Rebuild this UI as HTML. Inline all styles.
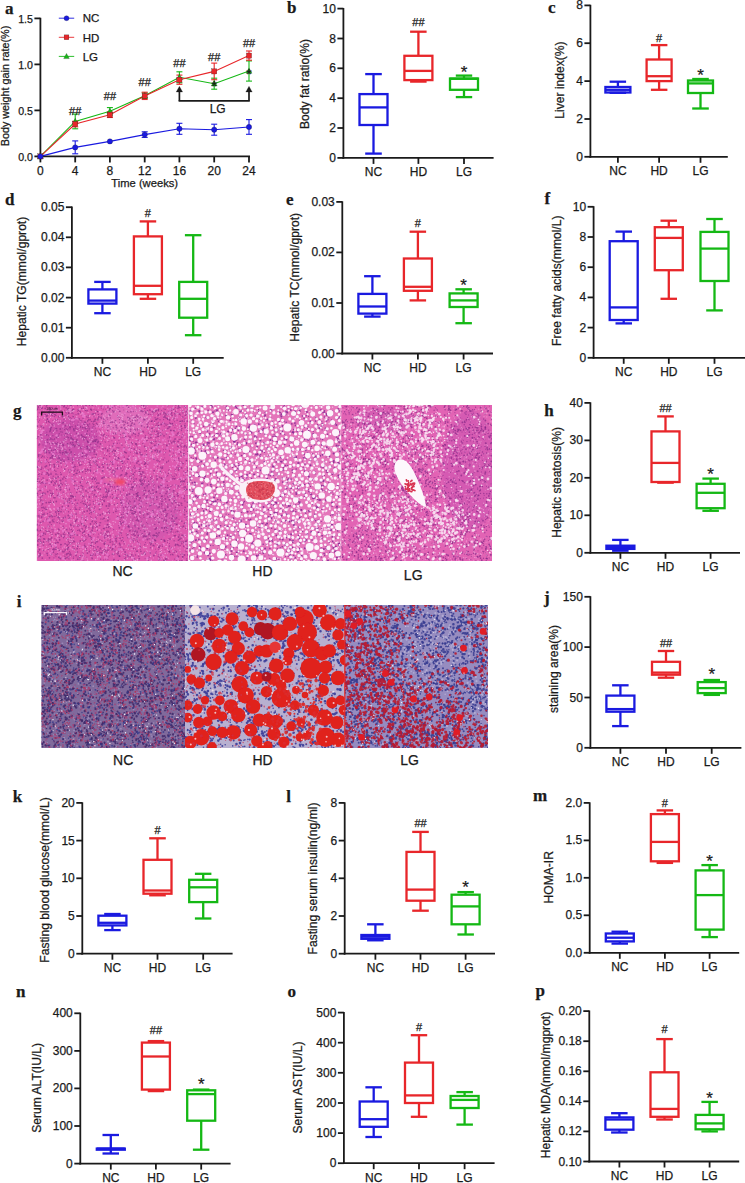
<!DOCTYPE html>
<html><head><meta charset="utf-8"><style>
html,body{margin:0;padding:0;background:#fff;width:745px;height:1183px;overflow:hidden}
svg{display:block}
</style></head><body><svg width="745" height="1183" viewBox="0 0 745 1183"><defs><filter id="soft" x="0" y="0" width="100%" height="100%"><feGaussianBlur stdDeviation="0.55"/></filter><filter id="soft2" x="-5%" y="-5%" width="110%" height="110%"><feGaussianBlur stdDeviation="1.6"/></filter><clipPath id="cgn"><rect x="36.6" y="405.0" width="151.9" height="156.0"/></clipPath><clipPath id="cgh"><rect x="188.5" y="405.0" width="152.5" height="156.0"/></clipPath><clipPath id="cgl"><rect x="341.0" y="405.0" width="151.0" height="156.0"/></clipPath><clipPath id="cin"><rect x="41.2" y="605.0" width="143.8" height="143.0"/></clipPath><clipPath id="cih"><rect x="185.0" y="605.0" width="159.7" height="143.0"/></clipPath><clipPath id="cil"><rect x="344.7" y="605.0" width="143.3" height="143.0"/></clipPath></defs><g clip-path="url(#cgn)" filter="url(#soft)"><rect x="36.6" y="405.0" width="151.9" height="156.0" fill="#de58ae"/><g filter="url(#soft2)"><ellipse cx="70" cy="440" rx="30" ry="22" fill="#b848a8" fill-opacity="0.45"/><ellipse cx="125" cy="420" rx="25" ry="14" fill="#e290d0" fill-opacity="0.35"/><ellipse cx="150" cy="510" rx="30" ry="30" fill="#c452b0" fill-opacity="0.35"/></g><path fill="none" stroke="#822a84" stroke-width="1" stroke-linecap="round" stroke-opacity="0.6" d="M175.8 405.4h0m-0.2 2h0m-1.9 -1.8h0m-16.2 0.2h0m-13.9 0.4h0m-10.8 1.1h0m-13.6 0.1h0m-3.5 0.4h0m-19.7 -1.4h0m-13.2 -0.3h0m-15.3 -0.2h0m-5 -0.7h0m-0.8 -0.1h0m-1 2.1h0m-3.8 -0.2h0m-1.6 0.6h0m-9.2 -1.2h0m-1.5 -1.4h0m-6.4 1.5h0m-1.3 3.8h0m2.2 2.4h0m0.9 -3.4h0m2.4 4.4h0m7.1 0.2h0m4.3 -2h0m2.5 1.2h0m8.4 -2.8h0m1.4 2.3h0m2.6 0.1h0m0.1 0.4h0m4.5 0.8h0m4.4 -2.5h0m7.4 -0.7h0m2.3 -0.1h0m3.2 -1.1h0m3.4 -0.2h0m3.3 2.2h0m5.9 -1.8h0m2.1 -0.4h0m12.9 0.5h0m5.6 0.2h0m5.1 2.4h0m4 -2.4h0m2.7 1.5h0m9.9 0.5h0m7.6 -0.7h0m0.5 2.5h0m2.5 -3.8h0m1.4 3.2h0m0.7 -2.7h0m0.3 0.4h0m3.2 -0.4h0m2.2 -1.7h0m6.9 5.1h0m0.5 0h0m0.3 -5h0m3.8 4.3h0m1.7 0h0m0.9 -0.1h0m4.2 -0.9h0m3 6.7h0m-1 0.2h0m-3.8 -3.9h0m-5.8 3.5h0m-0.9 1.2h0m-15.1 -5.4h0m-2.6 5.2h0m-4.6 -1.6h0m-0.7 -3.6h0m-3.1 4.4h0m-2.9 0.7h0m-0.1 -4.9h0m-7.3 4.3h0m-1.2 -2.4h0m-1.9 0.5h0m-2.2 -1.7h0m-3.2 4.3h0m-4.1 -4.8h0m-14.7 0.3h0m-2.3 4.2h0m-3.9 -0.9h0m-2.5 -4h0m-0.1 1.8h0m-6.1 2.9h0m-0.3 -3.3h0m-0.9 0.9h0m-5.4 2.4h0m-1.6 -1.5h0m-8.1 0.6h0m-2 -0.2h0m-0.8 -3.6h0m-1.8 0.6h0m-3.8 2.6h0m-12.1 -1.5h0m-0.8 3.2h0m-4.7 -3.4h0m-6.7 -0.5h0m-2.3 3h0m-6.1 -1.8h0m-0.8 2.9h0m1.5 2.4h0m1.1 -1.7h0m0.7 5.1h0m3.1 -1h0m6.3 -1.9h0m1.1 0.4h0m1.2 1.1h0m0.9 -3.4h0m0.5 3.4h0m6.3 -1.8h0m2.5 1.1h0m6.7 1.9h0m2.1 -3.8h0m1.9 0.7h0m1.8 -1.3h0m3.6 1.2h0m2.1 -1.4h0m1.4 0.1h0m0.9 3.4h0m1.3 0.1h0m8.5 -0.5h0m3.2 2.1h0m1.4 -5.4h0m6.8 1.6h0m1.9 -1.1h0m19.8 0.2h0m3.5 -0.7h0m3.3 2.1h0m6.3 0.7h0m3 0.6h0m1.1 -1.3h0m0.6 -1.5h0m4.2 3h0m1.6 -2.7h0m3.4 -0.5h0m0.6 4.1h0m1.3 -3.3h0m2.5 2.2h0m0.1 1h0m0.1 -1.5h0m12.3 -1h0m3.7 3.2h0m1.3 -3.8h0m1.1 3.2h0m4.5 -3.2h0m1.5 4.2h0m3.6 -0.7h0m0 -1.7h0m2.9 5h0m-5.9 0h0m-1.1 -2.3h0m-6.1 1.4h0m-1.6 3h0m-3 -0.3h0m-6.1 -3.9h0m-10.2 1.8h0m-4.9 -1h0m-2.4 4.3h0m-9.4 -0.9h0m-2.2 -0.1h0m-3.1 -3.2h0m-11.3 0.3h0m-3 0.6h0m-1.4 0.8h0m-5.5 0.6h0m-14.3 1.5h0m-1 -2.9h0m-2.9 -1.1h0m-0.5 1.2h0m-0.4 2.9h0m-2.6 -1.1h0m-0.1 -3h0m-0.6 -0.8h0m-0.7 4.3h0m-0.6 -2.1h0m-7.1 -2.3h0m-2.7 3.3h0m-2 -2.4h0m-2.8 -0.2h0m-0.7 -0.3h0m-2.4 0.6h0m-0.6 1.5h0m-4.1 -2.4h0m-0.7 1.1h0m-2.8 4.4h0m-0.9 0.1h0m-6.7 -1.1h0m-2.8 -1.4h0m-12.2 7.2h0m8.2 -4.4h0m1 2.5h0m0.8 1.1h0m3.3 -3h0m9.8 2.2h0m5.9 1.7h0m3 -1.4h0m10.8 2.6h0m8.1 -2.4h0m0.2 -1.5h0m2.2 3h0m2.8 0h0m1.6 -0.5h0m4.2 1.2h0m6.2 -1.9h0m0 1.5h0m1.6 -1.5h0m4.8 -2.9h0m0.4 3.6h0m0 -3h0m1.4 0.8h0m7.2 3h0m6.3 -4.1h0m5.2 -0.2h0m2 3.7h0m8.2 -4.4h0m1.7 3.1h0m2.5 2h0m9.6 -3.6h0m5.2 0.5h0m12.9 0.8h0m3.7 0.4h0m1.9 1.8h0m5.6 3.3h0m-12.7 -0.6h0m-6.3 -1.9h0m-7.8 4.1h0m-3.3 -1.1h0m-0.9 0.8h0m-0.3 -2h0m-0.2 1.4h0m-2.4 1.9h0m-1.9 -1.7h0m-0.1 0.5h0m-14.8 1.7h0m-1.2 -0.9h0m-9.7 -2.1h0m-5.5 2.4h0m-0.9 -2.6h0m-7 0.2h0m-3.1 0.9h0m-3.2 0.6h0m-0.7 -0.4h0m-2.4 -0.7h0m-12.8 -2.5h0m-3 1.2h0m-1.1 1.7h0m-1.7 -1.2h0m-0.5 -1.7h0m-6.5 4.4h0m-0.1 -1.5h0m-7.8 -1.6h0m-5.6 1.4h0m-1.2 0.9h0m-4.7 0.3h0m-2.9 -3.8h0m-0.1 0.7h0m-4.9 4.4h0m-0.5 -5h0m-3 3.4h0m-1.2 0h0m-6 4.8h0m4.1 -2h0m2.8 3.8h0m0 -2.7h0m12 1.2h0m1.4 0.3h0m8.8 -2.9h0m3.6 0h0m0.8 0.9h0m1.9 -0.5h0m1.2 0.2h0m0.9 0.9h0m2.1 -1h0m4.2 0.6h0m2 2.2h0m4.3 1.5h0m2.9 -1.4h0m0.7 -0.1h0m3.4 -3.5h0m1.7 1.7h0m4.5 -0.4h0m7.1 -0.5h0m10.6 2.6h0m2.3 1.4h0m13.5 -5.1h0m1 1.5h0m11 1.9h0m3.6 0.9h0m5.3 0.9h0m6.8 0.2h0m0.5 -5h0m1.5 4.7h0m1 -0.5h0m0.3 -3.7h0m17.5 6h0m-0.2 -1.1h0m-0.1 3.6h0m-6.5 -3.6h0m-2.3 5.6h0m-2.5 0.3h0m-7.1 -3.3h0m-1.5 2.2h0m-2.8 -2.7h0m-26 1h0m-0.5 -0.7h0m-4.2 -0.1h0m-11.5 -1.2h0m-3.7 -0.6h0m-0.1 0.6h0m-5.6 2.5h0m-3.1 1.9h0m-1.9 -0.3h0m-1.6 -2.3h0m-2.2 -1.9h0m-4.5 4.2h0m-13.5 -1.2h0m-1.6 1.7h0m-2.3 -1.3h0m-0.6 1.1h0m-7.4 -2.4h0m-3.7 0.3h0m-2.5 0.3h0m-0.7 -1.4h0m-0.9 0.1h0m-0.6 2.2h0m-5.7 -1.9h0m-3.1 2.5h0m-0.3 -2h0m-1.4 1.4h0m-7.4 -1.7h0m-0.5 -1h0m-5.7 8.1h0m0.3 -1.6h0m0.1 3h0m0.5 -1.5h0m7.1 -3.5h0m1.3 1.2h0m3.2 -0.1h0m1 -1.5h0m1.9 3.2h0m1.6 -0.3h0m4.2 -0.2h0m2.5 0.5h0m0.6 -0.1h0m4.7 -1.7h0m1.4 0.1h0m4.1 0.3h0m6.2 2h0m1 1.4h0m5.4 -0.1h0m0.4 -2.8h0m0.5 -2.1h0m7.4 1.6h0m0.3 3.4h0m1.4 -3.9h0m5.7 0.3h0m4.5 0.7h0m4.8 3.2h0m1.4 0.2h0m4 -4.9h0m0.5 -0.3h0m1.6 3.9h0m0.5 -2.9h0m5.6 -0.3h0m0.3 4.7h0m0.2 -4.8h0m3 4.8h0m0.6 -2.5h0m5 -2.9h0m1.7 4.1h0m2.4 0.8h0m6.8 0.1h0m0.3 -1.9h0m3 1.7h0m2 -5.3h0m1.6 2.2h0m5.4 2.4h0m0.8 -1.4h0m4.8 0.6h0m2.8 -1.9h0m3.7 3.5h0m0.2 -1h0m3.8 -4.2h0m7.4 5h0m1.8 0.7h0m4.4 -1.4h0m-8.3 6.8h0m-0.5 -2.2h0m-31.7 -1.5h0m-12.3 4h0m-0.5 -5.6h0m-2.3 1h0m-4.7 0.8h0m-1.5 3.1h0m-1.9 -0.1h0m-2.3 1h0m-0.2 -2.4h0m-0.9 2.2h0m-23.2 -3.4h0m-4.7 1.4h0m-0.9 -1.6h0m-6.1 -1.5h0m-4.2 1.9h0m-2.7 2.2h0m-2.3 -2h0m-2.1 -0.1h0m-0.2 -1.4h0m-11 4h0m-2.8 -0.7h0m-0.4 -1.4h0m-0.1 1.3h0m-6.3 -1.4h0m-12.6 8.8h0m2.8 -1.4h0m0.9 -3.7h0m7.9 4.4h0m6.9 -4.5h0m2.5 4h0m7.7 -0.6h0m8 1.6h0m1 -4.3h0m1.1 0.7h0m6.9 1.2h0m0.2 2.3h0m26 -5.3h0m6 0.2h0m6.6 0.8h0m7.4 4.1h0m0.7 -4.3h0m0.4 1h0m8.8 2.3h0m2.7 -0.3h0m1.1 1.2h0m8.7 0.1h0m3.5 -4.5h0m8.5 3.5h0m2.9 -1.4h0m0.5 -1.3h0m5.9 4.1h0m8.7 -2.4h0m1.5 2.1h0m3.2 2.9h0m-0.4 -1h0m-2.1 3.1h0m-5.8 0.2h0m-3.6 -3.3h0m-0.4 -0.6h0m-0.4 3.6h0m-1.7 0.6h0m-2.4 -3.5h0m-5.4 1.4h0m-0.4 3.1h0m-2.4 -2.2h0m-0.6 1.7h0m-3.1 -2.3h0m-2.3 1.5h0m-0.1 0.8h0m-0.4 -2.6h0m-0.3 2h0m-0.6 -2.6h0m-5.5 3.5h0m-3.4 -1.3h0m-1.9 -1.7h0m-1.1 -1.3h0m-2.2 -0.3h0m-0.2 3.6h0m-2.4 -2.9h0m-5.3 2.9h0m-0.7 -1.2h0m-0.2 -2.9h0m-5 4.5h0m-1 -2h0m-0.8 -1.9h0m-1.6 1.1h0m-2.6 -1.3h0m-7.1 2.7h0m-0.8 -2.5h0m-18 4.1h0m-6.2 -1.1h0m-5.4 1h0m-3.5 -2.4h0m-5.2 -0.9h0m-9.2 0.6h0m-8.9 -1.6h0m-7.5 2h0m-8.6 2.8h0m-4.4 1.7h0m1.2 -0.4h0m11.1 3.3h0m3 -3.7h0m0.5 1h0m4.6 2.5h0m1.4 0.8h0m0.6 -3.5h0m1.6 3.6h0m1.9 -1.9h0m4.7 1.2h0m10.7 1.1h0m2 -2.3h0m5.9 0.3h0m6.2 -2h0m2.9 0.1h0m2.1 4.3h0m7.7 -2.2h0m2.9 0.6h0m2.3 -3.6h0m0.6 4.3h0m3 -4.2h0m16.4 0.8h0m4.1 -0.6h0m9.9 -0.5h0m4.1 1.6h0m5 3.8h0m1 -0.9h0m7.4 0.2h0m0.5 0.5h0m10 -0.3h0m9.1 -0.5h0m1.6 -0.7h0m0.4 -2.6h0m1.1 -1.1h0m2.6 3.8h0m0.4 0.2h0m-3.8 2.7h0m-0.9 0.8h0m-8.2 3.2h0m-5.7 -1.4h0m-19.8 0.8h0m-2.2 -2.5h0m-1.2 -1.8h0m-6.6 0.8h0m-6.6 3.2h0m-0.7 -2.3h0m0 1.9h0m-6.5 -2.1h0m-2.4 1.3h0m-7.9 2.7h0m-1.2 -3.5h0m-1.6 -0.9h0m-0.3 -0.7h0m-0.6 4.3h0m-1.8 -0.8h0m-3.6 1.1h0m-7.3 0.8h0m-4 -0.8h0m-1.7 -0.7h0m-1 -3.8h0m-3.5 1.1h0m-5.4 1.4h0m-0.3 1.1h0m-3.3 1.4h0m-10.5 -2.9h0m-2.2 1.4h0m-6.7 0.4h0m-1.1 -3.1h0m-0.4 2.7h0m-7.7 0.9h0m-8.7 -1.2h0m-3.9 1.1h0m3.7 2.3h0m3.4 0h0m0.1 1.1h0m3.7 0.9h0m1.5 1.2h0m1.4 -2.3h0m8.9 0.6h0m5.9 -0.7h0m15.7 -0.4h0m8.4 0.2h0m1.5 -0.5h0m0.6 3.6h0m0.5 -1.6h0m4.9 -3.1h0m1.6 3.3h0m3 -0.7h0m3.4 -0.1h0m5.7 -0.4h0m1.7 2.4h0m3.7 -0.9h0m0.4 -1.1h0m2.3 -1.8h0m0.4 2.6h0m1 -0.9h0m1.8 1.6h0m2.6 1.7h0m6.1 -2h0m1.7 1.9h0m1.6 -3.9h0m1.9 2.1h0m5.4 -0.5h0m1.3 -1.8h0m3 1.5h0m3.7 -1.5h0m1.3 3.2h0m9.6 -4.7h0m2.4 3.7h0m8.1 1h0m1.3 0.1h0m3.2 -2.4h0m0.9 1.9h0m3.7 1.3h0m2.9 -1.8h0m2.9 5.9h0m-7.2 0.9h0m-1.2 -0.4h0m-4.6 -1.8h0m-0.3 1.2h0m-4.8 -1.5h0m-1.2 3.3h0m-2.1 -2.1h0m-8.7 -2.3h0m-0.5 0.4h0m-3.2 1.3h0m-1.7 1.8h0m-5.8 -3.9h0m-4.4 2.1h0m-9.6 -2.4h0m-2.6 2.3h0m-1.3 1.9h0m-0.8 -3.7h0m-0.8 2.1h0m-2.7 2.3h0m-1 -3.3h0m-0.8 -0.2h0m-1.2 3h0m-0.2 -3.6h0m-0.1 1.2h0m-9.7 0.1h0m-6 -0.6h0m-6.2 -1.8h0m-8.5 4.9h0m-2.5 -0.6h0m-0.6 -3h0m-4.9 3.7h0m-3.9 -3h0m-1.8 0.1h0m-22.8 1.7h0m-3.3 -1.5h0m-5.2 -0.5h0m-5 1.5h0m-3 1.7h0m8.3 5.7h0m0.6 0.7h0m2.8 -2.3h0m8 1.5h0m2.8 -1.1h0m0.2 0.5h0m10.6 1.3h0m4.2 -5.2h0m0.4 5h0m0.9 -3.7h0m0 3.2h0m1.8 -3.6h0m24.3 -0.1h0m0.5 -0.9h0m0 0.5h0m0 -0.6h0m7.7 0.7h0m5.1 3.3h0m1.9 -0.5h0m10 1.7h0m1.3 -2.7h0m0.4 -2.3h0m1.8 3.6h0m9.6 0h0m7.1 1.6h0m3.3 -5.2h0m10.8 2.5h0m0.5 1.7h0m0.1 -2.9h0m2.8 3.8h0m2.8 -4.6h0m0.2 1.3h0m0.1 -1.8h0m3 1.7h0m2 -1.9h0m5.2 0.7h0m0.5 0.5h0m6 1.8h0m2.9 -0.9h0m0.5 6.9h0m-13.9 -1.1h0m-2.9 2.7h0m-2.5 -4.6h0m-7.3 4.3h0m-12.5 -1.5h0m-0.6 1.3h0m-8.1 -1h0m-5 -1h0m-8.1 -1h0m-3.4 -1.2h0m-0.5 4.3h0m-0.1 -1.8h0m-5.3 -1.5h0m-19.8 2.8h0m-3.3 -1.1h0m-3.2 0h0m-0.4 1.4h0m-8.4 1.5h0m-0.1 -2.6h0m-17.6 2.9h0m-1.3 -4h0m-7.4 1.7h0m-4.9 1.9h0m-1.6 -0.5h0m-4.1 -4.8h0m-6.5 0.3h0m-1.5 10.7h0m1.5 -4h0m2 0.8h0m2.2 -1.4h0m5 5h0m2.1 -5.3h0m1.6 5.6h0m0.8 -2.5h0m1.2 -0.3h0m5.3 0.7h0m1.7 0.4h0m1.7 -1.1h0m0.5 1.9h0m12.2 0h0m0.5 -4.3h0m6.3 0h0m0 2h0m1.5 0.1h0m6.6 -2h0m1.3 0.9h0m3 3.7h0m1 -4.3h0m0.6 4.5h0m8.7 -0.5h0m1.9 -0.1h0m2.9 -1.9h0m10.1 -1.8h0m0.2 -0.8h0m0 2.9h0m1.6 0.8h0m8.7 -3.4h0m1.9 3.4h0m0.6 -1.2h0m1.2 -1.6h0m3 3.4h0m0.2 -2h0m1.4 2.5h0m0.8 -5h0m1.2 1.2h0m1.2 1.4h0m4.4 -1.7h0m1.7 -1h0m5.5 -0.2h0m1.9 0.6h0m3.2 3.2h0m5.7 -0.7h0m1.5 0.6h0m0.6 -0.9h0m3.2 -0.7h0m6.1 1.2h0m3.2 0.1h0m5.9 -1.8h0m3 1.6h0m-3.2 3.7h0m-0.7 0.7h0m-1.8 4h0m-0.6 -1h0m-3.7 -3.5h0m-28.4 2.5h0m-1.1 -1.3h0m-0.8 -0.5h0m-1.1 -1.2h0m-4 4.1h0m-2.2 -2h0m-7.9 3.2h0m-3.4 -1.8h0m-0.9 0.9h0m-2.8 -4h0m-3.2 2.9h0m-3.7 -0.2h0m-19 -3h0m-3.9 4.7h0m-15.1 -5.3h0m-4.3 3.6h0m-3.8 -2.7h0m-22.8 3.2h0m-1.4 -1.2h0m-8.8 0.3h0m-2.4 0h0m3.5 5.3h0m0.1 -0.1h0m0.5 -1h0m2.9 3.6h0m1.7 -2.4h0m0.1 -2.4h0m3.3 0.1h0m1.4 4.1h0m1.2 -4h0m1.8 1.4h0m4.8 -1.5h0m0.8 2.4h0m0.7 -1.1h0m7.4 1.3h0m2.6 -2.2h0m0.3 1.2h0m1.9 3.2h0m1.4 0.3h0m1.3 -1h0m4.4 -2.8h0m1.3 1.8h0m3.2 0.8h0m2.3 -3.1h0m6.7 2.1h0m2.6 0.6h0m6.6 -1.9h0m3.9 3.5h0m1.5 -3.2h0m0.4 1.9h0m1.7 0.5h0m1 -4h0m15.9 5.1h0m3.1 -2.6h0m0.5 -0.4h0m3.1 0.4h0m0.2 -1.1h0m3.8 3.8h0m0.2 -3h0m3.7 -0.3h0m23.1 1.3h0m10 0.2h0m1.6 0h0m10.3 3.5h0m-11.7 0h0m-3.3 3.8h0m-1.8 -0.9h0m-5.6 -1.6h0m-6.7 0.5h0m-0.2 -1.6h0m-1.3 3.9h0m-2.7 -1.6h0m-1.8 -2.2h0m0 1.3h0m-0.9 -2.5h0m-3.4 1.5h0m-1.8 -1h0m-9.1 0.3h0m-2.2 3.5h0m-1.9 -4.6h0m-0.1 4.9h0m-9.5 -4h0m-2.4 -0.2h0m-2.2 0.9h0m-0.2 1h0m-1.4 -0.8h0m-4.9 0.7h0m0 -1.3h0m-1.2 0h0m-2.1 0.3h0m-3.4 -0.4h0m-5.5 -1.4h0m-5 0.2h0m-4.8 0.5h0m-1.6 3.1h0m-1.2 -1.3h0m-3.4 -1h0m-9.6 0h0m-2.5 1.9h0m-9.9 -2.6h0m-17.4 -0.3h0m-0.4 -0.5h0m-2.8 5.5h0m-1.8 -5.1h0m-0.7 1h0m2.4 5.7h0m8.5 3.8h0m12.7 -0.8h0m0.2 0.4h0m4.1 -0.6h0m1.3 0.8h0m0.8 1h0m1.6 -4.7h0m2.1 -0.7h0m1.1 2.6h0m0.8 -0.5h0m12 1.3h0m0.5 -3.4h0m8.5 1.9h0m7.8 -1.8h0m0.8 0.5h0m10.1 4.1h0m0.2 -1.2h0m0.3 0.6h0m1.4 0.2h0m5.2 -1.7h0m2.9 -2.9h0m11.2 2h0m1.9 -1.9h0m4.1 4.5h0m0.1 -4.6h0m0.6 4.1h0m4.9 -1.6h0m6.8 -0.1h0m3.2 -1.8h0m0.1 3h0m3 2.2h0m3.6 -1.3h0m3.4 -3.4h0m2 1.3h0m2 1h0m7.3 0.8h0m1.4 0.8h0m2.1 0.4h0m2.5 -4.1h0m2.7 1.4h0m2.7 2h0m-1.1 3.7h0m-1 3.1h0m-0.1 -0.5h0m-1.9 -4.3h0m-0.5 -0.8h0m-0.2 0.3h0m-8.2 4.3h0m-1.6 0.8h0m-1.9 -4h0m-2.6 -0.6h0m-0.6 2.3h0m-3.4 0.5h0m-4.7 1.8h0m-2.1 -1.9h0m-2.1 2.2h0m-0.6 -2.5h0m-14.9 -1.6h0m-0.2 2h0m-4.2 1.7h0m-2.4 -4.4h0m-0.1 2.1h0m-5.6 -3h0m-7.9 2.8h0m-7.4 -0.3h0m-2.6 0.5h0m-1.4 0.6h0m-3.5 -1.4h0m-0.4 2.9h0m-2.2 -0.9h0m-0.6 0.1h0m-1.3 -0.9h0m-3.2 2.4h0m-0.4 -0.1h0m-1.9 -3.7h0m-2.2 0.4h0m-3.3 1.7h0m-10.3 -2.1h0m-1.7 -1.7h0m-17.1 0.9h0m-1.2 3.1h0m-0.9 -2.1h0m-4.7 2.6h0m-0.3 -2.5h0m-3.8 0.6h0m-6.6 1.3h0m-4.2 -0.1h0m0.6 5.8h0m14.2 1.8h0m1.2 -1.9h0m0 -2h0m0.9 2.9h0m8.9 -1.6h0m6.2 1h0m2.6 0.7h0m3.4 0.3h0m2.8 0.1h0m0.6 -1.4h0m1.7 -3.6h0m2.3 4.4h0m2.4 0.7h0m4.9 0h0m5 -4.4h0m0.6 0.9h0m2.8 1.1h0m8.2 1.9h0m0.8 -1.4h0m3.6 -1.1h0m3.4 -0.7h0m2 2h0m1.1 0.4h0m6.1 1.3h0m20 -3.9h0m14.1 4h0m3.9 -2.8h0m3.1 2.1h0m5.5 -2.6h0m1.1 1h0m4.3 0.2h0m0.8 0.8h0m2.2 -1.9h0m2 3.9h0m-5.7 0.5h0m-10.5 -0.6h0m-17.6 0.6h0m-0.1 2.2h0m-0.6 -0.2h0m-2.8 -2h0m-10.3 0.1h0m-8.9 -0.7h0m-11.4 1.3h0m-0.7 1.3h0m-5.9 -1.1h0m-2.4 -0.3h0m-2 0.7h0m-21.6 0.2h0m-13.9 -2.1h0m-2.5 0.2h0m-11.3 0.7h0"/><path fill="none" stroke="#822a84" stroke-width="1.4" stroke-linecap="round" stroke-opacity="0.6" d="M184.6 406.5h0m-5.9 1.4h0m-11 -1.9h0m-26.2 -0.4h0m-12.9 1.9h0m-5.3 -0.1h0m-8.5 -1.5h0m-3.8 1.9h0m-7.5 0h0m-20 -0.7h0m-3.9 -1.8h0m-2.1 0.3h0m-6.1 -0.4h0m-6.9 0.5h0m-0.2 -0.7h0m-23.9 0.6h0m-0.4 -0.2h0m8.6 6.3h0m3.9 -3.6h0m4 0h0m4.6 2.4h0m7.2 0.2h0m2 0.3h0m0.4 0.8h0m0.3 -1.5h0m1.3 -0.7h0m9.3 -1.1h0m1.7 -0.1h0m2.4 2h0m0.1 -2.4h0m1 2.9h0m4.1 -1.9h0m4.3 4.5h0m0.9 -3.4h0m5.4 -2h0m8.4 0h0m2.7 2.5h0m14.8 1.2h0m5.9 -0.2h0m3.2 -3.2h0m3.6 2.4h0m2.2 0.9h0m5.4 -0.9h0m12.4 3h0m3.6 0.1h0m1.5 -4.5h0m3 3.5h0m0.2 -1.2h0m5.4 -2.7h0m1.7 2.3h0m7.5 1.7h0m-8.1 2.9h0m-7.3 3.3h0m-2.6 -3.7h0m-1.4 4.1h0m-3.2 -5.5h0m-0.4 5.6h0m-4.9 -1.9h0m-2.7 -2.6h0m-5.9 2.9h0m-2.6 0.9h0m-0.1 0.5h0m-4.2 -0.2h0m-1.7 -0.2h0m-2.5 -1.6h0m-3.7 0.9h0m-0.4 -0.1h0m-11.3 -0.4h0m-0.5 1.7h0m-1.8 -3.5h0m-7.3 1.8h0m-3.4 -0.1h0m-3.1 1.7h0m-2.3 -1.6h0m-0.1 0.6h0m-0.7 -1h0m-2.5 -3.1h0m-9.6 5.5h0m-0.6 -4.6h0m0 2h0m-1.5 -1.3h0m-3.6 2.4h0m-0.9 -3.3h0m-2.8 3.9h0m-4.3 -0.5h0m-3.5 0.4h0m-2.3 -0.5h0m-0.2 -1.1h0m-0.5 -1.1h0m-3.3 -1.1h0m-1.1 4.3h0m-0.7 -4.2h0m-0.3 1.7h0m-4.2 0.1h0m-3 -1.5h0m-1.5 1.1h0m-7.2 2.6h0m-1.6 -4.6h0m-1.1 -0.2h0m1.7 6.4h0m0.2 1.4h0m2.3 -0.5h0m4.2 3.3h0m10 0.7h0m6.9 -1.8h0m5.6 2h0m2.3 -0.7h0m6.5 -0.9h0m1.5 -1.5h0m3 -2.8h0m0.9 3.9h0m1.8 -2.5h0m6.1 3.2h0m10.5 0.8h0m1.2 0.5h0m4.8 -3.5h0m5.9 0.1h0m2 -1.2h0m0.3 0.7h0m0 -1.6h0m1.4 4.7h0m1 -0.4h0m0.8 -2.1h0m2.8 2.9h0m2.4 -4.1h0m1.1 1.8h0m0.5 0.2h0m0.2 -3.1h0m2.9 0.4h0m1.8 0.1h0m2.6 2h0m7.4 1.9h0m1.3 -1.9h0m2.9 -1.4h0m3.3 -0.3h0m1.3 4.5h0m2.5 -0.1h0m3.6 -1.4h0m0.9 -1.2h0m3 1h0m0.2 1.4h0m1.8 -0.9h0m2.2 -1.1h0m2.5 0.1h0m4.5 -3.2h0m3.2 2.9h0m3.9 -1.8h0m2.9 -0.3h0m1.2 5.1h0m-6.7 0.2h0m-0.1 4.3h0m-0.3 -1.6h0m-2 0.4h0m-4.3 1.3h0m-1 0h0m-4.9 -4.1h0m0 1.1h0m-6 2.5h0m-7.3 -3.3h0m-1.3 4.3h0m-7.1 -4.4h0m-2.9 0.2h0m-3.3 3.5h0m-0.8 -0.5h0m-9.7 1.2h0m-0.3 -5.2h0m-17.1 1.8h0m-2.9 0h0m-2.7 -0.3h0m-5 -0.7h0m-4.4 -0.6h0m-4.3 0.1h0m-4.7 2.5h0m-1.8 2.4h0m-2.6 -3.5h0m-6 -1.3h0m-3 2.1h0m-2.1 0.6h0m-3.5 -0.2h0m-2.8 0.9h0m-1.3 -1.1h0m-1.6 0.9h0m-1.9 -1.1h0m-5.7 2.2h0m-1.6 -1.7h0m-5.4 2.5h0m-0.1 0.2h0m-7.8 -5.5h0m-4.3 10.7h0m15.2 -1.1h0m6.3 -2.1h0m3.1 -1.6h0m1.9 3.4h0m2.4 1.6h0m0.9 -3.2h0m0.5 -1.3h0m1.7 0.9h0m6.1 3h0m0.6 -3.2h0m2.5 2.5h0m4.8 0.8h0m17.8 -1.6h0m4.5 2h0m0.1 0h0m7.7 0.6h0m6.5 -3h0m0.7 3h0m3.1 -4.3h0m0.1 4.1h0m4.5 -1.3h0m3.4 -1.1h0m6 0.7h0m10.3 -2.6h0m1.8 1.7h0m5.7 2.5h0m0 -3.3h0m2.3 -1.8h0m0.4 4h0m1.6 -4h0m1.4 1.5h0m4.7 0.3h0m3.1 2.7h0m0.2 1.2h0m7.2 -2.7h0m2.1 -2.7h0m3.3 4.4h0m0.5 -2.7h0m0.7 1.4h0m-1.5 7.4h0m-1.1 -3.7h0m-1.5 0.1h0m-4.1 3.7h0m-4.5 -2h0m-2.3 -0.1h0m-9.6 -0.2h0m-5 0.8h0m-3.5 0.4h0m-1.4 -3.6h0m-5.3 0.7h0m-0.8 4.7h0m-4.6 -3.6h0m-9.2 -0.5h0m-3.3 -1.4h0m0 3.8h0m-8.4 1.1h0m-13.9 -4.3h0m-7.9 2.5h0m-1.6 -0.2h0m-5.6 1.6h0m-0.3 -0.3h0m-0.6 -1.5h0m-3.5 -1.8h0m-6.1 4.6h0m-6.1 -4.3h0m-1.1 -0.6h0m-5.5 0.9h0m-0.7 -0.8h0m-4.1 4.6h0m-7.3 -3.8h0m-1.3 -0.8h0m-1.5 -0.9h0m-2.5 4.4h0m-10.8 -3.9h0m13.3 9.1h0m6.9 -1.6h0m1.9 -0.3h0m11.4 1.5h0m2.8 -2h0m5.1 -1.3h0m8.6 2.5h0m3.7 -1.9h0m8.7 2.3h0m8.4 2.9h0m1.5 -1.6h0m3.1 0.9h0m4.8 -1.4h0m1.4 0.3h0m3.5 -2.8h0m6.1 0.2h0m0.8 -0.2h0m2.7 3.4h0m0.6 -4.6h0m5 3.9h0m13.7 0.1h0m1.4 -1.1h0m3.7 -1.2h0m3.5 -1.6h0m8.3 4.3h0m1.3 -4.4h0m8.3 2.2h0m3.8 0.5h0m5 0h0m0.6 1.1h0m-7.8 6.2h0m-5.5 -3.8h0m-0.2 2.9h0m-3.8 2.1h0m-14.5 -4.3h0m-1.4 3.7h0m-7.2 -3.9h0m-1.6 0.4h0m-7.7 2.6h0m-0.9 -2.7h0m-7.8 -1h0m-3 2.5h0m-2.2 2.7h0m-8.3 0.3h0m-4.8 -4.6h0m-14.3 5h0m-1.7 -1.7h0m-7.2 0.3h0m-1.1 1.3h0m-1.5 -0.3h0m-9.7 -1.3h0m-3.4 0.4h0m-2.3 -1h0m-2.2 -1.3h0m-6.2 0.6h0m-0.7 -0.6h0m-1.7 3.4h0m-2 -0.1h0m-3.5 -0.1h0m-6.1 -2.7h0m-0.5 -1.6h0m-1.4 -1.1h0m-6 6.4h0m2.9 0.9h0m2.7 -0.4h0m2.4 2.7h0m0.3 1.6h0m2.7 -1.8h0m0.9 2.4h0m1.6 -3.4h0m2.9 -1.8h0m3 2h0m3.7 2.4h0m11.4 -2.9h0m6.2 1.7h0m0.2 -3.2h0m0 -0.1h0m3.6 4.5h0m5.2 -1.5h0m2 0.9h0m1.9 -2.8h0m4.6 3.9h0m9.9 -2.3h0m3 -2.9h0m5.7 2.8h0m3.7 -0.4h0m1.2 2.2h0m1.5 0.4h0m0.8 -1.2h0m6.2 -4.1h0m6 3.3h0m5.3 2h0m5.6 0.1h0m8.5 -3h0m5.5 3.3h0m3.6 -2.1h0m3.6 2.1h0m7.9 -1.6h0m4.2 -0.3h0m2.5 5.4h0m-2.5 0.3h0m-2.6 2.1h0m-9.9 -5.2h0m-5.8 4.7h0m-2.9 -1h0m-9.1 -3.3h0m-0.9 1.2h0m-1.9 -0.8h0m-0.3 3.4h0m-0.3 -4.3h0m-1.1 1.9h0m-2.3 -1.3h0m-2.7 1.7h0m-4.7 1.3h0m-16.8 -0.8h0m-8 -0.5h0m-5.4 -1.2h0m-6.2 3.3h0m-2.3 -3.3h0m-0.7 -0.5h0m-4.5 4.6h0m-8.8 -2.9h0m-7.6 1.3h0m-1.5 -3.2h0m-6.9 0.7h0m-7.1 -1.4h0m-1.8 0h0m-8.2 0.5h0m-6.9 4.6h0m-3.2 3.1h0m8.2 0h0m1.5 -0.3h0m2 -1.1h0m4.2 1.3h0m1.4 1.1h0m12.9 -1.4h0m0.8 2.3h0m5.4 -3.1h0m0.3 0h0m6.3 1.1h0m4.5 1.2h0m1.9 -1.3h0m2.4 1.2h0m3.2 1.8h0m2.4 -1.8h0m18.8 -0.6h0m1 -1.7h0m6.6 1.7h0m4.7 3h0m4.7 -2.4h0m2.9 1.1h0m1.2 -1.5h0m4.1 0.8h0m3.1 1.3h0m17.9 -0.6h0m0 -3.6h0m7.4 4.7h0m2.1 0h0m17.1 -5.5h0m0 2.2h0m-2 9h0m-1.9 -4.1h0m-3.4 3.3h0m-6.2 -2.2h0m-1 2.1h0m-1 -1.7h0m-4.4 -0.8h0m-5.8 2.8h0m-2.9 -1.4h0m-1.8 -1.7h0m-0.4 4.3h0m-5 -3.6h0m0 2.5h0m-1.1 -1.2h0m-7.2 1.6h0m-2.7 0.2h0m-6.8 -3.5h0m-0.3 3.6h0m-1.7 -3.8h0m-6.8 -1h0m0 0.2h0m-3.3 4.4h0m-0.1 0.3h0m-1.6 -3.8h0m-4.6 0.4h0m-6.5 2h0m-0.9 -0.7h0m-12.8 0.5h0m-2 -0.5h0m-11 2.4h0m-0.7 -2.1h0m-15.9 0.7h0m-6.3 1.5h0m-3.6 -1.2h0m-2.2 0.1h0m-0.5 -2.6h0m-1.1 2.1h0m-3.1 -3.3h0m-2.9 -0.7h0m-2.6 3.8h0m-0.6 -0.1h0m-1.2 -3.7h0m-3.1 0.1h0m-1.3 7.2h0m2.3 0.1h0m1.3 2h0m0.5 -1.4h0m6.6 0.8h0m3.2 -0.6h0m3.4 0.2h0m7.7 2h0m2.8 -0.6h0m1.4 1.8h0m7.7 -0.4h0m6.6 0.1h0m0.8 -0.1h0m14.9 -5.4h0m0.1 3.1h0m0.8 -0.2h0m7.1 0.5h0m14.5 2.1h0m15.7 -1.8h0m1.8 1.9h0m4.3 -4.8h0m0.2 3.6h0m0.9 0.9h0m2.5 -4.1h0m4.2 -0.2h0m18.4 0.3h0m0.6 3.8h0m13 -3.7h0m0 3.4h0m2.5 -4h0m2.4 8.8h0m-6.2 -2.6h0m-2 1h0m-6.3 -1.7h0m-5.3 1h0m-7.1 -1.1h0m-26.2 1.8h0m-0.6 -0.7h0m-1 2.1h0m-1.8 -2.3h0m-5.3 3h0m-3.3 0.9h0m-1.4 -1.2h0m-1.2 -0.7h0m-2.3 1.6h0m-0.9 -3.9h0m-5.8 3.6h0m0 -1.6h0m-0.3 3h0m-3.2 -3.7h0m-4.9 -0.6h0m-3.6 -1h0m-1.5 4h0m-0.2 -0.2h0m-0.5 -0.7h0m-0.4 -2.7h0m-1.6 4h0m-1.2 -3.6h0m-1.7 0.6h0m-7.6 0.7h0m-3.4 -1.7h0m-0.4 1.7h0m-0.6 0.7h0m-1.4 -1.1h0m-1.4 0.3h0m-5.4 1.1h0m-2.9 -1.8h0m-5.6 1.7h0m-0.9 -0.4h0m-0.3 -3.2h0m-3.1 3.8h0m-6.8 0.4h0m-9.4 0.3h0m-1.4 0.1h0m-2.3 -1.8h0m0.9 6.3h0m2.8 -1h0m0.3 3.1h0m1.1 0h0m0.7 -1.8h0m1.2 -2.3h0m7.7 2.4h0m1.5 -2.6h0m5.2 0h0m5 -0.8h0m7.1 0.9h0m0.8 0.1h0m0.9 2.3h0m1.1 1.1h0m2.2 -0.1h0m1.4 -3.9h0m3.9 2.6h0m0.5 -3.1h0m1.6 3.9h0m3.8 -0.1h0m1.5 -3.5h0m14.8 5.1h0m0.4 0.4h0m0.4 -1.4h0m1.2 0.9h0m1.5 0.4h0m0.9 -1.3h0m0.5 -1.4h0m2.6 1.9h0m2 -2.3h0m1.8 2.8h0m19.7 -3h0m2.7 -0.8h0m0.1 2.9h0m1.4 -1.4h0m8.7 1.1h0m6.7 1.2h0m3.3 -5.4h0m3.3 1.4h0m1.5 3h0m11.5 -4.1h0m1.4 4.2h0m9.7 -0.6h0m3 -0.8h0m-2.2 5.9h0m-15.2 -1.4h0m-0.5 0.1h0m-6.3 -0.9h0m-2 0.4h0m-7.5 -0.3h0m-2.3 -0.8h0m-4.8 5.2h0m-5.4 -1.9h0m-0.6 -3.2h0m-0.9 1.8h0m-0.4 0.3h0m-2.5 -1.5h0m-6.4 2.9h0m-1.8 1.8h0m-6 -1.9h0m-4.8 1.8h0m-5 -5.1h0m-8 3.2h0m-2.4 -1.7h0m-1.6 2.4h0m-0.3 -2.9h0m-2.1 0.6h0m-2.3 0.2h0m-2.5 1.4h0m-10.6 -2.5h0m-0.5 2.3h0m-1.4 1.3h0m-11.3 0.2h0m-0.1 -2.5h0m-4 -1.3h0m-0.9 1.9h0m-1.3 -2.4h0m-23 -0.5h0m1.6 7.1h0m2.5 3.4h0m1.4 -1.4h0m16.4 2.4h0m4 0h0m9 -2.2h0m0.6 1.8h0m1 0.3h0m2.6 0.1h0m0.7 -1.8h0m4.9 -2.2h0m5.3 -0.8h0m3.5 -0.7h0m0.7 4.4h0m0.5 -1.6h0m3 -2.5h0m3.4 3.5h0m6.8 0.6h0m0.4 -2.4h0m1.1 0h0m4.8 -1.3h0m1.9 4.9h0m7.2 -1.8h0m2.2 -1.1h0m1.4 0.3h0m3.1 -1.2h0m4 0.2h0m1.9 0h0m3.7 2.5h0m10.3 -3.4h0m0.8 0.4h0m6 0.3h0m1.1 2.1h0m1.6 -3.9h0m15.8 3.3h0m3.9 -1.9h0m2.6 0h0m3.6 2.1h0m2.5 5.9h0m-1.6 -1.9h0m-2.5 0.8h0m-4.6 -1.7h0m-8.1 0.6h0m-3.5 2.4h0m-1.7 -0.5h0m-0.3 -2.6h0m-5.4 1.5h0m-2.7 3.4h0m-14 -3.2h0m-9.3 -0.8h0m-6.9 2h0m-0.2 0.4h0m-5.5 0.6h0m-8.3 -1.8h0m-6.4 -0.1h0m-9.3 3.1h0m-3 -4.5h0m-5.2 2.4h0m-7.3 1.9h0m-6.1 -1.1h0m-0.1 -1.1h0m-7.5 -1.4h0m-9.6 -0.7h0m-0.2 -0.6h0m-0.3 0.8h0m-1.9 3.9h0m-6.6 -3h0m-2.4 1.5h0m-3.4 -0.4h0m-1.5 -2.7h0m-5.6 5.3h0m9.5 3.2h0m0.8 1.5h0m4.8 -3.5h0m0.8 -0.5h0m0.5 4.8h0m1.5 -4.9h0m7.2 4.8h0m0.7 -0.1h0m19.2 -3.4h0m3.6 -1.2h0m0.1 3.4h0m1.1 -3.1h0m5.9 3.1h0m8.2 -1h0m2 0.3h0m0.8 -1h0m0.7 -0.1h0m0.5 -2.1h0m12.9 2.1h0m5.4 -1.4h0m0 0.4h0m0.6 4.7h0m12.3 -1.5h0m2.3 0.1h0m0.3 0.4h0m2.8 0.5h0m2.5 -4.2h0m10.2 0.8h0m1.3 -0.9h0m0.3 0h0m1.5 2.3h0m2.1 -1.6h0m0.1 0.1h0m2.5 0.5h0m1.5 3h0m0.5 -1.1h0m7.4 1.6h0m0.7 -0.6h0m14.9 -4.5h0m-0.8 8.3h0m-2.3 1h0m-7 -1.7h0m-2 -1.2h0m-8.4 4.6h0m-1.3 -1.4h0m-10.4 -1.9h0m-13.1 1.3h0m-6.4 0.9h0m-12.6 -4.2h0m-0.9 0.9h0m-1.1 1.6h0m-0.5 -2.1h0m-11.1 3.5h0m-0.5 1.2h0m0 -0.9h0m-0.7 -2.1h0m-7.3 -1.8h0m-4 0.7h0m-1.2 -1.3h0m-1.2 1.8h0m-5.4 3.8h0m-3.3 0h0m-1 -2.2h0m-1.8 -2h0m-5.2 2.5h0m-6.8 -1.8h0m-6.9 3.6h0m-0.6 -1.6h0m-3.5 -3.2h0m-2.6 -0.6h0m-3.1 -0.5h0m-2.6 2.6h0m-3.5 1.9h0m-5.6 1.4h0m-3.3 3h0m4.6 2.3h0m1.5 -0.1h0m7 -3.3h0m0.8 2.1h0m4.5 1.2h0m1.2 -3.7h0m5.6 2.8h0m7.2 -2.8h0m6.3 1h0m6.9 0.6h0m6.2 2.2h0m0 -1.2h0m6.8 -1.8h0m3.4 2.8h0m2.4 -4.6h0m0.9 4.1h0m2.3 -0.8h0m0.4 -0.3h0m1.6 -0.2h0m5 -1.6h0m8.2 0.3h0m8.4 0.9h0m12 3h0m1.6 -4.7h0m11.2 0.3h0m7.1 -1.1h0m1.6 3.1h0m0.7 -3.2h0m2.8 4.6h0m3.8 -2.9h0m7.5 2.2h0m7.2 -3.7h0m2.5 1.3h0m-9 5.3h0m-9.1 3.2h0m-0.1 1.2h0m-5.5 0.5h0m-0.7 0h0m-5.7 -4.7h0m-0.3 -1.2h0m-0.7 2.5h0m-2.9 -0.5h0m0 3.8h0m-5.1 -1.1h0m-2.3 -2.8h0m-3.7 1.2h0m-6 0.2h0m-2.5 -1.5h0m-1.7 -0.9h0m-1.5 2.1h0m-4.4 -1.5h0m-10 0.6h0m-2 2.8h0m-8.9 -4.1h0m-0.3 2.6h0m-5.9 2.4h0m-1.9 -2.8h0m-6.4 2.7h0m0 -2h0m-1.1 0h0m-1.5 -1.1h0m-3 2.8h0m-1.3 -4.5h0m-13.5 0.2h0m-0.6 2.2h0m-1.2 -1.3h0m0 -0.6h0m-0.2 0.4h0m-1.9 2.8h0m-2.4 -3.9h0m-1.4 3.1h0m-2 -2.7h0m-0.1 1.1h0m-2.1 1.4h0m-4.3 1.1h0m-2.9 -4.2h0m-1.1 4.1h0m-5.7 -4.4h0m-1.3 4.7h0m-0.3 0h0m0 -0.3h0m-0.8 -3.2h0m-2.2 1h0m-2.2 3h0m-0.8 1.5h0m9 0h0m1.8 0.9h0m7.9 -1.7h0m1.9 2.6h0m2.4 2.2h0m0.3 -0.1h0m4 -1h0m2.4 1.4h0m0.8 -0.9h0m0.2 -2.4h0m2.8 -1.3h0m6.4 2.3h0m1.7 0.2h0m3.6 -2.9h0m1.5 5h0m6.9 0.6h0m1.8 -5.7h0m2.3 3.3h0m9.2 0.9h0m3.3 -4.2h0m4.3 1.6h0m2.1 1.4h0m1.6 -2.7h0m5.4 0.4h0m2.3 0.8h0m0.6 2.3h0m4.5 1.4h0m4.8 -4.4h0m3.9 0.4h0m1.2 1.6h0m6.2 1.8h0m5 -1.8h0m0.1 -0.2h0m1.9 -1.2h0m2.4 4.4h0m1.6 -5.1h0m8.7 0.5h0m3.2 -0.7h0m1.8 5.3h0m4.6 -5.2h0m1.4 3.5h0m3.5 1.5h0m1.4 -3.9h0m0.7 0.2h0m0.7 1.8h0m3.8 0.4h0m0.5 -3h0m0.9 -1.1h0m-10.4 11.4h0m-5.4 -2.8h0m-1.9 2.8h0m-6.9 -5.2h0m-3.6 1.1h0m-8.4 0.4h0m-9.8 -0.3h0m-5 1.6h0m-2 -0.7h0m-2.5 -2.1h0m-2.2 3.2h0m-6.8 -1.4h0m-1.3 -0.8h0m0 1h0m-1.9 1.1h0m-0.5 1.9h0m-3.1 -4.6h0m-3.3 3.3h0m-4 0.4h0m-0.7 -1.3h0m-0.2 2h0m-0.5 -0.7h0m-0.9 0.4h0m-1.2 -1.1h0m-5.4 0.5h0m-2.4 1.6h0m-3 -5.3h0m-4.4 5.2h0m-2.9 -3.2h0m-12.4 0.4h0m-4.5 2.7h0m-0.5 -4.3h0m-4.8 4.1h0m-7.8 -2.5h0m-3.6 0.5h0m-4.6 0h0m-5 1.2h0m-5 1.1h0m9.3 3.5h0m8.6 -0.7h0m1.3 -0.8h0m1.8 4.2h0m0.9 -0.1h0m3.8 -5.7h0m1 4.5h0m2 1h0m3.1 -4h0m0.2 -0.6h0m6 -0.8h0m1.3 -0.2h0m2.7 4.3h0m2 -0.4h0m1.1 -2.2h0m10.2 0.2h0m1.7 1.4h0m0.7 -1.4h0m1.7 -0.7h0m1.6 0.7h0m0.6 -1.6h0m0.5 4.5h0m2.2 -3.5h0m2.2 1.8h0m1.6 -2.2h0m7.7 1.4h0m3.8 0h0m1.7 2h0m4.6 -0.2h0m1 -1.4h0m2.5 1.2h0m2.6 1.1h0m3.1 -0.9h0m2.2 -1.1h0m3.3 1.3h0m3 -2.1h0m1.4 -0.1h0m2.2 0.5h0m3.6 2.6h0m0.6 -5.1h0m6.1 1.2h0m2.5 3.3h0m0.6 -1.6h0m2.2 0.3h0m0.6 -0.2h0m8.1 -3.1h0m0.2 0.4h0m0.7 2.4h0m2.1 -0.3h0m1.4 -2.1h0m3 -0.3h0m5.7 4.8h0m4.8 -2h0m-0.9 4h0m-6.8 1.8h0m-3.4 0.3h0m-2 -1.9h0m-7.5 0.1h0m-1.4 0.7h0m-1.9 0.2h0m-2.5 -0.6h0m-0.7 -0.7h0m-25.6 1.1h0m-2.3 -0.2h0m-18.9 -0.2h0m-7 -1.1h0m-6.1 0.8h0m-16.8 0.7h0m-3.9 -0.8h0m-6.5 -0.9h0m-4.4 0.7h0m-3 -0.8h0m-6.8 2.6h0"/><path fill="none" stroke="#822a84" stroke-width="1.8" stroke-linecap="round" stroke-opacity="0.6" d="M185.2 407.1h0m-5.4 -0.1h0m-1.5 -1h0m-0.6 1.8h0m-31.3 -2.4h0m-2.7 0.3h0m-16.7 0h0m-14.9 1.5h0m-4.4 -0.1h0m-6.2 -0.6h0m-9.2 -1.4h0m-2.7 0.1h0m-3.6 0.1h0m-15.6 0.3h0m-4.2 2.2h0m-2.3 -1.1h0m-17.2 -1.2h0m-4.5 2.4h0m-3.9 -0.6h0m-0.1 -1.9h0m-0.6 3.7h0m3.7 -0.9h0m3.9 0.2h0m3.2 5.1h0m1.1 -2h0m0.2 -3.5h0m0.2 1.8h0m0.2 -0.6h0m2.6 4.2h0m13.7 -0.9h0m1.1 -2.2h0m0.6 -1.6h0m0.6 4.6h0m3.3 -0.4h0m0.6 -2.5h0m0.9 -1h0m4.7 4.4h0m0.2 -3.7h0m0 -0.5h0m1.7 2.1h0m0.1 0.6h0m11.2 -2.3h0m6.2 1.6h0m4.4 2h0m5 -1.9h0m2.1 -1.8h0m0.9 -1.1h0m3.4 3h0m0.7 -0.4h0m5.7 0.1h0m11.2 0.2h0m10.3 -0.8h0m2.2 -0.1h0m1.4 -2.6h0m1 4.7h0m0.3 -1.1h0m3.8 -1.8h0m2.3 1.8h0m1.5 -0.4h0m0.6 0.5h0m1.3 -0.7h0m0.8 -1.3h0m1.9 -0.6h0m5.7 3h0m1.3 1.1h0m4.5 -3.8h0m1.4 0.6h0m0.4 2.6h0m1.1 -3.9h0m0.2 -0.2h0m1.9 5.1h0m8.2 -2.7h0m3.1 0.7h0m0.4 1.9h0m0.7 -3.4h0m1.2 0.7h0m-3.1 4.5h0m-2.7 1.6h0m-3.1 -2.9h0m-6.1 4h0m-1.5 -2.9h0m-4.1 -0.9h0m-0.1 4.3h0m-1.5 -4.1h0m-0.1 3.5h0m-1.2 -1.1h0m-1.2 -0.1h0m-5.7 -1.4h0m-0.5 3.1h0m-1.5 0.8h0m-7.5 -5.2h0m-8.2 2.7h0m-2.6 -0.1h0m-1.1 -1.5h0m-2.5 3h0m-4.5 0.2h0m-1.8 -1.1h0m-10 -0.7h0m-8.4 -1.5h0m-10.7 1.8h0m-0.5 1.6h0m-3.1 0.9h0m-1.9 -5.5h0m-1.2 0h0m-2 5.7h0m-16.9 -3.3h0m-5.9 -1.2h0m-5 1.2h0m-6.4 3.3h0m-1 -5.1h0m-3 0.4h0m-4 4.1h0m-0.3 -0.1h0m-0.3 -3.4h0m-0.7 0.7h0m-9.3 9.6h0m11.2 -4.6h0m14.7 1.4h0m2.3 3h0m19.4 -3.6h0m2.6 -1.1h0m0.2 4h0m5.7 -3.4h0m0.3 2.7h0m0.8 -3.4h0m0.2 0.3h0m1.8 2.1h0m1 -3.1h0m6 1.9h0m0.1 1.2h0m0.5 -0.2h0m6.5 -1h0m1.7 0h0m3.2 -1.3h0m0.6 4.6h0m7.6 -3.9h0m3.8 1.6h0m3.8 2.1h0m3.1 -1h0m0.5 1.4h0m6.7 0.2h0m3.4 -5.8h0m6.6 1.2h0m7 1.4h0m2.5 1.9h0m2.8 -1.1h0m5.7 -3.4h0m1 3.9h0m1.4 0.2h0m8.3 -2.6h0m1.9 -0.5h0m2.3 4.6h0m3.7 -4.3h0m-0.5 9.4h0m-2.5 -3.2h0m-14.2 2.9h0m-0.9 -3.7h0m-2.3 1.7h0m-8.7 -0.6h0m-0.7 -1.8h0m-1.5 5.2h0m-4.5 -3.1h0m-0.3 3.3h0m-0.2 -3h0m-4.4 -1.1h0m-4.5 4.2h0m-5.5 -2.4h0m-2.5 0.3h0m-4.3 0h0m-4.8 0.2h0m-1.2 -1.8h0m-0.2 0.3h0m-2.8 -0.7h0m-2.3 3.3h0m-3.1 -3.3h0m-8.6 3.2h0m-8 -0.3h0m-13.9 -1.8h0m-3 -0.9h0m-2.4 -0.7h0m-1 0.8h0m-5.3 3h0m-0.2 -1.8h0m-3.7 -1.7h0m-10 1.8h0m-3.7 -0.3h0m-5.2 -1.4h0m-0.7 1.5h0m-0.2 1.7h0m-6.9 -2.8h0m-2.2 -1.1h0m-0.5 7.9h0m5.4 0.4h0m10.4 2.5h0m1 -2.3h0m0.6 1h0m7.6 -2.9h0m2.6 4.4h0m2.7 -0.1h0m10.4 -2.5h0m0.8 1.4h0m2.2 1.1h0m1.5 0.2h0m0.4 -3.2h0m0.2 -0.6h0m16.6 1.9h0m0.9 -1.5h0m11.8 -0.8h0m7.3 -0.2h0m1.7 1.1h0m0.6 2h0m4.6 0.7h0m3.5 -3.8h0m1.7 1h0m3.7 -0.8h0m6.4 3.8h0m5.5 0.4h0m0.9 -2.6h0m5.9 1.2h0m0.6 -2.5h0m2.2 1.2h0m3.5 0.8h0m13.6 -2.3h0m10.8 3.6h0m-10.3 4.4h0m-3 -2.5h0m-0.5 2.7h0m-1.3 -0.4h0m-1.6 1.5h0m-20.3 0.3h0m-4.4 -2.5h0m-11.1 3.2h0m-4 -1.1h0m-17.4 -4.7h0m-0.8 5.6h0m-13.2 0.3h0m-2.2 -2.6h0m-0.5 1.2h0m-1.1 -2.9h0m-1.2 0.3h0m0 0.9h0m-1.1 -0.3h0m-1.5 1.2h0m-5 0h0m-11 -1.7h0m-0.8 1.8h0m-2.7 -2.2h0m-0.7 3.1h0m-0.6 -3.9h0m-1.6 4.1h0m-2.9 0.9h0m-10.7 0.1h0m-1.6 -0.4h0m-2.9 -0.1h0m-2.5 -4.2h0m-2.4 0.5h0m-6.6 -1.5h0m-2 6.9h0m0.6 -1h0m15.9 5.2h0m7.5 -4.7h0m0.4 0.8h0m6.4 4.4h0m1.8 -3.4h0m1.7 -1.6h0m1.3 1.7h0m4 -2.2h0m0.9 0.6h0m1.5 2.4h0m0.1 1.2h0m6.3 0.2h0m0.2 -2.2h0m0.6 1h0m6.4 2.3h0m8.5 -0.9h0m2.4 -0.5h0m7.2 -2.5h0m11.7 1.9h0m5.1 0.4h0m4.9 1h0m2.2 -4.9h0m8.2 2.2h0m10 -1.1h0m1.9 -0.9h0m0.3 1.7h0m1.5 -1.8h0m8.5 1.1h0m11.3 1.2h0m1.7 -1.6h0m4.3 1.6h0m0.7 -1.1h0m2.9 6h0m-4 2.2h0m0 1.4h0m-3 -3.2h0m-11.1 -1.1h0m-9.7 1.1h0m-0.2 -1h0m-2.3 -0.5h0m-0.1 1.9h0m-2.1 -2.1h0m-3.5 1.2h0m-5.3 3h0m-4.4 0.3h0m-1 -0.1h0m-1.1 -2.2h0m-0.5 -2.4h0m-2.6 2.9h0m-10.6 -0.2h0m-1.8 -1h0m-9.5 -0.7h0m-1 2.9h0m-0.3 -3.9h0m-1.4 1.5h0m-4.6 -0.7h0m-11.5 3.4h0m-1.8 -2.5h0m-4.4 -0.1h0m-0.4 -1.2h0m-7.2 2.6h0m-2.3 -0.1h0m-9 -1h0m-3.4 1.5h0m-1.4 1.2h0m-0.4 -0.4h0m-0.2 -2.3h0m-0.2 -1.3h0m-1 -0.3h0m-1.9 2.4h0m-2.3 -2.4h0m-6.4 -0.1h0m-0.4 2.6h0m-1.9 -2.6h0m-2.2 2.4h0m-0.6 -2.3h0m-3.2 1.8h0m-2.1 -2h0m-3 4.2h0m-1.8 0.6h0m3.8 1.1h0m7.8 1.9h0m1.8 -1h0m7.1 0.3h0m0 0.4h0m1.6 2.4h0m3.2 1.1h0m4.5 -2h0m4.4 -0.3h0m0.5 1.4h0m9 -4h0m11.2 5.6h0m2.2 -1.1h0m2.6 -2.3h0m5.4 -0.4h0m13.1 1.6h0m1.4 -1.5h0m3.7 3.2h0m5.3 -2.6h0m0.9 0.3h0m10.2 2.1h0m6.4 -5.2h0m9.2 3.1h0m4 1.7h0m20.7 -2.7h0m2.5 -2h0m5.4 4.6h0m-3.6 2.7h0m-1.4 4.5h0m-2.3 -0.2h0m-16.9 -0.6h0m-17.6 -3h0m-7.9 -1.1h0m-14.2 0.2h0m-10 1h0m-0.3 -2.1h0m-4.6 5.8h0m-0.8 -3.5h0m-3.6 2.6h0m-1 -2.6h0m-3 2.8h0m-2.1 -2.1h0m-7.2 0h0m-0.7 -2.6h0m-9.6 2.7h0m-1 -2.4h0m-3.5 3.8h0m-1.9 0.8h0m-7.6 -1.8h0m-4.9 -2.5h0m-3.4 -1.1h0m-2.7 3.6h0m-0.4 1.4h0m-0.3 -2.6h0m-4.3 0.5h0m-3.3 1h0m-0.8 -3.6h0m-0.4 4.4h0m-4 -4.3h0m-3.8 4.6h0m3.5 2.2h0m0.2 -0.1h0m5.9 3.5h0m0.7 1h0m16.9 -4.4h0m5.9 1h0m3.9 0.7h0m1.9 2.5h0m0.5 -0.1h0m0.5 -2.5h0m1.9 1.1h0m3.3 -0.1h0m2.7 -2.5h0m2.4 0.2h0m2.7 0.7h0m6.3 0.8h0m6 -0.1h0m7.4 -0.9h0m2.2 2.4h0m0.8 -2.1h0m1.6 1.4h0m2.9 -2.9h0m0.2 -0.8h0m3 0.3h0m5.4 5.5h0m0.1 -0.9h0m2 -4.8h0m6.9 0.1h0m4 3.7h0m0.4 -2.5h0m0.5 -1.2h0m2.6 3.6h0m11.4 -1.1h0m6.1 0.3h0m2.1 -3h0m13.1 2.1h0m3 -1h0m0.1 0.9h0m7.5 2.4h0m2.2 -1.3h0m-8.1 7.9h0m-5.5 -0.2h0m-2.6 0.3h0m-7.7 0.7h0m-3 -1.9h0m-16.2 -0.5h0m-3.8 -3h0m0 2.4h0m-0.7 -2.8h0m-4.4 4.8h0m-2.9 -4.7h0m-1.9 4.5h0m-1.4 -2.3h0m-8.7 -1.5h0m-7.1 -0.7h0m-9.9 2.9h0m-1.6 0.9h0m-0.7 0.3h0m-7.4 0.8h0m-2.4 0h0m-18.3 -4.3h0m-1.8 2.2h0m-0.1 2.5h0m-8 -2.3h0m-1.2 1.8h0m-1.7 -4.5h0m-2.9 2.4h0m-2 0.9h0m-0.2 -3.6h0m-5 0h0m-2.2 1h0m-9.5 1.5h0m-1.3 2.6h0m4.7 3.3h0m1.1 0.6h0m1.9 0.2h0m1.4 -3.2h0m4.3 1.9h0m2.4 3.1h0m1.9 -1.6h0m0.7 -2.3h0m2.3 4.7h0m1.9 -5.4h0m0.3 2.9h0m5 -2.1h0m7 -0.9h0m1.9 0.9h0m1 3.8h0m4.5 -2.9h0m7.1 -0.1h0m11.4 1h0m9.5 1.3h0m0.7 0h0m0.9 -3.6h0m3.2 1.4h0m2 0.3h0m10.7 0.2h0m2.7 1.7h0m3.2 0h0m2 -2.5h0m6 -1.8h0m1 1.3h0m0.8 4h0m0.4 -2.3h0m0.3 -3.1h0m0.9 3.9h0m4.1 1.9h0m1.7 -1.4h0m4.2 -2.9h0m7.9 3.5h0m14.4 0h0m2.7 0.9h0m3.4 -3.7h0m0.4 -1h0m2.4 0.4h0m3.8 0.8h0m-1.4 7h0m-1.6 -2.4h0m-0.2 2.7h0m-11.3 0.9h0m-4 -1.6h0m-1.6 -1.3h0m-0.9 4h0m-8.2 -4.2h0m-2.8 4.4h0m-2.2 -3.8h0m-0.4 0.9h0m-0.6 0.9h0m-4.1 1.3h0m-3.3 -0.8h0m-0.9 -2.6h0m-0.8 3.3h0m-10.4 -4.2h0m-0.9 -0.1h0m-15.1 -0.5h0m-6.9 0.3h0m-1.5 4.8h0m-2.4 -0.9h0m-0.1 0.7h0m-0.3 -1.8h0m-0.2 2.5h0m-5.7 -2.6h0m-2 -0.6h0m-1.9 -1.6h0m-4.2 -0.4h0m-6.2 4.2h0m-3.3 -4.3h0m-22.4 0.7h0m-12.6 4.4h0m-2.6 -5.3h0m-7.8 6.9h0m5.6 0.1h0m1 -0.1h0m7 0h0m1.9 0.6h0m1.2 3.7h0m0.9 0.1h0m2.6 -2h0m1.1 1h0m0.4 -2.3h0m11.7 1.6h0m1.3 0.4h0m1.1 0.5h0m10.5 -0.4h0m5.8 0.5h0m5.2 -2.4h0m1.5 1.7h0m9.8 0h0m1.8 -3.5h0m8.8 5.1h0m10.4 -2.7h0m0.1 -0.5h0m2.3 -0.8h0m7.7 0.1h0m0.5 1.5h0m0.4 -2.9h0m1.5 3.6h0m0.5 1.4h0m4.3 -3.2h0m2 3.5h0m3.6 -4.6h0m0.4 4.3h0m2.5 -0.4h0m0.7 -3.7h0m3.4 3.5h0m5.3 -0.9h0m3.9 -2.5h0m2 3.2h0m1.5 -2.3h0m0.4 0.2h0m7.7 -1.3h0m0.5 2.1h0m9.4 6.7h0m-3.4 -3.8h0m-2.6 5.1h0m-5.5 -1.2h0m-1.2 -1.9h0m-2.7 2.5h0m-6.7 -4h0m-3.3 2.4h0m-0.4 2.6h0m-7.5 -0.1h0m-12.4 -0.5h0m-7.3 -0.4h0m0 -1.8h0m-12.6 -0.5h0m-0.5 2.3h0m-0.1 0h0m-3.4 -4.6h0m-8.7 5.6h0m-5.3 -3.3h0m-5.8 2.6h0m-8.4 -2.6h0m-4.6 0.8h0m-1.4 2.2h0m-6.3 -0.2h0m-2.1 -3.3h0m-3.1 3.1h0m-0.7 -1.7h0m-0.4 -3.2h0m-1.8 0.4h0m-1.4 1.8h0m-0.3 1.9h0m-3.3 0.9h0m-8 -1.8h0m-3.1 0.8h0m-2.7 0.1h0m-1.6 0h0m-2.6 0.3h0m-3.4 -1.3h0m-0.3 2.4h0m-1.7 -3.7h0m1 7.5h0m1.7 -0.2h0m3.1 1.7h0m11 0.8h0m4.6 -3.2h0m6 -0.7h0m17.3 -1.7h0m0.4 1.2h0m0.2 2.8h0m0.8 -1.7h0m1.8 1.1h0m0.1 -2.4h0m0.2 3.5h0m2.5 -0.7h0m7.4 -3.9h0m0.5 5.2h0m6.9 -3.4h0m15.9 -1.1h0m6.8 2.8h0m1.7 -2.1h0m2 2.4h0m2.3 -0.7h0m1.2 -0.8h0m3 -2.4h0m1.8 2.8h0m8.7 -0.8h0m9.4 0.8h0m5.4 3h0m0.5 -0.7h0m2.6 -2.1h0m7.1 2.5h0m2.4 -0.1h0m7.3 0.4h0m0 4.8h0m-8.7 0.2h0m-9 0h0m-3.3 -3.6h0m-4.5 0.1h0m-5.6 1.7h0m-0.6 -2.2h0m-5.5 3h0m-3.7 0.9h0m-3.8 -2.8h0m-4.4 -0.2h0m-1.2 1.9h0m-1.3 0h0m-0.8 -3.4h0m0 2.9h0m-1.3 -3h0m-4 2.3h0m-10.9 -1.1h0m-6.6 1.6h0m-0.5 -2.2h0m-6.2 3h0m-2.4 1.2h0m-6.4 -3.2h0m-2.8 0.3h0m-0.9 -1.7h0m-2.9 0.6h0m-3 0.6h0m-11.7 3.9h0m-0.7 -1.2h0m-3.5 1.2h0m-7.3 -3.8h0m-2.1 -1.6h0m-0.3 3.7h0m-0.1 -2.4h0m-2.6 0.6h0m-4.2 3.7h0m-7.8 -1h0m-1.7 -0.1h0m-3.3 1.3h0m2.8 1.1h0m1.5 4.4h0m5.2 -2.6h0m1 -1.9h0m3.2 3.4h0m5.4 -3.3h0m1.3 1h0m4.1 -0.2h0m1.8 -0.5h0m3.9 1.4h0m1 -1.3h0m5.5 4.2h0m0.4 -1.1h0m0.7 -1.1h0m9 1.2h0m6.5 1h0m3.6 -3.1h0m12.2 2h0m0.3 -3.2h0m9.4 -0.5h0m2.5 4.9h0m1.1 -4h0m15.2 -1h0m0.8 3h0m12.6 -2.7h0m0.5 -0.9h0m15.5 0.3h0m0.3 4.4h0m5.8 -2.1h0m0.7 -2.6h0m1.3 5.1h0m0.6 -2.9h0m2 -0.4h0m5.2 3.2h0m5.6 -1.5h0m-2.1 3.8h0m-2.1 2.9h0m-3.1 1.1h0m-3.6 -3h0m-3.3 2.3h0m-2.9 -0.9h0m-2.6 1.9h0m-0.2 -4.1h0m-2.8 3.7h0m-2.8 0.5h0m-3 -5.6h0m-13.8 5.2h0m-1.8 -2.2h0m-8.2 0.3h0m-6.1 1.4h0m-0.8 -1h0m-7.3 -1.8h0m-1.5 3.7h0m-12 -3.1h0m-0.8 2.6h0m-7 -2h0m-2.6 1.3h0m-4.3 -0.2h0m-2.3 -2.4h0m-4.3 2.3h0m-2.5 -0.8h0m-2 -1.7h0m-2.9 1.7h0m-0.2 -0.4h0m-4.9 0.8h0m-2.6 -0.6h0m-21 -2.8h0m-0.1 -0.3h0m-9.3 0.4h0m-3.3 1.8h0m-0.2 5h0m0.1 1h0m9.8 0.8h0m2 0.1h0m9.6 2.4h0m8.1 -4.4h0m2 3.5h0m0 0.6h0m3.8 -2.2h0m7.1 -0.7h0m2.5 -1.6h0m0.7 4h0m1.6 -1.3h0m7.7 -1.4h0m0.7 -2.2h0m11.5 0.7h0m15.4 4.1h0m1.3 0.3h0m3.7 -5.1h0m10.3 3.3h0m0.2 -0.7h0m2 1.5h0m1.5 -3.6h0m5.9 2.8h0m4.9 1.8h0m6.2 -4.3h0m0.6 4.3h0m0.4 -5.1h0m2.3 4.7h0m7.5 -2.5h0m4.4 1.5h0m0.9 -2.7h0m0.4 -0.2h0m5.1 2.7h0m6.1 4.1h0m-1.3 -0.4h0m-0.9 2.7h0m-1.3 1.2h0m-1.2 -2.1h0m-3.4 -1.4h0m-0.6 0.2h0m-13.3 3.8h0m-5.6 -3.7h0m-1.7 -0.7h0m-1 0.1h0m-4.3 -0.8h0m-1.4 5h0m-2.1 -3h0m-1.6 -0.4h0m-5.4 -0.7h0m-1.2 3.8h0m-3.2 -0.6h0m0 -4.5h0m-6 3.4h0m-0.1 -3.2h0m-5.1 3.5h0m-2.6 0.5h0m-3.9 0.4h0m-6 1.1h0m-2.3 -3.8h0m-2.9 -0.4h0m-0.1 2.4h0m-0.4 -2.2h0m-1.1 -1.3h0m-13.1 2.2h0m-1.6 -1.9h0m-5.1 2.5h0m-6.4 -2.2h0m-2 -0.5h0m-1.8 3.5h0m-2.8 -3.1h0m-2.9 3.9h0m-3.7 -2.3h0m-0.5 -2.5h0m-3.8 5.7h0m-3.9 -5.3h0m-4.3 3.2h0m-2.9 1.3h0m-4 0.1h0m-4.2 -0.5h0m-2.7 6.4h0m0.5 -4.1h0m2.3 0.5h0m0.8 1.5h0m2.2 2h0m0.1 -2.9h0m4.5 -1.5h0m1.1 -0.5h0m0.9 4.2h0m0.4 -4.1h0m5.1 3h0m1.8 -0.8h0m12.5 0.5h0m0.8 1h0m3.1 -2.6h0m0.6 0.5h0m5.9 -0.8h0m3.5 0h0m6.8 4.3h0m1.3 -2.7h0m3.9 -0.6h0m1.6 -0.3h0m6.7 2.2h0m1.1 -1.3h0m2.9 2.8h0m2.1 -3.2h0m6.2 -0.6h0m3.1 2.1h0m0.6 1.3h0m11.5 -4.9h0m19.2 4.6h0m0.5 -1.4h0m1.9 2.1h0m1.7 -4.9h0m5 5.4h0m4.5 -5h0m11 4.5h0m2.2 -0.6h0m0.9 -4.5h0m5.3 2.1h0m2 -0.9h0m2.1 5.2h0m-0.8 1.8h0m-17.9 3h0m-10.1 -3.9h0m-18.2 3.8h0m-0.8 -4.7h0m-2.9 4.6h0m-13.6 -1.6h0m-4.6 -0.4h0m0 -0.8h0m-4.4 2.1h0m-2 -1.5h0m-2.2 -1.7h0m-6.9 4.4h0m-3 -3.5h0m-0.3 0.2h0m-2.3 -1.6h0m-1.8 2.8h0m-1.8 0.6h0m-7.6 0.4h0m-1.3 -4.2h0m-0.4 0.4h0m-7.5 -0.8h0m-0.3 2.7h0m-2.8 0.7h0m-1.5 -2.8h0m-4.4 1.1h0m-1 1.6h0m-0.5 -0.9h0m-1.8 1.5h0m-2.5 1.6h0m-3.3 -1.2h0m-3.3 -2.8h0m-0.9 1.5h0m-1.5 0.4h0m-2 -3.4h0m-12.1 3.5h0m-0.8 7h0m1.3 -3.1h0m0.2 1.6h0m6.8 -1.6h0m2.4 4.4h0m2 -3.3h0m1.8 -2.3h0m5.6 5h0m7.7 -2.7h0m0.3 -0.6h0m1.3 -0.6h0m0.2 3.5h0m1.6 -1.9h0m0.8 -0.2h0m5.2 0.7h0m3.4 1.5h0m8 -3.8h0m3.4 2.3h0m1 -0.8h0m0.7 0.5h0m8.8 -2.4h0m11.2 1.4h0m5.6 -1.1h0m1.5 3.2h0m5.5 -4.2h0m1.5 2.3h0m1.6 2.1h0m3.6 -1.6h0m12.7 -2.3h0m5.7 0.4h0m3.7 2.6h0m24.6 1.1h0m3.9 -2.5h0m0.3 2.6h0m1.9 -1.7h0m2.3 5.8h0m-5 0.2h0m-5.3 -2.9h0m-10.9 0.7h0m-1.5 2.1h0m-5.4 -1.4h0m-19.5 -0.9h0m-5.6 -0.1h0m-8.8 0.5h0m-6.5 1.7h0m-26.2 -2.2h0m-14.4 0.7h0m-13.1 -0.5h0m-4.1 -0.2h0m-18.3 -0.4h0"/><path fill="none" stroke="#f2b0e2" stroke-width="1" stroke-linecap="round" stroke-opacity="0.7" d="M184.7 407.3h0m-7.1 -2.2h0m-0.4 2h0m-30 -0.8h0m-1 -1h0m-15.9 2.2h0m-3.1 -1h0m-0.9 1.4h0m-1.1 -0.9h0m-4.4 -0.9h0m-11.4 -0.7h0m-5.5 0h0m-13.3 -0.3h0m-3.8 2.5h0m-1.8 -0.4h0m-3.6 -2.1h0m0 0.5h0m-2.2 0.1h0m-21.5 1.1h0m-15.5 -1.2h0m-1.6 3h0m3.3 1.7h0m1.9 0.7h0m0.8 1.4h0m1.4 1.2h0m1 -3.7h0m1.5 3.9h0m2.2 -4.7h0m2.1 2.4h0m2.2 0.9h0m1 -0.7h0m4.3 1.3h0m1.1 -1.9h0m3.7 -0.6h0m2.8 -1.1h0m0.7 3.1h0m0.9 -0.5h0m3.3 -1.2h0m4.9 1.7h0m2.5 0h0m3.2 -3.3h0m1 -0.5h0m0.9 0.1h0m4.6 5h0m19.2 -0.4h0m0.5 -5.1h0m4.8 1.5h0m12.4 -1.3h0m11.6 0.3h0m3.2 1.8h0m3.3 0.9h0m1.1 1.9h0m3.3 -0.3h0m0 -4.1h0m1.5 4.9h0m1.5 -2.1h0m3.3 -2.9h0m4.2 -0.9h0m0.4 5.1h0m0.4 -0.2h0m2.6 -0.9h0m2.3 -3.2h0m1.3 0.4h0m1.6 3.2h0m3.2 -4h0m0.6 2.6h0m3.6 2.5h0m0.1 -0.1h0m2.5 -3.7h0m2.2 2h0m4.9 3.3h0m-1.7 1.5h0m-3.9 1h0m-4.3 -2.5h0m-1 -0.9h0m-0.9 3.4h0m-1.9 -1.4h0m-0.3 1.8h0m-1.7 1.9h0m-3.4 -1.2h0m-5.1 -2.6h0m-4.2 0.5h0m-2.4 -0.7h0m-5.1 2.3h0m-1.3 -0.9h0m-0.2 0.7h0m-3.4 -0.4h0m-0.3 0.4h0m-1.3 0.5h0m-5.7 -1.8h0m-0.3 3.1h0m-5 -1.3h0m-3.7 -4h0m-7.2 0.8h0m-0.6 4.7h0m-0.7 -1.2h0m-2.4 -0.2h0m-10.8 -2.5h0m-3.4 -1.1h0m-6.1 3.4h0m-1.9 -2.1h0m-2.1 0h0m-3.1 0.7h0m-5.2 -1.6h0m-2.9 4.4h0m-3.2 -5.1h0m-3.8 1.7h0m-0.3 0.4h0m-0.8 2.2h0m-2 -3.7h0m-5.9 -0.2h0m-1 2h0m-3.3 0.3h0m-10.8 0.6h0m-0.2 -3.4h0m-4.1 0h0m-3.5 3.9h0m-1.7 0.7h0m-1.7 -1.1h0m-1.8 -1.9h0m-1.7 7.9h0m4.1 0.2h0m4.4 0.4h0m3.6 -0.2h0m3.6 0.1h0m3.8 -0.6h0m11.7 1.3h0m0.2 -1h0m0.2 1.2h0m2.1 -4.8h0m1.6 2.7h0m5.4 0.5h0m1.2 -2.1h0m6.6 -0.7h0m10.3 -0.5h0m1.7 4.7h0m3.9 -0.2h0m1.4 -2.6h0m1.2 2.1h0m2.5 0.4h0m3.6 -4.3h0m2.1 2.5h0m0.1 -2.3h0m2.3 1h0m2.9 4.1h0m3.8 -2.5h0m6 -2h0m9.7 0.5h0m0.1 2h0m1.7 -1.7h0m5.2 -2h0m1.2 2.3h0m0.1 3.4h0m0.7 -4.1h0m0.5 -0.8h0m0.9 -0.8h0m14.9 2.1h0m6.1 3h0m0.3 -0.4h0m15.7 -3.2h0m2.8 3.5h0m0.1 -4.6h0m-0.7 6.7h0m-8.1 0.8h0m-2.4 -0.7h0m-6.3 -0.5h0m-7.5 3.3h0m-3.7 -2.6h0m-0.7 1.9h0m-0.6 -0.3h0m-3 -2.3h0m-0.9 1.4h0m-1.1 0.5h0m-1.5 2.9h0m-2.5 -0.3h0m-1.3 -2h0m-1.9 1.8h0m-1.5 -5.2h0m-3.1 4.8h0m-7.4 -0.4h0m-1.1 1.4h0m-0.6 -4.4h0m-1.4 0.3h0m-2 -0.6h0m-0.7 -0.3h0m-4.7 0.9h0m-1.7 -1.7h0m-2.2 2h0m-4 0.1h0m-0.4 3.1h0m-4.5 -3.7h0m-0.7 3.8h0m-0.3 -3.3h0m-1.7 0.6h0m-2.7 -1.7h0m-0.6 1.9h0m-2.6 0h0m-2.4 -2h0m-20.1 4.6h0m-0.4 -2.3h0m-2.3 1.3h0m-14.2 -1.6h0m-7.2 1h0m-6.1 -2.8h0m-0.5 0.2h0m-7 -0.6h0m-2.3 4h0m-1.3 -2.2h0m-1.6 0.5h0m1.7 6.3h0m0.4 0h0m1.1 1.7h0m2.6 0.2h0m17.2 -0.2h0m3.8 -1.2h0m1.4 -3.5h0m0.5 3h0m2.5 -1.7h0m3.4 1h0m5.6 3.1h0m0.4 -3.4h0m14.4 -0.7h0m5.7 -1.5h0m2.8 1h0m1.8 -0.7h0m2.9 3.6h0m2.4 -3.9h0m6.9 2.1h0m1.8 -0.7h0m5.2 3.6h0m2.1 -3h0m6.9 -1.3h0m10.2 0.4h0m1 0.2h0m1.4 1.2h0m4.1 1.8h0m2 -3.5h0m1.3 0h0m1.8 2.4h0m26 0.2h0m1.3 -2.6h0m8.2 -0.3h0m-1 7.9h0m-0.6 0.9h0m-8.4 2.4h0m-0.3 -4.7h0m-2.1 3.4h0m-0.2 0.9h0m-9.4 -3h0m-1 -1.5h0m-5.4 -0.6h0m-3.2 1.7h0m-2.8 2.4h0m-5.4 -0.6h0m-1 -3.5h0m0 0.8h0m-1.8 1.2h0m-1.8 1.3h0m-2 -1.7h0m-5.4 2.5h0m-0.8 -2.9h0m-2.1 -1.3h0m-0.5 0.2h0m-2.4 2.9h0m-8.7 2.3h0m-0.6 0.3h0m-8.8 -5.1h0m-2.6 -0.3h0m-2.6 1.4h0m-2.3 -1.7h0m-0.3 0h0m-4.4 2h0m-6.6 -2h0m-8 3.1h0m-2.3 2.2h0m-7.9 -2.8h0m-0.8 -0.3h0m-3.3 -0.9h0m-5.1 3.7h0m-1.4 -3.3h0m-0.6 2.8h0m-0.9 -1.4h0m-2.7 0.8h0m-4.1 -1.9h0m-5.6 2.9h0m-1 -4.2h0m-3.8 5.1h0m-0.2 -1.6h0m-0.6 -2.7h0m-5 3.3h0m-1 -2h0m9.1 7.3h0m2.1 1.2h0m4.8 -1.8h0m1.4 1.7h0m1.5 -0.8h0m3.2 1.4h0m0.8 -0.2h0m4.1 -1.4h0m2 -3.6h0m0.7 1.8h0m4.3 -0.5h0m6.5 1.9h0m5.3 0.8h0m3.7 -1.9h0m2.8 -0.8h0m1.7 -0.8h0m1.3 -0.4h0m4.6 4.9h0m8.6 -3.2h0m0.3 1.5h0m4.2 1.3h0m0.2 -0.5h0m0.7 -3.6h0m12.3 -0.5h0m2.9 4.8h0m0.4 -2.9h0m5 -0.1h0m9.6 -1.9h0m5.2 2.3h0m1.3 2.3h0m0.2 -5.1h0m2.3 1.9h0m5.3 -1h0m3.5 -0.5h0m0.9 -0.5h0m16.6 0.3h0m0.5 4.9h0m0.7 -3h0m3 2.4h0m5.3 -0.9h0m0.4 7.3h0m-0.9 -2.6h0m-2.8 2.3h0m-0.5 -2.9h0m-0.3 3.2h0m-1.1 -1.8h0m-10.6 2.4h0m-2.1 -2.1h0m-0.8 1.6h0m-8 -3.1h0m-2.4 2.2h0m-2.3 1.7h0m-3 -1.8h0m-1.9 -3.4h0m-0.9 3.6h0m0 -4.3h0m-0.7 2.9h0m-0.4 -1.4h0m-0.4 4.2h0m-2.8 -2.3h0m-0.6 1.7h0m-4.3 -1.4h0m-1.8 2.2h0m-1.3 -3.7h0m-0.3 3.6h0m-4.3 -3.4h0m-0.5 2h0m-10.1 -2.3h0m-2.4 0.4h0m-3.7 1.7h0m-0.1 -0.1h0m-0.3 -3.2h0m-0.5 4.5h0m-0.8 -2.8h0m-3.1 3h0m-1.1 -4.7h0m-4.1 2.9h0m-0.7 0.4h0m-1.8 -0.7h0m-4.4 1.9h0m-3.1 -2.7h0m-0.8 -1.3h0m-0.5 4.1h0m-7 0.3h0m-4.1 -5.2h0m-1.9 0.4h0m-0.2 3.5h0m-1.3 -1.3h0m-6.6 0.2h0m-3.8 1.2h0m-2.8 -1.1h0m0 0.3h0m-9.3 1h0m-0.9 -2.9h0m-6.4 0.4h0m-6.3 2.1h0m-4.9 5.4h0m1.7 -0.1h0m3.1 -0.3h0m1 -3.2h0m5.6 3.5h0m4.7 1.8h0m9.3 0.3h0m8.4 -0.9h0m5.8 -0.5h0m0.1 -1.1h0m3.6 0.7h0m3.9 -3.2h0m4.3 4.2h0m0.8 -1.4h0m0.9 -0.7h0m2.6 -2.5h0m3.4 5.3h0m10.4 -2.7h0m1.7 2.4h0m2 -1.9h0m1.2 -1.9h0m1.5 1.5h0m0.2 -1.4h0m0.7 -1.3h0m1.9 3.7h0m1.7 0.8h0m9.6 -4.7h0m0.2 4h0m1.5 1.1h0m1.7 -1.1h0m2 -1.2h0m0 0.7h0m2.9 -3.5h0m1.3 2.3h0m4.3 1.6h0m3.4 -1h0m0.1 2.3h0m0.4 0.2h0m4.1 -5h0m2.1 2.1h0m0.1 -2.2h0m3.4 1h0m12.8 -0.5h0m1.2 1.6h0m0 1.5h0m0.6 1.6h0m0.9 -3h0m2.5 1.2h0m0 -3.7h0m0.9 5.2h0m0.6 -3.3h0m0 1.8h0m3.5 -2.1h0m1.2 -1.8h0m3 1.5h0m2 -0.1h0m-0.6 4.9h0m-0.1 1.9h0m-0.5 1.5h0m-2.6 -3.4h0m-2.7 2.4h0m-3.2 -0.8h0m-12.4 -1.7h0m-2 2h0m-1.1 0.5h0m-2.3 1.1h0m-4.3 -0.4h0m-13.7 0h0m-14.3 -0.7h0m-1.9 0.4h0m-6.5 2.2h0m-7.9 -0.7h0m-1 -1.7h0m-1.1 -1.6h0m-2.6 3.8h0m-0.2 -1h0m-4.5 0.4h0m-6.1 -2.8h0m-1.5 4.2h0m-0.2 -5.7h0m-4.5 4.2h0m-1.8 0.1h0m-3.1 -2h0m-0.3 2.9h0m-12.3 -1.9h0m-1.4 -3h0m-2.9 3.8h0m-4.2 -3.7h0m-2 2.2h0m-0.2 0.1h0m-3.3 -2.6h0m-0.1 3.2h0m-0.9 -2.2h0m-1.5 2.1h0m-3.3 -1.7h0m-1.5 2.8h0m-0.1 -1.2h0m-0.2 2h0m-9.6 -1.2h0m-2.1 4.9h0m5.5 2h0m5.2 -0.9h0m15.2 -1.7h0m4.6 1.6h0m3.2 0.1h0m0.1 -0.5h0m0.9 2h0m4.9 -2.2h0m1.8 -3.2h0m6.4 4.4h0m2.5 -4.3h0m0.8 3.3h0m6.5 -1.1h0m3.8 1.7h0m0.8 1h0m1.4 -3.7h0m1.5 -0.4h0m3.2 0.1h0m2 2.4h0m0.5 0.6h0m1.3 -1.5h0m2.5 2h0m0.1 -0.4h0m0.4 -4.3h0m1.4 2h0m10.4 0.1h0m0.1 1.1h0m2.7 -1.9h0m2.2 0.3h0m1.7 -1.5h0m9.5 4.6h0m5.1 -3.2h0m0.9 -0.2h0m2 3.6h0m1.1 -0.2h0m0.3 -2h0m3 2.1h0m0.7 -0.2h0m4.2 -2.7h0m1.8 -0.8h0m1.7 4.6h0m1.1 -2.2h0m1.2 1.6h0m14.7 -4.9h0m4 4.8h0m0.4 -4h0m2.5 4.1h0m0.9 0.6h0m0.4 4.3h0m-1.8 0.2h0m-4.4 1h0m-1.9 -4.3h0m-0.6 1.2h0m-7.8 0.1h0m-0.5 2.9h0m-5.6 -0.4h0m-1.5 0.5h0m-5.7 -3.3h0m-2.8 -1.8h0m-1.5 2.9h0m-2.7 -0.8h0m-4.8 2.3h0m-7.1 -1.4h0m-5.9 2h0m-2.1 -2.4h0m-4 1h0m-0.4 0.7h0m-1.7 0.5h0m-0.4 -1.4h0m-8.1 2.4h0m-1.4 -5.7h0m-5.7 0.4h0m-2.6 3.1h0m-0.6 -0.4h0m-0.2 0.2h0m-0.7 -0.8h0m-4.7 -2.7h0m-4 2.3h0m-4.7 1.5h0m0 -3.4h0m-0.3 3.2h0m-3.3 -0.1h0m-2.6 1.3h0m-0.3 -2.5h0m-2.6 1.4h0m-2.2 -1.6h0m-0.4 -0.2h0m-2.1 1.4h0m-2 2.3h0m-4.1 -0.3h0m0 -2.1h0m-2 0.1h0m-1.4 -3.1h0m-0.6 3.7h0m-0.6 -2.1h0m-0.3 1.8h0m-5 -1.4h0m-2.2 0.1h0m-0.5 3.4h0m-2.8 -2.6h0m-0.4 2.2h0m-18.4 3.1h0m0.4 2.6h0m3.6 -3.7h0m1 -0.9h0m1.6 0.4h0m7.6 4.4h0m7.7 -3.7h0m5.7 0.9h0m0.6 0.8h0m0.5 1.3h0m2.1 -0.2h0m3.7 -1.8h0m0 -2.4h0m1.2 4.3h0m2.1 0.7h0m1.8 -2.1h0m1.6 2.5h0m3.1 -2.9h0m7.7 0.6h0m0.8 1.9h0m2.3 -1.4h0m3.2 -3.6h0m10.2 3.7h0m2.6 1.8h0m3.6 -2.7h0m3.8 -1.5h0m7.8 1.9h0m2 -2.8h0m1.5 1.3h0m2.3 3.8h0m0.8 0.2h0m5.9 -2h0m1.8 -0.3h0m1 -1h0m9.4 0h0m4.8 -1.1h0m3.7 1.4h0m3.3 1.2h0m1.2 0.3h0m0.2 -2.3h0m8.6 3.4h0m10.9 -3.1h0m5.2 2.5h0m1.8 5.9h0m-6.3 -0.7h0m-0.2 1.8h0m-1.7 -0.1h0m-11.4 -1.5h0m0 -1.1h0m-1.5 0.6h0m-4.3 -0.3h0m-1 -2.1h0m-4.3 0.8h0m-3.1 -2h0m-1.8 1.8h0m-2.3 2.2h0m-8.2 0.5h0m-6.2 -1.4h0m-2.7 -0.1h0m-4 -1.9h0m-0.8 0.5h0m0 4.2h0m-1.3 -2.9h0m-4.8 -1.8h0m-1.6 -0.6h0m-0.8 1.2h0m-0.7 0h0m-7.3 3.9h0m-0.7 -3.8h0m-1.1 1.7h0m-0.1 1.1h0m-4.5 -0.9h0m-5.3 -2.3h0m-3.3 3.2h0m-3.5 -0.7h0m-0.7 -0.6h0m-4.4 1.6h0m-2.6 -2.7h0m0 0.4h0m-3.7 2.5h0m-1.7 -1.1h0m-1.3 -2.5h0m-1.9 -0.4h0m-0.9 3.4h0m-6.8 -4.4h0m-1.4 2.6h0m-1.9 1.2h0m-0.4 -0.3h0m-0.7 -1.9h0m-2.5 0.1h0m-3 -1.3h0m-0.6 0.7h0m-0.4 2.6h0m-1.4 -3.6h0m-1.2 1h0m-9.4 -1h0m-1.9 0.6h0m-1.8 3.3h0m-0.3 -1.5h0m-0.3 2.1h0m-3.4 -2.1h0m-0.3 -2.7h0m2 8.2h0m7.9 2.7h0m0.3 -1h0m4.7 -3.5h0m6 2.3h0m4.3 -1.1h0m1.8 -1.4h0m0.2 4.8h0m0.6 -0.6h0m5.8 -2.5h0m2.4 3.7h0m0.3 -1.3h0m6.1 0.3h0m2.5 -1h0m3.6 -0.1h0m0.5 1.6h0m0 -2.1h0m4.9 1.6h0m3.5 -1.6h0m0.2 -0.7h0m1.2 -2h0m1.8 2.2h0m2 -0.6h0m12.9 0.5h0m0.6 -2.3h0m0.1 4.8h0m1.7 -4h0m2.7 3.1h0m4.7 -3.9h0m1.5 2.8h0m4.7 0.6h0m1.2 -1.3h0m14.3 0.3h0m4.1 -1.2h0m1.1 1.5h0m0.5 3h0m0.6 -5.7h0m2.7 1.5h0m1.1 3.6h0m3.6 0h0m2.5 -3.8h0m1.3 0.8h0m5.5 1.9h0m3.1 -0.3h0m0.8 0.4h0m0.6 1.1h0m2.2 -4.9h0m0.7 1.1h0m2.7 0.7h0m0.6 9.6h0m0 -5h0m-2.6 2.9h0m-2 -2h0m-6.6 4.1h0m-3.6 -2.4h0m-1.2 -2.9h0m-4 2.8h0m-4.1 -2.3h0m-5.3 -1h0m-0.9 4.1h0m-5.3 -2h0m-1.4 0h0m-4.6 -1.5h0m-6 -0.5h0m-8.2 0.2h0m-3.1 3.3h0m-6.6 -3.5h0m-2.6 4.6h0m-2.1 -1.6h0m-7.4 -2.5h0m-7.4 4.5h0m-1.9 -4.9h0m-2.8 2.9h0m-1.2 1.1h0m-2.1 -2.5h0m-0.4 -0.6h0m-2.9 0.3h0m-1.8 -1.1h0m-4.3 2.5h0m-8.1 1.2h0m-0.8 -1.7h0m-3.2 -0.2h0m-1.7 -0.3h0m-9.7 0.2h0m-2.9 3.5h0m-4.8 -3.8h0m-3.5 2.3h0m-4.5 -3.2h0m-0.3 8.6h0m0.2 -2.7h0m1.3 2.3h0m15 1.7h0m8.4 -4.1h0m0.3 4.5h0m3.9 -2.5h0m6.2 1.8h0m0.5 -1.6h0m4 -2.5h0m0.7 1.6h0m10.6 0.5h0m0.5 -0.1h0m4.6 0.1h0m1.5 2.5h0m5.4 -3.6h0m0.4 0.6h0m0.1 -0.8h0m0.4 2.5h0m12.1 2.2h0m7.2 -3.4h0m5.2 2.4h0m2.1 -4.1h0m1.2 1.3h0m1.3 -0.5h0m0.7 -0.2h0m4.3 2.2h0m4.6 0.6h0m4.6 -1.3h0m3.1 0.6h0m2.1 -3.4h0m0.1 2.2h0m0.4 -1.8h0m12.9 2.6h0m0.7 2.5h0m8.3 -3.5h0m1.7 3.6h0m1.1 -4.9h0m12 3.3h0m0.5 5.1h0m-0.8 2.5h0m-3.5 -5.4h0m0 -0.2h0m-2.7 1.6h0m-3.4 1.1h0m-6.3 1.2h0m-5.8 -0.1h0m-2.8 -0.9h0m-0.8 -1.9h0m-0.6 1h0m-1.1 -1.2h0m-0.2 1.3h0m-1 3.7h0m-6 -0.9h0m0 -3.5h0m-0.6 2.4h0m-0.7 1.1h0m-4.5 -4.4h0m-1.4 2.3h0m-1.5 -1.2h0m-1 1.8h0m-2.4 1.1h0m-4 -1.1h0m-1.7 -2.7h0m-4 5.2h0m-0.7 -2.3h0m-2.7 2.3h0m-3.7 -0.1h0m-4.1 -1.4h0m-2.7 0.1h0m-6.9 -0.5h0m-4.5 -1h0m-1.8 -1.3h0m-7.1 3.3h0m-1.5 -1.2h0m-0.5 -2.5h0m-0.3 0.9h0m-0.5 0.3h0m-3 -0.9h0m-6 1.9h0m-5.3 -2.2h0m-4.2 4.5h0m-0.2 -2.9h0m-1.5 3h0m-3 -1h0m-0.7 -0.4h0m-4.2 -2.6h0m-2.2 1.2h0m-6 0.9h0m-4.5 -1.8h0m-1.9 1.3h0m-10.1 5.8h0m4.5 -0.3h0m0.3 -2.8h0m11.6 5.1h0m0.2 -5.2h0m0.9 4.2h0m1.6 -2.1h0m4.7 -0.4h0m4.4 3.5h0m1.8 -1.8h0m2.5 0.2h0m1.9 -1.9h0m2.1 -0.4h0m0.9 3.8h0m3.5 -5.2h0m0 4.6h0m0.4 -3.5h0m1.3 4.1h0m1.8 -2.7h0m12.3 -2.3h0m6.2 0.1h0m3.6 0.3h0m7.6 5.3h0m0.9 -3h0m0.7 -0.1h0m9.8 0.1h0m12 -1.7h0m12.6 -1.2h0m0.2 5h0m1.4 -3.9h0m3.3 1.3h0m0.5 1.2h0m0.6 -2h0m1.8 3.3h0m3.2 -3.9h0m0.1 3.2h0m3.4 -2.3h0m1.3 0.4h0m2.2 1.7h0m11.7 0.4h0m3.3 -1.5h0m4 -1.1h0m-2.8 6.5h0m-7.1 2.2h0m-2.2 0.1h0m-1.4 -0.5h0m-6.7 -2.1h0m0 -0.4h0m-3.5 -0.7h0m-4.8 1.3h0m-1.8 -1h0m-0.3 4.3h0m-3.4 0.1h0m-4.2 -1.8h0m-1.6 -0.9h0m-6.3 -2.9h0m-4.3 4.5h0m-0.4 -3.6h0m-1.3 3.2h0m-9 -0.6h0m-2.6 0.1h0m-2 -1.8h0m-2 1.8h0m-4.7 -3.2h0m-2.1 1.7h0m-2 2.4h0m-1.7 -3.1h0m-2.8 3h0m-11.5 0.2h0m-8.7 -3.4h0m-8.6 2.2h0m-2 0.2h0m-2 -3h0m-0.1 1.1h0m-0.3 -1h0m-0.1 2.4h0m-1 1.7h0m-3.3 -0.7h0m-8.4 -3.8h0m-7.1 3.3h0m-0.1 1.3h0m-5.9 1h0m-4.8 2.8h0m4.4 2h0m0.5 -0.5h0m0.7 0.4h0m2.5 0.9h0m5.4 -2.3h0m6.4 0.9h0m7.3 -4h0m3.1 0.4h0m0.8 1.6h0m6.6 -0.2h0m0.7 0.1h0m2.1 3.4h0m1.1 0h0m2.4 -3.9h0m1.8 1h0m3.4 1.7h0m0.6 0.8h0m2.5 0h0m1.2 -3.6h0m2.7 0.1h0m5.6 3.1h0m11.6 -2h0m2.4 -0.1h0m1 3.1h0m11.6 -0.4h0m1.6 -0.5h0m1.7 -2.4h0m0.6 2.9h0m4.5 0.6h0m3.9 -5.4h0m2 3.7h0m0.6 -0.3h0m2.3 -0.9h0m1.3 0.8h0m7.6 -2.8h0m2.1 0.4h0m2.2 -0.3h0m5 0.5h0m3.5 1.4h0m1.9 2.8h0m5.8 -1.1h0m2.8 -0.2h0m3 -3.6h0m4 9.2h0m-11.6 -1.1h0m-7.4 -2.5h0m-1 5.3h0m-4.2 -2.8h0m-7.8 0.2h0m-1 -0.4h0m-12.4 -2.1h0m-1.1 1.1h0m-6.5 2.1h0m-1 -0.5h0m-0.8 1.9h0m-0.3 -1.2h0m-3.6 -3h0m-1.5 1.1h0m-5.6 2.3h0m-3.2 0.9h0m-0.6 -3.2h0m-0.5 0.1h0m-1 -0.1h0m-3.9 -0.1h0m-3.5 2.9h0m-2 -4.8h0m-3.6 4.8h0m-5.4 0.4h0m-1.7 -0.5h0m-6.8 -1.2h0m-3.3 -3.1h0m-2.3 5h0m-2.4 -3h0m-10.7 -2.4h0m-1.7 4.7h0m-0.2 -3h0m-2 3h0m-5.2 -3h0m-4.3 -1h0m-5.5 4.6h0m-3.1 -5.1h0m-8.5 4.2h0m-1.3 -3.7h0m-0.6 3.6h0m0 2.4h0m0.9 0.9h0m1.4 2.2h0m3.6 -3h0m1.1 2.3h0m2.2 -2h0m1.9 1.4h0m0.5 -0.5h0m1.2 1.9h0m0.7 -3.2h0m2.8 4.2h0m1.2 0.3h0m8.7 0h0m5.3 -1.8h0m0.9 -2.4h0m1.4 0.3h0m0.3 4.4h0m3.3 -1h0m0 -1.3h0m0.9 -0.6h0m0.8 2.4h0m1.9 0.2h0m3.8 -5.4h0m7.1 4.4h0m3.4 1h0m0.9 -4.1h0m1.7 -0.9h0m3.7 0.7h0m1.6 1.2h0m3.5 0.2h0m10.7 1.8h0m9 -0.4h0m4.4 -3h0m9.3 2.3h0m8.6 1.1h0m2.6 -3.3h0m17.3 3.7h0m1.2 -2.9h0m7.2 0.9h0m4.7 -0.8h0m6.3 0.9h0m0.3 7.1h0m-1.7 -3.8h0m-0.8 2.8h0m-4.5 -1.2h0m-2.1 0.4h0m-3.7 -1h0m-1.2 4.5h0m-0.1 -1h0m-0.1 0.6h0m-5.3 -3.2h0m-3.5 3.2h0m-3.3 -3.6h0m-8.3 -0.2h0m-5.9 2.8h0m-3 -3.8h0m0 0.3h0m-0.3 1.1h0m-3.2 -0.1h0m-5.6 1.9h0m-0.7 -2.8h0m-1.7 2.7h0m-1 -0.4h0m-3.1 -0.2h0m-0.7 -2.9h0m-9.6 0h0m-0.8 4.8h0m-0.8 1h0m-2 -1.6h0m-0.2 -4.3h0m-3.5 3.4h0m-2 2.4h0m-2.1 -1.9h0m-1.7 0.7h0m-1.1 0.9h0m-0.3 -3.3h0m-9.1 1.6h0m-1.6 1.5h0m-0.1 -3.5h0m-1.8 1.6h0m-0.2 -3h0m-2.6 0.6h0m-0.3 -0.7h0m-2.1 3.2h0m0 -0.9h0m-0.5 0.6h0m-1.7 1.2h0m-2.3 -0.7h0m-4.6 -3.7h0m-0.1 0.6h0m-0.2 4.7h0m-4.9 -2.4h0m-1 -1.1h0m-3.5 1.1h0m-0.4 1.8h0m-3.7 -2.6h0m-3.6 1.7h0m-7.8 0.2h0m-1.1 -2.3h0m-1.4 3.4h0m-2.1 -4.7h0m-0.3 2.6h0m-5.5 -1.5h0m-3.4 1.4h0m4.2 6.4h0m0.5 -0.2h0m0.7 0h0m1.4 -2.1h0m6.4 1.5h0m7.4 -2.2h0m0.8 3.5h0m1.3 1.8h0m3.1 -3.2h0m5.2 2.7h0m2 -0.8h0m8.7 -2.1h0m0.9 2.3h0m2.3 1h0m0.1 -3.4h0m1 1.8h0m0.1 -1.7h0m1.4 2.6h0m12.5 -4.5h0m0 4.7h0m2 -1.1h0m0.7 1.1h0m3.6 -3.3h0m1.3 2.9h0m0.7 -3.2h0m8.2 3.3h0m2.4 -4.1h0m3 0.3h0m2.2 0.9h0m1.5 -1.2h0m5 4.2h0m3.8 0.5h0m1.7 -4.3h0m3.6 0h0m5.8 2.2h0m1.6 -1h0m1.2 -1.5h0m4.2 0.3h0m1.1 2.2h0m8.2 -1.1h0m0 1.5h0m5.1 0.6h0m1.9 0.4h0m1.3 -3.5h0m10.2 -0.9h0m2.7 0.9h0m1.8 0.8h0m1.8 -0.7h0m-1.6 5.2h0m-3.7 0.6h0m-6.4 2h0m-3.6 -2.8h0m-3.3 2.5h0m-0.2 -0.3h0m-11.9 -2.4h0m-7 1.9h0m-8.8 0.7h0m-41.7 -0.6h0m-0.5 -0.5h0m-8.2 -1.3h0m-3.3 1.1h0m-2.3 -0.1h0m-7.3 0.8h0m-9 0.7h0m-1 -1.2h0m-4.6 1.2h0m-14.4 -1.3h0"/><path fill="none" stroke="#f2b0e2" stroke-width="1.4" stroke-linecap="round" stroke-opacity="0.7" d="M185.4 406.5h0m-5.3 -0.2h0m-6.3 -0.3h0m-0.7 1.5h0m-5.9 -1.7h0m-22.8 1.4h0m-1.7 0h0m-0.6 -0.8h0m-6.5 -0.8h0m-17.6 -0.4h0m-1.8 1.7h0m-4.8 -1.1h0m-0.4 1.6h0m-1.3 -0.5h0m-13.2 -1.2h0m-3.4 2.2h0m-6.6 -0.5h0m-0.5 -0.2h0m-12.5 0h0m-2.8 -0.2h0m-10 0h0m-0.6 -1.4h0m-18.7 1.5h0m-0.1 -1.2h0m-3.1 -0.3h0m10.8 6.7h0m11.8 -3.3h0m5.8 2.7h0m1.5 -0.7h0m0.9 -1.3h0m1.2 1.2h0m0.8 -1.7h0m1.8 2.3h0m0.7 -0.9h0m5.6 -1.4h0m0.8 -0.4h0m0.2 0.2h0m1.8 4.7h0m0.1 -0.1h0m0.4 -0.4h0m0.9 -3.5h0m4.8 2.9h0m7.6 -1.1h0m2.7 -3.4h0m1.2 3.7h0m8.2 0h0m0.2 -2h0m7.2 1.8h0m0 0.3h0m2.8 -1.3h0m1.9 2.4h0m6.3 -2h0m5.8 -0.7h0m3.4 -2.3h0m0.7 0.6h0m0 2.7h0m3.5 -3.3h0m0.1 2.5h0m7.6 1.8h0m6.4 -1.8h0m0.3 0.7h0m0.7 -1.4h0m0.8 -0.9h0m1.1 0.1h0m2.4 3.9h0m13.5 -4h0m0.9 2.4h0m2.4 1.8h0m0.9 -3.1h0m3.6 1.6h0m2.1 -2.6h0m1 2.2h0m1 2.5h0m1.5 -3.8h0m0.8 3.3h0m1 -2.2h0m-1.5 8.6h0m-11.1 -0.5h0m-2.6 -0.8h0m-1.9 -2.3h0m-1.5 -1.1h0m-0.5 2.8h0m-1.3 -3.4h0m-14.9 1.2h0m-3.2 3.8h0m-2.1 -2.9h0m-2.3 1h0m-2.5 0.7h0m-0.6 -0.1h0m-0.8 -1.5h0m-2.1 -1.7h0m-1.1 3.7h0m-2.7 0.3h0m-1.2 -2.4h0m-0.3 3.1h0m-0.6 -2.7h0m-0.9 1.8h0m-0.8 -0.6h0m-2.9 0.9h0m-5.6 -1.6h0m-0.4 1.8h0m-0.3 -4.8h0m-0.9 1.9h0m-2.3 -0.7h0m-0.9 1.1h0m-0.2 0h0m-5.2 3.3h0m-1.3 -5.9h0m-2.4 2h0m-4.2 1.9h0m-1 -1.8h0m-9.3 -1.3h0m-4.4 0.8h0m-0.3 0.6h0m-4.8 -0.4h0m-6.9 3.1h0m-1.9 -0.3h0m-6.3 0.6h0m-1.2 -1.1h0m-1.1 -2.5h0m-2 3.6h0m-1 -1.8h0m-1.4 -2.1h0m-3.3 0.9h0m-3.4 3h0m-5.7 -1.8h0m-0.2 -3.1h0m-5.8 3.4h0m-4.8 -2.8h0m-0.1 2.5h0m-2.9 5.6h0m0.1 1.9h0m6.8 -0.2h0m0 -1h0m1.6 -2.2h0m5.6 4.4h0m2.5 -4.2h0m1.1 -1.2h0m2 1h0m1.8 -0.6h0m0.3 3.4h0m1.4 -0.8h0m0.3 -2.5h0m4.8 1.7h0m2 2.2h0m16.6 1h0m1.3 -2.4h0m1.1 2h0m13.1 -1.8h0m1.2 1.6h0m0.6 -2.1h0m0.3 -2h0m0.1 2.6h0m8.5 -2.3h0m1.1 3.8h0m5 -3.2h0m0.8 1.3h0m2.3 1.1h0m1.9 -1.3h0m0.1 -0.1h0m5.1 2.1h0m7.7 -3.7h0m5.9 2.4h0m0.1 -0.2h0m0.8 -1.1h0m8.9 3.3h0m2.5 -0.5h0m2.6 -2.9h0m4.5 0.5h0m9.1 2.1h0m1.9 0.1h0m1.4 -0.1h0m4.7 -0.5h0m3.9 -2h0m5.7 -2.6h0m2.1 6.6h0m-0.3 2.6h0m-1.2 -1h0m-3.4 -2.2h0m-3.7 0h0m-0.5 3.9h0m-3.6 0.2h0m-9.6 -0.6h0m-5.9 -2.9h0m-1.4 2.7h0m0 -2.5h0m-2.2 -0.1h0m-5 3.3h0m-2.9 -2h0m-0.3 0.4h0m-7.1 2.4h0m-0.4 -1.2h0m-1.9 -1.1h0m-5.1 0.1h0m-0.3 -0.8h0m-4.1 0h0m-1.6 3.7h0m-0.3 -2.8h0m-0.9 -1h0m-5.8 3.1h0m-4.2 1h0m-2.4 -1.1h0m-3.2 -0.5h0m-4.4 1.1h0m-3.7 0.1h0m-0.3 -5.1h0m-0.2 4.7h0m-2.5 0.8h0m-6.9 -2.3h0m-6.2 -1.9h0m-4 2.8h0m-4.7 -4h0m-1.2 4h0m-9.9 0.5h0m-12 0.2h0m-0.5 -5.1h0m-10.4 4.3h0m-1.5 -0.1h0m-2 -1.5h0m-2.8 0.7h0m3.7 4.1h0m0.7 2.9h0m3.4 -1.7h0m5.1 1.5h0m3 -3.7h0m2.8 3.2h0m1.9 1.5h0m0.2 0.2h0m8.9 -5.2h0m1.9 0.8h0m0.2 -0.9h0m6.8 3.9h0m2.1 -3.1h0m0.4 0.9h0m2.2 3.2h0m5.7 -1.6h0m1.8 0.4h0m4.1 1.3h0m2.2 -3.1h0m4.5 1.1h0m1.1 1h0m0.4 -2.8h0m2.8 -0.3h0m3.3 3.8h0m3.5 -4.1h0m1.9 4.9h0m0.6 -3.3h0m6.4 1h0m0.4 2.4h0m4.7 -1.2h0m0.4 -2.1h0m0.3 0.9h0m3.1 2.6h0m0.7 -5.6h0m1.4 1.6h0m4.8 -1.8h0m5.4 1.5h0m0.2 0.3h0m0.7 -0.2h0m0.2 -0.2h0m0.7 -0.3h0m4.7 3.7h0m5.2 -1.2h0m3.9 -2.3h0m3.9 1.3h0m1.3 -0.7h0m5.5 -1.2h0m1.4 0.1h0m2 2.5h0m2.1 0.6h0m1.1 -1.4h0m6.6 0.1h0m3.5 -1h0m1.6 3h0m0.6 -4.7h0m1.2 11.7h0m-2.7 -5.6h0m-1.9 3.9h0m-1.6 -0.9h0m-10.9 1.2h0m-4.3 1.1h0m-0.3 -0.3h0m-5 0.5h0m-0.9 -3h0m-1 2.7h0m-4.1 -5.2h0m-0.3 0.3h0m-1.4 3.1h0m-1.9 0.1h0m-4.2 -2.7h0m-1.8 0.7h0m-2 -1.4h0m-3.2 4.3h0m-2.4 -3h0m-4.2 2.7h0m-4.9 -2.9h0m-0.6 4.6h0m-0.4 -2h0m-0.3 -0.3h0m-0.2 1.7h0m-0.4 -3.6h0m-6.7 -1.1h0m-3.6 3.2h0m-6.8 -3.7h0m-0.9 2.2h0m-6.5 0.1h0m-9.3 -0.9h0m-0.8 1.6h0m-1.1 0.9h0m-0.5 -3.5h0m-0.5 4.9h0m-4.7 -4.8h0m-2 0.2h0m-4.5 2.7h0m-0.1 2.1h0m-6.8 -3.1h0m-4.8 -2h0m-0.3 1.7h0m-2.1 1.4h0m-10.3 1h0m-0.5 -0.1h0m-3.3 -0.6h0m-4.2 -0.4h0m-3.1 -1.9h0m-0.8 0.1h0m-0.8 -1.4h0m-1.3 3.8h0m3.9 7.2h0m1.5 -2.1h0m3.7 2.4h0m1.2 0.1h0m1.2 -5.4h0m0.7 2.5h0m3 -2.6h0m0.7 4.1h0m2.5 -1.6h0m0.3 -1.2h0m0.1 -1.5h0m0.4 0.4h0m2.2 0.3h0m0.3 2.1h0m0.3 -2.5h0m1 4.7h0m0 -1.1h0m2.5 -0.9h0m3.8 -1.6h0m8 0.5h0m1.6 2.3h0m0.5 -4h0m2.9 3.4h0m1.3 -2.4h0m6 2.6h0m5.9 -2.1h0m0 2.9h0m7 -1.4h0m0.3 -2.3h0m0.5 2.7h0m7.5 -0.4h0m0.5 -0.1h0m3.3 -0.2h0m3.8 2.4h0m6.2 -1.1h0m2.7 -2.5h0m1.6 -0.7h0m1.1 3.7h0m0.8 -1.8h0m1.2 2.8h0m4.8 -0.1h0m0.4 -1.5h0m2 -2.3h0m0.7 -0.6h0m0.9 0.6h0m5.2 1.8h0m0.9 1.6h0m0.3 -1.5h0m6.1 0.6h0m6.7 -4.2h0m2.9 2.8h0m6.1 -1.8h0m2.2 4.7h0m2 -2.3h0m0.5 -3.5h0m5.8 0.8h0m0.6 5h0m3.3 -5h0m5.4 7.8h0m-5.7 2.1h0m-0.5 -3.4h0m-2.7 1.1h0m-1.3 -1.9h0m-2.1 5h0m-0.1 -4.3h0m-0.4 3.1h0m-10.9 -1.7h0m-5.5 -2.6h0m-0.7 4.7h0m-1 -1.6h0m0 2.7h0m-2.2 -1.5h0m-2.5 0.9h0m-2.1 -4.1h0m-11.3 -0.5h0m-0.8 -0.5h0m-3 1.7h0m-12.5 3.2h0m-1.7 -1.8h0m-0.2 2.6h0m-2.3 -4.2h0m-0.5 1.8h0m-0.5 -1.7h0m-0.8 -1h0m-3.3 3.6h0m-3.1 -3.2h0m-5.8 1h0m-3.1 -1.7h0m-9.4 0.6h0m-2.6 0.5h0m-4.2 0.2h0m-1.3 3.1h0m-4.9 -1.1h0m-0.7 0.7h0m-11.6 0.6h0m-1.1 -0.8h0m-0.9 -3.7h0m-7.4 0.2h0m-0.5 5.2h0m-2.6 -0.7h0m-9.1 -4.1h0m0 -0.7h0m-0.3 1.6h0m-5.7 0.8h0m2.2 8.9h0m8.4 -2.1h0m0.1 1.2h0m3.7 -3.4h0m0.8 -0.1h0m0.8 0.5h0m4.5 -1.2h0m1 4.9h0m3.1 -3.1h0m6.9 -2.3h0m2.2 2h0m0.3 0.5h0m0.2 1.6h0m1.5 -3.6h0m0.9 -0.2h0m1.3 3h0m1.5 -3.2h0m3.2 3.9h0m3.2 -2.8h0m0.2 2.5h0m2.5 0.5h0m2.7 -0.8h0m3.9 0.3h0m0.5 1.1h0m1 -2.2h0m2.5 -0.5h0m1.6 -0.4h0m1.4 0.2h0m1.7 3.5h0m11.4 -3.8h0m2.5 1.2h0m3.6 1.5h0m3.9 -1.3h0m4.8 -1.7h0m3.9 0.5h0m1.7 1h0m0.1 -1.7h0m0 2.3h0m0.9 0.2h0m0.4 -1.7h0m2.6 -1h0m1.1 4.8h0m5 -1.4h0m0.1 -4.1h0m0.4 5.1h0m0 -2.6h0m0.1 -0.4h0m0.9 -2.1h0m3.3 4.5h0m2.4 -4.5h0m0.1 1.1h0m0.7 0.6h0m7.3 1.3h0m0.8 -1.7h0m10.3 -1.3h0m6.4 5.4h0m2.4 -4.4h0m0.7 0.2h0m0 -0.1h0m5.7 7.7h0m-1.6 2.1h0m-4.6 -4.8h0m-3.9 2.9h0m-6.8 1.1h0m-6.3 -2.2h0m-6.2 -0.4h0m-0.4 1h0m-2.2 -0.3h0m-0.6 2.5h0m-6 -4.1h0m-0.5 3.2h0m-2.7 1.7h0m-2.1 -1.8h0m-1 -1.1h0m-11.5 0.5h0m-3 1h0m-0.2 -2.5h0m-5 -1.5h0m-0.8 4h0m-3 -3.6h0m-2 4.5h0m-5.6 -1.4h0m-1.3 1.4h0m-2.8 -3.5h0m-3.2 -0.4h0m-3.7 -1.2h0m-2.2 4.8h0m-5.7 -2.8h0m-3.7 -0.5h0m-1.1 0.9h0m-6.5 -1.2h0m-0.1 -0.8h0m-2.8 0.3h0m-10 3.7h0m-1.5 1h0m-0.8 -2.3h0m-8.1 1.4h0m-6.6 -3.3h0m-10.8 4h0m-1.4 -0.6h0m-1.5 6.8h0m2.9 -1.4h0m0.4 -4.1h0m4.1 1h0m1.8 0.9h0m1.2 0.9h0m5.2 -2.7h0m10.9 1.1h0m0.5 2.2h0m0.8 -0.7h0m5.3 -0.5h0m1.9 2.1h0m8.9 -1.2h0m0.4 -1h0m1.4 0h0m0.9 -1h0m5.4 3.4h0m5.4 -1.3h0m3.1 -0.5h0m0.1 -1.3h0m6.8 4.3h0m3 -3.9h0m2.4 1.2h0m0.5 2.1h0m2.5 -5.2h0m1.2 3.8h0m12.6 -3.2h0m0.2 -0.1h0m0.1 1.1h0m2.8 -1h0m1.3 2.9h0m0.4 0.6h0m5.5 0.8h0m1.8 -0.1h0m0.3 -4.5h0m0.9 4.3h0m2.9 -4.1h0m8.3 0.9h0m5.5 -0.5h0m0.9 3.5h0m1.1 -2.3h0m0.3 1.8h0m1.1 -1.6h0m0.8 2.4h0m8.4 -1.2h0m0.7 1.4h0m0.5 -4.3h0m0.5 0.8h0m0.2 4.1h0m4.7 -2.9h0m0.3 2h0m3.6 -4.4h0m6.1 3.2h0m0.5 2.3h0m0.8 3.1h0m-3.3 2.2h0m-4.8 -0.4h0m-1.6 0.9h0m-11.8 -2.8h0m-2 1.4h0m-1.6 -3.5h0m-3.9 3h0m-0.8 -3h0m-3.6 3.9h0m-1.4 1.4h0m-1.7 -4.1h0m-2.8 -1h0m-3.8 -0.3h0m-1.7 2.9h0m-0.1 1.5h0m-3.3 -4.5h0m-5.8 1.2h0m-2.4 2.1h0m-2.2 1.6h0m-3.2 -1.8h0m-5.6 0.4h0m-5.9 -2.2h0m-2 3.5h0m-1.3 -1.7h0m-8.6 -3h0m-8.7 0.8h0m-5.5 1.9h0m-0.2 0.6h0m-4.6 0.2h0m-3.4 -2.4h0m-2.4 0.7h0m-4.6 1.3h0m-4.6 -0.6h0m-13.5 1.4h0m-0.1 0.6h0m-3.6 0.7h0m-1.2 -1.2h0m-5.3 1.3h0m-4.8 -2.7h0m-0.9 3h0m1.5 4.5h0m9.5 -1.4h0m0.5 -0.3h0m6.6 0.9h0m3.1 -0.8h0m1.3 2h0m6 -0.4h0m6.4 -1.2h0m3.8 -2h0m5 -0.9h0m4.7 1.2h0m1.8 -0.3h0m0.7 2.6h0m0.7 -1.6h0m0.2 3.1h0m0.7 -0.7h0m2.1 -0.2h0m8 -1.2h0m5.3 1.5h0m0.2 -0.4h0m3.7 -4.1h0m0.7 2.9h0m0.8 1.6h0m1 -4.5h0m0.8 2.7h0m5.1 0.9h0m2.2 -2h0m2.5 1.3h0m2 1.4h0m1 -2.9h0m8 1h0m1.1 3.1h0m0.2 -3.4h0m2.1 -0.6h0m3.4 3.9h0m4.5 -3.5h0m4.7 2.8h0m2.3 -2.8h0m4.7 -0.6h0m6.2 0.8h0m5.5 -1.3h0m7.8 4.7h0m3.9 -1.7h0m6.2 -0.4h0m-1.4 5.8h0m-1.3 0.9h0m-1.2 1h0m-1 -5.3h0m-2.2 2.1h0m-3.2 -0.4h0m-2.4 1.1h0m-4.6 -0.6h0m-0.9 1.7h0m-4.8 0.6h0m-1.6 0.1h0m-4.6 -1.1h0m-13.5 1.9h0m-8.8 -1.5h0m-0.7 -3.4h0m-8.4 0.6h0m-0.2 -0.4h0m-6.1 3h0m-3 -1.4h0m-0.4 2.2h0m-2.6 -0.3h0m-8.2 0.3h0m-2.4 -4.6h0m-2.9 1.5h0m-2.1 4h0m-1 -0.2h0m-4.7 -4.3h0m-0.2 2.7h0m-0.4 -0.7h0m-4.1 -2h0m-7 2.2h0m-2.2 0.5h0m-12.7 1.4h0m-0.6 -3.9h0m-0.1 2.6h0m-0.8 -0.4h0m-7.2 -1.4h0m-1.9 -0.4h0m-2.1 3.2h0m-7.1 -2.9h0m-8.1 2h0m-0.3 -1.2h0m2 6.9h0m1.7 -1.2h0m0.3 3.4h0m1.9 -4h0m6.6 0.9h0m0 2.2h0m0.1 -0.7h0m3 -1.9h0m1.4 1.7h0m2.9 -3.2h0m1.4 4.8h0m0.4 -4.4h0m1.7 1.1h0m0.6 2.4h0m3.8 -1.8h0m1.6 2.6h0m0.7 -3.6h0m2.5 -0.2h0m8.5 -0.7h0m2.1 2.3h0m1.8 -0.9h0m0.2 -1h0m6.9 -0.7h0m8.6 5h0m1.3 -4.5h0m8.7 1.6h0m1.4 -2.5h0m4.9 4.7h0m5.5 -1.6h0m1.5 -1.8h0m1.8 2.5h0m0.9 1.7h0m1.8 -5.1h0m5.8 2.2h0m2.4 2.1h0m5 -0.9h0m7.4 -1.8h0m0.2 -1.1h0m6 1.1h0m0.1 2.8h0m15.8 -2.7h0m1.2 -0.2h0m1.4 2.9h0m0.4 -4.3h0m0.2 1.1h0m0.4 1.9h0m6.2 -3.8h0m0.6 0.8h0m4.8 0.2h0m2.9 1.5h0m1 7.2h0m0 -0.1h0m-10.7 1.7h0m-0.9 -5.4h0m-1 3.1h0m-3.2 0.8h0m-0.1 -0.6h0m-0.3 -0.1h0m-0.9 -1.3h0m-0.6 -1.5h0m-0.5 0h0m-4.1 5.2h0m-5.5 -4.2h0m-7.5 1.7h0m-5.7 1.4h0m-1.1 -3.6h0m-0.6 0.2h0m-1 -1.1h0m-17.3 5.2h0m-3.4 -0.8h0m0 -1h0m0 0.8h0m-5.4 -3.8h0m-3.9 3.1h0m-3.3 -0.7h0m-3.3 0.7h0m-5.6 -0.2h0m-1.9 1.4h0m-1.6 -0.1h0m-0.1 -2.9h0m-0.7 3.6h0m-1.5 -2h0m-2 1.8h0m-8 -2.4h0m-0.4 0.8h0m-0.5 -3.3h0m-11.5 4.4h0m-7.3 0.2h0m-1.8 -1.7h0m-3.1 -2.3h0m-1.1 4.4h0m-7.3 0.5h0m-1 -1.5h0m-13.3 -1.4h0m-0.3 -2.4h0m-1.9 5h0m2.8 0.6h0m7.4 4.5h0m1.9 -3h0m0.7 3.6h0m0.1 -0.6h0m0.7 0.7h0m3.5 -0.3h0m0.1 -4.6h0m0.1 4.8h0m0.1 -3.8h0m12.3 4.2h0m6.3 -4.7h0m9.2 3.7h0m3.2 -2.7h0m0.7 3h0m2.3 -1.6h0m3.1 1.1h0m0.5 0.3h0m0.2 0.5h0m7.5 -1.5h0m0.8 0h0m11.5 -3.1h0m4.3 1.3h0m1 -1.4h0m4.2 0.2h0m4 4.3h0m4 -1.4h0m2.9 1.7h0m3 -0.9h0m4.4 -3.7h0m0.4 3h0m2.3 -1.5h0m12.4 -1.6h0m0 5.4h0m3.1 -4.3h0m8.5 -1h0m1.6 4.5h0m9.1 -2.8h0m6 5.8h0m-7.3 2.9h0m-11.3 0.8h0m-0.4 -2.2h0m-3.2 -3.6h0m-3.8 3.5h0m-0.4 0.2h0m-4 -0.2h0m-1.2 1.3h0m-0.7 -2.7h0m-1.8 -0.8h0m-0.7 -0.4h0m-4 1.3h0m-1.3 0.9h0m-0.1 0.8h0m-3.1 -3.6h0m-0.3 4h0m-0.8 -4.3h0m-0.7 0.2h0m-3.4 4.8h0m-6 -3.2h0m-0.6 0.7h0m-1.2 3.3h0m-0.7 -1.4h0m-1.4 -1.7h0m-4.5 -1.3h0m-0.7 2.3h0m-11.1 -0.3h0m-0.3 -3.1h0m-2.7 3.4h0m-1.3 0.3h0m-0.4 -1.5h0m-7.1 0.9h0m-14.4 -2.6h0m-2 0.6h0m-0.4 1.6h0m-5.8 -0.7h0m-0.8 -1.6h0m-1.8 2.3h0m-12.8 -2.8h0m-6.6 4.7h0m-0.9 -4.6h0m-5 5.1h0m-0.2 -4.5h0m-4.6 1.5h0m-0.5 1.8h0m-2.6 4.6h0m1.8 1.1h0m4 -3.6h0m4.8 1.7h0m10.8 -1.4h0m2.1 2h0m7.4 0.6h0m1.8 -1.9h0m2.8 3.4h0m1.7 -3.7h0m3.2 4h0m3.9 -2.2h0m0.2 -2.8h0m2.6 5.7h0m0.3 -5.5h0m1.8 3.2h0m3.9 -0.8h0m1.4 0.8h0m2.5 -0.4h0m10.8 -1.8h0m1.5 1h0m5.5 3.2h0m4.7 -3.7h0m2.6 -1.2h0m3.3 3.1h0m1.4 0.7h0m5.4 1.4h0m0.3 -2.4h0m4.9 -3.3h0m2.9 2.5h0m8 -1.4h0m0.1 2.7h0m4.6 -3.3h0m3.6 -0.3h0m0.4 4.4h0m2.7 -0.8h0m0.3 -2.3h0m1.5 1.2h0m0.2 1.2h0m4.3 1.7h0m6.8 -5.5h0m2.8 2.2h0m6 3.3h0m6 -0.2h0m1.9 -1.9h0m-1.1 7.7h0m-1 -4h0m-4.6 3.9h0m-0.7 0.5h0m-1 -2.1h0m-0.8 -0.4h0m-3.8 -2.6h0m-1 5.4h0m-2.5 -1.7h0m-0.2 -2.7h0m-0.3 0.3h0m-0.4 -1.8h0m-1 2.1h0m-1.5 3.5h0m-0.7 -4.8h0m-14.5 1.9h0m-7.5 3.2h0m-1.2 -2.6h0m-3 -1.9h0m-0.2 2.6h0m-0.4 -2h0m-7.2 -1.2h0m0 1.4h0m-4 -0.8h0m-9.6 -0.7h0m-7.5 4.5h0m-1.2 -3h0m-0.2 2.1h0m-1 -1.1h0m-0.2 -2h0m-4.5 2.8h0m-7.2 -2h0m-3.2 1.2h0m-2.9 0.7h0m-0.8 0.6h0m-3.4 -0.4h0m-4.6 -1.9h0m0 0.8h0m-0.1 -1h0m-6.6 0.9h0m-1.5 -2.1h0m-8.6 5.1h0m-0.1 -4.2h0m-2.3 -1.4h0m-0.9 5.3h0m-1.8 -1.6h0m-6.8 -1h0m-6.1 1.2h0m-4.7 1.1h0m-1.5 -0.5h0m-0.6 -3.4h0m0.3 6.2h0m0.2 -0.5h0m5.5 1.2h0m4.3 -2.2h0m3.5 0.6h0m2.4 2h0m1.8 1.4h0m1.7 -3.2h0m3.6 0.9h0m1.4 2.2h0m1.4 1.3h0m6.2 -1.5h0m1.4 1.1h0m11.8 -3.5h0m1 -1.3h0m0.5 3h0m5.8 1.5h0m2.7 -4.1h0m7.4 4.4h0m0.8 -1.4h0m3.5 2.1h0m2.2 -0.5h0m1.5 -1.1h0m9.8 -0.7h0m1.3 -2.5h0m4.5 4.8h0m3.2 -5.2h0m12.1 0.3h0m1.9 0.2h0m2 4.8h0m0.2 -4.9h0m14.7 1.8h0m14.6 -2.1h0m3.2 1.3h0m6.7 -0.7h0m-1 7.3h0m-1.2 -1.2h0m-0.7 3.8h0m-1.6 -2h0m-8.7 0.5h0m-0.3 0h0m-1.7 1.6h0m-21.2 -1.9h0m-3 -2.4h0m-1.8 3.3h0m-5.5 -2.1h0m-2.6 3h0m-5.1 -2.2h0m-18.9 -2h0m-0.9 2.5h0m-3.9 -0.1h0m-0.1 -2.7h0m-2.2 3.6h0m-2.2 -3.4h0m-3.2 0h0m-7.5 4.7h0m-11.3 -2h0m-2.1 -2.3h0m-4 -0.2h0m-2.5 4.1h0m-2 0.8h0m-3.4 -1.2h0m-1.4 1.3h0m-3.1 -3.8h0m-5.4 -0.6h0m-0.4 0.7h0m-1.3 1.7h0m-4.1 -2.4h0m-2.2 1.7h0m-10.8 0.4h0m1.6 4.9h0m2.8 1.2h0m3.3 -3.4h0m3.1 0.4h0m2.5 2.8h0m1.7 -2.3h0m0.2 3.1h0m15.7 -3.2h0m0.8 2.9h0m3.4 1.5h0m4.4 -2.3h0m3.3 -1.6h0m9.8 -0.7h0m0.8 3.1h0m13.3 1.2h0m1.5 0.5h0m7.2 -2.8h0m7.6 2.2h0m2.8 -3h0m3.9 2.9h0m1.6 -2.8h0m1.9 2.7h0m2.1 -3h0m5.4 2.6h0m11.3 -2.5h0m1.8 0.5h0m4.2 0.9h0m1.6 1.6h0m2.5 -4.3h0m2.1 2.9h0m21.1 -0.6h0m0.5 1.6h0m2.2 5.3h0m0 -3h0m-0.3 3.2h0m-6.8 0.1h0m-7.6 -2.2h0m-4.1 2.1h0m-0.6 -0.5h0m-0.8 -3h0m-1.1 0h0m-4.2 5.2h0m-0.3 -2.4h0m-1.1 1h0m-2.7 -3.6h0m-5.1 2h0m-4.7 2.3h0m-1.5 -3.6h0m-0.4 0.1h0m-1 -0.2h0m-6.3 1.1h0m-3.4 -2h0m-6.5 2.7h0m-2.4 -0.8h0m-4.2 1.8h0m-5.2 1.4h0m-7.1 -5.4h0m-3.4 0.7h0m-0.3 -0.4h0m-0.3 1.9h0m-3.2 1.2h0m-7.5 -0.3h0m-7.9 2h0m-4 -0.1h0m-1 -4.1h0m-2.3 0.2h0m-5.4 2.7h0m-1.5 -0.5h0m-6.4 -1.9h0m-2.3 -0.6h0m-3.4 3.7h0m-3.1 -0.9h0m-1.6 -1.5h0m-3.3 -1.6h0m-4.6 1.7h0m-2.8 1.5h0m-2.8 0h0m-2.8 -2.3h0m-1.9 8.5h0m0.7 -1.6h0m13.4 0.5h0m23.2 -1h0m1.1 -1h0m3.4 3.5h0m11.3 0.1h0m2.2 -3.8h0m2.9 -0.7h0m1.6 4.7h0m0.5 -4.3h0m2.3 4.3h0m2.6 -2.6h0m0.6 -1.7h0m3.1 4.6h0m6.4 -3h0m0.1 -0.8h0m10.9 2.5h0m2.4 -1.7h0m2.6 1h0m0.9 -2.3h0m0.2 2.4h0m1.3 2.7h0m1.2 -0.1h0m5.5 -3.6h0m3.1 0.8h0m0.4 0.4h0m1.6 -0.5h0m1.3 -1.6h0m5.9 3.1h0m4.7 -2.2h0m4.8 -1.5h0m1.1 -0.7h0m2.4 5.9h0m1.6 -4.4h0m1.5 3.8h0m9.5 -3.6h0m6 1.4h0m1.7 5h0m-5.6 0.8h0m-19.7 -1.9h0m-7.4 1.3h0m-3.7 -0.5h0m-10.1 -0.4h0m-1.6 1.4h0m-0.6 -0.3h0m-1.4 -0.6h0m-6.5 -1.4h0m-3 1.2h0m-4.5 1.2h0m-22.7 -1.8h0m-9.5 1h0m-5.2 -1.1h0m-1.3 1.9h0m-9.2 -0.8h0m-7.9 -2.1h0m-27.2 2.2h0"/><path fill="none" stroke="#e878cc" stroke-width="2" stroke-linecap="round" stroke-opacity="0.8" d="M162.9 406.6h0m-5.5 -0.7h0m-99.7 4.2h0m67.3 3.5h0m6.9 -3.1h0m38.1 2.2h0m7.2 4.5h0m-35.8 1.8h0m-0.1 0.7h0m-28.5 0h0m-28.3 -2.4h0m-7.7 0.9h0m-27.6 0.7h0m-4.8 -3.5h0m37.9 8.5h0m52.5 1.9h0m4.4 -5.8h0m8.6 1.6h0m15.2 2.2h0m22.6 5.6h0m-5.6 -0.9h0m-19.3 2.6h0m-34.8 0.2h0m-18.3 -2.9h0m-8.4 2.5h0m-7.7 -1.4h0m-50.9 3.7h0m1.3 -1h0m32.8 3.7h0m10.5 -2.5h0m16.2 3.3h0m9.3 -2.6h0m44.2 1.6h0m27.7 0.1h0m-12 3h0m-31 2.2h0m-12.4 -2.3h0m-1.3 1.2h0m-25.3 9.6h0m14.4 -5.2h0m39 3.8h0m3.1 -3.4h0m15.7 5.9h0m-11.4 1.8h0m-29.1 -2.1h0m-50.4 4.6h0m-1.9 -2h0m-0.5 3h0m-25.2 -4.4h0m-0.8 2.8h0m-12.9 -1.9h0m-0.1 1.1h0m88.9 4.7h0m21 -1.4h0m27.8 5.4h0m-5.4 3.7h0m-18.3 -1.6h0m-6.6 2.7h0m-1.4 4.8h0m32.8 1.5h0m5.2 0.7h0m-19.1 1.7h0m-0.3 -1h0m-34.8 4.6h0m-58 -1.9h0m-4.9 0.4h0m-17.8 -1.4h0m16.3 5.8h0m34.9 0.5h0m12.4 -0.4h0m19.4 2.6h0m42.2 0.2h0m-6.1 6.6h0m-15 -3.1h0m-33.6 -0.9h0m-2.6 0.4h0m-41.8 -0.6h0m-33.4 1.8h0m-4.9 8h0m20.9 -0.6h0m56.7 -2h0m46.9 -2.6h0m-9.6 11.4h0m-10.6 0.2h0m-1.1 -1.1h0m-5.6 0.4h0m-0.4 0.5h0m-38 -4.2h0m-24.3 1.4h0m-0.5 1.9h0m-28.6 -0.6h0m42.2 4.2h0m28.5 2.5h0m3.8 0.6h0m9.7 -3.2h0m10.3 3.4h0m32.2 -2h0m7.1 1.4h0m10.2 6h0m-36.3 0.2h0m-2.3 0.8h0m-56.1 -5.4h0m-48 10.6h0m42.9 -3.1h0m7.4 1h0m44.3 -0.2h0m8.8 -2.1h0m38.5 8.3h0m-15.3 -2.5h0m-21.3 3.3h0m-25 -2.5h0m-5.2 1.3h0m-22.3 0.4h0m-17.2 2.2h0m-41.6 -3.5h0m49.1 8.2h0m31 0.6h0m66.3 2.2h0m-79.1 1.8h0m-2.5 -1.1h0m-36.9 0.8h0m-8.7 2.5h0m-17.4 6.6h0m12.2 0.1h0m36.4 -1.6h0m4.4 -3.6h0m44.2 3.6h0m48.2 -0.9h0m-14.2 6.2h0m-21.7 2.5h0m-10.3 -4.1h0m-33 1.1h0m-36.4 -0.9h0m-9.8 3.8h0m-8.2 0.1h0m-9.5 -4h0m18.1 8.6h0m22.5 0.6h0m8.7 -2.4h0m7 2h0m4.3 -2.5h0m1.6 3.8h0m28.7 0.1h0m27.6 1.3h0m-28 0h0m-26.2 -0.9h0m-52.2 1.2h0"/><path fill="none" stroke="#e878cc" stroke-width="2.6" stroke-linecap="round" stroke-opacity="0.8" d="M133 406.5h0m-9.4 -0.1h0m-11.4 -0.5h0m-6 0.9h0m-3.5 0.4h0m-32.5 3.5h0m13.1 3.2h0m17.2 -1.9h0m51.3 -2.8h0m17 3.5h0m1.6 -3.3h0m-87.2 6.5h0m-9.5 3.9h0m-1.5 0.2h0m48.9 1.8h0m21 1.9h0m-42.2 3h0m-3.1 -0.5h0m-18 0.6h0m-15.7 -0.4h0m-21.4 5h0m15.2 3.8h0m68.9 -0.7h0m46.6 -1.9h0m1 1.9h0m14.3 -2.4h0m-24.7 8h0m-18.4 1.7h0m-1.5 -3h0m-17.4 -0.6h0m-79.7 5.7h0m-3.6 5.9h0m28.7 -3.2h0m52.4 2.9h0m5.3 0.4h0m1.7 -5.3h0m23.4 3.2h0m2.6 -1.1h0m10.9 1.6h0m10.8 3.6h0m-57 3.3h0m-34.9 -3.4h0m-0.9 -0.8h0m-32.4 2.7h0m-11.3 -2.2h0m-3.9 7.8h0m7.8 2.3h0m39.5 0.2h0m4.9 -4.8h0m4.4 2.4h0m10.7 0.3h0m9 1.7h0m9.2 -1.9h0m11.4 1.8h0m6.1 0.5h0m2.8 -5.6h0m10.4 0.1h0m21.5 3h0m10.6 -3h0m-5.2 8.6h0m-5.8 2.2h0m-61.3 -4.7h0m-41.2 3.1h0m-6.3 -2.7h0m-22 10.9h0m8.5 -4.1h0m19.8 -0.5h0m24.8 3.3h0m21.7 -4.1h0m17.7 0.3h0m44.3 9.5h0m-10.1 1.4h0m-7 0.2h0m-47.1 -3.4h0m-78.5 8.4h0m6.1 -2.1h0m4.5 0.4h0m23.9 -1.9h0m28.5 -0.1h0m18 3.7h0m43.7 -2.9h0m0.5 3.9h0m0.2 -3.4h0m16.4 8.8h0m-88.7 -1.3h0m-15.2 -1.5h0m-8.7 -1.3h0m-7.9 8.1h0m50 -2.1h0m42.6 3.7h0m29 -3.7h0m1.4 3.2h0m-34.6 3h0m-25.5 1.8h0m-11.3 -0.6h0m-45.3 3.1h0m-17.1 2.7h0m8.9 2.4h0m6.3 -0.5h0m33 -4.1h0m23.1 5.1h0m3.4 -4.6h0m5.6 3.8h0m8.2 -2.1h0m19.7 -2h0m31.2 4.6h0m-7.6 5.8h0m-23 -3.2h0m-4.7 3.2h0m-0.6 -0.8h0m-13.9 -3.4h0m-12.3 1.4h0m-54.6 2.9h0m-32 -2.5h0m8.4 8.5h0m1.4 -0.6h0m18.8 0.1h0m11.1 -1.1h0m3.3 2.5h0m35.4 -2.9h0m70.5 -1h0m-15.2 9.8h0m-8.8 -1.8h0m-38.8 -3.5h0m-1.7 5.5h0m-68.8 3.6h0m7.9 -0.6h0m9.6 2.8h0m17.6 0.3h0m9 -3.5h0m79.2 -1.3h0m-35.2 10.6h0m-14.4 -2.6h0m-15.4 2.5h0m-19.6 -1.4h0m-9.9 0h0m-12.6 -3.8h0m-29.6 -0.2h0m13.8 11.3h0m75.2 -5.2h0m22.1 0.3h0m11.2 4.1h0m-42.9 4.4h0m-2.2 0.4h0m-5.5 -2.6h0m-30.4 0.6h0m-32.8 5.9h0m47 0.4h0m10.1 0.8h0m55.4 0.9h0m14.1 3h0m-29.5 -0.3h0m-84.5 0.4h0"/><g filter="url(#soft2)"><ellipse cx="120" cy="482" rx="5.5" ry="3.2" fill="#f04a6a"/><ellipse cx="111" cy="479.5" rx="6" ry="1.3" fill="#f07898" fill-opacity="0.8"/></g><path d="M41.6 415.6 V412.2 H62.4 V415.6" fill="none" stroke="#1a0a18" stroke-width="1.3"/><text x="52" y="410.2" font-size="4" text-anchor="middle" font-family="Liberation Sans" fill="#3a1838">100um</text></g><g clip-path="url(#cgh)" filter="url(#soft)"><rect x="188.5" y="405.0" width="152.5" height="156.0" fill="#e476ba"/><path fill="none" stroke="#862c96" stroke-width="1.2" stroke-linecap="round" stroke-opacity="0.85" d="M315.9 405.9h0m-10.7 0.9h0m-31.1 0.5h0m-7.7 0.3h0m-40 -1.4h0m-0.3 0.3h0m-11.2 4.5h0m0.6 -1.5h0m1.4 2.2h0m10.9 -3.6h0m23.8 0.1h0m0.6 1.9h0m1.9 1.4h0m4.4 -2.1h0m12.2 0.1h0m8.8 3.3h0m7.3 -1.1h0m1.4 -3h0m16.3 1h0m3 2.2h0m22.3 1h0m2.8 -2h0m4.2 -1.2h0m1.7 8h0m-2.7 0h0m-4.4 2.2h0m-2.5 -2.2h0m-9.3 1.5h0m-11 -2.7h0m-26.7 2.4h0m-1.6 -3.8h0m-9.3 3h0m-6.4 -1.3h0m-24.3 -0.3h0m-2.9 3.1h0m-7 -1.1h0m-1.4 -1.5h0m-11.5 2.2h0m-3.6 -3.2h0m-22.2 5h0m2.3 2.3h0m51.3 -1.3h0m13.6 2.2h0m4.5 0.5h0m8.9 -3h0m23.4 1.3h0m3.7 -2.6h0m7.1 -0.2h0m11.1 4.5h0m4.2 -3.4h0m8.6 2.3h0m-8.3 6.2h0m-8.8 1.7h0m-6 -2.9h0m-9 -0.2h0m-7.8 2.5h0m-0.3 -3.2h0m-11.3 0h0m-1.6 2.6h0m-29.1 -0.3h0m-5.3 -1.6h0m-2.4 -0.3h0m-1 -1.8h0m-33 9.9h0m8.2 -0.7h0m1.6 2.3h0m0.3 -4.8h0m2.9 2h0m0.9 -1.7h0m11 -0.8h0m2.2 0.7h0m0.7 -0.4h0m8.9 -0.1h0m2.6 4.1h0m5 0.7h0m3.5 -0.9h0m1.7 1.2h0m11.5 -5.5h0m3.1 4.1h0m3.5 -1.7h0m2.4 2h0m8.2 -2.4h0m29.1 1.8h0m9.4 0.5h0m9.5 -3.9h0m8.2 5.9h0m-0.7 5h0m-1.1 -1h0m-0.7 -0.9h0m-10.4 -1h0m-7.3 -1.7h0m-3.9 -0.2h0m-5 0.4h0m-1.2 3.3h0m-11.3 1h0m-7.6 -1.4h0m-1.2 -1h0m-13.7 0.2h0m-4.1 -0.7h0m-17.8 -2.6h0m-6.5 1.1h0m-7.7 0.6h0m-4.7 0.7h0m-7.8 -1h0m-7.6 -0.6h0m-1.2 0.3h0m-11.5 0.6h0m-0.1 -0.5h0m-6.3 0.8h0m-3.8 -0.1h0m-4.1 3.7h0m-0.5 -2.2h0m15.5 4.8h0m32.5 -2.1h0m9.9 2h0m17 1.3h0m21.3 -1.8h0m9 -0.9h0m13.2 4.3h0m17.1 -0.2h0m0.8 3.2h0m-8.5 -1.9h0m-13.2 2.5h0m-30.8 1.3h0m-8.2 -3.9h0m-4.1 2.5h0m-3.9 1.9h0m-14.6 -3.9h0m-1.7 5.3h0m-9.2 -1.6h0m-0.6 -4.2h0m-3 3h0m-0.1 0.1h0m-5.4 -2.7h0m-2.7 0h0m-15.6 2.8h0m-12.3 -3.2h0m-6.7 5.2h0m2.4 2.2h0m2.1 1h0m3.3 1.2h0m8.7 -1.4h0m3.4 2.5h0m4.5 -2.9h0m7 0.4h0m26.5 0.8h0m2.6 2.6h0m21.9 -2.9h0m6.9 -1.5h0m2.2 4.2h0m0.4 -3.7h0m2.6 2.4h0m2.8 -0.5h0m6.7 -3.5h0m9.5 4.9h0m21.8 0.9h0m2 -4.9h0m12.8 6h0m-1.3 -0.1h0m-6 3.5h0m-1.5 -4h0m-8.1 2.9h0m-4.3 -3.3h0m-14.6 5.4h0m-3.5 -4.4h0m-6.8 3.8h0m-5.1 -1.4h0m-3.6 0.4h0m-10.4 1.9h0m-1 -2.6h0m-0.1 1.8h0m-34.3 -3.4h0m-16.8 1.5h0m-16.1 -3h0m-8.3 10.4h0m2.1 0h0m11.6 -1.5h0m0.2 -2h0m9.8 0.1h0m14.2 2h0m14.5 2.1h0m8.2 -1h0m0.3 -1.3h0m9.2 0.1h0m5.5 1.1h0m0.2 1.6h0m1 -2.9h0m9.4 -1.8h0m9 3.6h0m0.5 -1.9h0m13.9 2.6h0m8.5 0.6h0m7.5 -4h0m3.4 0.5h0m1 0.1h0m0.4 1.8h0m11.3 5.1h0m-14.3 -1.8h0m-1.5 2.3h0m-0.6 -1.9h0m-27.4 0.7h0m-3.9 2.3h0m-2.9 1h0m-2.1 -2.6h0m-27 -0.9h0m-7.5 2h0m-10.4 -1.8h0m-9 3.2h0m-2.9 -4.2h0m-0.7 0.3h0m-2.5 0.5h0m-1.8 -0.9h0m-7 2.1h0m-0.5 -2.5h0m-13.6 2.2h0m-4.1 -3.1h0m-0.7 2.4h0m-4.5 -1.2h0m-3.9 2h0m13.2 5.5h0m1.7 -1.8h0m2.4 3.7h0m10.7 -3.3h0m17.2 3.8h0m50.5 -2.8h0m8.9 0.5h0m2.6 -2.6h0m3.8 4.6h0m0.1 0.2h0m23.1 -4.1h0m0.6 3.5h0m4 -2.1h0m0.1 2.5h0m10.2 3h0m-9.5 2.5h0m-1.1 -1.4h0m-5.7 1.5h0m-5.6 -4h0m-6.6 -0.2h0m-2.4 3h0m-2.8 -1.3h0m-11.4 -0.3h0m-4.6 3.1h0m-6.9 0.9h0m-20.6 -0.4h0m-2.1 0.5h0m-45.7 -0.9h0m-25.4 4.7h0m2 -3.5h0m46.5 4.5h0m6.4 -4.7h0m29.9 2.6h0m7.1 1.8h0m9.3 -3.9h0m5.2 4.8h0m3.3 0.3h0m7.1 -1.3h0m6.1 -1.6h0m6.2 1.1h0m12.6 -3.2h0m1.7 -0.6h0m1 2.2h0m-4.9 5.6h0m-2.3 -0.3h0m-26.3 3.6h0m-1.6 -1.9h0m-25.1 -0.6h0m-1.1 1h0m-2.7 1.9h0m-8.5 -3.3h0m-7.4 0.9h0m-5.5 -0.2h0m-0.7 0.7h0m-6.9 -0.4h0m-12 -0.3h0m-0.8 -2.7h0m-7.1 1.7h0m-9 1.4h0m-1.2 1.1h0m-2.9 0.1h0m-10.7 -4.2h0m1.1 11.1h0m14.3 0.5h0m10.5 -3h0m28.6 -2.1h0m17.7 1.7h0m12.2 2h0m0.9 -3h0m3.6 -0.6h0m10.5 -0.2h0m0.2 4.6h0m5.1 0.3h0m11.6 -5h0m1.5 2.1h0m17.8 -0.3h0m0.3 -0.5h0m3.8 1.8h0m1.6 0.2h0m2.9 1.7h0m-2.6 2h0m-7.4 3.8h0m-24.8 -2h0m-14.8 -2.3h0m-5.2 0.5h0m-8.4 2.4h0m-1.6 -1.3h0m-19.6 -1.6h0m-3.4 4.4h0m-0.7 -1.7h0m-7.7 -2.1h0m-1 0h0m-1.7 0.7h0m-5.2 -2.3h0m-3.5 4.7h0m-4.2 -0.3h0m-2.7 -0.4h0m-11.7 -0.3h0m-2.8 -3.7h0m-8.9 3.6h0m-1.5 -1.3h0m-9.4 0.6h0m0 4.4h0m18.8 2.3h0m1.6 1.7h0m0.9 -1.5h0m4.1 2h0m1.5 -5.8h0m5.8 5.4h0m0.7 -0.5h0m2.8 -2.7h0m15.8 0.7h0m5.5 1.8h0m17.2 -0.8h0m2.8 0.9h0m3.7 -4.4h0m35.4 1.7h0m2.8 3.4h0m2.6 -2.2h0m7.5 2.1h0m8.7 -0.1h0m7.9 1.6h0m-5.6 1.5h0m-2 2.1h0m-0.9 -1.2h0m-23 0.2h0m-31.8 1h0m-11.2 -3.6h0m-1.2 3.7h0m-5 -1.6h0m-10.4 -0.6h0m-1.1 2.5h0m-8.6 -3.1h0m-11.9 2.2h0m-7.9 -0.4h0m-7.8 1h0m-5.4 -2.3h0m-11.6 2.9h0m-3.8 -3.1h0m2 5.8h0m7.2 2.8h0m2.8 0.1h0m0.5 -4.3h0m6.2 3.7h0m3.8 1.2h0m15.9 -3.8h0m22.5 3.7h0m0 0.5h0m31.2 -2.5h0m0.6 0.7h0m4.5 1.6h0m7.4 -2.7h0m4.6 0.5h0m4.8 -0.1h0m8.9 -0.1h0m9.8 -2.6h0m2.6 3.7h0m2.4 0.6h0m4.2 -4h0m5.4 0.5h0m-0.2 8.6h0m-11.1 0.8h0m-3 -3.1h0m-5.4 1.2h0m-9.5 -1.5h0m-6.6 4.1h0m-8.8 -3.3h0m-2.8 -1.7h0m-30.5 4.1h0m-2.8 0.1h0m-21.1 -4h0m-1.7 2h0m-5.1 0.6h0m-1.2 0.3h0m-22.7 1.6h0m-0.1 -0.8h0m-7.3 1.2h0m7.4 0.7h0m7.1 5h0m2.5 0.2h0m1.3 -3.6h0m23.4 0h0m3 2.6h0m6.8 -3.5h0m1.3 -0.2h0m4.4 0.4h0m4.2 1.3h0m1.3 -1.4h0m7.9 3.2h0m5.7 -2.7h0m5.9 1.3h0m4.1 0.3h0m2.1 0.2h0m7.5 -3h0m24.2 2.6h0m6.3 -2.8h0m11.4 2.6h0m1.2 8.1h0m0 0.9h0m-3.8 -1.8h0m-3.3 -0.5h0m-2.1 -1.3h0m-5.1 1.8h0m-22.2 0.9h0m-0.3 0.7h0m-1.9 -4h0m-7.8 1.8h0m-24.4 1.6h0m-4 -1.7h0m-7.6 -1.6h0m-15.5 -0.2h0m-12.2 1.4h0m-2.5 0.5h0m-0.7 0.3h0m-4.3 -1h0m-7.6 1.1h0m-12.2 5.9h0m13.2 1.2h0m0.1 -0.2h0m14.7 -2.3h0m0.5 0.6h0m10.8 1.6h0m2.1 0.2h0m0.8 -1.8h0m3.8 2h0m10.1 -1.9h0m3.3 0.7h0m2.9 -2.3h0m5 2.4h0m4 -1.1h0m11.7 -1.7h0m5 3.3h0m2.6 0h0m14.8 -0.4h0m17.1 -2.1h0m1.2 3.1h0m-2.8 3.3h0m-3.5 -1.9h0m-1.9 2.5h0m-12.5 -1.1h0m-21.6 -0.3h0m-0.2 -0.6h0m-0.5 1.8h0m-8.5 -2.5h0m-2.2 2.6h0m-44.2 -1h0m-1.4 -0.8h0m-9.8 0.8h0m-19.6 -1.3h0"/><path fill="none" stroke="#862c96" stroke-width="1.6" stroke-linecap="round" stroke-opacity="0.85" d="M327.8 405.4h0m-25.1 0h0m-1.6 1.3h0m-2.5 0.9h0m-14.3 -1.9h0m-47.8 1.8h0m-10.2 0.2h0m-14.1 -0.8h0m-10.2 0h0m-6.5 1.7h0m12.6 1.6h0m9.6 2.7h0m16.8 -1.2h0m5.6 0h0m5 -3.4h0m1.6 0.8h0m18.6 3.5h0m30 -0.6h0m11.3 -0.1h0m14.3 -2.2h0m2 2.9h0m1.4 -0.7h0m0.2 -1.1h0m13.7 -1.9h0m0.9 2h0m0.5 6.3h0m-1.9 1.5h0m-5.5 -3.4h0m-4.2 4.4h0m-1.1 -4.1h0m-2.5 1.4h0m-18.2 -1.3h0m-2.1 2.7h0m-1.7 -2.4h0m-46.9 0.2h0m-9.2 2.1h0m-0.5 -4.3h0m-0.4 2.6h0m-5.9 1.2h0m-7.1 -3.6h0m-1 0.7h0m-9.2 -0.7h0m-15.4 3.9h0m-1.7 -1.1h0m-15.9 -2.6h0m23.6 8.8h0m5.7 -1.9h0m2.7 -0.9h0m7.8 4.6h0m1.2 -4.6h0m4.4 3.5h0m15.2 0.2h0m8.9 -0.1h0m0.8 -4h0m9.3 4.1h0m3.6 -0.2h0m6.9 -2.6h0m4.6 0h0m2.3 1h0m1.2 3.4h0m4.4 -1.8h0m2.9 -0.8h0m0.8 2.3h0m20.1 -4.3h0m6.7 2.5h0m4.3 -2.6h0m13.3 6.1h0m-1.8 4.7h0m-11.3 -1.1h0m-4.6 -4.4h0m-6 2.4h0m-8.4 -2.4h0m-3 1h0m-10.7 2.5h0m-0.4 -0.2h0m-13.3 -2.1h0m-3.9 2.2h0m-1.5 1h0m-10.6 -2.1h0m-9.8 -2.5h0m-5.3 0h0m-12.9 0.3h0m-32.7 -0.2h0m-13.7 10.4h0m2.1 0h0m3.3 -3.3h0m5.1 -0.7h0m16.2 1.4h0m1.3 -0.3h0m3.2 0.9h0m10.7 2.6h0m19.7 -4.3h0m3.5 3h0m1.6 1.1h0m3.7 -4h0m9.1 4.1h0m3.5 -0.5h0m7.5 -2.9h0m11.7 -1.4h0m1.1 -0.2h0m0.7 1.2h0m0.6 4.5h0m9.6 -2.4h0m8.9 0.5h0m10.7 -0.3h0m3.8 -1.3h0m8.9 2.7h0m2.8 -1.2h0m0.7 6.1h0m-2 -1h0m-15.4 -1.4h0m-15.1 0.1h0m-2.9 -0.1h0m-20.1 -0.8h0m-29 1.6h0m-2 -1.2h0m-7.1 4.7h0m-8.7 -1h0m-0.4 -3.3h0m-2.3 1.9h0m-1.3 0h0m-36.9 0.9h0m-6.4 -2.1h0m-1.7 6.9h0m4.9 0.6h0m13.4 -3.1h0m6.1 1.7h0m3.7 0.4h0m20.5 -2.3h0m1.7 4.4h0m37.1 -1h0m8.6 -3.4h0m0.8 4.2h0m1.1 0h0m7.9 0.4h0m10.2 -3h0m1.4 1.3h0m0.6 -2.9h0m3.6 4.2h0m1 -2.1h0m20.9 2.1h0m5.9 -2h0m1.8 4.6h0m-3.8 -1.2h0m-9.4 4.1h0m-14 -0.1h0m-6.9 -3.5h0m-1.6 3.7h0m-11.9 -3.8h0m-4.3 0.7h0m-4.8 0.2h0m-11.4 1.2h0m-3.9 3h0m-5.7 -4h0m-0.2 -1.5h0m-1.4 0.2h0m-0.6 0.3h0m-2.3 4.1h0m-0.3 -0.7h0m0 0.8h0m-9.5 -2.7h0m-3.8 1.7h0m-2.5 1.8h0m-14.1 -1.5h0m-23.3 -1.7h0m-9.1 0.1h0m-3.1 1.7h0m18.9 2h0m4.4 4.3h0m8.6 -1.2h0m2.7 -1.6h0m19 2h0m5.4 1.2h0m13.3 1.1h0m9.7 -2.9h0m4.8 2.3h0m2.8 -3.2h0m14.6 -1.5h0m3.5 2.5h0m16.4 2h0m20.8 -3.7h0m0.4 0h0m-14.2 10.1h0m-2 -0.5h0m-16.1 -2.9h0m-19.4 1.5h0m-2.3 1.7h0m-7.1 -5.3h0m-20 5.6h0m-1.9 -4.3h0m-18.6 3h0m-3.1 1h0m-5.8 -1.2h0m-13.2 -1.4h0m-14.1 -2.7h0m-1.3 4.4h0m-5.5 3.3h0m0.5 1.1h0m17.5 3h0m4.1 -4.2h0m6 -1.2h0m39.7 2h0m10.9 1.7h0m11.5 -1.9h0m13.3 -1.2h0m8.4 0.4h0m0.1 1.8h0m4.5 0.6h0m5.5 -0.3h0m11.8 0.5h0m0.8 -3.9h0m-14.4 11.4h0m-4.2 -4.5h0m-1 -0.4h0m-16.9 5h0m-13.3 -4.4h0m-4.1 0.3h0m-2.9 0.2h0m-1.6 -0.8h0m-2.7 -0.7h0m-6.1 1.9h0m-13.4 1.7h0m-2.9 1.8h0m-34.8 -0.3h0m-4.6 -0.9h0m-13.6 1.6h0m1.4 2.9h0m10.2 2.4h0m11.2 -3.7h0m6 1.2h0m4.3 2.1h0m2.3 0.6h0m5.4 0.3h0m13 -3h0m3.6 0.8h0m26.8 -2.6h0m7.6 1.1h0m4.3 0.3h0m11.5 -0.9h0m6.2 3h0m2.5 -3.4h0m13.9 0.8h0m4.4 8.7h0m-22.6 -4.5h0m-4.3 -0.1h0m-1 2.1h0m-4.9 -0.9h0m-1.5 1.2h0m-13.2 2.1h0m-6.2 0.5h0m-11.6 -4.5h0m-8.7 1.2h0m-9 -1.1h0m-1.5 3.7h0m-5.5 -2.5h0m-3.5 1.7h0m-8.5 -2.8h0m-6.7 0.9h0m-5.5 -0.8h0m-18.3 2.9h0m-4 -0.1h0m3.9 7.1h0m0.7 -0.1h0m4.2 0.6h0m1.4 -0.5h0m6.7 -2.6h0m3.9 -1.4h0m6.2 2.3h0m29.8 -2.6h0m6.4 1.3h0m29.3 4.2h0m1.6 -5.1h0m1.7 1.7h0m11.4 -2.2h0m7.5 0.7h0m1.1 0.2h0m0.3 0h0m16.8 2.5h0m4.1 4.9h0m-5.2 -0.6h0m-3 -0.2h0m-3.8 -1.4h0m-1.2 -0.1h0m-17.1 0.8h0m-21.2 1.1h0m-15.6 2.5h0m-0.6 -3.5h0m-13.8 2.4h0m-1.3 1.3h0m-11.4 -3.9h0m-10.7 1.4h0m-3.2 -0.8h0m-10.3 0.4h0m-0.6 1h0m-1.2 -0.5h0m-17 3.2h0m6.3 4.7h0m6.4 -3.4h0m1.1 3.1h0m3.8 1.3h0m2.6 -2.7h0m2.2 -2.4h0m23.7 3.9h0m7.4 -0.1h0m9.4 -0.7h0m1.6 2.5h0m12.1 -0.6h0m2.5 -4.8h0m0.5 5.2h0m14.5 -4.8h0m4.5 2.7h0m0.1 0.2h0m11.1 -3.3h0m17.6 1.8h0m5.8 3.2h0m2.3 -2.9h0m-14 4.8h0m-1.7 -0.6h0m-2.8 0.9h0m-4.5 4.1h0m-5.4 -4.1h0m-7.6 2.9h0m-1.8 -0.6h0m-0.7 -0.4h0m-3.2 -2.3h0m-0.6 4h0m-1.1 0.4h0m-3.8 -3.1h0m-0.7 2.7h0m-1 -0.8h0m-4.9 -0.1h0m-15.2 1.3h0m-4.4 -4.8h0m-36.3 2.8h0m-5 1.9h0m-13.1 -4.2h0m19.9 8.3h0m5.8 -3.4h0m2.9 0.8h0m23.9 2.6h0m1.8 -0.3h0m18 1.9h0m12.1 -4.7h0m2.2 2.8h0m6.3 1.3h0m4.8 0.1h0m21.5 -0.1h0m2.5 -0.4h0m1.3 1.6h0m7.3 -2.4h0m2.4 1.6h0m2.3 0.5h0m9.4 5.8h0m-5.5 -2.7h0m-16.4 -0.5h0m-3.6 0.7h0m-16.3 2.2h0m-1.2 -4.6h0m-3.5 2.8h0m-12.6 -3.2h0m-3.8 1.7h0m-6.6 0.6h0m-5.5 0.5h0m-5.5 2.1h0m-5.3 0.5h0m-7.3 -1.1h0m-1.7 -2.2h0m-1 0.3h0m-3.4 0.8h0m-3.8 -2.1h0m-1.7 -0.2h0m-1.2 4.3h0m-0.6 0.4h0m-9.6 -2.2h0m-4.1 0.2h0m-3.2 0.6h0m-11.6 -4.1h0m-4.2 2.7h0m-9.3 1.3h0m-3 5.3h0m28.4 0.8h0m28.6 -1.3h0m10 0.1h0m11.2 -2.8h0m4.1 0h0m7.5 2.6h0m11.2 -2h0m3.9 0.9h0m21 -0.9h0m2.2 -0.5h0m20.4 2.5h0m0.4 3.8h0m-11.7 0h0m-4.1 1h0m-0.5 2.5h0m-23.3 -2.7h0m-1.4 2.5h0m-5.3 0.3h0m-5.5 -0.7h0m-6.4 1.7h0m-3.7 -3.9h0m-7.8 3.1h0m-32.2 1h0m-6 -3.5h0m-13.5 0.4h0m-10.4 0.3h0m-7.6 2.7h0m-6.2 -2.6h0m-1.5 3.1h0m2.1 4.3h0m2.6 -3.8h0m4.1 1.3h0m2.7 -1h0m1.4 1h0m11.6 -1.7h0m4 3.1h0m16.8 -2.7h0m5.6 5.5h0m5.4 -4.9h0m5.4 1.8h0m10.4 1.4h0m3 -4.2h0m9.8 4.4h0m2.2 -2h0m14.6 -0.1h0m13.8 -2.3h0m4.7 3.5h0m0.8 -3.4h0m12.8 5h0m7.8 -3.7h0m6.1 3.6h0m0.2 -1.5h0m-6.5 2.6h0m-6.2 0.6h0m-29.3 2.1h0m-6.4 2.9h0m-8.3 -4.9h0m-4.9 2.3h0m-7.5 -0.7h0m-8 2.6h0m-28.8 -3.1h0m-1.6 1.3h0m-0.5 -0.7h0m-30.1 1.7h0m-1.2 -4h0m-5.6 1.2h0m-1.6 1.7h0m-2.2 1.3h0m6.9 6.7h0m20.9 -2.2h0m16.6 1.7h0m17 1h0m6.9 -2.6h0m35.1 0.2h0m7.9 0.4h0m4.8 0.2h0m0.6 0.2h0m11 1.3h0m6.1 -3.8h0m0.5 1.8h0m5.2 -3.1h0m6.6 5.4h0m0.9 -4.9h0m3 3.9h0m-4.1 2.9h0m-13.3 0.9h0m-31.7 -1.3h0m0 1.3h0m-16.3 0.4h0m-5.7 -0.2h0m-14.1 -1.8h0m-0.9 1.6h0m-7.7 -1h0m-36.4 1h0m-0.4 -1.8h0m-17.8 0.9h0"/><path fill="none" stroke="#862c96" stroke-width="2" stroke-linecap="round" stroke-opacity="0.85" d="M339.2 406h0m-33.4 0.8h0m-22 0.5h0m-12.7 -0.6h0m-20.5 -0.2h0m-7.3 -1.4h0m-8 1.5h0m-24 -1.3h0m-6.2 0.6h0m-13.9 5.2h0m8 -0.2h0m0.1 0.9h0m13.7 0.5h0m4 -2h0m9.8 -1.5h0m2 0.9h0m8.7 -1.6h0m4.2 3h0m16.7 0.7h0m12.8 -1.3h0m8.7 2.1h0m5.4 -1h0m1.9 1h0m3.7 -2.7h0m4.1 1.3h0m4.8 -0.2h0m25.2 2.6h0m1.6 0.3h0m9.2 -2.7h0m4.6 6.1h0m-24.3 0.7h0m-19.3 -1.6h0m-6.3 2.3h0m-5 -4.1h0m-3.9 -0.4h0m-0.2 2.2h0m-14 3h0m-2.3 -4.2h0m-18.9 4h0m-20 -3.7h0m-30.4 2.6h0m13.3 6.3h0m35 -2.5h0m10.3 3.2h0m56 -3.7h0m8.7 4.5h0m3.5 -0.7h0m12.1 -1.6h0m1.7 1.5h0m2.6 6.8h0m-13.4 -3.5h0m-5.3 -0.6h0m-0.9 0.3h0m-10.7 2.8h0m-6.5 0.6h0m-4.8 -0.2h0m-10.1 -4.7h0m-4.6 -0.6h0m-0.6 5.4h0m-4.8 -0.8h0m-0.3 -0.9h0m-3.4 -2.8h0m-3.3 0.5h0m-6.8 1.4h0m-1.2 1.8h0m-3.1 0.7h0m-8.1 -0.2h0m-2.2 -3.7h0m-0.3 0h0m-10.3 2.5h0m-2.9 -1.3h0m-2.8 0.8h0m-4.5 2h0m-14.3 -3.7h0m-6.6 3.3h0m0 -3.3h0m-7.3 5.4h0m9.6 0.6h0m2.8 2.7h0m11.5 -3.9h0m22.2 1.7h0m19.3 -0.2h0m10 2.5h0m17.6 -4.2h0m16.1 4.2h0m4.2 -2.6h0m24.8 4.6h0m-19.6 3h0m-4.8 -0.6h0m-5.1 -1.2h0m-22 -0.3h0m-8.5 2.7h0m-7.6 -2h0m-6.5 2.9h0m-3.5 -2.4h0m-4.4 2.6h0m-9.7 -0.3h0m-1.7 -3.4h0m-10.5 2.5h0m-3.8 -3.7h0m-16.1 0.6h0m-0.6 0.8h0m-4.6 3.4h0m-1.4 -0.3h0m-8.4 -2.3h0m-3.4 1.9h0m-5.9 -2h0m1 3.9h0m1.5 3h0m1.6 1.1h0m8.9 -2.7h0m0.4 -0.9h0m1.1 -0.1h0m6 4.1h0m0.9 1h0m5.2 -5.2h0m14.1 4.1h0m1.4 -1.2h0m8.9 2.2h0m16.3 -2.9h0m10.4 1.9h0m32.1 0.7h0m5.7 -4.2h0m9 -0.6h0m7.5 0.1h0m4.8 2.5h0m9.9 -1.7h0m2.2 0.7h0m1.8 5.3h0m-7 2.1h0m-10.9 1.1h0m-2.6 1h0m-11.4 -0.6h0m-2 -0.1h0m-17.4 -4.7h0m-33.3 4.2h0m-6.7 -3.5h0m-42.4 2h0m-1.4 -2h0m-1.8 4h0m-1.9 -0.3h0m-0.3 -3.8h0m-1 4.8h0m-7.7 -5.3h0m3.4 7.9h0m5 3.2h0m16.4 -3.8h0m4.2 1.4h0m29.4 2.2h0m8.5 -5.1h0m21.9 5.6h0m12.7 -4.6h0m1.9 0.5h0m7.5 -0.3h0m2 1h0m4.8 1.6h0m3.9 -1.6h0m0.4 -0.7h0m1.3 -1.1h0m13.3 -0.3h0m4.4 4.7h0m5 1.9h0m-0.1 2.3h0m-5.1 -3h0m-9.5 3h0m-13.6 0h0m-12.3 -2.1h0m-24.9 3.4h0m-16.3 -2.5h0m-10.9 -1.4h0m-7 3.1h0m-5.3 -0.7h0m-9.2 -0.4h0m-20.8 0.6h0m-12.1 4.1h0m11.7 4.4h0m13.4 -1.2h0m8.4 -3.8h0m6.6 4.1h0m3.9 -2.5h0m2.4 -1.9h0m30.5 3.1h0m9.5 1.9h0m14.4 -3.1h0m39.9 3.6h0m1.9 -5.7h0m0.7 2.1h0m3.4 5.2h0m-26 4h0m-3.6 -2.7h0m-19.8 2.1h0m-0.9 0.5h0m-5.6 -1h0m-6.7 0.6h0m-8.7 -0.6h0m-13 -4h0m-7.1 0.6h0m-4.4 3.5h0m-0.7 -2.5h0m-2.1 1.7h0m-8.5 -3.3h0m-11 4.6h0m-15.2 -2.7h0m-5.8 -0.4h0m-8.9 0.1h0m-1.9 0.6h0m6.1 8.4h0m0.1 -2.5h0m7.3 1h0m8.8 1.3h0m13 -2.7h0m23.6 1.2h0m9 2.6h0m2.5 -2.6h0m12.3 0.1h0m17.4 2.4h0m4.9 -2.1h0m0.9 -0.2h0m14.8 -0.1h0m12.7 2.4h0m1.3 -4.9h0m0.7 4.5h0m13.9 0h0m-16 3.9h0m-4.7 -0.8h0m-8 3.1h0m-10.4 -3.1h0m-12.2 -0.3h0m-1.1 2.2h0m-11.7 -3h0m-2 1.2h0m-0.6 0.4h0m-7.6 -1.9h0m-8.1 -0.6h0m-23.9 -0.5h0m-6.7 4.9h0m-8 -0.1h0m-9.8 -1.2h0m-5.7 -0.4h0m-1.7 -0.7h0m-0.2 2.1h0m-6.8 0.4h0m3.3 5h0m8.2 -1.3h0m9.9 2.9h0m5.9 -4.4h0m9.3 -0.8h0m9 0.7h0m17.1 4.7h0m3.7 -3.6h0m2.6 -1.1h0m5.4 3.7h0m4.2 -0.2h0m11.1 -0.8h0m14 -1.8h0m8.3 2.8h0m6.1 -2.8h0m1.9 3h0m1.6 0.3h0m0.9 0.1h0m23.4 -1.2h0m-6.5 6.6h0m-12.6 -2.7h0m-19.3 2.5h0m-1.5 -0.8h0m-21.8 1.2h0m-1 -0.5h0m-4 1.4h0m-7.7 -3h0m-2.9 0h0m-8 2.3h0m-3.9 -4.6h0m-22.4 4h0m-3.5 1.3h0m-5.2 -0.6h0m-2.5 -2h0m-1.7 0.8h0m-1.2 -1.1h0m-19.5 -0.3h0m-0.8 1h0m3.4 7h0m32.3 -0.9h0m14.4 -3.1h0m9.5 1.6h0m4.1 1.1h0m7.3 -0.5h0m7.3 1.6h0m3.1 -3.2h0m14.8 0.7h0m1.2 -0.3h0m26.7 2.4h0m1.3 -1.3h0m19.1 -0.2h0m0.2 8.2h0m-4.6 -0.3h0m-17.7 0.1h0m-6.1 -3.3h0m-3.9 0.2h0m-3.5 -1.4h0m-8.5 0.6h0m-6.8 -0.5h0m-11.6 2.5h0m-10.8 -0.9h0m-16.1 -0.1h0m-7.6 3.2h0m-2.1 -2.9h0m-4.1 -0.5h0m-2.2 -0.6h0m-10 1.2h0m-7.4 1.3h0m-4.2 -2.1h0m-6.1 -0.2h0m-13 3.3h0m3.7 2.8h0m38.8 1.1h0m7.4 1.8h0m0.1 1.1h0m27.7 -4.1h0m3.1 1.1h0m4 2.7h0m10.1 0.2h0m3.6 0.4h0m2.4 -0.6h0m7.7 0.1h0m0.4 -3.3h0m13.2 2.1h0m1 -3.4h0m24.3 9.4h0m-6.6 -1h0m-3.5 2.1h0m-10.7 0.8h0m-0.3 -3.5h0m-23.3 -1.9h0m-0.2 2.6h0m-22.7 0.7h0m-4 -2.1h0m-5 0.6h0m-2.8 2.9h0m-1.8 -3.8h0m-29.7 3.2h0m-12 -3.9h0m-6.7 3.2h0m-3.4 0.5h0m-6.6 0.2h0m-2.6 -3.2h0m-0.6 4.7h0m-1.8 -5.1h0m-2.4 9.3h0m4.9 -0.7h0m10.6 2.5h0m4.4 -1.1h0m6.8 -4h0m15.4 1.9h0m4.5 0.5h0m12.5 2.7h0m6.9 -2.1h0m10.8 0.5h0m6.7 -2.6h0m6 -0.8h0m18.4 -0.9h0m11.6 4h0m7.2 0.4h0m12.6 -2.4h0m3.5 5.5h0m-2.1 1.6h0m-7.9 2.5h0m-17.2 -5.6h0m-2 5.4h0m-6.2 -0.7h0m-8 -4.4h0m-1.2 5.5h0m-7.2 -0.3h0m-38.2 -1h0m-4.9 -3.2h0m-8.9 1.7h0m-3.1 -1.8h0m-2.2 3.1h0m-6 -2.6h0m-27.3 -0.3h0m-1.2 0.9h0m-0.2 6.1h0m1.9 -2.2h0m0.3 0.5h0m12.8 -0.4h0m4 1.8h0m4.7 -1.3h0m1.6 0.3h0m1.8 -0.9h0m0.6 4.5h0m0.4 -3.3h0m12.3 3h0m7.7 0.1h0m9.1 -4.4h0m4 4h0m17.5 -2.6h0m2.5 -1.4h0m6 4.3h0m7.4 0.1h0m7.9 -3.5h0m5.9 3.9h0m0.5 -1.8h0m5 -1.9h0m24.6 0.6h0m9.8 1.7h0m0.4 1.4h0m0.2 -0.6h0m-3.5 5.3h0m-0.3 -3h0m-2.4 1.4h0m-6.3 1h0m-3.2 0h0m-2.5 -0.4h0m-16.5 -0.3h0m-5.3 0.5h0m-2.1 2.9h0m-5 -4.3h0m-2.6 1.2h0m-2.7 2.8h0m-1.9 -4.8h0m-4.9 1.7h0m-1.3 3.3h0m-14 -3.2h0m-21.3 2.8h0m-5.2 0h0m-7.2 -0.2h0m-5.7 -4.3h0m-18.6 1.9h0m-6.8 -1.4h0m-11.6 9.5h0m15.9 -4h0m3.5 2.5h0m1.8 -1.6h0m9.3 2.5h0m2.5 -2.8h0m2 2.8h0m7.8 -1.7h0m5.3 -2h0m2.8 3.4h0m7.6 2h0m9.5 -2.1h0m6.7 -2.7h0m26.5 1.7h0m5.1 3h0m36.9 -4.1h0m3.3 -1.5h0m2.7 5h0m-9.9 3.3h0m-15.4 -0.7h0m-35.7 -1.3h0m-2.7 1.3h0m-3.5 0.7h0m-16.7 -0.8h0m-23.1 0.3h0m-20.7 -0.3h0m-2.1 0h0m-16.5 -1.3h0"/><path fill="none" stroke="#f6d4ee" stroke-width="1.2" stroke-linecap="round" stroke-opacity="0.85" d="M332.6 407.2h0m-81.1 -0.8h0m-26.6 -0.4h0m-14.3 2.5h0m3.4 0.9h0m12.9 2.3h0m5.6 0.2h0m0 1.6h0m19.5 -1.3h0m1 -1.8h0m4.2 0.9h0m16.7 0.2h0m3.3 1.8h0m5.5 -5h0m14.8 0h0m0.7 0.9h0m8.4 -1h0m2.7 3.1h0m26.9 6.5h0m-10.5 0.1h0m-3.9 1.8h0m-22.6 -1.7h0m-17.3 1.9h0m-9.1 -0.4h0m-9 -1.9h0m-6.6 -2.5h0m-8.8 3.1h0m-1.5 -0.6h0m-2.3 0.9h0m0 -1.2h0m-1.3 -2.6h0m-3.1 3.3h0m-1.3 1.3h0m-0.4 -2h0m-16.5 -1.7h0m-23.6 3.3h0m-3.5 -4.1h0m-2.6 0.6h0m-2.1 -1.2h0m-0.6 5.7h0m1.4 5h0m6 -4.8h0m2.9 2.3h0m3.8 -0.7h0m18.9 -0.1h0m3.9 2.4h0m1.3 -2.4h0m6.3 2.5h0m7.4 1.5h0m11.9 0h0m4.1 -4.3h0m2.2 -1h0m2.2 3.6h0m1.2 -0.9h0m14.5 -2.2h0m2.9 4h0m30.4 0.1h0m9.5 -2.7h0m12.4 -2.2h0m-10.1 6.2h0m-42.6 -0.1h0m-6.8 0h0m-20.8 4h0m-4.4 1.4h0m-17.2 -0.3h0m-6.8 -0.1h0m-6.3 -0.9h0m-2.3 -3.9h0m-8.8 2.7h0m-0.3 -1.2h0m-7.9 -0.6h0m-1.5 3.9h0m10.5 5.9h0m14.6 -3.5h0m7.9 0.2h0m25.6 3.8h0m1.3 -1.8h0m0.5 -2.6h0m37.4 4.3h0m19.8 -1.4h0m26.1 1.4h0m-17.5 6.5h0m-7 -3.5h0m-17.9 -1.1h0m-1.5 -0.7h0m-20.8 1.9h0m-9.3 2.9h0m-15.3 -0.9h0m-0.2 -2.5h0m-2.7 -1.1h0m-4.1 1.8h0m-3.7 -2.1h0m-6.8 0.5h0m-4.8 3.6h0m-4.9 0.7h0m-5.3 0.4h0m-1.5 -4.2h0m-14 2.7h0m-5.9 -2.6h0m-6.5 9.6h0m0.6 0.6h0m1.7 -2.3h0m13.1 -0.4h0m9.1 1.1h0m3 -2.4h0m2.4 0.9h0m13.1 2.9h0m1.6 -1.8h0m0.9 -0.8h0m0 -0.9h0m16.2 2.8h0m4.6 -0.6h0m12 -0.2h0m15.8 -0.1h0m7.5 0.2h0m26.1 -3.8h0m3.8 2.3h0m4.3 -1.7h0m10.9 2h0m-23.1 2.9h0m-3.1 3.6h0m-5.4 -0.1h0m-10.4 -3.4h0m-4.9 4.4h0m-0.5 -1.7h0m-17.4 0.8h0m-23.8 -0.7h0m-20.3 -2.3h0m-11.4 4h0m-9.6 -3.7h0m-7.2 1.1h0m-0.9 2.2h0m-2 -2.6h0m-0.3 -1.3h0m2.3 11h0m13.4 -1.2h0m7.9 -1.2h0m4.9 -0.2h0m31.4 -2.4h0m36.9 1.9h0m0.6 -1.7h0m0.1 4.7h0m8.5 -4.6h0m35.6 2.5h0m-1.8 8.4h0m-0.6 -4.4h0m-11.6 2.5h0m-7.6 1.8h0m-13.7 -1.9h0m-34.6 0.8h0m-19.5 1.5h0m-3.3 -4h0m-1 0.6h0m-10 -1.5h0m-9.1 2.3h0m-5.6 -2h0m-8.5 -0.6h0m-6.7 -0.6h0m-13.5 9.3h0m14 0.4h0m6.7 -1.9h0m2 1.2h0m36.3 0.5h0m12.5 2.2h0m46.3 -1.8h0m1.1 1.1h0m21.4 0.5h0m0 4.1h0m-3.6 1.7h0m-12.8 -1.4h0m-0.6 1.1h0m-11.9 -1.3h0m-0.8 -3.5h0m-2 4.5h0m-2.8 -1.7h0m-3.3 1.1h0m-12.9 0.8h0m-4.2 -3.4h0m-6.7 2.6h0m-0.4 -4.1h0m-12.1 3.8h0m-7.9 2h0m-0.5 -1.5h0m-0.4 -3.5h0m-4.5 3.5h0m-2.2 1.4h0m-7.8 -5.7h0m-5.4 0.7h0m-2.6 -0.6h0m-2.3 2.9h0m-2 1.3h0m-3.4 -1h0m-1.5 -2.6h0m-4.8 3.3h0m-1.3 -3.1h0m-0.8 2.8h0m-0.6 0.3h0m-6.7 -1.3h0m-4.9 -1.2h0m-7.7 5.8h0m10.3 3.7h0m1.1 -0.2h0m17.3 -1.9h0m11.8 2.1h0m10.8 -0.7h0m12.2 -1.6h0m1.1 0.6h0m9 -2.2h0m2.5 0.2h0m11.7 1.4h0m14.2 2.2h0m1.9 -2.7h0m3 -1.9h0m0.4 2.1h0m37.2 7.9h0m-0.1 -2.8h0m-2.5 -0.5h0m-0.8 -0.3h0m-1 4.6h0m-7.7 0.4h0m-9.3 -0.9h0m-17.4 -3.5h0m-18.9 3.9h0m-4.5 -2.1h0m-6.8 -0.8h0m-5.1 1.8h0m-21.4 0.5h0m-12.9 -0.4h0m-0.3 -2.1h0m-4.9 -0.2h0m-8.5 1h0m-0.7 0.2h0m-1.6 -1h0m-8.5 9.4h0m5.5 -2h0m3.6 -0.7h0m12.9 1.3h0m0.1 0.6h0m1.6 -0.9h0m38.3 0.9h0m4.5 -0.2h0m6.2 -1.2h0m7.3 -0.4h0m1.1 1.4h0m2.1 -0.7h0m5.6 -1.6h0m8.7 3.4h0m4.8 0h0m4.2 0.1h0m1.6 -4h0m7.6 1h0m12 0.8h0m5.4 1.8h0m4.5 -0.8h0m-1 7.3h0m-21.9 -3h0m-16.2 2.3h0m-3.3 -1.8h0m-5.4 1.5h0m-3.4 -0.4h0m-2.6 -1h0m-7.2 -2.8h0m-4.7 5.1h0m-3.2 -4.7h0m-4.7 0.4h0m-6 1.8h0m-3.2 1.8h0m-7 -4.6h0m-0.2 1h0m-3.8 -0.6h0m-6.4 2h0m-13.5 -0.4h0m-0.4 0.5h0m-15.4 -1.2h0m-1.6 2h0m-17.7 7.4h0m3.2 0.2h0m7.8 -2.8h0m7.7 1.4h0m2.1 -0.9h0m17 -1.4h0m10.1 3.2h0m7.7 -3.9h0m1.3 5.1h0m1.6 -2.7h0m7.8 -1.1h0m8.3 2.3h0m3.4 -3.6h0m7.9 1.2h0m4.5 3.6h0m17.3 0.1h0m2.4 -4.9h0m37.4 5h0m-14.7 6h0m-1 -2.1h0m-4.4 -3.4h0m-10.7 0.9h0m-4 -0.4h0m-2.2 4.3h0m-0.9 -2.4h0m-8.1 1.7h0m-6.8 -0.7h0m-6.8 2.1h0m-1.4 -5.2h0m-8.1 1.3h0m-7.1 2h0m-29.3 0.3h0m-7.9 -3h0m-9 0h0m-15.2 1.9h0m-5.7 2.7h0m2.6 5.2h0m0.4 -0.3h0m13.7 0.6h0m10.2 0.6h0m2.1 -0.8h0m8.7 -1.4h0m14.4 -3.6h0m1.5 0.5h0m16.1 -0.5h0m8 2.2h0m2 3.5h0m0.6 -3.8h0m0.1 -0.5h0m6.1 2.1h0m13.2 2.4h0m7.5 -0.1h0m20.9 -0.7h0m14.5 5.1h0m-8.2 -1.6h0m-4.1 0.2h0m-0.3 0.3h0m-8.8 -3.1h0m-5.7 1.9h0m-5.1 0h0m-1.3 2.2h0m-17.9 -2.4h0m-4.7 -1.2h0m-9 3.2h0m-0.8 -0.2h0m-0.4 -0.5h0m-10.1 -0.7h0m-1.3 2.5h0m-7 -3.8h0m-9.7 2.6h0m-1.5 1.8h0m-8.4 -1.4h0m-7.3 1.6h0m-11.7 -2.9h0m-0.2 -2h0m-6.4 3.3h0m-2.2 1.3h0m-0.9 -2.5h0m-1.3 1h0m-4.4 -2.1h0m-4.9 2.6h0m-3 -2.9h0m-1.4 9.7h0m3 -4.1h0m3 3.8h0m9.7 -1.9h0m1.9 0.2h0m4.5 -2.3h0m8.6 1.9h0m0.1 -0.1h0m13.1 0.3h0m1.5 -1h0m11 3.1h0m11.8 -2.8h0m16 2.3h0m3.8 -2.3h0m0.2 2.3h0m3.2 -3.7h0m4.2 0.8h0m6.8 2.5h0m17.1 -2.1h0m1.1 -0.5h0m4.3 -1.3h0m22.3 9.5h0m-21.3 2h0m-0.4 -3.6h0m-19.5 3h0m-15.6 -4.8h0m-5 3.6h0m-3.9 0.7h0m-4.5 -2.3h0m-11.1 3h0m-0.1 -0.6h0m-14.2 0.2h0m-12.4 -1.1h0m-23.9 -0.4h0m-7.7 1.7h0m-4.4 -5.1h0m4.7 8.5h0m5 -1.7h0m12 2.3h0m1.8 -1.1h0m4.8 2.3h0m2.7 0.9h0m0 -3.1h0m0.5 -1.6h0m0.3 2.1h0m12.4 -2.2h0m8.1 0.6h0m10.9 2.7h0m2.1 -0.7h0m2.5 2.1h0m7 -4.4h0m11.7 1.1h0m5.6 3h0m3 -2.6h0m4.9 -0.9h0m36 4.4h0m0.2 -4.5h0m0.9 -1h0m4 0.7h0m-23 5.9h0m-1.6 1.3h0m-9.2 0h0m-1.3 -1.5h0m-1.6 2.7h0m-5.2 0.3h0m-0.8 0.5h0m-1.7 -3.7h0m-12.6 4.9h0m-16.5 -3.6h0m-18.8 1h0m-23.6 0.7h0m-1.3 -0.4h0m-3.2 4.3h0m13.9 -0.3h0m20.5 0.7h0m13.3 -1.6h0m7.8 1.7h0m3.8 0.5h0m0.6 0.5h0m15 -1h0m5.2 0h0m13.4 -1.2h0m8.4 1.1h0m14.5 2.7h0m1.5 -1.4h0m-2.9 3.4h0m-22.2 1.1h0m-62.4 -0.2h0m-30.2 -1.2h0m-12.4 0.4h0"/><path fill="none" stroke="#f6d4ee" stroke-width="1.6" stroke-linecap="round" stroke-opacity="0.85" d="M319.9 406.2h0m-21.8 1.2h0m-37.4 0h0m-47.2 -1.6h0m-17.8 0.5h0m-0.8 3.3h0m6.9 -1.5h0m2.5 2.8h0m30.2 1.5h0m21.7 -3.9h0m18 2.7h0m6.9 -0.2h0m3.7 0h0m20.5 1.5h0m30.8 4.9h0m-15 -1.2h0m-8.6 -0.2h0m-4.7 -1.7h0m-3.6 2.1h0m-0.2 -1.1h0m-15.5 -0.1h0m-24.8 2.6h0m-4.3 -1.1h0m-0.2 -1h0m-3.2 1.6h0m-6.4 -2.1h0m-9.8 3h0m-21.8 -2.6h0m-0.6 1.1h0m-3.5 -1.2h0m-0.6 4.2h0m-11.5 -2.7h0m-3.3 1.3h0m-2.3 -2h0m2.8 6.9h0m15.1 -2.2h0m20.5 -0.7h0m0.5 2.5h0m9.2 -0.6h0m0.8 -0.4h0m0.6 2.8h0m1.3 -4.6h0m19 2.7h0m6 -0.3h0m9.5 0.8h0m0.7 0.4h0m43.7 6.2h0m-18.7 0.8h0m-8.9 -1.6h0m-9.7 0h0m-4.3 -2.5h0m-5.8 1.2h0m-2.1 2.4h0m-11.8 -0.8h0m0 1.4h0m-3.8 -4.5h0m-0.7 0.3h0m-0.1 3.2h0m-7.5 -2.1h0m-10 -1.3h0m-5.9 2.8h0m-20.6 2.8h0m-5.5 -5.2h0m-3.8 4h0m-0.3 -2h0m-0.9 1.2h0m-8.3 -2.3h0m-1.9 1.9h0m-0.7 7.8h0m1 -3.7h0m0.3 2.5h0m3.4 -4h0m22.4 2.1h0m4.2 -1.9h0m1.3 3.4h0m7.2 -3.5h0m1.6 4.6h0m6.9 -4.6h0m6.1 4.7h0m20.7 0.3h0m0 -1.7h0m21 1.2h0m10.4 1.1h0m12.2 -2.8h0m2.3 0.7h0m2.3 0.9h0m5.2 -1.9h0m1 0.8h0m14.6 5.1h0m-64.2 1.7h0m-9.3 0.6h0m-6.8 -1.2h0m-16.7 1.8h0m-1.7 -3.5h0m-2.7 -1.1h0m-4.6 4.1h0m-19.6 -0.6h0m-0.6 -4.3h0m-4.9 0.9h0m-2.7 0.8h0m-0.1 -0.2h0m-12.5 0.8h0m-2.3 2.4h0m3.4 6.2h0m1.3 -3.9h0m7.9 4.6h0m3.7 -0.9h0m8 -1.9h0m3.8 -0.6h0m1.7 -1.5h0m0.7 2.9h0m4.3 1.1h0m5.7 -3h0m11.1 2.7h0m66.9 -1h0m7.5 -0.9h0m7.8 1.4h0m-5.3 5.1h0m-20 -3h0m-4 4.9h0m-4.4 -2.6h0m-8.3 1.3h0m-2.7 -0.3h0m-11.6 1.9h0m0 -4.5h0m-14.2 4.6h0m-15.5 -2.3h0m-23.8 -0.3h0m-7.2 -1.4h0m-6.8 -1.1h0m-0.7 2.6h0m-1.2 -2.2h0m-9.6 1.3h0m0.6 5.2h0m4.6 2.7h0m11 0.2h0m15.2 -2.8h0m13.4 0.2h0m12.2 0.7h0m2.5 0.3h0m2.9 1.2h0m0.6 1.3h0m7.2 -4.8h0m6.9 5.2h0m16.8 -3.1h0m1.4 -2.3h0m0.2 0.1h0m2.1 5.8h0m4.1 -0.4h0m7.1 -0.9h0m38.4 0h0m-19.7 6.9h0m-2.7 -3.4h0m-25.7 3.2h0m-12.9 -2.5h0m-17.3 -2.6h0m-12.7 0.8h0m-0.9 1.8h0m-6.2 1.8h0m-7.3 -4.3h0m-0.7 3.7h0m-2.8 -1.3h0m-9.2 1h0m-2.8 -1.7h0m-11.2 -2h0m-4.4 4.8h0m-10.5 -2.2h0m1.4 6h0m2.3 0.4h0m25.5 2.1h0m2.2 0.3h0m1 -4.2h0m24.4 0.4h0m8.6 -0.3h0m2 1h0m13.8 -2.2h0m23.3 3h0m12.7 1h0m4.6 -2.8h0m1.1 0.7h0m16.5 -0.8h0m0.9 -0.1h0m10.4 4.3h0m-1.7 6h0m-24.4 0.5h0m-0.8 -1.3h0m-4.9 -0.8h0m-7.1 -1h0m-0.2 1.1h0m-1.2 -3h0m-0.3 1.4h0m-9.3 2.7h0m-4.1 -1.8h0m-9.3 -0.1h0m-29.9 -0.4h0m-8.9 -1.1h0m-22.4 -0.6h0m-20.7 9h0m28.6 1.9h0m9.1 -0.2h0m32.6 -5.1h0m3.2 4.4h0m0.5 0.1h0m9.7 -2.8h0m9.2 3h0m5.4 -5.1h0m5.1 -0.1h0m0.8 4.6h0m7.3 -3h0m2.1 -0.2h0m0.5 -0.2h0m1.2 1.4h0m4.2 3.1h0m0.8 -1.8h0m6.9 -3.9h0m3.2 2.2h0m8 5.1h0m-1.5 -0.8h0m-9.8 4.6h0m-4.3 -0.5h0m-13.1 0.5h0m-0.2 -1.7h0m-3.2 -2.6h0m-4.4 0.1h0m-25.8 0.4h0m-21.4 0.4h0m-0.5 3.4h0m-2.6 -3h0m-1 -1.8h0m-17.7 4.3h0m-6.6 -0.6h0m-28.6 0.1h0m-3.1 -2h0m0.5 4.3h0m2.9 2.2h0m16.2 1.4h0m14.4 0.6h0m8.9 -2.6h0m3.6 -0.4h0m2.9 3.6h0m9.2 -1.5h0m3.1 0.9h0m16.1 -2.6h0m4.3 -1h0m2.1 3h0m1.8 0h0m5.9 -2.9h0m6.9 3.3h0m21.9 -0.2h0m6.8 1.6h0m14.7 -2h0m7 -3.6h0m0.3 2.7h0m0.9 -0.6h0m1.2 2h0m-25.3 3.5h0m-0.9 2.6h0m-3.6 -1.7h0m-0.6 0.2h0m-24.2 1.2h0m0 -0.5h0m-28.8 -1.6h0m-2 2.4h0m-36.4 0.3h0m-22.8 -3.9h0m-6.3 0.9h0m-0.4 3.8h0m3.2 1.1h0m7.4 3h0m5.5 -0.4h0m6.5 1.7h0m1.4 -4.7h0m19.5 5.1h0m1.3 -0.2h0m1.9 -0.4h0m18 -4.5h0m1.4 3.3h0m0.2 1.1h0m1 -2.7h0m24.5 -1.6h0m10.8 0.7h0m0.6 -1h0m5.1 1.8h0m1.3 -0.6h0m20 0.7h0m1.5 3.3h0m2.6 -1h0m1.4 -1.3h0m9.8 -1.9h0m4.6 7.9h0m-1.8 -1.3h0m-4.6 -0.4h0m-6.6 0.3h0m-3.5 -0.7h0m-3.6 3.3h0m-2.7 -2.4h0m-4.7 1.3h0m-30.2 -2.7h0m-7.1 3.9h0m-6.8 -3h0m-0.9 0.7h0m-29.5 -1.7h0m-8.3 0.7h0m-7.5 4.6h0m-3.1 -0.5h0m-3.7 -4.4h0m-8.8 3.5h0m-0.1 -3.1h0m-16.6 5.5h0m4.4 0h0m5.6 5h0m9.3 -2.9h0m8.3 -1.2h0m1.6 1.3h0m3.7 2h0m6.8 0.1h0m0.3 -2.8h0m1.6 0.3h0m5.4 2.1h0m5.3 -1.6h0m11.7 -2.9h0m11.8 4.8h0m1.9 -1.4h0m2.6 1.9h0m8.5 -5.2h0m0.6 1.8h0m3.7 0.3h0m7 -0.8h0m6.3 3.6h0m0.7 -2.8h0m7.7 1.7h0m5.4 0.8h0m2.3 1.1h0m8.5 -1.3h0m14.2 -1.2h0m5.3 -3.2h0m-8.9 8.4h0m-0.4 1h0m-3 -1.2h0m-1.7 0.7h0m-1.1 1.2h0m-5.7 -2.2h0m-1.1 3.6h0m-0.3 -1.4h0m-7 -1.2h0m-10.2 1.8h0m-20.5 -4.1h0m-3.2 1.5h0m0 -0.3h0m-12.2 3.9h0m-4.5 -1.4h0m-3.6 1.4h0m-28 -0.3h0m-8.4 0.1h0m-5.7 -0.3h0m-7.1 -3.1h0m-3.9 -0.5h0m-0.3 3.7h0m-6.7 -2.2h0m12.1 5.3h0m38 -1.7h0m0.2 3.7h0m20.9 -2.4h0m10.9 1.2h0m3.7 -0.6h0m1 -1.5h0m3.3 4.1h0m36.4 -3.7h0m4.8 2.4h0m0.7 1.5h0m1.4 -0.7h0m5.9 0.5h0m-7.5 1.9h0m-6 2.4h0m-0.8 1h0m-13.2 -3.6h0m-2.5 1.2h0m-11.5 1.1h0m-1.2 -0.7h0m-12.6 -2.1h0m-24.3 2.3h0m-13.8 2.6h0m-1.2 -3.3h0m-9.4 1.4h0m-6.8 0h0m-5 0.7h0m-18.8 -4.2h0m-8.6 0.1h0m8.8 10.6h0m14.7 -4.7h0m12 3.6h0m7 0.4h0m14.4 -2.3h0m2.2 -1.3h0m1.3 4.3h0m1.8 -1.8h0m6 0.5h0m6.3 -2.1h0m11.4 1.4h0m26.5 -1.6h0m2.9 4.4h0m3 -0.3h0m3.2 -3.7h0m19.3 2.2h0m5.8 3.6h0m-3.7 1.4h0m-12.4 2.9h0m-4.7 -4.9h0m-6.8 0.5h0m-25.4 -0.4h0m-23.6 4.7h0m-4 -0.2h0m-3.4 0.3h0m-15.7 -1.8h0m-13.6 1h0m-0.4 -4.2h0m-30.6 8.9h0m1.7 0.3h0m31.5 -3.4h0m23.4 2.1h0m22.2 0h0m4.1 -2.3h0m24 4.4h0m2.9 0.4h0m5.6 -3.5h0m13.3 2.3h0m10.4 1h0m7 3.3h0m-42.2 -1.7h0m-17.1 2h0m-0.3 -1.5h0m-2.7 -0.5h0m-33.4 0.1h0m-12.9 1.9h0m-23.5 -2.1h0m-1.2 2.3h0"/><path fill="none" stroke="#f6d4ee" stroke-width="2" stroke-linecap="round" stroke-opacity="0.85" d="M302.3 405.3h0m-29.8 2.3h0m-21.8 -0.9h0m-10.6 -0.4h0m-1 1.1h0m-0.9 0.1h0m-37.1 0.2h0m-11.7 1.3h0m2.7 1.5h0m4.1 3.2h0m6.5 -1.3h0m2.8 0.5h0m14.9 -1.5h0m6.5 -0.4h0m3.4 -0.5h0m39.8 -2.5h0m41.1 2.9h0m0.6 0.5h0m9.6 0.6h0m16.3 4.9h0m-11.1 0.5h0m-31.5 1.2h0m-3.2 -4.5h0m-38.9 5.2h0m-31.1 -5.1h0m-1.4 3.2h0m-2.3 -2.3h0m-4.8 1.5h0m-24.8 7.2h0m10.5 -3.1h0m1.4 3h0m0.5 2.1h0m7.8 -2h0m3 -2.7h0m1.2 0.6h0m0.9 -0.5h0m6.6 0.4h0m3.1 1h0m0.1 -1.4h0m2.2 3.3h0m0.8 -2h0m13.2 -1.3h0m20.9 1h0m3.2 -1.8h0m61.3 -0.3h0m4 3.5h0m-10 2.7h0m-2.6 1.6h0m-15.5 2.4h0m-6.1 -2.1h0m-14.2 3.7h0m-10 -5.5h0m-3.5 2.6h0m-15.4 -1.9h0m-8.2 2.3h0m-9.5 1.2h0m-0.8 -2.1h0m-11.9 2.7h0m-3.9 -3.3h0m-9.7 1h0m-7.6 8h0m7.4 -1.2h0m3.8 0.4h0m1.4 -1.6h0m9.6 1.4h0m3 1.9h0m16.1 0h0m24.3 -2.4h0m70 3.8h0m-20.5 0.2h0m-7.3 -0.6h0m-0.1 4.8h0m-5.1 -4.6h0m-19.9 2.8h0m-4.1 1h0m-8.2 -0.7h0m-11.3 -3.3h0m-8.3 2.2h0m-17.3 -1.2h0m-7.5 -1.8h0m-2.6 2.9h0m0 -0.7h0m-1.8 2.9h0m-8.6 -1.5h0m-21.6 6.7h0m10.3 -2.9h0m9.4 3.1h0m7.2 -0.9h0m11.4 0h0m1.6 0.9h0m0.9 -3.1h0m1 0.1h0m28 1.1h0m0.2 1.9h0m1.1 -1.5h0m5.6 2h0m5.5 -0.3h0m12 0.7h0m3.3 0.1h0m15.4 0h0m2.8 -4.6h0m13 4.2h0m0.5 0.7h0m5.3 -5.8h0m5 3.8h0m-6.1 6.9h0m-1 0.2h0m-7.8 -4.6h0m-19.3 1.2h0m-5 1.8h0m-2.5 -0.4h0m-25.2 3h0m-17.6 -4.9h0m-9.4 -0.1h0m-33.9 2.3h0m-4.1 -1.4h0m-0.1 2.5h0m-9.1 5.1h0m29.4 0.2h0m10.9 -3.2h0m0.3 5.5h0m8.6 -2.1h0m12.3 1.8h0m3.5 -1.6h0m2.3 1.8h0m1 -4.7h0m9.9 1.3h0m3.2 -1.9h0m0.7 -0.4h0m4.1 3.9h0m2.2 -3.8h0m14.8 0.2h0m22.9 5.4h0m0.9 -0.2h0m0.7 -4.6h0m10.3 0.3h0m10 7.3h0m-0.7 -0.6h0m-0.5 0.6h0m-13.3 -2.3h0m-18.6 0.3h0m0 3.8h0m-7 -0.2h0m-27.4 -3.1h0m-4 2.9h0m-5.3 -0.9h0m-2.3 1h0m-6.5 -2.1h0m-29.2 1h0m-13.4 2.4h0m-11.9 -5.3h0m-6 2.1h0m0.1 7.4h0m25.2 -1.5h0m10 3.2h0m3.8 0.2h0m34.3 -0.3h0m19.8 -1.2h0m24.9 -0.1h0m24.6 1.1h0m1.4 -1.1h0m4 0.5h0m-8.1 6.2h0m-9.5 -3.7h0m-4.2 0.2h0m-1.1 1.1h0m-0.6 3.5h0m-16.3 -4.8h0m-7.8 1.6h0m-51.7 1.8h0m-13.9 -4h0m-21.5 5.4h0m1.4 2.4h0m23 2.1h0m10.7 -0.2h0m0.2 -2.7h0m3 4h0m24.8 -2.3h0m3.1 -2h0m4.4 3.8h0m2.6 -2.8h0m6.2 0.3h0m0.3 -0.4h0m0.4 1.9h0m9.7 -0.2h0m2.7 1h0m4.1 -1.4h0m15.9 1.9h0m12.1 -4.2h0m3.8 6.3h0m-4.4 -0.2h0m-1.5 0.2h0m-8.1 -0.5h0m-3.2 0h0m-3.1 4.3h0m-12.7 0.7h0m-9.1 -1.4h0m-0.1 0.1h0m-2.9 1.1h0m-14.6 -1.6h0m-7 -0.4h0m-9.5 -1.4h0m-3.2 -0.5h0m-5.4 2.2h0m-4.8 -3.6h0m-15.8 2.9h0m-4 1.9h0m-13.7 -2.3h0m-17.6 -1.3h0m-0.9 -1.2h0m-1.5 0h0m-1.7 0.8h0m1.7 5.5h0m1 5.4h0m8.8 -3.2h0m6.7 -0.6h0m7.7 -1h0m17.8 -0.7h0m13.2 0.6h0m12 0.3h0m13.3 0.5h0m2.7 -1.7h0m1.5 3.3h0m7.2 -3h0m5.8 0.1h0m1.4 2.3h0m4 3h0m4.4 -0.4h0m15.8 -2h0m24.4 4.9h0m-2.5 2.1h0m-5.9 -1.5h0m-16.1 2.8h0m-3.5 -2.9h0m-2.4 -0.7h0m-13 -1.4h0m-0.1 4.1h0m-6.7 0.6h0m-18.1 -5.2h0m-14.6 4.1h0m-3.8 -3.1h0m-28.8 4.2h0m-7 0.1h0m-2.4 -3.9h0m-23 0.8h0m12.6 4.5h0m18.6 1.6h0m3.9 -0.4h0m0.3 2h0m2.4 -1.2h0m0 2.1h0m4.2 -2h0m2.1 -1.8h0m3.9 0.4h0m16.2 -0.7h0m3.1 3h0m0.8 0.4h0m23.4 -1.2h0m2.9 2.5h0m2.8 -1.1h0m1.5 -4.2h0m7.7 4.1h0m1.8 -0.6h0m13 0h0m5.4 -3.8h0m5.8 0.2h0m4.8 0.4h0m2 2.6h0m9.4 8h0m-2.4 -0.1h0m-12.9 -4h0m-20.6 0.3h0m-2.3 3h0m-0.7 -2.3h0m-6 0.7h0m-18.3 1.2h0m-4.3 1.7h0m0 -2.5h0m-8 -2.3h0m-0.6 3h0m-2.8 -1.7h0m-4.3 -0.3h0m-38.3 0.2h0m-3.5 1h0m-18.1 -1h0m-2.2 1.4h0m-1.3 4.3h0m14.2 2.4h0m5 -0.4h0m4.9 1.7h0m33.9 0.3h0m3.6 -0.4h0m22.3 -1.6h0m10 1.9h0m12.1 -0.4h0m1.1 -1.1h0m0.5 1h0m0.8 -2.5h0m2.9 0.4h0m1.7 2.1h0m3.2 -0.6h0m18.3 -1h0m5.2 -0.8h0m2.7 -1.4h0m0.8 3.1h0m-1.1 5h0m-4.6 -0.9h0m-7.6 2.9h0m-5.9 -0.2h0m-1 -2.1h0m-1.2 -0.1h0m-3.9 0.3h0m-1.3 1.6h0m-3.6 -1.9h0m-0.7 0.3h0m-9.2 2.3h0m-0.9 -1.1h0m-16.2 0.3h0m-3.3 0.4h0m-17.7 -4.2h0m-45.2 2.8h0m-2.3 -2.5h0m-2.5 0.4h0m-10.2 4.3h0m12.9 5.6h0m0.9 -5.7h0m5 4.6h0m4.6 -3.6h0m12.6 1.1h0m22.6 1.4h0m5 2.4h0m1.4 -2.2h0m43.1 0.7h0m0.8 -1.2h0m11.9 -0.9h0m2.3 0.9h0m4.3 -2.2h0m1.8 0.6h0m3.1 -0.5h0m1.5 5.6h0m-1.5 1h0m-13.8 2.2h0m-19.6 0.7h0m-8.8 -3.8h0m-2.5 3.4h0m-4.6 -2h0m-59 -0.2h0m-0.6 3.1h0m-8.5 -1.7h0m-0.3 -1.9h0m-0.4 -1.3h0m-16.8 0.6h0m-2.2 1.4h0m-1.4 2.8h0m12 1.5h0m15.9 2.9h0m3.8 1.9h0m3.9 -5.1h0m15.2 5.5h0m11.3 0.2h0m22.6 -4.5h0m0.3 1.4h0m19 2.1h0m8.9 -1.6h0m33.6 -1.1h0m-13.9 8.8h0m-16.2 -0.2h0m-4.9 0.1h0m-5.9 -3.3h0m-2 -1.6h0m-6.2 1.9h0m-18.1 3.3h0m-8.6 -2h0m-13.1 1.8h0m-14.9 0.3h0m-4.7 0.1h0m-32 -0.9h0m9.2 2.7h0m1.3 -1.2h0m13.7 2.8h0m11.7 2.6h0m5.9 -2.2h0m1.1 1.4h0m19.7 -1.8h0m2.5 1.1h0m17.6 -2.3h0m2.7 3.1h0m7 -3.1h0m3.1 3.8h0m0.9 0.2h0m10.5 -2h0m31.8 -2.8h0m-3.2 5.9h0m-17 0.4h0m-57.8 0.6h0m-5.4 -0.8h0m-8.1 0h0m-20.2 1.4h0m-21.1 0.7h0"/><path fill="none" stroke="#fcf4fb" stroke-width="2.6" stroke-linecap="round" d="M341.8 402.8h0m-27.6 1.7h0m-13.5 3.2h0m-12.2 -0.7h0m-3 -3h0m-48.7 -1.2h0m-25.1 0.9h0m-3.9 -1.1h0m-10.3 10.7h0m4.2 -0.6h0m13.5 -4.5h0m25.4 -0.1h0m37.6 5.5h0m27.5 -3.6h0m33.3 4.4h0m-22.3 4.5h0m-10.4 0.4h0m-45.1 -0.7h0m-28.6 -2.4h0m-28.5 0h0m-1.1 3.2h0m-3.7 -0.3h0m-3.8 -3.1h0m5 6.5h0m14.2 3.2h0m4.6 -1.5h0m16.9 -4.2h0m26.3 4.9h0m4.4 0.5h0m8.7 -2.9h0m22.1 3.2h0m33.7 2.6h0m-29.3 -0.9h0m-108.3 5.4h0m48 -0.3h0m3.7 1h0m4.4 -0.2h0m15.9 2.5h0m6.7 -3.4h0m10.4 1.1h0m44.1 2.8h0m-45.2 2.3h0m-19.4 5.2h0m-40.8 -0.1h0m-22.2 3.4h0m4 0.3h0m4.1 0.5h0m11.6 1.7h0m4.1 -2.3h0m6.8 -3h0m22.3 1.3h0m25.1 0.3h0m64.8 6h0m-19.5 0.6h0m-9.3 3.1h0m-1.1 -5.3h0m-9.5 3h0m-6 0.6h0m-24.9 -2.5h0m-43.3 1.5h0m-33.4 2.7h0m32.7 2.6h0m8.2 2.8h0m41.2 -3.4h0m1.1 4.2h0m44.3 -2h0m9.1 3.5h0m-22.4 -1h0m-32.8 4.4h0m-2.2 -2.5h0m-37.8 0h0m-48.7 -0.8h0m5.1 10.2h0m14.7 0.2h0m3.3 -2.6h0m4.6 -1.1h0m6.7 -0.8h0m1.4 3.8h0m21.5 -0.7h0m12.8 -1.5h0m20.8 3h0m23.3 -1.6h0m20.8 -2h0m0.6 3.6h0m0.4 3.8h0m-57.6 -1.2h0m-8.6 -2.1h0m-2.5 2.2h0m-10 -0.5h0m-31.1 -1.4h0m-11.9 11.1h0m20 -1.1h0m7.9 -3.9h0m10.9 3.8h0m22.3 -3.3h0m21 2.5h0m5.3 -3.3h0m48.4 3.4h0m4.9 1h0m-13.6 6.8h0m-22.7 -2.8h0m-13.3 -1.2h0m-23 -0.6h0m-28.2 1.3h0m-10.5 -2.3h0m-17.8 1.8h0m-19.9 -1.1h0m13.4 11.1h0m9.8 -1.8h0m21.4 1.2h0m11.9 -5.2h0m18.8 1.4h0m19.7 0.1h0m27.7 -1.3h0m17.3 7.4h0m-10.4 1.9h0m-8.1 0h0m-3.4 1.4h0m-99.6 -3.3h0m-2.2 2.8h0m-13.6 0.6h0m11.2 5h0m27.3 -3.2h0m0.4 3.5h0m24.6 -3h0m8.5 0.7h0m23.1 3.5h0m43.4 0.2h0m7.3 -2.4h0m0.4 6.6h0m-44.1 -3.3h0m-41 1.4h0m-29.2 -0.8h0m-40.3 6.1h0m4.6 3.9h0m22.4 -2.9h0m73.2 1.7h0m14.7 -0.5h0m4.4 0.4h0m0.9 7.8h0m-77.8 -5h0m-26.3 -0.7h0m-14.1 9.5h0m3 -1.2h0m1.3 3.2h0m28 -5h0m2.5 3.9h0m2.5 -4.1h0m20.7 1.4h0m10.3 2.4h0m3.8 -2.6h0m33.5 2.6h0m4.8 -0.4h0m16.3 -1.8h0m16.9 -0.1h0m4.3 7.9h0m-4.7 1.1h0m-29.1 0.9h0m-6.5 -2.4h0m-27.3 6h0m23.3 1.9h0m15.2 -4.4h0m16.2 3.9h0m8.3 0.6h0m-0.8 5.4h0m-31.3 -1.6h0m-10.8 -2h0m-5.3 0.4h0m-23.2 0.7h0m-5.4 0.3h0m-24.7 0.3h0m-4.6 1h0m-38.3 3.6h0m58.5 2.5h0m94.5 4.9h0m-4 2.3h0m-3.3 -4.3h0m-16.3 -0.5h0m-0.2 3.3h0m-9.7 -0.9h0m-4.6 0.4h0m-19.1 -2h0m-37.1 3.7h0m-47.4 -4.6h0m109.6 5.7h0"/><path fill="none" stroke="#fcf4fb" stroke-width="8" stroke-linecap="round" d="M305.3 403.9h0m-17.9 23.6h0m19.6 7.3h0m-104.6 20.9h0m63.2 14.8h0m-66.8 20.5h0m77.2 2h0m-26.7 5.2h0m-0.2 40.2h0m60.5 8.6h0m-88.7 7.4h0m59.6 -1.8h0m-11.8 11h0m-27.1 -4.1h0"/><path fill="none" stroke="#fcf4fb" stroke-width="4.4" stroke-linecap="round" d="M328.1 407.5h0m-80.8 -4.3h0m-61.2 8.2h0m31.3 2.2h0m10.6 3.8h0m-42 0.4h0m1 7.6h0m19.1 -1.4h0m43.7 -2.5h0m-5.9 7h0m70.9 7.3h0m26.4 1.7h0m-17.5 5.9h0m-43.8 -0.9h0m-4.9 -3.6h0m-62.6 5.9h0m124.6 9.7h0m-116.8 0h0m19.8 4.5h0m97.2 0.8h0m-2 10.4h0m6 6.4h0m-118.9 2.1h0m-3.5 -4.1h0m8.8 10.3h0m49.9 -3.6h0m-82.7 27.6h0m8.7 -2.9h0m6.2 10.1h0m129.8 2.7h0m-120.7 13.7h0m13.6 -3.7h0m92.6 3.9h0m-130.5 12.4h0m120.9 -4h0m13 6.8h0m-114.6 3.2h0m-10.5 -1.9h0m-3.4 4.2h0m7.1 -0.4h0m63.2 -0.6h0m43.8 10.3h0m-121.8 -4.7h0"/><path fill="none" stroke="#fcf4fb" stroke-width="3.2" stroke-linecap="round" d="M339.8 406.4h0m-16.4 -2.2h0m-7.1 3.2h0m-35.2 -4.2h0m-28.8 2.8h0m-7.3 1h0m-3.9 -3.6h0m-7.3 1.7h0m-4.1 -0.9h0m-12.8 -0.6h0m-12 2.7h0m-7 0.9h0m-5.2 1.8h0m9.3 0.2h0m3.9 2.7h0m4.2 0.1h0m17.5 -4h0m20.3 2.1h0m3.8 -0.1h0m7.9 2.8h0m14.3 0h0m21.7 -4.1h0m3.1 3.9h0m20.9 0h0m16.9 4.9h0m-15.6 -0.3h0m-23.6 -0.5h0m-7.5 2.2h0m-11.4 0.5h0m-8.4 -0.4h0m-12.4 -2.8h0m-4 2.5h0m-2.4 -3.6h0m-4.6 0.5h0m-5.9 -0.6h0m-26.1 3.5h0m-2.8 -2.8h0m-3.9 1.8h0m-16.2 0h0m1.1 8.4h0m0.1 -4.1h0m28.6 -0.5h0m7.4 2.9h0m6.9 -0.2h0m20.9 -3.1h0m15.2 2.7h0m8.1 0.1h0m2.6 -3.4h0m10.5 0.7h0m12.8 4.9h0m6.3 -3.3h0m27.2 -2h0m-12.2 8.2h0m-9.3 1.9h0m-2 -4.6h0m-3.5 3.4h0m-14.1 0.3h0m-17.1 -1h0m-5 1.1h0m-4.8 -1.7h0m-10.3 3.5h0m-2 -4.8h0m-20.2 1.1h0m-3.7 2.6h0m-4.7 -0.5h0m-7.6 -2.4h0m-6.6 3.6h0m-4.9 -1.9h0m-8.3 0.1h0m-3.5 2.2h0m-2.8 -3.5h0m-8.4 6.8h0m7.4 1.4h0m6.9 -1h0m4.6 -0.9h0m9.2 1.1h0m7.2 -3.5h0m0 3.8h0m3.5 -1.9h0m18.5 3.1h0m4.8 -0.2h0m5.4 -3.2h0m13.9 3.4h0m7.3 -2.4h0m9.1 2.6h0m9.3 -3.3h0m29.7 -1.7h0m17.2 0.3h0m0.5 9h0m-6.7 -0.1h0m-17.5 1.4h0m-17 -3h0m-16.6 2.3h0m-10.8 1.2h0m-6.5 -1.1h0m-9.6 1.6h0m-3.2 -4.9h0m-5.9 2.5h0m-5 1.7h0m-24.5 -4.7h0m-2.7 5h0m-6.1 -4.7h0m-3.9 1.2h0m-15.4 -0.9h0m2 6.2h0m33.4 2.6h0m6.6 0h0m5.9 -3.1h0m22.5 3.3h0m7.1 0.9h0m6.4 0.6h0m16.1 -4.6h0m1.6 4.3h0m4.8 -0.3h0m4.6 0.5h0m6.2 -1.1h0m-35.2 6.5h0m-13.8 -2.8h0m-5 -0.3h0m-4.5 2.4h0m-5.6 1.5h0m-4.6 -5.3h0m-2.2 4.8h0m-6.9 0.6h0m-5.7 -4.3h0m-0.2 4h0m-12.8 -3.9h0m-4 0.9h0m-21.8 7.2h0m5.3 0.8h0m6.2 0.7h0m11.9 -0.4h0m5.6 -3.8h0m4.6 3.9h0m9.9 1h0m17.5 -3.3h0m4.7 1.3h0m9.6 -1.9h0m4.5 0.6h0m5.9 2.3h0m10.6 -3.8h0m2.4 4.7h0m10.7 -2.5h0m4.2 0.7h0m15.2 -0.8h0m3 -3h0m12.8 3.5h0m4.3 5.1h0m-5.4 2h0m-3.8 1.1h0m-8.9 -4.1h0m-9.7 2h0m-5.1 -1.1h0m-4.4 0.9h0m-4 -0.5h0m-3.5 -2.6h0m-0.3 3.8h0m-7.6 -0.9h0m-13.4 -0.4h0m-4.1 -1.4h0m-3.4 1.8h0m-4.9 -1.8h0m-2.5 3.3h0m-8.6 -4.8h0m-13.6 3.2h0m-6 1.9h0m-5.2 -2.3h0m-18.3 1.2h0m32.4 2.7h0m38 0.3h0m4 1.3h0m4.1 -1h0m4.6 -0.7h0m2.2 3.9h0m6.4 -1.3h0m6.6 -2.7h0m11.1 -0.6h0m1.9 4.6h0m5.4 -3.5h0m0.5 4.7h0m15.4 4.3h0m-5.8 -4.1h0m-1.7 5.5h0m-17.2 -0.3h0m-8.2 -0.3h0m-2.7 -3.8h0m-3.1 4.2h0m-3 -4.1h0m-9.5 3.6h0m-11.4 0.8h0m-0.5 -5.6h0m-10.3 1.9h0m-11.7 -0.4h0m-9.2 -1.3h0m-3.8 4.5h0m-4.8 -0.9h0m-5.1 -3.8h0m-0.3 4.9h0m-8.6 5.9h0m15.8 -1.3h0m12.8 -1.2h0m9.7 -2.1h0m7 5.3h0m3.6 -3.6h0m28 1h0m4.4 -0.5h0m3 3h0m3.8 -4.2h0m1 4.2h0m13.7 -5.3h0m4 4.2h0m12.2 3.4h0m-26.4 2.7h0m-21 -4.2h0m-4.4 5.2h0m-5.2 -3.6h0m-13.9 0.8h0m-2.9 2.7h0m-5.3 -5.1h0m-0.1 4.4h0m-71.9 5.8h0m6.1 -0.9h0m7.9 1.8h0m11.5 -2.3h0m14 -1.5h0m11.4 0.4h0m5.6 3.1h0m13.7 -2.3h0m26.3 0.3h0m9.4 1.3h0m6.9 -3.7h0m2.2 4.9h0m2.4 -5.3h0m2.7 3.2h0m7.3 0.9h0m22.8 0.9h0m0.7 -3.8h0m2.8 6.3h0m-31.3 -1h0m-2 3.6h0m-16.4 -1.4h0m-2.8 2.8h0m-0.8 -4.3h0m-3.2 3.6h0m-2.9 -4.3h0m-5.5 1h0m-2.4 3.1h0m-3.5 -3.3h0m-2.8 3.4h0m-1.7 -4.1h0m-4 2h0m-5.2 0.9h0m-13.9 0.9h0m-11 -2.6h0m-15.8 3.8h0m-10.1 -2.2h0m-10.3 -2.5h0m-4.8 8h0m9.3 -0.7h0m12.4 3h0m6.4 -1.4h0m4.6 -0.5h0m3.9 -1.7h0m5.1 2.7h0m10.4 -1.5h0m7.5 -1.6h0m2.1 4h0m2.5 -3.1h0m11.1 3.3h0m10.4 -3.3h0m5.5 -0.4h0m5.5 3.9h0m7.9 -3.5h0m7.2 -1.4h0m13 3h0m3.6 1.6h0m0.7 -4.4h0m8.7 0.7h0m5.9 -1.5h0m5.9 5.3h0m0.8 -5.6h0m-7.4 8.7h0m-12.7 2.2h0m-9.7 -0.5h0m-4.5 1.5h0m-0.9 -5.1h0m-10.9 2.8h0m-5.3 2.2h0m-4.1 -0.9h0m-3.8 -3.5h0m-4.3 -1.1h0m-0.7 4.6h0m-4.5 -2.5h0m-9.5 1.3h0m-7.9 1.3h0m-3.7 0.8h0m-17.7 -2.9h0m-9.3 -1h0m-2.5 3.5h0m-14.3 -2.8h0m-4.3 0.5h0m-4 1.7h0m-5.5 -0.9h0m-5.6 -0.5h0m0.1 7.6h0m11.4 -1.3h0m3.6 -2h0m7.5 3.2h0m17.3 -3.5h0m29.6 1.7h0m3.4 2.4h0m0.6 -3.8h0m5.3 -1.6h0m0 4.7h0m3.6 -1.9h0m10.3 -2.3h0m3.9 3.7h0m9.9 -2.4h0m4 -1h0m1.8 4.9h0m13.2 -2.2h0m2.9 -3.4h0m3.3 5.3h0m16.6 -3.9h0m-2.8 4.6h0m-0.4 4.8h0m-3.4 -1.8h0m-3.9 0.6h0m-8.5 -1.3h0m-7.2 -1.2h0m-4.3 0.3h0m-11.7 -0.9h0m-14.8 -0.6h0m-2.6 4h0m-4.6 -0.4h0m-5 1.7h0m-3.9 -1.5h0m-14.4 0.1h0m-13.4 -1.4h0m-8 -1.9h0m-7.9 4h0m-2.2 -4.2h0m-5.3 4.2h0m-6.9 -1h0m-16.6 1.9h0m15 5.5h0m2.6 -3h0m4 0.5h0m5.9 -1.1h0m37.8 0.9h0m16 0.5h0m7.2 0.5h0m4.1 -2.8h0m0.6 4.4h0m4.8 -0.9h0m4.7 -3.1h0m16.6 2.9h0m5.9 -3.5h0m17.1 4.3h0m12.7 5.7h0m-3 -3.9h0m-5.4 0.3h0m-9.1 4.2h0m-5.5 -4.7h0m-8 3.1h0m-4.8 -0.6h0m-13.7 0.7h0m-3.9 -0.9h0m-4.1 -0.4h0m-6.3 0.6h0m-5.5 -2.2h0m-2.3 4.2h0m-7.5 -4.6h0m-30 3.2h0m-9.7 1.3h0m-16.8 -1.4h0m-4.6 0.6h0m-4.5 -2.4h0m2 6.7h0m4.9 -0.9h0m6.2 0.7h0m16.5 1.3h0m39.6 -1.2h0m8.4 3.8h0m3.8 -2.7h0m4.7 -0.2h0m3.4 1.6h0m3.4 -2h0m10.1 -2.3h0m20.5 0.9h0m0.2 4.2h0m15 3.1h0m-38.5 1.1h0m-3.8 -0.2h0m-5.5 1.2h0m-13.9 -0.6h0m-10 1.6h0m-18.2 -3.5h0m-58.9 8.6h0m99.4 -2.6h0m3.9 2.9h0m1.2 -4.3h0m6.9 2.9h0m3 -2.5h0m18.8 1.5h0m11 9.2h0m-9.1 -0.7h0m-21.2 -4.4h0m-5.9 2h0m-69.9 0.4h0m-13 -3h0m-9.8 3.4h0"/><path fill="none" stroke="#fcf4fb" stroke-width="5.6" stroke-linecap="round" d="M195.9 402.1h0m40 9.6h0m65.6 11h0m-4.8 20.2h0m-108.9 0.8h0m116.9 0.9h0m12.4 3.7h0m10.7 4.9h0m-20 2.4h0m-26.7 -3.4h0m59.3 14.8h0m-145.7 1.8h0m19.1 12.8h0m115.1 17.3h0m-33.2 1.2h0m-100.4 25.9h0m36.2 31.6h0m99.9 -2.2h0m6.6 -1.7h0m-84.4 4.3h0m-34.1 4.6h0"/><path fill="none" stroke="#fcf4fb" stroke-width="7.2" stroke-linecap="round" d="M253.4 428.2h0m82.2 4.4h0m-5.5 10.2h0m-84.1 6.7h0m-54.8 1.6h0m140 35.3h0m-123.1 3.4h0m119.4 29.1h0m11.2 7.8h0m-96.1 6.6h0m-52 4.6h0m67.2 5.2h0m55.5 12.5h0"/><path fill="none" stroke="#fcf4fb" stroke-width="6.4" stroke-linecap="round" d="M188.6 404.2h0m141.5 9.1h0m-86.4 8.2h0m-9.3 15.8h0m53.3 13h0m-74 14.4h0m-11.3 8.9h0m115.3 12.8h0m-98.4 4.4h0m102.5 4.6h0m-97.4 3.5h0m13.1 15.7h0m15.6 8.9h0m-11 2.1h0m-29.2 9.8h0m4.8 6.5h0m16.7 1.8h0m6.6 2.8h0m37.6 16.9h0m-21.5 0.5h0"/><path fill="none" stroke="#fcf4fb" stroke-width="2" stroke-linecap="round" d="M321.6 406.9h0m-10.2 0.9h0m-30.3 -0.9h0m-12.9 -4.1h0m-8.1 4.8h0m-0.8 -3.8h0m-40.9 3h0m-8 0.1h0m-7.7 -4.6h0m17.2 7.6h0m3.9 0.8h0m2.8 3.2h0m3.4 -3.5h0m12.6 0.5h0m2.5 1.6h0m9.7 -1.5h0m2.7 -2.7h0m8.9 4.4h0m4.1 -1.7h0m7.8 -0.8h0m10.5 0.2h0m3.3 -1.9h0m30.2 2.3h0m18.4 6.7h0m-14.3 1.7h0m-1.7 -5.1h0m-14.1 4.9h0m-3 -4.8h0m-3.4 1.9h0m-4.2 2.3h0m-29.7 -2.7h0m-4.7 2.4h0m-2.9 -3.3h0m-29.6 5.1h0m-10.8 -4.6h0m-4.1 2.1h0m-20.2 7.5h0m13.8 -0.3h0m0.9 -2.4h0m13.7 -0.7h0m6.1 2.8h0m31.5 -3.5h0m11.9 5h0m7.4 -2.3h0m25 -0.6h0m14.2 1.8h0m2.9 -1.4h0m17.3 -2.2h0m-21.8 6.6h0m-12 1.4h0m-13.9 0.8h0m-47.2 -0.6h0m-15.9 -2.2h0m-5.8 -0.5h0m-6.8 2.3h0m-11.2 -1h0m-6.9 -1.5h0m-7.6 3.4h0m-6.1 1.5h0m2.9 1h0m21.6 3h0m26.4 -2.4h0m51.7 0.9h0m8.8 2.9h0m31.4 -2.8h0m-67.7 4.6h0m-2.7 0.2h0m-19.5 0.3h0m-5.4 4.7h0m-8.6 -0.5h0m-39.8 -5.1h0m10.5 11h0m0.5 -4.8h0m7.9 0.1h0m10.8 2.4h0m2.8 -0.1h0m11.7 3h0m25.8 -1.4h0m9.4 -2.1h0m4.8 -0.6h0m2.5 1.4h0m9.6 -1h0m39.2 0.9h0m3.2 1.3h0m14 -1.1h0m1.9 -2.6h0m-25.1 9.2h0m-23.2 1h0m-2.6 1.2h0m-20.3 -0.8h0m-1.4 -2.7h0m-4.6 -1.5h0m-28.6 0.4h0m-2.8 1.3h0m-22 3.3h0m-22.6 0.5h0m16.1 4.8h0m52.5 -3.2h0m11.3 3.7h0m2.6 -3.9h0m3.3 0.4h0m13.7 -0.5h0m17.5 1.8h0m5.5 0h0m15.8 2.3h0m16 -5h0m-1.6 5.7h0m-26.6 3h0m-64.7 -2.6h0m-8.3 0.1h0m-16.9 -0.9h0m-16.3 5.6h0m-17.8 -1h0m-4.1 4.5h0m50.6 0.7h0m15.3 0.6h0m1.9 -1.8h0m51.5 -1.8h0m22.5 2h0m3.3 5.9h0m-42.7 -0.9h0m-6.3 -1.5h0m-46.3 1h0m-17.6 4.4h0m-6.5 -3.3h0m-19.9 1.9h0m-1.8 -2.7h0m-3.7 -1.6h0m10.5 9.5h0m40.6 -1.4h0m15.4 -1.3h0m2.8 3.1h0m30.9 -2.4h0m25.7 0.6h0m0.4 2.8h0m30.2 -4.1h0m-3 9.9h0m-5.5 0.7h0m-8.1 -1.2h0m-3.7 -3.1h0m-1.8 3.4h0m-22 -2.8h0m-2.6 -1h0m-0.2 3.6h0m-3.4 1.3h0m-6.9 -4.3h0m-11.5 -1h0m-29.3 1h0m-21.4 0.5h0m-33.2 0.2h0m13.4 9.7h0m1.1 -2.3h0m29.5 1.7h0m7.6 -3.6h0m22.9 1.4h0m22.7 1.3h0m43.8 -1.3h0m9.3 -1.4h0m-23.8 4.7h0m-12.2 -0.1h0m-26.2 4.7h0m-47.9 0.6h0m-43.7 6.3h0m20.7 -5.2h0m49.3 2.9h0m3.7 1.5h0m9.9 0.2h0m12.9 -1.3h0m14.8 -1.7h0m25.7 1.9h0m6.1 1h0m9.1 5.6h0m-12.5 -3.9h0m-3.5 0.9h0m-6.9 0.9h0m-5.5 -2.1h0m-9.3 4.4h0m-28.9 0.6h0m-81.3 -4.7h0m0.2 6.7h0m3.4 -0.8h0m11.3 0.4h0m26.3 2.1h0m7.4 1.9h0m2.4 -4.6h0m4.3 3.5h0m28 0h0m21.5 0.3h0m25.1 -1.5h0m-1.2 5.7h0m-14.3 3.3h0m-5.4 -0.2h0m-4.1 -1.2h0m-7.2 -0.5h0m-7.3 -2.5h0m-8.3 -1.1h0m-15.2 3h0m-2.3 2.5h0m-18.3 -4.2h0m-0.8 4.3h0m-6.9 -2.1h0m-4.4 0.6h0m-25.5 -3.3h0m-1 5.8h0m36.7 4.5h0m2.7 -3.1h0m54.7 3.4h0m1.3 -5h0m8.6 0.9h0m25.7 -1.1h0m13.2 3.1h0m1.3 2.7h0m-15.4 2h0m-25.2 0.5h0m-2.4 -2h0m-18.2 3.3h0m-12.5 -2.1h0m-14.7 -1.8h0m-16.8 5.3h0m-6.8 -4.8h0m-0.9 5h0m-2.9 -2.1h0m-3.2 -2.2h0m-34 7.8h0m56.9 0.5h0m2.5 1h0m17.9 0.6h0m7.6 -3.2h0m28.4 1.2h0m25.5 -2.1h0m1.9 2.2h0m5.5 -0.7h0m3.5 2.4h0m1.7 4.6h0m-70.1 -3.3h0m-11.8 3.5h0m-20.8 1.7h0m-39.3 -3.7h0m-9.8 -0.7h0m-2.8 0.7h0m24.8 6.7h0m14.7 2.7h0m3.6 -4.3h0m7 1h0m4.4 -1.6h0m4.6 0.9h0m8.5 -0.8h0m2.7 -0.1h0m38.5 1.4h0m31.2 0.3h0m12.1 4.1h0m-12.8 4.9h0m-34.4 -2.7h0m-1.7 2.7h0m-1.7 -3.1h0m-3.8 2.2h0m-19.4 -3.8h0m-51.5 5.5h0"/><path fill="none" stroke="#fcf4fb" stroke-width="3.8" stroke-linecap="round" d="M328 402.1h0m-10 0.7h0m-19.2 0.7h0m-5.7 0.9h0m-16.5 -1.8h0m-12.9 -0.4h0m-8.4 0.4h0m-64.3 10.7h0m93.7 -5h0m51.9 2.5h0m6 2h0m-58.7 1.2h0m35.5 8.1h0m-19.1 11.3h0m22.5 31.6h0m-115.7 -0.9h0m24.1 7.6h0m84.9 7.1h0m-114.7 0.8h0m-4.9 -4.4h0m-10 4h0m55.5 1.3h0m-55.1 8.7h0m2.1 3.9h0m56.7 -0.9h0m15.5 3.4h0m81.6 1.3h0m-107.3 4.1h0m-16.2 3.3h0m89.9 1.4h0m-63.4 9.8h0m-1.4 -4.9h0m-22.7 8.7h0m63 6.6h0m-19.2 11.8h0m-6.8 -1.5h0m-16.4 3.4h0m55.9 4.5h0m43.9 -1.5h0m-20.7 7.7h0m-68.8 -3.5h0m-44.7 -0.6h0m-15.4 4.9h0m58 1.8h0m55.2 3.8h0m18.6 2.5h0m-50 -0.6h0m-41.4 5.2h0m-24.8 -2.6h0m-12.3 1.6h0"/><path fill="none" stroke="#fcf4fb" stroke-width="5" stroke-linecap="round" d="M335.9 403.6h0m-63.2 3.1h0m-50.8 -3.6h0m43.2 4.9h0m28.5 5.5h0m19.1 0.4h0m19.9 8.5h0m8 4.7h0m-74.3 4.3h0m56.2 4.9h0m-9.6 5.9h0m-21.1 -3.1h0m-64.1 -0.3h0m-27.7 1.8h0m134.6 8.6h0m-93.6 18.6h0m6.8 0.6h0m58.7 5.3h0m-119 10.5h0m19.5 -4h0m44.9 7.1h0m-15 0.2h0m-5.7 4.4h0m-41 9.8h0m26 11.8h0m97.6 19.8h0m2.9 14.3h0m-94.3 -0.8h0m38.4 11h0m-72.7 4.1h0m110.9 2.1h0"/><path d="M220 466 Q230 477 243 486" fill="none" stroke="#faf0f8" stroke-width="3.2" stroke-linecap="round"/><path d="M239 489 C239 482 250 478 261 478.5 C271 479 278 480 277.5 487 C277 494 272 502 262 502.5 C252 503 239 498 239 489Z" fill="#faf0f8"/><path d="M246 490 C246 484 252 481 260 481 C268 481 275 482 275 488 C275 494 270 500 262 500 C254 500.5 246 497 246 490Z" fill="#e4505e"/><path fill="none" stroke="#c03048" stroke-width="1.4" stroke-linecap="round" stroke-opacity="0.7" d="M247.5 483.1h0m1.2 1h0m0.6 0.8h0m0.3 -1.2h0m0.1 -0.1h0m0.6 -0.3h0m1 1.8h0m2.1 -1.5h0m0.3 -1.5h0m0.6 1.8h0m1.1 1.7h0m0.9 -1.4h0m1 -1.7h0m0.1 1.2h0m1.3 1.9h0m0.4 -0.7h0m1.1 0h0m0.8 0.7h0m0.5 -1h0m0 -2.1h0m2.3 1.1h0m2.9 0.9h0m2.1 0.3h0m0.7 -1.5h0m0.4 2h0m0.6 0.4h0m0.1 -0.2h0m1.1 -1.9h0m0.2 1.7h0m0 -2.5h0m1.4 3h0m0.5 5.5h0m-0.3 -4h0m-0.9 0.8h0m-0.4 -1.4h0m-0.3 4.1h0m0 -3.3h0m-0.4 3.1h0m-0.6 1.2h0m-1.7 -0.8h0m-0.3 -0.1h0m-1.2 -4.8h0m0 3.4h0m-0.3 -2h0m-1 3.6h0m-0.1 -1.2h0m-2.3 -2.3h0m-0.2 1.4h0m-0.3 0.3h0m-1.1 0.1h0m0 -0.1h0m0 -0.9h0m-0.6 -0.8h0m-0.3 2.4h0m-1.3 -0.1h0m-0.6 0.4h0m0 -0.8h0m-0.4 0.9h0m-0.1 1.4h0m-1 -3.9h0m-1 -1h0m-0.3 0.4h0m-0.5 -0.9h0m-0.5 0h0m-0.9 2.3h0m-0.5 -2.5h0m-0.3 5.7h0m-3 -5.3h0m-1.7 2.9h0m-0.7 -2.5h0m-0.8 8.5h0m0.5 -2.7h0m0.2 2.7h0m0 -0.5h0m0.5 -1.8h0m0.6 0.2h0m1.1 2.3h0m0.3 -1h0m0.3 0.6h0m0.1 -1.7h0m0.6 3.2h0m0.3 -1.9h0m0.3 3h0m1.1 -2.5h0m0.4 -2.1h0m0.8 -0.4h0m1.6 2.9h0m1.2 -3.7h0m0.5 4.5h0m0.6 -1h0m1.1 0.5h0m0.3 -4.1h0m2.2 0.3h0m0 4.2h0m0 -2.2h0m0.6 -0.8h0m0.3 0.1h0m0.7 3.6h0m0.9 0.7h0m0 -0.3h0m0.8 -3.3h0m0.4 1.7h0m0.5 -1.1h0m0.2 -1.4h0m0.1 3.7h0m0.4 -4.2h0m0.7 -0.3h0m0.1 3.5h0m0.1 -1.3h0m1.5 -0.3h0m0.9 -1.9h0m0.1 5.1h0m0.1 -5.3h0m0.5 2.4h0m0.7 1.2h0m0.8 0h0m0.5 1.6h0m0.5 -1.1h0m-13.2 2.1h0m-11.8 -0.6h0"/><path fill="none" stroke="#f08890" stroke-width="1.2" stroke-linecap="round" stroke-opacity="0.7" d="M252 484.5h0m0.7 0.5h0m4.7 -0.2h0m2.7 0.5h0m1.5 0.5h0m0.2 -2.4h0m1.7 -1.3h0m1 3.8h0m0.3 -1.8h0m1.2 0h0m1.9 -1.1h0m0.7 1.1h0m1 0.9h0m1.8 0.7h0m0 -0.3h0m0.5 -3.1h0m0.2 3.7h0m-0.7 1h0m-1.7 4.8h0m-0.6 -1.8h0m-1.2 1.4h0m-0.7 -2.8h0m-0.1 3.3h0m-0.2 -5.4h0m-1.8 0.9h0m-1.1 3.1h0m-2.4 -3.6h0m-4.6 2.2h0m-1.5 2.8h0m-0.2 -5.4h0m0 2h0m-0.6 3h0m-3.2 -0.1h0m-0.3 -0.4h0m-0.9 -3.5h0m-3.1 8.2h0m0.4 -3h0m1.4 4.6h0m2.2 -2.9h0m1.4 1.5h0m2.4 -3.2h0m0.9 2.7h0m0.2 1.3h0m1.4 -0.4h0m0.3 -3.4h0m3.9 2.3h0m0.3 0.6h0m0.1 -3.7h0m0.2 4.5h0m0.9 0.5h0m1.8 -3.1h0m0.1 0.5h0m0.2 2.5h0m1.2 -0.8h0m0.3 1.1h0m1.8 -1.8h0m2 -3.2h0m0.4 1.8h0m0.6 0.4h0m-1.2 4.2h0"/></g><g clip-path="url(#cgl)" filter="url(#soft)"><rect x="341.0" y="405.0" width="151.0" height="156.0" fill="#e264b4"/><g filter="url(#soft2)"><ellipse cx="470" cy="470" rx="28" ry="60" fill="#c04cb0" fill-opacity="0.4"/><ellipse cx="385" cy="420" rx="30" ry="12" fill="#c04cb0" fill-opacity="0.35"/></g><path fill="none" stroke="#862a88" stroke-width="1" stroke-linecap="round" stroke-opacity="0.7" d="M489.3 406.2h0m-4.5 -0.2h0m-0.2 1.8h0m-21.9 -0.2h0m-6.5 0.2h0m-0.4 -1.7h0m-5.4 0.9h0m-15.1 0.5h0m-5.4 -2.2h0m-0.3 0.6h0m-7.3 0.8h0m-14.5 0.2h0m-2.7 0.1h0m-13.6 0.8h0m-2.6 -0.1h0m-13.9 -1.6h0m-11.1 1.1h0m-6.5 0.5h0m-1 -0.1h0m-4.6 -0.9h0m-3.9 -0.7h0m-3 0.3h0m-2 1.4h0m0.9 6h0m1.7 0.2h0m1.1 -4.4h0m2.1 1.2h0m1.2 1h0m1.8 -1.8h0m4.1 3.4h0m0.9 -4.9h0m9.6 4.2h0m7.3 -3.2h0m4.7 2h0m21.3 0.7h0m1.1 1.4h0m3.5 -1.6h0m0.4 -0.6h0m16.7 -1.6h0m6.5 2.8h0m0.4 -3.3h0m5.9 4.3h0m1.9 -4.8h0m11.6 5.2h0m2 -1.7h0m0.9 0.9h0m0.2 -2.5h0m4.2 2h0m13.4 -3.8h0m3 2.2h0m1.6 0.1h0m0.5 2.1h0m1.1 -3.7h0m2.7 4h0m12.9 1.7h0m-13.1 1.6h0m-3.1 2.6h0m-4.7 0.5h0m-0.8 -4.9h0m-0.9 2.5h0m-1.4 1.7h0m-4.2 0.1h0m-1.7 -1.7h0m-3.6 -2h0m-9.1 1.5h0m-1.5 -0.3h0m-2.2 1.4h0m-13.5 -3.4h0m-0.2 3h0m-3.1 -2.6h0m-3 -0.6h0m-7 1.5h0m-0.7 0.6h0m-10.1 2.3h0m-3.9 0.5h0m-4.8 -3h0m-0.5 0.1h0m-2.3 0.1h0m-1 -1.4h0m-1.4 0.8h0m-1.2 3.2h0m-20.4 -2.5h0m-17.6 3.1h0m-7 -5.1h0m-4.2 9.6h0m0.4 -3.7h0m0.1 2.9h0m15.4 1.6h0m1.5 -2.4h0m3.5 0.7h0m6.4 -3.2h0m3.5 4.5h0m6.9 -4.5h0m6.4 1.6h0m4.4 2.1h0m5.3 -4h0m4.4 4.5h0m16.5 0.4h0m1.4 -0.3h0m2.6 -0.3h0m3.2 -1.5h0m0.6 -1.8h0m0.1 4.8h0m7.2 -2.7h0m6.1 -0.3h0m2.9 -0.8h0m6.4 -2h0m11.6 4.1h0m11.6 0.6h0m0.2 -2.8h0m3 2.6h0m4.9 -1.7h0m0.4 -2.5h0m0.5 5.4h0m1.6 -5h0m0.7 3.6h0m3.3 0.3h0m1.6 -0.9h0m0.4 8.2h0m-1.6 -4.8h0m-21.8 2.1h0m-2.1 -0.9h0m-4.4 -1.8h0m-5.3 0.2h0m-0.7 0.9h0m-4.1 1.7h0m-6.8 2.3h0m-2.1 -3.4h0m-7 3.1h0m-5.5 -3.2h0m-0.9 3.7h0m-5.1 -3.4h0m-10.9 -2.1h0m-3.6 -0.3h0m-5.8 3.3h0m-25.2 1.3h0m-1.3 -1.6h0m-6.6 1.7h0m-1.4 -3.1h0m-4.5 1.9h0m-4.8 -2.4h0m-6 3.4h0m-0.1 -4.1h0m-0.4 5.5h0m-4.1 -3h0m-0.7 -2.6h0m-0.2 2.9h0m-2.5 5.1h0m17.2 0.6h0m8.2 2.4h0m5.6 0.6h0m4 -2.9h0m0.4 -2.3h0m0.4 0h0m1.5 3.7h0m0.1 -1.7h0m0.6 -1.8h0m1.6 3.8h0m4.9 -1.3h0m3.2 1.7h0m0.2 -1.1h0m6.4 1.8h0m3.9 -0.1h0m4.5 -0.5h0m7.5 -0.6h0m1.2 -2.9h0m14.8 3.3h0m0.5 -3.1h0m8.2 2.8h0m7.5 -0.8h0m2.5 -2.4h0m3.9 0h0m1.9 3.8h0m9.9 -5.3h0m3.2 0.1h0m10.1 -0.1h0m14.3 6.2h0m-3.1 5.1h0m-1.7 -3.6h0m-1.1 -0.3h0m-1.5 -0.7h0m-4.9 5h0m-3.5 -2h0m-3.5 -0.9h0m-7 -0.5h0m-0.9 -1.5h0m-0.8 3.9h0m-11.8 -2.2h0m-8.6 0.3h0m-1.6 0.5h0m-3.6 -0.3h0m-15.6 -1.1h0m-4 -0.5h0m-3.7 -0.2h0m-19.4 3.6h0m-10.2 -0.5h0m-15.7 -4.3h0m-3.3 0.9h0m-9 1.4h0m-8.7 -1.1h0m-0.5 1.4h0m-4.5 7.1h0m0 2.2h0m8.5 -3.4h0m4.6 0.2h0m5.7 -2.4h0m5.9 1.8h0m3.9 -1.1h0m0.7 2.5h0m3.2 -2.3h0m0.2 4.1h0m6 -2.5h0m1.4 -1.2h0m1.3 2h0m0.4 -1.3h0m0.2 1h0m3.5 1.9h0m4.1 -0.5h0m4.4 0.3h0m2.6 0.7h0m3.2 -4h0m14.2 0.7h0m6.3 -1.8h0m6 0h0m0.9 0.5h0m0.4 4.3h0m1.7 -4.5h0m0.4 -0.5h0m1.7 1.3h0m11.5 3.4h0m7.7 -2h0m4.7 -1.3h0m3.2 -0.6h0m9.6 2.7h0m0.7 0.4h0m2.4 -3.4h0m0.6 2.7h0m0.6 1.5h0m6.1 -1h0m1.3 -1.3h0m4.3 2.4h0m1.7 -2.5h0m2.9 8.8h0m-9.9 -4.8h0m-0.9 2.1h0m-1.7 0.5h0m-5.3 2.1h0m-0.1 -1.4h0m-4.3 1h0m-0.6 -0.9h0m-0.2 0.9h0m-5.9 -4.8h0m-0.5 0.7h0m-0.7 0.8h0m-0.6 2.3h0m-23.5 0.8h0m-5.1 -2.5h0m-8.4 -0.7h0m-0.4 -1.1h0m-4.9 2.4h0m-3.9 -2.8h0m-2.9 4.2h0m-3.3 -1.9h0m-4.9 -1.3h0m-3.5 0.9h0m-2.5 -1h0m-3.3 4.3h0m-2.2 -0.9h0m-3.2 -1.4h0m-2.8 0.5h0m-20.3 0.3h0m-0.3 1.3h0m-1.1 -2.8h0m-0.2 0.6h0m-6.9 -1.1h0m-8.3 0.6h0m-5.6 7.9h0m6.1 -2.9h0m5.2 -1h0m6.9 3.2h0m0.3 -0.5h0m0.8 -1.4h0m2.6 0.6h0m1.1 2.9h0m2.5 0.2h0m1.1 -2.6h0m2 0.1h0m6 2.2h0m1.4 -4.6h0m1.8 3.2h0m1 1.1h0m6.7 -3.9h0m9.5 2.6h0m0.7 -0.6h0m1.2 -2.3h0m2 0.5h0m3.7 3.2h0m1.3 -2.4h0m4.4 3.7h0m6.3 -2.2h0m4.4 0.2h0m0.6 2.3h0m0.8 -2.4h0m0.9 -3.2h0m10.2 5h0m5.5 -1.5h0m10.4 -1.9h0m3.9 1.5h0m4.6 -3.2h0m14.6 3.7h0m3.1 -3.8h0m7.1 4.3h0m6.8 -2.3h0m-3.7 6.7h0m-0.2 -0.9h0m-6.7 2.2h0m-3.7 -3.6h0m-5 1.9h0m-1 -0.4h0m-7.7 0.5h0m-2.9 2.3h0m-6.5 -2.2h0m-1 -1.1h0m-3.5 0.8h0m-22.2 2.1h0m-2.8 -0.7h0m-6.9 -3.3h0m0 5.3h0m-4 -5h0m-3.9 2.3h0m-1.4 2.7h0m-2.1 -2.7h0m-10.2 1.7h0m-1.1 -0.5h0m-8.5 0.9h0m-1.7 -4.3h0m-14.8 2.7h0m-11.4 1.6h0m-0.6 -0.8h0m-3.5 -2.6h0m-4.4 1.3h0m-2.8 1.2h0m-3.3 7.1h0m1.5 -3.8h0m3.7 -0.7h0m6 2.3h0m5.7 1.2h0m2.7 0.5h0m14 -4.1h0m2.4 0.5h0m3.1 0.9h0m0.9 1.3h0m2 0.4h0m4.8 -3h0m15.1 2.6h0m6.2 -1.9h0m9.3 0.9h0m4.1 -1.1h0m2 3.5h0m0.3 0.6h0m5.7 -0.3h0m1.3 -0.3h0m0 -1.9h0m0.1 0.8h0m6.4 0.1h0m0.6 -1h0m1.3 0h0m3 1.4h0m3 -3.9h0m3.4 4h0m14.5 -1.1h0m3.7 2.6h0m5.4 -1.5h0m7.5 -0.3h0m7.9 -0.4h0m1 4.7h0m-1.5 -0.2h0m-7.4 1.6h0m-24.3 -3.6h0m-1 1.4h0m-4.6 4h0m-5.5 -1h0m-3 -3.1h0m-1.1 0.6h0m-6.9 1.5h0m-3.4 -2.6h0m-3.3 3h0m-11.4 0.5h0m-0.7 -2.2h0m-2.6 1.3h0m-1.2 1.7h0m-0.4 -4h0m-1.5 2.2h0m-10.2 -2.1h0m-2.6 -1.2h0m-5.1 5h0m-3 -2.2h0m-3.6 1.8h0m-3.6 -3.9h0m-1.8 1.7h0m-5.8 0.2h0m-4.1 2.1h0m-0.3 -2.1h0m-4.3 -0.1h0m0 0.6h0m-3.3 -3h0m-0.4 5.1h0m-0.4 -2.8h0m-2.8 3h0m-3.3 -2.4h0m-3.2 -2.4h0m-7.5 3.9h0m-2 2.1h0m2 -0.1h0m11.9 1.6h0m5.9 0.6h0m0.8 2.6h0m1.4 -4.4h0m1.3 -0.9h0m4.3 1.7h0m4.6 0.3h0m0.4 2.2h0m0.9 -4.3h0m1.8 2.4h0m0.7 -0.6h0m0.5 0.8h0m1.4 1h0m12.3 -3.1h0m4.9 1.1h0m3.1 -0.6h0m9.1 1.9h0m0.8 -1.9h0m14.1 1.3h0m0.6 3.3h0m2 -3h0m0.7 -1h0m4.9 3.8h0m1.6 -1.8h0m4.7 -1h0m0.3 2.6h0m10 -0.8h0m4.8 -4.1h0m6.6 0.2h0m3.7 1.4h0m4.9 -1.4h0m3 1.2h0m17.6 2.2h0m-0.1 3.1h0m-4.5 -0.6h0m-4.2 0.2h0m-1.7 2.6h0m-0.8 -2.3h0m-2 1h0m-6.7 2.5h0m-9.3 -3.1h0m-0.3 2h0m-4.7 1.8h0m-0.1 -4.3h0m-9.7 0.8h0m-2.4 3.1h0m-1.6 -2.7h0m-3.3 -1.6h0m-5.7 2h0m-4 -2h0m-0.4 4.7h0m-2.7 0.4h0m-14.9 -0.3h0m-2.6 -3.4h0m-1 2.7h0m0 -2.1h0m-4.6 0.5h0m-0.7 0.4h0m-0.9 -1.5h0m-0.7 0.8h0m-7.5 0.4h0m-3.4 0.2h0m-3 2.5h0m-6.3 -1.5h0m-0.2 -0.1h0m-2.7 -1.1h0m-10.6 0.8h0m-16.8 2.1h0m-2.1 -1.5h0m-3.7 -2.1h0m31 8.1h0m9.6 1h0m3.1 -4.7h0m1.3 2.5h0m4.6 0.4h0m0.5 0.4h0m3.6 -0.4h0m6.3 1.1h0m1.3 -0.3h0m2.1 -3h0m3.1 3.6h0m7.5 0h0m1.1 -3.8h0m2.3 3.3h0m6.6 0.5h0m2.2 0.5h0m8.6 0.3h0m0.8 -3h0m7.8 -2.3h0m4.8 1.2h0m1.5 2.2h0m1.3 -0.7h0m0.6 0.9h0m2.1 -1.4h0m2.2 -1.2h0m0.6 -1.1h0m7.2 0.5h0m6.1 -0.6h0m9.3 3.1h0m2.1 2.1h0m4.8 -2.4h0m-7.7 3h0m-3.1 0.5h0m-2.1 1.4h0m-1.7 0.5h0m-8.8 0.3h0m-5.7 0.4h0m-4.7 -1.5h0m-0.2 -0.1h0m-2.6 2.3h0m-6 -0.4h0m-11.4 -2.9h0m-8 2.2h0m-0.9 3.1h0m-3.3 -0.9h0m-0.9 -2.8h0m-1.6 0.8h0m-21.3 -2.6h0m-6.9 0.6h0m-4.9 -1h0m-0.5 3.3h0m-2.6 1.3h0m-2.5 -0.4h0m-4.1 1.6h0m-0.3 -4.7h0m-1.8 0.3h0m-1.2 0.4h0m-9 -1.2h0m-6.1 3.8h0m-0.7 0.9h0m-1.2 -4.2h0m-14.2 7.4h0m2.8 -1h0m3.5 -1h0m2.1 -0.3h0m14.5 3.3h0m7.5 -3.5h0m6.7 3.5h0m1.2 0.3h0m7.7 0h0m6.5 1.7h0m0.1 0.4h0m3 -0.7h0m5.3 -3.3h0m1.8 -0.2h0m0.8 3.4h0m1.1 -3.1h0m1.7 -0.9h0m8.6 -0.7h0m4.4 4.8h0m0.2 0.4h0m19.1 -0.4h0m2.5 -1.1h0m0.1 -1.7h0m12.6 2.7h0m8.3 -4.6h0m6 2.5h0m0.6 2.7h0m2.5 -3.3h0m2.3 2.9h0m4.6 -4.2h0m2.3 4h0m2.7 -2.7h0m0.6 5.5h0m-0.1 1.4h0m-11.2 -1.9h0m-5.2 -1h0m-16.8 0.1h0m-10.9 2.3h0m-1.7 -1.6h0m-5 3.6h0m-11.3 1h0m-7.3 0h0m-10.3 -4.7h0m-2.4 -0.2h0m-4.4 2.7h0m-3.7 -1h0m-1.1 -0.6h0m-3.5 -1.5h0m-0.2 1.4h0m-16.1 0.9h0m-7.7 -0.7h0m-4.8 3.7h0m-10.9 -3.2h0m-0.1 -0.4h0m-9.3 3.1h0m-2.8 1.6h0m0.7 1.7h0m0.1 1.5h0m6 -0.7h0m1.3 0.9h0m3 -3.4h0m4.4 1.6h0m9.3 -1.8h0m13.3 4.5h0m6.4 -0.9h0m3.5 1.2h0m21.5 -5.4h0m2.5 3.3h0m1.2 -1.3h0m1.2 -0.1h0m1.7 0.4h0m1.5 -0.4h0m4.7 -1.5h0m23.6 3.4h0m3.4 1h0m1.1 -1.7h0m1.8 2h0m2.8 -1.4h0m3.6 0.1h0m0.2 -2.8h0m3.1 3.1h0m6.5 -1.3h0m3.6 1h0m7.9 -0.8h0m4.5 -0.5h0m4.8 -1.6h0m-6.2 5.1h0m-7 0.4h0m-3.6 1.3h0m-10.2 1.2h0m-9 -1.1h0m-2.7 3.1h0m-1.4 -0.8h0m-13.6 0.8h0m-4.3 -2.7h0m-2 2.5h0m-2.4 -2.7h0m-0.2 -1.8h0m-2.7 3h0m-0.1 -3.2h0m-0.9 2.1h0m-12.5 2h0m-14.6 -0.5h0m-0.6 -2.8h0m-0.9 2.8h0m-3.4 0.2h0m-1.2 0.9h0m-1.9 -2.5h0m-5.6 0.8h0m-3.3 -0.3h0m-4.6 -1.1h0m-4.7 1.1h0m-0.5 -2.5h0m-9.3 5.2h0m-10.2 -0.1h0m-10.4 -2.8h0m3 5.8h0m7.8 0.6h0m2.9 2.1h0m1.1 -0.1h0m4.5 -4.4h0m0.7 3.7h0m5.9 -2.8h0m4.2 3.8h0m12.5 -2.5h0m7.3 1.3h0m2.2 -3.9h0m4.3 3.3h0m0 1.2h0m5.9 -4.1h0m0.1 4.9h0m5.4 -5h0m6.1 1.2h0m2.8 -1h0m7.7 1.2h0m1.7 3.6h0m0.6 -2.5h0m3 -1.8h0m1.8 0.8h0m11.3 1.2h0m7 1.4h0m7.7 -1.7h0m9.1 -1.3h0m8 -1.5h0m0.2 3.3h0m15.2 0h0m-11.9 4.8h0m-0.3 -0.5h0m-2.6 2h0m-11.2 -1.8h0m-3.1 -1.7h0m-9.1 2.2h0m-2.1 0.3h0m-3.2 -2h0m-3 3.6h0m-5.9 -0.9h0m-1.1 -0.1h0m-0.7 -0.4h0m-0.7 0.7h0m-1.8 -3.4h0m-1.5 0.8h0m-2.9 2.3h0m-7.9 0h0m-4.4 -1.6h0m-13.4 1.1h0m-0.7 -1.5h0m-0.6 2.6h0m-6.1 -3h0m-0.4 2.6h0m-1 1.9h0m-2.1 -4.1h0m-3.2 -0.5h0m-0.1 2.5h0m-8.1 1.7h0m-5.4 -4h0m-4.2 2h0m-3.8 -1.6h0m0 1.9h0m-7.6 1.7h0m-12.3 -0.1h0m-2.4 -4.8h0m-1 1.2h0m-2.6 -0.3h0m-0.1 4.3h0m-0.5 3.5h0m0.1 2.3h0m1.9 -3.3h0m0.5 -0.4h0m12.6 0.9h0m1.8 1.1h0m3.7 -2.2h0m1.3 -1.1h0m1.2 5.2h0m1.1 -1.2h0m0.5 -2.4h0m3.3 2.2h0m7.6 -2.1h0m0.6 0.5h0m4.9 3h0m7.6 -5.3h0m5.3 0.1h0m5.1 4.2h0m1.3 0.1h0m2.7 1.1h0m26.7 -2.3h0m2.8 -1h0m1.6 -0.9h0m12.8 3.4h0m1.6 -3.9h0m0.8 3.2h0m9.9 -3.9h0m2 3.8h0m8.5 1.4h0m2.9 -2.6h0m1.1 1.7h0m1 0h0m4.9 -2.1h0m1.5 1.3h0m0.1 1.8h0m0.6 -0.2h0m4.6 -4.7h0m0.9 4.8h0m1.2 3.3h0m-2.1 3.1h0m-1.9 -3.9h0m-1.4 2.3h0m-2.6 1.4h0m-4.8 -0.6h0m-1.6 -4.4h0m-2.8 4.3h0m-5 0.5h0m0 0.3h0m-5.5 -4.1h0m-0.2 4.3h0m-9.1 -2.1h0m-20.1 0.4h0m-4.4 -3.2h0m-2.9 -0.5h0m-4.1 1.2h0m-3.3 3.6h0m-10.4 -4.4h0m-0.4 4.7h0m-6.9 -3.9h0m-32.6 -1.1h0m-0.3 4.3h0m-0.8 -1h0m-1 1.1h0m-1 -4.4h0m-3.8 5.2h0m-0.1 -1.8h0m-2.2 -0.9h0m-4.5 -2.5h0m-0.6 3.1h0m-1.6 -1.6h0m-3.1 -0.9h0m-7.1 2.2h0m-0.6 1.3h0m6.9 3.1h0m5.5 2h0m10.3 -2.4h0m1.9 3.3h0m1.1 -2.8h0m17.3 -1.5h0m0.6 3.7h0m1.5 -0.1h0m1.5 1.9h0m1.1 -3.6h0m0.4 1.9h0m3 -2.7h0m2.8 4.4h0m1.3 -0.7h0m7.8 -2.3h0m5.3 -2.3h0m4.8 1.1h0m0.7 -1.3h0m4.5 5.3h0m7.7 -5.2h0m11 1.5h0m0.2 1.7h0m6.5 1.2h0m7.6 0h0m2.5 -2.8h0m0.1 2.8h0m8.7 -2.7h0m1.9 0.5h0m1.5 0.9h0m3.3 0.9h0m9.3 1.5h0m3 -4.9h0m2.3 -0.3h0m5 1.9h0m-1.7 3.4h0m-13.3 2.7h0m-5 -1.2h0m-18.2 -0.4h0m-6.6 1.7h0m-5.7 -1.5h0m-17.7 0.1h0m-11 -0.6h0m-17.1 2.1h0m0 -1h0m-8.4 -0.2h0m-4 1h0m-1.3 -2.4h0m-4.3 2.4h0m-2.3 0.2h0m-2.5 -0.7h0"/><path fill="none" stroke="#862a88" stroke-width="1.4" stroke-linecap="round" stroke-opacity="0.7" d="M475.6 407.2h0m-6.7 0.3h0m-5.2 -1.1h0m-14.5 1.5h0m-4 -2.8h0m-1 2.5h0m-11.6 -1.4h0m-13.4 -0.8h0m-4.2 1.6h0m-14 -0.7h0m-2.1 -0.3h0m-3.1 -0.4h0m-42.5 1.9h0m-12.1 4.2h0m3.4 0h0m4.5 0.6h0m0.1 1.6h0m6.6 -5.1h0m17.8 4.6h0m0.9 -3h0m1.6 -1h0m1.6 -0.2h0m4 4.3h0m1.3 -0.8h0m0.6 -3.3h0m3.1 4.2h0m0.7 -1.5h0m3.2 -2.4h0m1.7 -1.7h0m7.3 4.4h0m5.7 -3.3h0m1.3 4.3h0m0.7 -4.6h0m0.2 -0.4h0m0.7 1.2h0m1.7 2.3h0m6.4 0.7h0m2.9 -0.9h0m7.1 -3.2h0m7.8 1.8h0m3.1 -0.3h0m7.9 -0.2h0m5.6 0.5h0m6.1 -0.5h0m1.4 -1.2h0m4 2.4h0m2.7 1.9h0m1.2 -1.2h0m3 -2.3h0m3.6 0.3h0m13.2 -0.7h0m5.2 2.9h0m0.8 6.7h0m-6.9 -4.5h0m-1.3 4.9h0m-3.8 -3.6h0m-1.1 1.5h0m-0.1 -1.7h0m-0.9 -1.2h0m-9.2 5.1h0m-2.1 0.5h0m-0.5 -5.4h0m-8 5.7h0m-2.5 -4.5h0m-18.3 1.4h0m-1.5 -0.5h0m-11.9 -0.3h0m-2 -0.4h0m-2.9 -0.2h0m-5.6 4.5h0m-8.6 -5.3h0m-4.6 4.9h0m-6.7 -1.7h0m-3.1 -3.7h0m-3.3 1.2h0m-0.2 1.8h0m-14.6 -1.7h0m-3.1 -1.4h0m-12.7 5.6h0m-10.1 0.2h0m-1.2 5.1h0m5.9 -2.6h0m5.5 -0.2h0m2.8 0.8h0m5.2 1.3h0m3 -0.1h0m8.1 -1h0m1.9 2.2h0m0 -3.8h0m2.5 1.6h0m4.3 -2.8h0m1.1 2.8h0m9.1 1h0m1.3 -2.6h0m13.8 0.2h0m1.3 3h0m1.1 -0.7h0m9.4 1.6h0m11.5 -4.4h0m2.8 0.4h0m1.2 1.6h0m1.9 -0.5h0m6.4 0.7h0m19 1.3h0m1.9 -3.9h0m3.6 3.8h0m1.3 0.6h0m19.6 -1h0m0.6 1.3h0m-2.6 4.6h0m-3.1 -2.3h0m-2.3 2.7h0m-1.3 -1.1h0m-0.4 -0.9h0m-3.2 1.6h0m-3.2 -3h0m-2.6 0.1h0m-3.8 0.5h0m-3.4 -0.7h0m-1.7 3h0m-4.5 -0.6h0m-0.6 1h0m-4.8 -0.8h0m-0.4 2.3h0m-13.8 -2.2h0m-8.7 -2.3h0m-1.1 0.8h0m-3.5 0.6h0m-15.2 -2.4h0m-9.4 -0.4h0m-1.3 3.7h0m-1.5 0.8h0m-10.9 -3h0m-0.6 0.5h0m-17 2.2h0m-3.3 -3.5h0m-0.3 3.2h0m-2.8 -1.7h0m-6.6 0.7h0m-5.5 -1.7h0m-3.5 0.4h0m-0.8 1h0m-1.9 1.5h0m-0.6 -2.2h0m8.3 6.9h0m4.7 2.7h0m2.2 -2.4h0m6 1.2h0m4.9 -0.8h0m6 -3.3h0m5.2 0.1h0m5.6 3.6h0m8.9 -3.4h0m1.6 2.4h0m0.3 -1.4h0m1.8 0h0m2.8 -0.3h0m4.5 2.7h0m3.3 1.2h0m1.2 -0.9h0m11.9 -1.6h0m0.9 -2.6h0m4.2 5.2h0m3.1 -0.5h0m4.6 -0.9h0m10.9 0.6h0m19.5 1h0m4.9 -2.9h0m1.9 3.1h0m0.3 -4.5h0m4.1 3.4h0m0.9 0.6h0m0.3 -5.1h0m5.3 2.4h0m3 -1h0m3.1 0h0m0.5 5.5h0m-0.3 3.9h0m-18.9 -4.6h0m-5.5 3.4h0m-4.4 1.4h0m-1.2 -1.7h0m-7.9 -1.4h0m-1.7 0.8h0m-4.7 1.4h0m-9 -2.7h0m-0.1 -0.2h0m-1.4 -0.7h0m-1.7 4.3h0m-1.3 -3.2h0m-4 2.9h0m-0.4 -0.6h0m-10.8 -1.3h0m-3.2 -1.1h0m-5.3 0.7h0m-2.2 3.2h0m-1 0h0m-0.9 -2.3h0m-9.4 2.4h0m-16.6 -2.2h0m-3.6 -2.8h0m-0.8 5.1h0m-7.6 -1.1h0m-0.9 1.2h0m-9.7 -0.2h0m-2.5 -0.5h0m-2.1 -5h0m-3.4 1.4h0m-7.7 2.1h0m1.1 8h0m13.2 -4.8h0m2 0.3h0m1.8 1.5h0m3.2 0.9h0m1.4 -2.6h0m24.3 3h0m8.5 2.1h0m0.7 -0.2h0m2 -5.4h0m1.8 1.3h0m5.9 -1.6h0m5.4 5.1h0m1.8 -0.1h0m1.4 0.7h0m5.5 -3.5h0m1 0h0m3.6 3.1h0m2 -1.7h0m0.7 -1.5h0m0.6 3.4h0m0.8 -0.8h0m7.9 -2.8h0m4.6 -0.3h0m2 -1.1h0m7.7 3.3h0m2 -0.8h0m1.8 0.3h0m1.5 0.3h0m5.1 2h0m5.2 -2.8h0m9.5 0.6h0m1.1 -1.8h0m6.4 0.6h0m6.5 3.2h0m-4.9 3.6h0m-2.7 0.7h0m-1.4 -1.7h0m-1.1 3.3h0m-2.2 -1.6h0m-8.1 -2.2h0m-1.7 0.6h0m-4.4 -0.1h0m-3.3 1.1h0m-4.3 0h0m-0.7 2.5h0m-2.5 -1.6h0m-1.4 -1.5h0m-3.8 -1.2h0m-11.1 2.1h0m0 -2.9h0m-1.3 4.6h0m-9.9 -3.7h0m-6.9 1.3h0m-0.2 0.5h0m-4 -0.9h0m-3.6 2.3h0m-15.3 -2.4h0m-6.2 1.7h0m-3.1 -0.1h0m-2.4 0.5h0m-0.6 0.9h0m-1.9 -5h0m-5.4 1.6h0m-1.3 3.1h0m-8.3 -1.6h0m-5.3 -2.5h0m-1 -0.3h0m-0.6 3.7h0m-10.2 -0.3h0m-7 4.8h0m5 2.5h0m1 0.3h0m5.7 -4h0m8.4 1.7h0m1.9 -3.2h0m0.2 0.3h0m2.7 4.7h0m1.7 -1.8h0m2.2 -2.2h0m12 2.2h0m0.9 0h0m4.2 1.4h0m5.8 0.6h0m0.2 -0.3h0m2.6 -4.4h0m2.7 4.6h0m8 -2.4h0m5.7 2.8h0m5.5 0.4h0m1.3 -2.3h0m11.9 -3.2h0m7.3 5.4h0m0 -2.3h0m4.9 -2.5h0m6.1 1.6h0m7.6 3.3h0m3.9 -0.9h0m5.7 -1h0m1.3 0.7h0m6.9 -2.9h0m9.4 2.3h0m4 3.8h0m-0.8 1.8h0m-0.9 -1h0m-1 1.6h0m-3.1 -2.9h0m-0.1 1.8h0m-0.3 0.8h0m-1.8 1.1h0m-16.6 -5.1h0m-5.5 0.5h0m-6.7 1h0m-1.8 0.2h0m-8.3 -0.9h0m-2.3 3.2h0m-6.3 1.9h0m-0.6 -5.4h0m-1.5 5h0m-16.4 -1.8h0m-6.1 -2.7h0m-6.5 0.3h0m-3.8 4.5h0m-4.4 -5.2h0m-0.7 2.2h0m-1.4 -2.2h0m-4.5 1.8h0m-3.2 0.6h0m-0.4 1.3h0m-2.2 0.8h0m-3 -4.1h0m-9.7 2.8h0m-10.6 2.1h0m-13.2 -3.8h0m-2.2 -1h0m-0.7 8.9h0m2.6 -3.5h0m16.8 5.3h0m9.5 -5.6h0m5.8 2.4h0m11.3 -2.5h0m3 1.5h0m8.4 2.4h0m1.2 0.3h0m0.4 -3.3h0m3.5 4.5h0m3.9 -0.1h0m1.7 -4.3h0m8.7 2.9h0m0.5 -3h0m2 -0.8h0m3.1 2.8h0m1.7 2.5h0m7.4 -5.4h0m1.9 1h0m2 2.5h0m40.8 -3h0m3.1 7.4h0m-0.6 3.8h0m-9.6 -4.7h0m-4.9 -1h0m-8.3 5.6h0m-11.5 -0.6h0m-9.7 -2.5h0m-1.8 2.9h0m-2.2 -1.9h0m-2.9 0.5h0m-1 -2.7h0m-2.2 3.9h0m-4.6 -5.1h0m-8.3 0.7h0m-3.5 3.9h0m-1.4 -1.3h0m-8.1 0.7h0m-8 -1.5h0m-0.9 -2.7h0m-0.2 5.8h0m-3.5 -1.4h0m-4.8 0.8h0m-2.5 -5.1h0m-0.3 -0.1h0m-11.6 5h0m-8 -3.9h0m-3.2 3.3h0m-5.1 0.8h0m-9.3 -3h0m-3 -0.1h0m2.5 4.2h0m0.8 0.4h0m0.4 3.2h0m10.7 -3.6h0m3.4 3h0m1.1 -1.3h0m9.8 -0.4h0m0.9 -0.1h0m6.1 -0.6h0m1.2 -0.4h0m7 2.6h0m2 -1.3h0m17 2h0m1.4 1h0m4.7 -3.4h0m0.8 3h0m4.2 -3.9h0m2.4 0.4h0m11.2 1.5h0m5.4 1.4h0m0.2 -2.6h0m0.8 4.3h0m10.8 -2.2h0m7.5 -1.1h0m1 1.2h0m4.4 -3.2h0m3.6 1.4h0m1.2 1.1h0m5.5 -0.3h0m10.4 -1.9h0m3.9 0.1h0m1.1 1.2h0m5.2 9.6h0m-0.3 -3.8h0m-1.7 -0.6h0m-6.1 -0.4h0m-2.8 4.3h0m-1.9 -1.8h0m-4.6 -1h0m-1.3 2.5h0m-1.7 0.4h0m-0.3 -1.7h0m-1.3 0.8h0m-1.3 -0.1h0m-10.4 -0.6h0m-0.6 -0.3h0m-19.6 0.6h0m-10.3 -3.5h0m-1.5 0.5h0m-1 5h0m-5.4 -3h0m-11.3 -2.2h0m-3.3 4.2h0m-11.1 1.1h0m-4.5 -3.9h0m-4.2 0.9h0m-2.7 -2.6h0m-14 2.4h0m-1.3 -1.2h0m-0.4 3.3h0m-3.7 -3.3h0m-3 3.6h0m-1 -0.3h0m-0.3 -1.5h0m-12.3 4.6h0m9.8 1.6h0m23.7 0.3h0m0.5 -1.1h0m2.8 0.7h0m0.6 0.3h0m0.8 -3.3h0m5.6 1h0m2.7 2.3h0m0.2 -3.3h0m3.9 0h0m1.9 2.6h0m2.8 -1.9h0m4.2 -0.3h0m0 3.2h0m0.3 -3.7h0m4.1 4.4h0m14.2 0.8h0m8.4 -1.9h0m3.4 -1.3h0m0.7 2.9h0m1.6 0.5h0m1.1 -3.9h0m3.1 3.4h0m1.1 -5.1h0m0.6 3.6h0m2.2 -3.4h0m0.5 3h0m2.9 0.9h0m2.5 -3h0m6.5 4.8h0m0.5 -2.1h0m8.5 1.9h0m2.3 -5.4h0m7.7 2.1h0m0.7 2.6h0m0.6 -1.6h0m2.3 -2h0m3.3 0.1h0m3 0.3h0m5.2 4.9h0m-2.6 0.1h0m-2.7 4.1h0m-0.2 -1.4h0m-11.7 -0.2h0m-5.2 -3.2h0m-0.5 3.9h0m-7.4 -2.8h0m-1.1 4.6h0m0 -5.7h0m-1 5h0m-3.9 -2.7h0m-9.7 -2h0m-8.8 2.9h0m-1.6 -1.5h0m-0.6 1.6h0m-3.9 1.3h0m-3.4 -2.3h0m-0.4 2.8h0m-4.4 -1.3h0m-0.9 -0.1h0m-1 1.6h0m-6.2 0h0m-3.8 -0.2h0m-18.3 -5h0m-2.8 4.7h0m-5.1 -3.6h0m-1.6 2.6h0m0 -0.4h0m-5.9 -0.7h0m-9.7 1h0m-1.2 1.1h0m-4.4 -4.4h0m-8.9 0.2h0m-0.1 1.3h0m-3.2 0.5h0m-5.6 -2.1h0m5.5 8h0m11.3 1h0m2.7 2.1h0m9.3 -1.1h0m0.4 -1.4h0m1.2 0h0m12.5 1.9h0m7.8 -2.9h0m21.5 0h0m0.3 -1.3h0m1.2 3.3h0m4.5 1.8h0m1.1 -2.1h0m4.3 -2.5h0m8.3 3.7h0m3.8 -2.2h0m0.5 -0.5h0m5.3 3.3h0m1.4 -4h0m1.3 3.5h0m3.1 0.4h0m4.6 -1.5h0m3.2 -0.6h0m0.6 -2.2h0m0.9 4.3h0m1.3 -5.1h0m0.3 5.3h0m0.4 -1.9h0m4.7 1.3h0m5.7 -1.8h0m1.1 -0.6h0m0.2 -0.8h0m2.5 2.3h0m10.1 -1.6h0m3.9 1.3h0m-12.8 5.1h0m-8.3 -0.6h0m-0.9 1.6h0m-1.5 0.1h0m-0.5 -1.4h0m-1.8 2.6h0m-3.2 -3.4h0m-0.4 3.9h0m-8.8 -1.4h0m-4 -2.7h0m-2.9 2.7h0m-1.5 -1.8h0m-6.5 -0.9h0m-5.6 3.7h0m-1.6 -4.7h0m-0.7 0.6h0m-1.8 4.2h0m-0.4 -2.2h0m-14.7 -0.2h0m-2.7 2.2h0m-5 -0.8h0m-0.2 -3.2h0m-3.3 3.4h0m-4.2 -3h0m-4.7 0.5h0m-3.6 2.4h0m-4.1 1.2h0m-8.1 -0.2h0m-1.8 -2.1h0m-3 -2.9h0m-0.8 3.8h0m-4.8 -3.6h0m-1.1 -0.2h0m-6.1 4.6h0m-0.4 0.3h0m-2.8 -4.9h0m-6.7 1.4h0m-8.2 0.8h0m1.9 3.5h0m2.6 3.1h0m6.6 -3.3h0m0.5 0.8h0m4.5 2.4h0m11.4 -1.8h0m1 -0.9h0m1.4 3.2h0m4.4 0.4h0m4.6 -3.9h0m3.6 0.3h0m4.1 1.1h0m10 -1.4h0m1.7 4.4h0m12.4 -4.6h0m5.9 3.8h0m6 0.8h0m2.4 0.7h0m2.3 -1.4h0m1 1.9h0m9.4 -1.3h0m0.1 -2.3h0m0 -1.1h0m6 0.7h0m13.7 2.3h0m3.8 -2.2h0m1.5 2.9h0m1.3 1.1h0m3.5 -2.6h0m7.3 -1h0m8.6 -2.1h0m0.6 3.4h0m1.4 -3.5h0m4.6 8.2h0m-2.4 2.8h0m-0.7 -2h0m-2.2 1.4h0m-2.4 -0.7h0m-5.6 1.3h0m-0.2 -0.2h0m-4.4 -2.7h0m-1.3 1.8h0m-5.5 -0.7h0m-6.3 2h0m-8.9 -5.3h0m-3.3 0h0m-1.1 2.1h0m-3.9 0h0m-6.5 3.2h0m-0.2 0.1h0m-8.1 -0.7h0m-8.9 1h0m-0.3 -4.3h0m-12 -0.1h0m-0.3 0h0m-3.6 2.9h0m-4.4 -3.5h0m-3.2 3h0m-6.7 -2.9h0m-0.5 0.4h0m-2.3 4.5h0m-1.7 -2.3h0m-3.5 -3.4h0m-4.2 4.3h0m-4.9 -0.8h0m-3.7 2.3h0m-5.4 -4.9h0m-0.7 2.8h0m-4 2.1h0m-14 1.5h0m18.3 0.9h0m4.4 1.3h0m1.1 -1.6h0m4.8 0.2h0m2.7 -0.9h0m6.2 -1h0m1.5 2.7h0m1.1 -0.7h0m2.5 -0.5h0m5.5 1.3h0m2 2.5h0m0.4 -1.3h0m3.7 -4.2h0m0.7 2.9h0m7.2 2.7h0m0.5 0.2h0m5 -2.8h0m7.7 2.7h0m0.2 -2.8h0m0.3 0.2h0m7 -3.1h0m2.6 4.8h0m8.5 -2h0m7.2 -2.2h0m5.7 3.4h0m0.4 -2.7h0m2.4 3.3h0m4.4 -4.5h0m9.6 3.4h0m1.8 0.6h0m5 1.1h0m6.1 -4h0m1.8 1.1h0m2.2 2.4h0m1.8 -2.4h0m3 6.4h0m-13.3 -1.7h0m-2 3.4h0m-9.4 -3.3h0m-1.7 3.3h0m-0.1 -4.1h0m-2.2 2.3h0m-16.5 3.1h0m-7.8 -2.2h0m-8.7 -3h0m-6.3 2.1h0m-1.6 -1.6h0m-2 4.4h0m-2.6 -2.1h0m-2.8 -1.8h0m-1.3 3.8h0m-4.6 0.3h0m-1.8 -4.1h0m-5.4 3.7h0m-2 -4.2h0m-3.2 -0.7h0m-7.6 3.1h0m-2.1 2.2h0m-5.8 -2.9h0m-0.5 0.2h0m-2.3 -2.7h0m-0.3 3.7h0m-4 -3.4h0m-8.7 1.4h0m-2.1 0.7h0m-1.9 0.1h0m-2.5 -2.4h0m-1.7 4.6h0m-1.3 -4.3h0m-0.1 2h0m-4.2 -0.7h0m-5.2 1.3h0m-2.1 2.5h0m2.9 0.9h0m0 1.8h0m4.4 -2.3h0m4.4 0.8h0m8 0.8h0m0 1.7h0m4.7 1h0m1.9 -2.1h0m1.9 2.5h0m2 0h0m5.1 -0.4h0m6.7 -1.1h0m1.3 -1.3h0m4.8 0.5h0m0.9 1.5h0m1.5 -1.7h0m0.7 2.8h0m3.7 -4.2h0m3 1.2h0m4.4 2.6h0m7.2 1.1h0m0.4 -5.1h0m22.3 3h0m0.1 -3.1h0m3.2 3.2h0m9.8 1.3h0m3.1 -3.1h0m2.1 1.4h0m0.8 -1.6h0m1.6 0.9h0m7.2 -0.2h0m2.1 3.2h0m2.4 -1.4h0m2.7 -2.7h0m0.3 1.2h0m4.8 2.7h0m15.8 0.7h0m-4.2 3.1h0m-2.1 2.3h0m-1.8 -3.7h0m-7.6 1.1h0m0 0.1h0m-15.6 0.3h0m-2.4 2.3h0m-4.9 -1.4h0m-1.3 -2.9h0m-10.5 0h0m-1.5 -1.2h0m0 2.8h0m-13.1 -2.9h0m-1.1 2.7h0m-9.5 -2.3h0m-1.4 0h0m-3.3 4.4h0m-6.8 -0.7h0m-1 -1.8h0m-7.1 0.5h0m-3.6 1.3h0m-1.9 -3.6h0m-3.3 0.9h0m-0.6 3.3h0m-9.8 -2.2h0m-5.5 -1h0m-1.8 -0.7h0m-3.5 -0.8h0m-1.2 5.1h0m-1.7 -3.4h0m-1.9 3.3h0m-1.4 -0.7h0m-9.1 -3.1h0m-7.3 10.1h0m0.5 -2.7h0m5.4 3h0m1.2 -2.3h0m2.6 -0.5h0m0.3 -1.6h0m4.4 -0.7h0m1.5 1.6h0m0.1 0.8h0m2.4 1.2h0m4.9 -3.7h0m2.3 5.1h0m1.8 -3.1h0m9.7 2h0m0.6 -2.3h0m0.4 -0.2h0m4.6 3.4h0m3.2 -3.9h0m6.9 3.8h0m7.4 -4.5h0m2.1 0.3h0m10.2 1.2h0m3.2 0.5h0m6.4 0.5h0m3.2 -0.4h0m0.8 -2.6h0m9.7 4.3h0m3.7 -0.6h0m0.8 -2.3h0m23.4 -0.5h0m1.2 1.1h0m3.9 0.3h0m2.4 -1.4h0m1.8 0.8h0m1.9 2.5h0m2.5 -0.3h0m0.7 0.9h0m6.9 1.6h0m-1 -0.3h0m-0.1 2.2h0m-2.7 -2.3h0m-16.8 0.3h0m-4 0h0m-17.2 -0.2h0m-16.3 1.6h0m-0.6 -0.8h0m-2.4 -0.6h0m-30.6 -0.1h0m-11.3 -0.5h0m-3.8 0.5h0m-1.8 -0.5h0m-2.8 2.9h0m0 -1.9h0m-6.5 0.3h0m-0.2 -1.3h0m-7 1.5h0m-2.5 0.3h0m-15.8 -0.4h0"/><path fill="none" stroke="#862a88" stroke-width="1.8" stroke-linecap="round" stroke-opacity="0.7" d="M480.6 407.7h0m-13.1 -2h0m-0.8 1.2h0m-17.8 -0.8h0m-4.2 0.3h0m-14 0.3h0m-2 -1h0m-1.4 2.1h0m-1.1 -0.3h0m-8.8 -0.7h0m-13.3 -0.2h0m-19.4 -1.3h0m-2.1 0.1h0m-4.3 1.4h0m-10.8 -1.7h0m-21.2 1.6h0m11.6 5.2h0m0.5 -0.5h0m0.9 -2h0m3.7 4.1h0m10 -5.1h0m3.5 2.8h0m2 2.6h0m5.3 -1.5h0m4.8 1h0m15.5 -4.5h0m7.3 5h0m4.1 -2.3h0m1.2 -1h0m4.6 0.1h0m0.2 -1h0m1.5 3.1h0m3.8 -3.8h0m21.7 1h0m0.2 -1.6h0m0.9 1.3h0m5.7 0.5h0m0.9 -0.9h0m5.3 1.5h0m6.6 -2.4h0m1.7 2.5h0m0.7 0.3h0m11 0h0m4.2 -3.1h0m2 3.4h0m0.5 -0.9h0m3.5 8.3h0m-2.4 -3.7h0m-16.1 1.8h0m-1.3 -2.6h0m-27.2 0.8h0m-12.7 4.8h0m-0.6 -0.5h0m-4.6 -1.2h0m-1.9 -0.9h0m-2.1 -1.7h0m-4.5 0.9h0m-3.1 -0.1h0m-2 -1.3h0m-28 -1.1h0m-3.5 0.5h0m-0.3 2.8h0m-0.9 -2.5h0m-4.1 3h0m-8.1 -1.4h0m-10.3 1.9h0m-3.7 -0.1h0m-1.7 -3.5h0m-1.3 4.7h0m-8.7 2.8h0m1.3 0.2h0m0.7 2.2h0m0.4 -3.9h0m0.6 4h0m2 -2.9h0m5.3 0.9h0m5.5 2.4h0m4.3 -1.5h0m1 -1.9h0m0.9 2h0m3.4 -0.4h0m0.4 1h0m1.9 -0.9h0m4.5 1.2h0m1.2 -2.4h0m4.6 -0.6h0m6.9 4.3h0m2 -2.3h0m1.7 -0.5h0m0.7 2.5h0m0.6 -3.9h0m2.4 3.1h0m3.1 -3h0m6.8 0.5h0m2.6 -1.7h0m1.6 1.5h0m1 -0.4h0m9.6 0.1h0m0 2h0m2.1 0.3h0m6.2 -2.2h0m0.6 0h0m3.3 0.7h0m7.8 -1h0m5.9 0.2h0m2.2 4h0m0.1 -3.7h0m3.6 2.7h0m5.9 -3.3h0m0.5 0.2h0m4.6 0.7h0m1.9 -0.9h0m0.6 0.8h0m20.5 -1.8h0m2.8 3.2h0m-2.9 5.2h0m0 -1.7h0m-1.9 4.3h0m-2 -5h0m-0.5 4.1h0m-3.2 -2.8h0m-0.8 2.7h0m-0.7 -2.9h0m-3.1 2.5h0m-3.7 -2.2h0m-1.1 2.5h0m-0.7 -1h0m-1.3 -0.7h0m-5.8 1.6h0m-2.5 -0.9h0m-0.4 2h0m-2.4 -0.8h0m-0.5 -4.5h0m-1.7 2.2h0m-11.7 3.5h0m-5.4 -1.4h0m-0.6 -3.4h0m-5.9 4.4h0m-0.6 -0.6h0m-1.1 -3.2h0m-6 3.8h0m-9.9 -4.1h0m-9.2 3.6h0m-10.9 -0.6h0m0 0.9h0m-7.1 -1.2h0m-0.9 -1.2h0m-4.2 -1.6h0m-1.1 3.5h0m-3.3 -1.8h0m-13.7 -1.2h0m-15.9 -1.1h0m-3.4 9h0m1.9 -3.1h0m5.9 -0.3h0m8.4 3.5h0m4.6 -0.7h0m0.1 2h0m5.5 -4.8h0m0.8 4.3h0m4.1 1.1h0m0.4 -1.3h0m0.6 1.4h0m0.3 -1.3h0m6.3 -3.1h0m2.3 3.1h0m13.8 -3.6h0m7.3 -0.7h0m1.8 3.6h0m3.1 0.9h0m3 -1.9h0m9 3h0m0.2 -3.5h0m0.6 -1.9h0m5.9 4.6h0m0.7 0.5h0m8.1 -4.2h0m11.9 -0.7h0m0.9 -0.2h0m5.7 0.9h0m1.6 0.9h0m7.8 1.8h0m4 -0.4h0m0.7 -3.4h0m0.1 2.5h0m2.8 3h0m6.6 -4.8h0m10.2 3.7h0m0.5 0.7h0m1 -1.7h0m0.2 7.9h0m-5.2 -0.3h0m-8.5 -1.4h0m-1.4 -2.3h0m-21.4 1h0m-7.5 -1.8h0m-11.8 3.3h0m-6.9 0.1h0m-10 -1.1h0m-9.5 -2.7h0m-3.1 4.5h0m-2.2 -4h0m-0.3 3.8h0m-2.9 -0.9h0m-6.9 -2.5h0m-0.3 3.5h0m-1.3 1.2h0m-2.6 -4.4h0m-0.5 0.2h0m-2.6 -0.1h0m-1.5 2.3h0m-0.6 -2.5h0m-3.1 2.2h0m-2.6 -1.5h0m-1.5 1.9h0m-4.1 -3.9h0m-9.7 5.8h0m-20.6 4.6h0m4.9 -2.8h0m7.8 0.6h0m7.5 2.9h0m5 -0.5h0m6.4 -0.4h0m3.6 -1.8h0m4.4 1.1h0m6.7 -3h0m0.3 3.4h0m14.8 -1.4h0m1.9 -2.4h0m6.1 4.8h0m6.8 -1.6h0m2.3 2.1h0m2.1 -3.7h0m3.9 -0.7h0m2 1.8h0m4.8 0.8h0m9.9 -1.6h0m1.9 -1h0m0.5 4h0m2.7 -1.6h0m5.2 -1.4h0m1.5 3.6h0m8.7 -2.8h0m2.1 2.3h0m5.8 -3.1h0m1 3.9h0m4.6 -1.3h0m9.7 -0.6h0m0.4 1.6h0m2.1 -0.7h0m2.4 6.8h0m-14.5 -2.1h0m-0.7 1.5h0m-6.8 -1.2h0m-5.9 1.5h0m-7.2 -3.3h0m-0.8 3.6h0m-1.2 -4.6h0m-1.8 2.5h0m-10.7 -0.8h0m-0.8 -0.7h0m-2.5 3.6h0m-4.3 -3.5h0m-0.9 2.8h0m-1.4 -3.8h0m-2.2 1.9h0m-6.1 2.7h0m-0.7 -4.7h0m-4.9 3.8h0m-1.8 -4.9h0m-1.6 3.9h0m-3.2 2h0m-1.6 -4h0m-1.7 1.9h0m-2.1 -2.2h0m-1.2 -0.8h0m-14.7 3.8h0m-10.7 0.5h0m-19.4 -5h0m0 0.5h0m-0.2 -0.5h0m-7 1h0m-2.2 4.6h0m-1.5 -2.2h0m-4.8 -2.8h0m-0.7 4.1h0m-0.9 -4.4h0m2.7 6.1h0m0.7 1h0m0.6 -1.5h0m12.9 0.6h0m3.7 2.3h0m1.7 -0.1h0m0.5 2.8h0m2.8 -1.9h0m3.4 1.1h0m4.5 -2.6h0m4.5 1.1h0m1.3 0.2h0m2.2 1.7h0m0.6 -0.9h0m0.1 0.6h0m4.8 -4.3h0m2 2.1h0m2.3 -0.9h0m17.9 4.1h0m4.1 -0.6h0m1.6 -0.2h0m1.2 -2h0m1.3 -2.6h0m0.9 0.9h0m0.4 1.1h0m4.9 -2h0m2.3 2.2h0m0.5 -2.6h0m8.3 1.1h0m0.5 2.2h0m12.9 -1.9h0m5.3 1.6h0m0.4 1.1h0m3.1 -1.7h0m3.2 3h0m8.3 -2h0m3.7 -1.9h0m3.1 1.4h0m0.6 -1.8h0m7.2 4.7h0m5 -0.5h0m-0.1 5.3h0m-5 0.2h0m-4.1 0.7h0m-12.3 -2.1h0m-8.9 0.5h0m-0.9 -2.6h0m-7.8 2.8h0m-8 -1.8h0m-1.1 -0.6h0m-16.3 0.9h0m-1.8 -0.7h0m-7.2 0.1h0m-1.8 -1.9h0m-11.4 0.6h0m-10 1.4h0m-7 -1.9h0m-1.9 1.7h0m-0.6 -1.6h0m-2.1 2h0m-2.7 -1.4h0m-11.5 0.7h0m-3.2 0.5h0m-1.8 -2.2h0m-1.1 1.2h0m-2 3.1h0m-4.4 0.2h0m-4.4 1.4h0m-1 -3.6h0m-0.8 2.4h0m-2.8 -4.5h0m-0.1 1.3h0m-1.6 4.3h0m-0.1 -4.1h0m-2.9 5.4h0m6.4 -0.3h0m7.2 2.6h0m1.2 -3.4h0m2.5 2.5h0m1.2 1.9h0m5.7 1.5h0m7.5 -4.1h0m0.1 -1.7h0m7.3 2.5h0m5 -1.5h0m8.9 -0.9h0m6.1 0.6h0m7.8 1.1h0m2.6 -1.6h0m3.2 3.6h0m3.4 -2.7h0m0.2 0.4h0m0.1 1.4h0m1 -2.1h0m1.4 1.4h0m0.2 1.8h0m0.8 -2h0m2.8 1.2h0m1.8 0.9h0m30 -0.6h0m1.9 -0.7h0m5.3 2h0m1.7 -4.2h0m6.6 5.2h0m5.1 -2.7h0m0.2 0.1h0m4 -2.5h0m3.3 5h0m0.3 -1.6h0m2.6 7.1h0m-5.3 -2.6h0m-3.1 0.4h0m-6.6 1.3h0m-11.7 -2.9h0m-7.4 3h0m-12.6 0.2h0m-14.5 1.1h0m-1.5 -3.6h0m-1.5 -0.8h0m-5.6 2.4h0m-4 0.6h0m-0.4 -0.2h0m-2.9 -2.3h0m-0.7 0.7h0m-12.6 0.1h0m-1.1 -1.4h0m-1.7 2h0m-1.8 -1.2h0m-1.9 2.1h0m-5.8 -0.4h0m0 0.1h0m-2.9 -3.8h0m-11.6 5.6h0m-1.3 -1.2h0m-1.1 -1.8h0m-5 -1h0m-3.4 3h0m-5.8 -1.2h0m-2.1 -2.9h0m-0.1 5.3h0m-4.4 0.9h0m9.3 0.7h0m0.1 -0.8h0m0.6 3h0m16.7 -1.1h0m2.2 -1.5h0m1.1 3.1h0m5.2 0.7h0m3.1 -4.8h0m6.1 3.2h0m0.9 -1.1h0m8.3 -1.2h0m8.3 3.7h0m10.5 -4.5h0m1.7 3.2h0m4 0h0m0.2 -2.5h0m2.4 3.5h0m2 -3h0m1.6 2h0m0.5 -1.1h0m2.6 -1.5h0m3.1 2.3h0m10.4 -1h0m2 -2h0m1.9 1h0m0.1 1h0m3.7 1.2h0m6.5 -2.4h0m7.5 0.4h0m3.4 -0.2h0m0.1 4.4h0m2 -0.9h0m4.9 1.2h0m4.8 -3.5h0m-5.2 8h0m-0.1 -4h0m-8.6 3.2h0m-4.4 2h0m-9 -0.2h0m-13.4 -5.1h0m-2.8 4.2h0m-3.9 -3.7h0m-0.8 1.8h0m-1.9 0h0m-2.9 -0.7h0m-2.1 -0.9h0m-12.1 -0.8h0m-11.5 5h0m-2 -0.3h0m-1.7 -0.7h0m-0.6 -2.6h0m-0.1 2.6h0m-0.2 -1.9h0m-0.2 -2.2h0m-3.5 3.2h0m-4 -1.1h0m-4.3 1.8h0m-3.9 -3.9h0m-23.6 4.5h0m-1.4 -4.4h0m-14.3 5.1h0m-2 -2.5h0m-3.2 2.7h0m1 0.7h0m2.6 2.6h0m6.3 1.5h0m3.5 0.4h0m4.7 -1.3h0m2.8 -2.3h0m18.7 0.2h0m3.6 3.7h0m4.8 -3.8h0m11.8 4.3h0m2.8 0.3h0m2 -4.2h0m1.9 3.7h0m0.4 0.1h0m7.7 -0.9h0m1.8 -4.3h0m4.7 2.4h0m7 2.1h0m5.6 -4.2h0m0.1 2.3h0m4.3 0.1h0m4.7 -0.1h0m0.4 2.1h0m1 -3.4h0m10.1 -0.7h0m4.2 4.3h0m2.2 -0.5h0m11.7 -3.5h0m0.5 3.2h0m0.6 -0.9h0m3.5 0h0m10.1 0.6h0m0.7 -2.2h0m-11.7 5.3h0m-13.5 4.4h0m-8.6 -4.9h0m-4.8 -0.1h0m-1.2 -0.3h0m-13.5 1.3h0m-6.3 0.7h0m-3.5 0.6h0m-1.2 2.5h0m-2.8 -3h0m-3.4 0.2h0m-0.4 -2.3h0m-0.5 1.3h0m-7.6 2.6h0m-1.2 -1.9h0m-2.9 2.1h0m-1.4 -3.2h0m-7.2 3.2h0m-16.5 -3.7h0m-4.4 4.7h0m-2.5 -4.3h0m-7.1 4.3h0m-1.7 -1.4h0m-7.7 0.9h0m-3 0.4h0m-0.8 -3.2h0m-4.4 4.4h0m3.6 2.4h0m3.3 -1.1h0m1.1 3.2h0m3.5 -4.5h0m2 4.1h0m0 -2.3h0m9.6 -1.4h0m1.2 4.6h0m10.5 -1.4h0m7.2 -3h0m0.4 1.4h0m7.5 0.4h0m5.1 2.8h0m7.8 0.2h0m4.3 -0.6h0m0.1 -4.8h0m9.9 0h0m6.5 4h0m15.8 -3.9h0m0.3 1.1h0m19.5 1.6h0m8.1 4.3h0m-14.4 4.3h0m-2.1 -0.6h0m-0.4 -0.8h0m-3.3 -0.6h0m-0.9 2.1h0m-1.6 -3.6h0m-2.1 -1.7h0m-3.5 3.5h0m-9.8 -2.3h0m-1 0.7h0m-2 -1.6h0m-8.8 0.9h0m-0.4 3.2h0m-0.5 -2.5h0m-6.6 -1.9h0m-5.8 4.6h0m-5.6 -2.4h0m-2.4 1.1h0m-0.9 -2.6h0m-1 -0.9h0m0 4h0m-3.1 -2.7h0m-9.6 -0.8h0m-2.3 0.9h0m-2.6 1h0m-10.3 -0.4h0m-2.9 -2h0m-9.6 3.5h0m-0.8 -1.2h0m-1.2 0.1h0m-11.1 2.9h0m-2.9 -3.1h0m-5 6.1h0m1.4 1.3h0m1.9 -0.4h0m18.2 -3.4h0m0.6 2.1h0m0.5 2.5h0m0.3 -2.4h0m1.8 0.7h0m5 2.4h0m12.5 -1.4h0m1.1 0.4h0m2.3 -4.1h0m1.1 4.1h0m9.4 -3.8h0m2 -0.5h0m2.5 5.6h0m0.9 -0.7h0m1.3 -1h0m0.9 -0.8h0m7.8 -2.3h0m0.5 2.3h0m18.3 0.8h0m0.7 -1.2h0m1.1 -1.8h0m4 0.9h0m1.9 0.6h0m3 -2.3h0m14.3 2.7h0m6.9 1.6h0m1.2 -1.5h0m2 -2h0m1.1 2.8h0m0.8 -3.5h0m5.4 5.1h0m3 0.1h0m1.1 0.4h0m3.7 -1.2h0m4.7 -2.9h0m3.4 3.6h0m-6.7 5.9h0m-3.2 -2.1h0m-13.3 -3h0m-0.1 3.4h0m-5.3 1.4h0m-0.4 -4.1h0m-1.3 1.8h0m-2.3 1h0m-3.2 1.5h0m-13.5 -4.8h0m-4.8 1.5h0m-2 0.8h0m-1.8 0.4h0m-0.6 -2.7h0m-0.5 -0.2h0m-2.8 0.3h0m-5 3.5h0m-1.6 -0.8h0m-2.7 -2.7h0m-1 0.4h0m-2.6 0.3h0m-3.1 0.3h0m-0.2 0.5h0m-3.8 -0.6h0m-7.2 0.7h0m-11.1 3.1h0m-12.8 -3.2h0m-3.3 -1.7h0m-0.5 4.9h0m-1.4 -3.9h0m-5.1 -0.1h0m-21.4 1.6h0m-4.1 7h0m4.7 -3.6h0m7.3 -0.2h0m0.5 0.5h0m1 4.6h0m3.3 -2h0m6.4 -0.7h0m9.8 0.3h0m0.9 -1.8h0m1.9 0.5h0m7.6 1.8h0m12.8 -2.9h0m1.2 3.5h0m0.8 1.6h0m5.5 -5h0m0.8 1.5h0m2.4 0.3h0m5.5 2.1h0m19 -3.1h0m5.6 -0.1h0m5.3 0.4h0m1.9 0.2h0m0.1 -0.3h0m1.8 0.3h0m9.2 -0.1h0m3.3 1.9h0m0.3 1h0m4.1 1.4h0m1.2 -2h0m1.1 -2h0m4.1 -1.7h0m19.9 10.7h0m-0.8 0h0m-0.5 0.5h0m-3.8 -2.8h0m-2.1 2.7h0m-12.2 -3.1h0m-11.4 -1.8h0m-4.3 5.1h0m-0.7 -3.6h0m-3.3 2h0m-3.1 -1.6h0m-5.1 3.4h0m-5.2 -4.2h0m-1.5 0.9h0m-1.9 3.2h0m0 -0.3h0m-1.4 -2.7h0m-7.7 -1.4h0m-5.7 0.9h0m-1.2 0.6h0m-6 0h0m-2.2 1.9h0m-2.9 0.9h0m-7.4 -0.9h0m-1.3 -2.8h0m-2.8 0.4h0m-1.5 3.3h0m-2.5 0h0m-5.9 -5.5h0m-2.2 2.8h0m-4 0.7h0m0 -0.2h0m-7.4 1.7h0m-6.9 -4.3h0m-3.9 -0.4h0m-3.1 0.7h0m-0.9 4.3h0m-0.9 -1.1h0m-0.7 -1h0m-0.7 -0.4h0m-3 -0.9h0m-3.5 3.8h0m-1.8 5.9h0m0.1 -0.9h0m1.1 -4.2h0m3.3 1.7h0m2.1 0.3h0m1.2 3h0m11.4 -4.7h0m6.6 1h0m0.6 2.9h0m13.4 -2.4h0m6.8 -1.3h0m11.6 2.4h0m12.7 -2.2h0m18.1 1.6h0m3.5 -2.1h0m2.6 0.8h0m1.9 4.3h0m7.1 -3.3h0m2.4 -1.1h0m19.1 0.6h0m0.9 1.8h0m1 -3.6h0m1.5 0.7h0m0.6 2.4h0m3.4 -1.2h0m1 0.8h0m1.3 -1.7h0m5.5 3.1h0m1.6 4.7h0m-0.5 -2h0m-4.1 -0.2h0m-0.2 1.8h0m-6.2 -2.2h0m-5.4 3h0m-0.2 -2.2h0m-7.2 4.3h0m-0.1 -5.2h0m-1 0.1h0m-6.6 3h0m-1.6 -0.6h0m-14 2.1h0m-10.5 -2.5h0m-8.5 -2.1h0m-4.7 4.7h0m-4.2 -2.4h0m-0.1 -0.8h0m-1.9 3.5h0m-3.9 -1.4h0m-1.1 1.5h0m-2.7 0.3h0m-6.7 -0.6h0m-7.6 -3.4h0m-3.3 1.9h0m-2.2 2.1h0m-0.7 -5.3h0m-4 4.1h0m-3.4 -2.9h0m-6.8 1.5h0m-1.1 -1.7h0m-1.6 -1.3h0m-16.4 5.6h0m-10.4 -3.8h0m-0.5 -1h0m1.6 9.8h0m11.7 -0.8h0m1.9 -3.9h0m1.8 5.1h0m12.9 0.5h0m4.4 -0.9h0m17.1 -0.8h0m1.6 -2.6h0m2.1 3.6h0m4 -2.1h0m8.7 0.6h0m7.3 0.6h0m2.1 -0.9h0m6.5 -1.2h0m7.7 0.2h0m3 3h0m3.4 0.6h0m1 -1.7h0m3.3 1.5h0m3.3 -2.8h0m1.5 0.7h0m4.3 -1.4h0m0.6 -1.6h0m0.7 4h0m3.9 0h0m2.3 1.5h0m2 -5h0m7 1.5h0m6.8 -0.8h0m2.1 3.3h0m2.5 -1.3h0m6.2 -0.2h0m4.2 -0.5h0m-4.2 3.5h0m-4.8 1.8h0m-1.2 -2.1h0m-18 1.8h0m-2.2 -0.6h0m-4.9 -1h0m-0.2 1.2h0m-8.7 0.2h0m-3.5 1.2h0m-0.7 -0.1h0m-9.5 -0.9h0m-5.4 -1.7h0m-10.3 0.7h0m-4.2 -0.6h0m-12 2.3h0m-16.7 0.4h0m-2.6 -2.4h0m-1.3 1.5h0m-11 -1.2h0m-7.2 0.1h0m-4 -0.1h0m-11.6 0.6h0"/><path fill="none" stroke="#f0a8dc" stroke-width="1" stroke-linecap="round" stroke-opacity="0.6" d="M481.6 406.6h0m-12.8 -0.6h0m-6.5 1.1h0m0 -0.5h0m-47.9 -0.9h0m-10.8 -0.6h0m-3.8 2.7h0m-28.1 -0.6h0m-6.8 -1.5h0m-4.6 1.7h0m-4.4 -0.6h0m-0.9 0.8h0m-1.4 -0.8h0m-4.3 4.8h0m3.2 -1.7h0m7.7 4h0m3.7 -1.5h0m2.3 -4.3h0m0.8 3.1h0m1.8 0.9h0m3.6 -2.9h0m14.2 4.7h0m2.1 -3.2h0m5.3 -0.2h0m0.4 -0.2h0m6.7 2.1h0m7.3 0.1h0m1.1 -3.9h0m7.4 1.4h0m0.2 0.2h0m4.1 0.6h0m2 -2.4h0m2.4 0.2h0m0.1 1.1h0m2 1h0m1.8 -1.8h0m15.2 -0.4h0m2.6 -0.2h0m1.3 3.6h0m1.5 1.5h0m3.4 -4.7h0m5.9 0.6h0m9.1 1h0m0.3 -1.7h0m12.2 4.2h0m3.5 -4.1h0m0.9 1.3h0m0.9 3.1h0m2.3 -3.8h0m-13.3 5h0m-13.1 5.6h0m-2.1 -0.4h0m-0.2 -2.5h0m-0.6 1.5h0m-1.1 -2.1h0m-4.5 -0.3h0m-4.8 -2.1h0m0 0.7h0m-16.9 -0.4h0m-3.3 2.9h0m-14.5 -1.3h0m-3.3 -0.3h0m-3.1 0.5h0m-2.7 2.4h0m-6.8 -1.9h0m-6.5 1h0m-2.5 -2.2h0m-6.1 3.3h0m-0.9 0.6h0m-2.9 -2.7h0m-7.8 3.1h0m-9.9 -0.2h0m-3.7 -0.5h0m-3.7 -5h0m-9.2 10.8h0m2.7 -2.5h0m10.2 -1.8h0m1.2 1.2h0m3.2 -0.3h0m5 2.6h0m0.6 -0.9h0m8 -1.8h0m0.1 1.7h0m2.7 -1.5h0m2.9 3.4h0m1.2 -2.7h0m2.1 1.7h0m2.7 -2.7h0m1.6 -0.8h0m19.2 0.5h0m10.7 0.6h0m10.1 3.7h0m2.9 0.3h0m4 -2.8h0m0.9 0.5h0m4.5 1h0m8.7 -0.7h0m7.1 2.2h0m1 -4.7h0m1.3 -0.1h0m0.9 4.2h0m3 -4h0m6.7 -0.2h0m6.8 1.2h0m7.4 3h0m5.2 0.2h0m0.2 -4.2h0m1 0.1h0m-15.7 7.8h0m-2.4 2.4h0m-0.2 -1.7h0m-1.7 -0.3h0m-2.4 1.4h0m-1 -2.3h0m-0.5 1.6h0m-1.4 1.5h0m-0.7 -4.5h0m-4.1 1.8h0m-11.6 0h0m-7.3 -1.2h0m-0.7 3.5h0m-1.9 -2.3h0m-1.5 -2.3h0m-2.6 4.8h0m-1.7 0h0m-4.5 -2.9h0m-3 -1.9h0m-5.6 2.3h0m-2.1 -0.6h0m-5.7 0.7h0m-3.5 1.3h0m-0.9 -1.3h0m-3.3 1.8h0m-9.4 0h0m-5 -3.6h0m-7.6 4.6h0m-0.4 -4.7h0m-0.2 0.7h0m-0.8 4h0m-11 -3.2h0m-12.3 -2.5h0m-6.6 -0.1h0m-0.3 0.4h0m-0.7 3.5h0m-1.7 -3.8h0m-1.9 10.9h0m9.1 -0.9h0m0.4 0.5h0m1 1h0m26.1 -0.5h0m0 -4.5h0m2.1 0.7h0m22.7 -0.6h0m2.2 4.2h0m3 0.9h0m6.5 -5.5h0m1.7 5h0m0 -0.8h0m2.9 -3.6h0m11.6 0.3h0m0.4 1.8h0m0.4 -1.7h0m10.8 4.6h0m2.8 -5.8h0m2.6 2.8h0m5 2.5h0m3.1 -0.3h0m7.1 -0.5h0m13.6 -3.3h0m5.5 -1.1h0m-6.4 9.1h0m-0.5 2.4h0m-0.1 -1.6h0m-6.2 -0.2h0m-11.6 -3.2h0m-2.3 0.2h0m-0.2 4.8h0m-6.9 -2.9h0m-9.6 -2.2h0m-6.5 1.7h0m-0.6 0.2h0m-9.3 -2.4h0m-1.8 0.8h0m-3.7 -0.6h0m-2.4 0.1h0m-1.5 5.3h0m-2.6 -1.7h0m-0.8 -3.6h0m-1 5.3h0m-5.5 -3.9h0m-15.8 2.4h0m-7.2 -2.2h0m-17.6 2.7h0m-0.6 -1.2h0m-2.7 -2.2h0m-1.2 4h0m-0.5 -5.2h0m-3.1 2.6h0m-0.4 -0.5h0m-4.8 0h0m-1 -0.3h0m-3.2 2.8h0m-1.5 -2.4h0m-1.4 -1h0m-2 0.6h0m-2 3.4h0m-0.6 3.5h0m0.9 -0.9h0m2.7 2.4h0m5 -2.3h0m4.2 0.2h0m4.3 1.4h0m12.8 -2.1h0m7.7 3.4h0m6.3 -1.1h0m3.4 -1.4h0m2.4 2h0m6.4 -4.4h0m9 1.9h0m1 3.2h0m0.4 -1.9h0m5.9 -2.1h0m4.2 -0.1h0m12.4 4.4h0m8.3 -3h0m4.7 3.5h0m6.4 -5h0m7.7 4.8h0m2.6 -2.1h0m3.6 -2.3h0m0.1 -0.1h0m2.5 4.7h0m2.7 -4.4h0m1.2 3.2h0m1 -3.3h0m2.3 0.3h0m3.2 3.7h0m2.1 -3.1h0m7 -2h0m3.7 4.4h0m0.5 3.8h0m-4 1.8h0m-0.1 0.7h0m-2.2 -1.1h0m-3.9 -3h0m-0.8 3.4h0m-4 -1.8h0m0 -2.5h0m-0.5 1.8h0m-1.5 0.8h0m-1 -1.8h0m-1.2 2.7h0m-6.5 1.5h0m-0.3 -3.3h0m-1.9 -1.7h0m-8.8 4.5h0m-3.3 1h0m-0.3 0h0m-4.8 -3.8h0m-12.9 2.2h0m-6.5 -2.9h0m-0.8 1.6h0m-0.5 1.5h0m-3.8 -3.8h0m-2 2.2h0m-6.6 0.2h0m-2.5 0.2h0m-0.7 0.6h0m-1.5 -3.2h0m-0.7 2.1h0m-2.5 3.5h0m-3.5 -5.5h0m-7.9 4.3h0m-4.4 -2.3h0m-1.1 1.2h0m-4.8 -2.6h0m-4.3 2.1h0m-5.2 0h0m-3.2 2.4h0m-14.6 -3.1h0m-0.7 -0.9h0m-3 -1.4h0m-6.8 4.5h0m-0.9 0.9h0m0 -2.9h0m-1.4 -1.6h0m0.8 8.6h0m0.9 1.6h0m11.1 -0.3h0m11 -1.8h0m0.8 -0.1h0m2.8 0.2h0m6.5 -0.6h0m11.8 2.1h0m1.2 -0.3h0m4 0.5h0m1.3 -0.1h0m5.6 -3.6h0m2.3 3.2h0m2.7 -2.7h0m0.2 3.1h0m0.5 0.7h0m4.7 -4h0m1.8 0.2h0m4.8 4.2h0m6 -3.5h0m2.4 0h0m1 -1h0m3.7 -1.3h0m5.6 2.8h0m1.6 -2.4h0m2.5 4.3h0m0.7 1.1h0m0.7 -1.9h0m3.5 0.5h0m5 -1.1h0m4.8 -1.5h0m4.8 2.2h0m3.7 -0.1h0m0.1 -1.2h0m0.4 -2h0m6.7 1.9h0m4.3 0.4h0m4.7 0.1h0m3.3 -1.5h0m4.2 -0.6h0m1.5 0.2h0m1.6 0.3h0m-3.8 5h0m-1 1.4h0m-2.7 1.3h0m-1.6 2h0m-1.8 -1.8h0m-0.1 -1.6h0m0 3.2h0m-3.4 -3.6h0m-6.4 1.7h0m-1.7 -2h0m-1 2.8h0m-3.1 -1.7h0m-0.8 2.2h0m-3.5 0.3h0m-3.4 -2.9h0m-0.4 1.2h0m-2.5 -1.1h0m-0.8 -0.5h0m-1.5 1.2h0m-7.7 2.4h0m-2.2 0.8h0m-5.2 -4.8h0m-6.7 -1h0m-2.6 1.3h0m-1.2 4.1h0m-1.3 -4.2h0m-2.4 2.5h0m-1 -1.9h0m-2.5 3.4h0m-1.7 -1.3h0m-0.2 -3.5h0m-6.4 2.4h0m-8.4 0.2h0m-25.5 -1.4h0m-1.4 -0.7h0m-5.6 2.6h0m-2.9 -1.3h0m-0.6 -1.9h0m-0.2 4.1h0m-6 0.4h0m-7.2 -4.3h0m-6.7 0.5h0m-3.7 -1h0m-0.3 8.2h0m8.8 -2.2h0m12.5 3.8h0m2.7 1.7h0m0.2 -4.8h0m22.3 4.8h0m1.1 -4.5h0m7 2h0m8.1 1h0m0.4 -1.3h0m3.9 2.3h0m2.2 -4.3h0m3.2 2.2h0m2.3 -2.4h0m4 0.1h0m5.6 5.2h0m4 -5h0m1 1.7h0m4.2 0.4h0m5.6 -1.1h0m0.4 2.9h0m9.2 -2h0m11.5 1.5h0m12 -4h0m1.7 2.8h0m5.2 2.3h0m8 -2.5h0m1.2 -1.6h0m0.8 0.2h0m-0.2 7.1h0m-7.6 -2.1h0m-4.9 4.4h0m-0.4 -1.7h0m-19.3 0.1h0m-1.7 -2h0m-2.7 3h0m-4.8 1.4h0m-7.7 -4h0m-1.1 -0.7h0m-0.7 0.6h0m-8.3 3h0m-4.5 0.2h0m-1.3 -4h0m-2.3 4.4h0m-4.1 -1h0m-15.6 1.7h0m-1.5 -4.5h0m-4.1 -1.3h0m-2.6 0.7h0m-15.3 4.5h0m-0.7 -2h0m-7.5 -0.5h0m-2.9 0.2h0m-2.4 0.9h0m-1 -3.3h0m-0.3 1.8h0m-9.1 -1.5h0m-3.7 -0.8h0m-3.7 2.8h0m-7.3 -2.4h0m10.5 10.3h0m11.9 -1.3h0m3.8 -1.4h0m0.6 -0.7h0m8 -1.2h0m6 2.7h0m5.1 1.4h0m6.4 -3.2h0m0.5 2.4h0m3.1 -3.5h0m3.5 3.6h0m1.1 -2.2h0m3 1.3h0m0.9 1.9h0m6.2 -2.2h0m27.8 -1.9h0m4.7 1h0m1.7 1.2h0m0.6 -1.1h0m5.7 -1.6h0m1.7 0.1h0m1.4 5.5h0m15.4 -0.3h0m0.1 -2.5h0m12 2.4h0m2.3 -2.4h0m2.3 3.4h0m-2.6 4.1h0m-14.3 1.3h0m-1.8 -2.1h0m-11 0.6h0m-0.1 -2.9h0m-6.2 3.5h0m-1 -3.2h0m-7.3 -0.1h0m0 1.9h0m-4.5 1h0m-0.8 0h0m-5.6 -0.2h0m-1.5 -2.6h0m-5.2 4.2h0m-2.1 -1.5h0m-1.1 -2h0m-7.9 -2.2h0m-1.4 4.3h0m-3.3 -2.4h0m-5.3 2.9h0m-4 -4.8h0m-15 4.6h0m-1.6 -1.6h0m-5.7 -3h0m-0.6 0.9h0m-1.6 -0.3h0m-9.2 2h0m-20.8 0.3h0m-2.8 7.7h0m6.3 -1.6h0m17.1 2.4h0m6 -2.3h0m10.4 2.5h0m3.7 -0.7h0m5.1 -2.5h0m0.5 -1h0m4.3 0h0m2.5 3.9h0m0.2 -2.2h0m0.7 1.2h0m4.4 -2.4h0m0.1 -1.8h0m8.8 4.5h0m1.9 -2.3h0m7 0.9h0m7.3 0.6h0m1.7 -1.8h0m3.3 2.3h0m5.2 -0.5h0m2.7 1.6h0m0.5 -2.3h0m1 -2.5h0m0 2.6h0m2.4 0.6h0m1.7 2.1h0m4.5 -4.7h0m5.2 -0.4h0m1.6 -0.4h0m5.3 4.7h0m1.8 -2.5h0m2.3 -0.6h0m5.2 0h0m3.3 -0.1h0m0.2 3.3h0m13.5 -2h0m0.1 -1.2h0m-12.6 6.9h0m-3.3 -2.7h0m-3.8 1.1h0m-2.4 1.3h0m-3.9 2.4h0m-0.6 -1.3h0m-9 1.8h0m0 -3.8h0m-1.5 -0.4h0m-0.9 -0.5h0m-8.6 -0.8h0m-11.8 1.5h0m-1.3 2h0m-2 -2.6h0m-8.3 -0.8h0m-3.8 2.9h0m-1.8 2.8h0m-15.5 -4h0m-6.5 1.2h0m-0.2 0.4h0m-5.8 -0.5h0m-3.3 -2.1h0m-0.6 1.4h0m-3.1 0.7h0m-10.1 -0.4h0m-10.4 -0.2h0m-1.6 0.2h0m-1.5 -1h0m-2.6 -0.7h0m-5.1 3.2h0m-3.9 4.1h0m6 2h0m8.2 -1.3h0m1.4 -0.9h0m11.4 3.2h0m0.3 -2.7h0m4.1 -1.4h0m4.1 3h0m7 0.4h0m3.8 -1.6h0m5.7 0.6h0m10.1 -1.9h0m1 -0.3h0m1.4 4h0m1.4 -1.4h0m1.2 1.1h0m0.4 -1.2h0m1.6 0.9h0m6.3 -3.2h0m0.2 1.9h0m3.9 -2.1h0m4 4.7h0m3 -2.3h0m12.8 -2.8h0m3.9 2.5h0m0.7 -1h0m2.4 1.2h0m5.2 -2.7h0m1.4 0.1h0m0.8 -0.1h0m3 4.1h0m1.3 -4.6h0m3.3 3.6h0m1.5 -1.1h0m0.5 -2.2h0m1.3 3.1h0m3.9 -1.2h0m1.5 0.2h0m9.3 -1.4h0m1 4h0m0.5 -3.2h0m2.4 3.7h0m2 0.7h0m-6.1 3.1h0m-0.8 -1.1h0m-2.3 0.4h0m-13.3 -1.9h0m-2.7 2.2h0m-2.4 2h0m-3.4 -1.5h0m-3 1.1h0m-1.6 -2.3h0m-6.4 2.2h0m-1.6 -1.6h0m-6.4 2.7h0m-0.7 -1.5h0m-1.4 0.8h0m-4.2 -2.6h0m-1.2 2.6h0m-8.7 -2.4h0m-11.5 3h0m-14.3 -0.7h0m-3.8 0.7h0m-3.9 -2.3h0m-0.9 0.2h0m-1.6 -2h0m0 0.4h0m-1.4 1.4h0m-0.4 -3.4h0m-5.1 5.7h0m-2.2 0.2h0m-4.1 -5.4h0m-3.3 2.4h0m-19 2.1h0m-2.2 -3.7h0m-5.9 4.1h0m-3.5 -3h0m5.8 5.6h0m2.9 -1.4h0m7.6 3.3h0m3.2 -2.4h0m4.6 3.7h0m18.1 -2.1h0m0.3 2.4h0m4.6 -2.9h0m3.4 -0.7h0m9.7 2.8h0m0.4 -0.7h0m0.7 0h0m0.4 0.3h0m12.2 -0.2h0m7 -3h0m0.4 -0.6h0m3.5 -0.3h0m0.2 0.6h0m6.3 -0.5h0m0.8 1h0m3.1 -1.3h0m0.8 1h0m0.6 0.4h0m2.2 0.5h0m2 -0.5h0m7.2 1.1h0m6.6 -0.5h0m4.4 0.8h0m1 2.5h0m0.4 -2.2h0m2.5 0.7h0m0.8 -2.7h0m4.3 0.2h0m2.2 3.2h0m1.1 -1.5h0m15.4 2.7h0m3.3 3.5h0m-5 0.3h0m-2.9 -1.4h0m-1.1 2.1h0m-5.2 -3.6h0m-0.3 4h0m-3.2 -1.2h0m-7 -0.9h0m-0.7 -0.8h0m-0.3 0.7h0m-4 -0.8h0m-3 0.1h0m-13.5 2.9h0m-1.3 -1.9h0m-1.1 -1.7h0m-2.3 1.6h0m-0.4 2.9h0m-0.8 -4.1h0m-6.2 4.3h0m-7.9 -2.6h0m-6 0.6h0m-2 -3.4h0m-0.1 5.5h0m-0.3 -3.5h0m-15 0.4h0m-2.3 2h0m-9.9 -2.3h0m-7.8 1.6h0m-1.7 -0.6h0m-2.8 0.1h0m-1.5 1.7h0m-3.2 -4.4h0m-12 4h0m-3.2 -3.6h0m-9.9 2.8h0m-1.2 7.4h0m0.6 -4.7h0m0.7 4.7h0m7.5 -3.4h0m0.1 2.8h0m0.1 0h0m11.2 0.4h0m1.9 -2.1h0m4.8 -2.5h0m0.2 0.7h0m5.3 4.4h0m4.5 -5.2h0m11.5 1.7h0m5.3 0.9h0m12.9 -2.8h0m10 2.3h0m0.4 2.5h0m1.9 -0.8h0m1.5 -0.4h0m0.8 -0.2h0m0.8 1.2h0m3.5 -2.3h0m5.1 0.2h0m3.3 1.2h0m7.7 1.5h0m0.6 -3.5h0m0.6 3.6h0m0.9 -0.5h0m1.4 0.2h0m6.7 -3.8h0m1.3 1.5h0m5.1 0.4h0m6.5 -1.2h0m0.3 -1h0m0.1 2.4h0m5.3 -2.5h0m2.8 -1.1h0m11.9 11.1h0m-0.4 -1.2h0m-7.6 0.7h0m-4.8 -3.1h0m-11.3 3.2h0m-2.8 0.2h0m-14.9 -1.3h0m-2.8 1.5h0m-15.8 -1.3h0m-3.4 -3.3h0m-5.4 0.7h0m-6.1 4.5h0m-1.8 -3.6h0m-5.2 2.7h0m-1.2 -2.1h0m-1.8 0.9h0m-0.8 -0.4h0m-4.7 -0.9h0m-0.5 0.3h0m-2.4 1.3h0m-0.7 2h0m-2.3 -2h0m-0.6 -2.4h0m-7.1 4.4h0m-5 -3.3h0m-4.4 1.1h0m-2.4 -1.8h0m-0.7 -1.6h0m-1.8 3.3h0m-5.9 1.3h0m-0.8 0.3h0m-1.4 -4.5h0m-1.1 1.1h0m-5.4 2.1h0m-12.2 -3.4h0m-0.3 5h0m-1.9 0.6h0m1.4 3.3h0m0.8 2.3h0m5.9 -2.1h0m3.8 -1.8h0m8.5 2h0m1.4 0.7h0m5 -0.5h0m16.3 -2.3h0m0.6 1h0m5.5 -0.5h0m1.5 -1.4h0m7.3 1.1h0m10.7 1.7h0m1.7 2.2h0m0.6 -0.1h0m6.4 -2.7h0m3.3 -2.5h0m2.5 3.6h0m7.1 1.4h0m0.2 -2h0m2.8 0.3h0m3.9 -3.1h0m3 3h0m0.8 1.5h0m4.1 -0.3h0m8.8 -3.4h0m9 -1h0m5.4 5.1h0m0.3 -2.3h0m1.5 1.8h0m2.2 -4.9h0m5.4 3.1h0m3.7 1.8h0m0.9 -2.7h0m1.1 -0.4h0m3.4 -1.8h0m-0.1 9.5h0m-0.5 -2.5h0m-2.5 3h0m-12 -1h0m-2.9 -2.3h0m-5.4 2.3h0m-7.7 -0.4h0m-0.1 0.6h0m-1.7 -2.4h0m-3.4 4.2h0m-2.7 -2.9h0m-0.1 2.4h0m-5.4 -3h0m-15.3 -1h0m-1.2 0.1h0m-3.3 2.7h0m-3.1 1.3h0m-1.3 -3.1h0m-1.9 3.7h0m-5.5 -1.5h0m-2.2 -2.9h0m-3.6 -0.5h0m-8.4 1.6h0m-3 -2h0m-5.4 2.2h0m-3 1.5h0m-8.2 1.5h0m-1.5 -1.7h0m-2.9 -2.9h0m-1 1.6h0m-1.6 -0.8h0m-1.6 -0.2h0m-7.5 0.7h0m-7.3 1.9h0m-1.4 -0.5h0m-2.8 1.2h0m-7.9 -2.1h0m-3.7 2.2h0m3.4 5.5h0m0.4 -0.5h0m3.7 -2.6h0m1 -0.9h0m12.5 4.4h0m1.2 -2.5h0m2.9 -0.1h0m10.9 3.2h0m0.6 0.5h0m9.6 0h0m18.9 -3.6h0m1.8 1.6h0m5.3 -3.3h0m2.2 4.7h0m0.4 -2.1h0m0.6 -1.8h0m0.5 3.5h0m0.6 -0.4h0m10.8 -1.8h0m0.7 1.8h0m3.9 -0.2h0m0.5 0h0m4.2 -1.7h0m0.6 0.1h0m1.5 1.1h0m0.1 0.2h0m12.6 1.1h0m1.6 -4.6h0m1.9 1.9h0m0.9 -1.2h0m2.6 3.5h0m5.5 -3h0m3.5 0.7h0m3.3 1.6h0m8.5 1.2h0m6.2 -4.3h0m2.1 3.6h0m2 1.4h0m-17.4 2.6h0m-10.6 -1.7h0m-4.3 0.3h0m-8 -0.3h0m-7 0.7h0m-4 1.2h0m-6.2 -1.2h0m-10.3 0.6h0m-0.1 -1.6h0m-4.3 0.1h0m-14.7 0.4h0m-3.2 0.4h0"/><path fill="none" stroke="#f0a8dc" stroke-width="1.4" stroke-linecap="round" stroke-opacity="0.6" d="M485.3 407.8h0m-28.6 0h0m-10.6 -0.7h0m-22.3 -0.1h0m-20.5 -2h0m-26.1 2h0m-2.1 -1.3h0m-9.5 0.2h0m-17.3 -0.7h0m-6.9 2.4h0m-0.1 -0.3h0m0.7 2.4h0m2.1 0.1h0m4.3 -1.1h0m7.2 -0.1h0m6.6 3.2h0m0.2 1.4h0m1.2 0.1h0m4.5 -2.1h0m1.2 0.1h0m5 -1.7h0m0.9 -0.2h0m9.5 0.2h0m0.7 2.9h0m9.2 -1.5h0m1.4 -0.5h0m0 1.4h0m22.6 1.7h0m4.3 -3.4h0m3.6 2.8h0m1.7 -1.5h0m3.9 2.3h0m4.3 -2.4h0m14.8 0.3h0m8.3 -2.9h0m0.9 4h0m15.6 -2.7h0m2.7 -0.8h0m2 3.4h0m1.1 -3.4h0m3.1 4.5h0m2 -0.4h0m1.8 -4.4h0m2.4 4.7h0m0.7 -2.2h0m-5 5.4h0m-2.8 -0.3h0m-4 -0.7h0m-0.4 1.9h0m-3.3 -3h0m-0.3 2.6h0m-2.8 1.9h0m-1.7 -2.5h0m-0.4 -2.2h0m-3 3.9h0m-7.2 1.1h0m-2 -2.3h0m-4.3 0.8h0m-8 -0.8h0m-27.6 -2.4h0m-6.2 -0.4h0m-6.8 3.9h0m-5.4 -3.6h0m-4.6 1.4h0m-5.7 -0.5h0m-2.6 1.4h0m-2.6 0.5h0m-0.1 -2.6h0m-5.5 2.5h0m-6.4 1.8h0m-8 -3.5h0m-0.7 4.1h0m-2.6 -3.8h0m-1.6 -1.2h0m-7.8 1.1h0m-8.6 8.8h0m0.6 -4.1h0m4.2 4.1h0m0.4 -3.1h0m5 3h0m1.5 -4.2h0m7.5 3.5h0m0.3 -1.4h0m1.5 -1.2h0m1.5 -0.9h0m1.9 4.7h0m0.2 -2.9h0m4.2 3.2h0m0.6 -0.1h0m0.8 -1.3h0m5.6 -4h0m5.4 0.3h0m10.7 3.4h0m2.9 -3.8h0m4.9 2h0m6.1 0.4h0m3.7 2.6h0m3.4 -4.8h0m0.2 3.3h0m3.7 0.7h0m2 -3.6h0m9.4 1.2h0m3.7 0.7h0m1.3 1h0m0.1 0.6h0m2.1 0.8h0m6.1 0.6h0m0.1 -0.8h0m3.3 0.2h0m2 -4.7h0m21.1 4.4h0m7.2 -1.1h0m1.9 -3.1h0m5.5 3.3h0m4.8 -1.8h0m-0.4 10h0m-4.7 -1h0m-1.6 1h0m-5.7 -5.7h0m-1.8 0.2h0m-1.4 4.9h0m-13.5 -2.6h0m-0.6 -1.2h0m-11.6 1.8h0m-0.2 0.3h0m-5 -1.5h0m-0.4 -0.4h0m-0.1 -0.3h0m-2 -1.2h0m-3.7 2h0m-0.5 0.5h0m-1 2.2h0m-0.4 -1.9h0m-1.4 1.7h0m-3 0.4h0m-0.4 -3.4h0m-2 3.9h0m-5.8 -5.4h0m-1.4 2.6h0m-0.5 -2.6h0m-3.5 3.4h0m-4 -0.6h0m-4.9 0.1h0m-0.7 -1.1h0m-5.6 3.8h0m-10.3 -5.4h0m-1.7 -0.2h0m-3.8 1h0m-1.2 4.6h0m-1.5 -4.5h0m-10.5 1.4h0m-3.5 1.7h0m-3.3 -3h0m-1.1 1h0m-11.9 -0.3h0m-6 -0.1h0m-0.6 0h0m-1.3 3.6h0m-4 0.2h0m-0.5 -3.1h0m-0.8 -1.9h0m4.6 11.1h0m1.8 -3.1h0m5.1 2.6h0m1.4 -1.3h0m8 -3.4h0m2.3 1.6h0m18.7 2.6h0m4.9 -4.1h0m2.1 2.6h0m1.5 2.4h0m3.1 -3.1h0m0.3 -2.2h0m4.9 2.8h0m8.6 0.9h0m8.5 0.9h0m2 0.4h0m0.6 -3.9h0m1.2 -0.7h0m15.6 -0.5h0m0.1 3.7h0m1.7 -2.5h0m8.8 -0.2h0m6.6 0h0m3.1 2.3h0m1 -2.2h0m11.2 0.2h0m7.6 0.2h0m2.6 1.7h0m3.6 -2.9h0m1.5 -0.5h0m4.6 6.8h0m-4.6 0.1h0m-5.3 2.8h0m-1.4 -3.5h0m-2.8 1.9h0m-2.4 -0.8h0m-0.1 0.2h0m-4.4 -1.6h0m-9.6 -0.1h0m-1.5 4.9h0m-0.6 -1.3h0m-8.4 -0.4h0m-4.5 0.1h0m-2.6 -2.7h0m-3.8 4h0m-3.1 -4.3h0m-0.4 -0.2h0m-3.6 5.5h0m-0.6 0.1h0m-1.7 -1.4h0m-4.3 -3h0m-3.9 -0.8h0m-2.7 0.2h0m-5.3 2.6h0m-5.1 1.2h0m-17.4 -1.6h0m-4.9 0.6h0m-0.4 -0.5h0m-6.3 -1.2h0m-2.6 -1.1h0m-5.6 0.4h0m-2.3 1.9h0m-5.8 0.8h0m-4.1 0.8h0m-1.2 0.2h0m-3.4 -3h0m-1.1 0h0m-6.2 -0.9h0m-3.5 6.2h0m3.9 0.9h0m9.2 -1.2h0m0.1 1.6h0m3.7 2.7h0m3.9 -1.6h0m1.3 -0.6h0m7.2 2.8h0m1.4 -2.1h0m0.6 -2h0m2 -1.3h0m0.3 0.7h0m0.4 0.5h0m0.2 1.8h0m0.7 -2.3h0m0.8 1.9h0m8.5 2.9h0m4.4 -1.7h0m7.7 -0.3h0m1.4 -1.4h0m1 1.3h0m2.2 -0.2h0m3.5 -3.3h0m2.2 4.6h0m1.3 0.3h0m0.3 -0.2h0m1.4 0h0m1.8 -1.8h0m4.9 1.1h0m0.3 1h0m9 -4.4h0m1.8 0.4h0m3.4 4.6h0m1.8 -5.5h0m3.5 4.4h0m3.1 -1.7h0m13.3 -2.8h0m0 3.7h0m2.4 -1.7h0m2 2.6h0m4.5 -3.3h0m0.2 1.1h0m6.7 -1.4h0m5 3.4h0m2.3 -2.7h0m0.2 -1.1h0m1.8 1.6h0m5.8 -1.3h0m2.5 0.6h0m1.1 8.1h0m-0.4 -0.5h0m-8.7 1.1h0m-9.3 -2.6h0m-0.1 -1.7h0m-1 4.6h0m-9.9 -3.2h0m-1.8 0.3h0m-4.9 0.1h0m-0.3 1.4h0m-6.9 -1.5h0m-1.8 2.8h0m-1.6 -2.4h0m-4.7 3.4h0m-1.6 -3h0m-4.4 -0.3h0m-1.1 2.1h0m-9.2 -0.5h0m-0.1 0.1h0m-0.5 -0.6h0m-1.6 0.3h0m-4.7 -0.5h0m-0.4 2.6h0m-2.3 -4.1h0m-0.7 2.4h0m-1.1 -1.4h0m-2.5 1.5h0m-0.9 -2.6h0m0 -0.2h0m-2.2 1.8h0m-2.3 2.2h0m-1 -3h0m-7.6 3.5h0m-13.7 -2.9h0m-1.3 -2.5h0m-0.6 3.7h0m-1.7 -3.3h0m-3.2 -0.1h0m-4.4 -0.3h0m-6.5 4h0m-5.4 -2.9h0m-3.5 3h0m-7.4 -2.2h0m-0.9 1.8h0m-0.5 -2.8h0m1.2 9.4h0m1.5 -1.3h0m2.9 1.9h0m3.4 0.2h0m5.8 -0.3h0m11.9 -4h0m0.7 0.4h0m6.3 2.3h0m7.5 -2.8h0m22.9 2.5h0m14.7 0.2h0m2.9 -3h0m0.6 4.4h0m9 -3.3h0m10.4 1.7h0m2.4 1.2h0m0.4 -2h0m3.2 2h0m2.8 -3.6h0m3.6 3.8h0m0.8 -3.8h0m1.9 0.1h0m1.1 -0.8h0m0.4 4h0m4 -2.8h0m0.7 -1.1h0m0 3.9h0m5.5 -3.8h0m0.8 3.5h0m0.7 -0.8h0m3.2 1.9h0m8.5 -0.5h0m2 4.2h0m-14.8 -2.1h0m-9.6 4.2h0m-5.8 -3.4h0m-9.9 -1.6h0m-4.8 5h0m-0.4 -3.4h0m-0.6 -1.1h0m-18.8 1.6h0m-7.9 3.6h0m-0.5 -1.7h0m-2.8 0.9h0m-10.8 -0.4h0m-4.3 -1.3h0m-7.6 -2h0m-0.4 1h0m-0.1 0.3h0m-5.9 1.3h0m-4 -0.5h0m-0.6 -3.3h0m-0.6 0.9h0m-1.5 4.1h0m-0.8 0h0m-2.7 -5.2h0m-7 0.3h0m-0.2 0h0m-0.6 1.9h0m-5.6 2h0m-0.5 -1.3h0m-11.7 -0.6h0m-2.9 8.4h0m2.2 -3.6h0m1.2 1.3h0m2.2 -1.6h0m5.4 3.7h0m3.3 -3h0m1.3 -0.1h0m2.5 3.9h0m2.9 -1.1h0m0.9 -3.2h0m5.5 3.7h0m8.4 -2.4h0m1.4 1.8h0m0.4 0.2h0m14.1 1.6h0m2.8 -0.5h0m3.9 -4.2h0m1.9 -0.3h0m4.6 3h0m2.6 -1.1h0m0.6 1h0m8.2 1.1h0m1.7 -1.9h0m4.5 0h0m8 -0.7h0m2.3 -0.2h0m0 0h0m1.8 1.8h0m7.5 -0.8h0m3.2 1.5h0m3.7 -1.4h0m0.5 -1.6h0m21.4 1.4h0m6.7 -2.3h0m3.6 0.2h0m4.1 7.6h0m0 -2.4h0m-12.9 2.6h0m-3.3 2.6h0m-0.4 -2.5h0m-6.6 -2.4h0m-0.6 1h0m-10.8 4.2h0m-5.3 -2.9h0m-8.6 -2.6h0m0 3.7h0m-0.3 1.6h0m-10.4 0.3h0m-0.5 -3.9h0m-4.6 -0.5h0m-0.4 1.1h0m-0.4 -0.5h0m-0.6 3.3h0m-2.3 -4.7h0m-2.6 3.4h0m-2.1 -3.9h0m-1.6 5.2h0m-3.9 -1.8h0m-4.7 0.2h0m-0.1 1.3h0m-0.1 -3.2h0m-2 -1.1h0m-0.3 2.2h0m-12.4 -1h0m-0.6 -1.7h0m-2.5 3h0m-2.9 0.5h0m-2.7 0.3h0m-4.1 -2.7h0m-8 4.6h0m-0.4 -5h0m-1.4 4.7h0m-3.9 -3.9h0m-2.8 -1.4h0m-14.6 1h0m-2.2 5.5h0m0.9 5.2h0m1.3 -4h0m3.5 -0.1h0m0.8 3.3h0m2.6 -0.4h0m4.8 -3.6h0m3.9 4.8h0m3.4 -5.8h0m9.4 4.2h0m1.8 0.3h0m16.2 0.8h0m3.5 -3.1h0m1 -2.3h0m2.9 5.1h0m0.6 -0.3h0m0.2 -3.6h0m0.3 0.1h0m25.6 0.7h0m3.5 1h0m4.4 -2.2h0m3.8 4.7h0m0.9 -5.1h0m10.2 3h0m15.2 -1.5h0m0.3 2.3h0m0.5 -1.5h0m1.2 -1.8h0m0.4 4h0m14.5 -2.7h0m4.1 1.9h0m-5.6 3.8h0m-8.8 -0.4h0m-1 3.7h0m-5.2 -1.7h0m-0.1 2.1h0m-6.5 -0.9h0m-1 -0.1h0m-5.1 -1.5h0m-30 -2.4h0m-2 4.4h0m-0.7 0.1h0m-2 -2h0m-7.5 -0.2h0m-16.2 2.3h0m-2.3 -0.2h0m-2.7 -4.3h0m-2.9 2.3h0m-2.6 1.6h0m-4.3 -0.8h0m-11.8 -1.8h0m-0.8 2.6h0m-12.2 -3.6h0m-6.9 1h0m-1.8 -0.9h0m-3.7 1.4h0m2 8.6h0m4.9 -4.5h0m1.4 4.7h0m2.8 -1.8h0m0.5 2.2h0m9.9 -2.3h0m1.4 1.5h0m2.8 -3.5h0m0.5 -0.8h0m9.1 2.4h0m2.9 -2h0m4.5 2.5h0m4.2 1.8h0m6.3 -4.9h0m3.7 1.1h0m3.4 -0.5h0m3.2 4.4h0m0.5 -5h0m3.9 5h0m2 -4.9h0m0.1 -0.3h0m3.1 0.1h0m3.2 5.4h0m0.2 -4.5h0m7.5 0.4h0m4.5 -1.2h0m7.2 4.3h0m2.8 -3.8h0m2.3 2.8h0m1.9 -1.2h0m4.3 0.7h0m2.7 -2.7h0m3.6 2.3h0m8.5 -0.2h0m3 2.6h0m5.7 -1.3h0m14.2 4.4h0m-1.5 -0.7h0m-2.8 3.5h0m-5.6 -2h0m-4.9 1.2h0m-5.9 -2.6h0m-3.8 3.4h0m-3.4 -4.5h0m-6.3 5.1h0m-5.3 -4.2h0m-1.5 -0.8h0m-2.9 1.8h0m-5.6 -0.1h0m-0.5 0h0m-7.4 -0.6h0m-0.9 3h0m-11 -0.9h0m-5.8 -1.9h0m-0.2 -1.7h0m-1.7 2.3h0m-5.3 -2.7h0m-10 4.1h0m-1.2 -3.3h0m-3.6 -0.2h0m-10.3 5.3h0m-6.6 -4.6h0m-9.4 0h0m-1.4 -0.7h0m-0.9 4.4h0m-1.6 -0.3h0m-6.6 -2h0m-11.1 5h0m0.3 3.2h0m1.5 -3h0m13.7 2.9h0m5.1 -4.6h0m3.2 2.6h0m2.1 -0.9h0m8.2 3.6h0m14.4 -0.4h0m0 -0.7h0m0.7 0.4h0m3.3 -0.5h0m1.1 -3.9h0m10.1 3h0m3.5 0.8h0m1.4 -1.5h0m2.6 -0.9h0m13.8 -0.9h0m5.6 1.1h0m4.2 2.7h0m6.5 0.5h0m0.6 -4.8h0m0.5 5h0m1.5 -5.2h0m0.3 5.1h0m11.6 -0.8h0m1.3 -1.3h0m8.6 2.7h0m4.1 -1.9h0m5.7 -2h0m0.4 3.7h0m3 -1.1h0m1.5 1.2h0m3.8 -5.1h0m3.1 4.1h0m1.7 -4.8h0m-4.2 11.1h0m-8.3 -0.5h0m-8.2 -2.4h0m-17.3 -1.5h0m-2.3 -0.3h0m-10.5 2.6h0m-0.4 1h0m-4.8 1.1h0m-26 -0.5h0m-6.6 -0.9h0m-0.3 -2.5h0m-3 3.8h0m-2.9 -3.4h0m-0.6 1.5h0m-0.5 -1.8h0m-0.4 1.5h0m-5.6 -2.2h0m-2.4 -0.1h0m-1.3 -0.3h0m-6.6 0.4h0m-4.6 3.1h0m-5.6 -1.8h0m-5.5 -1.4h0m-12.7 4.8h0m-1.7 -1h0m-5 -0.2h0m2.9 3.1h0m0 1.2h0m2 -2.2h0m1.7 0h0m4.9 2.6h0m3.5 0.5h0m4.6 -1h0m0.9 -1h0m1.7 3h0m0.5 -1h0m9.5 -3.1h0m8.7 -0.2h0m0.5 1.6h0m3.6 -0.5h0m0.5 4.1h0m5.7 -5.2h0m6 0.8h0m2.1 2.3h0m14.8 -1.1h0m0.4 -1.8h0m0.8 2.3h0m6.3 0.1h0m0.5 -0.7h0m3.9 1.6h0m1.5 -0.6h0m0.4 3h0m0.9 -4.9h0m3.1 4.7h0m0.4 -0.7h0m7.6 -1.6h0m1.5 -1.1h0m2.3 3.3h0m7.6 -4.6h0m17.4 2.8h0m1.2 0.1h0m10.1 -3.7h0m4.4 -0.1h0m0.3 3.6h0m1.2 -3h0m-2.5 8h0m-14.7 -0.5h0m-0.4 2.5h0m-8.3 -2.7h0m-3.2 2h0m-6.3 1.9h0m-7.9 -3.4h0m-4.1 1.9h0m-0.4 -4.2h0m-1.6 3.7h0m-4.5 -2.1h0m-3.2 -1.8h0m-18.2 4.9h0m-3.9 -3.2h0m-1.5 1.1h0m-1.2 1.8h0m-15.3 0.2h0m-0.4 -0.9h0m-1.9 -1h0m-11.2 -1.3h0m-6.8 -1.6h0m-0.5 3.7h0m-2.1 0.5h0m-2.1 -1.3h0m-0.6 -1.1h0m-8.5 2.4h0m-5.1 0h0m-6.3 -3.5h0m4 10h0m8 1.2h0m0 -1.6h0m3.5 -1.9h0m2.8 -0.9h0m7 1.6h0m3.6 -0.5h0m4.8 -0.7h0m0.2 -1.8h0m5.8 3.4h0m4.3 2.2h0m9.8 -4.6h0m0.4 0.9h0m5.1 2.2h0m1.4 -2.2h0m0.4 -0.6h0m3.3 0.8h0m1 0.1h0m1.8 -1h0m6.1 0h0m1.1 -1h0m15.5 5.4h0m6 -2h0m3.9 2h0m3.4 -1.2h0m0.8 0.6h0m8.8 -1.6h0m5.1 -1.4h0m6.3 -0.9h0m14.3 7.9h0m-5.2 1.8h0m-0.8 0.3h0m-1.6 -4.5h0m-4.8 2.5h0m-3.6 1.7h0m-7.9 -1.8h0m-3.4 0.7h0m-1.1 1.6h0m-2.3 -0.1h0m-2.5 -0.7h0m-5.6 -1.1h0m-1.6 -0.8h0m-2.9 0.7h0m-17.5 -2.3h0m-4.1 4h0m-16.2 -4.6h0m-3.2 4.3h0m-7 -3.6h0m-4.1 0.9h0m-2.5 -1.1h0m-4.6 2.4h0m-9.7 1.9h0m-1.5 -2.8h0m-2.6 -2h0m-10.7 1.4h0m-11.1 3.6h0m-1.3 -3.8h0m-4.9 9.3h0m1.1 -1h0m1.6 1.1h0m5.2 -4.8h0m4.3 2.1h0m1.3 -1.9h0m2.3 4.9h0m13.9 0.3h0m2.3 -5h0m2.6 5h0m2.4 -0.5h0m2.4 -4.7h0m6.2 3.8h0m2.5 1.5h0m0.3 -2.2h0m4.9 2.3h0m0.4 -2.7h0m1.2 2.6h0m1 -4h0m2 -1.6h0m2.7 5.5h0m0.1 -2h0m2.3 -2.6h0m1.2 3.4h0m2.6 -0.3h0m3.9 -0.1h0m4.1 -4h0m4 3.8h0m9.9 -3.4h0m2.5 3h0m10.5 -0.7h0m8 2.2h0m5.8 -3.6h0m3.5 3.2h0m3.5 -1h0m1.9 -1.9h0m3.7 -0.6h0m2.6 -0.8h0m0.7 1h0m16.4 -0.3h0m1.8 9.8h0m0 0.7h0m-1.7 -4.3h0m-8.6 3.7h0m-7.2 -2.2h0m-0.3 3h0m-7.2 0.1h0m-1.7 -5.2h0m-29.1 2.2h0m-0.2 0.4h0m-12.2 -1.1h0m-0.6 -0.8h0m-0.6 0.3h0m-2.9 1.2h0m-4.4 -0.6h0m-0.1 -0.7h0m-0.9 0.4h0m-2.1 2.3h0m-4.2 0.6h0m-0.2 -0.8h0m-3.2 -0.1h0m-6.7 0.7h0m-1 -2.1h0m-11.2 0.3h0m-0.3 -1.8h0m-3.3 4h0m-7.1 -0.6h0m-4.4 -1.9h0m-1.7 0h0m-21.5 2.8h0m-5.7 5.5h0m6.3 0.5h0m0.8 -0.9h0m0.2 -4h0m2.2 -0.1h0m0.8 0.6h0m2.9 1.4h0m1.4 0.3h0m6 -1.6h0m5.2 1.1h0m4.7 0.6h0m1.4 1.8h0m2.8 -3.4h0m0.9 2h0m3.9 -0.6h0m3.3 -2.2h0m3.8 2.9h0m4.9 1.1h0m0.8 -3.7h0m0.4 3.2h0m19.5 -0.4h0m0.2 -0.4h0m5.4 1.4h0m16.1 -1.1h0m0.4 -2.6h0m4.2 1.4h0m8.6 3.5h0m4.4 -5.4h0m4.7 3.7h0m6.2 1.5h0m2.3 0.4h0m0.4 -4.7h0m7.9 2h0m0.3 2.3h0m0.2 -4.7h0m0.2 0.3h0m1.1 4.8h0m1.1 -3.9h0m0.6 -0.1h0m2.7 -0.1h0m0.1 0.5h0m0.9 0.5h0m4.8 0.6h0m3.7 -2.6h0m-12 7.8h0m-8.6 -0.8h0m-10.4 0.9h0m-2.6 -0.6h0m-4.8 0.8h0m-10.5 -1.7h0m-0.5 1.6h0m-3.3 0h0m-12 -1.5h0m-8.4 -0.3h0m-4.6 1.8h0m-22.5 0.1h0m-30.5 -1.9h0m-6.9 1.7h0m-1.3 0.2h0m-9.1 -0.7h0m-0.7 -1.7h0"/><path fill="none" stroke="#f8e0f2" stroke-width="1.4" stroke-linecap="round" stroke-opacity="0.9" d="M417.3 405.4h0m-1.2 -0.4h0m-10.2 0.3h0m-7.8 2.6h0m-19.3 -1.1h0m-1.2 -1.5h0m-14.3 7.9h0m7.8 -3h0m5.4 1.1h0m22.3 -2.9h0m2 3.1h0m8.4 1.8h0m0.2 -2.2h0m1 0.2h0m3.1 1.2h0m22.4 1h0m1.8 -0.7h0m11.1 0.8h0m11.7 -4.7h0m31.2 9.1h0m-55.5 -1.1h0m-2.9 1.1h0m-4.8 -2.5h0m-1.5 -0.4h0m-0.8 0.3h0m-0.2 -0.5h0m-4.9 2.3h0m-0.5 2.6h0m-0.3 -2.1h0m-1.5 0h0m-0.1 -2h0m-5 2.9h0m-2.2 0.7h0m-1.2 -0.4h0m-18.4 -2.1h0m-0.9 1.4h0m-2.7 -3h0m-0.4 0.8h0m-44.8 8.3h0m7.9 -0.1h0m27.4 0.1h0m4 -1.9h0m6.7 3.3h0m4.1 -2.6h0m1.8 0.1h0m2.7 1.3h0m5.8 -1.8h0m3.9 -0.7h0m1.2 0.2h0m8.8 0.9h0m3.2 -2.8h0m0.6 0.3h0m4.3 1.4h0m1.6 -1.3h0m3.6 2.6h0m8.3 1.3h0m0.2 -2.6h0m11.6 -0.9h0m4.5 0.3h0m2.6 2.6h0m-5 3.6h0m-0.6 0.8h0m-8.2 -2.1h0m-7.5 4.9h0m-12 -1.9h0m-8.6 1h0m-9.6 -4.2h0m-10.6 1.3h0m-0.3 0.4h0m-22.5 2.5h0m-4.4 -2.2h0m-6.3 -2.1h0m-5.2 4.6h0m-0.6 0h0m-1.8 0.7h0m-4.3 -1.8h0m-5.2 1.7h0m17.9 5.7h0m5.7 -1.5h0m0.1 -2.1h0m4.1 -0.9h0m13.4 2.9h0m4.9 1.3h0m1.2 0.2h0m4.3 -1.6h0m6.3 -0.3h0m3.3 2.2h0m3.1 0.4h0m2.3 0h0m12.4 -2.8h0m3.2 -1.1h0m4.1 -0.3h0m2 -0.9h0m4.3 0.5h0m1.3 0.5h0m2.3 2.5h0m3.4 2.5h0m-0.1 2.1h0m-12.4 0.2h0m-4.6 0.7h0m-20.8 -2.4h0m-6.8 -0.9h0m-11.6 3.3h0m-7.2 0h0m-14.1 -0.6h0m-3 -1.3h0m-0.3 3h0m-3.3 -0.4h0m-1.5 -1.3h0m-0.9 -2.1h0m-2.6 4.9h0m-5.4 -2.5h0m2.8 5.2h0m8.2 0.4h0m5.3 1.7h0m1.5 -2.5h0m3.3 2.5h0m6.5 -1h0m0.7 -1.7h0m1.1 3.6h0m2.2 -2.5h0m1.9 -2.8h0m5.4 3.3h0m2.4 0.5h0m0 -3.5h0m0.3 2h0m0.5 -1.8h0m4.1 0.9h0m1.1 1.3h0m5.1 1.8h0m3 -3.5h0m5.4 0.1h0m7.3 0.1h0m7.2 3.9h0m10 -1.2h0m1.2 0.2h0m40 -0.6h0m-23.8 2.9h0m-16.9 4.9h0m-10.2 -1.1h0m-22.9 -3.2h0m-6.3 2.8h0m-5.2 -3.1h0m-9.4 2h0m-11.2 -2.3h0m-12.6 1.8h0m-15.6 9.5h0m6.6 -3.5h0m8 0h0m13.1 -2.1h0m4.9 2.1h0m1.2 3.1h0m17.6 -1.3h0m2.2 -2.3h0m3.7 3.9h0m5.1 -0.2h0m8.9 -5.3h0m0.7 4.3h0m16.7 -2.3h0m6.9 0.6h0m4 -2.2h0m46.2 1.8h0m-27 7.2h0m-45.5 -0.5h0m-6.4 -2.7h0m-1.6 3.1h0m-1.6 -3.4h0m-36.5 4.4h0m-0.1 -4.4h0m-5.6 2h0m-0.6 1.9h0m-0.2 1.4h0m-2.9 -2.1h0m-4 -1.5h0m-8 4.2h0m-4 4.4h0m10.2 -2h0m3.1 -0.4h0m0.8 2.4h0m0.1 -2.9h0m3.3 1.8h0m3.3 -1.2h0m14.6 -0.2h0m15.5 -0.1h0m34.8 4.1h0m3.4 -2h0m21.6 1.9h0m14.6 2.5h0m-1.3 0.2h0m-48.2 0.9h0m-32.7 -2.8h0m-1.4 5.3h0m-7 -2.1h0m-1.4 1.8h0m-4 -5.1h0m-6 4.7h0m-1 -2.1h0m-0.3 0.7h0m-2.4 0.6h0m-6.1 -2.9h0m-3.6 0.6h0m-5.8 -0.8h0m-6.1 1.6h0m18.5 3.5h0m0.2 4.1h0m9.1 -3.3h0m0.4 1.1h0m4.3 -1h0m1.2 2.2h0m8.2 -0.2h0m53.8 -0.2h0m4.8 2.7h0m24.3 -3.7h0m20.8 7.2h0m-27.8 -2.6h0m-8.6 0.9h0m-43.2 3h0m-7 0.8h0m-9.1 -1.8h0m-14 -1.9h0m-0.4 0.5h0m-9.1 2.6h0m-2.2 -2.2h0m-18.1 9.2h0m20.7 -1.9h0m14.6 -2.7h0m3.1 4.7h0m34.3 -0.1h0m8.9 -3.5h0m9.8 0.1h0m21.5 -2.3h0m10.5 4.7h0m-28 6h0m-22.6 -3.4h0m-1.9 0.4h0m-1.5 1.6h0m-16.6 -1.1h0m-3.1 1.7h0m-10.9 -1.4h0m-4.5 1.4h0m-0.4 -3.1h0m-0.7 4.5h0m-7 -3.7h0m-1.9 3.6h0m-0.6 -1.9h0m-2.6 1.1h0m-5.5 -1.5h0m-3.5 -2.8h0m-1.1 9.2h0m10.7 1.9h0m3.5 -3.2h0m2.3 0.5h0m18.4 2h0m10 -3.3h0m4 0.9h0m2.2 0.3h0m11.2 2.1h0m11 -3.3h0m1.5 1.6h0m0.2 1.9h0m10.8 -2.1h0m5.8 2.6h0m8 -0.3h0m26.7 -2.3h0m1.1 8.1h0m-3.1 -2.3h0m-5.8 -1.9h0m-9.9 4.9h0m-6 -2.6h0m-0.7 2.3h0m-8.7 -2.2h0m-9.9 -0.4h0m-0.5 2.1h0m-21.1 -3.6h0m-3.6 1.4h0m-16.2 0h0m-9.8 3h0m-0.7 -3.2h0m-3 -0.2h0m-1.8 0h0m-3 0.8h0m-2.1 2.5h0m-7.5 -2.7h0m-11.9 -0.9h0m-0.8 0.2h0m-9.5 -0.8h0m-4.6 -0.5h0m-3 10.5h0m6.3 -5h0m12.2 5.7h0m10.9 -1h0m13.7 -2.7h0m13.5 2.9h0m5.7 0h0m0.7 -2.3h0m3.3 1.3h0m5.3 1.4h0m5.6 -2.6h0m0.8 0.7h0m12.5 -2.4h0m0.1 -0.3h0m1 1.7h0m7.6 -0.2h0m1.8 1.3h0m4.5 -0.1h0m4.9 -1.7h0m0.4 1.2h0m5 -1.9h0m0.1 0.5h0m6 -0.7h0m25.3 0.2h0m-17.2 9.1h0m-7.4 -4.2h0m-7.4 3.1h0m-3.8 1.8h0m-2.1 -4.9h0m-1.2 3.1h0m-4.7 -1.2h0m-3.7 -0.8h0m-4.3 -0.9h0m-2.7 4h0m-3.5 -3.9h0m-3.6 4.3h0m-1.5 -4.2h0m-19.4 4.2h0m-1.9 -0.7h0m-1 -1.8h0m-1.4 2.2h0m-1.5 -1.5h0m-1.9 -0.1h0m-0.2 2.3h0m-2.3 -2.8h0m-5.5 -1.6h0m-0.6 0.2h0m-11.1 0.3h0m-10.6 0.3h0m-2.4 0h0m-6 0.5h0m-4.9 1.4h0m29.8 8.5h0m4.7 -1.7h0m7.5 -0.6h0m0.3 -0.3h0m1.7 1.6h0m41.2 -4.8h0m0.2 5.8h0m5.7 -2.9h0m0.8 -1h0m27.5 5.1h0m-14.3 4.7h0m-1.9 -1.3h0m-6.9 -2.6h0m-5.1 -0.4h0m-6.4 -0.3h0m-9.4 0.8h0m-7.4 3.9h0m-7.2 -2.4h0m-3.8 -2.9h0m-2.1 2.8h0m-1.8 -2.3h0m-4.5 -0.4h0m-14.2 2.8h0m-1.8 -1.6h0m-5.8 3.8h0m-39.1 2.6h0m0.8 1.6h0m24.5 -3.6h0m0.4 5h0m3.7 -1.4h0m1.2 -2.9h0m14.1 2.1h0m32.9 0.2h0m0.4 -0.9h0m0.4 2.6h0m1.7 -1.8h0m3.7 -2.4h0m12.2 1.2h0m10.6 0.4h0m6.7 2.2h0m14.8 -2.4h0m18.1 8.4h0m-3.4 -0.1h0m-28.7 -1.5h0m-9.5 -1.9h0m-18.2 0h0m-4.1 0.2h0m-11.8 0h0m-24.9 -0.9h0m-1.4 4.3h0m-7.9 -4.5h0m-6.1 0.5h0m-13.6 2.5h0m12.2 4h0m9.2 1.7h0m5.6 0.2h0m8.9 0.9h0m4.9 -0.4h0m4.7 -1.8h0m4.8 0.6h0m1.7 -0.2h0m5.4 -0.2h0m2.9 -0.1h0m5.9 -0.2h0m12 -0.6h0m2.7 1.3h0m19.2 -2.1h0m-56.5 7.8h0m-20.3 0.6h0m-0.7 -1.6h0m-15.6 -0.9h0m-14.5 1h0"/><path fill="none" stroke="#f8e0f2" stroke-width="1.8" stroke-linecap="round" stroke-opacity="0.9" d="M426.7 405.8h0m-3.7 1.8h0m-9.9 -1.3h0m-0.1 0h0m-2.6 -1.2h0m-0.9 1.8h0m-2.7 -0.6h0m-24.7 0.2h0m-14.1 -0.7h0m-8.3 7.8h0m0.8 -1.2h0m4 1.1h0m26.2 0.2h0m7.3 -2.7h0m10 -1h0m0.5 3.8h0m6.4 -2.9h0m10.9 -0.9h0m0.7 1.9h0m0.4 -2h0m55.5 1.6h0m-3.9 8.1h0m-44.2 -2h0m-2.6 -2h0m-10.3 3.2h0m-1.9 0.1h0m-2 -4.9h0m-5.8 3.8h0m-7.4 -3.5h0m-0.2 2.7h0m-14.7 1.3h0m-3.5 -1h0m-9 -0.5h0m-12.5 -1.8h0m-3.7 5.9h0m2.8 1.2h0m3.5 0.8h0m15.6 -0.3h0m6.2 2h0m1 -0.8h0m9 -1h0m6.1 -2.4h0m6.3 2.2h0m3.6 1.8h0m0.1 -3.1h0m2.5 -0.8h0m0.7 2.6h0m5 1.5h0m15.7 1.3h0m0.4 -0.9h0m4.4 -4.4h0m35.7 3.6h0m0.4 -2.5h0m-54 7.8h0m-0.3 0.7h0m-4 -1.8h0m-15.4 3.5h0m-11.5 -2.4h0m-3.1 1.6h0m-3.2 -4.4h0m-16.1 1.4h0m-2.7 3.7h0m-4.2 -4.7h0m-2.8 1.1h0m-2.1 1.2h0m-0.2 0.6h0m-1.9 -2.3h0m-2.4 2.6h0m-6.4 1.1h0m2.4 6.2h0m7.9 -4.3h0m5.3 -1h0m11.2 2.4h0m0.7 -0.8h0m1.4 3.9h0m1.1 -1.9h0m3.2 -0.9h0m0.3 0.8h0m0.8 -2.6h0m7 -1h0m20.9 0.2h0m8.5 3.4h0m5.8 -2.5h0m3.7 -1.1h0m9.6 1h0m4.4 2.4h0m39.6 1.3h0m-36.1 1.7h0m-5.1 4.2h0m-3.5 -0.6h0m-2.9 1.1h0m-0.4 -0.2h0m-2.1 -0.7h0m-1.7 1.4h0m-0.8 -2.2h0m-1.3 -3.6h0m-6.5 2.2h0m-0.2 -1h0m-0.9 -0.9h0m-1.8 1.1h0m-10.9 3.9h0m-7.8 -2.5h0m-4.4 -1.3h0m-0.2 2.9h0m0 -1.2h0m-3.9 -1.7h0m-5.5 1.8h0m-5.5 -2.3h0m-4.6 2h0m-5 0.7h0m-0.1 -2.1h0m-4 -1.4h0m-2.3 0.3h0m-16.5 8.9h0m5.7 -1.3h0m2.5 0.2h0m13 2.8h0m8.1 0.5h0m0.9 -1.9h0m4.3 2.1h0m0.6 -4.5h0m5.3 2.8h0m5.6 0.9h0m12.2 -2.2h0m4.7 1h0m5.4 -1.6h0m1.7 1.3h0m22.5 0.4h0m10.4 -0.1h0m2.3 -1.5h0m-13.2 9.3h0m-7.5 -2.4h0m-4.2 -1.8h0m-1.9 3.9h0m-0.9 -3.7h0m-4.4 -0.8h0m-6.8 -0.4h0m-2.1 0.7h0m-3.8 0h0m-2.1 1.6h0m-9.1 -1.6h0m-8.3 -1h0m-4.5 2.5h0m-12.4 0.7h0m-8.7 0.8h0m-2.8 0.2h0m-8.5 -3.7h0m-3.1 2.3h0m-2.2 4.2h0m2.9 -0.8h0m0.6 2.4h0m8.4 -0.6h0m7.2 1.6h0m2.2 1.3h0m2.5 -3.4h0m0.7 0.2h0m3.1 0.9h0m15.1 -1.6h0m4.8 4.4h0m6.7 -5h0m6.9 -0.5h0m8.4 3.5h0m24.5 -3.1h0m43.9 10.9h0m-0.9 -5h0m-40.6 2.8h0m-12.3 -2h0m-8.5 -0.2h0m-23.2 1.1h0m-23.3 -1.8h0m-5 5.1h0m-0.2 -2.3h0m-9.1 1h0m-4.1 0.1h0m-5.5 1.7h0m-9.1 2.8h0m3.6 2h0m8.1 -4.1h0m4.3 0.3h0m11.3 4.7h0m5.8 -1.5h0m2.2 1.5h0m99.6 6.2h0m-89.4 -0.4h0m-9.6 -4.2h0m-11.2 1.9h0m-0.6 -1.2h0m-1.1 3.3h0m-1.8 -4h0m-0.2 0.1h0m-2 1.1h0m-3.2 -1.3h0m-1.3 4.5h0m-2.4 -1.2h0m-8.6 -4.3h0m-0.4 0.6h0m0.9 11.1h0m18.6 -0.1h0m11 -1.8h0m0.5 -1.7h0m93.3 3.5h0m10.1 -0.3h0m-82.9 1.9h0m-37.4 9.2h0m6.4 -2.1h0m1.9 0.2h0m0.5 -0.5h0m9.5 2.9h0m14.6 -0.2h0m2.2 -0.6h0m3.6 -3.4h0m17 -0.1h0m22.3 -0.3h0m4.1 2.7h0m7.1 6.5h0m-22.5 -0.3h0m-14.7 0.2h0m-4.5 0.3h0m-3.7 -0.6h0m-1.6 0.6h0m-2.8 -3.1h0m-5.6 4.7h0m-0.1 -2.5h0m-0.2 2.1h0m-9.2 -0.4h0m-6 -3.8h0m-3.3 3.6h0m-7 -2h0m-5.6 3h0m-3.1 -5.1h0m-0.8 0.9h0m1.3 5.4h0m8.1 0.1h0m3 3.7h0m1 0.6h0m2.3 -4h0m2 2.2h0m3.3 -2.7h0m1 3.5h0m10.5 -1.8h0m0.3 -1.8h0m0.3 5.3h0m1 -2.4h0m3.2 -1.5h0m1.1 3.6h0m7.5 -2.5h0m2.9 2.4h0m13 -4.7h0m2.1 3h0m9.1 0h0m0.9 0.5h0m12.4 1.8h0m13.4 -3.4h0m16.7 -1.1h0m-16.4 7.4h0m-0.4 -0.9h0m-11.6 -1h0m-9.4 0h0m-2.9 1h0m-0.8 1.4h0m-1.9 -3h0m-16.6 5.1h0m-16.7 0.6h0m-1.4 -3.8h0m-13.4 0.7h0m-1.3 -2.6h0m-3.2 1.6h0m-4.1 -1h0m-0.5 4.4h0m-10.9 0h0m-2.8 -1.1h0m-1 1.2h0m-1.2 -3.8h0m-2.9 -1.4h0m-4.3 10.5h0m7.7 -4.2h0m7.2 1.2h0m5.9 3.4h0m0.3 0.9h0m7.2 -4.6h0m2.6 1.1h0m2.6 0.8h0m1.4 2.6h0m0.2 -1.5h0m3.7 -1.2h0m4.1 0.9h0m4.8 0.5h0m6.2 0.2h0m7.2 1.1h0m27.5 0.1h0m10.1 -3.6h0m3.1 3.2h0m1.3 -5.1h0m6.7 4.4h0m3.9 0.2h0m4.2 -1.3h0m8.5 2.6h0m-12.8 1.3h0m-2.5 3.9h0m-12.5 -3.9h0m-2.2 0.8h0m-2.8 2.7h0m-0.2 0.5h0m-2.3 -1.6h0m-2.6 -1.6h0m-3.3 3.1h0m-2 -4.5h0m-4.5 3.5h0m-0.4 -3.1h0m-4.1 -0.6h0m-8.3 1.4h0m-4.5 1.2h0m-3.6 -1h0m-1.2 -1.6h0m-1.1 3.4h0m-2.2 1.1h0m-1.8 0.4h0m-3.9 -5.4h0m-5.4 5.3h0m-0.9 -2.8h0m-3.4 -1.7h0m-1.7 4.1h0m-5.2 -2.7h0m-11.1 3h0m-0.7 -5h0m-0.1 3.5h0m-3.1 -1.9h0m-1 3.4h0m-1.9 -3.3h0m-19 6.4h0m24.8 -1.5h0m13 -1.1h0m0.1 5.4h0m3 -4.6h0m5.4 3.9h0m15.9 1h0m3.5 -2.8h0m3.4 -1.8h0m2.2 1.3h0m11.5 -1.4h0m1.4 0.2h0m0.4 2.9h0m1 0.6h0m11.2 -3.6h0m1.6 2.2h0m0.1 1.1h0m4.2 -0.7h0m0.5 1.4h0m1.6 -4.5h0m13.4 3.8h0m4.2 -2.1h0m14 1.2h0m-19.1 2.5h0m-16.6 2h0m-2.1 1.8h0m-5.7 2h0m-1.3 -1.9h0m-6.6 -0.1h0m-4 -1.4h0m-13.7 -2.4h0m-13.9 3.2h0m-2.3 -2.9h0m-3.6 3.3h0m-7.2 -2.1h0m-1 3.6h0m-5.6 -5h0m-2.6 5.1h0m-18.9 -3.4h0m-16.2 3.5h0m38.4 0.9h0m12.9 5.5h0m2.7 -0.6h0m1.8 0.3h0m5.7 -2.8h0m5.4 -0.9h0m2.1 -0.5h0m0.1 0h0m0.7 4.3h0m3.9 -3.6h0m5.3 2.2h0m16.7 1.5h0m16 -4.2h0m7.1 3.3h0m7.2 0.4h0m8.6 -3.1h0m-17.6 5.3h0m-8.8 2h0m-28.3 -3.2h0m-6.3 4.8h0m-2.5 -1.4h0m-5.6 -0.7h0m-7.8 2.9h0m-4 -2.5h0m-6.6 1.9h0m-9.6 0.1h0m-22 -3.3h0m-7.5 0.5h0m-1.2 4.2h0m53.7 1.2h0m3.3 2.4h0m0.8 -0.8h0m15.6 -0.9h0m22 -0.7h0m45 -1.2h0m-56.3 6.6h0m-31 -0.6h0"/><path fill="none" stroke="#f8e0f2" stroke-width="2.2" stroke-linecap="round" stroke-opacity="0.9" d="M427.7 407.9h0m-8 -2.3h0m-13.6 1.7h0m-9.6 0.6h0m-32.5 -0.3h0m38.8 4.1h0m7.2 -1.5h0m5.7 0.6h0m3.2 2.6h0m38.4 1.9h0m-8.1 2.5h0m-3.2 0h0m-5.2 -0.8h0m-7.7 1.7h0m-1.1 -2.7h0m-10.4 -1.7h0m0 3.4h0m-33.3 0.9h0m-16.9 -2.3h0m-3 3.1h0m-3.8 -0.8h0m-6 -1.7h0m-0.3 -0.3h0m-3.7 1.1h0m16.4 7.6h0m6.3 -3h0m5.8 -1.3h0m1.3 4h0m7.4 -5h0m3.9 5h0m12.7 -4.9h0m2.7 0.8h0m1.4 2.1h0m2.6 -2.7h0m5.5 1.2h0m10.9 4.4h0m0.8 -4.9h0m24.2 1.1h0m-16.6 7.6h0m-8.3 -2.8h0m-3 0.7h0m-4.1 1.3h0m-0.7 1.2h0m-5.3 1h0m0 -0.5h0m-12.8 1h0m-8.3 -2.2h0m-0.3 -2.3h0m-3.6 -0.8h0m-8.6 3.2h0m-11.7 -0.4h0m-5.2 -0.3h0m-1.5 0.4h0m-0.6 2.3h0m-2.5 0.3h0m-3.2 0.1h0m-3 -3.1h0m-9.8 1.1h0m-2.3 3.6h0m11.6 4.3h0m4.9 -3.7h0m1.4 -0.9h0m11.4 -0.6h0m4.2 5h0m7.4 -5.2h0m1.8 2h0m0.1 -0.6h0m13.8 -0.3h0m0.2 -1.3h0m0.4 3.4h0m11.6 -1.5h0m6.4 0.8h0m5.3 2.7h0m2.7 -5.1h0m1.5 -0.4h0m8.7 3.6h0m9.6 -1.8h0m19.2 2.1h0m-10.9 4.2h0m-0.3 2.7h0m-22.2 -1.1h0m-0.5 -0.7h0m-0.9 -2.8h0m-0.5 3.9h0m-5.7 -2.6h0m-2.6 0.1h0m-2.4 -1.4h0m-5.4 1.1h0m0 2.4h0m-3.7 -0.1h0m-1.3 -0.4h0m-20.3 -0.4h0m-0.7 1.1h0m-3.1 -1.3h0m-6.6 -1.1h0m-1.8 1.2h0m0 1.1h0m-0.3 0h0m-0.6 -0.9h0m-0.8 0.4h0m-7 -2.4h0m-6.2 2.8h0m0 -0.7h0m-9.4 2.8h0m-1.7 -2.8h0m-7.6 2.3h0m9.6 2.5h0m19.1 -1.4h0m5.4 -0.2h0m7.1 4.8h0m11.1 -4.7h0m21.5 4.2h0m4.1 1.2h0m2.4 -1.2h0m9.1 0h0m0.2 -3.6h0m0.2 -0.4h0m3.1 3.5h0m11.2 -2.5h0m1.6 1h0m-3.4 7.6h0m-13.3 -4.1h0m0 1h0m-0.5 3.6h0m-33.4 0.2h0m-7.8 -2.1h0m-0.3 3.1h0m-0.1 -2.2h0m-0.4 -1.9h0m-1 -0.6h0m-0.4 3.7h0m-3.2 -3.7h0m-17.2 -0.9h0m-2.7 1.6h0m-2.7 3.4h0m-11.2 -0.8h0m-0.6 -1.5h0m-4.2 -0.8h0m-4.4 1.5h0m-0.8 7.8h0m2.5 -3.5h0m8.2 -1.2h0m6.2 -0.8h0m1.6 4.4h0m15.5 1.4h0m5 -1h0m8.6 -0.8h0m22.8 -1.1h0m12.3 0.7h0m6.7 0.2h0m3.9 -0.5h0m5 2.4h0m34.6 -1.7h0m13.8 7.5h0m-15.9 -1.1h0m-19.5 -1.7h0m-19.5 -2.6h0m-23.7 0.4h0m-10.1 0.6h0m-12.6 1.1h0m-3 -1.2h0m-11.2 -1h0m-0.1 0.3h0m-13 -0.2h0m-1.9 4.7h0m-12.8 -2.5h0m5.1 3.8h0m11.1 2.9h0m5.9 2.7h0m3.5 -3.2h0m0.5 -0.8h0m13.8 3.8h0m3 0.2h0m9.1 -2.9h0m32.1 3h0m13.3 -3.8h0m22.6 3.8h0m0.7 -1.9h0m1.4 -1.7h0m2.9 4.2h0m-32.7 5.4h0m-58 -1.6h0m-1.9 1.4h0m-10.5 -4.1h0m-2.2 1.1h0m-6.6 -1.2h0m-2.2 1.4h0m-1.4 2.8h0m-1.4 -2.8h0m-2.5 1.3h0m-5.4 -3.2h0m0.9 8.6h0m0.7 -2.3h0m4.9 4.7h0m2.6 -0.2h0m7.9 -1.1h0m4.6 0.1h0m2.3 -1.3h0m11.3 0.9h0m10.3 -1.7h0m22.6 3h0m6.1 -0.9h0m53.4 -4.5h0m-37.3 6h0m-36.9 2.5h0m-26 2.1h0m-16.7 -0.4h0m-2.9 -1.6h0m-0.4 -0.3h0m-6.7 2.2h0m-5.4 -0.6h0m-0.5 0h0m9 3.2h0m11.1 4.5h0m0.5 -1.6h0m23.8 0.2h0m9.3 -3.2h0m7.3 3.4h0m0.7 1.2h0m13.4 -2.1h0m10.6 -0.6h0m10.3 1.3h0m6.2 -0.8h0m1.1 1.5h0m45 3.3h0m-1.6 -0.6h0m-30.3 1h0m-1.6 0.1h0m-40.2 2.1h0m-4.5 -0.7h0m-4.5 1.2h0m-0.1 -1.5h0m-4.5 0.2h0m-23.1 -1.6h0m-2 2.6h0m-2.8 -4.4h0m-6 0.1h0m-3.6 0.9h0m-2.3 2.6h0m-10.9 6.8h0m13.5 0.2h0m0.7 -4.2h0m3.4 4.7h0m0.7 -0.2h0m2.5 -1.2h0m6.5 -0.5h0m13.7 0.8h0m2.2 0.4h0m6.9 -1.7h0m3 0.3h0m4.3 -1.9h0m7.5 -0.4h0m13 2.9h0m7.9 -4.1h0m7.6 0.3h0m1.5 4.7h0m1.3 -1.6h0m13.3 -2.4h0m18.4 2.8h0m6.6 -3.2h0m-5.9 7.2h0m-10.8 1.9h0m-6.2 0.7h0m-16.4 -3.3h0m-4.3 1.3h0m-5.2 -1.7h0m-3.2 0.8h0m-3.4 -1.2h0m-16.9 3.3h0m-4.6 1.5h0m-1.1 -1.7h0m-0.2 -0.3h0m-17.7 -0.7h0m-5.9 0.7h0m-3.9 0.8h0m-1.3 0.3h0m-12 0.3h0m-0.4 -2h0m-2.7 2.3h0m-4.8 -2.6h0m-4.5 -1.8h0m6.9 5.9h0m4.1 2.4h0m2.3 -2h0m1.4 4.3h0m1.9 -3.1h0m1.9 0.2h0m2 -0.4h0m0.5 -0.5h0m7.1 2.2h0m7.7 0.4h0m1.8 -1.3h0m4 2.8h0m0.3 -3.6h0m14.6 3.1h0m1.5 -2.5h0m18.8 -0.8h0m8.2 -0.9h0m0.3 1.4h0m3.6 1.2h0m21.7 -1.5h0m1.6 8.3h0m-1.9 -3.5h0m-5.4 4.7h0m-3.1 -4.9h0m-6.1 3.3h0m-1.7 1.8h0m-6.8 -3.6h0m-1.1 -1.7h0m-10 1.5h0m-0.9 0.7h0m-13.6 3.2h0m-1.8 -2.5h0m-2.7 -0.9h0m-2.6 1.6h0m-2.7 -2h0m-1 2.1h0m-2.5 -0.6h0m-3 0.2h0m-4.9 1.2h0m-1 -1.8h0m-3.6 -1.2h0m-26.1 -1.2h0m-17.8 3.8h0m26.7 2.1h0m16.5 0.3h0m0.5 3.8h0m6.9 0.4h0m9.2 0.4h0m7.3 -0.3h0m6 0.4h0m3.7 -0.9h0m1.7 -1.8h0m9.4 -1.4h0m5.2 3.5h0m0.3 -2.7h0m4.3 2.9h0m4.9 -0.8h0m3.1 -0.6h0m3.2 0.8h0m3.8 -3.9h0m15 1.3h0m8.1 -1.3h0m-7.7 8.7h0m-12.4 -0.7h0m-0.4 3h0m-5.5 -1.3h0m-11.9 0h0m-0.6 -1.8h0m-7 1h0m-0.5 -1.3h0m-8.4 -0.4h0m-7.8 0.9h0m-2.1 -2.7h0m-6.5 0h0m-1.3 0h0m-1.5 2.6h0m-0.8 -1.4h0m-1.1 2.6h0m-3.8 -1.5h0m-4.2 2.3h0m-0.8 0.5h0m-1.7 -5h0m-7.7 1.6h0m-1.4 2.5h0m-1.2 -1.8h0m-3.7 0.9h0m-5 -3.4h0m-17.5 5.7h0m-1.1 6.2h0m25.5 -3.6h0m0.7 1.3h0m0.9 -0.8h0m8.9 -0.3h0m2 2.5h0m2.2 -3.9h0m2.6 1.5h0m9.1 0.4h0m5.5 -2.6h0m21.7 2.3h0m0.3 -1.3h0m1.4 -0.1h0m9.6 -0.9h0m9.3 0.6h0m13.2 0.7h0m2.5 5.2h0m-70.3 -0.5h0m-1.9 3h0m-57.8 4.9h0m4.6 2.9h0m18.8 -3.1h0m20.1 -1.5h0m6 4.9h0m10.4 -2.9h0m29.5 -2h0m20 1.1h0m6.6 -0.2h0"/><path fill="none" stroke="#f8e0f2" stroke-width="2.8" stroke-linecap="round" stroke-opacity="0.9" d="M458 405.5h0m-25.7 -0.3h0m-10.2 -0.1h0m-3.5 0h0m-4.7 0.7h0m-49.5 5h0m16.4 2.7h0m29 -1.1h0m0.9 -1.2h0m2.4 -1.4h0m10.1 0.6h0m3.5 -1.1h0m47.4 7.9h0m-30.8 1.7h0m-3.9 -4.8h0m-6.1 5.4h0m-8.7 -4.2h0m-3.7 4.1h0m-3.5 0.5h0m-0.7 -3h0m-1.4 1.7h0m-8.8 -4.6h0m-1.7 5.7h0m-1.9 -3.9h0m-4.1 0.9h0m-3.2 -2h0m-5.3 3.2h0m-14 -0.4h0m-15.1 0.5h0m-2 0.2h0m-2.6 -0.9h0m-15.5 7.6h0m17 -3.3h0m12.8 -1.6h0m7.3 4.5h0m19.8 -3.6h0m7.5 2.4h0m0.5 -3h0m13.8 4.1h0m4.1 0h0m5.2 -4.1h0m0.1 5.2h0m0.7 -2.6h0m1.4 -2.7h0m12.3 10.4h0m-7.8 -1.4h0m-9.6 0.8h0m-6 -1.9h0m-0.6 -0.2h0m-0.1 -0.9h0m-0.5 4.7h0m-3.6 -4.1h0m-7 -1.6h0m-1.7 1.4h0m-6.5 0.4h0m-1.1 3.8h0m-1.4 -4.6h0m-3.3 0.2h0m-8.3 3.6h0m-0.4 -3.2h0m-1 1h0m-1.9 0.3h0m-10.6 -1.2h0m-2.7 -1.5h0m-1.4 1.6h0m-4.5 3.2h0m-13 0.6h0m-6.9 -4h0m1.5 8.7h0m10.3 -3.9h0m5.1 4.2h0m5.6 1.3h0m17.3 -3.2h0m3.4 0.8h0m5.9 -1.5h0m1.7 2.8h0m6.4 -3.5h0m3 -0.5h0m7.9 0.1h0m13.7 3h0m0.3 -2.8h0m12.4 2.6h0m1.6 -0.8h0m11.5 0h0m-14.4 3.1h0m-8.8 3.8h0m-0.1 -3.6h0m-5.8 0.2h0m-0.2 3h0m-9 2h0m-15 -1.3h0m-8.8 1.5h0m-1.4 -4h0m-0.9 3.9h0m-2.2 -1.2h0m-0.4 -3h0m-3.4 -0.2h0m-10.7 -1h0m-2.1 3.5h0m-0.9 -0.3h0m-4.4 0.1h0m-8.6 6.7h0m5.6 -1.9h0m12.3 0.3h0m1.8 -1.7h0m2.5 1.8h0m2.1 2.9h0m0.5 0.1h0m3.9 0.1h0m5.2 -0.6h0m1.2 0.2h0m4.9 -1.2h0m9.7 -3.6h0m1.7 0.8h0m28.1 0.6h0m34 -0.3h0m6.1 -0.1h0m-25.7 5h0m-7.3 1.5h0m-9 0.3h0m-0.8 2.9h0m-3 -4.1h0m-7.9 4.1h0m-16.2 -0.6h0m-7.3 -4h0m-5.1 4.4h0m-2 -5h0m-9.1 4.5h0m-5.5 0.6h0m-14.3 -3.8h0m-0.7 -0.1h0m-1.2 0h0m-9.9 1.9h0m-1.9 -2.7h0m-5.7 6.3h0m11.2 0.9h0m2 -1.5h0m2.6 3.7h0m2.2 1.1h0m14.6 -1h0m7.4 -3.7h0m2.4 3.2h0m10.7 1h0m0.1 1.3h0m6 -3.8h0m15.8 3.3h0m6.7 -4.3h0m12.6 3.2h0m5.1 -0.3h0m22.4 6.5h0m-6.7 -3.1h0m-19.5 2.5h0m-4 1.3h0m-28.2 -4.6h0m-8.6 5.2h0m-16.7 -3.3h0m-0.9 -1.4h0m-5.3 0.6h0m-2 2.4h0m-1.7 -2.8h0m-4.6 1.1h0m-1 3.4h0m-2.6 -1.9h0m-1.6 2h0m-1.5 -0.1h0m-10.4 -3.9h0m-0.4 1h0m-1 4.9h0m1.8 3.4h0m5.9 0.8h0m1.9 0.1h0m2 -1h0m0.3 -4.4h0m10.5 4.2h0m2.3 -1.4h0m10.8 -0.5h0m12.9 2h0m34.1 -2.8h0m59.2 9h0m-5.8 -1.3h0m-61.8 -1.5h0m-34.2 1.6h0m-3.6 -3.7h0m-4.3 4.8h0m-3.1 -2h0m-8.7 -1h0m-7.7 -1.5h0m-1.2 5.3h0m-0.4 -5.5h0m-0.4 3.1h0m-3.7 0.6h0m-6.1 0.3h0m-5 2.2h0m9 0.1h0m1 1.1h0m11.2 2.7h0m1.4 -1.8h0m13.5 0.2h0m2.1 -2.6h0m31.3 3.4h0m62.5 -0.3h0m16.9 5h0m-29.4 2.9h0m-21.3 -0.1h0m-40.2 -4.5h0m-24 0.8h0m-5.7 0.1h0m-0.3 2.2h0m-17.3 0.2h0m-0.3 -1h0m-9.7 -2.2h0m3.6 10.3h0m22.3 -2.7h0m5.8 1.6h0m6 -0.5h0m2.7 -1.6h0m8.6 3h0m0.8 -0.7h0m12.5 1h0m15.7 -2.5h0m3.7 3h0m31.9 2.5h0m-40.2 -1.3h0m-8.1 1h0m-9 1.4h0m-39.4 1.6h0m-0.8 0h0m-3.6 -3.5h0m-7.5 0.6h0m-0.2 2h0m-2.8 7h0m6.5 -2.3h0m17.5 0.4h0m1 1.4h0m11.1 -1.3h0m4.1 -1.4h0m12.4 4h0m0.2 -1.2h0m12.3 -0.1h0m5.4 -2.5h0m12.3 1.5h0m6.1 1.5h0m6.3 -4h0m5.4 3.2h0m6.3 0.5h0m1.3 -0.5h0m21.3 6.5h0m-11.5 -4.2h0m-4 5.3h0m-1.9 -2.4h0m-1.1 -1.3h0m-7.1 -0.5h0m-3 2.7h0m-0.9 -0.8h0m-8.1 1.9h0m-0.2 -5.2h0m-1.5 5.8h0m-1.2 -2.7h0m-22.5 -1.6h0m-4 -1.3h0m-1.2 4.7h0m-0.4 -4.4h0m-5.7 2.9h0m-1.4 1.1h0m-1 -0.3h0m-9.7 0.2h0m-0.2 -1.3h0m-5.2 -2.1h0m-1.6 0.5h0m-10.5 -0.6h0m-8.3 3.6h0m-5.5 0.2h0m-12.9 -0.2h0m14.9 4.3h0m0.6 1.7h0m1.5 -0.8h0m3.4 -3.6h0m2.9 2.2h0m4 0.1h0m0.8 -0.7h0m15.8 -1.4h0m4 1.3h0m10 2.7h0m23.6 -0.8h0m6.5 1.2h0m5 -3h0m0.5 -0.6h0m1 -0.4h0m2.8 2.8h0m4.2 -1.2h0m2 2.3h0m4 -0.1h0m5.1 -1.2h0m22.8 -3.3h0m-4.5 10h0m-8.3 -3.7h0m0 0.8h0m-12.1 1.3h0m-0.7 -1.2h0m-5.8 1.4h0m-4.9 -1.2h0m-3.5 -0.3h0m-8 0.5h0m-2.9 -0.1h0m-3.4 0.3h0m-10.8 0.2h0m-6.2 2.6h0m-3.4 -0.7h0m-12.6 -3.7h0m-0.6 5.7h0m-1.8 -0.4h0m-1.8 0.4h0m-7.1 -5.7h0m-0.8 5.3h0m-6.5 0.4h0m-1.4 -3.2h0m-4 -1.4h0m-8.3 2.1h0m-14.4 7.1h0m10.3 -4.3h0m24.1 1.9h0m0.1 0.4h0m10.2 3.3h0m1.4 -3.7h0m11 2.7h0m1.1 -2.9h0m1.9 0.3h0m29.9 0h0m6.6 2.7h0m0.2 -2.7h0m3 0.4h0m8.3 0.3h0m0.1 -1.2h0m1.9 3.7h0m1.7 -1h0m0.4 -4.1h0m2.1 0.1h0m2.7 0.4h0m10.8 1.7h0m18.6 8h0m-33.4 -1.6h0m-4.5 1.7h0m-1.3 0.9h0m-0.8 -4.6h0m-5.2 0.2h0m-4.7 3.5h0m-6.1 0.8h0m-4.4 -3.3h0m-1.2 -0.1h0m-0.5 0.1h0m-1.4 3.2h0m-10.3 -4.4h0m-1 0.8h0m-13.5 -0.3h0m-3.9 3.8h0m-36.8 -1.7h0m23.2 4.1h0m4.6 3.8h0m9.5 -0.8h0m3.5 -0.3h0m4.5 1h0m5.8 -3.7h0m7.1 2.3h0m4.3 -2h0m15 -1.2h0m0.7 0.8h0m6.2 2.2h0m4.4 2.1h0m24.6 -0.4h0m4 -1.6h0m-15.6 2.7h0m-10.9 2.3h0m-14.7 -2.3h0m-4.8 0.3h0m-32 2.9h0m-0.4 -3h0m-11 -0.5h0m-21.1 4.6h0m-0.8 -1.7h0m-5 4.9h0m29.3 -0.8h0m6.9 -1.2h0m4 5.1h0m7.1 -0.9h0m10.3 -1.7h0m6.9 2.5h0m14.6 -2.8h0m-2.9 4.5h0m-6.3 -0.4h0m-0.7 1h0m-14.3 -0.8h0m-26.1 0.1h0m-1.5 0.5h0"/><path d="M396 462 C400 456 408 460 414 472 C420 484 426 500 426 507 C420 506 408 494 400 482 C394 472 393 466 396 462Z" fill="#fdf8fc"/><path fill="none" stroke="#d83050" stroke-width="1.8" stroke-linecap="round" d="M405.1 483.8h0m1 0.4h0m0.3 -4.2h0m0.3 4.4h0m0.1 -3.5h0m0.8 3.1h0m0 1.7h0m0.6 -2h0m0.1 -2.7h0m0.2 3.9h0m0 -1.2h0m0.2 -1h0m0.8 2.7h0m1 -1.4h0m0.2 -2.5h0m0.7 3.4h0m0.1 -4.3h0m0.4 -0.1h0m0.3 3.2h0m1 1.5h0m0.1 -2h0m1 1.2h0m0.3 -1.2h0m0.3 7.4h0m-1 -4.1h0m-0.2 3.5h0m-0.6 -3.5h0m-0.4 3.4h0m-0.4 -2.9h0m-0.2 0.7h0m-0.3 3.8h0m-0.1 -2.4h0m-0.1 -1.5h0m-0.6 4h0m-1.2 -2.7h0m0 2h0m-0.3 0h0m-0.1 -2h0m-0.4 0.7h0m-0.1 -3.6h0m-0.5 4.3h0m-0.2 -2.6h0m-0.1 0h0m-0.1 3.6h0m-0.4 -3.6h0m-0.1 0.8h0m-0.1 1h0m-1.6 -0.2h0m-0.1 -1h0m-0.4 -1.7h0"/></g><rect x="188" y="405" width="1" height="156" fill="#f6e8f2" fill-opacity="0.45"/><rect x="340.5" y="405" width="1" height="156" fill="#f6e8f2" fill-opacity="0.45"/><g clip-path="url(#cin)" filter="url(#soft)"><rect x="41.2" y="605.0" width="143.8" height="143.0" fill="#806a9c"/><path fill="none" stroke="#a898c4" stroke-width="1.4" stroke-linecap="round" stroke-opacity="0.7" d="M127 605.7h0m44.6 1.8h0m-2.2 2h0m-14.5 0.5h0m-5.8 0.6h0m-46.1 1.1h0m-17.3 -4.7h0m-3.8 4.5h0m-14 -4.7h0m-2.1 5h0m-0.4 -2h0m-14.4 -1.3h0m-3.1 -1.9h0m5.4 10.7h0m2.3 -0.1h0m21.6 -1.1h0m3.7 -0.6h0m2.1 -2.5h0m10.3 -1h0m6 3.5h0m46 -1h0m10 0.6h0m9.7 -0.3h0m2.8 -2.5h0m4.5 3h0m-2.8 4.2h0m-0.9 3h0m-2.6 -0.7h0m-8 -1.7h0m-6.2 -1.8h0m-16.6 4.2h0m-18.8 0.1h0m-34.3 -2.2h0m-5 0.6h0m-14.7 1.7h0m-5.4 -2h0m-0.8 0.2h0m-3 -0.1h0m-3.1 7.5h0m6.5 1.6h0m13.6 -4.2h0m12.9 1.4h0m0.2 -2.8h0m2 3.7h0m4.5 0.8h0m4.1 0.9h0m1.2 -0.7h0m7.3 -0.6h0m20.1 -0.7h0m6.7 -0.2h0m11.5 -0.9h0m1 -0.9h0m29.6 0.5h0m0.1 -0.4h0m-20.2 9.9h0m-16.2 -1.9h0m-29.9 -2.7h0m-0.8 3.6h0m-5.2 -4.2h0m-1.1 -0.3h0m-32.8 0h0m-5.3 5.5h0m-11.4 4.6h0m5.6 -3.4h0m37.3 4.4h0m2 -3.9h0m16.4 4.4h0m14.8 -2.5h0m11.2 -1.7h0m4.4 4.3h0m4.1 -5.2h0m1.9 3.7h0m1.8 -4.3h0m22.5 3.7h0m0.9 -1.9h0m11.7 0.6h0m-8.1 7.8h0m-2.1 -3.4h0m-9 -0.3h0m-6.7 1.2h0m-7.7 -0.6h0m-65.7 -0.5h0m-6.8 4.5h0m-10.2 -2.7h0m-18.8 0.6h0m2.8 5.2h0m22.5 2.1h0m0.7 -1.2h0m9.6 2.6h0m0.2 -4.1h0m24.6 0.3h0m9.4 0.2h0m18.6 1.4h0m5.1 1.6h0m10.2 -0.6h0m4.2 -3.3h0m13.7 4h0m12.8 -1.3h0m1.9 -1.6h0m-15.9 5.8h0m-7.3 -0.7h0m-5.3 3.3h0m-1 -2h0m-23.3 -1.8h0m-9.6 3.2h0m-36.4 0.5h0m-4.8 -4.2h0m-5.2 5.4h0m-8.2 -1.4h0m-11.9 -3.1h0m0 0.9h0m-7.4 2.3h0m18.9 3h0m0.6 1.8h0m3.1 -3.2h0m5.9 3h0m4.9 1.7h0m13.7 0.3h0m25.6 -2.2h0m1.2 -2.3h0m10.8 4.3h0m9.8 -4.2h0m12.5 0.9h0m10 3.8h0m3.9 -2.1h0m0.5 2.4h0m4.4 -4.6h0m0.9 1.7h0m0.6 0.7h0m3.1 -1.1h0m-6.3 8.3h0m-18.9 -2.1h0m-6.7 0.1h0m-2.4 1.8h0m-20.6 -4.1h0m-6.7 3.7h0m-5.2 -4h0m-11 1.3h0m-10 3.7h0m-1.3 -2h0m-6.9 -0.4h0m-15.7 -2.7h0m-7.7 4.7h0m-8.1 1h0m-9.3 4.8h0m3.9 -0.9h0m7.5 1.8h0m13.5 -4.6h0m11.9 1.8h0m14 -0.5h0m0.2 3.6h0m38.6 0.1h0m7.7 -2.1h0m30.2 1.5h0m3.6 -3h0m3.3 1.7h0m0.6 -2.1h0m4.2 -0.8h0m3.5 4.6h0m-11.9 3.3h0m-0.5 0.6h0m-15 1.5h0m-1 -4.3h0m-4.6 4.1h0m-4.4 -3.9h0m-1.8 0.7h0m-0.4 -0.8h0m-0.4 -0.3h0m-1.4 0.4h0m-8 0.6h0m-28.3 0.4h0m-5.4 0.4h0m-2.3 -1.8h0m-7.7 1.2h0m-30.1 0.1h0m-0.2 0.3h0m-1.8 1.8h0m-15.1 7.4h0m8.8 -1.4h0m14.2 -2.1h0m3.4 -1.1h0m1.5 2.3h0m2.8 0.2h0m8 1.5h0m3.9 -0.4h0m9.5 -0.2h0m0.7 0.9h0m9.9 -1.2h0m2.4 2h0m28.6 -5.6h0m0.9 1.2h0m7.9 1.6h0m15.4 2.8h0m20.7 -3.6h0m0.1 8.9h0m-8.2 -1.6h0m-5.3 -3.2h0m-5.1 1.6h0m-16.3 3.4h0m-4.4 -1.2h0m-3.3 -4.2h0m-2.1 5.3h0m-2.9 -1.2h0m-13.7 -1.9h0m-1.1 0.5h0m-9.2 2.8h0m-12.7 -3.8h0m-4.4 3.2h0m-2.6 -4.8h0m-1.6 1.4h0m-0.1 1.3h0m-7.9 -2.8h0m-4.2 3.5h0m-5 0.7h0m-4.2 -3.8h0m-11.2 4.5h0m-8.3 -0.2h0m-0.9 -0.8h0m-0.5 0.7h0m-5.8 0h0m6.3 3.1h0m33 2.1h0m10.1 -2.8h0m1 0.9h0m9.5 1.7h0m19.2 1h0m4.6 -1.6h0m1.5 -2.1h0m21.2 3.8h0m2 -1.6h0m2.3 0.4h0m16.4 -3h0m-15.9 6.4h0m-1.1 1.7h0m-11.5 -1.2h0m-18.8 0.8h0m-2 0.8h0m-8.4 2.8h0m-31.3 -1h0m-13.3 -4.6h0m-15.2 2.8h0m-3.5 0.3h0m-4.7 7.3h0m11.2 -2.1h0m4.7 -1.9h0m0.1 3.4h0m23.9 -2.3h0m15.2 0.9h0m11.6 -0.5h0m2.5 2.5h0m8.9 -3.3h0m22 1.6h0m8.2 -2.2h0m3.8 0.8h0m3.9 3.3h0m23.8 0.6h0m-2.3 1.4h0m-3 2.5h0m-7 -2.2h0m-11.9 4.1h0m-11.8 0.2h0m-2.1 -4.2h0m-0.4 4.1h0m-17.4 -3.6h0m-3.6 2.4h0m-29.3 0.2h0m-4.1 -0.8h0m-1.6 -2.6h0m-0.7 4h0m-3.4 -1.5h0m-0.2 -2.6h0m-1.6 4.8h0m-14.5 -4.5h0m-3.4 2.7h0m-6.6 -2.3h0m-3.2 -1.5h0m-5.4 4.9h0m-5.8 -0.3h0m12.1 5.3h0m24.2 1.8h0m4 0.2h0m9 -3.9h0m7.9 -0.5h0m6.5 2.6h0m8.5 0.1h0m1.5 -1.6h0m14.4 2.7h0m1.1 -0.6h0m0.3 -1h0m0.7 0.2h0m19.9 -0.9h0m5.7 2.2h0m5 -3.2h0m19.2 -2h0m-0.2 7.7h0m-4.4 -0.9h0m-0.2 1.7h0m-27.4 1.8h0m-1.3 0.4h0m-7 -2.6h0m-9.5 -0.1h0m-14.2 1.3h0m-2.1 -2.9h0m-11.9 1.9h0m-11.5 1.6h0m-1 -0.1h0m-4.1 -3.8h0m-0.9 5h0m-3.7 -0.4h0m-20.6 -3.7h0m-6.5 0.8h0m-8 3.1h0m-1.4 2.2h0m6.1 1.8h0m2.5 -0.3h0m7.3 3h0m0.8 0.2h0m4.2 -2.6h0m4.7 -1.8h0m37.7 3.3h0m5.5 -2.7h0m7.8 1.6h0m17.3 1.2h0m2.3 1h0m7.2 -2.9h0m19.7 1.5h0m11.5 7.6h0m-0.6 -5.6h0m-5.2 -0.3h0m-14.1 5.5h0m-42.3 -0.4h0m-17.3 -4.5h0m-12.5 4h0m-1.5 -0.6h0m-16.8 -2.3h0m-6.8 -0.3h0m-6.2 3.2h0m-6.8 -3.8h0m-5 3.8h0m-1.9 -0.5h0m-3.8 4.6h0m15.2 1h0m1 -1.5h0m14.2 -2h0m16.6 2.1h0m5.1 0.8h0m12.6 0.4h0m9.6 -3h0m0 3.2h0m0.9 -1.5h0m14 -1.3h0m15.4 0.7h0m31.4 -0.9h0m1.6 1.6h0"/><path fill="none" stroke="#a898c4" stroke-width="1.8" stroke-linecap="round" stroke-opacity="0.7" d="M66 605.2h0m1.3 -0.2h0m91.4 0.6h0m8.8 5h0m-0.1 0.7h0m-15.9 -1.1h0m-1.4 -3h0m-26.5 2.3h0m-22 -1.6h0m-5.4 2.6h0m-5 -3.7h0m-13.7 3.8h0m-0.6 -3.7h0m-5.4 4.1h0m-3.6 -1.6h0m-0.8 -0.6h0m-10 3h0m-15.3 0.5h0m5.8 2.7h0m8.8 -1.8h0m14.6 -0.3h0m5.9 4.6h0m31 -2.3h0m1.8 -0.2h0m38.1 2.4h0m14.8 -2h0m2.4 -1.3h0m13.7 2.5h0m1.8 -3.6h0m4 6.9h0m-13.8 -1.4h0m-25.8 1.1h0m-6.4 2.1h0m-4.3 1.8h0m-22.7 -4.8h0m-7.6 5.2h0m-3.3 -1.8h0m-3.3 -1.8h0m-9.1 -2.1h0m-4.8 5.3h0m-1.3 -1.8h0m-1.3 1.7h0m-0.1 -4.8h0m-23.5 1h0m-2.5 0h0m16.7 6.4h0m17.8 3.1h0m12.8 -4.2h0m3.7 2.4h0m2.2 -1.3h0m8.1 0h0m7.8 0h0m3 2.2h0m32.9 -2.1h0m1.6 -0.2h0m8.4 1.1h0m8.3 -1.2h0m-11.7 8.1h0m-23.3 -0.1h0m-4.3 -2.8h0m-23.8 2h0m-23.6 0.7h0m-1.5 -2.5h0m-25.5 -0.1h0m-14.5 4.1h0m2.5 3.3h0m6.1 0.9h0m9.3 -1.5h0m26.2 0.7h0m7.1 3.1h0m3.8 -5.4h0m12 4.2h0m14.7 1.1h0m4.7 -1.7h0m0.3 0h0m3.9 -0.6h0m15.9 -0.8h0m4.3 -0.7h0m1.6 -0.6h0m6.5 1.3h0m0.3 -2.1h0m2 -0.2h0m12.7 7.6h0m-8.4 1.3h0m-35.5 1.8h0m-0.8 -1.9h0m-12.6 2.3h0m-9.8 -1.7h0m-7.6 -2.5h0m-1.2 2.7h0m-0.3 1.1h0m-1.1 0.7h0m-21.2 -1.5h0m-14.2 -4h0m-8.6 1.2h0m-10.5 3.6h0m-4.4 -1.9h0m-5.3 5.4h0m6.8 3.1h0m3.4 -1.3h0m0.4 -4.1h0m17.8 4.7h0m3.8 -1.8h0m20.8 -1.3h0m8.9 2.4h0m1.3 -2.7h0m9.2 2.8h0m0.3 0.1h0m11.1 -3.8h0m23.2 3h0m4.3 0.5h0m4.6 0.1h0m6.4 0.1h0m20.3 -3.4h0m-35.3 5.7h0m-15.1 -0.5h0m-8 4.4h0m-7 -4.3h0m-7.6 5.3h0m-1 -1.7h0m-12.6 -1.9h0m-2.2 -0.6h0m-14.7 4.4h0m-4.8 -0.3h0m-3.5 -0.5h0m-11.8 0h0m-3.7 -3.5h0m-1.4 2h0m-11.6 2.2h0m-1.6 -3.3h0m7.9 5.7h0m28.2 -1.6h0m2.2 4.9h0m14.4 -0.4h0m5.9 -0.7h0m3.8 1.1h0m8.7 -4.3h0m16 0h0m4.1 4.4h0m0.3 0.1h0m25.6 -2.1h0m14 -2.6h0m1.5 3.4h0m4.5 5.8h0m-16.2 -2.2h0m-5.7 1.7h0m-2.6 -3h0m-14.9 2.2h0m-0.8 2.1h0m-15.3 -2.6h0m-6 3.5h0m-3.7 -1.6h0m-9.7 -3.4h0m-18.9 3.1h0m-7.6 0.3h0m-6.6 1.4h0m-5.1 -0.1h0m-25.1 -1h0m5.9 3.3h0m3.9 1.2h0m15.3 -0.4h0m9.6 -2.2h0m4.3 4.9h0m2.3 -4.9h0m10.1 1.9h0m26.5 2.6h0m8.6 -0.7h0m2.5 1.9h0m1.9 -4.6h0m4.1 1.3h0m2.7 0.9h0m1.9 1.2h0m29 0h0m5.8 0.9h0m3.8 -1.5h0m2.6 2.5h0m-11.8 3.9h0m-2.8 -0.2h0m-6.8 -1h0m-11.9 0.1h0m-7.8 -1.2h0m-1.7 -1.8h0m-6.9 5.3h0m-0.8 -0.1h0m-16.6 -3.7h0m-37.1 3.9h0m-0.3 -3h0m-14.3 0.6h0m-9.8 -0.3h0m-9.6 -1.2h0m0 3h0m2.8 4.5h0m16.9 0.8h0m5.4 -1.3h0m23.7 -0.7h0m8 3.2h0m3.8 -3.8h0m11.6 3h0m2.4 -0.1h0m4.5 -4.4h0m20.7 4.2h0m5.8 0.8h0m33.3 6.4h0m-0.9 -5.1h0m-0.4 4.6h0m-17.9 0.6h0m-0.9 -1.5h0m-21 0.5h0m-2.9 -1.7h0m-1.9 -1h0m-2.7 2.4h0m-13.9 0.4h0m-5.8 -4.5h0m-13.8 4.1h0m-49.6 -1.5h0m-7.9 4.7h0m42.9 2.3h0m2.3 1.3h0m3.9 -2h0m22.2 -1.6h0m3.3 4.3h0m11.7 -5.2h0m35 1.3h0m8.9 1h0m6.3 4.7h0m-10.1 1.9h0m-3.3 2.4h0m-11.2 -4.5h0m-1 2.7h0m-36.3 -1.1h0m-5.8 -1.7h0m-15.9 1.7h0m-3.4 1.1h0m-2.2 -2.4h0m-1.8 2.5h0m-7.5 -2.4h0m-1.8 0.4h0m-2.5 -0.6h0m-1.1 3.7h0m-17.9 3h0m0.3 3.3h0m0.2 -4.5h0m3.8 2.8h0m1.8 -3.9h0m13.9 4.7h0m26.9 -3.2h0m28.3 -0.2h0m6.5 3.1h0m3.8 -2.9h0m6.3 4.1h0m9.1 -1.2h0m3.1 -3.1h0m15.9 1.2h0m-4 4.3h0m-11.8 1.7h0m-7.5 1.2h0m-0.4 -1.4h0m-30 -2.2h0m-1.1 3.4h0m-2.3 -1.2h0m-3.2 1.1h0m-0.6 2.1h0m-3.2 -5.4h0m-2.7 5.1h0m-16.2 -2h0m-6.5 0.7h0m-1.7 1.9h0m-12.8 -0.2h0m-0.8 -1.7h0m-13.3 -2.6h0m-13.9 10.6h0m19.4 -4.3h0m1.1 2.9h0m11.9 -1.6h0m4.9 -0.5h0m1.2 1.9h0m11.1 -4.2h0m12.9 0.7h0m36.7 4.5h0m11.3 -2.8h0m17.9 -1.8h0m2.9 1.1h0m6.5 0.7h0m-4.4 5h0m-5.7 4.3h0m-11.3 -5h0m-7.2 2.2h0m-2.2 2.8h0m-1.7 -4.3h0m-10.1 1.3h0m-20.6 -0.1h0m-8.4 0.4h0m-1.6 0.1h0m-2.2 -0.6h0m-3.4 -0.4h0m-12.2 3.5h0m-12.6 -2.1h0m0 -0.2h0m-4.4 -2.6h0m-2.1 3.6h0m-9.8 -2.8h0m-3.2 2.6h0m-5 -2.2h0m-0.4 -1.6h0m-9.4 0.3h0m-1.7 3.6h0m-0.7 -1.5h0m-2.1 -1.2h0m2 7.6h0m6.2 -0.9h0m10.2 0h0m4.7 -2.2h0m5 5.5h0m13.3 -4.8h0m9 2.4h0m16.3 -1.5h0m14.4 4h0m26.6 -3h0m2.6 1.8h0m22.7 -1.5h0m3.6 -0.6h0m1.9 1.7h0m-0.4 2.9h0m-3.6 2.8h0m-20.7 1.3h0m-4.9 -1.9h0m-7.9 -0.3h0m-0.3 3h0m-16.7 -0.2h0m-9 -5.3h0m-1.2 0.2h0m-2 3.9h0m-12.4 -2.8h0m-21.7 -0.9h0m-19.4 2.1h0m-14.5 2.8h0m-2.2 -1.9h0m25.4 5.2h0m5.5 -2.6h0m2.8 1.4h0m21 -0.7h0m9.8 2.7h0m19.5 -0.4h0m7.1 -3.4h0m0.9 3.3h0m21.1 0h0"/><path fill="none" stroke="#3e2868" stroke-width="1.6" stroke-linecap="round" stroke-opacity="0.85" d="M78.5 605.5h0m7.3 -0.1h0m95.6 5.8h0m-2.3 -2h0m-1.1 -0.4h0m-2.8 0.3h0m-15.6 -2.9h0m-0.5 5.6h0m-6.3 -1.1h0m-10.1 -4.3h0m-3.9 2.4h0m-1.5 -0.4h0m-8.4 3.3h0m-2.3 -3.3h0m-11.6 2.8h0m-12.4 -0.6h0m-8.7 -4.1h0m-0.4 1.7h0m-0.9 2.1h0m-0.7 1h0m-0.4 -1.8h0m-8.6 1.2h0m-8.8 -0.6h0m-1 -2.4h0m-1.5 3.3h0m-0.1 -1.3h0m-14.4 -3.6h0m-6.1 4.7h0m-0.7 -2.6h0m-2.8 0h0m-2.1 3.2h0m-3.2 1.8h0m7.1 0.9h0m2.2 -0.9h0m4 0.3h0m8.2 2.9h0m2.6 -1.4h0m3.3 -1.8h0m23.3 1h0m4.9 0.7h0m2.4 -2.2h0m1 5h0m13.3 -2.2h0m4.9 0.2h0m1.5 -2.9h0m2 4h0m5.2 0.7h0m3.7 -1.6h0m0.4 -1.3h0m1.8 -2h0m8 0.2h0m2.7 3.2h0m1.1 -1.7h0m0.4 1h0m9 -0.1h0m4.1 1.6h0m0.4 -1.3h0m1.3 -1h0m2.7 -0.2h0m3.5 1.8h0m2.6 -3.9h0m3.5 5.5h0m10.2 5.1h0m-11.1 -1.7h0m-8 1.1h0m-3.2 0.4h0m-8.4 -4.6h0m-2.5 1.1h0m-8 0.9h0m-2.1 3.9h0m-1.6 -0.1h0m-8.2 -3.8h0m-2.3 -1.9h0m-14.2 0.2h0m-3 5.2h0m-4.7 -1.3h0m-3.4 -0.1h0m-4.9 -1.4h0m-2.7 -2.5h0m-9.4 0.2h0m-17.1 4.9h0m-16.9 -1.1h0m-9.9 7.5h0m6.2 -2.1h0m1.7 0.9h0m3.8 -1h0m0.1 -0.8h0m14.3 1.8h0m1.2 -1.2h0m8.1 1.4h0m9.1 -4.3h0m6.2 0.3h0m12.8 1.2h0m3 -1.3h0m2.3 4.1h0m28.8 -2h0m1.4 -0.6h0m12.3 1h0m2.1 2.5h0m0.8 -5.1h0m9.5 1.4h0m5.4 2h0m4.2 -3.5h0m0.4 5.1h0m5.8 -2.8h0m2 -0.5h0m1.3 3h0m-6 3.5h0m-9.9 2.2h0m-5.3 -1.1h0m0 -3.7h0m-1.6 4.4h0m-5.3 -0.8h0m-6.7 -1.2h0m-0.4 -2h0m-2.4 3.8h0m-5.2 0.9h0m-5.5 -0.8h0m-0.3 -2.7h0m-8.6 -1h0m-1.1 4.8h0m-1.2 -3.9h0m-2.8 4.2h0m-1.7 -2.9h0m-4.1 1.5h0m-0.5 -1.6h0m-11.5 -1.7h0m-4.9 4.5h0m-5.7 -5.5h0m-0.2 5.4h0m-2.9 0h0m-6.7 -0.9h0m-35 -1.1h0m-6 -2.7h0m1.8 8.2h0m27.6 0.6h0m4.1 0.3h0m3 -2.3h0m6 2.2h0m2.6 -2.7h0m9 2.6h0m2 0.2h0m0.6 -0.8h0m3.8 0.4h0m12.5 -3.1h0m2.5 4.7h0m0.3 -1.1h0m0.1 1.1h0m11.5 -3.8h0m4.4 2.9h0m3 -2.7h0m3.3 3.5h0m8.4 -5h0m4.4 1.8h0m6.6 1.7h0m1.2 -0.7h0m8.3 -1.4h0m1.2 0.5h0m13.5 7.3h0m-1.5 -0.5h0m-12.3 0.4h0m-0.7 1.3h0m-0.8 -1.9h0m-6.6 2h0m-0.3 -3.6h0m-2.8 4.9h0m-5.5 -5.3h0m-13.8 2.6h0m-2.1 2.1h0m-4.7 -2.2h0m-2.3 2.6h0m-0.3 -3.7h0m-2.1 -1.7h0m-0.2 4.6h0m-10.3 -4.5h0m-13.8 -0.1h0m-2.8 3.1h0m-4.3 -1.6h0m-12.7 -1.2h0m-13.8 1h0m-2.7 -0.1h0m-17.8 3.6h0m-4.7 -4.6h0m9 7.5h0m2.2 1.9h0m9.6 -3.5h0m1.2 0.1h0m20.6 5.5h0m4.8 -5.6h0m0.6 3.7h0m11.5 -2.7h0m7.2 -1.3h0m2.6 4h0m4 0.9h0m9 -0.1h0m0.6 -1.3h0m3.4 -3.4h0m2.3 2.2h0m4.7 3.5h0m9.4 -5h0m0.2 4.1h0m10.4 -3.9h0m0.3 3.2h0m1.4 -2h0m8.4 0.6h0m13.1 -0.9h0m1 4.6h0m-4.4 4h0m-9 -1.3h0m-0.9 2.4h0m-7 0.1h0m-2.3 -2.9h0m-1.7 -1.2h0m-1.5 0.4h0m-4.2 3.9h0m-0.5 -2.6h0m-1.7 0.1h0m-4.3 -0.5h0m-4.4 2.7h0m-7.2 -1.5h0m-3.6 0.9h0m-1.9 0.6h0m-0.3 -4.2h0m-6.9 -0.9h0m-8.2 5h0m-0.8 -3.1h0m-4.5 -0.1h0m-1.5 2.6h0m-14.4 -2.4h0m-8.3 -0.2h0m-0.8 1.6h0m-11.7 -3.5h0m-0.8 4.3h0m-9.3 -2.4h0m-6 1.2h0m-7.3 -0.8h0m-6 2.2h0m2.7 3.4h0m0.3 0h0m0.3 0.3h0m0.7 2.7h0m5.8 -1.6h0m9.3 -1.2h0m5.7 -1.1h0m0.5 4h0m3.3 0.4h0m11.2 -2.3h0m6.9 2.2h0m1.1 0.2h0m7.3 -3.4h0m11.2 -1.2h0m1.1 2.2h0m2.9 1h0m7.5 -3.4h0m1 3.9h0m12.9 -4.3h0m7.9 -0.2h0m1.8 2.5h0m10.7 2.1h0m2.1 -0.9h0m9.9 -4.1h0m5 4.1h0m5.8 -3.5h0m2.9 2h0m3.5 8.3h0m-11.2 -2.3h0m-14.7 0h0m-7.5 0.3h0m-3.1 0.2h0m-6.4 -1.3h0m-5.4 2.1h0m-2.6 -2h0m-1 -2h0m-0.8 3.4h0m-7 -0.7h0m-4.1 0h0m-10.1 0.4h0m-8.8 -2.6h0m-8.2 4.7h0m-13.5 -3.9h0m-3.4 2.1h0m-8.9 0.4h0m-1.5 -3.3h0m-1.3 0.7h0m-2.3 -1.2h0m-10 3.4h0m-0.2 -1.2h0m-0.6 0.6h0m-6.3 7.4h0m21 -1.9h0m24.6 0h0m1.7 1.4h0m6.5 -1.3h0m4.5 1.2h0m4.6 1.6h0m0.5 -1.4h0m0.6 -2.2h0m0.4 -0.4h0m0.2 -0.8h0m3.7 3.4h0m6.5 -3.8h0m5.7 5.7h0m2.2 -1.9h0m18.8 -3.6h0m4.4 5.6h0m4.5 -5.6h0m7.2 1.2h0m21.2 10h0m-11.4 -2.3h0m-4.8 2.6h0m-15.8 -4.4h0m-20.9 -0.9h0m-2.6 -0.1h0m-2 1.2h0m-3.3 4.3h0m-3.2 -1h0m-6.6 -1.8h0m-8.8 0.7h0m-3.3 1.6h0m-0.4 -4h0m-2.6 0.2h0m-0.6 -1.1h0m-0.3 2.4h0m-0.4 0.9h0m-4.5 -3.7h0m-1.7 4.8h0m-1.1 -2.5h0m-0.1 3.1h0m-11.5 -4h0m-5.4 3.9h0m-28.7 6.4h0m0.7 -4.4h0m1.5 3.4h0m12.2 -1.7h0m1.3 0.2h0m6.5 1h0m1.5 -2.6h0m2.3 -1.2h0m0.6 4.7h0m2.1 0.5h0m25.6 -5h0m0.9 1.9h0m15.8 -1.6h0m0.7 -0.8h0m5.1 3.3h0m1.9 -3.1h0m1.9 1.2h0m0.2 -1.4h0m1.7 0.3h0m17.2 0.8h0m3.3 -0.6h0m2.3 4.8h0m0.2 -0.8h0m3.6 -1.6h0m1.1 -0.7h0m7.8 -2.2h0m5 5.1h0m5.7 0.3h0m7 -4.1h0m4.2 1.3h0m-1.9 8.9h0m-0.8 -1.4h0m-3.9 -3.9h0m-2.2 -0.1h0m-2.6 5.1h0m0 -2.1h0m-1.4 1.3h0m-29.9 -0.6h0m-9.8 0.2h0m-2.3 -1.4h0m-6.7 0.3h0m-5.2 1.1h0m-3.3 0.2h0m-1.7 -0.3h0m-12.6 -1h0m-1.5 -2.1h0m-6.7 3.4h0m-12.7 0.2h0m-1.6 -3.9h0m-6.3 3.8h0m-2.9 0.7h0m-4.6 -0.6h0m-1.1 0.5h0m-1.6 -1.3h0m-9 -1.9h0m-1.7 -1h0m-6.3 10.3h0m0.5 -0.9h0m7.1 -1.6h0m5.5 -0.4h0m1.4 1.2h0m3.9 -2.4h0m4 -1h0m16.9 2.6h0m10.6 -0.8h0m0 -0.9h0m3.5 0.7h0m3.4 1.5h0m1.9 1h0m2.9 1.6h0m4.9 -0.1h0m1.5 -2h0m1.4 -2.3h0m6.6 2.1h0m1.3 0.4h0m2.5 -2h0m1 0.1h0m10 2.1h0m13.2 -2.9h0m3.4 2.5h0m6.1 -3.5h0m3.3 2.2h0m4.6 0.4h0m3.9 -1.1h0m4.3 0.3h0m1.2 -0.7h0m0.1 7h0m-4.8 1.5h0m-1.4 0.3h0m-6.7 -2.8h0m-1.2 2.5h0m-3.6 1.3h0m-9.1 -0.5h0m-2.4 -2.9h0m-1.1 4h0m-5.1 -4.3h0m-2 0.7h0m-0.4 -1.7h0m-2.5 2.5h0m-13.1 -2.2h0m-8 0.4h0m-1.5 4.9h0m-3.7 -3.5h0m-8.1 -1.9h0m-0.8 4.2h0m-8.7 -0.2h0m-0.7 -3.7h0m-18.9 1.5h0m-0.6 0.6h0m-16.7 1.2h0m-3.9 0.5h0m-0.9 0.9h0m-3.3 -2.8h0m-1.9 6.8h0m1 0.2h0m5.6 -0.3h0m9 1.7h0m1.3 -0.4h0m2 0h0m3.3 -4.3h0m13.1 4.8h0m13.7 0.2h0m11.4 -1h0m13.6 1.4h0m2.4 -0.6h0m11.4 -0.6h0m0.3 0.2h0m0.2 0h0m7 0.7h0m9.3 -1h0m4.5 -3.1h0m0.9 -1.1h0m6.8 3.7h0m19.6 5.8h0m-0.5 -3.6h0m-24.4 1.7h0m-0.6 0.5h0m-2.9 1.4h0m-1.1 -3.8h0m-1.7 1.3h0m-1.4 4.5h0m-5.2 -2.6h0m-7 1.1h0m-3.2 -0.5h0m-6.7 0.1h0m-1.7 -3h0m-0.2 2.1h0m-5.1 -2.4h0m-0.4 5.3h0m-20.1 -1.8h0m-6.8 -2.2h0m-3 -0.3h0m-1.1 1.8h0m-6.5 -0.9h0m-1.1 -1.7h0m-13 5.1h0m-7.8 -5.4h0m-1.5 0.6h0m-0.5 0.4h0m-4.8 0.7h0m-0.2 -0.5h0m-0.9 -0.6h0m-8.4 6.2h0m1.8 3.7h0m4.7 -0.6h0m0.4 -0.5h0m1.5 -0.8h0m0.5 -2.7h0m10.3 0.1h0m4 1h0m2.2 4h0m2.1 -5.5h0m19.8 3.9h0m7.5 -2.9h0m8.5 1.2h0m7.8 -0.2h0m7.6 -1.2h0m3.8 0.6h0m1.3 -0.9h0m4.9 1.5h0m13 1.8h0m18 0.4h0m6 -3.6h0m1.4 4.2h0m3.6 1h0m7.9 -3.5h0m0.5 4.2h0m-1.2 -0.5h0m-1.1 0.2h0m-3.4 5.7h0m-3.6 -4.4h0m-8.7 -0.7h0m-19.3 4.5h0m-0.5 -3.3h0m-0.4 -0.8h0m-2 1.3h0m-12.1 -1.7h0m-4.4 -0.5h0m-3.1 5.4h0m-2.7 -0.8h0m-11.4 -3.6h0m-6.3 -0.1h0m-6.2 1.9h0m-7.3 0.6h0m-6.9 -3h0m-0.7 3.3h0m-15.3 -4h0m-5.5 1.7h0m-4.4 -1.2h0m-0.6 -0.3h0m-1.5 4.6h0m-5.3 -2.3h0m-3.4 4.3h0m0.9 3.2h0m0.2 1.2h0m1 0.2h0m1.5 -0.7h0m11.3 -3.5h0m15.5 2.1h0m1.3 0.8h0m4.9 -3.8h0m2 2.7h0m0.6 2.2h0m3.5 -1h0m4.5 -1.1h0m3.7 0.8h0m1.8 1.7h0m5.7 -4h0m4.3 0.2h0m0.5 0.1h0m0.2 -1.3h0m8.2 1.2h0m0.7 0.3h0m3.4 0.7h0m2.8 0.3h0m1.6 0h0m19.6 -0.1h0m22.7 2.3h0m2.4 -2.2h0m2.3 -0.3h0m5.3 1.8h0m6 -2.1h0m0.6 -1.9h0m1 0.6h0m-0.2 8.2h0m-4.8 1.7h0m-4.4 -3.4h0m-1.8 2.6h0m-7.1 -3.3h0m-4 2.3h0m-1.2 0.2h0m-4.1 -1.1h0m-0.8 2.9h0m-1.9 0.5h0m-8.3 -3.5h0m-8.4 -1.5h0m-3.1 3.6h0m-0.5 -1.8h0m-8.5 -1h0m-3 -0.1h0m-1.9 0h0m-1.4 3.8h0m-4.1 -3.3h0m-8.9 3.2h0m-4.3 0.7h0m-3.5 -0.9h0m-0.6 -1.4h0m-6.9 1h0m-2 -2.1h0m-6.5 0.1h0m-8.6 1.4h0m-2.9 1.8h0m-2.6 -0.9h0m-0.9 -0.3h0m-0.1 -0.2h0m-11.6 -0.6h0m-1.9 -2.7h0m-8.6 2.6h0m-1.5 2.5h0m3.9 1.8h0m3.1 0.1h0m18.3 0.4h0m2.6 1.4h0m2.8 -2.8h0m10.5 1.7h0m4.6 -0.2h0m0.3 1.3h0m1.7 -3.1h0m2.4 0.4h0m16.6 1.7h0m17.7 -0.1h0m0.8 0.6h0m10 -1.7h0m9.3 -0.1h0m1.9 0.5h0m1.1 -0.5h0m4.1 0.7h0m11.7 -1.7h0m2.8 1.1h0m2.6 2h0"/><path fill="none" stroke="#3e2868" stroke-width="2" stroke-linecap="round" stroke-opacity="0.85" d="M45.2 605.6h0m1.8 -0.2h0m59.9 0.2h0m13.1 -0.4h0m52.7 0.5h0m8.5 5.6h0m-0.1 -2.5h0m-4.8 -2.5h0m-7.4 2.5h0m-32.1 -2.7h0m0 5.6h0m-1.4 -5.4h0m-2.4 3.4h0m-0.5 -2.5h0m-0.8 3.5h0m-0.2 -2.5h0m-1.4 -2.1h0m-3.9 2.5h0m-8.9 -1.4h0m-4.5 4.6h0m-7 -1.6h0m-1.1 1.2h0m-1.7 -3.6h0m-5.7 -0.8h0m-23.4 -0.1h0m-8.6 2h0m-13.6 -1.1h0m-5.3 0.8h0m-3.8 -0.6h0m2.8 7.5h0m1.3 -1.3h0m5 0.2h0m9.9 2.9h0m2.1 -0.8h0m1.4 -4.5h0m6.3 3.1h0m19.6 -1.9h0m0.3 1.6h0m15.3 1.1h0m23.5 -0.9h0m8.8 2h0m9.7 -0.8h0m2.4 -3.3h0m10.6 4h0m2.5 -3.6h0m3 0.9h0m8.7 -1.8h0m3.3 5.3h0m2.5 -1.6h0m1.6 6h0m-6.4 1.8h0m-7.4 -4.8h0m-2.3 0.3h0m-7.9 2.7h0m-8.4 -1h0m-5.2 2.5h0m-2.4 -0.3h0m-3 -4.2h0m-3.6 3.6h0m-13.6 -4.1h0m-7.3 2.8h0m-1.6 0.1h0m-5.1 -1.5h0m-1.5 -0.4h0m-1.3 0.9h0m-2.9 -1.7h0m-0.2 0.1h0m-18.2 2.8h0m-0.8 1.3h0m-21.4 -0.9h0m-0.8 -2.8h0m-0.4 0.7h0m-18.8 2.7h0m-1.5 -0.2h0m10.9 3.7h0m0.8 -1.1h0m1.4 3.6h0m2.5 -4h0m2.7 4.1h0m2.6 -4.6h0m5.1 5.5h0m2.8 -3.4h0m2.5 -0.4h0m2.7 -0.5h0m0.6 -0.2h0m1.4 1.3h0m0.3 3.4h0m4 -1.5h0m3.5 -3.2h0m11.8 -0.5h0m8.3 3.9h0m12.1 -3.9h0m10.1 3.2h0m2.2 1.9h0m7 -0.5h0m12.8 0.4h0m17.9 -5.6h0m5.9 1.2h0m2.8 1.2h0m1.8 -2.3h0m3.1 0.9h0m4.1 0.7h0m-0.1 4.8h0m-3 3.7h0m-10.9 -3.2h0m-3.9 0.1h0m-4.9 -0.2h0m-4.2 0.3h0m-1.5 -0.6h0m-19.6 4.7h0m-2.7 -4.7h0m-28.8 -0.5h0m-0.3 0.3h0m-2.2 1.1h0m-4.1 -1.6h0m-5 5.8h0m-4 -1.9h0m-4.4 -3.1h0m-8.4 2h0m-2.1 -0.7h0m-14.7 0.8h0m-3.1 1.5h0m-0.4 0h0m-2.1 -1.7h0m-1.1 1.6h0m-0.8 1.3h0m-2.8 -3.7h0m0 -1.9h0m-8.1 8.1h0m2.8 -1.5h0m3.4 4.1h0m9 0.2h0m2 -3.2h0m12.1 1.2h0m5.6 2.2h0m6.9 -4.4h0m5.4 2h0m13.6 -0.2h0m11.1 -1.5h0m2.5 2h0m3.4 2.9h0m4.2 -5.8h0m1.4 2.9h0m22.6 2.1h0m26.2 -4.4h0m3.3 4.9h0m1.4 -1.3h0m4.8 1.1h0m-13.7 5.3h0m-0.1 -1.4h0m-5.3 -1.5h0m-4.3 -0.6h0m-1.5 3.4h0m-6.6 -3h0m-3.1 -1.5h0m-17 5.3h0m-0.3 0.2h0m-13.4 -1.7h0m-0.4 -3.5h0m-11.4 4.3h0m-6 -2.3h0m-1.4 2h0m-3 0.5h0m-2.3 -3.6h0m-6.2 0.3h0m-15.7 3.6h0m-8.1 -0.3h0m-8.3 -1.3h0m-2.5 0.9h0m-0.2 -0.1h0m-0.1 -2.9h0m-8.1 -0.2h0m3.5 7.5h0m0.5 -2.7h0m1.2 0.9h0m3.1 2.3h0m2.8 -1h0m0.9 -1.3h0m12.1 1.9h0m15 3h0m2.7 -2.3h0m4.5 0.4h0m4.8 -3.6h0m5.6 1.7h0m1.7 0.3h0m7.1 3.1h0m2.6 -3.7h0m0.8 3.8h0m10.3 -3.1h0m9.4 1.6h0m3.7 -4.1h0m1.6 3.4h0m2.6 -3.3h0m3 3.1h0m15.3 -2.4h0m1.2 -0.1h0m3.8 1h0m0.2 3.6h0m12.6 -2h0m3.2 1.5h0m0.8 -4.5h0m0.5 0.2h0m0.5 2.2h0m0.1 -1.9h0m0.8 4.6h0m0.1 -4.6h0m-1.7 8.1h0m-11.8 -1.4h0m-2.3 3.2h0m-4.6 -3.3h0m-21.3 0.6h0m-0.6 1.8h0m-0.1 -1.4h0m-9.8 1.9h0m-4.3 -3.9h0m-4.8 1.4h0m-3.3 0.9h0m-14.2 -1.3h0m-0.5 4.5h0m-1.5 -0.7h0m-8.4 -1.2h0m-11.6 -0.5h0m-0.6 1.8h0m-2 -4h0m-12 4.4h0m-1.9 -2.5h0m0 0.6h0m-0.3 -1.2h0m-2.7 -2.6h0m-10 4.5h0m-2.8 -1.2h0m-4.8 1h0m-2.2 -3.6h0m12.9 9.9h0m1.9 -0.2h0m9 -3.9h0m3.1 3.1h0m9 -0.3h0m0.1 -1h0m2.3 -1h0m5.1 1.8h0m4.2 1.8h0m12.8 -0.5h0m7.1 -2.6h0m8 2.3h0m5.2 -3.4h0m18.3 2.1h0m13.7 0.4h0m0.1 -2.1h0m10.8 -1h0m3.5 2.9h0m4.1 1.7h0m-2.2 4.3h0m0 -0.3h0m-5.3 0.9h0m-3.6 -2h0m-2.6 0.8h0m-19.8 -1.2h0m-2.2 0.9h0m-1.3 2.7h0m-3.6 -2.2h0m0 -0.5h0m-2.3 2h0m-18.8 -2.4h0m-2.4 2.2h0m-0.3 1.9h0m-15.6 -1.6h0m-2.8 1.2h0m-25.3 -4.3h0m-3.3 3.8h0m-3.6 -3h0m-0.7 1.4h0m-5 -2.5h0m-3.4 5.1h0m-4 -1.4h0m-0.5 -0.7h0m-1.9 1.1h0m-0.6 -2.2h0m-1.7 -0.3h0m2.4 7.5h0m2.4 1.3h0m5 -1.4h0m9.9 -3.8h0m11.9 2.3h0m1.3 -1.2h0m1.4 0h0m1.5 -1h0m12.4 2.2h0m0.6 -1.2h0m4.8 0.9h0m16.7 1.3h0m4.6 -0.7h0m0.7 1.1h0m2.2 -2.2h0m4.4 -0.7h0m3.3 4.4h0m5.7 -4.4h0m0.2 0.4h0m2.2 3.5h0m10.7 1.1h0m11.3 -2.2h0m0.1 -0.8h0m11.5 0.5h0m2.7 -0.6h0m5.6 3.2h0m4.3 4.3h0m-4.3 -3.4h0m-13.2 1.5h0m-4.7 -0.8h0m-4.6 1.1h0m-1.5 1.7h0m-13.2 0h0m-15.8 0h0m-9.8 -1.2h0m-13.6 0.1h0m-21.7 -1h0m-0.8 -2.1h0m-7.2 5.5h0m-1.6 -1.5h0m-0.1 1.5h0m-5 -4.7h0m-11.5 2.4h0m-5.5 -2.3h0m-4.7 7.6h0m15.1 3h0m2.4 -1.5h0m13.9 0.2h0m13.1 -3.4h0m18.8 3h0m8 -1.9h0m0.5 0.6h0m1.1 0.4h0m0.1 -0.3h0m2.8 -2.1h0m11.7 2.7h0m3.6 -2.2h0m9.7 0.2h0m0.4 3.8h0m0 -2.4h0m5.8 -1.6h0m2.5 -0.9h0m0.9 4.7h0m16.1 0.9h0m14.3 -1.6h0m-0.4 6.8h0m-1.5 -3.2h0m-0.2 4.1h0m-1.4 -0.4h0m-16.7 -0.1h0m-0.9 -4.3h0m-16.7 -0.3h0m-0.7 0.3h0m-17.3 1.9h0m-11.2 -1h0m-5.8 -0.3h0m-0.1 0.4h0m-0.6 3.4h0m-0.8 -5.5h0m-3 1.6h0m-3.7 4h0m-0.5 -0.2h0m-16.6 -4.1h0m-6 -1h0m-13.2 1.6h0m-2.9 -1.1h0m-7.3 4.2h0m-3.2 -1h0m-3.6 0.7h0m-0.3 -3h0m-2 -1.1h0m-1.7 5h0m-2.2 0.1h0m6 5.6h0m0.1 -0.9h0m1.8 -3.1h0m9.5 -1.2h0m0.4 3.6h0m1.6 0.1h0m9.8 -3.7h0m0.1 1.7h0m1.4 0h0m9.1 -1.7h0m6.6 4.1h0m0.4 -0.7h0m0.7 -2.4h0m2.8 0.4h0m15.7 3.1h0m3.5 0.3h0m6.1 -0.7h0m0.7 -1.8h0m4.3 2.7h0m4.8 -2.3h0m1.3 -2.4h0m6.4 0.4h0m3.2 0.6h0m0.3 -0.7h0m0 4.6h0m2.3 -1.2h0m5 -4h0m3.7 5.3h0m0.1 -3.2h0m1.8 2h0m3.5 -0.8h0m5.3 -0.2h0m2.7 -0.3h0m1.3 2.1h0m2.9 -2.5h0m3 -0.5h0m2.4 1.1h0m3 -2.6h0m3.8 3.7h0m2.9 -3.6h0m-3.5 10.5h0m-0.6 -1.2h0m-3.6 -0.1h0m-5.4 -2.8h0m-6.4 0.2h0m-7.5 1.8h0m-5.7 0.7h0m-5.1 0.5h0m-5.7 -0.5h0m-1.5 -1.7h0m-4 2.1h0m-0.6 -1.8h0m-0.3 3.6h0m-20.6 -0.1h0m-2.4 -4h0m-5.5 1.4h0m-3.2 0.1h0m-1.4 2.5h0m-9 -4.1h0m-2 3.8h0m-5.4 -0.3h0m-0.1 -1.8h0m-5.4 -2.2h0m-2.9 3.4h0m-0.3 -0.7h0m-3.8 1.4h0m-18.4 -4.3h0m-1.2 4.2h0m-1.4 -3.2h0m-7.7 0.8h0m-0.6 8.7h0m3.4 0.2h0m4.7 -2.9h0m10 -2.2h0m6.7 2.6h0m0.2 0.7h0m2.8 -0.7h0m1.6 -3h0m0.1 2.4h0m16.8 2.3h0m18.8 -3h0m4.6 0.5h0m1 1.5h0m5.1 -0.3h0m5 -3.5h0m1.8 4.8h0m2.5 -0.8h0m7.6 0.1h0m20.5 -0.7h0m5.7 -1.7h0m4.4 0.6h0m2.5 -0.2h0m2.7 3.2h0m14.8 5.5h0m-0.6 -0.1h0m-3.8 -2.9h0m-5.5 3.2h0m-20 -0.7h0m-6 -3h0m-15 4.2h0m-1.2 -4.1h0m-0.9 2.2h0m-0.4 -0.2h0m-5.6 -1.8h0m-9.8 -1.7h0m-23.9 5.4h0m-0.1 -4.5h0m-10.1 5h0m-1.7 -0.1h0m-1.3 -5.4h0m-2.9 4.5h0m-6.5 -2h0m-4.3 0.4h0m-0.2 0.4h0m-4.7 -1.5h0m-0.9 2.7h0m-2.8 -1.3h0m-10 0.8h0m-2.2 3.5h0m18.6 2.8h0m21.5 -2.6h0m0.6 0.9h0m13.2 -3h0m4.3 3.6h0m1.7 -1.3h0m7.4 -1.2h0m14.5 3.3h0m1.4 -2.9h0m2.7 4.1h0m4.8 -3.8h0m1 3.4h0m6.6 0h0m8.7 -1.8h0m15.1 -0.2h0m3.7 -2.2h0m10 2.5h0m4.1 -0.9h0m-2.5 9.2h0m-2 -3.6h0m-3.6 1.5h0m-11.5 0.2h0m-2.8 -3.2h0m-1 -0.4h0m-10 2.5h0m-6.8 1.7h0m-1.1 -3.4h0m-7.8 3.5h0m-0.1 -1.9h0m-6.2 -2h0m-6.6 4.6h0m-4.1 -1.3h0m-3.8 1.9h0m-12.1 -0.6h0m-12.2 -2.9h0m-0.4 -1.6h0m-5.3 1.3h0m-5.9 2.7h0m-0.8 -2.2h0m-2.1 1h0m-12.1 -1.6h0m-0.5 -1.2h0m-13 1.6h0m-6.5 5.1h0m0.3 0.6h0m6 -0.8h0m0 -0.5h0m0.5 2.5h0m10.5 -0.5h0m15 -1.8h0m6.5 3.3h0m6.1 -0.8h0m2.2 -2h0m9 -0.4h0m0.1 1.1h0m2.5 1.7h0m1.4 -0.8h0m0.4 -2.7h0m0.9 3.4h0m8.5 -1.6h0m0.6 -0.2h0m3.2 1.5h0m6.3 0.1h0m1.4 1h0m4.9 -3h0m1 1.9h0m0.6 -0.7h0m1.6 1.7h0m1.2 -2h0m2.3 -2.5h0m5.2 2.8h0m3.3 -2.2h0m8.5 4.2h0m5.2 -3.6h0m1.7 -0.4h0m3.9 3.3h0m14.8 -4.1h0m4.6 3.3h0m0.4 2.8h0m-9.8 3.8h0m-1.6 -3.4h0m-7 2.6h0m-0.5 1.6h0m-2.3 -3.2h0m-0.2 2.8h0m-3.5 1.4h0m-16.6 -0.9h0m-4.4 1h0m-0.2 -5h0m-1.8 0.9h0m-0.3 0.6h0m-14.7 3.1h0m-5.5 -3.7h0m-0.3 3.8h0m-2.1 -2.1h0m-3.1 -1h0m-2.7 -1.3h0m-3.2 3.5h0m-9.6 -2.2h0m-1.8 0.9h0m-1.3 -3.2h0m-4 5.2h0m-0.6 -0.9h0m-1.2 0.3h0m-5.1 -2.4h0m-17.8 -1.1h0m-5 2.5h0m-1.4 0.8h0m-0.7 -4.5h0m-12.1 4.5h0m-1.4 4h0m5.6 -1.1h0m7.1 -1.1h0m0.3 1.7h0m12.2 -0.8h0m4.5 1.2h0m14.7 -1.5h0m1.6 -0.1h0m3.4 0.1h0m6.6 0.4h0m2.6 -1.2h0m0.9 2.1h0m12.3 0h0m6.1 -1.9h0m14.8 2.4h0m36.6 -0.4h0m2.3 1.4h0m8.2 -1.7h0"/><path fill="none" stroke="#3e2868" stroke-width="2.4" stroke-linecap="round" stroke-opacity="0.85" d="M43.4 605.6h0m2.9 -0.3h0m42 0.1h0m43.5 -0.3h0m41.1 1.3h0m-0.8 1.4h0m0 1h0m-7 -2.1h0m-2.7 2.8h0m-4 -2.9h0m-11 2.5h0m-6.1 1.7h0m-14.5 -0.4h0m-4 1.4h0m-22 -2.8h0m-1.5 -1.7h0m-4.8 3.3h0m-0.9 -2.8h0m-3.1 -1.8h0m-0.6 5.1h0m-24.1 -4.1h0m-6.5 0h0m-2.2 -0.6h0m-0.8 3.9h0m-12.3 -1.4h0m-1.1 0.5h0m-0.6 1.2h0m16.8 7h0m2.9 -4h0m2.1 1.2h0m0 -0.2h0m0.4 -0.6h0m8.3 -1.1h0m11.9 1.6h0m13.8 0.7h0m3 -0.6h0m0.4 -0.1h0m1.8 3.1h0m0.7 -5.2h0m3.8 0.7h0m9.7 4.8h0m2.6 -5h0m9.4 -0.7h0m3.9 5.6h0m11.6 -1.2h0m11.7 -2.3h0m5.1 -0.5h0m1.1 3.8h0m3.1 -0.2h0m16.8 3.8h0m-6 1h0m-1 -3.1h0m-9.7 -0.8h0m-0.4 1.8h0m-7.4 -0.9h0m-7.2 0.6h0m-0.8 2.9h0m-0.3 1.1h0m-11.2 -2h0m-1.3 2.1h0m-10.7 -5.6h0m-6.3 5.3h0m-4.5 -2.8h0m-8.6 -0.9h0m-0.8 0.3h0m-12.8 -0.4h0m-6.8 2.3h0m-1.8 -1.6h0m-1 -1.7h0m-6 0.1h0m-1.6 4.4h0m-3.9 0h0m-4 -0.4h0m-2.7 -3h0m-8.9 2.3h0m-9.3 -4.2h0m-6.4 7.9h0m1.2 1.4h0m4.8 2.5h0m1.5 -0.1h0m4.1 -1.3h0m0 -0.5h0m1.1 -2h0m0.4 1.1h0m2.9 0.5h0m1.6 -0.7h0m3.6 -0.7h0m1.2 3.6h0m1.3 -4.5h0m1.8 -0.2h0m5.3 0.8h0m1.1 1.6h0m3.7 -2h0m0.2 0.6h0m0.9 0.2h0m1.1 2.1h0m0.1 -3.6h0m2 2h0m0.8 -2.1h0m14.3 1.6h0m3.1 -2.2h0m1.6 2.8h0m7.6 1.6h0m5.1 1.2h0m0.6 -3.2h0m3.8 -1.5h0m0.3 2.7h0m1.3 1.9h0m9.2 -0.1h0m5.8 -4.2h0m0.5 3h0m1.4 0h0m1 1.1h0m0.2 0.1h0m4.5 0h0m10.5 -4.2h0m4.1 4.1h0m10.3 -3.7h0m4.9 -1.1h0m2.4 0.7h0m3.8 4h0m4 1h0m-5.1 2.9h0m-0.5 -2.6h0m-1.6 2.7h0m-5.6 1.3h0m-0.6 -3.7h0m-4.6 2.9h0m-0.2 -1.6h0m-8.4 -0.6h0m-2.6 1.9h0m-5.6 0.9h0m-7.8 0.1h0m-6.8 0.7h0m-3.9 -0.7h0m-2.5 0.9h0m-3 -2.2h0m-10.7 0.7h0m-0.2 1.1h0m-0.6 -1.8h0m-7.2 -1.5h0m-1.3 1.9h0m-15.5 0.2h0m-2 0.9h0m-8.3 -4h0m-6.5 0.8h0m-3.1 -1.3h0m-20.7 1.9h0m-3 0.3h0m-2 0.6h0m-1.4 -0.3h0m26.9 8.6h0m3 -0.1h0m1.2 -2.3h0m2.6 -2.2h0m17 0.1h0m1.6 2.9h0m0.8 0.1h0m2.2 -0.1h0m5.8 0.2h0m4 0.9h0m0.5 -1.4h0m0.7 -2.8h0m5.6 4.7h0m3 -0.6h0m3.9 -2.7h0m11 -1.3h0m0.6 4.5h0m11.5 0.2h0m10.4 -1.4h0m0.8 -0.7h0m4.3 2.3h0m5.6 -2.7h0m3.8 -1.5h0m7.9 0.1h0m0.7 -0.4h0m0.3 4.6h0m6 -5.1h0m-18.8 9.5h0m-9.5 -2h0m-0.7 3.9h0m-1.8 -1.2h0m-2.7 -2.3h0m-0.3 0.6h0m-13.3 -2.3h0m-0.1 4.6h0m-0.9 -3.9h0m-8.4 4.1h0m-6.3 -0.5h0m-8.9 -2.1h0m-1.8 -1.6h0m-9 0.9h0m-1.2 2.8h0m-0.9 -3.2h0m-1.9 2.4h0m-1.5 -3.8h0m-0.1 3.5h0m-4.7 -1.7h0m-3.8 0.6h0m-0.5 2.7h0m-2.8 -4.2h0m-12.4 1.3h0m-9.2 1.1h0m-5.7 -2.2h0m-3.1 0.2h0m-5.6 -0.3h0m-2.8 5.3h0m16.3 4.6h0m35.9 -3.3h0m6 2.4h0m4.7 -1h0m4.1 -2.2h0m3.9 0.9h0m4 0.2h0m11.3 3h0m4.5 -2.2h0m6.3 1.3h0m4.3 -2h0m0.8 -1.3h0m3.4 -0.6h0m0.2 3.8h0m10.8 1.4h0m5.6 0.1h0m5.8 -4.2h0m1.1 4.2h0m4.5 -3.9h0m0.3 1.2h0m1.1 -2.2h0m5.4 7h0m-6.3 1.6h0m-2.9 -2.2h0m-16.3 1.2h0m-3.9 -0.3h0m-3.3 1.5h0m-0.9 -1.3h0m-8.3 -1.7h0m-3.5 -0.6h0m-1.4 1.8h0m-0.2 3.8h0m-0.5 -3.1h0m-5.6 -0.1h0m-3.3 3.1h0m-8.7 -1.4h0m-0.4 -2.9h0m-9.3 0.4h0m-0.9 1.3h0m-6.8 1.5h0m-10.3 -1.7h0m-13 0.2h0m-15.8 -0.3h0m-3.4 0.8h0m-0.1 -2.7h0m-13.8 2.7h0m-2.1 0.6h0m-1.6 -3.2h0m-0.8 0.1h0m7.3 9.3h0m3 -3.7h0m6.4 3.9h0m3.1 -4.2h0m2.1 1.2h0m2.4 1.8h0m8.7 -2h0m4 3.9h0m3.5 -1.1h0m0.5 -3.2h0m1.9 -0.8h0m0.5 2.7h0m5.3 -0.3h0m15 -0.3h0m1.1 0.4h0m2.2 1.1h0m2.4 1.3h0m2.6 -4.2h0m5.7 0.9h0m1.6 3.7h0m1.3 -3.2h0m5.5 3.4h0m3.7 -0.9h0m9.4 -3.2h0m10.3 1h0m1.9 1.3h0m2.6 -1.1h0m3.2 -0.3h0m1.1 1.3h0m3.9 1.4h0m1.8 -1.4h0m2.9 -2.5h0m4.4 1h0m12 7.7h0m-3.3 -2.5h0m-10.2 0.1h0m-25.2 0.4h0m-5.4 -1.2h0m-1.8 3.3h0m-5.2 1.4h0m-2.9 -3.1h0m-1.3 -1.2h0m-0.2 -0.3h0m-1.2 2.8h0m-2.8 0.3h0m-7.3 -2.1h0m-5.1 2.7h0m-12.9 -3.6h0m-10.4 3.3h0m-2.3 0.8h0m-8.1 -0.9h0m-5.4 0.3h0m-5 1.3h0m-1.7 -2.3h0m-6.4 -2.9h0m-1.2 0.2h0m-5.2 3.1h0m-1.2 -1.4h0m-7.2 7.2h0m9.2 -2h0m15.2 -0.8h0m2.2 4.3h0m6.4 0.2h0m3.1 -1.9h0m0.2 1.7h0m2.4 0.7h0m0.5 0.1h0m1.9 -1.1h0m7.1 -3h0m0.5 3h0m5.3 -1.4h0m16.7 0.9h0m4.3 -2.5h0m1.5 0.7h0m9.5 1.2h0m3.4 0.3h0m1.8 1.1h0m1 0.5h0m0.2 -3.8h0m3.9 -1.7h0m2.5 2.9h0m13.1 2.4h0m10.8 -5.4h0m3.6 2.1h0m12 6.5h0m-3.1 1.6h0m-0.5 0.4h0m-5.8 -4.4h0m-3.7 2h0m-2.2 2.7h0m-4.1 -3h0m-0.4 0.1h0m-6.6 3.4h0m-5.6 0.1h0m-0.7 -0.4h0m-0.4 -2.3h0m-5 1.2h0m-0.9 1.4h0m-4.5 -5.4h0m-22 3.2h0m-4.8 2.7h0m-4.6 -4.8h0m-0.4 0.5h0m-6.4 -0.1h0m-4.7 2.9h0m-3.8 -4.1h0m-2.1 2.1h0m-4 -1.5h0m-3.7 -0.1h0m-1 2h0m-0.2 -0.4h0m-3 -2.3h0m-6 1.7h0m-1.3 1.7h0m-3.2 2.1h0m-0.1 -3.3h0m-3.2 0.7h0m-1.3 1.1h0m-10.2 1.3h0m-5 -4.5h0m-0.4 1.5h0m0.4 7.8h0m1.9 -2.2h0m11.5 -0.7h0m1.5 2.7h0m2.2 1.4h0m6.4 -0.9h0m8.5 -1.3h0m8.3 2.7h0m9.6 -5.3h0m17.2 0.6h0m5.9 1.9h0m9.9 2.2h0m0.5 -2.1h0m1.9 -0.6h0m0.6 -0.7h0m3.3 -0.2h0m2.7 -1.5h0m6.7 2.1h0m0.9 -0.4h0m7.7 4h0m0.1 -3.1h0m6 -2.3h0m8.7 1.1h0m3 4.3h0m4.6 -5.4h0m3.3 4.3h0m0.2 0.2h0m2.1 4.7h0m-6.2 0.1h0m-7 -2.7h0m-10.3 2.5h0m-3.1 2.3h0m-5.1 -4.6h0m-2.9 1.6h0m-3.7 1.1h0m-16.1 -3.9h0m-2.5 1.3h0m-3 3.9h0m-6.6 -3.5h0m-3.7 3.4h0m-1 -1.9h0m-8.2 -0.3h0m-1.2 -1.6h0m-18.3 3.7h0m-1.8 -1.4h0m-10.4 2.1h0m-6.4 -0.1h0m-0.3 -3h0m-2.6 2h0m-14.3 -1.9h0m-2.3 0.9h0m-1 2.6h0m4.9 3.3h0m4.4 0.6h0m5 -0.5h0m3.9 -1.3h0m0.9 -2.1h0m0.8 3.8h0m1.1 -2.7h0m0.8 1.8h0m2.1 1.3h0m13.9 -0.8h0m13.6 1h0m6.8 0h0m30 -0.2h0m4.3 -3.7h0m3.5 4.6h0m2.6 -0.8h0m2.1 0.1h0m4.2 -2.8h0m0.3 3.5h0m0.5 0.1h0m2.4 -3.8h0m7 -1.4h0m1.4 0.7h0m7.9 4.1h0m2.6 -1.9h0m1.8 -0.8h0m2.1 2.9h0m4.4 -0.7h0m1.6 -3.2h0m-6.7 5.7h0m-4.1 0.9h0m-0.8 -1.6h0m-5.2 4.8h0m-5.6 -4.6h0m-9.1 3.9h0m-2.5 -2.7h0m-17.4 -1.3h0m-2.5 0h0m-3.8 4.8h0m-3.4 -4.1h0m-3 4.6h0m-12.2 -2.3h0m-19.8 -2.2h0m-9 0.5h0m-2.4 3.7h0m-1.8 -4.6h0m-9.4 2.6h0m-1.2 1h0m-10.6 -1.4h0m-0.5 -1.9h0m-4.5 1.7h0m-5.1 3h0m0.3 4.2h0m1.3 -1.8h0m2.2 -0.6h0m0.4 1.2h0m2.4 -2.4h0m2.8 4.1h0m15.8 -2.1h0m2.9 -1.2h0m13.6 1.7h0m10.8 -2.1h0m3.8 3.6h0m4.8 -3h0m20.2 -1.1h0m0.4 -0.4h0m10.1 5.3h0m4.7 -0.9h0m7.2 0.4h0m0.6 0.4h0m5.3 -4.1h0m6.7 0.9h0m0.4 1.7h0m0.8 1.7h0m5.2 -5.4h0m6.8 5.9h0m3.4 -5.3h0m2.9 1.1h0m2.1 -1.1h0m3.3 -0.6h0m-2.2 8.6h0m-4.7 2.9h0m-8.6 -1.3h0m-5.6 0.5h0m-0.3 -2.1h0m-4 1.5h0m-10.1 0.4h0m-5.1 -0.3h0m-7.1 -2h0m-9.4 -1.4h0m-7.1 2.8h0m-1.7 -1.1h0m-5.8 -0.3h0m-1.4 -0.5h0m-0.7 2.5h0m-3.8 -4h0m-0.5 0.4h0m-0.8 3h0m-5.7 -2h0m-3.1 3.2h0m-6.5 -2.3h0m-18.3 -0.6h0m-5.1 2.5h0m-0.2 0.9h0m-5.2 -5.1h0m-17.3 2h0m-1.4 2h0m3 3h0m0.4 3.1h0m1 -1.1h0m6.7 1.2h0m4.7 -3.2h0m16.2 4.2h0m7.4 -4.4h0m2.2 1.9h0m2 -2.4h0m0.8 0.4h0m3.1 1.6h0m12.1 2h0m1 -2.1h0m5.3 2.4h0m1.6 -0.4h0m0.6 0.8h0m0.8 -0.8h0m1.5 1.3h0m5.6 -0.9h0m13 0.3h0m12.4 -3.3h0m1.9 -0.6h0m1.3 -0.4h0m11.3 2.4h0m1.5 2.6h0m8.9 -1.8h0m2.3 1.2h0m0.8 -3.2h0m3.8 3.1h0m1.1 -4.6h0m5.5 4.9h0m1.9 -0.5h0m0.6 -1.1h0m-3.6 8h0m-8.6 -4.9h0m-5.2 -0.2h0m-9.8 1.1h0m-1.5 2.6h0m-4.4 -2.7h0m-2.3 0.8h0m-10.1 -1h0m-29.4 -1h0m-0.4 0.1h0m-0.7 3.5h0m-16.2 -2.3h0m-5.5 3.5h0m-5.9 0.4h0m-13.8 -1.6h0m-2.8 0.2h0m-4.2 -3h0m-0.9 3.8h0m-11.1 5.1h0m2.9 -4.1h0m7.9 3.6h0m11 1.1h0m5.3 -3.7h0m4.4 2.2h0m2.1 -0.4h0m5.5 -0.9h0m4.4 0.2h0m3.7 3.5h0m3.2 -2.8h0m12 -2.7h0m10.3 2.9h0m19.7 1.3h0m2.7 0.4h0m4.4 -2.3h0m0.7 -2.3h0m7.5 0.2h0m0.1 2.2h0m6.5 1.7h0m5.8 -0.5h0m4.6 -1.4h0m5 1h0m4.5 0.7h0m1.4 -2.4h0m0.4 2h0m-8 7.3h0m-1.2 -2.6h0m-3.8 -0.2h0m-3.4 2.5h0m-11.7 -4.2h0m-0.4 4.1h0m-8.5 -3.4h0m-3.7 -0.2h0m-0.6 4.7h0m-4 -2.8h0m-14.5 2.8h0m-7.3 -5.2h0m-2.2 3.3h0m-3.8 -1.2h0m-9.7 3h0m-5.1 -5h0m-5 0.5h0m-3.9 3h0m-14.2 -0.8h0m-3.2 -0.1h0m-0.5 2.3h0m-1.4 -1.3h0m-26.2 1.5h0m3.4 1.6h0m8.8 0.8h0m13.1 -0.9h0m1.7 -0.7h0m0.5 0.7h0m0 0.2h0m37.2 1.6h0m27.8 -2.1h0m10.8 1.7h0m0.9 -1.8h0m5.9 0.2h0m6.1 0h0m13.9 -1h0m1.3 3h0m10.5 -0.6h0"/><path fill="none" stroke="#34388a" stroke-width="1.6" stroke-linecap="round" stroke-opacity="0.75" d="M147.9 605.9h0m21.9 -0.1h0m14.8 -0.4h0m0 5h0m-21.5 0.6h0m-17.3 -1.2h0m-7.4 -1.2h0m-9.2 2.2h0m-3.8 -1.2h0m-0.2 -3.3h0m-3.5 3h0m-8.9 -1.8h0m-4.3 2.4h0m-15.8 0.5h0m-0.1 -1.2h0m-8.8 1.8h0m-0.6 0.7h0m-2.3 -0.8h0m-0.6 -1.8h0m-27.4 1.6h0m-9.6 7.2h0m8.9 -3.6h0m8 1.8h0m17.4 0.4h0m3.9 -0.3h0m7.6 -2.2h0m17 0.7h0m3.8 1.7h0m37.5 -1.7h0m36.6 3.2h0m-2 0.3h0m-14.3 0.1h0m-1.1 3.3h0m-2.1 1.4h0m-8 0.5h0m-5.3 -5h0m-16.3 1.4h0m-13.2 1.2h0m-3.4 0.5h0m-13.3 -0.5h0m-12.1 -0.4h0m-13.4 -1.5h0m-26.9 9.5h0m0.2 -1.1h0m13.3 -0.8h0m8.1 3.1h0m1.1 -1.5h0m15 -2.6h0m2.7 0.1h0m1 0.7h0m4.9 0.7h0m1.2 -1.7h0m42.6 -1.2h0m6 1.9h0m7.1 3.6h0m0.3 -4h0m5.5 2.7h0m2.7 -4.1h0m1 2.8h0m19.4 -0.7h0m0.1 1.9h0m-1.5 2.9h0m-0.2 2.1h0m-3.9 -2.1h0m-0.1 -0.4h0m-11 1.6h0m-7.4 1.6h0m-17.1 1.6h0m-3 -4.7h0m-19.2 4h0m-5.3 -0.2h0m-10.2 -1.4h0m-1.5 0.8h0m-31.7 -0.6h0m-5.2 0.2h0m-0.4 -0.9h0m-1.5 -1.4h0m-16.6 6.6h0m20.9 3.4h0m6.1 -2.8h0m13.3 2.4h0m5.1 0.7h0m3.8 -0.7h0m0.4 -4.5h0m20.8 0.3h0m0.4 2h0m12.2 -1.1h0m13.5 3.5h0m9 0.4h0m0.5 -0.9h0m5.5 -1.7h0m10.3 0h0m0.4 -1.7h0m3.2 -0.6h0m2.8 4.7h0m-10.1 5.6h0m-0.5 -4.4h0m-12.8 4.8h0m-31.1 -3.2h0m-34.1 3.5h0m0 -3.8h0m-14.4 0.3h0m-22 3h0m-2.6 -3.7h0m-7.5 8.1h0m2.5 -2.4h0m4.3 3.4h0m11.4 -1.8h0m21.3 1.4h0m18.7 -3.7h0m1.9 2.4h0m15.8 1.6h0m1.2 -2.5h0m33.1 2.4h0m2 0.7h0m13.5 -4.8h0m1.1 4.9h0m8.7 -1.1h0m7.3 1.2h0m-30 6h0m-9.5 -5.3h0m-39.3 5.2h0m-1.7 -5.3h0m-6 0.9h0m-7.7 3.4h0m0 -0.4h0m-0.6 -1.1h0m-6.4 2.3h0m-5 0.1h0m-14.2 0.3h0m-0.7 -1.2h0m-14.8 -1h0m-1.3 1.8h0m6.8 4.5h0m1 1.9h0m5.9 -1.9h0m3.1 1.7h0m18.6 -2.6h0m22.3 -1h0m3.2 1.3h0m13.9 1.9h0m2.5 0.9h0m14 -4.3h0m5.4 3.8h0m2.8 -2.4h0m5.5 -2.4h0m0.8 1.7h0m4.2 0.1h0m1 -0.2h0m8.9 1.1h0m12 -0.8h0m1.3 3.2h0m2.9 1h0m-21.8 0.1h0m-3.3 1.3h0m-2.4 2.2h0m-22 -1.4h0m-0.9 -2.3h0m-6.7 1.3h0m-12.6 0.4h0m-13 -2.1h0m-10.4 0.2h0m-14.3 2.1h0m-2.7 -0.4h0m-1 3.4h0m-5.8 -5.5h0m-3.5 3.6h0m-14.5 -0.2h0m-0.4 -2.5h0m-4.3 9.3h0m0.4 0.8h0m6.4 -0.8h0m2.2 -1.7h0m2.3 -1.3h0m2.1 1.7h0m19.3 -0.3h0m3.6 3.1h0m21.5 -4h0m0.3 3.5h0m24.6 -1h0m4.9 1.1h0m4.8 -3.7h0m3.2 2.6h0m10.7 -0.5h0m12.4 0.8h0m0.6 0.4h0m7.9 -4.4h0m10.3 0.2h0m2.6 3.4h0m-1.3 5.6h0m-28.4 -1h0m-20.1 -0.6h0m-6.8 -1.4h0m-8.4 2.7h0m-1.5 -3.3h0m-17.9 -0.1h0m-3 2.5h0m-18.7 0.7h0m-10.7 -2.4h0m-14.6 1h0m5.1 5.3h0m32.3 0.4h0m14.5 3.1h0m16.7 -2.8h0m8.3 1.5h0m12.5 -2.9h0m6.8 0.8h0m0.1 -0.5h0m8.1 4.8h0m6.4 -1.1h0m11.2 1.5h0m2.7 -1.5h0m-7 1.6h0m-11.8 1.5h0m-3.4 3.9h0m-0.7 -1.4h0m-20.8 1.9h0m-0.6 -1.1h0m-11.7 0h0m-30.5 0.6h0m-2.6 -2.1h0m-3.2 -0.9h0m-4.4 -1.6h0m-4.5 -0.5h0m-3 4.4h0m-19.8 -2.7h0m-1.6 -1.7h0m-0.9 4.5h0m-0.1 -3.5h0m-9.7 -0.3h0m2.3 10.7h0m3.3 -1.8h0m9.8 -1.9h0m10.1 -0.1h0m4.6 2.7h0m2.1 -4.3h0m14.4 2.8h0m19.2 0.8h0m0 1.2h0m14 -1h0m5.4 -3.3h0m5.9 1.2h0m2.8 0.3h0m30.2 3.3h0m13.6 -1h0m-7 4.3h0m-14.8 0.5h0m-22.1 -2.1h0m-1.3 4.1h0m-15.1 -4.8h0m-12.8 5.1h0m-5.4 -1.4h0m-5.4 1.3h0m-16.4 -3.7h0m-2 1.8h0m-5.9 -2h0m-28.7 1.2h0m6 3.8h0m0.9 2.3h0m8.1 -1.9h0m7.5 -1.1h0m0.5 0.6h0m16.9 3.9h0m6.4 -0.2h0m30.2 0.3h0m1.3 0.8h0m9.9 -0.1h0m0.1 -4.5h0m2.4 4.8h0m4 -1.8h0m15.2 -3.2h0m8.1 1.6h0m10 6.4h0m-23.7 0.4h0m-3.8 2h0m-3.8 -4.6h0m-18.6 0.5h0m-6.8 2.7h0m-27.4 0.7h0m-1.7 -1.3h0m-7.3 0.3h0m-13.7 -2.9h0m-6.3 1.4h0m19.3 5.7h0m3.8 2.2h0m9.2 -1.6h0m0.4 -1.8h0m3 2.8h0m31.3 -0.2h0m0.1 -0.1h0m0.2 2.1h0m41.9 -2.4h0m1.8 -1.6h0m0.2 3h0m3.2 0.2h0m4.3 -0.7h0m8.1 1.8h0m-1.2 4.7h0m-2 -1.9h0m-4.9 0.8h0m-5.9 0.3h0m-7.7 0.9h0m-10.8 1h0m-18.9 -4.1h0m-13.4 2.3h0m-14.5 -1.4h0m-3.1 2.3h0m-1.2 -0.8h0m-22.3 -1.6h0m-3 -1.1h0m-10 -0.6h0m-5.6 4.2h0m-6.9 1h0m-10.1 0.5h0m-0.2 5.7h0m5.5 0.1h0m13.2 -0.7h0m44.9 -1.6h0m7.4 -0.3h0m7.4 2.5h0m2.5 -1.2h0m9.8 1.6h0m0.8 -4.9h0m1 3.3h0m1.1 -2.8h0m2.5 0.4h0m2.1 3.7h0m6.8 -0.5h0m0 -2h0m11 2.7h0m27.1 -3.4h0m-6.6 6.7h0m-2.4 -1.7h0m-21.2 0.8h0m-6.3 -0.3h0m0 2.8h0m-2.5 -4.2h0m-1.3 4.6h0m-15.9 -3.7h0m-25.3 -0.4h0m-24.2 -0.7h0m-2.5 2.9h0m-7.9 -2.9h0m-5.5 0.3h0m-0.1 3.8h0m-9.3 -1.8h0m-4.4 5.8h0m0.4 -1.3h0m4.2 2.9h0m1 -1.4h0m11.2 -2.5h0m1.2 3.2h0m1.4 -1.6h0m25.3 -0.6h0m7.1 -0.2h0m0 3h0m1 -3h0m6.1 1.5h0m17.6 -1.9h0m8.5 0.5h0m1.1 1.6h0m14.4 -1.3h0m25.8 -0.5h0m3.1 1.3h0"/><path fill="none" stroke="#34388a" stroke-width="2" stroke-linecap="round" stroke-opacity="0.75" d="M67 605.6h0m32.7 -0.6h0m12.1 0.8h0m16.8 -0.3h0m35.8 0.4h0m11.5 -0.2h0m4.9 -0.7h0m3.7 0.3h0m-16.7 2.6h0m-19.3 0.7h0m-4 1.7h0m-7.6 -3h0m-18.7 3.4h0m-1.6 -4h0m-2.7 4h0m-5.7 -0.5h0m-3.4 -0.3h0m-26.5 -2.6h0m-30.2 1.3h0m8.3 3.7h0m9.8 4.8h0m16.5 -0.5h0m0.4 -3.6h0m3.4 3.4h0m2 -0.4h0m19.1 -2.7h0m1.6 -0.1h0m4.3 2.3h0m35.7 -2.7h0m18.5 3.4h0m5.6 -1h0m0 -2.2h0m0.7 2h0m6.2 8.6h0m-2.1 -3.7h0m-3.3 1h0m-10.6 -0.6h0m-4.6 -1.3h0m-4.8 0.7h0m-19.7 3.7h0m-0.7 -5h0m-2.3 1.3h0m-6.1 1.4h0m-5 -1.9h0m-10.1 1.7h0m-6.9 1.8h0m-3.1 -2.4h0m-1.8 2.4h0m-5.5 -3.9h0m-18.4 -0.8h0m-1.2 1.8h0m-25.5 1.4h0m-2.2 -1.5h0m-0.8 4.4h0m52.1 3.3h0m0.4 -3.2h0m12.2 -0.1h0m0.8 3.7h0m12 0.2h0m6 1.4h0m3.3 0h0m3.3 -3.9h0m10.7 1.1h0m20.6 -1.3h0m9.6 -1h0m2.7 1.5h0m0.3 3.3h0m-7.1 6.3h0m-1.2 -0.2h0m-1.3 -3.5h0m-48.3 0.2h0m-1.5 3h0m-3.3 0.5h0m-2.4 -3.8h0m-2.2 3.1h0m-1.8 -0.1h0m-1.8 -4.3h0m-34.3 -0.2h0m-5.5 1h0m-7.7 0.9h0m-2.5 -1.2h0m-14 7.5h0m12.5 2.8h0m15.1 -5h0m3.8 2.2h0m22 2.9h0m1.1 -0.1h0m6.9 -3h0m11.4 1.9h0m12.3 0.3h0m20.4 1.2h0m34.6 -2.9h0m-0.2 8.4h0m-33.7 -3.8h0m-2.4 4.4h0m-8.6 -1.9h0m-4.5 -2.9h0m-2 4h0m-7.5 -1.5h0m-12.5 0h0m-3.2 2.3h0m-10 0.1h0m-0.9 -1.5h0m-0.3 0.2h0m-20.5 -1.2h0m-6.6 -1h0m-6.8 3.3h0m-17.7 -1.2h0m-0.3 -3.4h0m-3.4 3.8h0m-1.4 -1.8h0m2.6 5.6h0m7 2.5h0m7.2 -0.7h0m14.7 -2.2h0m5.3 3.2h0m3.8 -3.6h0m29.1 2.2h0m12.6 1.3h0m4.2 -1.1h0m15.7 -1.8h0m7.1 2.6h0m4.4 -0.6h0m17.6 0.5h0m3.9 0.9h0m3 -0.1h0m-20 4.4h0m-18.3 -0.9h0m-2 2.3h0m-1.7 -0.7h0m-12.4 -2h0m-2.6 -1.4h0m-8.4 -1h0m-5.8 3h0m-3.1 1.3h0m-11.7 -3.2h0m-3.7 0.7h0m-8.9 2.1h0m-7 -4.1h0m-11.2 2.1h0m-1.6 0.6h0m-5.2 -0.1h0m-9.8 4.2h0m54.3 -0.3h0m10.1 2.1h0m4.7 -2.7h0m36.2 0h0m0.4 3.9h0m1.5 -1.4h0m10.2 -2.1h0m2.9 3.4h0m6.3 -3.6h0m0.2 -0.2h0m9.6 8.1h0m-34 2h0m-2.2 -3.7h0m-10.8 4h0m-11.5 -2.6h0m-4.2 2.3h0m-0.7 0.8h0m-10.5 0.3h0m-6.3 -2.9h0m-4.5 -1.6h0m-1.9 0.3h0m-1.4 4.9h0m-7 -1.9h0m-1 -0.7h0m-5.5 2h0m-10 0.6h0m-23.9 -0.8h0m-4.2 2.6h0m43.2 2.7h0m12.3 1.3h0m45.4 -1h0m11.4 -3.5h0m11.1 3.3h0m3.3 1.2h0m3.9 -0.7h0m1.1 -3.3h0m1.9 2.3h0m5.8 -1.3h0m-3.3 7.2h0m-20 0.2h0m-11.8 1.5h0m-15.2 -1.2h0m-2.7 -0.5h0m-3.2 -2.3h0m-17.8 3.2h0m-28.8 0.3h0m-22.6 -2.2h0m-9 7.3h0m21.9 1.2h0m6.9 0.5h0m6.7 -5.9h0m11.2 5.8h0m37.1 -0.4h0m5.6 -0.9h0m1.1 -2h0m3.9 1.9h0m18.6 0.9h0m12.7 -0.7h0m0.1 0.2h0m9.2 -3.2h0m-10.5 5.1h0m-10.1 -0.6h0m-6.1 1.6h0m-3.6 0.8h0m-8.3 -0.1h0m-4.7 -0.5h0m-13 0.3h0m-24.1 2.6h0m-22.2 -4.6h0m-10.5 3.1h0m-0.5 -0.1h0m-2.4 -0.7h0m-11 -1.7h0m-13.3 1.3h0m-1.3 8.3h0m1.4 -3h0m6.9 2.6h0m0.7 0.8h0m3.8 -4.1h0m29.8 4h0m15 -3.4h0m1.4 2.8h0m19.9 -4.1h0m9.3 1.3h0m45.2 0.7h0m6.6 0.1h0m-7.6 5.1h0m-17.3 1.5h0m-37.1 2.6h0m-8.1 -2.6h0m-9.8 3h0m-3.2 -0.9h0m-2.1 -2.7h0m-7.9 3.1h0m-1.3 0.1h0m-5.3 -0.5h0m-6.8 -3.3h0m-7.3 3.3h0m-7.3 -2.3h0m-6.6 0.2h0m-5.3 -2.7h0m-1 2.1h0m-3.3 3.6h0m5.9 1.6h0m6.5 -1.2h0m0.2 1.8h0m92.4 -0.9h0m2 3.5h0m1.5 1.2h0m3.7 -2.8h0m20.4 -1.9h0m0.5 9.9h0m-5.9 -1.9h0m-1.5 2.7h0m-60.7 -1h0m-7.5 -4.5h0m-3.8 4.1h0m-1.9 -3.6h0m-35.4 3.8h0m-11.2 -2.3h0m-1.6 0.2h0m-6.3 -1.5h0m8 7.3h0m2.7 0.1h0m3.4 0.7h0m6.5 -0.5h0m16.3 1.9h0m11.4 0.8h0m13.8 -1.4h0m12.7 1.4h0m3.2 -0.9h0m4.2 -1.6h0m1.3 0.5h0m2.6 -2.8h0m7.1 5.3h0m0.5 -3.1h0m2.8 2.9h0m2.7 -4.7h0m1.1 3.9h0m13.5 0.6h0m16.3 -5h0m11.5 4.5h0m-9.6 3.5h0m-37.1 3.3h0m-6.1 -3.5h0m-13.9 -1.3h0m-0.4 1.3h0m-25.7 -0.5h0m-9.6 2.9h0m-24.2 -0.7h0m-6.9 -2.6h0m11.1 6.8h0m37.1 1.6h0m2.5 -1h0m12.8 0.2h0m17.3 -1h0m6.9 -0.8h0m1.2 -0.6h0m2.1 5h0m1.3 -4.9h0m8.6 -0.5h0m12.2 0.1h0m5.1 4.5h0m0.4 -3.9h0m14.1 6h0m-4.1 0.4h0m-10.3 1.8h0m-0.4 1.6h0m-9.1 0.1h0m-1.2 -1.6h0m-16.5 -1.8h0m-1.3 2.9h0m-1.7 0h0m-12.5 -3.6h0m-24.8 4.2h0m-3.2 -2.2h0m-7.8 -1.1h0m-1.5 4.4h0m-20.5 -1.9h0m-26.8 0.5h0m17 2.5h0m0.7 -0.3h0m15.2 3.4h0m5.3 -1.6h0m0.7 1.2h0m31.9 -1.8h0m12.5 -0.2h0m2.4 1.6h0m3.6 -1.1h0m0 1.9h0m44.1 -0.2h0m7.2 -3h0m1.6 2.8h0"/><path fill="none" stroke="#a83c70" stroke-width="1.2" stroke-linecap="round" stroke-opacity="0.8" d="M104.7 605.7h0m58 6.1h0m-1.9 -2.7h0m-8.8 -2.5h0m-2.5 2.3h0m-20.4 -1.5h0m-8.5 4.4h0m-4.5 -3.2h0m-11.3 1.4h0m-5.2 1.3h0m-1 -3.6h0m-3 3.7h0m-9 -5.4h0m-0.1 2.4h0m-0.6 -2.3h0m-3.7 0.8h0m-6.1 4.9h0m-6.8 -4.7h0m-8 -1h0m-12.8 10.7h0m3.5 0.2h0m6 -3.6h0m2.7 3h0m0.2 -2h0m2.5 1.1h0m0.6 -2.9h0m19.7 0h0m4.9 -0.1h0m42.7 5h0m0.6 -0.4h0m4.8 -1.3h0m3 -1.7h0m0.4 0.3h0m13 3.2h0m3.8 0.1h0m5.4 -1.4h0m14.1 -3.2h0m6.3 9.1h0m-0.4 -2.5h0m-2 -0.4h0m-21.1 3.5h0m-1.9 -3.2h0m-10 -1.5h0m-6 -0.1h0m-2.8 4.8h0m-4.3 -1.8h0m-2.5 2.1h0m-4.3 -0.1h0m-3.3 0.6h0m-11.5 -5.3h0m-6.7 0.3h0m-5.2 1.3h0m-8.6 -1.9h0m-1.3 0.4h0m-4 1.9h0m-1.8 0.6h0m-2 -0.5h0m-0.7 1.9h0m-2.8 -2.6h0m-2.8 2.6h0m-13.1 -3.6h0m-16.8 1.3h0m-0.9 2.7h0m24.8 6.5h0m4.1 -0.1h0m7.5 -3.5h0m4.6 1.6h0m20 1.1h0m10.5 1.5h0m18.3 -1.7h0m4.3 -3.3h0m2.7 3.4h0m0.6 -1h0m4 2.3h0m1.1 0.4h0m26.4 -5.5h0m3.5 4.9h0m1.5 4.2h0m-1 0.6h0m-14.6 -3.9h0m-8.7 2.3h0m-2.5 1.9h0m-4 -3.5h0m-12.6 3.8h0m-5.4 -2.9h0m-17.8 3.4h0m-1.8 -0.6h0m-23.7 -3.9h0m-0.5 3h0m-15.3 -3.6h0m-2.6 1h0m-12.3 1.8h0m-7.4 0h0m-3.6 2.6h0m-2.3 -2.5h0m5.9 7.9h0m15.8 -4.8h0m4.2 1.3h0m11.2 -1.2h0m2.9 2.4h0m23.5 2.3h0m7.8 -3.7h0m13.9 4.5h0m5.9 -1.7h0m5.7 -3.2h0m15.7 1.8h0m2.5 0.4h0m1.7 2.8h0m7.5 -4.5h0m10.6 2.7h0m-4.7 5.7h0m-1 -3.1h0m-17.6 5.1h0m-0.9 -5.2h0m-14.6 0.5h0m-0.6 2.7h0m-10.3 -0.4h0m-11.5 -2.3h0m-6 3.2h0m-13.4 0.5h0m-8.7 -3.8h0m-1.2 1.3h0m-1.7 -0.4h0m-4.9 0h0m-3.3 3h0m-10.4 -2.7h0m0 -1.7h0m-6.8 2.9h0m-0.9 1.6h0m-0.1 -4.1h0m-6 4.8h0m-0.1 -1.2h0m-8.2 -3.5h0m-1.6 3.2h0m3.1 2.5h0m0.2 1.1h0m7.8 4.1h0m0 -5h0m1.5 1.9h0m5 -0.7h0m18.9 1.1h0m15.6 -2.8h0m4.4 4.9h0m13.2 -1.7h0m6.9 -2.6h0m8.8 3.1h0m2.8 -3.8h0m7.7 0.8h0m9.2 1.9h0m18.8 -1.8h0m6.2 4.1h0m8.5 -4.8h0m2.3 8.9h0m-3.7 -0.2h0m-0.8 -1.9h0m-10 4h0m-0.6 -2.8h0m-18.7 2.8h0m-1.7 -2.5h0m-2.1 3h0m-6.4 -3.3h0m-2.8 -2.1h0m-14 5.4h0m-26.8 -4.9h0m-8 1.3h0m-7.2 3.1h0m-4.9 -5h0m-10.7 1.4h0m-19.6 3.1h0m-1.5 -2.6h0m-3.3 4.5h0m8.3 2.6h0m1.7 2.2h0m2.2 -2.9h0m22.9 -0.2h0m2.3 -1.1h0m3.9 1.8h0m5 2.6h0m9.4 -1.2h0m0.3 0.3h0m3.1 0.5h0m3.3 -5.2h0m5.5 4.9h0m1.2 -2h0m4 2.4h0m0.3 -4.5h0m3.6 2.4h0m13.8 0h0m5.3 1.5h0m2.1 0.1h0m14.1 -3.1h0m2.3 -0.3h0m4.5 1.4h0m11.7 1.2h0m7.1 -0.8h0m3 -0.2h0m-0.7 5h0m-12.6 -1.3h0m-3.6 3.5h0m-3.2 -3.8h0m-3.6 4.2h0m-5.1 -0.8h0m-20.9 -2h0m-1.6 -1.7h0m-1.4 2.7h0m-0.1 2h0m-4.4 0h0m-3.7 -3.8h0m-20.9 2.3h0m-8.7 0.5h0m-9.9 0.5h0m-18.5 -2.7h0m-0.3 2.1h0m-14.1 -2.2h0m4.4 5.4h0m7.5 3.2h0m0.4 -0.7h0m12 0.1h0m6.5 -3.2h0m5.3 2.3h0m0.2 0.7h0m7.3 -3h0m1.3 4.4h0m3.1 1.1h0m47.1 -5.7h0m7.7 4h0m1.4 1h0m6.9 -2.9h0m3.3 3.1h0m13.8 -3.1h0m7 6.1h0m-11.9 0.5h0m-5.5 -2.6h0m-19.2 4.4h0m-12.7 -0.8h0m-28.1 -1.1h0m-0.7 0.4h0m-2 -2.2h0m-10.1 -0.4h0m-13.4 3h0m-12.5 1.6h0m-2.5 0.6h0m-1.3 -2.4h0m-3.1 2.3h0m-10.3 0.1h0m-6.8 -1.8h0m-0.2 -2.6h0m16.1 10.3h0m14.4 -4.8h0m5.8 4.4h0m4 -1.3h0m0.2 -3.5h0m16.1 0.3h0m3.6 1.5h0m0.7 -1h0m22 -0.8h0m5.9 4h0m8.8 0.6h0m0.2 0.3h0m11.5 -0.4h0m3.5 -3.3h0m1.3 -0.9h0m6.3 4.6h0m10.7 -1.1h0m5.8 -1.5h0m-8.3 6.3h0m-6.8 -1.4h0m-1.6 1h0m-6.4 -2.6h0m-22.8 2.1h0m-5 1.2h0m-1.6 1.6h0m-8.5 -0.8h0m-5.3 -2.9h0m-10.4 -0.7h0m-6.5 0.7h0m-3.4 0.8h0m-0.6 2.5h0m-10.6 -3.2h0m-0.4 1.1h0m-11.5 0.7h0m-10 0.8h0m-4.1 2.2h0m0.7 4h0m1 -3.5h0m28.1 4.4h0m18.7 -3.7h0m12.9 1.7h0m3.5 1.3h0m0 1.1h0m2.7 -1h0m0.2 -0.9h0m3 1.3h0m14.9 -1.3h0m0.2 -2.3h0m11.4 -0.7h0m2.8 3.3h0m8.5 -1.2h0m4.8 -1.3h0m13.5 9.2h0m-3.1 -3.7h0m-15.9 4.2h0m-19.5 -3.9h0m-18.8 3.5h0m-8.9 -1.9h0m-25.4 1.5h0m-6 0h0m-15.4 0.9h0m-0.8 -4h0m-28.5 10.2h0m0.5 0.4h0m8.5 -3.1h0m11.2 1.5h0m5.7 -3.8h0m18.1 3.4h0m7.6 -0.8h0m2.3 -0.1h0m3.9 0.3h0m14.9 -0.5h0m10 -2.3h0m12 1.7h0m3.4 1.8h0m6 -3.1h0m6.8 -0.4h0m2.7 0.5h0m15 3.3h0m2.9 -1.7h0m1.9 -1.7h0m0.1 1h0m2 4.1h0m2.5 -2.7h0m4 7.1h0m-14 0.3h0m-15.7 0.6h0m-3.1 -4.3h0m-0.3 0h0m-24.3 3.7h0m-2.2 -2.2h0m-9.9 3.6h0m-0.7 -5h0m-0.2 1.3h0m-0.2 2.1h0m-21.3 -3.6h0m-1.4 -0.4h0m-12.1 3.5h0m-0.3 -0.1h0m-2.2 -2.2h0m-2.7 -1.5h0m-13.4 4.8h0m-6.4 -2.7h0m0 0.2h0m-8.5 3.6h0m10.6 3.9h0m9.6 -2.9h0m10.8 3h0m2 -0.6h0m1.6 2.2h0m6.7 -4.1h0m10.9 0h0m0.6 3.6h0m10.2 0.7h0m0 -1.8h0m8.9 0.5h0m0.3 1.3h0m0.8 -1.5h0m15.1 0.5h0m0.1 1h0m1.9 -4.1h0m8.6 1.1h0m0.1 2.9h0m7.7 -0.4h0m12 -2.4h0m3.6 -1.2h0m5.7 -1.5h0m4.8 2.4h0m-3.2 6.9h0m-12.9 -0.4h0m-2.4 1h0m-26 -2.2h0m-2.8 2.2h0m-3.5 -0.5h0m-17.1 0.1h0m-1.1 -0.5h0m-3.2 -1.5h0m-12.3 0.9h0m-26 -1.4h0m-16 -0.7h0m-1.2 4.4h0m-4.8 -3.4h0m-0.5 -1h0m-2.2 0.8h0m3.7 6.5h0m9.6 1.7h0m2.2 2.5h0m5.1 -1.6h0m1.7 -2.9h0m3.3 1.9h0m7.1 -2.8h0m0.8 1.7h0m4.5 3.3h0m3 -1.4h0m16 1.5h0m3.1 -0.3h0m11.3 0.4h0m69.9 -0.4h0m0.2 -3.6h0m-1.9 8.9h0m-37 -1.7h0m-1.4 1.5h0m-12.6 0.9h0m-6.2 -0.4h0m-5.9 -3.7h0m-8.9 0.8h0m-3 -1.2h0m-8.1 1.8h0m-0.6 -0.7h0m-9 2.5h0m-13.6 -4.4h0m-2.5 1.4h0m-0.9 3.1h0m-1.9 -3.2h0m-16.6 1.7h0m-8.3 -0.8h0m-0.9 1.9h0m0.7 4.7h0m4.3 0.1h0m9.8 -1.8h0m10.8 -0.3h0m1.4 0.7h0m29.5 2.2h0m51.5 -1.7h0m0.4 1.7h0m18.6 -2.7h0m9.6 1.8h0"/><path fill="none" stroke="#a83c70" stroke-width="1.6" stroke-linecap="round" stroke-opacity="0.8" d="M99.7 605.2h0m82.5 5.5h0m-12.9 0.6h0m-4.6 -5.2h0m-13.9 1.4h0m-2.1 4h0m-4.8 -2h0m-3.3 -2.5h0m-14 2.6h0m-7.9 -1.8h0m-13.4 2.9h0m-6.8 0.2h0m-2.3 -3.1h0m-5.4 -0.5h0m-23.7 1.3h0m-5.1 -2.1h0m-10.9 4.5h0m13.1 4h0m0 1.7h0m1 -0.9h0m7.5 0.2h0m1.2 -3.1h0m4.7 4.8h0m4.4 -4.4h0m7.1 1.6h0m5.9 2.3h0m3.2 -1.1h0m2.1 -4.1h0m10.8 3.8h0m0.5 -3.1h0m17.5 1.8h0m1.8 0.5h0m18.4 0.4h0m4.1 0h0m12.1 -0.8h0m17.3 4.5h0m-1.6 2.9h0m-30.7 0.1h0m-2.6 -3.3h0m-0.8 2.9h0m-16.3 -3.2h0m-1.1 3.9h0m-3.3 -2.4h0m-0.3 2.1h0m-3.1 -3.4h0m-4.7 3.7h0m-5.3 -4.3h0m-18.6 1.6h0m-8.6 3h0m-9.6 -2.1h0m-6.2 0.7h0m-11.2 0.6h0m-2.6 -2.8h0m-4.9 2.4h0m-8.6 -3.1h0m40.8 7.7h0m8.3 -1.2h0m24.5 0.2h0m2.4 0.2h0m6.4 0.7h0m0.5 3.5h0m1.3 -0.4h0m10 -3.2h0m1.5 0.7h0m2.1 0.8h0m10.9 -3h0m7.4 3.8h0m6 0.4h0m0.2 -3.5h0m8.5 0.7h0m8.1 3.6h0m-9.7 3.6h0m-5.3 2.6h0m-12.2 -2.9h0m-1 0.8h0m-1.4 1.6h0m-8.7 0h0m-6.6 -1.9h0m-11.7 -2.7h0m-8 4.8h0m-0.8 -2.2h0m-11.3 -2.5h0m-0.8 0.5h0m-1.8 -1.1h0m-2 5.6h0m-1.2 -0.2h0m-3.6 -5.4h0m-5.4 1.2h0m-9.7 3.4h0m-6.7 1.2h0m-16.5 -0.2h0m-3.5 -2.6h0m-5.3 -2.4h0m-1.6 0.7h0m-3.6 8.7h0m0.8 0.3h0m4.5 1.2h0m2.9 -1.9h0m2.1 -3h0m7.5 -0.4h0m10.4 1.1h0m22.3 4.5h0m6.5 -1.4h0m8.3 -3h0m16.4 3.9h0m0.9 -0.6h0m8.2 -3.8h0m3.1 -0.9h0m0.8 3.8h0m5.9 -0.5h0m14.8 0.4h0m3.3 -0.8h0m7.3 1.1h0m4.3 0.3h0m-0.1 2.8h0m-2.2 3.8h0m-12.9 -1.7h0m-17.9 -1.4h0m-27.6 2.5h0m-3.3 -1.5h0m-0.9 -0.1h0m-13.3 -2.4h0m-6.4 4.1h0m-3.7 -0.7h0m-3.9 -2.9h0m-3 1.7h0m-9.2 1.2h0m-12 -2.6h0m-1.9 4.8h0m-1.4 -4h0m-11.6 7.8h0m1 1.1h0m4.2 -1h0m12.3 0.6h0m0.4 -3h0m21.7 4.1h0m6 0.4h0m12.2 -1.3h0m0.2 -0.6h0m7.5 -0.6h0m3.1 -1.1h0m22.9 0.3h0m0.2 0.5h0m6.1 1.7h0m0.2 0.8h0m4 -2.9h0m5.3 2.8h0m10.8 -2h0m8.1 1.2h0m13.2 -0.1h0m0.7 -2.4h0m-2.3 7.3h0m-12.5 2.3h0m-0.8 -2.7h0m-2.1 0.2h0m-33.8 -1.7h0m-4 4.3h0m-14.8 -4.4h0m-9.3 0h0m-4.4 0.8h0m-4.5 -2h0m-15.9 0.9h0m-6.8 0h0m-3.8 -0.3h0m-18.3 4.7h0m10.1 4.6h0m10.3 -2.8h0m0.3 -0.2h0m0.2 2.5h0m5.8 -3.5h0m3.9 3h0m6.6 -0.4h0m23.6 0.3h0m5.6 0h0m2 -0.2h0m12.3 2.6h0m1.9 0.4h0m0.5 -2.6h0m10 -2.3h0m14.5 0h0m3.1 2.9h0m8.7 -0.8h0m0.7 7h0m-9 1.2h0m-12.1 -2.5h0m-13.3 2.4h0m-10.2 -4.7h0m-2.3 2.6h0m-3.8 0.6h0m-0.2 2.2h0m-0.1 -4.8h0m-21.7 1.1h0m-8.3 -2.1h0m-4.6 0.7h0m-1.1 2.5h0m-7.6 1.6h0m-15.7 -3.7h0m-2.8 3.1h0m-2 -0.4h0m-0.2 -2.1h0m-3.9 7.5h0m7 0.8h0m15 1.1h0m4.7 -3h0m0.2 -1.6h0m2.5 1.1h0m2.4 3.4h0m1.2 -1.5h0m3.9 1h0m6.2 -4.6h0m1.7 4.4h0m5.8 -1.3h0m1.9 1.9h0m0.9 -1.2h0m5.1 2h0m4.5 -5.2h0m18.2 2.1h0m19.2 1.3h0m11.6 -1.7h0m5.3 3.5h0m12.9 1h0m-5.1 5.1h0m-4.4 -0.8h0m-28.9 0.4h0m-7.9 -4.6h0m-0.9 3.6h0m-1.1 -1h0m-1.8 -0.1h0m-9.9 -1.9h0m-6.6 3.7h0m-0.8 -0.5h0m-11.9 0h0m-6.4 -3.4h0m-27.6 1h0m-1 2.5h0m-8.5 -2.2h0m-1.8 0.7h0m-8.7 8.5h0m19.1 -2.8h0m6.2 0.2h0m11.7 2.6h0m3.6 -2.2h0m1 1.6h0m7.4 -0.7h0m4.8 -1.3h0m2 -2.8h0m13.3 4.4h0m19.1 1h0m0.4 -0.6h0m5.1 -3.4h0m0.8 4h0m18.6 -1.1h0m0.7 -1.5h0m18.3 1.4h0m3.6 2.8h0m-14.2 3.2h0m-6.9 -3.3h0m-3.1 -0.5h0m-22.4 0.6h0m-0.1 2.1h0m-16.9 -1.3h0m-4.4 -2.1h0m-0.1 4.8h0m-6.8 1h0m-4.6 -4.8h0m-13.3 3h0m-8.3 0.9h0m-2.2 0.9h0m-1.4 -2.6h0m-12.1 -1.5h0m-3.5 0.9h0m-2.6 -1.6h0m-9 -0.3h0m-5.6 4.4h0m-3 2.7h0m6.1 0.2h0m2.4 -1.3h0m3.1 5h0m4 -1.5h0m10.7 0.7h0m6.1 -3.7h0m25.4 3.6h0m2.3 -1h0m0.6 -0.9h0m13.1 -1.3h0m3.7 2.8h0m2 0.7h0m17 -2.8h0m20.9 2.2h0m20.1 -4.4h0m-6.4 9.6h0m-8.7 -2.5h0m-9.3 3.6h0m-0.8 0.2h0m-3 -0.5h0m-0.6 -0.9h0m-2 0h0m-3.3 0.8h0m-17.6 -1.2h0m-14.1 -0.9h0m-3.1 1.8h0m-2.4 -0.5h0m-0.4 1.3h0m-9.2 0.1h0m-5.4 -4.4h0m-3.6 1.5h0m-1.1 -2.1h0m-1.6 1.9h0m-6.8 2.4h0m-10 -3.2h0m-3 3.3h0m-15 -1.7h0m-6.2 7.8h0m7 -1h0m6.6 0.3h0m7.5 1.4h0m12.3 -3.5h0m1.6 -1.2h0m8.5 1.9h0m10.6 1.4h0m20.6 -2.8h0m6.1 3.2h0m4.4 -0.2h0m2.7 -0.6h0m2.6 -2.6h0m18.3 3.4h0m11.3 0.1h0m4 -2.9h0m0.2 -0.9h0m4.1 0.4h0m4.2 6.2h0m-25.4 2.9h0m-9.8 0.1h0m-0.9 1.6h0m-18.7 -1.8h0m-1.8 -2.1h0m-16.7 2.2h0m-0.9 -1.5h0m-11.2 2.8h0m-0.8 -2h0m-9 -1.5h0m-6.8 -0.4h0m-0.3 2h0m-6.4 -2.2h0m-15.1 -0.6h0m-4 3.4h0m-1.4 -3h0m-6.4 2.7h0m-1.9 0.1h0m-0.1 0.2h0m0.6 5.1h0m20.5 1.7h0m1.8 -1.6h0m3.8 -3.1h0m0.7 2.4h0m17.3 0.7h0m1.8 0.6h0m5.7 0.2h0m5.4 1h0m3.7 -3.4h0m2.8 -0.6h0m5.6 3.2h0m0 -0.7h0m0.6 2.3h0m0.1 -1.2h0m0.2 -4h0m17.4 1.9h0m11.7 3.2h0m11.7 0.1h0m4.3 -1.7h0m8.9 1.4h0m11.6 -5.2h0m6 0.2h0m-3.5 8.4h0m-26.4 -1.8h0m-15.1 2.5h0m-13.7 -2h0m-26.5 1h0m-1.7 -1.4h0m-24 -0.3h0m-2.4 0.4h0m-5.1 0.6h0m-0.7 3.4h0m-8.7 -0.5h0m-5.3 -4.2h0m19.2 6.9h0m7.9 2.5h0m1.7 -3.2h0m6.1 0.3h0m4.4 1.6h0m3.2 -1.2h0m10.9 1.9h0m9 0h0m0.5 -1.9h0m2.6 -1h0m3.8 1.5h0m2.7 1.7h0m7.2 -1.6h0m2.4 -1h0m1.9 4.7h0m1.5 -1.9h0m4.2 -3.9h0m18.1 5h0m1.2 -4.8h0m13.3 5.2h0m4.3 -5.2h0m1.6 1.4h0m1.7 1.8h0m2.6 0.1h0m-2.8 3.6h0m-1.7 0.6h0m-5 1.4h0m-4.8 1.2h0m-1.5 1.2h0m-7.9 -4.9h0m-2.8 1h0m-14.7 0.9h0m-17.1 -2.3h0m-2.4 1.5h0m-2.7 3.6h0m-13.7 0.5h0m-23.5 -5.1h0m-1.6 1.9h0m-5.7 1.7h0m-8.3 -0.6h0m-1.1 1.5h0m-3.9 -1.9h0m-15.3 -2.7h0m-5.4 3.5h0m21.6 2.8h0m41.2 2.3h0m13.5 -0.5h0m6.1 -0.3h0m28.2 -2.5h0m3.5 0.4h0m8.5 1.5h0m3.4 1.7h0m11.5 -1.7h0m4.2 0.8h0"/><path fill="none" stroke="#a83c70" stroke-width="2" stroke-linecap="round" stroke-opacity="0.8" d="M60.1 605.1h0m81.2 -0.1h0m30.3 0.1h0m2.5 4.8h0m-1.7 1.1h0m-18.5 -2.9h0m-23.3 -1.6h0m-21.1 0.7h0m-9.8 3.5h0m-0.6 1h0m-2.5 -4.6h0m-4.1 2.7h0m-5.9 -2.1h0m-0.4 -1.3h0m-4.6 0.5h0m-0.8 3h0m-1.6 1.6h0m-1.2 -3.3h0m-0.7 -0.4h0m-1.6 2.7h0m-0.8 -4.2h0m-1 5.2h0m-9.1 -2.7h0m-6.5 2.6h0m-7.5 -0.8h0m-0.5 0.1h0m-1.7 -0.6h0m11.7 6.4h0m18.2 -4.5h0m1.1 1.2h0m6.9 3.8h0m4.2 0.6h0m8.7 -3.7h0m12.6 -1.5h0m2.4 4.5h0m6.5 -2.3h0m18.3 -0.7h0m9.2 2.8h0m2.1 -0.6h0m31.2 -2.1h0m-9.4 4.9h0m-7.1 1.4h0m-13.3 3.1h0m-22.3 -2.8h0m-2.8 -0.9h0m-9.7 -1.7h0m-15.1 3.5h0m-4.3 1h0m-15.8 -3.1h0m-16.2 3.3h0m-19.9 -4.3h0m5.9 11.4h0m6.4 -3h0m7.2 -2.3h0m1.6 0.1h0m33.1 3.1h0m3.2 -1.8h0m2.3 -0.4h0m10.7 1.7h0m15.1 -2.7h0m2.7 5.4h0m5.5 -4.3h0m4.9 3.3h0m3.2 1h0m15.7 -5.9h0m8.1 0.7h0m7.9 0.3h0m-17.7 8.7h0m-11.7 1.3h0m-1.7 -2.8h0m-11.5 0.1h0m-23.3 3.5h0m-1 -4.9h0m-11.1 4.8h0m-19.9 -3.5h0m-1.6 3.4h0m-10.7 -0.7h0m-21.7 -0.8h0m0 -3.8h0m5.6 5.9h0m20.3 1.4h0m0.5 0.2h0m16.1 4h0m0.1 -1h0m2.4 -0.7h0m0.7 0.3h0m8.3 -3.8h0m7.2 1.3h0m15.5 2.8h0m0.3 -3.2h0m18.9 -1.1h0m6.3 1h0m6.7 4h0m8.3 -1.4h0m9.1 -2h0m0.2 1.2h0m0.3 2.4h0m6.7 -3.3h0m-0.1 8.4h0m-8.6 0.4h0m-19 -2.5h0m-9.9 0.2h0m-0.9 0.4h0m-7.2 0.8h0m-9.4 -1.8h0m-2 1.9h0m-3.1 1h0m-6.5 -3h0m-0.1 2.3h0m-2.6 -4.3h0m-3.9 4.3h0m-5.2 -1h0m-10.9 -0.2h0m-2.2 0.3h0m-1.5 -1.8h0m-9.1 3.8h0m-1.6 -0.6h0m-18.6 -4.8h0m-15.4 3.3h0m3 3h0m1.4 4h0m6.1 -3.5h0m9 2.2h0m3.3 1.7h0m12.2 1.1h0m4.2 -1.1h0m3.9 0.5h0m6.2 -1.1h0m1.2 -3h0m3.5 3h0m2.1 -0.1h0m0.8 -1.4h0m14.2 -0.3h0m1.9 0.2h0m0.9 2.5h0m7.3 -0.9h0m14.5 -0.7h0m8.4 -2.2h0m7.4 0.3h0m23 0.6h0m7.1 2.5h0m-4.8 6.3h0m-10.9 -1.2h0m-14.5 -3.6h0m-5.4 1.8h0m-2.7 2.1h0m-2.9 -2.7h0m-0.3 1.4h0m-17.8 0.1h0m-3 0.1h0m-9 -1.5h0m-6 0h0m-21.7 2.4h0m-3.9 -3.2h0m-4.6 -0.5h0m-2.8 1.3h0m-10.9 3.3h0m-5.6 -2.8h0m-2.7 3.9h0m-2.6 -5.9h0m-0.2 7h0m10.2 4.9h0m4.2 -5.5h0m1.2 2h0m27 1.1h0m0 -0.9h0m8.6 2.2h0m0.9 -4.4h0m0.4 4.4h0m2.1 -1.3h0m1.3 -2.6h0m3.2 -0.5h0m13.6 0.3h0m1.4 1.4h0m7.2 2.5h0m14.1 -2.5h0m7 1.3h0m19 0.3h0m5.6 -1h0m-12.1 7.8h0m-8.5 1.2h0m-30 -2.2h0m-11.8 1.1h0m-1.9 1.2h0m-6.9 -0.9h0m-5.2 -3.8h0m-12.6 -0.8h0m-5.1 -0.2h0m-6.8 3h0m-1.6 1.7h0m-10.9 0.5h0m-12.7 -3.5h0m-4.7 -1.3h0m-2.3 8.1h0m6.6 3.2h0m33.4 -2.2h0m4.5 -1.4h0m0.4 2.2h0m3.9 0.4h0m0.8 -0.8h0m2.5 -3.5h0m3.3 1.6h0m0.1 0.4h0m2.9 0.6h0m4.9 -1.8h0m1.7 3.8h0m25.6 0.4h0m12.9 -3.7h0m0.9 1.5h0m5.6 2.6h0m12.9 -0.1h0m9.3 -1.6h0m0.5 5.2h0m-2.6 -1.9h0m-7.2 0.6h0m-19.4 -1.4h0m-5.6 0h0m-1.7 3.2h0m-2.1 0.7h0m-18.1 -2.4h0m-14.6 0.8h0m-0.7 0h0m-16 -2.4h0m-45.6 2.2h0m20 7.9h0m2.2 -2.5h0m16 1.8h0m0.1 -3.3h0m1.6 4.4h0m2.3 0.7h0m1.2 -1.9h0m11.6 -2.8h0m10.4 3.7h0m2.2 -0.8h0m2 -0.6h0m0.9 0.9h0m19.4 -1.2h0m1 0.6h0m15.2 0h0m0.3 0.6h0m2.2 -0.6h0m3 -1.8h0m11.7 2.6h0m0.4 -1.9h0m6.9 3.1h0m1.9 -0.6h0m0 -1.4h0m-11.4 7h0m-0.7 -4.7h0m-0.4 3h0m-13.2 1.6h0m-2.3 -3.4h0m-6.9 1.6h0m-4.2 0.9h0m-16.8 1.6h0m-6.1 -2.4h0m-13.3 -1.7h0m-2.4 2.1h0m-3.8 0.8h0m-12.7 -2.5h0m-7.6 -0.9h0m-4 4.9h0m-9.3 -1.7h0m-4.3 0.5h0m-2 -3.7h0m-3.5 4.7h0m-4.5 0.7h0m1.2 4.4h0m5.5 -1.6h0m26.8 0.6h0m0.4 -0.9h0m6 -2.6h0m3.4 0.7h0m10.3 2.2h0m2.5 0.6h0m4.3 1.8h0m1.3 -0.4h0m1.1 -2.9h0m0.4 -1.6h0m0.7 0.9h0m0.2 -0.7h0m7.4 3.7h0m1.2 -2.7h0m0.7 -1.2h0m1.9 3.6h0m2.5 0h0m14.6 1.2h0m9.7 -0.3h0m2.7 -0.7h0m6.2 -3.2h0m0.4 2.5h0m1.9 -0.4h0m2.6 -0.5h0m1 -2.6h0m6 2.3h0m5.4 3h0m4.8 -3.2h0m-15.7 5.5h0m-0.8 3.5h0m-9.6 -1.3h0m-2.5 0.9h0m-0.8 -0.3h0m-16.6 0.7h0m-12.1 -2.8h0m-23.3 -0.9h0m-2.5 1.3h0m-15.5 -1.4h0m-1.2 3h0m-0.7 -3.7h0m-11.4 1.6h0m-3 2.7h0m-7.1 -2.3h0m-8 -2.3h0m-8.8 0.6h0m-0.2 2.3h0m4.4 5.2h0m3.1 -2.4h0m10.2 0.9h0m5 3.2h0m2.7 -0.9h0m4.5 -1.7h0m0.4 0.5h0m23.5 3.1h0m1.7 -4.4h0m14 4.2h0m1.9 0.3h0m13.8 0.1h0m3.1 -0.9h0m10.3 0.8h0m0.8 -4.3h0m3.5 -0.8h0m0.1 4.9h0m8.4 -2.3h0m14.9 0.4h0m14.5 -2.1h0m2 3.7h0m-8.1 6.6h0m-11.4 -2.5h0m-17.2 0.5h0m-2.3 2.4h0m-1.1 -5.1h0m-18.1 2.5h0m-5.1 -2.9h0m-3.5 1.4h0m-15.9 -0.4h0m-9.1 0h0m-9.3 -0.1h0m-4 1.1h0m-1.4 1.9h0m-5.8 -0.8h0m-1 0.5h0m-11.4 1.7h0m-9.8 -4.4h0m-0.3 2.1h0m-7.9 1.8h0m1.9 6.6h0m3.7 -1.9h0m21 0.3h0m4.8 1h0m13.3 -2.2h0m7.2 -2.8h0m3.6 4.3h0m0.3 -2.8h0m8.8 0.2h0m0.2 0.1h0m17.9 4.1h0m6.3 -4.2h0m12.6 -0.1h0m17.3 3.7h0m2.1 -3.2h0m5.6 3.2h0m4.2 -4.4h0m9.7 0.4h0m1.6 6.6h0m-3.9 -0.9h0m-5.2 3.6h0m-7.2 -3.7h0m-10.6 4.6h0m-11.8 -3.2h0m-9.6 -0.6h0m-30.2 2.2h0m-9.6 -0.1h0m-1.1 0.5h0m-3.1 -2.8h0m-21.6 -0.5h0m-11.5 1.3h0m-6.7 7.8h0m3.1 -1.7h0m2.1 3.1h0m6 -4.4h0m9.7 2.8h0m10.5 1.2h0m15.5 -4h0m29 2.8h0m4.7 -3.8h0m9.1 3.6h0m0.8 -3.3h0m6.3 3.6h0m0.1 -0.3h0m32.6 -3h0m-20.5 7.1h0m-4.1 2.2h0m0 -4h0m-12 4h0m-7.5 1.7h0m-24.7 -3.4h0m-11.5 1.8h0m-3 -1.1h0m-0.7 -1.6h0m-9.2 1h0m-3 0.7h0m-9.1 -0.5h0m-15.9 0.3h0m-4 -2.9h0m-9.7 5.7h0m2.7 3.3h0m6.4 -0.6h0m15.4 -0.7h0m12.1 0.5h0m11.1 -0.3h0m4.9 -0.8h0m7 -0.5h0m2 2h0m22.9 0.6h0m24.5 -1h0m0.9 -1.9h0m2.7 0.2h0"/><path fill="none" stroke="#c02848" stroke-width="1.2" stroke-linecap="round" stroke-opacity="0.7" d="M174.9 605.6h0m-8.7 5.8h0m-78.4 -3.7h0m-10.6 8.4h0m9.3 -1.9h0m20 -0.2h0m4.8 3.9h0m0.5 -3.8h0m11.3 1.1h0m0.7 1h0m7.9 0.6h0m34.8 -1.2h0m-17.6 8.3h0m-8.9 -1.7h0m-0.8 -0.2h0m-15.8 -4h0m-43.1 1.5h0m-7.6 3.5h0m-5.4 -2.3h0m-17.2 2.4h0m6.5 4.2h0m1.4 2.1h0m3.6 -0.9h0m15.9 -3.6h0m0.8 2.4h0m4.1 0.3h0m17.2 -1.1h0m29.6 -1.9h0m7.3 1.4h0m10.8 -0.7h0m2 0.8h0m26 -1.5h0m5.2 0.8h0m-13.9 8.4h0m-1.5 -1.2h0m-10.4 2.9h0m-7.6 -0.1h0m-16.8 -3.9h0m-5.4 1.8h0m-21.5 -3.1h0m-24.5 3.7h0m-0.6 -0.8h0m-23.7 2.3h0m-8.8 -1.3h0m-1 4.4h0m1.8 1.6h0m2.8 -0.9h0m4.1 1.3h0m19.9 -3.3h0m37.8 4h0m0 -3.4h0m62.9 3.3h0m2.9 -2h0m7 1.4h0m-21.4 2.5h0m-2.5 4.1h0m-4.5 -1.1h0m-5 -1.1h0m-5.2 0.3h0m-29 0.9h0m-56.2 0h0m-1.5 -2.8h0m-6.5 -0.2h0m3.3 10.7h0m30.5 -5.3h0m14.5 1.9h0m0.7 1.8h0m14.7 0.5h0m1.3 0h0m38.9 -0.5h0m5.3 -1.9h0m12.2 0.8h0m4.7 1h0m-7.2 7.5h0m-12.2 -4.4h0m-6.7 4.2h0m-0.1 -4.3h0m-2.4 2.3h0m-3.7 -1.1h0m-41.6 0.4h0m-0.8 2h0m-4.5 -4.6h0m-17.6 1.8h0m-8.7 2h0m-18 1.5h0m-12.3 2.9h0m29.8 0.9h0m43.1 -2.2h0m16.7 0h0m8.8 -0.8h0m12.1 0.5h0m3.3 2h0m19 6.5h0m-14.9 -1.8h0m-43.3 0.9h0m-12.9 3.5h0m-2.2 -0.2h0m-7.4 -2.7h0m-43.8 0.1h0m-8.3 -1.4h0m2.3 9.8h0m22 -3.6h0m6.4 3.8h0m6.9 -3.6h0m1.5 -1h0m1.6 2.2h0m3.3 0.3h0m2.4 0.6h0m5.7 -2.2h0m25.8 -1.5h0m21.7 0.2h0m7.1 3.9h0m6.6 -3.5h0m14.6 7.3h0m-18 0.6h0m-1.3 -0.4h0m-1 0.9h0m-4.4 0.5h0m-22.7 -1.6h0m-12.4 -1.6h0m-3.5 5h0m-12.7 -1.5h0m-28.2 0.4h0m-24.8 -4.5h0m12.3 8h0m5 0.1h0m25 1.2h0m13.5 -3.4h0m8.7 0.8h0m2.7 2.2h0m24.1 -2.3h0m18.4 4.9h0m21.8 -3.3h0m2.4 3.2h0m6.7 5.2h0m-2.1 -2.2h0m-2.3 2.1h0m-2.4 -3.7h0m-10.2 -0.5h0m-3.3 0.8h0m-26.4 0.3h0m-5.5 3.3h0m-14 -0.2h0m-11.9 -3.1h0m-1 0.9h0m-0.5 -0.9h0m-0.7 2.1h0m-34.1 0.4h0m-19 0.5h0m10.5 7.3h0m37.6 -3.8h0m5.2 1.8h0m4.9 2h0m3.7 -0.4h0m21.9 0.3h0m4.4 -0.2h0m5.1 -5h0m6.6 1.1h0m12 0.7h0m14.4 0.2h0m9.1 5h0m-7.6 -0.5h0m-25.6 1.1h0m-14.2 1.9h0m-11.3 -1.8h0m-26.4 0.9h0m-42.9 -1.3h0m-14.5 9h0m11 -1.9h0m16.4 2.3h0m34.9 -4.8h0m2.8 3.3h0m35.1 -1.4h0m6.7 3.6h0m11.3 -5.1h0m0.8 2.9h0m8.7 7.1h0m-27.7 -4.5h0m-22.6 1.5h0m-44.6 2.9h0m-17.6 -4.1h0m-9.8 2.2h0m-4 4.9h0m22.9 2.3h0m11.4 -1.6h0m1.6 1.7h0m1 -3.4h0m12.7 4.3h0m0.7 0.3h0m24.4 -1.3h0m19.7 -1.5h0m5.1 -0.9h0m14.6 0.2h0m0.6 0h0m1.9 2h0m5.5 0.9h0m12.4 -1.8h0m-3.8 4.7h0m-16.3 1.3h0m-10.7 1.7h0m-10.9 -2.7h0m-3.9 3.4h0m-20 -1.2h0m-4.6 -2h0m-0.4 0.7h0m-5.5 -2.5h0m-17.2 1.5h0m-1.2 2.2h0m-5.1 -3.6h0m-14 3.9h0m-21.8 -3.9h0m1.4 7.8h0m6.9 1.7h0m11.3 -2.9h0m17.1 -1h0m4.7 2.8h0m12.5 0.1h0m16.2 1.8h0m4.9 -4h0m31.9 0.3h0m26.5 9.2h0m-8.2 1.4h0m-2.1 -1.2h0m-3.7 0.6h0m-7 -0.2h0m-12 -4.7h0m-29.6 1.5h0m-14.3 1.1h0m-16.3 0h0m-0.6 -1h0m-3.9 2.7h0m-6.4 -2.7h0m-13.2 2.3h0m-0.4 1.3h0m3 4.2h0m2.3 -1.1h0m35.5 -1.9h0m25.2 2.1h0m4.4 -0.5h0m16 0.4h0m19 -1.5h0m6.7 1.4h0"/><path fill="none" stroke="#c02848" stroke-width="1.6" stroke-linecap="round" stroke-opacity="0.7" d="M46.4 605.6h0m122.1 -0.3h0m12.4 2.4h0m-7.5 3.4h0m-1 -2.8h0m-4.6 1.5h0m-6.3 0.3h0m-7 -0.5h0m-20.4 0.3h0m-24.2 -1.6h0m-6.1 3.2h0m-8.8 -1.5h0m-2.7 0h0m-2.2 -3.3h0m-18.6 0.6h0m-1.6 4.2h0m-16 -3.6h0m29.3 6.5h0m13.2 -1.3h0m10.1 1.2h0m29.5 1.5h0m10.2 -1.1h0m9.5 -1.9h0m7 2.6h0m8.9 1.2h0m8.9 -0.6h0m-18.2 6.8h0m-26.5 -0.7h0m-1.6 -3.5h0m-7.8 3.9h0m-42.5 -2.6h0m-16.6 1.7h0m-0.2 -0.6h0m-21.3 1h0m2.4 5h0m5.3 0h0m36.8 1.5h0m11.9 -0.8h0m7.6 -3h0m8 2.4h0m2.9 1.3h0m4.3 -0.1h0m20 -0.9h0m1.8 -1.1h0m0.1 3h0m11 -1.1h0m26.5 -3.6h0m-5.7 6.8h0m-23.1 2.5h0m-6.2 -1.4h0m-16.7 1.7h0m-6.4 -0.1h0m-12.6 -3.8h0m-34.5 1.1h0m-12.3 4.1h0m-3.9 2.2h0m2.5 0.6h0m13.3 -1h0m4.8 -0.8h0m8.9 4.1h0m12.3 1.1h0m30.3 -2.6h0m48.5 6.2h0m-16.8 -0.3h0m-3.9 2.8h0m-10.8 0.1h0m-8.7 -1.5h0m-10.7 1.5h0m-8.8 -4.7h0m-1 1h0m-2.3 1.2h0m-21.2 0.1h0m-6.2 -1.6h0m-20.4 -1.7h0m-14.2 1.3h0m-11.3 3.1h0m-5.1 5h0m5.4 -3.1h0m18.7 1h0m27 4h0m10.6 -4.9h0m4.3 0.2h0m38.9 2.3h0m1.9 1h0m5.4 -3.6h0m0.4 5h0m8.9 -3.7h0m2.7 1.7h0m5.7 -0.7h0m-8.7 8.1h0m-21.1 -3.6h0m-59.8 -0.9h0m-19.9 1.4h0m-18.4 1h0m-2.1 -1.3h0m14.3 6.8h0m11 -2.3h0m28.5 2.8h0m7.5 0.1h0m7.1 -2.8h0m24.1 0.5h0m10.7 3.9h0m12.8 0.1h0m3.9 -1.2h0m2.6 -3h0m12 6.5h0m-1.4 3.9h0m-17.4 -1.7h0m-2.1 -2.3h0m-6.6 4.1h0m-5.9 0.6h0m-24.4 0.2h0m-20.9 -2.1h0m-2.9 2.1h0m-2.2 -0.5h0m-22.8 -1.3h0m-3.2 0h0m-6 -0.9h0m-7.6 1.6h0m-11.8 4.1h0m2.8 -1.9h0m10.5 -0.8h0m2.1 5.6h0m9.5 -4.1h0m35 3.1h0m3.8 -0.3h0m6.5 -0.1h0m11.9 -0.1h0m16.9 -1.2h0m15.1 2.5h0m18.8 -2.7h0m3.4 0.9h0m4.2 0.8h0m1.9 3.2h0m-4.6 2.8h0m-5.6 1.5h0m-5.3 -3.7h0m-42 1h0m-16.4 -2.1h0m-2.6 -0.2h0m-9.3 0.1h0m-28.4 0.9h0m-8.2 0.8h0m-1.2 1.9h0m-11.2 -1.1h0m-3.9 -2.3h0m-2 6.8h0m12.6 0.1h0m6.9 -0.1h0m4.4 1.2h0m1.2 0.3h0m9.1 1h0m7.6 -0.9h0m19.1 0.7h0m26.8 -2.5h0m8.3 -0.1h0m11.7 -1.4h0m14.9 4.1h0m10.7 0.5h0m-0.2 5.3h0m-24 -1.6h0m-6 -0.9h0m-10.9 3.1h0m-0.1 -2.8h0m-1.8 2.4h0m-3.5 -2.2h0m-13.7 -0.3h0m-1 3.4h0m-14.6 -3.4h0m-0.5 -0.2h0m-24.5 -0.7h0m-30.7 0.7h0m-0.9 5.1h0m3.5 3.8h0m5.9 -2.8h0m6 0.6h0m4.4 3.1h0m48.2 -2h0m13.8 0.4h0m8.1 -3.8h0m2.3 2.8h0m8 0.9h0m1.6 0.6h0m10 -1.1h0m5.8 1h0m12.1 -2.2h0m6.9 -1.6h0m-14.6 9.8h0m-11.9 -1.7h0m-23.4 1.9h0m-6.8 -1.4h0m-0.4 0.6h0m-3 -2.7h0m-12.5 0.6h0m-3.7 -1.5h0m-42.7 0.2h0m-6.8 1.2h0m-2.1 0.7h0m-4.6 0.6h0m9.3 3.9h0m6.2 2.4h0m1.8 2.4h0m20.3 -3.6h0m14.9 2.6h0m12.8 -3.2h0m32.4 1.4h0m10.4 -2.7h0m24.4 3.8h0m2 -2.4h0m-11 10h0m-22.6 -4h0m-18.8 2.2h0m-23 -2.3h0m-27.3 3h0m-23.1 -2.7h0m-15.1 -1.5h0m25.4 8.5h0m41.9 -2.1h0m6.2 3.2h0m7 -2.6h0m3.5 2.4h0m1.4 -1.6h0m14.6 1.2h0m22.6 1.8h0m2.3 -4.4h0m11.7 9.5h0m-8.8 -3.4h0m-2 0.5h0m-8.9 4.5h0m-12.9 -2.9h0m-32.9 2.2h0m-32.5 -4.8h0m-24.3 0h0m-13 3.9h0m11.6 7.9h0m5 -0.4h0m19.6 -2.9h0m10 -1.3h0m3.7 -1.3h0m17.5 5h0m15.1 0.9h0m0.4 -3.2h0m0.7 -0.5h0m19.9 -0.7h0m2.5 1.3h0m11.4 -1.4h0m11.4 4.4h0m8.4 -2.4h0m2.2 8h0m-7 0.2h0m-3.5 -3.3h0m-17.7 -0.2h0m-32.2 2.3h0m-8.9 -3.3h0m-18.2 2.9h0m-4.3 5.4h0m15.4 -2.7h0m46.4 2.7h0"/><path fill="none" stroke="#f4eef8" stroke-width="1" stroke-linecap="round" d="M140.3 608.4h0m-83.7 0.9h0m-11.7 -3.1h0m5.7 10.2h0m17.9 -3.5h0m70.1 -0.9h0m29.7 0.5h0m-2.5 8.3h0m-47.6 -0.4h0m-36.8 0.3h0m-24.2 8.6h0m26.3 -2.7h0m10.7 -1.5h0m36.5 0.8h0m43.7 8.6h0m-2.4 -1.2h0m-27.3 -0.7h0m-33.7 0.6h0m-9 -0.7h0m-3.3 -1.3h0m-32 1h0m-14.2 1.7h0m-9.6 5.6h0m35 -3.2h0m11.3 0.3h0m42.7 2.1h0m8.8 -2.3h0m32.7 9.8h0m-5.6 -3.4h0m-1.5 1.9h0m-4.3 -2h0m-59.9 0.7h0m-28.2 8.7h0m25.9 -3.9h0m0.9 1.4h0m77.6 4.9h0m-86.9 4.9h0m-20.3 -3.7h0m-12.4 1.6h0m1.8 2.9h0m116.9 3.2h0m-2.2 4h0m-31.8 1.5h0m-20.3 -0.5h0m-63.1 1.7h0m-14.5 0.1h0m20.4 7.2h0m86 5.4h0m0 0.2h0m-25.5 -2h0m-11.1 -2.4h0m-60.2 1.6h0m-2.9 -1.1h0m-1.1 2.5h0m6.8 4.8h0m4.4 7.6h0m-20.7 2.6h0m27.6 4.6h0m31.3 -1.3h0m19.2 -3.5h0m24.7 5.3h0m18.8 -2.4h0m1.8 1.9h0m2.6 5.2h0m-6.4 -1.8h0m-38.9 1.7h0m-58.8 -4.3h0m-6.3 11.9h0m42.8 -0.1h0m28.3 -0.8h0m52.1 2.5h0m-1.7 2.2h0m-24.6 -2.8h0m-112.1 0.8h0m36.8 8.2h0m9.4 -1.3h0m9.9 0.5h0m0.9 2.5h0m13.7 0.3h0m30.1 -2.4h0m3.5 -3h0m2.6 3.4h0m3.4 1.3h0m23.5 -1h0m-7.3 5.8h0m-8.5 1.1h0m-53.2 -2.3h0m-37.2 1.4h0m-0.9 -3.7h0m-15.6 4.1h0m31.5 3.8h0m22.8 -1.4h0m2.8 2.4h0m12.2 5h0m-14.4 1.4h0m-9.7 -2.1h0m-24.5 -0.6h0m-4.7 6.2h0m81.5 -1h0"/><path fill="none" stroke="#f4eef8" stroke-width="1.4" stroke-linecap="round" d="M180.4 610.8h0m-30.8 -1.4h0m-27.9 -0.2h0m-9.1 0.3h0m-4 -2.1h0m-60.6 4.3h0m11.2 3h0m113.4 -0.7h0m-40.4 4.4h0m-7.8 1.8h0m-20.2 0.3h0m-6 -1.6h0m-6.7 -0.1h0m-36.6 8.2h0m4.9 -2.3h0m31 3.9h0m55 -2.7h0m2.6 2.4h0m9.5 -0.7h0m6.3 6.4h0m-50.1 -0.1h0m-46.9 7.2h0m33.5 -2.3h0m30.6 0.6h0m35.2 2.5h0m3.8 -1.2h0m-10.1 6.2h0m-5.7 -2.4h0m-14.1 2.3h0m-1.6 0.8h0m-18.9 -4.2h0m-41.3 0.5h0m-35.5 10h0m39.1 -4h0m0.5 -0.8h0m75 3.2h0m20 0.6h0m-15.8 2.1h0m-1.9 3.4h0m-25.4 -4.4h0m-37.5 4.3h0m-19.6 1.6h0m-18.4 -3.1h0m-0.9 2.3h0m-10.6 6.8h0m32.4 -4.8h0m53.8 8.7h0m-2.5 -2.4h0m-15.2 3h0m-8.4 -0.3h0m-14.3 -1h0m-45 6.2h0m1 -1h0m30.7 2.9h0m23.8 -1.7h0m52.9 -1.3h0m19.3 1.7h0m-87.4 3.9h0m-1 -0.6h0m-32.5 2h0m79.8 5.8h0m49.7 1.5h0m-12.3 7.1h0m-16.7 -1.4h0m-36.9 0.8h0m-6.5 0.3h0m-52.3 4.3h0m7.2 -2.9h0m15.3 3.6h0m32.4 -4.1h0m16.8 2.1h0m41.9 6.3h0m-100.4 0.7h0m-11.4 5.6h0m115.1 6.5h0m-20.3 -2.3h0m-32 -0.8h0m-71.6 5.3h0m71.8 5h0m1.7 -1.6h0m6.7 2.3h0m26.6 -1.8h0m0 3.4h0m-4.5 4.9h0m-8.2 -5.3h0m-1.4 4.4h0m-6 -4.3h0m-37.2 3.5h0m-13.9 -3h0m-33.3 -1h0m36 8.6h0m34.2 -1.9h0m49 10.4h0m-1.5 -1.2h0m-25.5 -1.9h0m-30.7 0h0m-6.9 3.3h0m-16.1 -1.9h0m-4.1 1.3h0m-28.9 4.3h0m34.1 -1.3h0"/><path d="M44.3 615.2 V612.6 H66.5 V615.2" fill="none" stroke="#f8f4fa" stroke-width="1.3"/><text x="55.4" y="610.8" font-size="4" text-anchor="middle" font-family="Liberation Sans" fill="#f0e8f4">50um</text></g><g clip-path="url(#cih)" filter="url(#soft)"><rect x="185.0" y="605.0" width="159.7" height="143.0" fill="#b8b0d0"/><path fill="none" stroke="#3a3c98" stroke-width="1.6" stroke-linecap="round" stroke-opacity="0.9" d="M214.4 605.3h0m96.8 0.4h0m33.3 -0.2h0m-0.9 0.6h0m-1.2 3.1h0m-3.9 1.3h0m-2.8 -0.3h0m-9.8 -3.1h0m-10.6 1.9h0m-12.1 -0.6h0m-7.7 1.7h0m-8.5 -3.8h0m-11.5 1.6h0m-14.3 1h0m-3 2h0m-6 0.7h0m-0.3 -4.1h0m-1.3 2.2h0m-0.2 -1.8h0m-3.8 3h0m-3.6 -0.5h0m-5.4 -3.2h0m-9.2 4h0m-5.3 -1.3h0m-1.7 -1.4h0m-11.2 0.5h0m-19.2 4.9h0m3.2 1.7h0m14.4 -0.1h0m5.5 2.1h0m7.7 -3.9h0m25.9 2.3h0m4.3 1.9h0m6.8 -5.4h0m3.3 3.4h0m6.8 1.3h0m2.5 -2.5h0m0.3 -0.7h0m4.7 2.2h0m9.8 0.2h0m1.8 -1h0m6.5 -2.2h0m21.5 0h0m1.4 3h0m7.5 -1.9h0m2.8 1.8h0m0 -4.1h0m16.4 0.7h0m-3.1 9.9h0m-3 0.8h0m-4.2 -0.2h0m-0.8 0.5h0m-7.1 -4.4h0m-1.6 0.5h0m-17.3 -0.9h0m-1.2 0.6h0m-14.2 4.3h0m-1.5 -0.2h0m-5.6 -3.4h0m-0.7 0.2h0m-11.4 0.6h0m-17.3 2.8h0m-0.3 -3h0m-2 2.3h0m-5 -3.8h0m-9.3 3.6h0m-4.4 -3.1h0m0 -0.4h0m-2.5 4.1h0m-4.8 -1.4h0m-0.4 -0.7h0m-9.1 -1.6h0m-0.9 0.8h0m-6.7 -1.7h0m-23.4 7.5h0m2.2 2.5h0m3.9 -4.8h0m1.8 3.7h0m51 -1.4h0m14.8 -1.9h0m7.2 3.3h0m17.2 -2.7h0m0.8 0h0m17 0.6h0m5.9 3.4h0m12.7 -3.8h0m4 0.2h0m1.7 0.5h0m2.3 -1.3h0m7.2 -0.7h0m0.2 5.8h0m5.3 -5.7h0m-11.5 10h0m-1.5 -2.5h0m-12.2 3.5h0m-2.2 -4.8h0m-19.4 4.5h0m-10.6 -2h0m-13.6 -2.6h0m-19.3 0.2h0m-7.8 3.4h0m-1.2 -0.4h0m-10.7 0.3h0m-5.6 0.1h0m-7 -0.3h0m-1.5 -0.9h0m-20.1 0.5h0m-1.9 -2.6h0m-9.5 1.7h0m27.8 6.9h0m8.1 -1.5h0m17.6 0.8h0m5.7 -0.9h0m1.9 3.8h0m4.1 -3.9h0m7.2 1.4h0m0.3 0.7h0m0 -1.3h0m4.3 1.9h0m2.1 -2h0m14.8 3.1h0m3.6 -2.2h0m11.2 2.8h0m6.6 -5.3h0m2.5 4.7h0m6.1 -5.2h0m0.3 0.2h0m3.5 4.2h0m15.1 -0.3h0m0.6 -0.4h0m11.4 2.7h0m-2 1.1h0m-5.1 2.4h0m-14.2 -1.4h0m-2.6 -0.4h0m-13.7 1.4h0m-28.4 -0.2h0m-1.2 0.8h0m-12.1 1.5h0m-5.4 -2.3h0m-22.2 -3h0m-8.6 2.7h0m-1.6 0.4h0m-3.5 -1.2h0m-26.8 -0.7h0m-6.7 1.8h0m17.9 3.1h0m4.5 3.7h0m10.1 -2h0m4.4 2.5h0m4.9 -2.4h0m7.1 1.5h0m0.8 -3.7h0m0.4 0.3h0m10.7 2.5h0m4 -1.4h0m4.3 3.5h0m5.9 -4.1h0m20.1 -0.7h0m27 4.3h0m1.3 -0.9h0m15.6 -1h0m1.8 -1.5h0m7.2 1.4h0m1.3 -0.7h0m4.1 3.8h0m4.4 -4.6h0m-0.3 7.9h0m-6.1 3h0m-4.7 -2.5h0m-18.7 0.7h0m-2.9 -1.5h0m-3.5 0.6h0m-10 -0.7h0m-18.2 -0.7h0m-30.6 -1.4h0m-7.7 1.8h0m-14.5 3.3h0m-0.1 0.4h0m-13.1 -3.5h0m-13.8 -2.1h0m-6 5.3h0m-0.6 -1.7h0m-0.8 0.9h0m-1.9 0.6h0m-0.4 -4.7h0m-5 4.8h0m2.9 2.2h0m4.1 1.3h0m15.2 -0.3h0m3.9 3h0m0.5 -5.5h0m11.4 5.7h0m15.3 -3.8h0m2.3 -1.1h0m2.1 3.3h0m0.2 -2.1h0m4.8 2.8h0m1.5 -4.4h0m1.3 2.8h0m0.1 -3.1h0m0.3 5.3h0m8.1 -0.7h0m6 -4.3h0m8.6 0h0m2.3 3.7h0m0.5 1.4h0m41.9 -4.5h0m9.3 4.8h0m0.9 -5.3h0m12.7 -0.1h0m-2.5 11.1h0m-2.7 -1.7h0m-4.8 -3.4h0m-2.7 3.6h0m-0.9 -3.1h0m-1.3 4h0m-2.2 -1h0m-6.1 -3.9h0m-43.5 3.2h0m-9.4 -1.5h0m-10 4.1h0m-2.8 -2.4h0m-4.8 -1.8h0m-11.7 -0.7h0m-1.1 2.2h0m-1.4 -2.5h0m-3.4 3.2h0m-13.6 1.2h0m-3.3 -3.5h0m-1.7 1.7h0m0 -1.8h0m-10.7 -1.3h0m-7.9 3.4h0m15.8 6.4h0m2.1 -3.6h0m7.1 3.1h0m4.4 -3.1h0m8.3 3.8h0m8.7 1h0m1.7 -3.5h0m8 2.8h0m3.5 -0.1h0m8.6 -1.5h0m7.9 -2.9h0m2 4.2h0m13.7 -1.5h0m23.9 -0.2h0m9.6 0h0m6.8 2.4h0m0.8 -2.5h0m11.3 0.5h0m0.2 2.6h0m2.3 3.6h0m-9.1 -2.6h0m-52.8 1h0m-6.6 0.8h0m-28.7 -0.9h0m-1.4 -1.3h0m-3 0.1h0m-3.3 5.1h0m-5.9 -2h0m-15 1.3h0m-12.3 -0.2h0m-5.9 0.4h0m-6.3 -4.4h0m0.9 8.3h0m12.3 2.1h0m5.4 -3.5h0m2.4 3h0m8.2 -3.7h0m50.3 1.7h0m2.7 0h0m1 -2h0m0.7 1.1h0m1.2 3.7h0m4.4 -3.8h0m0.3 2.6h0m1.9 -1.9h0m0.1 -0.7h0m1.6 3h0m6.4 -1.8h0m6.7 0.8h0m10.4 2.4h0m10.5 -0.9h0m3.3 -4.8h0m9.7 0.3h0m10.6 5.4h0m0.9 -4.1h0m0.2 -0.8h0m-8 8.3h0m-0.8 0.5h0m-13.7 0.2h0m-11.4 -3.4h0m-8 2.8h0m-1.3 -2.7h0m-12.4 5h0m-8.7 -5.1h0m-0.9 1.2h0m-13.4 -0.2h0m-8 1.3h0m-7.7 2.7h0m-5.3 -3.1h0m-11.5 0.5h0m-2.9 2.7h0m-0.8 -3.3h0m-4.2 -0.4h0m-5.4 3.2h0m-0.4 0h0m-1.5 -0.9h0m-2.6 0.3h0m-7.5 -2.3h0m-12.3 1.1h0m-1.3 -0.7h0m-0.8 -0.3h0m3.4 6.3h0m0.4 2.6h0m8.7 -2.4h0m1.1 3.2h0m3.3 -4.3h0m4.9 -0.1h0m6.1 3h0m2.8 -1.2h0m0.9 -2h0m4.5 -1.1h0m38.7 2.5h0m0.6 -0.9h0m5 0.3h0m2.9 2.5h0m4.5 -0.9h0m10.6 -3.1h0m3.4 0.7h0m6.7 3.6h0m3.9 1h0m1.5 -4.5h0m8.3 0h0m12.2 3.9h0m0.2 0.2h0m6.1 -2.5h0m6 1.4h0m-4.4 3.9h0m-8 -0.8h0m-3.2 2.1h0m-18.8 1.7h0m-9.7 -0.3h0m-48.7 -4.2h0m-7.2 -0.8h0m-2.9 1.9h0m-0.1 0.6h0m-3.9 -2.4h0m-11.1 2.8h0m-1 -1.8h0m-1.5 0h0m-6.1 2h0m-3.2 1.5h0m-3.8 0.8h0m-7.7 -4.2h0m-1.7 4h0m-5.5 -1.5h0m-1.5 4.7h0m16.8 2.6h0m14.5 -1h0m13.5 1.9h0m4.6 -3h0m8.9 -0.5h0m21.3 -1.3h0m2.1 4.6h0m1.9 -1.7h0m2 -3.8h0m2.1 2.9h0m15.1 -1.7h0m14 1.6h0m1.3 -2.9h0m4.5 1.1h0m2 2h0m31.6 4.9h0m-0.6 2.7h0m-3.2 -2.4h0m-31 -1.8h0m-18.3 5.1h0m-0.6 -4.3h0m-6.3 4.5h0m-5.8 -4.2h0m-1.2 -1.3h0m-2.5 5.3h0m-19.5 -1h0m-0.1 -4.4h0m-6.4 4.1h0m-8.4 -2h0m-9.6 3.5h0m-7.8 -0.7h0m-12 -0.9h0m-9.7 0.1h0m-1.2 -0.5h0m-10.2 -3.7h0m-4.3 1.2h0m5.6 9.4h0m1.6 -4.5h0m2.5 0.1h0m16 2.7h0m8.7 2.6h0m10.8 -3.4h0m4.6 -1.1h0m2.2 4.5h0m4.5 -3.7h0m9.3 2.9h0m43.8 -3.9h0m0.4 1h0m8.6 -1.5h0m11.1 5.2h0m0.8 -2.6h0m1.4 1.9h0m21.3 -0.1h0m2.2 -0.3h0m-2.4 1.9h0m-40.3 3.6h0m-2 -1.3h0m-4.2 -0.5h0m-4.7 -0.2h0m-15.1 -1.4h0m-0.2 3.9h0m-4.8 0.3h0m-5.6 -4.2h0m-17.8 2h0m-18.2 -1.5h0m-3.3 4.3h0m-0.3 -1.4h0m-1.3 0h0m-1.8 -2.1h0m-13.1 1.8h0m-9.3 0.8h0m-8.4 -1h0m1.8 3.1h0m29.2 3.9h0m1.8 -3.5h0m3.1 2.5h0m10.9 0.7h0m4.7 -3.6h0m11.3 0.2h0m4.7 1.6h0m3.2 2.8h0m4.1 -1.7h0m13.3 -2.9h0m18.7 4.8h0m2.9 -0.2h0m1.7 0.3h0m0.7 -0.6h0m13.3 0.1h0m4.4 -1h0m1.2 -2.9h0m1.2 4.3h0m8.1 -4.6h0m4.9 0.6h0m10.3 8.4h0m-3.7 0.7h0m-2.2 0.2h0m-1.4 -0.9h0m-3.2 1.3h0m-2.4 -3.6h0m-30.1 1.4h0m-14.3 -1.3h0m-2.2 4.2h0m-2.6 -2.8h0m-0.7 0.7h0m-20.8 -2.2h0m-4.9 0.7h0m-1.1 0.4h0m-5.7 -1.3h0m-2.9 0.4h0m-1.1 0.5h0m-2.7 0.3h0m-11.7 -0.8h0m-9.7 -0.4h0m-10 3.3h0m-19.9 -3h0m0.6 7.1h0m13 0.4h0m4.3 -2.1h0m0.4 1.2h0m12.4 -2.1h0m4.6 0.6h0m7.5 1.1h0m6.4 0.9h0m3.9 -0.2h0m1.7 -0.2h0m4.7 0.7h0m4.7 -2.4h0m3.9 0.1h0m2.3 1h0m1.1 0.6h0m0.2 -0.4h0m8.6 -0.8h0m1.6 2.4h0m3.9 -2.5h0m2.9 -0.3h0m3 -0.7h0m11.5 2.7h0m8.7 -2.6h0m19.9 1.9h0m0.6 1.2h0m1.3 -2.3h0m8 2h0m10.5 -1h0"/><path fill="none" stroke="#3a3c98" stroke-width="2" stroke-linecap="round" stroke-opacity="0.9" d="M253.9 605.3h0m30.8 -0.1h0m42.2 0.7h0m13.9 5.4h0m-15.5 -0.7h0m-3.3 1h0m-2.2 -3.3h0m-3.8 0.5h0m-18.6 2.2h0m-1.3 0.8h0m-0.9 -0.3h0m-9.5 0.3h0m-2.7 -4h0m-1.4 -1.8h0m-13.7 4h0m-2.2 -1.1h0m-3.8 -2.3h0m-3.1 5h0m-1.6 -5.4h0m-8.9 0.1h0m-2.8 5h0m-0.7 -1.4h0m-10.7 1.6h0m-5.1 -2.4h0m-9.9 1.7h0m-11.3 -4.3h0m-8 1.1h0m-8.7 -0.1h0m-3.9 5.4h0m1.8 4.5h0m10.1 -3.3h0m1.3 3h0m0.5 -2.2h0m5.1 1h0m13.5 1.6h0m6.5 -4.7h0m11.1 0.9h0m1.6 -1.2h0m7.9 3.1h0m6.9 2.1h0m7.7 -5.1h0m4.3 3.4h0m5.8 -3.9h0m2.5 0.2h0m9 2h0m9.2 0.3h0m5.2 -0.1h0m5.8 0.9h0m4.7 -1.8h0m3.5 3.7h0m1.3 0.4h0m12 -2.5h0m3.8 7.5h0m-1.1 -1.5h0m-0.6 -1.2h0m-5.3 1.9h0m-4.3 -3.8h0m-2.4 1.9h0m-6.4 2h0m-1.1 -1.9h0m-25.2 1.5h0m-4.3 -1.6h0m-5.8 3.3h0m-6 -3.8h0m-8.9 4.3h0m-2.6 -4.8h0m-32.3 -0.6h0m-0.3 3.3h0m-0.8 -0.2h0m-6.2 0.7h0m-9.3 -4h0m-4.8 5.2h0m-6.9 -4.6h0m-8.6 0.6h0m11.6 9.4h0m0.3 -3.9h0m8.2 3.4h0m12.1 -3.4h0m1.6 -0.9h0m0.7 5.7h0m3.4 -1.8h0m12.7 -1.3h0m7.7 -0.1h0m7.5 -1.9h0m6.6 2.7h0m10.8 -1.2h0m18.2 3.8h0m12.1 -5.3h0m12.2 5.1h0m5.5 -3.6h0m15.8 -1.7h0m7.2 2h0m0.6 3.5h0m2.6 -3.4h0m1.9 2.7h0m-8.6 1.1h0m-5.4 0.7h0m-2.3 4.8h0m-0.4 -1.9h0m-13.6 -3.3h0m-0.3 0h0m-0.4 4.4h0m-9.4 -0.5h0m-10 0.5h0m-7.5 -1.1h0m-22.3 1.7h0m-6.1 -1.7h0m-2.5 -1.3h0m-1.6 2h0m-8.7 -2.8h0m-3.2 0.5h0m-3.9 0.8h0m-4.5 -0.1h0m-4.2 -2.1h0m-5.5 0.1h0m-22.1 1.2h0m-0.4 2.1h0m-13.2 -0.9h0m6.6 4.1h0m1.3 1.8h0m7.3 1.9h0m7.5 -0.1h0m14.3 -1.2h0m5 0.7h0m1 -3.2h0m8.8 0.1h0m1.1 0.1h0m7.9 1.7h0m12.5 -2h0m13.9 1.3h0m2.9 -0.5h0m7.5 2.7h0m2.2 -1.6h0m4.3 1.7h0m36.8 -4.7h0m10.7 5h0m4.1 3.3h0m-2.1 1.9h0m-6.9 -2.7h0m-0.6 -0.8h0m-16.6 0.1h0m-2.9 4.1h0m-7.2 -0.7h0m-1.2 -4.3h0m-6.2 5.8h0m-17.1 -5.8h0m-0.2 5.8h0m-7.4 -4.7h0m-10.6 4.7h0m-16.3 -0.9h0m-16 -4.2h0m-0.9 1.1h0m-20.6 -1.8h0m-2.4 2.1h0m-2.6 3.1h0m-4.6 -2.7h0m-3.9 2h0m-2.2 -1.8h0m-0.3 -2.2h0m-6.5 -0.4h0m-3 2.6h0m4.3 8.5h0m2.4 -5h0m5.4 0.5h0m0.4 4.1h0m17 0.7h0m16.7 -3.2h0m20.3 0.7h0m11.5 -0.8h0m8.1 1.1h0m7.7 -0.4h0m6.5 2.2h0m6 -0.3h0m6.1 -3h0m1.5 -0.9h0m21 0.4h0m1.3 4.1h0m7.4 -4.1h0m12.4 1.2h0m2.8 8.9h0m-1.2 -3.1h0m-6.6 -2.1h0m-0.9 0.4h0m-5.9 4.1h0m-12.7 -3.9h0m-1.1 3.4h0m-0.3 -2.9h0m-4.3 0.9h0m-6.7 3.5h0m-0.3 -3.6h0m-0.4 -1h0m-1.3 3.1h0m-4.1 -0.5h0m-2.7 -1.6h0m-1.5 -0.5h0m-0.1 2h0m-3.2 -1.3h0m-4.8 1.9h0m-10.6 1.4h0m-1.8 -5.1h0m-17.8 0.7h0m-0.9 1.8h0m-0.3 -0.8h0m-15 -0.7h0m-12.4 -1.5h0m-14.3 4.8h0m-5.8 -0.6h0m-9.7 0.4h0m-1.2 -3.9h0m-0.1 -0.2h0m-8.3 2.5h0m-1.4 -3h0m-1.3 2.6h0m7.5 6.2h0m4.7 -1.3h0m5.3 2.8h0m5 -4.4h0m6.9 2h0m0 3.3h0m4.6 -1.5h0m4.4 1h0m5.3 -2.4h0m4.4 2.5h0m15.1 -0.1h0m9.1 -4.1h0m0.3 0.2h0m14 -0.3h0m1.4 0.9h0m3 2.7h0m11.5 0.1h0m4 -2.2h0m4.8 2h0m1.9 -4h0m8.8 3h0m1.5 0h0m3.7 0.7h0m0.6 0.5h0m7.7 0.1h0m4.7 -1.5h0m18.7 -1.8h0m-14.8 8.1h0m-8 0h0m-3.7 -0.5h0m-6.2 0.7h0m-21.9 1h0m-2.1 0.1h0m0 -3.6h0m-11.4 -0.3h0m-1.5 5.1h0m-4.6 -2.1h0m-6.9 1.8h0m-8.7 -4.4h0m-4.7 2.8h0m-5.6 -3.4h0m-7.8 0.8h0m-7.9 3.8h0m-0.3 -3.7h0m-4.6 3.7h0m-0.3 -1.5h0m-12.2 2h0m-1.1 0.3h0m-8.2 -1.1h0m-2.3 5.7h0m0.6 -3.4h0m19 2.2h0m16 1h0m10.4 0h0m6.1 0.4h0m5 0.2h0m3.8 -3.9h0m10.3 0.7h0m20.3 2.8h0m2.7 -3h0m8.3 3.1h0m14.9 -2.4h0m8 3.2h0m4.5 -2.2h0m1.3 -0.1h0m8.3 0.5h0m0.3 -0.5h0m3.1 1.1h0m-11.4 7.5h0m-8.8 -5.4h0m-1.9 4.3h0m-1 -2.3h0m-1 0.3h0m-2.1 -0.9h0m-5.5 2.8h0m-0.4 -1.1h0m-8.3 2h0m-0.5 -2.7h0m-13.8 -2.3h0m-8.7 5.2h0m-17.9 -4.7h0m-0.2 -0.4h0m-10.1 1.6h0m-25.8 2.1h0m-0.9 -2.9h0m-2.3 1.9h0m-1.9 2.5h0m-15.2 -4.2h0m-13.2 0.4h0m-1.4 8.6h0m2.7 -0.5h0m1.6 -2.8h0m4.1 3.5h0m4.3 0h0m11.5 -3.5h0m10.9 2.6h0m0.3 -2.8h0m1.7 4.7h0m6.1 -4.9h0m0.3 2.7h0m1.2 -1.5h0m27.9 -1.7h0m15.4 2h0m1.6 2h0m0.2 0.2h0m2.6 -0.8h0m6.9 -2.6h0m13.6 4.1h0m4 -4.6h0m13 1.8h0m2.3 -1.5h0m18.1 4.3h0m0.2 1.1h0m-8.8 5.2h0m-9.9 -0.1h0m-24.8 -4.2h0m-10.4 0.2h0m-3.1 0.8h0m-21.5 1.5h0m-2.4 0.4h0m-1.2 -3.7h0m-5.1 0.2h0m-9.8 0.9h0m-16.6 1.7h0m-19.9 1h0m-1 -0.4h0m-4.2 -3.4h0m-2.5 2.7h0m-14.2 4.6h0m0.8 -1.2h0m1.2 3.7h0m16.9 -0.7h0m4.3 1.1h0m0.1 -4.2h0m1.7 1.7h0m0.2 3.3h0m6.7 -2.8h0m3.1 1.3h0m1 0.7h0m24.1 -2.2h0m0.4 1.8h0m8.7 -1.3h0m14 0.4h0m11.3 2.5h0m5.3 -1.7h0m3.4 0.2h0m2.1 0h0m4.4 -0.8h0m5.2 0.3h0m15.9 -1.2h0m3 1.9h0m2.7 -1.4h0m19.3 0.2h0m-25.3 5.3h0m-4.3 1h0m-3.5 0.4h0m-11.9 -1.1h0m-3.1 -1.6h0m-2 1h0m-4.8 0.6h0m-3.2 -2.1h0m-4.1 4.9h0m-6.3 -2h0m-11.3 0.4h0m0 -0.8h0m-4.9 -2.6h0m-4.7 2.3h0m-0.1 1.3h0m-22.2 -4h0m-2.2 3h0m-7.1 2.6h0m-18.7 -2.2h0m-14.7 -2.5h0m9.1 7.5h0m6 -2.6h0m6.6 2.7h0m0.7 -2.1h0m0.5 0.1h0m3.8 -0.2h0m10.3 4.6h0m2.4 -1.8h0m1.5 2.2h0m0.3 -3.1h0m5 -1.1h0m6.8 3.7h0m2.9 -1.2h0m4.3 0h0m1.2 2.1h0m1.5 -3.2h0m45.6 -0.4h0m1.2 -2.2h0m7.4 4.2h0m1.3 -1.9h0m3.5 -0.1h0m6.4 1h0m10.5 2.5h0m7.1 -5.5h0m3.6 0.2h0m3.3 1h0m1.6 8.8h0m-8.5 -4.2h0m-4 1.8h0m-1.7 2.2h0m-2.9 -2.6h0m-6.6 -0.5h0m-19.6 -1h0m-3.4 2.3h0m-12.7 -0.1h0m-6.5 0.3h0m-8.9 0.1h0m-1.5 -1.7h0m-0.7 4.4h0m-14.9 -0.7h0m-23.2 -0.1h0m-4.7 -4.5h0m-4.1 3.9h0m-1.5 -0.1h0m-1.7 -3.8h0m-13 2.3h0m-14.3 -0.8h0m16.2 7.4h0m17.2 -2.9h0m7.2 0h0m9.9 1.1h0m12.5 -0.6h0m1.6 2.3h0m14.2 0.4h0m9.5 -1.7h0m6.8 2.4h0m15.6 -2.5h0m7.6 1.7h0m10.1 -0.6h0m2.4 -1.5h0m6.8 1h0m16.7 -0.7h0m-3.8 9.7h0m-7.3 -4.4h0m-17.2 -0.6h0m-6.8 3h0m-4.7 2.3h0m-0.4 -3h0m-11.8 1.7h0m-4.3 -3.5h0m-6.7 4.5h0m-19.5 -5h0m-0.3 3h0m0 -2h0m-3.4 0h0m-2.1 3h0m-1.3 -0.9h0m-6.6 2.7h0m-4.4 0h0m-0.3 -1.7h0m-9.3 1.5h0m-0.5 -3.6h0m-8.1 0.7h0m-5 0.3h0m-9.3 2.6h0m-3.9 -5.4h0m-1.5 2.1h0m-8.5 -0.3h0m-4.2 2.7h0m-2.1 -0.5h0m2.7 1.8h0m0.9 2.8h0m12.2 -1.6h0m5.3 3.4h0m16 0.9h0m1.2 -3.1h0m2.2 2.1h0m11.9 -4.1h0m10.9 2.9h0m2.7 0.4h0m8 -1.9h0m3.2 -1.7h0m2.4 3.4h0m19.8 1.4h0m0.7 1h0m5.4 -4.8h0m0.8 -0.3h0m16.5 0h0m7.7 0.3h0m0.8 2.7h0m4.8 -2.6h0m0.1 -1h0m1.4 0h0m13.6 8.2h0m-9.4 -0.2h0m-8.6 -0.9h0m-5.5 2.1h0m-2.6 0h0m-4.1 -2.5h0m-4 1h0m-4.2 1.9h0m-4.8 1.7h0m-8.4 -1h0m-1.6 -4.3h0m-4.5 2.8h0m-14.1 -0.7h0m-3.5 1.4h0m-10.8 -2.8h0m-3.1 0.7h0m-9.6 0.6h0m-6.4 0.2h0m-7.4 -2.3h0m-6 0.4h0m-7.2 -0.1h0m-2.4 0h0m-0.2 2.7h0m-5.4 1.8h0m-1.5 -4.4h0m-8.1 4.5h0m-0.3 -0.8h0m-1.9 -3.9h0m-3.8 2.4h0m-3.9 3h0m11.8 1.4h0m24.9 0.9h0m36.6 1.4h0m13.3 -1.9h0m8.8 -0.2h0m6 0.5h0m7.6 1.6h0m5.7 -1.4h0m5.9 -1.7h0m4.8 1.5h0m10 -1.7h0m7.2 2.6h0m5.3 1h0"/><path fill="none" stroke="#3a3c98" stroke-width="2.6" stroke-linecap="round" stroke-opacity="0.9" d="M190.5 605.8h0m0.8 0.1h0m36.2 0h0m11.9 -0.2h0m9.7 -0.1h0m6.9 -0.4h0m41.1 0h0m32.9 2.9h0m-17.4 2.2h0m-4.5 -2.6h0m-6 3.5h0m-0.9 -3.4h0m-2.9 0.8h0m-4.5 1.6h0m-3.1 -2.9h0m-8.9 3.1h0m-2.8 -1.7h0m-7.4 1.5h0m-2.6 1.2h0m-11 -0.5h0m-1.5 -4h0m0 2.4h0m-4.8 -1.8h0m-28 0.2h0m-10.4 1.4h0m-19.2 2.5h0m-7.6 4.6h0m5.4 -4.2h0m0.6 4.6h0m3 -2.2h0m1.2 0.3h0m2.3 0.2h0m2 -1.7h0m1.4 2.9h0m2 0.4h0m3.1 -2.3h0m0.2 2.5h0m3.7 -0.9h0m3.4 0.5h0m2.9 -1.9h0m11.5 0.2h0m1 1.2h0m4.9 -2.5h0m15.2 1.4h0m5.7 -1.9h0m13.3 1.1h0m0.8 -1.4h0m6 0.9h0m8.1 2.8h0m3.2 -3.3h0m0.2 -0.5h0m3.8 2.1h0m4.7 1.3h0m1.8 1.4h0m0.4 -5h0m6.9 1.8h0m11.9 3.4h0m9.5 -0.7h0m6.8 -4.1h0m2.8 1.6h0m-4.8 7.1h0m0 -2.8h0m-17.8 4.1h0m-12 -2.7h0m-3.2 0.9h0m-6.9 -1.9h0m-5.9 -0.2h0m-0.4 2.9h0m-1.8 1.3h0m-31 -2.6h0m-29.1 -0.3h0m-13.2 -1.9h0m-0.5 2.6h0m-5.3 -2h0m-0.5 5.2h0m-1.4 -0.9h0m-0.4 0.5h0m-5.4 -0.9h0m-2.1 -2.5h0m-1.4 3h0m-7.9 2.6h0m0.7 1.8h0m15.8 -2h0m9.4 2.7h0m0.3 -2.6h0m2.8 -0.9h0m0.3 2h0m1.3 -2.3h0m1.8 0.3h0m1.5 1.7h0m14.1 -1.1h0m0.7 2.2h0m6.9 -1.7h0m2.4 0.4h0m6.9 2.2h0m7.6 -0.7h0m11.9 0.8h0m5.3 -0.8h0m2.7 -3.6h0m4.3 2.4h0m0.4 3.4h0m15.3 -2.8h0m2.4 0.6h0m5.3 2.1h0m1.7 -1.6h0m0.5 0.9h0m6.8 -2.6h0m4 2.3h0m9 0.1h0m1.4 -1.9h0m4.2 -2.1h0m10 4.8h0m-16.2 0.9h0m-6.2 0.7h0m-16.7 0.6h0m-4.6 1.2h0m-3.9 0.9h0m-0.4 0.9h0m-7.8 0.8h0m-2.2 -3.8h0m-10 -0.3h0m-0.1 3.1h0m-6.7 -0.8h0m-3.4 0.4h0m-3.5 -2.3h0m-5.2 0.3h0m-2.6 -0.9h0m-3.1 3.9h0m-0.2 0h0m-5.1 -5.1h0m-6.7 2.1h0m-0.6 3.4h0m-4.1 0.1h0m-5.1 -4.5h0m-4.9 1h0m-6.8 -2h0m-1.2 2.5h0m-5.5 0h0m-7.6 -1.5h0m-2.4 2.2h0m-1 -0.3h0m-5.5 -0.4h0m-3.6 1.1h0m-0.5 7h0m3.1 0.5h0m8.1 -0.9h0m3.3 -4.5h0m8.8 0.6h0m2.6 4.9h0m1.5 -3h0m13.2 -1h0m8.5 -1.1h0m2.2 2h0m2.6 0.1h0m2 2.5h0m18.7 -0.8h0m10.3 -2.5h0m2.2 2h0m4.5 0.8h0m3.7 0.2h0m18.1 -4.1h0m2.1 0h0m7.8 1.6h0m12.8 -1.1h0m7.9 1h0m3.2 3.6h0m-18.3 4.9h0m-21.8 -0.1h0m-1.5 -3.9h0m0 0.9h0m-5 0h0m-5.7 2.2h0m-0.9 0.2h0m-0.2 -2.2h0m-0.3 3.3h0m-22.9 -0.1h0m-7.4 -1.6h0m-22 -2h0m-2 0.2h0m-4.1 3.4h0m-8.4 0.7h0m-14.6 -3h0m-3.9 1h0m-6.7 0.2h0m10.4 4h0m6.4 0.5h0m2.1 0.3h0m21.4 2.7h0m5.3 -0.3h0m46.3 -0.3h0m8.8 0.5h0m3.6 -2.3h0m1.5 -1.3h0m4 3.6h0m1.7 0.7h0m4.4 -4.3h0m1.3 2.8h0m1.8 -1.7h0m14.6 1.6h0m8.8 -0.9h0m5.2 -2.8h0m3.9 3h0m-4.8 3h0m-2.4 -0.5h0m-2.8 2.3h0m-17.2 -1.4h0m-27.7 1.4h0m-7.5 1.2h0m-7.1 1.2h0m-3.4 -3.3h0m-10.3 2.6h0m-2.4 -1.3h0m-6.8 1.2h0m-11.4 -2.1h0m-2.1 -0.8h0m-0.8 2.7h0m-11.9 -1.5h0m-7 -0.3h0m-1.4 0.4h0m-5.2 -0.3h0m-9.8 2.3h0m-2.7 0.5h0m-9.1 0.8h0m-0.3 -0.7h0m-0.5 -4.1h0m-2.9 10.2h0m7.7 0.2h0m10.1 0.6h0m0.6 -1.9h0m1.8 -1.4h0m1.6 1.5h0m0.9 -2.3h0m1.2 0.8h0m9.2 -0.6h0m6.8 1.7h0m0.9 -1.1h0m1.2 -1.6h0m0 -0.7h0m6.2 4.3h0m8.2 -4.2h0m19.3 -0.2h0m3.9 1.1h0m1.6 -1.1h0m18.3 1.9h0m2.5 -1.2h0m22.3 1.5h0m21.5 -0.6h0m0 1.6h0m2.8 -3.2h0m3.9 0h0m0.8 1.6h0m0.7 1.2h0m1.6 2.2h0m-8.4 3.8h0m-11.8 2.3h0m-4.3 -3.8h0m-9 -0.8h0m-1.8 1.3h0m-1.7 0.7h0m-2.5 -0.1h0m-22.4 3h0m-2.3 -4.7h0m-2.5 0.2h0m-4.4 1.2h0m-5.1 1.8h0m-3.7 1.5h0m-4.4 -1.4h0m-5.7 -0.7h0m-13 -1.3h0m-2 -1.5h0m-4.8 4.4h0m-11.8 -3.7h0m-2.5 2.9h0m-13.6 0.9h0m-7.6 -5h0m-3.5 -0.1h0m-4.4 8.5h0m15.7 -1h0m5.3 3h0m27.3 -1.4h0m7 -2.3h0m0.3 2.4h0m4.3 2.5h0m13.9 -3.9h0m3.8 -1.5h0m2.6 0h0m2.8 3.9h0m6.1 0.8h0m0 -1.7h0m4.1 -2.1h0m4.9 2.6h0m4.2 1.4h0m9.8 -0.9h0m3.8 -0.1h0m12.7 1.1h0m3.1 -4.7h0m7.5 3.3h0m7.3 0.7h0m4 3.7h0m-4 1.7h0m-3.6 -2.1h0m-23.9 1.5h0m-7.8 -0.3h0m-1.9 2.1h0m-9.4 -1.8h0m-2.7 -2.5h0m-1 0h0m-9.4 4.2h0m-8 -0.5h0m-8.4 -2h0m-0.1 -0.7h0m-1.4 0.8h0m-1.4 0.9h0m-14.2 -1.3h0m-0.5 1h0m-3.9 -0.9h0m-4.4 2.8h0m-7.6 -1.6h0m-4 -1.1h0m-2.1 1.2h0m-1.1 1.2h0m-7.5 0.6h0m-2.9 -1.6h0m-0.1 -0.5h0m-4.3 -1.1h0m-8.2 0.6h0m-4.4 2.1h0m-0.3 -0.7h0m2.7 5.7h0m1.9 1.4h0m3 -1.4h0m5.7 -1.6h0m12.2 0.7h0m5.6 -1.8h0m6.9 0.5h0m2.4 1h0m6.9 1.2h0m3.8 0.9h0m6.8 -3.1h0m17.3 3.4h0m18.5 -5.3h0m21.3 0.7h0m4.9 4.8h0m0.4 -1.1h0m10.3 -3.5h0m3.8 4h0m2.8 -4.8h0m10.9 5.2h0m2.1 0.3h0m-4.9 4.3h0m-10.6 -3.3h0m-5.3 2.3h0m-0.1 2.8h0m-2.1 -0.3h0m-29.4 -0.6h0m-5 0.8h0m-2.7 -1.4h0m-13.8 -2.4h0m-11.2 2.3h0m-22.8 0h0m0 -1.2h0m-7.5 2.8h0m-8.2 -4h0m-4.6 2h0m-3.5 -2.7h0m-1.4 1.7h0m-1.9 -0.8h0m-7.6 3.1h0m-9.1 -0.6h0m-1.1 -2.5h0m8 8.4h0m2.1 -1h0m3.3 -1.5h0m5.6 -0.2h0m1 -1.6h0m11.4 1.9h0m16.3 4h0m5.1 -1.1h0m7.7 0.4h0m21.9 -1.9h0m0.8 -0.8h0m17.4 0.3h0m1.1 -0.7h0m16.2 -1.3h0m11.1 3.7h0m4.5 -4.5h0m4.6 5.2h0m14.8 -5.2h0m-3.9 9.5h0m-25.6 1.1h0m-20.5 -3.9h0m-4.4 0h0m-7.3 0.2h0m-41.9 4.6h0m-9.9 -1.8h0m-6.3 2.2h0m-27.4 -5.5h0m-3 4h0m-2.2 1.8h0m5.3 0.7h0m8.5 0.9h0m3.8 -0.4h0m4.4 4.3h0m3.1 -1.3h0m6.6 -3.3h0m7.1 0.5h0m6.8 4.1h0m8.1 -0.3h0m3.1 -4.8h0m2.4 2h0m2.2 2.3h0m26 -0.1h0m9.7 -0.8h0m1.7 -1.7h0m11.9 -1.3h0m1 1.3h0m0.1 1.4h0m21.2 -0.6h0m1.2 -1.7h0m0.6 1.1h0m0.3 0.1h0m4.7 -0.1h0m8.3 3.1h0m1.1 -0.8h0m-2.3 1.4h0m-2 3.5h0m-20.8 2h0m-2.7 -5.4h0m-27.7 4.2h0m-12.5 -2.6h0m-0.1 3.5h0m-0.2 -2.3h0m-0.2 0.5h0m-1.2 -2.7h0m-14.6 2.4h0m-8.1 -1.6h0m-8.5 2.1h0m-0.8 2h0m-14 -3h0m-1.7 -1.1h0m-7.3 2.6h0m-2 0.8h0m-16.3 -3.8h0m-3.3 6.2h0m5.6 3.8h0m0.2 -2.4h0m3.4 2.1h0m12.2 -2h0m6.6 -2.2h0m3.5 1.5h0m9.6 3.1h0m5.4 -3h0m10.3 0.4h0m1.2 -1.5h0m2.1 -1.2h0m3.1 0.8h0m0 2.3h0m0.4 0.6h0m1.5 -0.6h0m16.8 -2.1h0m4.9 4.7h0m6.7 -4.6h0m5.2 4.6h0m3.5 -2.6h0m0 -1.7h0m1.4 -0.5h0m13.5 3.9h0m9.1 -3.3h0m4.4 -0.3h0m2 0h0m2 1.8h0m0.1 2.8h0m1.5 -0.5h0m3.8 -4.8h0m5.1 5.3h0m5.7 4.7h0m-2.3 -2h0m-5.8 2.4h0m-6.6 -0.5h0m-13.6 -0.9h0m-3 -1.8h0m-4.9 -1.1h0m-0.8 0.6h0m-1.7 2.4h0m-3 -2.5h0m-0.7 3.9h0m-3.3 -5h0m-2.3 3.9h0m-6.1 1.8h0m-9.9 -3.6h0m-7.1 0.4h0m-7.8 3h0m-5.4 0h0m-12.7 -0.8h0m-5.4 -2.8h0m-0.1 -0.9h0m-4.6 2.7h0m-14.7 -2.3h0m-2.8 2.5h0m-5.1 -3.4h0m-1.8 4.4h0m-7.5 -1.5h0m-5.6 -2.2h0m-0.6 0.9h0m-10.7 9h0m0.2 0.1h0m1.4 0.3h0m4.8 0.2h0m15 -1.9h0m10 -0.9h0m1.3 -2.9h0m7.5 1.3h0m11.5 2.4h0m2.2 -0.3h0m0 -3.3h0m14.2 2.8h0m5.8 0.3h0m4 -1.9h0m0.9 2.3h0m2.8 -0.9h0m1.3 -0.2h0m4.4 0h0m7.5 0.1h0m25.4 3.1h0m37.4 -2h0m0.6 -3.8h0m-1.6 11.5h0m-6.5 0h0m-16.4 0h0m-3.2 0.3h0m-0.9 -2h0m-1.9 1.2h0m-11.1 -3.8h0m-11 0.9h0m-1.8 -0.5h0m-1.7 3.5h0m-5.9 0.6h0m-3.7 -0.1h0m-6.6 -0.6h0m-14.4 -5h0m-0.1 0.3h0m-16.5 4.8h0m-21.7 -2.5h0m-6.5 -0.4h0m-15.7 1.6h0m11.5 5.3h0m28.9 -3h0m17.6 3.3h0m12.2 -3.3h0m7.5 2.1h0m26.2 -1.5h0m3.1 0.7h0m21.8 2.6h0m6.2 -3.1h0m0.1 -0.1h0"/><path fill="none" stroke="#c84060" stroke-width="1.2" stroke-linecap="round" stroke-opacity="0.7" d="M339.1 610.4h0m-3.8 -2.3h0m-9.5 3.1h0m-19.8 -2.2h0m-1.5 1.2h0m-4.3 -2.1h0m-20.7 -1.4h0m-20.2 1.9h0m-68.9 -1.7h0m-0.4 0h0m-4.7 0.9h0m9.2 9.6h0m19.5 -4.7h0m22.2 -0.5h0m3.1 4.5h0m20.7 -4.3h0m4.8 3.7h0m6.2 -2.3h0m13.1 3.8h0m18.9 -5.6h0m3.1 3.4h0m4.8 1.2h0m13.2 -1.6h0m9.1 -0.5h0m2.2 -1.9h0m5.6 5.7h0m-35.5 0.2h0m-32.2 5.2h0m-34.2 -3.3h0m-42.9 8h0m5.2 -0.9h0m19.7 1.6h0m38.4 -4.4h0m2.4 2.4h0m1.2 -1.9h0m36.9 1.4h0m30.2 -1.4h0m4.9 0.1h0m9.2 2.4h0m-15.2 6.2h0m-5.7 0.7h0m-14.5 -0.8h0m-6.4 -0.5h0m-5.2 -0.4h0m-6.2 -0.3h0m-17.6 -0.3h0m-31.8 -1.9h0m-2.3 5h0m-1.7 -1.9h0m-30.1 0.4h0m-2.2 -1.5h0m-15.6 0.9h0m15.8 8.4h0m20.9 -4.3h0m0.1 2.2h0m23.3 -2.9h0m5.2 1h0m9.2 3.5h0m30.5 -2.5h0m24.2 1h0m8.9 0.4h0m3.2 -1.2h0m2.3 7.9h0m-1.1 -2.2h0m-5.2 1.2h0m-19.9 0.3h0m-6.1 0h0m-61.5 -3.7h0m-49.6 6.7h0m24.4 4.2h0m17.1 -0.8h0m0.9 -2.7h0m2.8 0.2h0m23.2 -2h0m1.2 4h0m6.1 0.1h0m7.3 -1.7h0m13.4 -1h0m21 3.9h0m5.3 0.6h0m15.9 -4h0m-26.3 8.7h0m-43.1 -2.7h0m-10 2.7h0m-16.4 -2.6h0m-27.4 1.7h0m-4.6 -3.3h0m-0.4 1.6h0m-11.9 8.6h0m31.8 -0.6h0m99.9 -0.7h0m8.8 2.4h0m13.6 5.9h0m-17 -3h0m-7 -0.6h0m-2.5 -1.2h0m-1.9 2.5h0m-1.8 -3.3h0m-1 4.7h0m-6.9 -3.8h0m-8.6 1.2h0m-5.2 -1.9h0m-10.3 3.7h0m-11.7 -2.2h0m-73.9 -0.7h0m16.6 7.4h0m1.5 3.1h0m4.7 -1.1h0m2.3 -2.1h0m16.6 -1.4h0m7.8 0.3h0m9.4 3.1h0m15.3 -2.5h0m7.1 0.2h0m47.7 -0.3h0m-11.9 7.1h0m-13.2 -2h0m-0.7 0.3h0m-5 1.3h0m-10.2 1.7h0m-14 -1.1h0m-1.4 0.3h0m-5.2 -2.2h0m-7.9 1.5h0m-7.4 1.9h0m-11.2 -3.4h0m-21.9 3.6h0m-15.8 0.4h0m-11.4 4.1h0m5.1 1h0m14.5 0h0m11.6 -1.7h0m1.1 -1.4h0m4.7 0.8h0m8.5 3h0m5.5 -0.7h0m15.5 0.9h0m4.4 0.3h0m16.1 -4.2h0m3.9 2.3h0m9 -0.9h0m5.8 -2.3h0m8.4 0.8h0m13.5 4.5h0m15.1 6h0m-18.1 -4.2h0m-5.7 1.6h0m-0.6 -0.5h0m-2.5 -0.7h0m-15.7 1.9h0m-0.4 0.1h0m-6.8 -3.3h0m-17.3 4.9h0m-1.5 -2.7h0m-17.2 -0.9h0m-6.2 -0.5h0m-12.7 -0.3h0m-21.5 7.2h0m16.9 0.3h0m2 -1.6h0m10.3 -0.4h0m26.3 4.1h0m36.7 -2.7h0m17.1 -0.3h0m12.5 0.5h0m7.6 -1.8h0m3.6 2.4h0m0.6 3.6h0m-50.9 5.3h0m-4.1 -0.8h0m-10.6 -0.4h0m-8.9 -1.4h0m-6.8 1.7h0m-30.7 -2h0m-0.4 2.7h0m-19.3 -4.9h0m-8.2 4.5h0m-5.6 2.6h0m59.8 3.5h0m0.5 -2.4h0m0.1 2h0m41.2 -4.3h0m0.6 3.1h0m7.8 -1.5h0m10.3 -0.8h0m3.1 4.3h0m2.2 -2.1h0m10.1 5.3h0m-10.5 2.9h0m-44.8 -1h0m-7.4 -0.7h0m-18 1.2h0m-13.6 -3.8h0m-3.8 3.2h0m-2.1 -4.1h0m-9.7 3.3h0m-1.3 -1.8h0m-3.3 3.6h0m-19 -3.3h0m7.5 8h0m10.1 -3.4h0m26.2 1.5h0m15.9 -1h0m33 3.5h0m16.8 -3.7h0m26.4 2h0m13.4 -2h0m-11.7 6.3h0m-41.4 0.2h0m-5.3 3.3h0m-0.9 -4.9h0m-1.9 3.4h0m-1.9 -2.6h0m-7.3 0.2h0m-3.9 2.5h0m-26.8 -1.9h0m-10.2 -0.3h0m-23.2 3.5h0m-10.7 -0.1h0m-10 2.8h0m10.3 2.7h0m56.4 0.7h0m6.8 -0.1h0m15 -3.2h0m42.8 2.1h0m7.1 0.9h0m4.5 0.5h0m0.3 -3.4h0m9.4 -1h0m0.5 1h0m3 2.1h0m-7.5 2.7h0m-16.4 0.2h0m-13.3 4.9h0m-17.4 -2.1h0m-31.1 1.3h0m-10.1 -1.2h0m-22.2 -1.2h0m-11.1 2h0m-4.5 -1.6h0m-0.3 -2.8h0m-2.9 2h0m-0.1 3.8h0m13.8 3.8h0m18 -2.1h0m1.8 2.2h0m19.7 -2.5h0m57 2.1h0"/><path fill="none" stroke="#c84060" stroke-width="1.6" stroke-linecap="round" stroke-opacity="0.7" d="M337.9 609.6h0m-2.9 -3.1h0m-15.5 5.4h0m-1.2 -4.2h0m-40.1 3.6h0m-5.7 -2.2h0m-34.9 0.3h0m-6.5 1.4h0m-19 -2.3h0m-0.8 3h0m-24.8 0.2h0m0.9 1.1h0m1.9 3.2h0m4.1 1h0m1.4 -0.4h0m3.2 0.1h0m5.6 -4.7h0m10.6 5.8h0m8.2 -4h0m1.3 4h0m30.5 -1.5h0m13.8 1.2h0m14.8 -1.3h0m0.5 -2.9h0m16.9 0.6h0m11.6 2h0m1 0.9h0m18.3 3.6h0m-4.8 0.1h0m-5.9 2.9h0m-3.1 -4.9h0m-7.4 2.8h0m-25.4 -1.5h0m-2.1 2.3h0m-36.1 0.8h0m-50.8 -2.4h0m-3.6 0.2h0m-3 3.3h0m30.5 2.9h0m23.5 -0.6h0m26.8 -0.7h0m36.1 4.2h0m12.2 -1.1h0m14 -2.4h0m-26.8 9.5h0m-26.1 -1.5h0m-9.1 1.5h0m-10.3 -1.2h0m-12.8 0.4h0m0 -1.6h0m-3.4 2.3h0m-10.9 -0.7h0m-13.6 -4h0m-5.2 2.4h0m-16.8 -2.3h0m-8.1 8.7h0m16.7 1.6h0m48.8 0.4h0m11.8 -0.2h0m22.3 -2h0m6.5 -1.3h0m20.7 2.5h0m7.7 -3.4h0m15.3 4.4h0m-2.6 5.3h0m-24.1 -4.8h0m-7.4 2.1h0m-5.6 1.9h0m-2.6 -0.5h0m-2.2 2h0m-16.7 -1.9h0m-45.8 -1.2h0m-16.9 2.6h0m-16 3h0m19.7 3.6h0m10.8 -4.3h0m11.6 -0.5h0m2.3 2.4h0m3.9 -0.7h0m10.5 -2.1h0m27.6 0.3h0m15.4 3.5h0m10.5 -1.9h0m8.7 -0.5h0m1.6 -0.9h0m16.3 3.6h0m-7.4 6.3h0m-6.3 -4.9h0m-22.9 4.6h0m-65.3 -0.9h0m-9.6 -1.7h0m-8.6 -1.1h0m-30.9 9.1h0m1.7 -0.9h0m18.3 -2.2h0m3 2.6h0m8.9 0h0m9.6 -2.9h0m2.5 2.2h0m6.3 0.4h0m6.1 1.7h0m52.5 -4.7h0m6.4 2.7h0m5.8 1.5h0m26.6 0.4h0m10.1 6.6h0m-3.7 -0.2h0m-7 -4.7h0m-0.2 2.9h0m-5.6 -1.8h0m-21.1 3.2h0m-9.6 -1.3h0m-9.8 0.2h0m-27.1 -3.7h0m-8.7 0.2h0m-20.3 3.9h0m-0.3 -2.9h0m-24.2 3h0m-6.8 0.6h0m-11.6 -1.5h0m2.5 6.1h0m3.6 -0.3h0m0.1 -0.1h0m18.7 -2.2h0m12.5 3.7h0m1.1 -2.5h0m2 3.1h0m5.3 -0.9h0m20 -1.9h0m26.9 -2.3h0m32.6 4.7h0m27 -4.7h0m-0.4 10.5h0m-12.7 -0.1h0m-37.3 -2.9h0m-28.9 1.1h0m-16.7 -1.3h0m-15.7 2.8h0m-2.7 -2h0m-1.2 0.9h0m-27 -1h0m-10.6 5.6h0m16 0.4h0m48.3 -1.1h0m2.1 4.6h0m1.7 -1.9h0m3.3 -0.3h0m7.6 0.6h0m1.2 -3.7h0m5.5 1.6h0m2.1 3.3h0m22.1 -2.3h0m11.2 1.8h0m3.7 -4h0m3.2 1.3h0m1.1 3.6h0m14.3 2.3h0m-33.9 2.6h0m-5.1 0.6h0m-32.7 -1.8h0m-31 2.4h0m-6.6 -2.2h0m-26.5 -0.7h0m-0.7 -1.4h0m-0.8 4.1h0m-0.7 -3.3h0m-6.4 -1.5h0m2.5 8.9h0m4.6 0.6h0m4.8 -4.2h0m0 1.1h0m2.5 -0.6h0m16.5 5.2h0m18.2 -3h0m0 -2.5h0m15.9 1.5h0m22.6 2.2h0m4.2 -3.8h0m5.9 3.5h0m34.1 3.5h0m-5.3 0.2h0m-18.4 2.9h0m-1.6 -1h0m-7 2.3h0m-21.8 -0.9h0m-0.1 -0.4h0m-26.3 -2.5h0m-38.5 2.5h0m-8.6 1h0m8.9 3h0m56.3 -1.5h0m44.6 3.4h0m21.5 -4h0m13.8 2.3h0m5.9 -2h0m1.5 0.4h0m-11.6 9.2h0m-0.7 1.7h0m-23.6 -3.5h0m-20.8 -0.5h0m-7.1 2.8h0m-12.7 -3.2h0m-35.5 2.5h0m-43.9 1.4h0m7.4 2.8h0m7.8 -1.1h0m19.4 0.2h0m4.6 -0.8h0m2.1 1.3h0m0.9 3.7h0m64.4 -2.4h0m8.3 -1.6h0m13.3 2.7h0m9.8 -3h0m2.4 0.7h0m15.7 3.5h0m-4.8 2.9h0m-1.2 3.3h0m-27.2 -3.2h0m-16.6 2.6h0m-6 -0.2h0m-37.5 -4.7h0m-13.6 5.3h0m-24 -2.3h0m-20 1.4h0m-4.2 4.3h0m22.1 -0.9h0m28.7 -0.9h0m12.3 4.3h0m21.8 -0.1h0m2.4 -4.8h0m1.1 0.3h0m17.9 5.1h0m16.2 -2.5h0m10.2 -1.2h0m3.7 -0.2h0m6 7.3h0m-9.9 -0.2h0m-3.4 0.8h0m-1.7 0.7h0m-20.1 -0.7h0m-2.2 -1.1h0m-19.1 2.7h0m-31.2 -0.8h0m-36.2 2.5h0m9.8 0.5h0m2.1 -0.9h0m16.5 0.9h0m5.9 -0.3h0m11.2 2.4h0m55.9 0.2h0m3.7 -3.6h0"/><circle cx="195.1" cy="610.2" r="4.88" fill="#f4e4e6"/><circle cx="213.6" cy="621.3" r="5.68" fill="#e0201e"/><circle cx="232.1" cy="618.8" r="6.60" fill="#e0201e"/><circle cx="210.5" cy="633.6" r="6.60" fill="#b01420"/><circle cx="219.2" cy="633" r="4.88" fill="#e0201e"/><circle cx="227.8" cy="630" r="5.68" fill="#e0201e"/><circle cx="234.6" cy="637.3" r="6.60" fill="#e0201e"/><circle cx="243.3" cy="626.2" r="4.88" fill="#e0201e"/><circle cx="249.4" cy="632.4" r="4.88" fill="#e0201e"/><circle cx="260.5" cy="628.7" r="6.60" fill="#b01420"/><circle cx="197" cy="641" r="7.26" fill="#e0201e"/><circle cx="219.2" cy="646" r="7.26" fill="#e0201e"/><circle cx="238.3" cy="648.4" r="6.60" fill="#e0201e"/><circle cx="198.2" cy="654.6" r="7.26" fill="#b01420"/><circle cx="213.6" cy="662" r="8.18" fill="#e0201e"/><circle cx="230.9" cy="657.1" r="6.60" fill="#e0201e"/><circle cx="249.4" cy="657.1" r="6.60" fill="#e0201e"/><circle cx="259.3" cy="651" r="5.68" fill="#e0201e"/><circle cx="242" cy="668.2" r="7.26" fill="#e0201e"/><circle cx="187.7" cy="669.4" r="3.43" fill="#e0201e"/><circle cx="191.4" cy="679.3" r="4.88" fill="#e0201e"/><circle cx="199.4" cy="683" r="5.68" fill="#e0201e"/><circle cx="208.7" cy="678" r="3.43" fill="#e0201e"/><circle cx="256.8" cy="678" r="6.60" fill="#e0201e"/><circle cx="239.6" cy="684.2" r="8.18" fill="#e0201e"/><circle cx="245.7" cy="695.4" r="8.18" fill="#e0201e"/><circle cx="219.8" cy="700.3" r="4.88" fill="#e0201e"/><circle cx="205" cy="700.3" r="4.22" fill="#e0201e"/><circle cx="187.7" cy="705.2" r="4.88" fill="#e0201e"/><circle cx="197.6" cy="709" r="4.88" fill="#e0201e"/><circle cx="213.6" cy="712.6" r="7.26" fill="#e0201e"/><circle cx="230.9" cy="706.5" r="7.26" fill="#e0201e"/><circle cx="238.3" cy="715.1" r="7.26" fill="#e0201e"/><circle cx="253.1" cy="706.5" r="7.26" fill="#e0201e"/><circle cx="259.3" cy="720" r="6.60" fill="#e0201e"/><circle cx="187.7" cy="717.6" r="4.88" fill="#e0201e"/><circle cx="198.8" cy="722.5" r="5.68" fill="#e0201e"/><circle cx="207.5" cy="721.3" r="4.88" fill="#e0201e"/><circle cx="222.3" cy="716.3" r="4.88" fill="#e0201e"/><circle cx="233.4" cy="732.4" r="7.26" fill="#e0201e"/><circle cx="250.7" cy="730" r="6.60" fill="#e0201e"/><circle cx="222.3" cy="732.4" r="5.68" fill="#e0201e"/><circle cx="212.4" cy="731.2" r="4.88" fill="#e0201e"/><circle cx="201.3" cy="737.3" r="8.18" fill="#e0201e"/><circle cx="190.2" cy="742.3" r="6.60" fill="#e0201e"/><circle cx="256.8" cy="741" r="5.68" fill="#e0201e"/><circle cx="262" cy="748" r="4.88" fill="#e0201e"/><circle cx="212" cy="747" r="4.88" fill="#e0201e"/><circle cx="275.1" cy="613.9" r="6.60" fill="#e0201e"/><circle cx="267.7" cy="631.2" r="8.18" fill="#b01420"/><circle cx="280" cy="632.4" r="8.18" fill="#e0201e"/><circle cx="289.9" cy="623.8" r="7.26" fill="#e0201e"/><circle cx="304.7" cy="618.8" r="8.98" fill="#e0201e"/><circle cx="307.2" cy="632.4" r="9.77" fill="#e0201e"/><circle cx="319.6" cy="610.2" r="7.26" fill="#e0201e"/><circle cx="328.2" cy="622.5" r="8.18" fill="#e0201e"/><circle cx="340.5" cy="623.8" r="5.68" fill="#e0201e"/><circle cx="338" cy="634.9" r="5.68" fill="#e0201e"/><circle cx="294.9" cy="642.3" r="8.18" fill="#e0201e"/><circle cx="310.9" cy="648.4" r="8.98" fill="#e0201e"/><circle cx="322" cy="653.4" r="7.26" fill="#e0201e"/><circle cx="329.4" cy="650.9" r="6.60" fill="#e0201e"/><circle cx="341.8" cy="644.7" r="4.88" fill="#e0201e"/><circle cx="266.5" cy="651" r="6.60" fill="#e0201e"/><circle cx="275.1" cy="647.2" r="5.68" fill="#e63434"/><circle cx="288.7" cy="653.4" r="5.68" fill="#e0201e"/><circle cx="276.3" cy="665.7" r="7.26" fill="#e0201e"/><circle cx="287.5" cy="660.8" r="4.88" fill="#e0201e"/><circle cx="310.9" cy="668.2" r="10.56" fill="#e0201e"/><circle cx="325.7" cy="667" r="6.60" fill="#e0201e"/><circle cx="338" cy="678" r="7.26" fill="#e0201e"/><circle cx="287.5" cy="675.6" r="7.26" fill="#e0201e"/><circle cx="273.9" cy="679.3" r="6.60" fill="#e0201e"/><circle cx="266.5" cy="676.8" r="4.88" fill="#b01420"/><circle cx="324.5" cy="678" r="5.68" fill="#e0201e"/><circle cx="281.3" cy="697.8" r="9.77" fill="#e0201e"/><circle cx="266.5" cy="691.7" r="5.68" fill="#e0201e"/><circle cx="294.9" cy="705.2" r="4.88" fill="#e0201e"/><circle cx="323.3" cy="690.4" r="5.68" fill="#e0201e"/><circle cx="331.9" cy="702.8" r="5.68" fill="#e0201e"/><circle cx="340.5" cy="700.3" r="4.88" fill="#e0201e"/><circle cx="313.4" cy="710.2" r="5.68" fill="#e0201e"/><circle cx="267.7" cy="720" r="6.60" fill="#e0201e"/><circle cx="276.3" cy="721.3" r="6.60" fill="#e0201e"/><circle cx="324.5" cy="717.6" r="8.18" fill="#e0201e"/><circle cx="336.8" cy="722.5" r="6.60" fill="#e0201e"/><circle cx="273.9" cy="733.6" r="6.60" fill="#e0201e"/><circle cx="283.8" cy="742.3" r="5.68" fill="#e0201e"/><circle cx="307.2" cy="734.9" r="4.22" fill="#e0201e"/><circle cx="325.7" cy="737.3" r="9.77" fill="#e0201e"/><circle cx="338" cy="739.8" r="7.26" fill="#e0201e"/><circle cx="299.8" cy="737.3" r="4.22" fill="#e0201e"/><circle cx="267.7" cy="746" r="4.88" fill="#e0201e"/><circle cx="291.2" cy="726.2" r="4.88" fill="#e0201e"/><circle cx="301" cy="722.5" r="4.22" fill="#e0201e"/><circle cx="281" cy="685" r="5.28" fill="#e0201e"/><circle cx="300" cy="612" r="5.28" fill="#e0201e"/><circle cx="296" cy="690" r="3.96" fill="#e0201e"/><circle cx="305" cy="695" r="3.30" fill="#e0201e"/><circle cx="252" cy="612" r="5.28" fill="#e0201e"/><circle cx="262" cy="615" r="5.28" fill="#e0201e"/><circle cx="345" cy="660" r="5.28" fill="#e0201e"/><circle cx="344" cy="710" r="5.28" fill="#e0201e"/><path fill="none" stroke="#dc2a2a" stroke-width="2" stroke-linecap="round" stroke-opacity="0.9" d="M310.9 680.6h0m-28.7 2.1h0m-13.3 2.9h0m1.2 4.3h0m0.8 -2h0m14.9 0h0m24.8 -1.7h0m10.3 -1.3h0m-9.7 6h0m-6.5 4.2h0m-14.8 -1.2h0m-1.6 -3.1h0m-3.6 3.2h0m-7.1 -0.6h0m-5.6 4.5h0m7.1 -0.4h0m1 -0.9h0m33.5 2.7h0m-0.5 4.6h0m-0.9 3.6h0m-1.5 -4.4h0m-20.5 3.3h0m-2.4 6h0m6.6 1.4h0m20.8 -5h0m6.3 0.3h0m-5.9 6.9h0m-14.1 2.2h0m-0.4 0h0m-6.8 0.8h0m-13.1 -0.3h0m-2.2 -4.1h0m-9.5 0.9h0m3.6 6.6h0m4.9 -2.1h0m1.3 2.3h0m1.4 -0.2h0m16.4 2.3h0m9.4 -2.9h0m12.4 1.5h0m-11.4 8.1h0m-12.9 -4.7h0m-16.5 1h0m-2.3 3.9h0m-7.3 -5.3h0m11.1 11.7h0m33.7 -3.4h0m1.6 8.4h0m-33.8 -4.1h0m-14.2 0.1h0m25.1 5.4h0m20 0h0"/><path fill="none" stroke="#dc2a2a" stroke-width="2.8" stroke-linecap="round" stroke-opacity="0.9" d="M302.7 683.6h0m-13 -2.8h0m-9.1 7.6h0m22.4 -1.7h0m13.8 2.3h0m-4.6 2.3h0m-2.6 1.2h0m-2.4 -2h0m-18.8 1.1h0m-0.8 4.2h0m-1.7 -2.1h0m-5.9 -3.6h0m-1.7 4.8h0m-7.6 -2.3h0m-1.4 -1.2h0m-2.6 2.3h0m9.3 7.6h0m1.8 -4.8h0m2.1 0.8h0m28.2 1.6h0m11.5 -0.3h0m1.3 3.5h0m-6.7 0.2h0m-11.6 1.9h0m-1.8 2.5h0m-2.7 1.2h0m-4.6 -0.6h0m-3.8 -2.8h0m-1.2 1.5h0m-0.2 -3h0m-2.7 2h0m-10.4 -2.3h0m-6.1 4.9h0m-0.6 5.4h0m16.3 -3.4h0m6.3 -0.3h0m26.1 5.7h0m-18.5 2.9h0m-19.6 0.4h0m-7.1 1h0m-6.9 1.9h0m11.8 2.8h0m0.5 -2.8h0m21.7 4.2h0m9.6 -2.7h0m1.1 1.1h0m11.7 -3.8h0m-8.1 10h0m-2.3 -1.4h0m-1.9 1.1h0m-11.9 -1.1h0m-12 0.5h0m-14.8 -2.2h0m7.4 8.4h0m4.8 -0.6h0m11.3 2.4h0m5.8 -4.4h0m9.7 2.2h0m1.8 -1.9h0m-0.7 9.5h0m-2.4 -4.5h0m-1.7 0.7h0m-1.2 0.4h0"/><path fill="none" stroke="#dc2a2a" stroke-width="3.6" stroke-linecap="round" stroke-opacity="0.9" d="M316.1 680.6h0m-7.7 0.1h0m-8.1 3.1h0m-22.8 -3.4h0m19.3 8.4h0m12.7 -3.1h0m12.4 10h0m-21 -5.1h0m-12.1 2.9h0m-4.6 -2.4h0m-16 -0.2h0m50 5.3h0m-6.4 11.6h0m-5.2 -1h0m-3.1 -2.4h0m-4 0h0m-6.9 1.3h0m-2.8 7.9h0m16.3 -2.7h0m8.2 2.1h0m0.2 3h0m-10 1.3h0m-0.9 2.4h0m-7 0h0m-23.7 -0.7h0m-7.1 2h0m3.8 4.7h0m12.3 -4.8h0m27.3 4.2h0m7.5 -3.1h0m0.2 0.2h0m3.2 0.8h0m0.3 6.3h0m-7 -1.5h0m-0.2 -0.3h0m-10.4 -0.9h0m-16.7 6h0m3.9 2.3h0m18.9 2.8h0m8.8 5.7h0m-1 0.2h0m-4.7 -3.9h0m-27.6 3.5h0m-8.8 -3.8h0m-7.1 4.4h0"/><path fill="none" stroke="#d03040" stroke-width="2" stroke-linecap="round" stroke-opacity="0.8" d="M248.1 647.7h0m-21.6 -4.7h0m-3.1 1.6h0m-0.3 2.4h0m-5.5 -0.6h0m-5.9 -0.1h0m-24.7 2.8h0m12.1 1.2h0m28.3 -0.3h0m12.9 -0.7h0m15.8 9.1h0m-0.1 -0.2h0m-17.4 3.7h0m16.5 4.3h0m-31.6 4.2h0m-15.5 -2h0m-10 9.1h0m4.1 -1.1h0m10.8 -1.6h0m9.3 -1.2h0m17.2 -0.3h0m2.4 8.6h0m-6.1 -3.6h0m-20.5 5.3h0m-8.1 -3.8h0m35.2 6.9h0m-1.1 8.3h0m-10.7 -1h0m-29.8 1.3h0m-8.2 -5.3h0m45.9 6h0m-49.5 8.9h0m54.2 8h0m6.9 4.5h0m-14.7 -1.6h0m-11.1 -1.1h0m-14.2 1.1h0m-24 -1.3h0m21.5 9.7h0m11.4 0.9h0m28.9 0.1h0m-45.8 1.1h0m12.3 10.1h0m18.3 -0.8h0m-11.5 3.5h0m-12.6 -0.5h0"/><path fill="none" stroke="#d03040" stroke-width="2.8" stroke-linecap="round" stroke-opacity="0.8" d="M214.9 652.8h0m7.9 -3.5h0m25.3 4.4h0m-10.5 5.4h0m-12.9 2.8h0m25 6.5h0m-8.8 2.5h0m-1.9 -2.9h0m-42.7 0.3h0m-5.3 6.9h0m21.1 -2.6h0m43 9.1h0m-63.8 2.2h0m28.6 8.9h0m-0.5 0.5h0m-19.7 5.1h0m14.6 1.6h0m43.7 -1.1h0m-8.7 7.8h0m-14.6 -0.4h0m-6.4 -2.8h0m-3.2 4.2h0m-20.3 -1h0m-1.9 -0.8h0m7.5 21h0m-10.3 0.7h0m-9 1.2h0m10.3 7.2h0m48.7 -1.6h0m-11 5.4h0m-8.4 0.2h0m-37.2 3.5h0m-5.8 0.3h0m62.3 1h0"/><path fill="none" stroke="#f8e8ec" stroke-width="1.6" stroke-linecap="round" stroke-opacity="0.8" d="M263.8 606.9h0m-60.4 4.9h0m-1.2 -1.5h0m59.3 4.6h0m-46.7 9.8h0m3.5 0.8h0m85.3 0.9h0m-49.1 12.2h0m3.1 -0.9h0m-50.6 6.8h0m100.5 5.3h0m-99.4 18.7h0m-16.7 0.7h0m34.5 5h0m77.8 1.3h0m13 0.2h0m-131.3 6.2h0m86.5 3.4h0m15.2 3.9h0m9.5 -2h0m-49.4 6.8h0m-22 3.8h0m61.6 3.3h0m2.1 3h0m-86.4 7.1h0m13.6 -1.8h0m10.9 2.2h0m2.2 2.3h0m91.4 4.4h0m-45.3 -4.3h0m-11.8 8.9h0m38.4 1.3h0m-73.3 11.6h0m110.8 2.6h0m-13.4 3.3h0m-24.2 -2.3h0m-37 0.1h0"/><path fill="none" stroke="#f8e8ec" stroke-width="2" stroke-linecap="round" stroke-opacity="0.8" d="M332.5 611.3h0m-13.1 -3h0m-24.4 -0.5h0m28.5 7.9h0m14 -0.6h0m-54.4 3.4h0m-74.9 10.1h0m10.5 -3h0m100.9 -1h0m12.6 3.9h0m-22.8 8.7h0m-12.5 9.4h0m-70.8 0.6h0m-30.3 -4h0m83.4 7.7h0m-83 10.3h0m48.3 -0.7h0m39.3 0.2h0m2 2.3h0m-28.8 12.6h0m8.7 -0.3h0m6.6 -2.5h0m72.2 -0.7h0m-61 8.9h0m-59.8 1.8h0m109.7 9h0m-25.9 -0.6h0m-35.4 1.9h0m-25.2 -0.6h0m-34.2 -1.9h0m24 9.7h0m96.9 2.7h0m-95.3 2.6h0m-23 7.2h0m30.7 0.6h0m98.3 -2.5h0m-15.8 4.2h0m-138.9 1.9h0m75.8 7.3h0m6.6 4.1h0m-23.1 1.6h0m-53.2 1.8h0m-0.4 -0.1h0m-0.8 -2.4h0m110.6 2.7h0m21.6 4.8h0m-23 3.4h0m-108.3 -1.4h0m-4.6 5.8h0m72.1 -0.2h0m24.4 2.2h0m47.8 -1h0m6.8 -0.2h0"/></g><g clip-path="url(#cil)" filter="url(#soft)"><rect x="344.7" y="605.0" width="143.3" height="143.0" fill="#968cc0"/><path fill="none" stroke="#34388e" stroke-width="1.6" stroke-linecap="round" stroke-opacity="0.85" d="M412.4 605.6h0m15.9 -0.1h0m27.4 -0.5h0m10.3 0.1h0m13.2 6.8h0m-8 -1.5h0m-2.5 1.3h0m-5.1 -3.3h0m-4 2.8h0m-0.7 -1.4h0m-8 -2.8h0m-13.3 1.1h0m-1.6 -1.7h0m-5.7 0h0m-5.3 1.3h0m-4.8 3.5h0m-0.3 0.3h0m-1.1 -1.4h0m-6.3 -1.1h0m-0.5 0.3h0m-2.1 2.6h0m-9.6 -0.4h0m-0.2 -1.2h0m-3.2 -0.1h0m-3.2 -1.1h0m-1.6 1.3h0m-3.4 -1.4h0m-1.9 -2.7h0m-2.2 3h0m-11.8 0.4h0m-9.8 -2.7h0m-0.8 3h0m-1 -1.5h0m0 -0.7h0m-5.8 -0.2h0m-6.2 2.4h0m-1.9 0.8h0m-2.1 4.5h0m11.6 -1.8h0m1.2 1h0m0.9 3.2h0m2.4 -2.3h0m4.9 -2.7h0m0.6 4.5h0m0.7 -5.2h0m0.8 2.5h0m5.7 1.6h0m1.8 -4.1h0m8.2 2h0m3.8 2.7h0m7.9 -1.4h0m5 2.6h0m1.7 -3.4h0m0.3 1.1h0m2.4 -1.4h0m4.2 0h0m4 2.1h0m0.4 -3.4h0m2 4h0m0.9 -4.2h0m0.4 2.2h0m0.3 -0.1h0m6.6 2h0m3.5 -3.8h0m4.3 2.6h0m7.3 -3.4h0m5.4 4.1h0m0.9 -2h0m4.6 -1.8h0m1.6 0.1h0m2.6 4.5h0m6.9 -2.7h0m1.9 0.2h0m1.3 -2h0m3.3 0.3h0m1.6 0.7h0m5.9 3.3h0m0.6 -1.5h0m1.6 -2.4h0m0.1 1.3h0m3.6 -0.6h0m1.7 8.1h0m-0.7 1h0m-0.1 -4.2h0m-0.3 0.2h0m-11.5 4.5h0m-6 -1h0m-3.8 -1.9h0m-12.3 -0.7h0m-1.4 2.7h0m-9 -2.7h0m-0.2 -1.7h0m-11.1 0.3h0m-4.8 2.8h0m-5.9 2.6h0m-2.3 0.2h0m-3.4 -1.8h0m-4.3 -0.5h0m-0.6 -3.2h0m-6.6 0.5h0m-2.2 1.4h0m-1.2 3.3h0m-1.7 -3.4h0m-1.5 -1.5h0m-4 -0.4h0m-4 3.7h0m-3.6 -2.2h0m-11.1 2.5h0m-3.6 -1.8h0m-4 2.4h0m-5.4 0.5h0m-3.4 -0.3h0m-1.4 -2h0m-5.5 -0.6h0m10.6 8.5h0m14.2 -0.9h0m2.1 -3.2h0m20.4 0.9h0m4.2 1.2h0m0 -2.7h0m1 0.5h0m18.5 0.2h0m1.7 1.2h0m2.2 -1h0m6.6 -0.3h0m1.8 4.1h0m3.7 -0.8h0m5.5 -3.1h0m2.2 1.4h0m18.4 0.5h0m0.6 -0.4h0m4.5 2.5h0m1 -1.3h0m3.6 1.7h0m1.6 -2.6h0m1.4 -2.6h0m2.4 3.1h0m1.2 -1.5h0m9.8 -0.5h0m0.2 1.3h0m0.5 -0.6h0m2 3.1h0m-10.9 0.8h0m-4.8 0h0m-0.1 2.6h0m-1.6 -1.8h0m-1.4 4.1h0m-27.6 -4.3h0m-4.2 2.1h0m-6.2 -1h0m-3.8 3h0m-1.3 0.7h0m-2.3 -3.5h0m-1.6 1.1h0m-5.6 -2.9h0m-0.4 4h0m-2.5 -0.8h0m-7 -0.4h0m-2.7 0.3h0m-4.5 2.4h0m-2.9 -3.9h0m-0.8 0.8h0m-7 0.1h0m-0.8 -2.5h0m-3.4 -0.1h0m-1.4 3.2h0m-3.7 1.3h0m-0.3 -3.5h0m-8.5 0.6h0m-1.2 -0.5h0m-8 2.5h0m-1.7 -1.8h0m-1.9 2.9h0m-1 -3.6h0m-3 0.4h0m-3.1 -1.1h0m1 10.4h0m0.4 -1.5h0m2.5 -2.7h0m0.7 2.1h0m2 -2.4h0m16.6 2.8h0m1.5 -2.1h0m17.7 -0.8h0m4.9 2.5h0m1.3 -1.4h0m0.5 3.7h0m18.5 0.9h0m16.6 -2.8h0m0.4 -0.2h0m16.9 1.8h0m0.7 0h0m7.2 -3.3h0m24.1 3.3h0m2.5 6.7h0m-2.5 -4.1h0m-0.6 0.8h0m-13 -1.3h0m-5.3 4.1h0m0 -1.7h0m-10.5 2.7h0m-8.6 -1.5h0m-0.2 -2.9h0m-3 -0.1h0m-3.1 -0.3h0m-5.7 1.4h0m-7.5 0.1h0m-3.6 1.4h0m-6.1 -0.3h0m-0.9 0h0m-6.5 -1.2h0m-4.4 2h0m-1.9 -0.5h0m-7.7 -2h0m-0.9 0h0m-2.9 3.8h0m-2.2 -2.4h0m-2.8 -2.1h0m-5.7 2.1h0m-0.5 -1.6h0m-1.2 0.9h0m-2.9 1.5h0m-0.5 0h0m-6.9 -0.8h0m-4.8 2h0m-12.7 0.2h0m-4.4 -0.4h0m-0.7 -3.1h0m-0.3 4.5h0m0.1 1h0m0.3 2.6h0m1.5 -1.1h0m3.5 -2.3h0m0.2 4.4h0m3.4 0.2h0m0.5 -0.6h0m0.4 0.1h0m0.9 -2.8h0m4.6 -0.3h0m3.6 1.7h0m0 -0.4h0m1.8 -1.7h0m1.4 3.7h0m6.9 -4.1h0m7.8 0.9h0m11 -0.9h0m3.2 1.5h0m0.8 0.5h0m4.6 2.1h0m5.1 -4.5h0m1.1 2.3h0m6.7 3h0m2.3 -2h0m1 0.5h0m8.8 1h0m3.3 -2.7h0m2.6 -0.3h0m4.3 2.1h0m2.7 0.3h0m5.6 -0.8h0m0.9 -2h0m1.7 2h0m0.4 -2.3h0m4.8 2.7h0m4.6 -3.5h0m8.3 1.8h0m4.7 1.1h0m8.7 0.4h0m0.6 -0.7h0m1.8 -1.5h0m3.3 -1.2h0m1.2 3.3h0m-10 2.6h0m-2.1 3.2h0m-10.6 0.7h0m-8.2 -0.7h0m-9.6 -3.4h0m-3.1 0.6h0m-1.6 -0.7h0m-1.8 3.9h0m-12 -3.9h0m-6.7 0.2h0m-9.3 4.3h0m-5.1 -4.2h0m-1.5 4.3h0m-3 -0.8h0m-9.2 -3h0m-4.2 1.6h0m-5.5 0.6h0m-5.1 0.4h0m-1.3 0.8h0m-2.7 0.2h0m-19.4 -2.4h0m-1.3 -0.8h0m-5.8 -1h0m4.5 8.7h0m6.1 -3.2h0m3.7 2.9h0m0.3 1.1h0m0.9 -1.4h0m3.5 -1.6h0m0.6 1.4h0m1.3 -0.4h0m2.5 0h0m0.8 -2h0m2.7 1.6h0m0.8 2.2h0m2.3 1.3h0m0.7 -3.4h0m11.8 1.5h0m8.1 1.9h0m0.8 -0.9h0m2 0.2h0m2.9 1.4h0m1.3 -5.9h0m2.6 3.1h0m2.4 0h0m12.2 1h0m0.8 -2.8h0m2.9 1.4h0m0.6 0.6h0m14.6 -3.3h0m1.3 2.7h0m9.6 1.3h0m7 0.6h0m0.3 1.1h0m1.7 -1.7h0m3.9 0.1h0m0.4 -3h0m1.3 -0.3h0m0.6 2.1h0m0.1 -1.4h0m5.9 -1.5h0m8.4 1.1h0m2.2 7.2h0m-5.5 -1.3h0m0 1.7h0m-3.9 -0.6h0m-9.1 -0.9h0m-1.7 1h0m-10.6 -1.6h0m-6.3 2.9h0m-8.2 -0.8h0m-3.5 -1.9h0m-16.1 1.8h0m-0.3 3.3h0m-1 -1.9h0m-1.8 -2.6h0m-0.3 -1.2h0m-3.7 1.3h0m-1.2 -0.8h0m-3.1 1.8h0m-1 -1.5h0m-14.4 4.5h0m-3.5 -4.7h0m-2.7 4.4h0m-2.5 -2.9h0m-1.3 -1h0m-0.6 2.6h0m-2.4 -2.1h0m-0.7 0.9h0m-15.7 2.7h0m-7.6 -1.7h0m-2 -2.7h0m-5.6 1.4h0m-2.5 6h0m1.1 0.5h0m14.4 0.9h0m3.5 -0.6h0m27.7 -0.8h0m3.2 1h0m22 -1.8h0m7.9 1.6h0m8 -1.8h0m0.4 -1.4h0m1 3.6h0m9.4 -3.4h0m1.4 2.5h0m6.6 1.3h0m1.7 1.7h0m0.9 -2.5h0m15.8 2h0m12.1 -2.3h0m2 -0.9h0m2.7 0.9h0m-0.6 8.4h0m-1.1 -1.5h0m-13.2 -1.1h0m-12.9 1.1h0m-4.7 -0.4h0m-6.7 0.7h0m-3.9 0.6h0m-6.7 1.2h0m-1.5 -2.8h0m-5.8 1.4h0m-8.3 1h0m-3.9 -4.2h0m-2 2.3h0m-0.1 0.6h0m-1.6 1.5h0m-10.8 -0.8h0m-2 -3h0m-3.3 -1.4h0m-11.3 -0.2h0m-6.3 1.5h0m-2.2 3.9h0m-5.2 -1h0m-0.7 -4.5h0m-0.8 5.7h0m-2.2 -5h0m-10.3 -0.1h0m-2.8 2.1h0m-0.2 -0.9h0m-5.2 2.2h0m-1.1 -3.4h0m-3.8 10.6h0m0 -3.4h0m1.6 -1.5h0m6.2 2h0m11.3 -1.7h0m3.2 2.1h0m4.5 2h0m0.2 -3.1h0m5.7 0.6h0m4.3 1.1h0m1.3 2.3h0m5.2 -3.3h0m3.1 -1.4h0m2.2 0.7h0m7.5 0.8h0m1.5 1.9h0m6.9 -2h0m0.4 -1.1h0m4.4 -1.1h0m2.3 4.7h0m2.9 -1.5h0m6.7 -2.2h0m2.2 0.2h0m1.5 2.3h0m9 -2.9h0m2.8 0.3h0m3.7 -0.9h0m0.5 3.9h0m2.6 -2.2h0m4.4 -0.2h0m21.3 1.3h0m4.5 -2h0m7.6 2h0m-7.9 6h0m-4.8 0.2h0m-7.5 -1.7h0m-2 1.1h0m-0.9 -0.4h0m-3.8 -1.1h0m-1.9 2.7h0m-3.3 -2.5h0m-8.3 -0.9h0m-4.9 0.2h0m-5.9 3h0m-1.5 1.7h0m-3.5 -0.3h0m-5 -1.2h0m-6 0h0m-11.3 0.6h0m-4.8 1h0m-0.4 -4h0m-16.2 -0.5h0m-6.7 1.8h0m-11.8 2.9h0m-4.2 -0.9h0m-2.3 -4.5h0m-8 4.4h0m-2.9 -2h0m-6.2 0.2h0m1.5 8.2h0m17.7 -3h0m2.3 -0.8h0m2.3 -1.1h0m0.2 4.7h0m0.3 -0.5h0m1.7 0.8h0m1.1 -3.5h0m1.1 2.6h0m4 0.7h0m5.7 -1.3h0m0.6 -2.6h0m5.9 -0.5h0m1.8 1.4h0m23.5 -1.2h0m4.3 4h0m7.7 0h0m1 -0.7h0m0.4 -3.4h0m24.8 0.4h0m5.4 0.6h0m1.9 0.5h0m2.9 -0.5h0m3.6 3.4h0m4.2 0.6h0m0.5 -5.5h0m1.2 2.3h0m0.5 1.1h0m2.9 0.5h0m0.9 1.4h0m2.9 -4.5h0m0.6 2.8h0m6.7 7.7h0m-1.7 -3.3h0m-1.5 3.7h0m-4.1 -5.4h0m-8.8 4.4h0m-3.2 -2.5h0m-13.2 3.5h0m-2.2 -0.9h0m-4.5 0.4h0m-0.1 -4.8h0m-1.7 -0.2h0m-9.1 2.2h0m-1.8 -2h0m-4.2 1h0m-1.2 1.5h0m-8.4 -1.8h0m-17.1 0.1h0m-5.4 1.2h0m-3.9 -0.7h0m-1.9 1.5h0m-3 -0.9h0m-1.8 1h0m-1.7 -1h0m-1 -0.1h0m-3.3 0.7h0m-19.7 2.7h0m-1.2 -5.8h0m-1.5 2.4h0m-0.4 2.3h0m-2.7 -2.6h0m-3.8 1.5h0m-5.2 6.3h0m17.7 -3.5h0m4.4 -0.4h0m0.3 4.3h0m0.3 -0.9h0m0.1 1.5h0m11.1 -2.9h0m0.1 1.7h0m3.6 -3.3h0m6.8 2.9h0m1.7 2h0m10.8 -1.7h0m2.3 -2.5h0m3.6 3.3h0m6.3 -2.6h0m4 1.5h0m8.5 1.5h0m5.6 0.1h0m4.8 -2.9h0m0.5 -0.1h0m0.6 2.6h0m9.1 -3.4h0m13.3 1.5h0m5.4 -1.3h0m18.3 -0.1h0m-3.5 6.4h0m-10.5 0.2h0m-4.9 2.3h0m-8.5 -1h0m-9.5 1.3h0m-1.1 -2h0m-1.4 1.4h0m-0.1 -1.3h0m-3.7 -0.9h0m-2.3 3.6h0m-2.4 -1.3h0m-6.9 -1.6h0m-0.3 -1.7h0m-9.7 2.9h0m-10.4 -0.6h0m-1.2 -2.4h0m-12.6 0.8h0m-2.6 0.7h0m-7.2 0.7h0m-9.4 0.9h0m-3.3 1h0m-25.2 -1.6h0m-1.4 2.2h0m-0.4 6.4h0m5 -3.3h0m1.6 2.8h0m4.6 -2.8h0m3.7 0.1h0m1.8 2.7h0m0.9 -1.2h0m4.9 -2.9h0m6.3 1h0m8.8 -1.5h0m1.7 3.1h0m16.8 -3h0m13.4 2.6h0m3 2.3h0m17.3 -4h0m2.3 1.8h0m19 0.8h0m2.6 -3.1h0m4.1 -0.3h0m1.2 0.6h0m1.4 -0.4h0m7.5 3.5h0m2.1 -2.9h0m8.8 6.6h0m-0.2 -1.9h0m-5.6 2.3h0m-6.8 -1.2h0m-2.4 2.1h0m-0.5 0.7h0m-6.9 -3.6h0m-9.1 3.8h0m-6.8 1.2h0m-9.3 -2.1h0m-0.5 1.8h0m-2.2 0.7h0m-7.4 -2.2h0m-1.4 -0.5h0m-0.8 2.7h0m-8.5 -1.4h0m-9 -1.4h0m-0.1 -2.8h0m-9.8 3.8h0m-1.9 -0.1h0m-0.4 1.4h0m-2.3 -3.7h0m-6.1 1.4h0m-0.3 -1.6h0m-4.4 1.6h0m-18 1.3h0m-9 -3.9h0m-1.2 2.5h0m-3 -1.8h0m-1.4 -0.6h0m-6.2 -0.4h0m2.8 7.3h0m6.4 -1.2h0m2.2 5.6h0m2.1 -3.4h0m3.5 1.4h0m0.6 -2.6h0m0.1 4.6h0m7.7 -2.4h0m3.4 0.4h0m17.5 0.4h0m1.1 -1.7h0m5.1 -2.1h0m7.7 5.2h0m1.6 -2.2h0m1.7 -0.6h0m4.5 1.3h0m0.1 -2h0m12.3 -0.9h0m0.8 2.9h0m1.8 -2.3h0m17.4 2.9h0m1.4 0.4h0m1.5 -3h0m0.8 1.4h0m0.9 1.3h0m1.7 -3.1h0m4.3 -1.8h0m13.5 3.5h0m2 0.4h0m0.3 -2.3h0m5.3 2.4h0m9.1 2.1h0m-0.2 0.8h0m-3.4 1h0m-11.3 0.3h0m-1.7 1.4h0m-12 -3.3h0m-5.4 4.1h0m-6 0.1h0m-5.8 -1.7h0m-1.8 -1.5h0m0 3.1h0m-6.3 1h0m-4.1 -3.5h0m-6.6 3.2h0m-2.6 -3.1h0m-0.3 -0.1h0m-2.5 -1.8h0m-7.3 4.1h0m-1 -4.1h0m-1 5.2h0m-5.7 -2.7h0m-6.8 1.5h0m-14.4 0.9h0m-0.1 -4.3h0m-0.1 0.3h0m-0.2 2h0m-2.6 -1.9h0m-1.7 1.9h0m-2.4 -2.3h0m-5.3 0.9h0m-0.7 -0.6h0m-9.5 0.4h0m-1.4 0.8h0m-4.1 0.4h0m-1.9 1.2h0m-1.5 -3h0m-2.8 2h0m-1.7 3.8h0m4.7 -0.6h0m1.1 3.7h0m1.7 -0.6h0m20.2 -2.4h0m2.3 1.2h0m1.8 0.2h0m0.3 -1.1h0m5 1.4h0m1.7 0.8h0m3.4 -2.8h0m15.3 3.2h0m8.3 -1.7h0m6.9 -1.1h0m10.7 0.3h0m11.6 2.5h0m4 -1h0m1.1 -1.2h0m1.3 2.4h0m9.7 -2.7h0m10.5 0.4h0m3.7 1.4h0m1.5 -1.9h0m6.6 1.8h0m7.5 -2.4h0m1.5 2.8h0"/><path fill="none" stroke="#34388e" stroke-width="2" stroke-linecap="round" stroke-opacity="0.85" d="M349.4 605.4h0m14.1 -0.3h0m29 0.1h0m25.2 0.7h0m39.3 -0.7h0m24.5 0.7h0m3.5 1.7h0m-1.7 -1.6h0m-7.6 2.2h0m-1.3 2.6h0m-3.1 -2.5h0m-2.2 -2.3h0m-0.8 4.3h0m-0.1 -1.6h0m-0.3 -0.9h0m-4.7 0.6h0m-4.8 1h0m-14.8 -0.6h0m-5.5 2.4h0m-5.5 -2.3h0m-2.5 0h0m-1.3 -1.5h0m-1.1 1.5h0m-4.5 1.1h0m-5.9 -2.2h0m-5.4 -0.6h0m-0.9 2.5h0m-0.2 -2.7h0m-0.1 1.3h0m-1.4 -0.1h0m-4.9 -2.1h0m-30.7 4.9h0m-13.9 -2.5h0m-12.2 1.3h0m-2.8 -1.3h0m3.4 4.9h0m3.2 -0.5h0m8.8 4.3h0m4.5 -4.6h0m0.1 0.7h0m0.5 3.7h0m0.7 0h0m4.8 -1.2h0m4.2 -2.3h0m13.7 -0.5h0m2.4 0.1h0m0.3 1.8h0m2.6 -1.6h0m0.9 -1h0m5.3 4.6h0m1.3 -0.8h0m5.8 1.4h0m8.6 -4.2h0m1 -0.4h0m1.5 1.5h0m0.4 3.3h0m7.8 -2.6h0m2.7 -0.1h0m8.2 1.3h0m0.4 -0.9h0m3.7 -3.3h0m3.5 4.9h0m8.3 -3.3h0m7.4 3.6h0m1.1 -0.9h0m0.9 -1.5h0m1.2 1.1h0m2.1 1.6h0m3.7 -3.1h0m1.7 -0.3h0m2.6 0.4h0m10.7 2.5h0m-4.5 3h0m-8.7 3.5h0m-5.7 -1.1h0m-1.3 0.1h0m-1.4 -3.2h0m-1.2 3.9h0m-14.2 -4.8h0m-2.7 1.6h0m-8.6 -1.5h0m-1.9 4.6h0m-9.9 -0.6h0m-1.4 -1.2h0m-7.7 -1.7h0m-4 0h0m-7.4 -1.6h0m-0.4 1.3h0m-0.3 0.8h0m-0.8 -0.2h0m-0.4 -2h0m-4.5 1.2h0m-8.4 2.1h0m-9.2 -0.3h0m-6.5 0.7h0m-4.1 -1.4h0m-4.4 0.5h0m-2.6 2.6h0m-2.1 -4.7h0m-6 0.8h0m-0.5 2.8h0m-0.9 -3.8h0m-3.2 -0.5h0m3.5 10h0m0.6 -0.7h0m8.9 1.3h0m0 0.4h0m1.4 -1.9h0m0.7 0.6h0m1.2 2.2h0m0.6 0h0m0.6 -4.2h0m3.1 -0.3h0m6.4 -1h0m0.6 2.4h0m6 -0.6h0m3.1 -0.4h0m5 1.7h0m1.5 0.8h0m3.7 0.4h0m3.2 0.2h0m5.5 -4.9h0m7.3 1.6h0m3.1 1.8h0m14 1.6h0m5.7 -3.5h0m2.2 0.9h0m10 2.5h0m6.1 0.6h0m10.9 -0.5h0m1.1 -4.4h0m5.9 1.7h0m2 2.5h0m3.1 -2.1h0m3.7 -0.2h0m0.8 2.8h0m4.7 4.7h0m-2.2 -3.9h0m-11.1 1.5h0m-5.1 1.3h0m-17.9 2.6h0m-9 -1.5h0m-2.9 -3.5h0m-4.1 -0.1h0m-1.5 -0.4h0m-1.4 3.1h0m-2 2.1h0m-1.6 -3h0m-4 -1.1h0m-4.2 -0.4h0m-9.6 4.4h0m-3.3 -1.9h0m-4 2h0m-0.1 -4.1h0m-3.6 2.5h0m-7.8 -2.5h0m-13.4 0.8h0m-0.5 -1.3h0m-6.9 4.3h0m-9.6 -1h0m-1.9 -1.7h0m-0.6 -0.9h0m-12 4.1h0m3.5 5.6h0m1.4 -1h0m1.4 -3h0m1.6 4h0m4.7 -3.3h0m7.3 0.5h0m4.7 -1.3h0m3.9 -0.9h0m6.2 2.3h0m4.6 1.4h0m1.1 -0.4h0m2.6 -3h0m2.7 3.1h0m1.1 -3.3h0m6.4 5.8h0m5.3 -4.8h0m4.2 0.9h0m5.4 3.4h0m4.9 -3h0m3.3 0h0m0 3.4h0m6.8 -3.5h0m0.3 2.7h0m0.4 -2.5h0m6.4 -2.1h0m4.8 -0.3h0m1.9 1.2h0m2.4 2.2h0m1.2 0h0m1.2 -0.3h0m1.1 -1.2h0m3.4 3.9h0m4.8 -1.5h0m0.6 -3.2h0m6.7 -0.1h0m1.1 2.5h0m4.7 2.3h0m2.3 -2h0m1.1 0.7h0m2.2 -0.9h0m0 -2h0m1.7 2.2h0m1.3 -1.7h0m2.6 -0.1h0m3.2 -0.1h0m0.9 -1.1h0m-6.7 10.3h0m-1.5 -4.4h0m-2.8 3.7h0m-2.7 -3.6h0m-8.1 1.2h0m-5.9 1.6h0m-2 1.4h0m-7 -1.7h0m-6 -1.9h0m-4.4 0.3h0m-1.6 0.8h0m-0.7 0.8h0m-1.7 -1.6h0m-3.3 -1.4h0m-1.7 2h0m-2.8 -0.7h0m-2.3 2.4h0m-3.9 -1.6h0m-8 -0.8h0m-3.8 3.2h0m-5.8 -3.1h0m-4.3 1.3h0m-3.2 -2.1h0m-14.4 3.3h0m-7.1 0.3h0m-2.2 -1.4h0m-12.5 -1.6h0m-13.6 -0.6h0m-0.2 7.8h0m1.6 0.9h0m3.4 0.9h0m18.2 0h0m0.7 -0.2h0m0.8 -1.3h0m0.8 2.5h0m3.7 -2.9h0m0.4 -1.3h0m10.4 0.4h0m3.7 1.8h0m3.7 -1.5h0m6.9 3.5h0m1.3 -4.2h0m4.4 0h0m2.1 1.7h0m7.4 1.1h0m1.9 1.2h0m6.8 -5.1h0m3.5 4.7h0m3 -4.8h0m0.7 2.3h0m7.8 -1.6h0m3.5 1.8h0m1.4 1.6h0m4.2 0.9h0m0.4 -1.8h0m13.2 0.6h0m12.8 0.9h0m0.5 -1.9h0m5.2 -2h0m0.7 0h0m3.7 1.5h0m-2 9.3h0m-4.9 -0.1h0m-3.2 -4.6h0m-5.1 1h0m-4.6 2.4h0m-6.2 -0.4h0m-4.3 -1.8h0m-14.6 -0.2h0m-5.7 -0.8h0m-3.8 1.6h0m-0.8 0.4h0m-8.4 -2.8h0m-17.4 5h0m-7.3 -2.7h0m-2.9 2.7h0m-6.3 -0.5h0m-11.2 0.6h0m-3.6 -0.4h0m-1.6 -4.7h0m-2.8 3.1h0m-0.7 -2.1h0m-7.7 1.2h0m-1.8 2.1h0m-1.7 -2h0m-0.5 2h0m-5.8 -3.2h0m6 5.1h0m16.8 1.8h0m1.5 0.1h0m3 0.3h0m5.2 -2.5h0m0.9 0.3h0m0 1.1h0m2.3 4h0m1.2 -0.3h0m5.2 -3.2h0m1.9 -1.4h0m2 4.6h0m4.7 -0.4h0m0.3 0.2h0m2 -5h0m0.3 3.4h0m3.7 -3h0m11.7 4.8h0m1.2 -2.1h0m10.7 0.9h0m3.7 -2.3h0m0.7 1.4h0m5.1 -0.1h0m7.7 -2.7h0m7.1 0.5h0m1.6 3.5h0m4.8 -0.8h0m5.6 -0.1h0m17 0.5h0m2.4 0.9h0m-5.2 5.6h0m-1.8 -2.9h0m-7.8 2.8h0m-4.2 -2.2h0m-10.2 -0.6h0m-3.8 -1.2h0m-0.5 4.4h0m-2.9 0.6h0m-3.5 -0.9h0m-2.3 -2.4h0m-4.2 1h0m-3 -1.7h0m-1.8 0.9h0m-5.1 -2.5h0m-6.3 3.7h0m-1.9 -0.3h0m-2.6 0.3h0m-13.1 -3h0m-4.9 2.6h0m-2 1.3h0m-0.2 -2h0m-4.1 1.8h0m-6.4 -3.5h0m-13.5 -0.9h0m-2.7 0.2h0m-2.6 0.5h0m-5.5 5.2h0m-6.3 -3.2h0m-1.2 -2h0m-1.9 3.7h0m-3.5 1.3h0m-5.1 0.2h0m0.8 0.3h0m0.9 2.3h0m2.6 -1.5h0m9.2 3.2h0m0.3 -2.7h0m0.9 2.2h0m2.5 0h0m0.7 -1.7h0m1.5 0h0m4.1 1.8h0m3.9 -2.9h0m9.3 3.2h0m1.6 1.8h0m4.7 -2.4h0m3.4 -2h0m14.2 3.5h0m12.1 -4.7h0m13.8 2.7h0m1 2.4h0m7 -2.4h0m0.8 -0.2h0m2.5 1.6h0m1.1 -0.7h0m3.2 2h0m3.2 -1.6h0m0.1 -3.5h0m8.7 5.3h0m0.3 -3.9h0m6.1 2h0m0.2 -2.5h0m4.3 1h0m3.6 1.3h0m5.8 -3.6h0m1.6 4.1h0m3.5 1.6h0m2.2 2.6h0m-6.3 -0.4h0m-17.3 -1h0m-1.7 0.9h0m-0.3 1h0m-3.7 0.6h0m-3.2 -2.3h0m-1.3 0h0m-7.1 1.5h0m-2.3 0.8h0m-5.8 -2.6h0m-0.1 2.3h0m-2.2 -1.1h0m-1.6 2.7h0m-2.2 0.1h0m-3.2 -0.3h0m-4.8 -0.5h0m-1.6 -1.2h0m-2.5 2.1h0m-6.8 0h0m-7.9 -2.8h0m-4.2 3.3h0m-1 -3.8h0m-0.9 -0.4h0m-10.6 0.5h0m-0.6 0.2h0m-3.3 0.3h0m-0.2 -1.3h0m-3.6 1.9h0m-3.8 0.5h0m-4 1.2h0m-1.8 -0.4h0m-3.5 0.3h0m-0.3 -3.1h0m0 2.2h0m-10.1 -2.4h0m-3.2 3.2h0m-1.8 -2.2h0m-0.3 2.6h0m-1.8 0.5h0m-0.8 0.3h0m-4.3 3.1h0m7.9 1.7h0m10.2 -2h0m0.6 -1.2h0m0.2 -0.5h0m16.9 4.5h0m0.6 -4.6h0m5.9 4.8h0m1.4 -4.7h0m4.5 -0.2h0m2.2 4.4h0m9.8 0.9h0m1.3 -5.4h0m22.3 3.1h0m3.6 2.1h0m4.5 -2h0m13.7 -1.1h0m3.8 -2.3h0m2.9 0.9h0m1.1 4.3h0m5.2 -3.8h0m3.6 2.8h0m5.5 1.3h0m1.1 -4.6h0m3.7 3.2h0m0.2 -3.5h0m1.4 4h0m1.3 -0.2h0m3.3 -3.2h0m2.5 7.4h0m-2.1 1.7h0m-2.2 -4.3h0m-3.1 3.6h0m-10.5 -3.7h0m-4.9 3.4h0m-2.2 -0.6h0m-4.1 -2.9h0m-0.2 0.2h0m-0.6 -0.2h0m-4.1 0.1h0m-1.3 4.5h0m-5.2 -4.6h0m-13.8 1.7h0m-16.9 -1.1h0m-1.6 1h0m-0.7 0.9h0m-4.7 2.6h0m-2.5 -3.1h0m-9.8 1.3h0m-1.2 2.3h0m-5.3 -0.7h0m-10.3 -0.4h0m-2.4 -1.5h0m-1.4 -1.7h0m-0.2 -0.7h0m-0.1 4.4h0m-8.5 -0.8h0m-7.7 -1.8h0m-4.2 1.1h0m-1.9 2.3h0m-2.8 -2.1h0m-1.6 -3.2h0m-2.8 -0.2h0m11.4 8.2h0m1.9 1.2h0m2.1 2h0m2.5 -4.4h0m10.3 4.4h0m2.1 -1.9h0m5.3 -1.7h0m1.6 3.7h0m1.7 -1.2h0m4.5 -3.2h0m2.2 -0.6h0m5.1 2.1h0m4.9 -0.1h0m7 1.7h0m2.9 -4h0m3.3 0h0m6.3 4.7h0m4 -2.9h0m3.5 -1.7h0m8.5 0.6h0m0.4 0.3h0m2.3 4.2h0m0.3 -4h0m0.4 -0.8h0m1.3 3.4h0m7.1 -1.9h0m2.3 2.6h0m0.9 -4.1h0m0.7 4.8h0m9.3 0.1h0m8.2 -3h0m3.6 -0.1h0m0.1 0.7h0m6.2 -3.3h0m1.1 2.2h0m5 -1.7h0m1.1 3.9h0m-13.3 4h0m-4.5 -1.9h0m-2.4 0.7h0m-7.6 4.4h0m-2.6 -0.5h0m-5.7 -2.9h0m-6.4 0h0m-2.6 -0.5h0m-2 0.5h0m-9.8 3h0m-2.5 0.2h0m-0.7 -2h0m-3.3 0.4h0m-5.6 -3.4h0m-1.9 1.1h0m-0.7 0.3h0m-0.1 0.6h0m-1.5 1.9h0m-3 -3.3h0m-0.2 3.7h0m-0.2 -0.4h0m-1.7 -0.8h0m-16.6 -1.6h0m-4.8 -1.6h0m-8.9 0.2h0m0 1.5h0m-2 -2.1h0m-6.4 0h0m-0.2 1.6h0m-1 -1.6h0m-6.3 5.8h0m-5.6 -3.9h0m-7 -1.4h0m0 1.9h0m-2.7 1.9h0m-1.5 7.5h0m1.3 -1.6h0m3.9 -0.3h0m1.2 0.8h0m7.9 0.2h0m7.2 -1.4h0m8.3 -2.1h0m6.9 -0.7h0m1.7 1.9h0m0.1 1.4h0m11.6 -4.1h0m2.5 0.5h0m2.2 1.7h0m0.5 3.7h0m4 -1.7h0m1.3 -0.1h0m1.3 0.3h0m4.6 0.5h0m6.8 -0.2h0m0.1 -1.9h0m0.7 -2.5h0m0.3 0.9h0m1.5 1.3h0m0.3 -2.4h0m8.5 2.3h0m4.4 1.3h0m1.7 -1.2h0m4.2 -0.6h0m3.2 -1.5h0m0.3 2.9h0m11.8 -1.8h0m1.9 0.2h0m6.3 0.6h0m0.7 -0.9h0m4.2 3.5h0m4.1 -4.9h0m13.8 3.1h0m-35.4 7.2h0m-8.6 -1h0m-11.8 0.5h0m-8.4 -2.6h0m-0.6 4.7h0m-5.8 -4.9h0m-6.2 -1h0m-3.7 0.1h0m-8.9 5.5h0m-3.3 -2.5h0m-4.3 2.1h0m-1.3 -0.3h0m-1.1 -2.2h0m-2.8 -0.9h0m-0.5 0.7h0m-1.4 -2h0m-6.4 5.4h0m-6.4 -3.4h0m-10.8 -0.8h0m-3.6 3h0m-2.7 -3.7h0m-6.4 0.1h0m-0.5 -0.9h0m-0.8 1.9h0m2.4 8.5h0m4.5 -1.5h0m2.6 -1.5h0m0.9 2.7h0m1 -3.2h0m3.1 3.2h0m1.4 -0.8h0m1.1 -0.1h0m5.1 0.8h0m0.7 -0.1h0m5.9 -2.3h0m4.8 -1h0m14.4 4.7h0m0.1 -3.4h0m8 2.5h0m1.8 -4.4h0m2.2 1.1h0m5.8 -0.6h0m2.8 -0.6h0m8.3 0.1h0m2.8 2.8h0m0.3 1.6h0m0.7 0.4h0m15.1 -3h0m8 2.1h0m1.2 -2.8h0m0.7 2.4h0m4.5 -1.7h0m0 -0.6h0m0.9 0.1h0m3.8 -0.4h0m10.6 -0.7h0m10.1 5h0m0.8 -1.3h0m6 1.2h0m0 4.2h0m-11.6 1.5h0m-5.2 0.5h0m-1.7 0h0m-2.1 -2.8h0m-2.9 2.5h0m-1.3 -2h0m-9.6 -0.6h0m-25 2.9h0m-3.1 -0.8h0m-2.1 0.7h0m-0.8 -2.8h0m-7.5 -1.4h0m-1.8 3.6h0m-0.1 -2.1h0m-3.3 -2.2h0m-17 2.1h0m-4.5 2h0m-4.9 0.7h0m-15.9 -1.1h0m-7.6 1h0m-6.7 -0.2h0m-2.3 -3.5h0m-3.3 -0.5h0m13 7.6h0m4.6 1.2h0m1.3 1.7h0m0.9 -3.3h0m5.2 -1.4h0m1.4 -0.1h0m3.4 4.6h0m14.6 -0.6h0m2.2 -1.3h0m3.6 0.3h0m5.6 2h0m2.1 -1.8h0m1 -1.9h0m3.4 2h0m1.4 0.8h0m5.8 -3.6h0m11.4 2.2h0m1.4 -0.6h0m2.1 0.8h0m0.6 1.3h0m2 -0.8h0m0.8 1.2h0m3.6 -4.7h0m1.6 2.5h0m1.4 -2.1h0m8.2 4.9h0m1.9 0h0m2.8 -0.8h0m3.6 -3.4h0m2.6 1.2h0m0.1 1.1h0m2.4 1.4h0m11.8 0.4h0m6 -4.2h0m4.6 3.6h0m1 -0.6h0m-2.6 6.7h0m-12.1 -5h0m-5.4 5.3h0m-2.9 -4.1h0m-2.7 0.5h0m-1.5 1.5h0m-5.6 1.5h0m-0.3 0.5h0m-8.5 -3.2h0m-0.4 0.8h0m-2.8 1.2h0m-8.1 1.5h0m-11.6 -4.8h0m-21.7 1.1h0m-0.4 -1.6h0m-10.6 4.5h0m-10.8 0.5h0m-2.1 -2.5h0m-5.1 0.5h0m-0.6 -1.6h0m-11.8 2.8h0m-1.5 -4h0m-3.9 -0.6h0m-3.5 6.9h0m1.5 2.1h0m16.7 -1.2h0m35.6 0.8h0m0 -1.2h0m3.2 0.4h0m2.5 -0.4h0m1.3 -1.4h0m15.5 2.9h0m24 -2.2h0m6.4 0.4h0m8.4 0.8h0m6.2 -0.4h0m9.8 0.5h0m5 -0.5h0"/><path fill="none" stroke="#34388e" stroke-width="2.6" stroke-linecap="round" stroke-opacity="0.85" d="M388.9 605.9h0m2.7 -0.1h0m19.1 -0.1h0m20.4 -0.4h0m29.5 -0.1h0m25.6 0.1h0m-2.4 5.1h0m0 -0.7h0m-2.4 -2.1h0m-11.4 2.5h0m-15.5 -1.5h0m-1.3 -0.6h0m-2.3 1.7h0m-1.9 0.7h0m-1.1 -2.4h0m-3.7 3.3h0m-0.2 -0.2h0m-0.1 -4.5h0m-8.6 0.6h0m-0.9 1.1h0m-3.5 -2.2h0m-15.4 5.5h0m-4.8 -0.2h0m-1.7 0h0m-6 -2.1h0m-13.8 -0.4h0m-1.5 2.7h0m-1.9 -1.9h0m-4.7 -3.2h0m-7.2 3.2h0m-9.2 -1.2h0m-8.8 2.4h0m-0.4 -1.6h0m-1.9 0.7h0m-5 7.7h0m0.4 0.1h0m0.4 -1.5h0m6.4 0h0m8.8 0.6h0m24.8 -0.4h0m1 -0.7h0m9.1 -1.8h0m8.6 -0.5h0m2.6 1.7h0m1.9 -2.7h0m2.9 4.1h0m5.1 -4.4h0m3.5 4.2h0m0.8 -1.6h0m4.6 1.8h0m1.3 0.7h0m0.3 -1.1h0m3 -0.3h0m18 0h0m7 1.8h0m1.9 -1h0m1.7 -0.4h0m21.2 -3.2h0m-1.2 4.9h0m-1.3 3.6h0m-2.6 1.8h0m-5.1 0.1h0m-2 -4.1h0m-5 2.3h0m-3.2 1.3h0m-2.3 -1.4h0m-2.3 -2.9h0m-1.1 3.6h0m-2.8 -2.8h0m-0.1 -0.3h0m-2.1 -1.2h0m-0.7 1.6h0m-1.4 -1h0m-3.4 -0.2h0m-2.9 3.8h0m-1.4 -3.5h0m-0.5 4.9h0m-3.7 -2.8h0m-2 -2.5h0m-4.5 3.9h0m-3.3 1.3h0m-5.2 -0.7h0m-2.4 0.9h0m-16.1 -2.7h0m-2.3 1.3h0m-16.3 0.1h0m-0.5 -1.8h0m-4.2 -1.5h0m-0.2 -0.3h0m-2.4 1.2h0m-2.6 -1.2h0m-12.2 0.9h0m-0.1 -0.1h0m-8 0.7h0m-0.8 -1.6h0m-7.3 1.2h0m-2.5 -1.4h0m2.6 8h0m3.8 -2h0m4.5 3.6h0m8.1 -1.7h0m4.4 -0.9h0m6 0.7h0m2.6 -2.2h0m16 3.5h0m1.1 -1.4h0m1.2 1.1h0m1 -2h0m22.3 2.3h0m2.1 -1.6h0m1 0.2h0m3.2 -0.6h0m10.9 0.7h0m0.7 -1.7h0m0.7 1.7h0m3.1 -0.8h0m2.1 2.9h0m1.8 1h0m5 -2.5h0m3.3 -2.6h0m0.1 3.7h0m3.6 0.2h0m0.9 -1.6h0m0.5 1.7h0m1.3 -2.2h0m1.8 -0.8h0m9.8 0.9h0m1.3 1.3h0m2.3 1h0m2.5 0.3h0m9.3 -3.8h0m-3.1 6.4h0m-8 3.8h0m-9.1 -1.4h0m-1.2 -0.3h0m-1.4 -0.1h0m-1.2 0.3h0m-2.4 -2.5h0m-5.1 0.2h0m-2 2.9h0m-1.6 -2h0m-8.3 0.4h0m-1.1 0.5h0m-0.3 -2h0m-16.4 3.4h0m-8.4 -0.5h0m-1.4 0.6h0m-1 -3.6h0m-3.4 2.2h0m-7.1 1.5h0m-2.9 -2.1h0m-2 -1h0m-3.1 -0.2h0m-0.7 0h0m-2.7 0.9h0m-1.3 -1h0m-0.1 2.4h0m-7.3 0.7h0m-3 0.7h0m-12.9 -3.6h0m-8.8 -0.4h0m-0.5 2.3h0m-5.7 1.3h0m-2 -3.8h0m-3.6 1.6h0m-1.5 -0.3h0m4.2 8.2h0m13.4 -2.7h0m0.1 1.4h0m8.7 0.3h0m4.9 0.4h0m5.3 -2.8h0m6.6 3.9h0m3.5 -0.3h0m4.4 -1.2h0m0.7 -1.5h0m4.9 -0.2h0m14 -0.9h0m2.3 0h0m1.3 1.6h0m1.8 -1.5h0m2.3 2.4h0m6.3 -2.1h0m25.4 1.6h0m19.9 1.2h0m5.9 -1h0m3.7 0.1h0m2.2 -2.3h0m-4.4 11h0m-3.6 -3h0m-2.8 -0.5h0m-0.6 2.3h0m-1.3 -0.8h0m-0.8 -3.8h0m-2.3 2.1h0m-5.6 0.3h0m-2.1 3.4h0m-3.3 -0.7h0m-5.9 0.5h0m-3.6 -4.6h0m-2.4 -0.4h0m-0.6 1.7h0m-0.8 -1.9h0m-0.4 3.5h0m-2.4 -2.3h0m-4.2 3.4h0m-2.6 0.2h0m-1 -1.3h0m-9.7 -1h0m-4.8 -2.3h0m-8.3 4.2h0m-1.5 -4.7h0m-0.2 4.3h0m-3.1 0.8h0m-2.5 -0.5h0m-6.5 0.7h0m-6 -4.3h0m-0.7 1.4h0m-8.6 2.4h0m-4.9 0.8h0m-1 -3.9h0m-5.2 3.1h0m-6.8 -3.9h0m-4.5 0.7h0m-11 3.2h0m-5.6 -2h0m-1.4 0.4h0m-0.2 -1.5h0m12.2 4.2h0m3.8 3.3h0m2.5 1.4h0m2.6 -4.4h0m6.1 2.3h0m4.8 -1.2h0m6.4 1.7h0m3.8 1.5h0m2.1 -1.5h0m1.1 1h0m0.3 1.7h0m3.2 -2.3h0m1.4 -0.8h0m0.4 -2.4h0m7.6 5.5h0m5.2 -5h0m0.4 -0.1h0m11.2 2h0m13.2 2.4h0m3.1 -1.2h0m7.1 -2.5h0m1.3 2.5h0m13.8 -1.1h0m6.8 -0.4h0m8.4 -1.2h0m4 2.4h0m10 6.3h0m-1.7 -2.7h0m-3.6 4h0m-0.3 -1.2h0m-0.3 -3.3h0m-1.3 4.8h0m-0.1 -4.6h0m-1.2 4.6h0m-2.3 -1.9h0m-12.3 -3.6h0m-1.9 0.1h0m-0.2 3.2h0m-17.4 -1h0m-1.4 2.8h0m-5 -4.6h0m-1 5.3h0m-4.5 -3.5h0m-8 3h0m-13.2 -1h0m-9.8 -1.7h0m-15.8 -0.5h0m-6.2 3.6h0m-1.1 -2.5h0m-2.4 1.2h0m-1.4 -3.9h0m-4.7 2.9h0m-10.5 -2.6h0m-10.1 4.2h0m-0.6 -0.7h0m1.9 2.9h0m12.2 3.4h0m5.3 -1.1h0m5.5 1.6h0m0.3 -0.8h0m0.4 -3.7h0m0.4 -0.1h0m3.7 4.8h0m14 -2.6h0m4.5 2.8h0m0.3 -1.5h0m8 -0.2h0m8.2 0.2h0m0.9 0.2h0m0.2 -4.1h0m0.1 0.4h0m9.9 3.3h0m1.5 -2.6h0m0.6 1.4h0m5.1 -0.6h0m2.8 -1.4h0m0.8 0.5h0m0.2 4.8h0m0.4 -0.6h0m26.8 -2h0m7.6 -2.1h0m1.8 0.2h0m5.2 0.6h0m3.5 -0.1h0m1.7 4h0m2.9 -4h0m-2.4 4.9h0m-1.9 2.7h0m-2.4 -3.2h0m-3.1 2.1h0m-13.9 3.4h0m-4.9 -4h0m-1.3 2.5h0m-18.4 -0.3h0m-17.6 -2.7h0m-2.7 -0.1h0m-1 3.2h0m-18 0.9h0m-7.9 -2.2h0m-1 0.5h0m-1 1h0m-11.8 -2.4h0m-8.2 -0.3h0m-5.5 2.8h0m-3.3 -1.5h0m-10.1 -2h0m10.6 8.9h0m5.1 -0.8h0m0.6 -2.8h0m3.5 2.7h0m4.8 2.6h0m0.7 -5.3h0m3.9 4.5h0m3.9 0h0m11 -1.9h0m2.9 1.8h0m4.1 -3.5h0m7.6 -0.9h0m2.4 3.6h0m7.6 -0.4h0m7.1 -2.2h0m1.3 -0.4h0m2 4.8h0m1 -5.4h0m1.1 4.2h0m1.5 -3.7h0m5.9 0.4h0m10.6 0.7h0m5.7 -1.1h0m0.9 -0.5h0m10.9 0.1h0m2 0.6h0m0.2 4.6h0m13.9 3.9h0m-0.1 -3.5h0m-9.8 3.2h0m-1.5 -3h0m-2 0.9h0m-3.5 -1.1h0m-13.1 2.3h0m-4.1 -1.7h0m-5.4 3.3h0m-3.5 -2.4h0m-3.1 -1.5h0m-0.1 4.6h0m-0.1 1h0m-1.9 -0.5h0m-7.7 0.4h0m-5.4 -4.8h0m-11.6 0.1h0m-7.5 4.8h0m-5.8 0.1h0m-5.4 -3h0m-7.3 -1.3h0m-1.9 -0.7h0m-0.1 4.8h0m-6.5 -1.4h0m-3.7 0.8h0m-4.4 -3.7h0m-1.3 3.1h0m-8.6 -0.3h0m-0.3 -1.8h0m-1.8 0.5h0m-0.6 -0.9h0m-0.7 -0.6h0m-2.1 0.7h0m-1.1 1.6h0m-4.3 0.8h0m-0.2 1h0m0.3 4h0m9.4 0.6h0m6.1 -3h0m2.5 2.3h0m6 2.3h0m4.5 -1h0m1.2 -4.7h0m7.6 3.5h0m7.6 -1.3h0m9.1 -2.2h0m6.9 1.5h0m1.1 2h0m0.8 -1.1h0m3.7 1.6h0m1.1 0.9h0m9.9 -2.5h0m6.5 3.5h0m7 -2.2h0m1.3 0.3h0m2.3 -2.4h0m6.7 4.2h0m4.4 -3.7h0m4.6 0.4h0m0.7 -2.5h0m4.4 0.3h0m4.6 1.3h0m0.6 0.2h0m4.2 1.7h0m2.1 -1.3h0m0.5 -0.1h0m0.4 -0.5h0m3.6 2.3h0m0.4 -2.7h0m0 2.2h0m4.2 -2.2h0m1.4 4.2h0m1 -3.1h0m2 -0.9h0m-0.2 4.8h0m-9.4 -0.2h0m-3.1 1.7h0m-0.2 2.5h0m-0.2 -1.9h0m-2.9 -0.3h0m-1.1 0.4h0m-31.2 -0.4h0m-6.1 -1.4h0m-11.3 0.5h0m-10.5 -1h0m-1.9 4.5h0m-3.6 -1.3h0m-5.7 -3.2h0m-9.2 2.2h0m-5.2 -1.1h0m-1.4 4.5h0m-4.6 -0.3h0m-3.3 0h0m-0.3 0.4h0m-1.9 -4.1h0m-16 2.4h0m-2 -3.6h0m-5.2 2.4h0m-2.4 6.6h0m1 0.4h0m4.2 1.1h0m0.7 -4.9h0m4.7 -0.1h0m6.2 4.4h0m5 -3h0m8.2 -1.4h0m24 0.7h0m16.3 2h0m0.1 2.6h0m3.5 -1.1h0m4.1 -4.1h0m6.5 0.4h0m2.1 0.5h0m4.3 0.6h0m9.8 4h0m10.3 -3.6h0m0.7 3.8h0m3.5 -2.7h0m8.4 -1.2h0m4.5 -0.6h0m4 1.8h0m3.4 -0.4h0m0.7 -1.8h0m2 5.7h0m-2.3 4.5h0m-1.4 -0.9h0m-0.6 0.2h0m-1.1 -4.3h0m-0.2 1.4h0m-3.4 -1.2h0m-1.5 2.9h0m-3.1 1.8h0m-2.6 -4.8h0m-3.8 1.6h0m-0.8 1.9h0m-4 0.1h0m-3.8 -2.7h0m-8 3.7h0m-1.5 -0.8h0m-2.2 1h0m-1.1 -1.8h0m-3 2h0m-15.2 -0.1h0m-12.1 0.7h0m-6.8 -5.1h0m-12.6 0.9h0m-2.3 3.2h0m-2.9 0.5h0m-28.5 -4.1h0m-3.2 -0.1h0m-0.3 2.7h0m-3.5 -0.4h0m-8.3 7.8h0m0.4 -4.5h0m3.4 -0.2h0m3.2 0.6h0m4.1 0.5h0m1.6 -0.8h0m15.3 0h0m9.3 0h0m14.8 4.5h0m1.6 0h0m0.1 -0.1h0m6 -0.9h0m9.8 1.1h0m0.4 -3h0m1.4 -0.3h0m2.4 2.6h0m1.7 -0.6h0m7.8 -3.1h0m4.1 3.9h0m7.5 -4.9h0m3.1 3.5h0m4.9 2.1h0m1 -2.7h0m5.8 0.2h0m7.6 1.6h0m10 -1.4h0m2.1 -2.4h0m5.4 1.2h0m5.1 -1.2h0m-11.8 9.9h0m-15.8 -1.9h0m-4.1 -1.6h0m-8.1 1.7h0m-2.7 -0.1h0m-0.3 -1.9h0m-5.8 -0.1h0m-9.6 3h0m-10.9 1.9h0m-4.8 -5.6h0m-0.6 -0.2h0m-2.9 2.1h0m-2.7 -0.3h0m-6.2 -0.2h0m-5.4 1.1h0m-0.9 -1.9h0m-10 0.7h0m-3.1 3.6h0m-2.2 -3h0m-12.3 -0.9h0m-6.1 0.3h0m-1 -0.4h0m-3.1 0.9h0m-0.8 2h0m-4.2 -1.3h0m6.8 7.6h0m4.6 1.4h0m4 -4.2h0m0.4 -0.3h0m0.1 0.6h0m8.5 -1.2h0m1.9 3.2h0m13.5 -3.8h0m1.1 1.7h0m4.1 1.2h0m9.6 1.3h0m5.9 -2.6h0m7.1 0.9h0m2.2 -2.1h0m3.3 3.8h0m8 -3.5h0m11.3 2.2h0m2.1 2.4h0m11.2 -0.8h0m0 0.7h0m9.1 -3.5h0m0.4 -1.2h0m0.2 2h0m0.5 0.2h0m10.3 -0.6h0m3.1 3.9h0m-4.1 4.7h0m-15.9 -1.3h0m-5.2 -3h0m-0.5 3.4h0m-9.3 -0.5h0m-5 -2.4h0m-3.1 2.1h0m-23.6 2.8h0m-4.6 -0.3h0m-1.3 -3h0m-1.3 1.3h0m-2.8 -1.3h0m-1 -2.2h0m-1.2 1.9h0m-0.7 3.7h0m-0.1 -4.1h0m-6.8 -1.2h0m-1.6 1.6h0m-1.6 3h0m-12.9 -1.2h0m-6.1 -1.6h0m-4 3.5h0m-3.7 -5.9h0m-0.5 0.7h0m-12 5.1h0m-1.9 -4.9h0m-3.3 3.8h0m15.5 4.5h0m5.8 1h0m0.3 -3.6h0m0.8 2.9h0m1.8 0.9h0m5.9 -2.5h0m11.7 2h0m2.6 2h0m1.8 -2.1h0m4 2h0m2.6 -4.9h0m2.5 2.6h0m0.8 -2.5h0m5 0.6h0m1.6 -1h0m8.1 1.6h0m4 0.7h0m2.2 -1.2h0m2.5 -0.2h0m0.3 -1h0m3 0.6h0m4.3 1.6h0m3.5 -0.8h0m1.1 2.4h0m0.3 -2.3h0m10.5 1.6h0m2.2 -2.4h0m8 1.7h0m7.3 1.2h0m5.6 -1.2h0m13.8 2.2h0m0.8 -3.8h0m0.2 5.9h0m-4.6 4.5h0m-25.6 -0.5h0m-1.3 -0.5h0m-2.6 -3.2h0m-3.3 3.5h0m-1.3 -2.9h0m-1.4 1h0m-7.5 -2.9h0m-1.4 4.7h0m-1.5 -3.1h0m-9.5 1.7h0m-0.2 -2.6h0m-0.6 3.1h0m-2.3 -3.5h0m-7.5 0.3h0m-1.4 -0.7h0m-1.5 1.3h0m-4.1 -0.2h0m-12.4 -0.7h0m-4.3 5.4h0m0 -5.3h0m-0.8 2.2h0m-0.6 -2.2h0m-0.2 4h0m-18.6 0.4h0m-4.7 -2.7h0m-1.1 1h0m-4.3 1h0m-9.1 0h0m-6.1 4.9h0m15.7 0.2h0m3 -2.8h0m0.9 3h0m18.8 -2.5h0m3.5 1.6h0m5.4 -0.6h0m2.9 0.3h0m9 -1.8h0m3.1 3.2h0m3.9 -3h0m8.6 2.3h0m12.2 -1h0m2.6 0.5h0m0.9 -1.5h0m12.9 -0.9h0m1.8 0.3h0m0.1 3.3h0m4.1 -2.4h0m15.1 0.6h0m2.4 -0.2h0m10.1 -0.2h0"/><path fill="none" stroke="#b81a30" stroke-width="1.4" stroke-linecap="round" stroke-opacity="0.9" d="M356.2 605.2h0m33.8 0.3h0m39.6 -0.3h0m52.1 -0.1h0m6.3 2.6h0m-3.2 0.7h0m-5.2 2.1h0m-6.5 -0.1h0m-4.6 -4.2h0m-1.6 2.4h0m-15.3 0.7h0m-14.1 -0.4h0m-18.8 -1.8h0m-4 0.2h0m-6.5 0.4h0m-3.7 2.9h0m-18.1 -3.2h0m-1 -0.1h0m-2.8 1.5h0m-3.3 -2.7h0m-2.8 0.2h0m-12.7 1.4h0m-5.4 3.3h0m-5.9 0.6h0m-1.5 -4.1h0m-3.8 2.7h0m0.1 4.2h0m1.9 -1.9h0m0.6 2.1h0m3.5 0h0m10.7 0.2h0m12 -0.3h0m1 0.9h0m8.7 -1h0m1.6 -2.1h0m1.5 1.6h0m1 2.3h0m12.6 0.8h0m1.7 -3.5h0m1.1 1.4h0m16.8 -0.2h0m9.5 0.9h0m32.3 -3.3h0m4.1 2.7h0m13.9 -3h0m4.1 5.4h0m-1.1 5.4h0m-2.4 -2.6h0m-13.6 3.4h0m-50.4 -2.6h0m-18.6 -0.3h0m-2.7 0.8h0m-1.4 -2.1h0m-5.8 4.5h0m-5.4 -0.5h0m-1 -2.9h0m-3 0h0m-4.5 -1.2h0m-12 3.5h0m-13.8 -2.8h0m-2.1 1.8h0m-2.3 2.8h0m1.3 -0.5h0m0.9 5.1h0m1.3 -0.3h0m6.3 -4.4h0m6.1 4.7h0m2.8 -1h0m0.1 1.3h0m5.7 -5.4h0m5.8 1.3h0m8.8 1.4h0m12.8 1.5h0m33.6 -3.2h0m4.5 2.7h0m37 -2.3h0m6 -1.3h0m5.2 8.8h0m-13.1 -1.5h0m-76.1 4h0m-2.9 -3.6h0m-2.4 -0.4h0m-13.6 3.3h0m-5 1h0m-8 -5h0m-2.4 1.8h0m-9.8 -1h0m-0.4 4.3h0m-4.8 5h0m5.9 -2.9h0m14.6 1.9h0m0.8 -2.3h0m10.5 2.1h0m1.5 -0.1h0m14.8 1.6h0m9.3 -3.4h0m23.7 0.7h0m40.8 -2.3h0m15.2 4.4h0m-2.8 3.2h0m-89.9 2.5h0m-12.4 -3.6h0m-1 0.6h0m-14.6 3.8h0m-4.8 0.2h0m-6.3 -0.3h0m-0.2 -4.9h0m-5 2.4h0m3.4 8h0m16.6 -4.5h0m2.6 2.1h0m0.2 3.3h0m2.9 -3.5h0m7.9 3.9h0m3.6 -3.2h0m1.4 -1.7h0m3.7 3.6h0m3.8 -2.1h0m4.4 2.4h0m0.9 2.7h0m-5.9 2.9h0m-6 -0.8h0m-2.1 -2.8h0m-1 2.4h0m-10.3 0.7h0m-7.1 -3h0m-6.8 4.6h0m-7.2 -5.2h0m-5.8 2.2h0m18.9 5.7h0m0.2 2.2h0m23.2 -0.3h0m7.7 -0.4h0m1.8 -0.9h0m17.3 2.9h0m73.6 -2.7h0m0.3 2.4h0m-13 1.5h0m-75 1.7h0m-12 -0.2h0m-2.6 0.9h0m-4.3 -2.2h0m-3.2 4.3h0m-4.7 -1.9h0m-7.9 -3.4h0m-1 1h0m-5.8 3.4h0m-3.5 -1.9h0m0.8 3.6h0m4 1.8h0m9.6 2.2h0m0.4 0.5h0m1.9 -2h0m8 -2.4h0m1 2.2h0m8.8 0h0m0.7 2.5h0m4.4 -0.5h0m8.1 -0.4h0m56.9 -2h0m19.4 -1.5h0m1.5 -0.5h0m2.9 0.1h0m2.2 5.5h0m-15.8 1h0m-7.9 0.9h0m-24.1 1.7h0m-0.9 -2.8h0m-11.6 5.1h0m-6.2 -3.4h0m-4.8 2.7h0m-1.4 -2h0m-6.1 2.1h0m-16.3 -1.2h0m-2.3 0.1h0m-2.2 2h0m-2.1 -5.6h0m-11.5 1.7h0m-1.7 2.8h0m-1.2 -2.9h0m-1.6 2.3h0m-1 -0.7h0m-5.3 -2.5h0m-13.3 2.9h0m-3.3 0.4h0m9.4 5.2h0m2.8 2h0m6 -1.8h0m0.3 1.8h0m6.4 -3.6h0m1.5 1.5h0m8.3 -2.3h0m0.8 1.7h0m4.5 1.4h0m6.2 0.5h0m10.7 -0.9h0m11.5 -1.3h0m16.9 -2.2h0m0.2 -0.2h0m52 6.8h0m-11 1.8h0m-13.4 2h0m-1.5 -2.2h0m-7.4 -2.4h0m-18.5 4.4h0m-3.5 0.7h0m-1.6 -2.8h0m-14.8 1.6h0m-2.5 1.6h0m-6.5 -4.4h0m-5 4.2h0m-6.7 -2.4h0m-2.7 -0.8h0m-16.3 2.4h0m-4.7 -2.4h0m-14.8 1.1h0m-4.2 3.7h0m1 1.2h0m17.8 2.2h0m0 -2.9h0m6.3 4.4h0m0.4 -2.6h0m3 -2.6h0m6.7 2.7h0m2.6 2h0m4.3 -4.3h0m0.8 1.4h0m0.8 -0.1h0m7.7 -0.5h0m9.4 -0.2h0m1.4 0.9h0m1 -1.1h0m1.8 3.8h0m9.1 -1.5h0m1.5 0.4h0m14 -1.5h0m3.3 2.1h0m15.6 -2h0m1.4 -0.6h0m11.4 1.5h0m-14.6 5.4h0m-3.6 -2.1h0m-11.8 -0.6h0m-2.4 0.1h0m-4.6 1.7h0m-7.1 -1.1h0m-11 1.2h0m-12.7 2.5h0m-2 1.1h0m-2.9 -4.4h0m-10.5 1h0m-12.6 2.6h0m-0.1 -4.7h0m-2.5 2h0m-0.9 -2.3h0m-3.4 2.1h0m0 -0.6h0m-3.6 1h0m-5 -1.2h0m-1.7 3.3h0m-7.4 -2.2h0m-0.1 1.6h0m-0.1 4.5h0m2 -2.4h0m11.2 3.9h0m2.7 0.5h0m1.4 -1.3h0m8.2 -1.3h0m2.3 -1.8h0m6.4 3.1h0m3.1 1.5h0m0.8 -2.3h0m17.4 -2.5h0m0.9 4.2h0m4.2 -3.8h0m2.7 0.3h0m4.6 1.6h0m4.8 3.1h0m2.4 -3.4h0m2.4 2.8h0m2.9 -3.3h0m5.9 3.1h0m17.9 -3.8h0m2.8 0.1h0m1.3 4.6h0m2.9 -1.9h0m4.4 -1.9h0m21.6 8.6h0m-7.3 -4.2h0m-19.6 0.3h0m-10 3.7h0m-8.7 1.5h0m-0.4 -3.8h0m-6.4 0.6h0m-0.9 0.8h0m-0.2 -0.9h0m-8.6 2.6h0m-9.3 -3.2h0m-1.1 2.8h0m-2.3 -4h0m-0.4 0.5h0m-0.8 -0.2h0m-18.6 1.2h0m-5 2.4h0m-5.3 -2h0m-5.5 -1.7h0m-1 2.2h0m-1.9 1.2h0m-2.8 -3.6h0m-1 4.1h0m-6.9 -1.9h0m-2.9 -1.5h0m-6 -0.7h0m-6.6 3h0m-0.1 5.7h0m0.6 -2.4h0m11.5 0.5h0m5.5 -1.1h0m3.1 4.5h0m2.2 -3.9h0m7.2 4h0m16.7 0.5h0m0.7 0.6h0m4.1 -5h0m6.5 0.6h0m0.5 3.2h0m2.7 1.2h0m1.4 -0.3h0m2 -4.7h0m9.3 3.7h0m4.2 1h0m25.5 -5.3h0m7.6 4.9h0m17 -2.3h0m3 -0.9h0m10 -2h0m-3 7.9h0m-3 -0.9h0m-6.2 4.7h0m-4.2 -2.3h0m-3 -0.8h0m0 3.1h0m-3.4 -4.9h0m-3.6 4.1h0m-1 -0.3h0m-4.6 -2h0m-2.8 2.9h0m-11.6 -0.7h0m-4.7 -3.8h0m-1 2.2h0m-5.2 1.3h0m-0.7 1.4h0m-9.5 -0.8h0m-3.3 -3.4h0m-6.1 3.8h0m-8.1 -3.2h0m-0.7 1.2h0m-13.8 -2.1h0m-2.6 1.7h0m-1.5 -1.9h0m-12 0.3h0m-17 2.6h0m-7.5 3.9h0m0.6 2.7h0m14.6 1h0m2.1 -4.2h0m5 3.8h0m4.2 -1.2h0m0.8 -2.7h0m7 4h0m0.6 -4h0m0.2 4.1h0m4.4 -0.9h0m6.9 -0.2h0m1.9 -3.5h0m14.3 0h0m5.4 0.7h0m2 -1.5h0m5.3 4.5h0m2.4 0.8h0m0.1 -4.3h0m3 4.3h0m0.7 -2.3h0m11.3 -0.7h0m7.3 2.1h0m5.4 -0.8h0m7.1 -0.9h0m3.4 0.2h0m11.7 0.9h0m5.3 1.3h0m6.3 4.5h0m-5.3 0.5h0m-3.2 -2.9h0m-15.6 0h0m-3.1 0.3h0m-0.3 1.3h0m-2.9 -0.8h0m-1.9 0.5h0m-1.6 0h0m-0.7 2.4h0m-2.2 -1.2h0m-1 1.1h0m-1.8 -0.7h0m-6.2 -0.7h0m-1.7 0.2h0m-1 -3.4h0m-0.4 0.4h0m-1.7 3.2h0m-32.9 -0.9h0m-0.2 -1.5h0m-3.2 -0.4h0m-1 2.8h0m-7 1h0m-7.5 0.7h0m-0.6 -5h0m-8 5h0m-5.2 -3.3h0m-16.3 -0.8h0m-0.1 1.7h0m-4.7 -2.3h0m-2.7 0h0m5 9h0m11.4 -1.2h0m16.9 -1.6h0m4.9 -0.5h0m7.2 0.5h0m0.1 1.4h0m7.1 1.2h0m6.8 -0.3h0m6.5 -0.3h0m3.9 -0.3h0m4 -2.2h0m3.7 2.7h0m1.8 -0.2h0m2.6 0h0m0.1 -2h0m11.4 1.1h0m1.3 -2h0m8.2 3.7h0m3.4 -1.4h0m10.6 0.9h0m0.8 -0.1h0m1.3 -1.5h0"/><path fill="none" stroke="#b81a30" stroke-width="2" stroke-linecap="round" stroke-opacity="0.9" d="M464.6 605.1h0m9.1 0.4h0m-1 5.3h0m-1.8 0.1h0m-10.6 -2.1h0m-4.4 2.3h0m-13.2 -4.9h0m-22.4 3.3h0m-24.7 -0.1h0m-2.7 2.1h0m-0.2 -4.5h0m-9.1 1.8h0m-3.4 -2h0m-0.1 4.2h0m-0.4 -0.8h0m-5.2 1.4h0m-2.9 -1.4h0m-1.4 -2.9h0m-2.9 3.5h0m-8.6 -4h0m-1.3 2.9h0m-2.7 -1.7h0m-3 9.1h0m0.3 0.6h0m4.8 -4h0m8 1.1h0m3.4 0.1h0m2.3 0.6h0m1 0.9h0m2.7 -3.7h0m6.1 3.8h0m1.2 -3.4h0m9.6 1.7h0m10.1 -2.7h0m10.3 1.3h0m2.1 -0.1h0m68.8 3.3h0m-74.6 6.9h0m-18.2 -4.1h0m-4.1 -0.7h0m-5.5 1h0m-13.8 1.7h0m-2.2 1h0m-5.4 -4.2h0m-1.9 4.9h0m-1.6 -1.3h0m-4.4 -2.4h0m-0.6 10.1h0m11.9 -2.3h0m1.1 -2.7h0m7.2 2.7h0m9.3 -0.7h0m0.6 1.4h0m6.9 0.5h0m80.1 0.6h0m6.2 -0.5h0m12.6 0.1h0m-8.6 4.3h0m-73.7 2.1h0m-1 -2.7h0m-15.4 2.5h0m-4.6 -1.3h0m-1.7 2.1h0m-0.4 -4.6h0m-9.9 3.4h0m-2 -1.9h0m-8.5 1.2h0m-9 -1.3h0m-3.4 -0.1h0m-0.4 2.7h0m11 3.5h0m18.6 -1.2h0m4.3 -0.1h0m6.2 -1.2h0m0.1 1.1h0m0.2 -0.6h0m0.3 5.1h0m73.4 -1.3h0m21.9 0.1h0m0.9 7.3h0m-3.3 -3.4h0m-68.4 -1.8h0m-13.5 3.4h0m-0.6 0.5h0m-2.3 -2.5h0m-9.7 -0.4h0m-0.6 3h0m-1.2 -4.2h0m-9.5 4.4h0m-4.3 -0.1h0m-5 -0.8h0m-1.3 -0.5h0m-3.3 0.7h0m-8.6 1.2h0m-7.9 -4.3h0m1.3 5.5h0m2 1.8h0m7.4 3h0m7 -1.3h0m1.8 -0.8h0m3 1.6h0m8.3 -0.8h0m1 -3.5h0m1.7 0.7h0m18.5 1h0m84.2 3.8h0m-3.3 2.6h0m-35.4 -0.1h0m-26.1 -1.1h0m-2.8 2.1h0m-22.5 -0.4h0m-17.2 0.6h0m-0.5 0.6h0m-0.8 0.3h0m-3.2 -0.1h0m-9.1 -2.1h0m-4.1 -0.3h0m-6.6 0.9h0m4.6 3.1h0m1.9 0.1h0m10.1 4.1h0m0.8 -3.9h0m8.8 5.2h0m4.4 -2.1h0m1.4 -1h0m2.6 0.5h0m4.2 2.2h0m0.2 -3.2h0m13.1 0.3h0m15.7 -1.6h0m53.8 1.6h0m1.9 0.3h0m10.4 -1.3h0m0.7 -1.1h0m1.8 8.6h0m-0.2 -1.3h0m-4 3.6h0m-23 -3.1h0m-1.7 3.9h0m-56.1 -3.1h0m-11.2 -1.8h0m-0.6 2.2h0m-4.7 0.9h0m-0.1 -3.2h0m-1.2 4.5h0m-0.7 -2.2h0m-1.4 2.5h0m-0.4 -5.3h0m-11.4 4.7h0m-5.1 0.5h0m-6.4 -4.2h0m-12.2 5h0m0.2 5.2h0m10 -3.3h0m0.5 0.6h0m3.1 -0.2h0m3 -0.3h0m12.4 2.3h0m9.4 -2.8h0m1.5 -0.6h0m0.2 -1h0m4.1 5h0m0.7 -3.8h0m13.3 1h0m0.3 -2.4h0m45.5 3.6h0m26.1 -0.4h0m7.4 -2.2h0m-22.9 6.2h0m-16.7 2.3h0m-1.7 0.7h0m-21.3 -3.2h0m-17.2 2.7h0m-10.6 -1.1h0m-2 0.8h0m-5.6 0.6h0m-5.8 1h0m-8.8 0.2h0m-4.5 -1.2h0m-11.5 7.9h0m7.2 -4.9h0m0.5 4.2h0m6.3 -1.8h0m6.4 1h0m1.6 0.2h0m7.2 -3.6h0m0.9 0.7h0m5.2 2.1h0m8.4 0.5h0m1.4 -1.5h0m1.3 1.2h0m1.9 -3.3h0m8.8 4.6h0m0.9 -0.6h0m1.9 -0.8h0m12.9 0.9h0m14.5 -0.2h0m6.7 -3.7h0m3.8 3.6h0m7.7 -4.5h0m3.7 2.4h0m1.3 1.4h0m17.2 -2.3h0m-1.8 7.5h0m-24.8 0.6h0m-5.8 1.5h0m-10.6 -0.3h0m-4.7 -3h0m-1.7 1.8h0m-3.1 0.4h0m-10.9 -4h0m-2.3 4.8h0m-4.3 -1.8h0m-1.9 0.3h0m-7 1.3h0m-6.7 -4.4h0m-43.3 0.1h0m-1.1 5h0m-4 1.5h0m7 3.3h0m1.7 -1.6h0m3.4 -1.4h0m11.3 0.3h0m3.5 2h0m0.2 -0.5h0m0.6 -2.3h0m2.6 5h0m16.8 -1.6h0m4 -0.2h0m8.4 1.4h0m2.5 -1.8h0m43.8 2.1h0m8 -3.2h0m-3.4 5.4h0m-3.1 3.3h0m-2.1 -1.9h0m-2.1 1.7h0m-2.8 -2.7h0m-5.3 -1.7h0m-11.1 4.8h0m-7.5 -3.4h0m-6.6 -0.6h0m-1.7 0.4h0m-29.7 3.2h0m-6.8 0.5h0m-10.5 -0.9h0m-9.1 -3.6h0m-1.9 2.6h0m-9 6.9h0m1.2 0.9h0m9.7 -2.2h0m3 1.3h0m1.7 -3.9h0m17.3 2.4h0m3.4 1.3h0m2.2 -3h0m3.1 3.9h0m2.8 -3h0m1.8 1.6h0m2.6 -3.6h0m1.3 4.1h0m8.1 -1.6h0m1.6 -0.4h0m25.2 -0.3h0m7.9 2.5h0m44 -1.7h0m-11.7 9.2h0m-13.1 -2.9h0m-5.8 2h0m0 0.7h0m-8.9 -4.2h0m-0.8 1.2h0m-28.9 0.1h0m-9.3 3.1h0m-4.1 -1.7h0m-5.1 -0.4h0m-5.8 -3.7h0m-2.4 4.7h0m-4.4 0.7h0m-1.8 -1.6h0m-1.2 -2h0m-3.3 3.1h0m-1.6 0.7h0m-1.3 -3h0m-3.4 2.5h0m-21.9 2.5h0m0 2.1h0m10.3 -1.8h0m3.5 2.1h0m2.8 1.9h0m4.2 -5.5h0m9.3 -0.3h0m4.7 0.3h0m14 1.9h0m4.5 3h0m2.5 -2.6h0m1.5 0.8h0m1.8 -2.4h0m10.6 3.5h0m0.3 -2.2h0m1 0.2h0m0.7 2.4h0m2 -2.8h0m2.6 1.3h0m12.1 -1.7h0m2.9 -1.5h0m0.6 1.3h0m3.2 2.4h0m1.6 -0.5h0m0 -1.2h0m4.3 -2.3h0m0.1 4.9h0m0.5 -3.2h0m2.4 4h0m2.6 -2.6h0m1.8 1.9h0m0.4 -3.1h0m0.7 0.8h0m0 1.7h0m2.8 -2.9h0m9.5 2.8h0m5.7 -2.1h0m5 5.2h0m-2.1 -0.4h0m-1.4 2.5h0m-1.8 -1.7h0m-0.9 0.8h0m-0.7 1.1h0m-5.4 -0.3h0m-3.4 2.4h0m-32.7 -2.1h0m-17.7 -2.3h0m-2.2 1.2h0m-2.3 3.1h0m-0.2 -1.3h0m-1.6 1h0m-1.4 0.4h0m-1.7 -0.5h0m-15.8 -3.1h0m-0.7 1.2h0m-1.4 -2.3h0m-0.6 4.5h0m-13.7 -0.8h0m-2.7 -1.5h0m-4 -1.2h0m-5.1 2.9h0m0 -4.6h0m-6.6 0.8h0m-2.1 4.3h0m-0.8 -5.2h0m-3.4 1.3h0m-2.5 3.2h0m-4.1 5.4h0m6.9 -0.4h0m3.1 -1h0m3.5 -2.4h0m5.8 1.6h0m0.2 -0.6h0m2.2 -1.1h0m8.1 -0.2h0m2.3 0.6h0m0.7 5.1h0m0.6 -3.5h0m2.5 1.1h0m7.3 -3.1h0m10 0.6h0m1.5 0.3h0m2.1 1h0m5.1 0.5h0m1.3 -2.4h0m1.3 0.2h0m1.3 2.5h0m4.5 -2.1h0m0.1 -0.4h0m5.4 1.2h0m1.7 0.6h0m17.8 1.3h0m1.7 -2.9h0m0.1 0.5h0m0 -0.3h0m5 5h0m6.4 -3.2h0m1.4 -2.5h0m16.3 0.1h0m13.3 0.1h0m3.2 11h0m-7.7 -0.3h0m-0.1 -1.1h0m-0.9 -1.5h0m-4.8 1.1h0m-1.4 1.6h0m-4.4 -4.9h0m-0.2 4.5h0m-13.8 -2.2h0m-4.4 2.1h0m-4 -3h0m-8.5 0.3h0m-5.4 1.8h0m-2.3 -2.9h0m-1.1 -0.8h0m-2.5 4.1h0m-2.1 0.6h0m-2.4 0h0m-0.9 -1h0m-2.4 -0.8h0m-2 -1.9h0m-8.1 2.5h0m-5.7 1.1h0m-6.1 0.7h0m-6.4 -3.8h0m-7.6 -1.1h0m-3.6 5.2h0m-0.2 -1.5h0m-3.6 -3.7h0m-3.2 -0.5h0m-2.4 5.2h0m-0.8 -3.4h0m-0.8 2.9h0m-3.4 -3.2h0m-0.9 -1.4h0m-16.4 3.1h0m-1.9 3.2h0m2.7 1.8h0m11.8 1.1h0m4 -0.6h0m30.9 -1h0m2 -0.2h0m17.4 1.9h0m4.6 -3h0m4.6 3.3h0m8.5 -2.7h0m1.3 1.5h0m2.3 -1.5h0m2 1.3h0m0.5 1.6h0m3.4 -2.6h0m20 2h0m10.5 -0.9h0m10 -0.1h0"/><path fill="none" stroke="#b81a30" stroke-width="2.6" stroke-linecap="round" stroke-opacity="0.9" d="M414 605.1h0m55.9 0.8h0m3.3 -0.5h0m12.8 5.6h0m-12 0.7h0m-5 -0.6h0m-32.5 -3.6h0m-46 1h0m-3.1 1.2h0m-8.2 1.3h0m-5 -3h0m-3.5 1.8h0m-4.4 -2.7h0m-1.6 4.2h0m-3.6 -2.2h0m-0.4 -2.4h0m-4.3 1.8h0m-0.6 -0.7h0m-1.3 2.2h0m-1.7 -1.6h0m-2.1 1.1h0m-4.3 0.9h0m18.2 3.3h0m5.9 1.3h0m14.5 2.6h0m10.1 -5.1h0m6.5 2.2h0m5.4 1.2h0m55.6 -0.3h0m23.5 7.8h0m-90.6 -3.4h0m-18.1 -0.2h0m-7.6 1.7h0m-4.4 0h0m-4.9 -2h0m-7.3 1.1h0m-1.4 0.6h0m-0.1 -0.6h0m-2.5 2.8h0m-4.4 3.2h0m0.9 -2.2h0m5 2.6h0m7.9 -2h0m3.8 0.6h0m8.4 0.7h0m1.1 2.8h0m3.8 0.1h0m5.2 -0.3h0m61.9 -0.8h0m35.2 -2.2h0m-38.2 5.9h0m-51.9 -0.3h0m-2.3 1.2h0m-1.8 1.7h0m-9.5 -3.4h0m-11.5 3.8h0m-7.5 -1.6h0m-8.9 1h0m-0.6 -2.4h0m2.8 7.8h0m0.2 -3h0m6.2 3.8h0m7.5 -0.8h0m7.2 -0.4h0m0.3 -0.6h0m7.9 3.3h0m1.2 -5.7h0m8.6 0.1h0m9.5 1.9h0m1.7 -1.8h0m10.8 1.6h0m62.2 -0.6h0m4.2 8.2h0m-39.5 -1.6h0m-42.4 -0.6h0m-5.3 0.3h0m-15.3 2.4h0m-0.5 -2.5h0m-6.4 1.6h0m-0.8 1.4h0m-0.2 -3.6h0m-4 1h0m-4.1 3.3h0m-10.1 -2.4h0m10.2 3.2h0m6 4.9h0m1.7 -4.9h0m14 0.2h0m11.3 2.1h0m22.1 0.9h0m10.8 2.2h0m12.8 -5.3h0m19.2 5.3h0m25 -0.2h0m5.3 -3.7h0m-0.1 5.5h0m-46.1 0.4h0m-1.5 -0.6h0m-4.8 2h0m-4.3 -2.1h0m-31.7 2.2h0m-5.4 -2.4h0m-4.7 2.2h0m-8.2 -2.5h0m-0.4 0.8h0m-1.3 -0.6h0m-5 5.2h0m-5.4 -4.8h0m-5.2 5h0m-1.6 -0.7h0m-2.5 -2.3h0m-6.2 0.3h0m-1.1 1.7h0m-5 6.5h0m10 -5.4h0m1.6 3.2h0m3.4 -0.2h0m1.1 -2.8h0m9.5 2.5h0m2.3 1h0m18 -0.8h0m4.7 -1.4h0m5.6 2h0m14 -1.7h0m59.9 -0.6h0m6.6 8.7h0m-0.1 -3.6h0m-1.4 5.1h0m-8.4 0.4h0m-18.3 -3.3h0m-16.1 3h0m-18.2 -0.5h0m-14.1 -1h0m-1.3 1.2h0m-3.8 -1.1h0m-7.6 -1.6h0m-4.7 2.9h0m-2.4 -1.8h0m-4.4 -1.9h0m-7.6 1h0m-5.6 -0.3h0m-3.9 1.7h0m-2.3 0.7h0m-5.9 -3.2h0m-0.4 0.9h0m-9.2 8.8h0m3.5 0.5h0m8.6 -2.9h0m1.4 1.5h0m7.5 -1.8h0m5.8 -0.5h0m11.7 0.2h0m17.4 -1.9h0m1.7 4.4h0m38.7 -4.3h0m20.4 0.1h0m0.2 0.5h0m8.1 -0.2h0m2.8 2h0m13.5 -1.4h0m-25.1 9.9h0m-4.7 -1.8h0m-16.6 0.2h0m-12.5 0.1h0m-14 1.7h0m-5.5 0h0m-0.8 0.1h0m-16.6 -5.2h0m-13.8 4h0m-8.7 -2.6h0m-0.2 2.9h0m-3.6 -0.5h0m-17.2 1.3h0m-2.2 0.1h0m-1.5 -3.5h0m1.1 6.9h0m0.5 -0.7h0m0.5 2.1h0m5.6 -3h0m12.9 2.9h0m1.7 -1.2h0m11.9 -2.3h0m6.2 0h0m1.8 3.1h0m0.4 -1.8h0m0.4 -2h0m6.9 3.6h0m5 -3h0m1.4 1.8h0m1.2 3.1h0m48.9 -0.9h0m2 -1.4h0m29.9 -2.5h0m4.1 2h0m-27.1 6.5h0m-25 2h0m-3 -4.7h0m-4.9 1.5h0m-0.8 -2.1h0m-8.6 0.4h0m-3.2 -0.5h0m-4.7 5h0m-2.8 -1.7h0m-3.6 -1.2h0m-12.2 2.6h0m-13.1 -1.5h0m-3.7 -2.9h0m-3.3 4.9h0m-3.2 0h0m-11.3 -3.8h0m-2.2 3.9h0m-4.8 -4h0m0 0h0m-2.8 10.2h0m2.7 -0.8h0m0.3 -3.4h0m8.9 2.1h0m4.6 -0.5h0m0.3 -1.2h0m4.3 -1.7h0m9 2.2h0m11 -1.3h0m1.8 1.5h0m4.1 2.8h0m1.2 -2.6h0m8.2 1h0m4.3 -0.1h0m3.7 -0.3h0m1.4 0.6h0m25.8 -2.3h0m1.4 4.3h0m29 -1.2h0m11.7 2.5h0m-13.5 0.6h0m-1.2 4.2h0m-9.4 -5.7h0m-3.5 4.4h0m-0.5 -0.1h0m-3 -4.3h0m-19.9 4.5h0m-0.3 -1.1h0m-17.7 -0.9h0m-1 -0.6h0m-3.8 2.1h0m-2.5 -3.2h0m-6.2 3.8h0m-2.7 -4.8h0m-11.3 3.2h0m-4.5 2.7h0m-9.8 0h0m-8.3 -2.7h0m-1.2 -2.4h0m-4.1 4.9h0m-0.4 -1.1h0m-2.8 -3.7h0m-5.8 2.6h0m21.5 4.2h0m2.1 4.2h0m6.8 -4.6h0m6.5 -0.4h0m2.4 1.9h0m2.3 2.6h0m7.2 -1.3h0m9.9 0.8h0m4.6 -1.2h0m5.7 1.3h0m2.7 -1.6h0m3.5 0.5h0m1.9 -1.7h0m10.5 1.8h0m2.4 -1.1h0m10 -2.7h0m1.7 4h0m4.2 -3.1h0m33.2 9.6h0m-4.7 -3h0m-11.3 3.9h0m-6.7 -3.7h0m-0.5 0.2h0m-8.9 2.4h0m-6.3 0.4h0m-18.1 0.2h0m-2.5 -1.7h0m-14.2 0.4h0m-0.2 -0.9h0m-13.5 2.4h0m-5.7 0.5h0m-0.6 -5.6h0m-0.1 4.7h0m-4.4 -1.5h0m-4.4 -3.4h0m-3 1.3h0m-7.7 1.7h0m-0.5 -2.4h0m-2 0.3h0m-3.8 5h0m-2.9 -0.7h0m-0.1 -4.6h0m-3.8 5.2h0m26.3 0.2h0m2.7 3.9h0m3.6 -0.2h0m0.3 0.7h0m11 -2.8h0m4.3 2.8h0m2.5 0.5h0m9 -3.9h0m0.4 4.9h0m11.7 -0.2h0m4.9 -3.2h0m5.3 0.5h0m8.1 -2.4h0m8.3 1.9h0m0.5 2.5h0m1.2 -2h0m3.7 -0.8h0m21.3 3.7h0m2.5 -4.5h0m-1.9 10h0m-0.1 -4.9h0m-2.9 4.5h0m-2.4 -4.8h0m-10.8 3.2h0m-0.3 -2.2h0m-11.8 0.4h0m-0.1 2.6h0m-19.5 -3.7h0m-1.9 3.6h0m-3.3 1.4h0m-4.9 -1.8h0m-4.2 -1h0m-6.1 1h0m-1.3 -1.4h0m-3.8 1.2h0m-0.5 1.9h0m-2.2 -0.3h0m-12.5 -1.4h0m-13.2 1.8h0m-7.5 -3.5h0m-11.3 -1.9h0m-12.1 4h0m-0.2 -0.6h0m-3 -0.7h0m-3.4 2h0m-0.9 3h0m5.6 3.2h0m7.3 -1.9h0m30.7 -3.1h0m2.4 4h0m11.4 0.3h0m3.7 -2.4h0m5.3 -1.3h0m8.4 3.6h0m1.7 -1.7h0m4.5 0.4h0m6.8 3h0m3.2 -0.5h0m17.2 -1.2h0m5.3 -0.3h0m8.6 -0.5h0m2.4 -1.1h0m8.1 3.6h0m3.6 -5h0m3.4 2h0m2.4 5h0m-1.5 3h0m-0.3 0.2h0m-6.7 -4.5h0m-1 2.2h0m-0.1 -1.5h0m-11.5 3.2h0m-5 0.4h0m-0.7 -0.5h0m-2.7 -2.5h0m-1 3.2h0m-27.9 -4.2h0m-1.7 0.9h0m-0.7 -1.7h0m-4.9 2.3h0m-0.1 -2.4h0m-4.8 4.9h0m-0.9 -3.4h0m-4.2 4.1h0m-1.8 -3.5h0m-6 3.8h0m-11.5 -0.2h0m-8 -1.5h0m-6.4 -1.3h0m-12.2 1.7h0m-19.1 -4.2h0m21.4 8.1h0m16 0.2h0m1.1 -1.2h0m1.6 1.8h0m7.2 -2.3h0m2.7 0.9h0m0.4 1.2h0m16.6 0.7h0m4.6 -2.5h0m12.9 0.7h0m1.8 0.4h0m11 -1.6h0m13.7 1.1h0m23.8 -1.8h0"/><path fill="none" stroke="#b81a30" stroke-width="3.2" stroke-linecap="round" stroke-opacity="0.9" d="M346.1 605h0m3.1 0.2h0m27.2 -0.2h0m36.9 0h0m12.4 0.3h0m50.5 0.3h0m6.3 5h0m-4.3 -4.4h0m-4.5 3.2h0m-22 -2h0m-16.3 -0.5h0m-21.9 2.8h0m-16.7 -0.7h0m-15.6 -1.6h0m-4.6 3.2h0m-12 -4.5h0m-3.1 2.2h0m-0.9 2.4h0m-7 -1h0m-0.8 0.7h0m-3.4 0.6h0m-2.6 6.4h0m3.2 -0.3h0m1.4 -0.9h0m6.2 -0.4h0m17 -1.4h0m12.1 -0.8h0m0.6 -0.6h0m15.2 4.9h0m9.6 -3h0m72.5 1.8h0m2.4 6.5h0m-15.3 -0.9h0m-3.2 -0.1h0m-63.3 1.1h0m-8.5 -4h0m-8.2 1.9h0m-28.5 2.1h0m-2.2 -3.2h0m-2.8 0.2h0m-8.2 7.5h0m1.7 -2.1h0m6.2 1.1h0m8.4 3.1h0m12.5 -4.7h0m8.8 1.9h0m1.8 1h0m31.3 -0.8h0m60.8 -1.9h0m2.8 -0.1h0m4.7 8.1h0m-26.4 -3.4h0m-63.9 3.3h0m-3.3 0.5h0m-4.8 1.4h0m-7.4 -4.1h0m-4.8 4.1h0m-15.5 -5.1h0m-4.7 5h0m-1.7 -4.4h0m-3.6 5.2h0m-3.2 -2.5h0m8.3 3.7h0m6 0.1h0m3 1.5h0m24.1 -2.4h0m89.4 0.2h0m8.6 1.3h0m-11.4 7.9h0m-19 -1.2h0m-0.5 -0.5h0m-42 3.3h0m-12.3 -3.8h0m-4.4 0.6h0m-18.4 -1h0m-9.8 2.4h0m-3.5 -1.7h0m-4.1 4h0m-12.3 -2.1h0m-3.2 0.4h0m2.9 5.5h0m1.2 -0.4h0m3.1 -0.6h0m8.9 2.4h0m7.1 -3.1h0m2.8 1.9h0m5.4 -0.5h0m0.6 2.5h0m3.4 -5.6h0m11.5 5h0m6.6 -2.3h0m88.1 -0.9h0m-47 6h0m-8.9 1h0m-5.5 0.4h0m-18.6 2.2h0m-26 -3.9h0m-2.7 -1.7h0m-18.1 2.6h0m-0.3 0.3h0m-0.9 -2.9h0m-2.6 0.8h0m-7.9 1.1h0m-1 -0.4h0m-1 9.3h0m1.9 -1.1h0m8.5 1.4h0m1.4 -2.3h0m4.6 -2.6h0m4.7 4.6h0m1.2 -0.8h0m2.5 -2.5h0m10.8 0.9h0m5.9 1.9h0m2.3 1.3h0m2.2 -4.3h0m20 4.6h0m36.3 -5.7h0m35.2 0.2h0m-4.2 8.1h0m-14.5 -0.5h0m-3.9 0.9h0m-12.6 2.3h0m-32.7 -2.6h0m-17.5 0.4h0m-10.1 2h0m-17.9 -2.3h0m-0.2 1.4h0m-0.6 -2.1h0m-12.6 -0.6h0m-6.2 2.8h0m6.8 5.7h0m3.6 -3.8h0m1.6 2.8h0m3 2h0m0.2 -4.2h0m5.6 -0.7h0m16.3 1.6h0m1.9 0.7h0m0.3 1.3h0m3.1 -2.8h0m3.6 1.9h0m1 0.6h0m13.4 1.4h0m18.7 0.6h0m2.9 -3.5h0m40.8 -1.1h0m8.5 2.8h0m2.3 5.6h0m-22.4 2.1h0m-4.5 -0.4h0m-11.7 0.1h0m-5 -0.8h0m-10.3 -0.2h0m-6.5 2h0m-30.3 -4.1h0m-4 2.3h0m-0.5 1h0m-4.8 -1.8h0m-0.4 0h0m-1.3 -1.4h0m-0.9 1.8h0m-1.2 -2h0m-1.2 0.9h0m-0.3 -0.3h0m-2.8 -0.1h0m-7.3 -1.3h0m-6.7 4.9h0m-13.8 -2.2h0m-0.5 0.3h0m8.9 2.7h0m3.8 4.8h0m0.6 -2h0m2.5 -3.3h0m9.4 4.9h0m0.7 -3.6h0m1.9 4.3h0m3.1 -4.4h0m1 0.7h0m0.6 -1h0m1.4 -0.6h0m6.8 2.4h0m5 -2.8h0m4.6 3.7h0m13.5 0.5h0m8.7 -0.8h0m4 -3.4h0m2.6 5h0m5.2 -0.5h0m7.4 0.9h0m0.7 -0.5h0m7.9 -3.8h0m20 4h0m4.2 -5.1h0m14.1 8.8h0m-10.1 -0.2h0m-50.8 -1.4h0m-10.4 1.2h0m-6.6 1.4h0m-12.3 -2.8h0m-0.3 -0.8h0m-5.6 3.1h0m-8.5 -0.1h0m-0.9 2.7h0m-3.6 -1.6h0m-0.6 0.4h0m-5.7 -1.3h0m-9.3 0.9h0m-4.7 -0.3h0m-6.1 1.3h0m0.5 3.9h0m7.3 -2.5h0m13.5 1.2h0m1 2.6h0m6.3 -1.6h0m5 -2.4h0m0.2 3.7h0m1.8 1.7h0m2.3 -0.3h0m3.5 -5.3h0m5.8 5.6h0m6.2 -5.2h0m10.2 0.3h0m3.7 4.1h0m6.1 -2.4h0m16.6 1.6h0m6.3 0.9h0m8.8 -2.1h0m5.2 7.3h0m-20.2 1.3h0m-10.2 -0.8h0m-6.6 -2.9h0m-0.6 -0.9h0m-1.7 1.5h0m-14.3 -1.5h0m-0.4 0.5h0m-0.9 1.8h0m-3.4 2.1h0m-4.9 -3.8h0m-9.6 -1.1h0m-8.6 0.8h0m-10.5 4.1h0m-4.4 -1.1h0m-8.2 1.2h0m-7.8 -3.3h0m-0.4 0.5h0m-3.6 3.6h0m15.6 5.3h0m4.8 -1.1h0m6.1 -0.8h0m1.6 -3.3h0m3.6 3.5h0m1.5 0.7h0m5.8 -3.6h0m0.8 2.3h0m0.3 -2h0m18.9 -1.4h0m1.4 0.8h0m3.2 1h0m2.8 3.2h0m7.4 -3.9h0m7.6 1.8h0m1.6 -2.3h0m21.7 1.3h0m1.9 -0.1h0m0.4 1.1h0m2.3 -0.4h0m8.8 2.9h0m3.7 -0.1h0m0.5 -0.1h0m3.3 2.8h0m-0.6 0.4h0m-11.7 -0.6h0m-4.2 -0.6h0m-0.8 1.3h0m-0.6 0.5h0m-22.7 2.6h0m-3.9 -0.8h0m-9.8 -3.5h0m-8.8 -1h0m-1.2 4.2h0m-6.7 -4.3h0m-30.6 3.9h0m-8 0.9h0m-3.7 -1.8h0m-10.8 6.5h0m2.2 1.8h0m10.2 -0.8h0m8.1 -0.7h0m13.2 -2.7h0m1.1 1.1h0m9.4 2.2h0m11.3 -3.5h0m2.5 -0.3h0m0.4 3.8h0m10.6 -2.8h0m9.6 3.1h0m14.7 0.3h0m7.2 -3.9h0m0 0.1h0m0.8 2.2h0m27.3 1h0m12.3 5.9h0m-6.5 1h0m-0.9 -2.8h0m-21.5 -1.9h0m-0.4 1.2h0m-3.7 0.5h0m-11.7 1.1h0m-3.3 0.4h0m-1.1 1.2h0m-2.5 -1.8h0m-2.5 -1.8h0m-0.3 4.2h0m-8.7 -5.6h0m-0.4 0.7h0m-0.4 2.9h0m-2.3 -0.7h0m-0.5 2.2h0m-3.2 -4.6h0m-3.9 0h0m-6.7 4h0m-2.8 -4.2h0m-3.5 5.4h0m-0.6 -5.1h0m-9.3 1.4h0m-2 -1.9h0m-7.3 2.1h0m-1.9 2.7h0m-3.4 -2.8h0m-12.9 3.5h0m-0.6 -2.3h0m-15.6 3h0m0.8 3.2h0m0.5 0.5h0m13.3 0.3h0m6 1.3h0m6.5 -0.3h0m7.4 -0.2h0m15.5 -2.7h0m3 1.7h0m0.6 -3.5h0m2.1 4h0m1.8 -2.8h0m7.1 3h0m21.3 -4.3h0m5.8 0.7h0m5.7 3.5h0m1.2 -0.1h0m0.2 -4.8h0m1 2.9h0m9 2.1h0m9.2 0.6h0m7.9 -3.6h0m5 -0.3h0m6.5 4.6h0m-6.5 0.5h0m-11.8 0.5h0m-8.6 -1h0m-13.1 0.8h0m-2.3 2.6h0m-9.1 -1.8h0m-5.7 3h0m-1.3 -2.9h0m-8.9 2.4h0m-0.3 0h0m-3 -2.2h0m-10.7 0.4h0m-6.3 2.8h0m-3.4 -4.9h0m-1.8 2.5h0m-0.1 -0.7h0m-12.1 -0.7h0m-16.8 2.9h0m-9.1 -4.4h0m-3.8 5.9h0m1.5 2.9h0m8 0.5h0m23.8 -0.6h0m0.7 1.1h0m3.2 -3h0m6.8 -0.1h0m0.8 1.6h0m4.2 1h0m8.5 -3.3h0m3.6 1.6h0m1.3 -0.4h0m2.2 1.5h0m12.5 -1.4h0m6.4 -1.2h0m0.4 0.5h0m13.2 2.8h0m0.4 -2.7h0m4 0.6h0m9.3 1.9h0m3.6 0.3h0m2 -2.4h0m3.7 2.3h0m12 -1.3h0m1 -1.5h0"/><path fill="none" stroke="#b8b4d8" stroke-width="1.6" stroke-linecap="round" stroke-opacity="0.8" d="M353.3 605.7h0m130.1 -0.2h0m-7.9 0.8h0m-2.9 4.3h0m-15 -2.5h0m-22.5 -0.3h0m-10.2 0.7h0m-8.1 2.5h0m-27.5 -2.3h0m-30.2 9.1h0m20.8 -1.7h0m9.4 1.1h0m11.3 -5h0m4 -0.2h0m1.9 4.8h0m19.9 -1.5h0m1.3 -2.8h0m2.5 3.9h0m2.1 0.3h0m2.7 0h0m3.9 -2.6h0m0.7 -0.6h0m11.1 0.8h0m29.7 2.6h0m-1.9 4.3h0m-8 1.6h0m-11.4 -4.5h0m-1.6 2.5h0m-1 -2.8h0m-20.1 3.9h0m-2.4 -2.8h0m-0.2 4.3h0m-0.1 -0.3h0m-2.4 0.2h0m-2.9 -4.7h0m-14.3 0.4h0m-2.4 2h0m-6.3 -0.8h0m-1.9 2.2h0m-30.4 -2.4h0m-26.6 5h0m19.9 2.5h0m12.3 -0.9h0m29.4 -0.2h0m4.8 2.3h0m3.6 0.4h0m11.8 -4.8h0m9.3 1.4h0m10.8 3h0m0.1 -1.5h0m37.4 -2.5h0m-15.6 10.7h0m-7.3 -0.6h0m-14.1 -0.4h0m-17.7 0.7h0m-3.2 -1.9h0m-8.7 1.1h0m-16.1 -1.9h0m-1.6 0.3h0m-0.8 -1.9h0m-4.7 2.2h0m-3.6 0.9h0m-0.6 1.4h0m-42.1 4.6h0m8.3 0.7h0m3.8 0.7h0m26.9 -1.9h0m0.2 -1.3h0m7.5 -2h0m4.1 4.9h0m0.3 -3.2h0m0.5 2.4h0m0.2 0.8h0m10.8 -0.3h0m8.8 -3.2h0m22 -1.1h0m0.3 1.9h0m1.5 1.6h0m3.1 0.2h0m0.2 -0.6h0m7.8 1.5h0m1.4 -1.3h0m3.5 -2h0m1.9 -0.1h0m7.1 3.3h0m2.2 -4.3h0m1.3 4h0m0.8 -1h0m0.3 -1.3h0m8.8 -1h0m-7.1 8.1h0m-6.4 0.3h0m-18.2 -0.4h0m-0.6 1.2h0m0 1.1h0m-1.5 -2.1h0m-13 -1.6h0m-4.3 0.5h0m-4.1 -1h0m-1.9 -0.4h0m-17.3 -1h0m-46.7 11.9h0m20.1 -5.8h0m15.4 3.1h0m7.9 -1.3h0m12.6 0.3h0m0.7 0.5h0m4.7 3.1h0m7.1 -0.9h0m3.2 -4.4h0m8.5 4.7h0m10.1 -4h0m5.1 1.4h0m6.2 1.3h0m12.1 -1.4h0m8.6 1.1h0m2.1 2.8h0m-9.1 4.5h0m-24.3 -1h0m-0.3 0.3h0m-2.1 1h0m-0.2 -3.7h0m-11 0.1h0m-13.1 3.2h0m-2.9 0.2h0m-5.1 0.8h0m-11.4 -4.2h0m-6.7 10.1h0m4.5 -5.3h0m17.8 3.6h0m0.9 1.4h0m2.5 -4.6h0m4.3 0.2h0m7.3 2h0m3.4 1.5h0m13.6 -0.7h0m25.1 -3.5h0m7.9 0h0m-22.9 6.1h0m-23 5.3h0m-8.4 -0.2h0m-0.1 -4.1h0m-3.2 0.9h0m-11 0.2h0m-7.6 -2.4h0m-0.4 5.2h0m-4.7 -0.1h0m-24.7 -2.4h0m10.1 8.3h0m21.9 -4.2h0m5.2 -0.6h0m7 2.7h0m8.2 -2.6h0m17.3 2h0m7.5 -0.9h0m0.8 -0.9h0m24.6 6.2h0m-107.7 4.3h0m-31.2 4.6h0m69 1.1h0m10.5 -1.5h0m0.7 0.4h0m8.6 -2.7h0m5.4 1.1h0m1.5 2.6h0m5.8 -2.2h0m16.4 -0.5h0m4.3 3.7h0m2.5 -5.1h0m12.1 1.3h0m5.2 2h0m-6 6.4h0m-6.9 -2.7h0m-13.5 4h0m-15.9 -1.4h0m-9.3 -0.6h0m-7.6 -3.5h0m-0.2 0h0m-16.7 1.4h0m-6.3 4.3h0m-25.4 -1.5h0m11.4 7.3h0m34 -5.2h0m30.7 3.5h0m16.8 -2h0m2.1 -1.4h0m2.6 1.6h0m5.8 1.1h0m0.8 -3h0m0 8h0m-0.1 3.6h0m-9.9 -5.2h0m-7.8 4h0m-38.9 -4.3h0m-2.2 5.5h0m-33.4 -4.8h0m-21.8 2.4h0m58.9 7.4h0m38.1 0.3h0m2.7 -0.6h0m9.4 1.3h0m1.1 -4.7h0m-5.9 8.2h0m-6.1 -1.1h0m-1.7 -0.7h0m-6 1.6h0m-60.7 -2.5h0m-49.5 8.2h0m61.3 3h0m18.9 -4.4h0m35 1.6h0m2.6 -1.1h0m10.1 2.9h0m-26.5 1.7h0m-94.8 0.1h0m-5 8.8h0m106.6 4.8h0m-87.9 -0.8h0m91.3 6.4h0"/><path fill="none" stroke="#b8b4d8" stroke-width="2.2" stroke-linecap="round" stroke-opacity="0.8" d="M435.9 605.8h0m12.6 0h0m35.4 4h0m-25.6 -1.8h0m-5.9 2.7h0m-16.7 -3.9h0m-8.2 2.2h0m-18.1 -0.1h0m-45.9 5.3h0m15 2.9h0m17.8 -1.7h0m8.6 -0.3h0m0.5 2h0m6.8 -2.2h0m3.5 -2.7h0m2.7 0.8h0m4.7 0.9h0m4.3 -0.7h0m8 0h0m7.3 2.7h0m8 1.4h0m2.4 0.5h0m12.3 -5.8h0m0.1 1.2h0m20.4 9.5h0m-2.6 0.6h0m-4.2 -4.4h0m-10.2 -0.4h0m-3.4 0.9h0m-21.9 3.4h0m-1.8 -3.4h0m-6.9 -0.1h0m-13.6 1.6h0m-1.5 1.7h0m-3.6 0.9h0m-8.3 -4h0m-1.4 2h0m7.7 4.1h0m13.8 0.4h0m2.8 -1h0m0.7 1.1h0m7.9 3.7h0m3.9 -5h0m6 2.7h0m0.4 -2.2h0m5 4.3h0m12.3 0h0m1.4 -4.7h0m2.7 2.1h0m11.2 7.2h0m-11.4 -4h0m-0.7 2.7h0m-20 -0.6h0m-9.1 -0.6h0m-0.9 1.1h0m-4.7 -0.6h0m-10.2 -1.7h0m-1.4 -0.5h0m-16.2 5.7h0m-12.9 -3.2h0m-38.8 8.4h0m12.6 -0.6h0m38 -0.7h0m8.5 2.2h0m4.5 -3.7h0m11.2 2h0m6 -2.1h0m6.7 -1.2h0m2.4 0.4h0m1.6 1.1h0m22.8 4.8h0m-0.5 4.3h0m-10.8 -0.3h0m-2.4 -1.3h0m-2.9 0.5h0m-0.8 -2.1h0m-4.3 -0.7h0m-1.2 1.6h0m-11.2 1.6h0m-0.4 -3.2h0m-3 -0.3h0m-2.5 4.5h0m-4.8 -3.7h0m-10.1 1h0m-1.6 -1h0m-9.6 3.7h0m-11.4 -4.4h0m-8.3 0.7h0m-8.6 -1.5h0m-20.4 7h0m18.3 -0.5h0m26.8 4.7h0m4 -1.5h0m4 -0.4h0m3.6 -2.2h0m12.6 3h0m7.6 -1h0m5.3 -2.6h0m15.1 1h0m7.9 -0.6h0m3.2 2.3h0m5.3 1.8h0m0.3 3.5h0m-9.2 1h0m-16.9 -2.9h0m-5.2 3h0m-9.2 0.6h0m-3.6 -4h0m-7.3 5h0m-64.1 -1.2h0m41.7 4h0m13.7 2.2h0m22.4 -2.9h0m5.1 2.3h0m4.3 -2.2h0m0.3 1.6h0m2.3 -2.8h0m9.3 2.1h0m4 -2.3h0m21.8 8.2h0m-17.7 -0.1h0m-34.7 1.6h0m-7.1 -2.1h0m-12 -0.2h0m-3.7 0.7h0m-13.1 -0.8h0m-24.2 5.3h0m23.3 3.1h0m35.5 -3.9h0m3.8 4.4h0m7.5 0.4h0m13 -1.5h0m26.4 1.4h0m6.9 -3.9h0m2.2 9.7h0m-8.5 -1.6h0m-8.8 1.6h0m-0.1 -4.7h0m-9.8 5.6h0m-4.5 -5.3h0m-11 1.2h0m-6.7 -1h0m-0.2 3.4h0m-5 -1.5h0m-0.6 2.7h0m-3.2 -5.2h0m-2.3 3.3h0m-32.8 -3.1h0m-42.6 7.7h0m18.5 0.7h0m31.4 -0.7h0m9.8 1.1h0m7.7 -0.5h0m16.7 0.3h0m7.4 -0.9h0m25.4 2.6h0m5.9 -1.5h0m1.6 0.1h0m9.3 -0.3h0m2.8 0h0m0.8 -0.6h0m1.6 5.9h0m-5 2.7h0m-14 -4.5h0m-0.4 0.6h0m-20.9 0.2h0m-14 2.7h0m-25.2 -1.6h0m-24.1 6.8h0m1.8 -0.8h0m19.9 -1.1h0m67.4 4.5h0m1.6 -2.5h0m8.5 3.3h0m-6.8 5.1h0m-32.7 -4.9h0m-42.9 2.6h0m-35.2 -3h0m76 9.2h0m2.1 1.2h0m30.9 0.3h0m-111.2 6.8h0m-4 5.6h0m6.3 -2.2h0m115.3 1.8h0m-30.9 5.6h0m-3.3 -4.4h0m-16.4 4.1h0m-54.1 3.6h0m32.8 3.6h0m69.6 1.2h0m-60.8 2h0m-50.3 4h0m74.9 1.4h0m4.5 -2h0"/><circle cx="391.0" cy="682.4" r="3.4" fill="#e01e26"/><circle cx="413.6" cy="699.0" r="3.4" fill="#e01e26"/><circle cx="395.0" cy="709.8" r="3.4" fill="#e01e26"/><circle cx="429.2" cy="697.1" r="3.4" fill="#e01e26"/><circle cx="459.6" cy="717.7" r="3.4" fill="#e01e26"/><circle cx="456.7" cy="732.4" r="3.4" fill="#e01e26"/><circle cx="483.1" cy="631.4" r="3.4" fill="#e01e26"/><circle cx="464.5" cy="670.6" r="3.4" fill="#e01e26"/><circle cx="463.5" cy="648.1" r="3.4" fill="#e01e26"/><circle cx="361.6" cy="737.3" r="3.4" fill="#e01e26"/><circle cx="359.7" cy="621.6" r="3.4" fill="#e01e26"/><circle cx="385.2" cy="673.6" r="3.4" fill="#e01e26"/><circle cx="353.8" cy="625.6" r="3.4" fill="#e01e26"/><circle cx="347.9" cy="613.8" r="3.4" fill="#e01e26"/><path fill="none" stroke="#f4eef8" stroke-width="1" stroke-linecap="round" d="M387.2 605.7h0m88.3 2.2h0m-91.3 3.4h0m-9 -0.8h0m106.1 10h0m-46.8 -1h0m-52.5 1.3h0m-37.2 4.6h0m4.6 0.5h0m56.4 0.5h0m10.9 -0.6h0m54.5 5.9h0m-17.3 -0.4h0m-11.3 -0.5h0m-9 1.5h0m-74.2 3.5h0m78.7 0.6h0m47.1 1.9h0m-50.2 6.3h0m-47.8 3.6h0m98.2 10.9h0m-90.2 -2.4h0m-19.1 1.1h0m-6.8 -3h0m-21.4 1.9h0m10.6 4.6h0m12.2 3.1h0m90 -0.4h0m-97 11.6h0m18.2 -3.4h0m14 3.3h0m13.2 -2.7h0m13.7 0.6h0m23.6 3.2h0m-8.4 4.8h0m-72.9 -0.3h0m57.4 3.6h0m5.3 1.3h0m4.7 2.6h0m50.8 3.2h0m-10.5 2.5h0m-70.2 -3.5h0m-37.5 4.7h0m-15.1 -2h0m25.2 3.9h0m7.3 4.5h0m18.1 -2.4h0m86.7 -2.1h0m-14.6 5.1h0m-1.3 5.1h0m-76.4 -0.6h0m-45.3 3.3h0m51.3 1.8h0m18.6 -3.1h0m18.3 3.8h0m43.3 6.6h0m-119.2 3.1h0m16.5 3h0m50.9 0h0m1.8 -0.8h0m10.9 0h0m18.2 0.4h0m-15.3 4.7h0m-14.7 -2.9h0m-76.9 2.7h0m100.1 7.3h0m4.3 -1.5h0m15 -1.3h0m-13.6 7.9h0m-3.2 -0.9h0m-39.8 -0.8h0m-4.2 3.4h0m-24.9 -3.5h0m-12.5 1.6h0m-8.1 -1.1h0m-4 2.7h0m34.6 2.7h0m52.8 0.3h0m6.2 -1.6h0"/><path fill="none" stroke="#f4eef8" stroke-width="1.4" stroke-linecap="round" d="M453.3 610.7h0m-8.2 -0.1h0m-6.5 -4.5h0m-77.4 2h0m5.6 7.5h0m46.8 -0.7h0m60.6 -1.2h0m12.3 9.8h0m-130.8 -4.7h0m-3.9 3h0m16.1 8.1h0m46 -2.1h0m49 -3.8h0m-45.2 9.4h0m-57.9 1.9h0m-11.9 -2.1h0m71.3 4.6h0m49.9 -0.2h0m-31.8 7.2h0m-16.9 0.7h0m-3.9 0.6h0m-1.6 1.6h0m-66.3 -2.4h0m0.9 3.1h0m84.9 8.3h0m-16.8 2.5h0m-7 -3.7h0m-22.5 7.9h0m4.5 2.3h0m18.3 -0.6h0m4.2 -3.5h0m1.8 -1.3h0m34.4 5.2h0m-54.3 3.6h0m5.6 7.9h0m61.4 -3.9h0m18.6 4h0m-34.6 6.4h0m-38.1 -3.5h0m1.3 5.4h0m3.6 2.2h0m3.9 -1.2h0m3.3 4.3h0m-1.5 -0.1h0m-3 1h0m-30.4 -0.7h0m92.6 8h0m5.7 5h0m-83.9 -1.4h0m-30.4 3.2h0m-21.1 8h0m51.6 -2.7h0m33.2 -1h0m43.6 -1.7h0m-8.9 11.2h0m-56 -3.5h0m-39.7 -0.8h0m-0.8 3.2h0m-5.5 1.7h0m89.6 1.5h0m3.8 2.2h0m3.3 -3.1h0m22.9 1.1h0m-124.1 8.1h0m27.8 5.1h0m43.5 2.7h0m40.4 0.2h0m-109.2 0.5h0m-10.2 -0.2h0m6 7.6h0m21.9 -1.8h0"/></g><rect x="344.2" y="605" width="1.2" height="143" fill="#e02020"/><g font-family="Liberation Sans" fill="#1a1a1a" stroke="#1a1a1a" stroke-width="0.25">
<line x1="40.4" y1="17.8" x2="40.4" y2="157.3" stroke="#1a1a1a" stroke-width="1.8" stroke-linecap="butt"/>
<line x1="39.5" y1="156.4" x2="250.0" y2="156.4" stroke="#1a1a1a" stroke-width="1.8" stroke-linecap="butt"/>
<line x1="34.4" y1="156.4" x2="40.4" y2="156.4" stroke="#1a1a1a" stroke-width="1.8" stroke-linecap="butt"/>
<text x="32.9" y="160.6" font-size="10.6" text-anchor="end" >0.0</text>
<line x1="34.4" y1="110.4" x2="40.4" y2="110.4" stroke="#1a1a1a" stroke-width="1.8" stroke-linecap="butt"/>
<text x="32.9" y="114.6" font-size="10.6" text-anchor="end" >0.5</text>
<line x1="34.4" y1="64.4" x2="40.4" y2="64.4" stroke="#1a1a1a" stroke-width="1.8" stroke-linecap="butt"/>
<text x="32.9" y="68.6" font-size="10.6" text-anchor="end" >1.0</text>
<line x1="34.4" y1="18.4" x2="40.4" y2="18.4" stroke="#1a1a1a" stroke-width="1.8" stroke-linecap="butt"/>
<text x="32.9" y="22.6" font-size="10.6" text-anchor="end" >1.5</text>
<line x1="40.4" y1="156.4" x2="40.4" y2="162.4" stroke="#1a1a1a" stroke-width="1.8" stroke-linecap="butt"/>
<text x="40.4" y="174.7" font-size="12" text-anchor="middle" >0</text>
<line x1="75.2" y1="156.4" x2="75.2" y2="162.4" stroke="#1a1a1a" stroke-width="1.8" stroke-linecap="butt"/>
<text x="75.2" y="174.7" font-size="12" text-anchor="middle" >4</text>
<line x1="109.9" y1="156.4" x2="109.9" y2="162.4" stroke="#1a1a1a" stroke-width="1.8" stroke-linecap="butt"/>
<text x="109.9" y="174.7" font-size="12" text-anchor="middle" >8</text>
<line x1="144.7" y1="156.4" x2="144.7" y2="162.4" stroke="#1a1a1a" stroke-width="1.8" stroke-linecap="butt"/>
<text x="144.7" y="174.7" font-size="12" text-anchor="middle" >12</text>
<line x1="179.4" y1="156.4" x2="179.4" y2="162.4" stroke="#1a1a1a" stroke-width="1.8" stroke-linecap="butt"/>
<text x="179.4" y="174.7" font-size="12" text-anchor="middle" >16</text>
<line x1="214.2" y1="156.4" x2="214.2" y2="162.4" stroke="#1a1a1a" stroke-width="1.8" stroke-linecap="butt"/>
<text x="214.2" y="174.7" font-size="12" text-anchor="middle" >20</text>
<line x1="249.0" y1="156.4" x2="249.0" y2="162.4" stroke="#1a1a1a" stroke-width="1.8" stroke-linecap="butt"/>
<text x="249.0" y="174.7" font-size="12" text-anchor="middle" >24</text>
<text x="144.7" y="187.2" font-size="11.2" text-anchor="middle" >Time (weeks)</text>
<text x="0" y="0" font-size="10.8" text-anchor="middle" transform="translate(4.7,86.0) rotate(-90)" dominant-baseline="central">Body weight gain rate(%)</text>
<polyline points="40.4,156.4 75.2,121.4 109.9,111.3 144.7,95.7 179.4,77.3 214.2,83.7 249.0,71.0" fill="none" stroke="#14b814" stroke-width="1.1"/>
<line x1="75.2" y1="114.1" x2="75.2" y2="128.8" stroke="#14b814" stroke-width="1.1" stroke-linecap="butt"/>
<line x1="72.2" y1="114.1" x2="78.2" y2="114.1" stroke="#14b814" stroke-width="1.1" stroke-linecap="butt"/>
<line x1="72.2" y1="128.8" x2="78.2" y2="128.8" stroke="#14b814" stroke-width="1.1" stroke-linecap="butt"/>
<line x1="109.9" y1="107.6" x2="109.9" y2="115.0" stroke="#14b814" stroke-width="1.1" stroke-linecap="butt"/>
<line x1="106.9" y1="107.6" x2="112.9" y2="107.6" stroke="#14b814" stroke-width="1.1" stroke-linecap="butt"/>
<line x1="106.9" y1="115.0" x2="112.9" y2="115.0" stroke="#14b814" stroke-width="1.1" stroke-linecap="butt"/>
<line x1="144.7" y1="92.9" x2="144.7" y2="98.4" stroke="#14b814" stroke-width="1.1" stroke-linecap="butt"/>
<line x1="141.7" y1="92.9" x2="147.7" y2="92.9" stroke="#14b814" stroke-width="1.1" stroke-linecap="butt"/>
<line x1="141.7" y1="98.4" x2="147.7" y2="98.4" stroke="#14b814" stroke-width="1.1" stroke-linecap="butt"/>
<line x1="179.4" y1="71.8" x2="179.4" y2="82.8" stroke="#14b814" stroke-width="1.1" stroke-linecap="butt"/>
<line x1="176.4" y1="71.8" x2="182.4" y2="71.8" stroke="#14b814" stroke-width="1.1" stroke-linecap="butt"/>
<line x1="176.4" y1="82.8" x2="182.4" y2="82.8" stroke="#14b814" stroke-width="1.1" stroke-linecap="butt"/>
<line x1="214.2" y1="78.2" x2="214.2" y2="89.2" stroke="#14b814" stroke-width="1.1" stroke-linecap="butt"/>
<line x1="211.2" y1="78.2" x2="217.2" y2="78.2" stroke="#14b814" stroke-width="1.1" stroke-linecap="butt"/>
<line x1="211.2" y1="89.2" x2="217.2" y2="89.2" stroke="#14b814" stroke-width="1.1" stroke-linecap="butt"/>
<line x1="249.0" y1="60.9" x2="249.0" y2="81.1" stroke="#14b814" stroke-width="1.1" stroke-linecap="butt"/>
<line x1="246.0" y1="60.9" x2="252.0" y2="60.9" stroke="#14b814" stroke-width="1.1" stroke-linecap="butt"/>
<line x1="246.0" y1="81.1" x2="252.0" y2="81.1" stroke="#14b814" stroke-width="1.1" stroke-linecap="butt"/>
<polyline points="40.4,156.4 75.2,124.0 109.9,114.7 144.7,95.9 179.4,79.7 214.2,71.4 249.0,55.6" fill="none" stroke="#e8262a" stroke-width="1.1"/>
<line x1="75.2" y1="121.3" x2="75.2" y2="126.8" stroke="#e8262a" stroke-width="1.1" stroke-linecap="butt"/>
<line x1="72.2" y1="121.3" x2="78.2" y2="121.3" stroke="#e8262a" stroke-width="1.1" stroke-linecap="butt"/>
<line x1="72.2" y1="126.8" x2="78.2" y2="126.8" stroke="#e8262a" stroke-width="1.1" stroke-linecap="butt"/>
<line x1="109.9" y1="112.0" x2="109.9" y2="117.5" stroke="#e8262a" stroke-width="1.1" stroke-linecap="butt"/>
<line x1="106.9" y1="112.0" x2="112.9" y2="112.0" stroke="#e8262a" stroke-width="1.1" stroke-linecap="butt"/>
<line x1="106.9" y1="117.5" x2="112.9" y2="117.5" stroke="#e8262a" stroke-width="1.1" stroke-linecap="butt"/>
<line x1="144.7" y1="92.2" x2="144.7" y2="99.5" stroke="#e8262a" stroke-width="1.1" stroke-linecap="butt"/>
<line x1="141.7" y1="92.2" x2="147.7" y2="92.2" stroke="#e8262a" stroke-width="1.1" stroke-linecap="butt"/>
<line x1="141.7" y1="99.5" x2="147.7" y2="99.5" stroke="#e8262a" stroke-width="1.1" stroke-linecap="butt"/>
<line x1="179.4" y1="75.1" x2="179.4" y2="84.3" stroke="#e8262a" stroke-width="1.1" stroke-linecap="butt"/>
<line x1="176.4" y1="75.1" x2="182.4" y2="75.1" stroke="#e8262a" stroke-width="1.1" stroke-linecap="butt"/>
<line x1="176.4" y1="84.3" x2="182.4" y2="84.3" stroke="#e8262a" stroke-width="1.1" stroke-linecap="butt"/>
<line x1="214.2" y1="63.1" x2="214.2" y2="79.7" stroke="#e8262a" stroke-width="1.1" stroke-linecap="butt"/>
<line x1="211.2" y1="63.1" x2="217.2" y2="63.1" stroke="#e8262a" stroke-width="1.1" stroke-linecap="butt"/>
<line x1="211.2" y1="79.7" x2="217.2" y2="79.7" stroke="#e8262a" stroke-width="1.1" stroke-linecap="butt"/>
<line x1="249.0" y1="51.0" x2="249.0" y2="60.2" stroke="#e8262a" stroke-width="1.1" stroke-linecap="butt"/>
<line x1="246.0" y1="51.0" x2="252.0" y2="51.0" stroke="#e8262a" stroke-width="1.1" stroke-linecap="butt"/>
<line x1="246.0" y1="60.2" x2="252.0" y2="60.2" stroke="#e8262a" stroke-width="1.1" stroke-linecap="butt"/>
<polyline points="40.4,156.4 75.2,147.4 109.9,141.4 144.7,134.6 179.4,128.8 214.2,129.7 249.0,127.0" fill="none" stroke="#1a1ae0" stroke-width="1.1"/>
<line x1="75.2" y1="140.9" x2="75.2" y2="153.8" stroke="#1a1ae0" stroke-width="1.1" stroke-linecap="butt"/>
<line x1="72.2" y1="140.9" x2="78.2" y2="140.9" stroke="#1a1ae0" stroke-width="1.1" stroke-linecap="butt"/>
<line x1="72.2" y1="153.8" x2="78.2" y2="153.8" stroke="#1a1ae0" stroke-width="1.1" stroke-linecap="butt"/>
<line x1="144.7" y1="131.8" x2="144.7" y2="137.4" stroke="#1a1ae0" stroke-width="1.1" stroke-linecap="butt"/>
<line x1="141.7" y1="131.8" x2="147.7" y2="131.8" stroke="#1a1ae0" stroke-width="1.1" stroke-linecap="butt"/>
<line x1="141.7" y1="137.4" x2="147.7" y2="137.4" stroke="#1a1ae0" stroke-width="1.1" stroke-linecap="butt"/>
<line x1="179.4" y1="123.3" x2="179.4" y2="134.3" stroke="#1a1ae0" stroke-width="1.1" stroke-linecap="butt"/>
<line x1="176.4" y1="123.3" x2="182.4" y2="123.3" stroke="#1a1ae0" stroke-width="1.1" stroke-linecap="butt"/>
<line x1="176.4" y1="134.3" x2="182.4" y2="134.3" stroke="#1a1ae0" stroke-width="1.1" stroke-linecap="butt"/>
<line x1="214.2" y1="124.2" x2="214.2" y2="135.2" stroke="#1a1ae0" stroke-width="1.1" stroke-linecap="butt"/>
<line x1="211.2" y1="124.2" x2="217.2" y2="124.2" stroke="#1a1ae0" stroke-width="1.1" stroke-linecap="butt"/>
<line x1="211.2" y1="135.2" x2="217.2" y2="135.2" stroke="#1a1ae0" stroke-width="1.1" stroke-linecap="butt"/>
<line x1="249.0" y1="119.6" x2="249.0" y2="134.3" stroke="#1a1ae0" stroke-width="1.1" stroke-linecap="butt"/>
<line x1="246.0" y1="119.6" x2="252.0" y2="119.6" stroke="#1a1ae0" stroke-width="1.1" stroke-linecap="butt"/>
<line x1="246.0" y1="134.3" x2="252.0" y2="134.3" stroke="#1a1ae0" stroke-width="1.1" stroke-linecap="butt"/>
<polygon points="40.4,153.3 43.4,158.7 37.4,158.7" fill="#14b814"/>
<polygon points="75.2,118.3 78.2,123.7 72.2,123.7" fill="#14b814"/>
<polygon points="109.9,108.2 112.9,113.6 106.9,113.6" fill="#14b814"/>
<polygon points="144.7,92.6 147.7,98.0 141.7,98.0" fill="#14b814"/>
<polygon points="179.4,74.2 182.4,79.6 176.4,79.6" fill="#14b814"/>
<polygon points="214.2,80.6 217.2,86.0 211.2,86.0" fill="#14b814"/>
<polygon points="249.0,67.9 252.0,73.3 246.0,73.3" fill="#14b814"/>
<rect x="37.8" y="153.8" width="5.2" height="5.2" fill="#e8262a"/>
<rect x="72.6" y="121.4" width="5.2" height="5.2" fill="#e8262a"/>
<rect x="107.3" y="112.1" width="5.2" height="5.2" fill="#e8262a"/>
<rect x="142.1" y="93.3" width="5.2" height="5.2" fill="#e8262a"/>
<rect x="176.8" y="77.1" width="5.2" height="5.2" fill="#e8262a"/>
<rect x="211.6" y="68.8" width="5.2" height="5.2" fill="#e8262a"/>
<rect x="246.4" y="53.0" width="5.2" height="5.2" fill="#e8262a"/>
<circle cx="40.4" cy="156.4" r="2.7" fill="#1a1ae0"/>
<circle cx="75.2" cy="147.4" r="2.7" fill="#1a1ae0"/>
<circle cx="109.9" cy="141.4" r="2.7" fill="#1a1ae0"/>
<circle cx="144.7" cy="134.6" r="2.7" fill="#1a1ae0"/>
<circle cx="179.4" cy="128.8" r="2.7" fill="#1a1ae0"/>
<circle cx="214.2" cy="129.7" r="2.7" fill="#1a1ae0"/>
<circle cx="249.0" cy="127.0" r="2.7" fill="#1a1ae0"/>
<line x1="58.8" y1="18.2" x2="74.2" y2="18.2" stroke="#1a1ae0" stroke-width="0.9" stroke-linecap="butt"/>
<circle cx="66.5" cy="18.2" r="2.5" fill="#1a1ae0"/>
<text x="82.7" y="22.4" font-size="11.5" text-anchor="start" >NC</text>
<line x1="58.8" y1="37.3" x2="74.2" y2="37.3" stroke="#e8262a" stroke-width="0.9" stroke-linecap="butt"/>
<rect x="64.1" y="34.9" width="4.8" height="4.8" fill="#e8262a"/>
<text x="82.7" y="41.5" font-size="11.5" text-anchor="start" >HD</text>
<line x1="58.8" y1="56.4" x2="74.2" y2="56.4" stroke="#14b814" stroke-width="0.9" stroke-linecap="butt"/>
<polygon points="66.5,53.4 69.3,58.6 63.7,58.6" fill="#14b814"/>
<text x="82.7" y="60.6" font-size="11.5" text-anchor="start" >LG</text>
<text x="75.2" y="115.0" font-size="11" text-anchor="middle" >##</text>
<text x="109.9" y="100.0" font-size="11" text-anchor="middle" >##</text>
<text x="144.7" y="86.0" font-size="11" text-anchor="middle" >##</text>
<text x="179.4" y="67.0" font-size="11" text-anchor="middle" >##</text>
<text x="214.2" y="61.0" font-size="11" text-anchor="middle" >##</text>
<text x="249.0" y="47.0" font-size="11" text-anchor="middle" >##</text>
<text x="214.2" y="90.7" font-size="14" text-anchor="middle" >*</text>
<text x="249.0" y="78.5" font-size="14" text-anchor="middle" >*</text>
<line x1="179.4" y1="100.8" x2="179.4" y2="90.0" stroke="#1a1a1a" stroke-width="1.7" stroke-linecap="butt"/>
<polygon points="179.4,86.3 182.6,92.0 176.2,92.0" fill="#1a1a1a"/>
<line x1="249.0" y1="100.8" x2="249.0" y2="90.0" stroke="#1a1a1a" stroke-width="1.7" stroke-linecap="butt"/>
<polygon points="249.0,86.3 252.2,92.0 245.8,92.0" fill="#1a1a1a"/>
<line x1="178.6" y1="100.8" x2="249.8" y2="100.8" stroke="#1a1a1a" stroke-width="1.7" stroke-linecap="butt"/>
<text x="217.7" y="112.6" font-size="12" text-anchor="middle" >LG</text>
<text x="5.0" y="13.8" font-size="17" font-family="Liberation Serif" font-weight="bold">a</text>
<line x1="343.4" y1="8.0" x2="343.4" y2="158.8" stroke="#1a1a1a" stroke-width="1.8" stroke-linecap="butt"/>
<line x1="342.5" y1="157.9" x2="493.6" y2="157.9" stroke="#1a1a1a" stroke-width="1.8" stroke-linecap="butt"/>
<line x1="337.4" y1="157.9" x2="343.4" y2="157.9" stroke="#1a1a1a" stroke-width="1.8" stroke-linecap="butt"/>
<text x="335.9" y="161.9" font-size="12" text-anchor="end" >0</text>
<line x1="337.4" y1="128.0" x2="343.4" y2="128.0" stroke="#1a1a1a" stroke-width="1.8" stroke-linecap="butt"/>
<text x="335.9" y="132.0" font-size="12" text-anchor="end" >2</text>
<line x1="337.4" y1="98.2" x2="343.4" y2="98.2" stroke="#1a1a1a" stroke-width="1.8" stroke-linecap="butt"/>
<text x="335.9" y="102.2" font-size="12" text-anchor="end" >4</text>
<line x1="337.4" y1="68.3" x2="343.4" y2="68.3" stroke="#1a1a1a" stroke-width="1.8" stroke-linecap="butt"/>
<text x="335.9" y="72.3" font-size="12" text-anchor="end" >6</text>
<line x1="337.4" y1="38.5" x2="343.4" y2="38.5" stroke="#1a1a1a" stroke-width="1.8" stroke-linecap="butt"/>
<text x="335.9" y="42.5" font-size="12" text-anchor="end" >8</text>
<line x1="337.4" y1="8.6" x2="343.4" y2="8.6" stroke="#1a1a1a" stroke-width="1.8" stroke-linecap="butt"/>
<text x="335.9" y="12.6" font-size="12" text-anchor="end" >10</text>
<line x1="373.5" y1="157.9" x2="373.5" y2="163.9" stroke="#1a1a1a" stroke-width="1.8" stroke-linecap="butt"/>
<text x="373.5" y="176.2" font-size="12" text-anchor="middle" >NC</text>
<line x1="418.4" y1="157.9" x2="418.4" y2="163.9" stroke="#1a1a1a" stroke-width="1.8" stroke-linecap="butt"/>
<text x="418.4" y="176.2" font-size="12" text-anchor="middle" >HD</text>
<line x1="464.0" y1="157.9" x2="464.0" y2="163.9" stroke="#1a1a1a" stroke-width="1.8" stroke-linecap="butt"/>
<text x="464.0" y="176.2" font-size="12" text-anchor="middle" >LG</text>
<line x1="373.5" y1="74.1" x2="373.5" y2="94.1" stroke="#1a1ae0" stroke-width="2.3" stroke-linecap="butt"/>
<line x1="373.5" y1="125.1" x2="373.5" y2="153.6" stroke="#1a1ae0" stroke-width="2.3" stroke-linecap="butt"/>
<line x1="365.2" y1="74.1" x2="381.8" y2="74.1" stroke="#1a1ae0" stroke-width="2.3" stroke-linecap="butt"/>
<line x1="365.2" y1="153.6" x2="381.8" y2="153.6" stroke="#1a1ae0" stroke-width="2.3" stroke-linecap="butt"/>
<rect x="359.5" y="94.1" width="28" height="30.9" fill="none" stroke="#1a1ae0" stroke-width="2.3"/>
<line x1="359.5" y1="107.4" x2="387.5" y2="107.4" stroke="#1a1ae0" stroke-width="2.3" stroke-linecap="butt"/>
<line x1="418.4" y1="31.7" x2="418.4" y2="55.8" stroke="#e8262a" stroke-width="2.3" stroke-linecap="butt"/>
<line x1="418.4" y1="80.1" x2="418.4" y2="81.6" stroke="#e8262a" stroke-width="2.3" stroke-linecap="butt"/>
<line x1="410.1" y1="31.7" x2="426.6" y2="31.7" stroke="#e8262a" stroke-width="2.3" stroke-linecap="butt"/>
<line x1="410.1" y1="81.6" x2="426.6" y2="81.6" stroke="#e8262a" stroke-width="2.3" stroke-linecap="butt"/>
<rect x="404.4" y="55.8" width="28" height="24.3" fill="none" stroke="#e8262a" stroke-width="2.3"/>
<line x1="404.4" y1="70.9" x2="432.4" y2="70.9" stroke="#e8262a" stroke-width="2.3" stroke-linecap="butt"/>
<line x1="464.0" y1="75.6" x2="464.0" y2="78.5" stroke="#14b814" stroke-width="2.3" stroke-linecap="butt"/>
<line x1="464.0" y1="89.8" x2="464.0" y2="97.1" stroke="#14b814" stroke-width="2.3" stroke-linecap="butt"/>
<line x1="455.8" y1="75.6" x2="472.2" y2="75.6" stroke="#14b814" stroke-width="2.3" stroke-linecap="butt"/>
<line x1="455.8" y1="97.1" x2="472.2" y2="97.1" stroke="#14b814" stroke-width="2.3" stroke-linecap="butt"/>
<rect x="450.0" y="78.5" width="28" height="11.3" fill="none" stroke="#14b814" stroke-width="2.3"/>
<line x1="450.0" y1="78.8" x2="478.0" y2="78.8" stroke="#14b814" stroke-width="2.3" stroke-linecap="butt"/>
<text x="418.4" y="26.0" font-size="11" text-anchor="middle" >##</text>
<text x="464.0" y="77.7" font-size="17" text-anchor="middle" >*</text>
<text x="0" y="0" font-size="12.1" text-anchor="middle" transform="translate(305.0,84.0) rotate(-90)" dominant-baseline="central">Body fat ratio(%)</text>
<text x="287.0" y="13.2" font-size="17" font-family="Liberation Serif" font-weight="bold">b</text>
<line x1="590.4" y1="4.8" x2="590.4" y2="157.7" stroke="#1a1a1a" stroke-width="1.8" stroke-linecap="butt"/>
<line x1="589.5" y1="156.8" x2="727.8" y2="156.8" stroke="#1a1a1a" stroke-width="1.8" stroke-linecap="butt"/>
<line x1="584.4" y1="156.8" x2="590.4" y2="156.8" stroke="#1a1a1a" stroke-width="1.8" stroke-linecap="butt"/>
<text x="582.9" y="160.8" font-size="12" text-anchor="end" >0</text>
<line x1="584.4" y1="119.0" x2="590.4" y2="119.0" stroke="#1a1a1a" stroke-width="1.8" stroke-linecap="butt"/>
<text x="582.9" y="123.0" font-size="12" text-anchor="end" >2</text>
<line x1="584.4" y1="81.1" x2="590.4" y2="81.1" stroke="#1a1a1a" stroke-width="1.8" stroke-linecap="butt"/>
<text x="582.9" y="85.1" font-size="12" text-anchor="end" >4</text>
<line x1="584.4" y1="43.2" x2="590.4" y2="43.2" stroke="#1a1a1a" stroke-width="1.8" stroke-linecap="butt"/>
<text x="582.9" y="47.2" font-size="12" text-anchor="end" >6</text>
<line x1="584.4" y1="5.4" x2="590.4" y2="5.4" stroke="#1a1a1a" stroke-width="1.8" stroke-linecap="butt"/>
<text x="582.9" y="9.4" font-size="12" text-anchor="end" >8</text>
<line x1="617.9" y1="156.8" x2="617.9" y2="162.8" stroke="#1a1a1a" stroke-width="1.8" stroke-linecap="butt"/>
<text x="617.9" y="175.1" font-size="12" text-anchor="middle" >NC</text>
<line x1="659.1" y1="156.8" x2="659.1" y2="162.8" stroke="#1a1a1a" stroke-width="1.8" stroke-linecap="butt"/>
<text x="659.1" y="175.1" font-size="12" text-anchor="middle" >HD</text>
<line x1="700.5" y1="156.8" x2="700.5" y2="162.8" stroke="#1a1a1a" stroke-width="1.8" stroke-linecap="butt"/>
<text x="700.5" y="175.1" font-size="12" text-anchor="middle" >LG</text>
<line x1="617.9" y1="81.7" x2="617.9" y2="87.0" stroke="#1a1ae0" stroke-width="2.3" stroke-linecap="butt"/>
<line x1="617.9" y1="92.5" x2="617.9" y2="92.8" stroke="#1a1ae0" stroke-width="2.3" stroke-linecap="butt"/>
<line x1="609.6" y1="81.7" x2="626.1" y2="81.7" stroke="#1a1ae0" stroke-width="2.3" stroke-linecap="butt"/>
<line x1="609.6" y1="92.8" x2="626.1" y2="92.8" stroke="#1a1ae0" stroke-width="2.3" stroke-linecap="butt"/>
<rect x="605.4" y="87.0" width="25" height="5.5" fill="none" stroke="#1a1ae0" stroke-width="2.3"/>
<line x1="605.4" y1="89.8" x2="630.4" y2="89.8" stroke="#1a1ae0" stroke-width="2.3" stroke-linecap="butt"/>
<line x1="659.1" y1="45.1" x2="659.1" y2="59.5" stroke="#e8262a" stroke-width="2.3" stroke-linecap="butt"/>
<line x1="659.1" y1="81.1" x2="659.1" y2="89.8" stroke="#e8262a" stroke-width="2.3" stroke-linecap="butt"/>
<line x1="650.9" y1="45.1" x2="667.4" y2="45.1" stroke="#e8262a" stroke-width="2.3" stroke-linecap="butt"/>
<line x1="650.9" y1="89.8" x2="667.4" y2="89.8" stroke="#e8262a" stroke-width="2.3" stroke-linecap="butt"/>
<rect x="646.6" y="59.5" width="25" height="21.6" fill="none" stroke="#e8262a" stroke-width="2.3"/>
<line x1="646.6" y1="76.2" x2="671.6" y2="76.2" stroke="#e8262a" stroke-width="2.3" stroke-linecap="butt"/>
<line x1="700.5" y1="79.0" x2="700.5" y2="80.5" stroke="#14b814" stroke-width="2.3" stroke-linecap="butt"/>
<line x1="700.5" y1="93.0" x2="700.5" y2="108.5" stroke="#14b814" stroke-width="2.3" stroke-linecap="butt"/>
<line x1="692.2" y1="79.0" x2="708.8" y2="79.0" stroke="#14b814" stroke-width="2.3" stroke-linecap="butt"/>
<line x1="692.2" y1="108.5" x2="708.8" y2="108.5" stroke="#14b814" stroke-width="2.3" stroke-linecap="butt"/>
<rect x="688.0" y="80.5" width="25" height="12.5" fill="none" stroke="#14b814" stroke-width="2.3"/>
<line x1="688.0" y1="83.4" x2="713.0" y2="83.4" stroke="#14b814" stroke-width="2.3" stroke-linecap="butt"/>
<text x="659.1" y="41.6" font-size="11" text-anchor="middle" >#</text>
<text x="700.5" y="80.7" font-size="17" text-anchor="middle" >*</text>
<text x="0" y="0" font-size="12.1" text-anchor="middle" transform="translate(560.0,80.0) rotate(-90)" dominant-baseline="central">Liver index(%)</text>
<text x="548.0" y="12.6" font-size="17" font-family="Liberation Serif" font-weight="bold">c</text>
<line x1="71.9" y1="206.6" x2="71.9" y2="358.7" stroke="#1a1a1a" stroke-width="1.8" stroke-linecap="butt"/>
<line x1="71.0" y1="357.8" x2="223.7" y2="357.8" stroke="#1a1a1a" stroke-width="1.8" stroke-linecap="butt"/>
<line x1="65.9" y1="357.8" x2="71.9" y2="357.8" stroke="#1a1a1a" stroke-width="1.8" stroke-linecap="butt"/>
<text x="64.4" y="361.8" font-size="12" text-anchor="end" >0.00</text>
<line x1="65.9" y1="327.7" x2="71.9" y2="327.7" stroke="#1a1a1a" stroke-width="1.8" stroke-linecap="butt"/>
<text x="64.4" y="331.7" font-size="12" text-anchor="end" >0.01</text>
<line x1="65.9" y1="297.6" x2="71.9" y2="297.6" stroke="#1a1a1a" stroke-width="1.8" stroke-linecap="butt"/>
<text x="64.4" y="301.6" font-size="12" text-anchor="end" >0.02</text>
<line x1="65.9" y1="267.4" x2="71.9" y2="267.4" stroke="#1a1a1a" stroke-width="1.8" stroke-linecap="butt"/>
<text x="64.4" y="271.4" font-size="12" text-anchor="end" >0.03</text>
<line x1="65.9" y1="237.3" x2="71.9" y2="237.3" stroke="#1a1a1a" stroke-width="1.8" stroke-linecap="butt"/>
<text x="64.4" y="241.3" font-size="12" text-anchor="end" >0.04</text>
<line x1="65.9" y1="207.2" x2="71.9" y2="207.2" stroke="#1a1a1a" stroke-width="1.8" stroke-linecap="butt"/>
<text x="64.4" y="211.2" font-size="12" text-anchor="end" >0.05</text>
<line x1="102.4" y1="357.8" x2="102.4" y2="363.8" stroke="#1a1a1a" stroke-width="1.8" stroke-linecap="butt"/>
<text x="102.4" y="376.1" font-size="12" text-anchor="middle" >NC</text>
<line x1="147.9" y1="357.8" x2="147.9" y2="363.8" stroke="#1a1a1a" stroke-width="1.8" stroke-linecap="butt"/>
<text x="147.9" y="376.1" font-size="12" text-anchor="middle" >HD</text>
<line x1="193.2" y1="357.8" x2="193.2" y2="363.8" stroke="#1a1a1a" stroke-width="1.8" stroke-linecap="butt"/>
<text x="193.2" y="376.1" font-size="12" text-anchor="middle" >LG</text>
<line x1="102.4" y1="281.9" x2="102.4" y2="289.4" stroke="#1a1ae0" stroke-width="2.3" stroke-linecap="butt"/>
<line x1="102.4" y1="303.6" x2="102.4" y2="313.2" stroke="#1a1ae0" stroke-width="2.3" stroke-linecap="butt"/>
<line x1="94.2" y1="281.9" x2="110.7" y2="281.9" stroke="#1a1ae0" stroke-width="2.3" stroke-linecap="butt"/>
<line x1="94.2" y1="313.2" x2="110.7" y2="313.2" stroke="#1a1ae0" stroke-width="2.3" stroke-linecap="butt"/>
<rect x="88.4" y="289.4" width="28" height="14.2" fill="none" stroke="#1a1ae0" stroke-width="2.3"/>
<line x1="88.4" y1="300.6" x2="116.4" y2="300.6" stroke="#1a1ae0" stroke-width="2.3" stroke-linecap="butt"/>
<line x1="147.9" y1="221.4" x2="147.9" y2="236.4" stroke="#e8262a" stroke-width="2.3" stroke-linecap="butt"/>
<line x1="147.9" y1="294.2" x2="147.9" y2="298.8" stroke="#e8262a" stroke-width="2.3" stroke-linecap="butt"/>
<line x1="139.7" y1="221.4" x2="156.2" y2="221.4" stroke="#e8262a" stroke-width="2.3" stroke-linecap="butt"/>
<line x1="139.7" y1="298.8" x2="156.2" y2="298.8" stroke="#e8262a" stroke-width="2.3" stroke-linecap="butt"/>
<rect x="133.9" y="236.4" width="28" height="57.8" fill="none" stroke="#e8262a" stroke-width="2.3"/>
<line x1="133.9" y1="285.8" x2="161.9" y2="285.8" stroke="#e8262a" stroke-width="2.3" stroke-linecap="butt"/>
<line x1="193.2" y1="235.2" x2="193.2" y2="281.9" stroke="#14b814" stroke-width="2.3" stroke-linecap="butt"/>
<line x1="193.2" y1="317.7" x2="193.2" y2="335.2" stroke="#14b814" stroke-width="2.3" stroke-linecap="butt"/>
<line x1="184.9" y1="235.2" x2="201.4" y2="235.2" stroke="#14b814" stroke-width="2.3" stroke-linecap="butt"/>
<line x1="184.9" y1="335.2" x2="201.4" y2="335.2" stroke="#14b814" stroke-width="2.3" stroke-linecap="butt"/>
<rect x="179.2" y="281.9" width="28" height="35.8" fill="none" stroke="#14b814" stroke-width="2.3"/>
<line x1="179.2" y1="298.8" x2="207.2" y2="298.8" stroke="#14b814" stroke-width="2.3" stroke-linecap="butt"/>
<text x="147.9" y="217.3" font-size="11" text-anchor="middle" >#</text>
<text x="0" y="0" font-size="12.1" text-anchor="middle" transform="translate(21.5,281.5) rotate(-90)" dominant-baseline="central">Hepatic TG(mmol/gprot)</text>
<text x="5.0" y="205.0" font-size="17" font-family="Liberation Serif" font-weight="bold">d</text>
<line x1="342.3" y1="201.3" x2="342.3" y2="354.4" stroke="#1a1a1a" stroke-width="1.8" stroke-linecap="butt"/>
<line x1="341.4" y1="353.5" x2="493.0" y2="353.5" stroke="#1a1a1a" stroke-width="1.8" stroke-linecap="butt"/>
<line x1="336.3" y1="353.5" x2="342.3" y2="353.5" stroke="#1a1a1a" stroke-width="1.8" stroke-linecap="butt"/>
<text x="334.8" y="357.5" font-size="12" text-anchor="end" >0.00</text>
<line x1="336.3" y1="303.0" x2="342.3" y2="303.0" stroke="#1a1a1a" stroke-width="1.8" stroke-linecap="butt"/>
<text x="334.8" y="307.0" font-size="12" text-anchor="end" >0.01</text>
<line x1="336.3" y1="252.4" x2="342.3" y2="252.4" stroke="#1a1a1a" stroke-width="1.8" stroke-linecap="butt"/>
<text x="334.8" y="256.4" font-size="12" text-anchor="end" >0.02</text>
<line x1="336.3" y1="201.9" x2="342.3" y2="201.9" stroke="#1a1a1a" stroke-width="1.8" stroke-linecap="butt"/>
<text x="334.8" y="205.9" font-size="12" text-anchor="end" >0.03</text>
<line x1="372.4" y1="353.5" x2="372.4" y2="359.5" stroke="#1a1a1a" stroke-width="1.8" stroke-linecap="butt"/>
<text x="372.4" y="371.8" font-size="12" text-anchor="middle" >NC</text>
<line x1="417.9" y1="353.5" x2="417.9" y2="359.5" stroke="#1a1a1a" stroke-width="1.8" stroke-linecap="butt"/>
<text x="417.9" y="371.8" font-size="12" text-anchor="middle" >HD</text>
<line x1="463.6" y1="353.5" x2="463.6" y2="359.5" stroke="#1a1a1a" stroke-width="1.8" stroke-linecap="butt"/>
<text x="463.6" y="371.8" font-size="12" text-anchor="middle" >LG</text>
<line x1="372.4" y1="276.2" x2="372.4" y2="293.9" stroke="#1a1ae0" stroke-width="2.3" stroke-linecap="butt"/>
<line x1="372.4" y1="313.6" x2="372.4" y2="316.6" stroke="#1a1ae0" stroke-width="2.3" stroke-linecap="butt"/>
<line x1="364.1" y1="276.2" x2="380.6" y2="276.2" stroke="#1a1ae0" stroke-width="2.3" stroke-linecap="butt"/>
<line x1="364.1" y1="316.6" x2="380.6" y2="316.6" stroke="#1a1ae0" stroke-width="2.3" stroke-linecap="butt"/>
<rect x="358.4" y="293.9" width="28" height="19.7" fill="none" stroke="#1a1ae0" stroke-width="2.3"/>
<line x1="358.4" y1="306.5" x2="386.4" y2="306.5" stroke="#1a1ae0" stroke-width="2.3" stroke-linecap="butt"/>
<line x1="417.9" y1="231.7" x2="417.9" y2="258.5" stroke="#e8262a" stroke-width="2.3" stroke-linecap="butt"/>
<line x1="417.9" y1="290.8" x2="417.9" y2="300.4" stroke="#e8262a" stroke-width="2.3" stroke-linecap="butt"/>
<line x1="409.6" y1="231.7" x2="426.1" y2="231.7" stroke="#e8262a" stroke-width="2.3" stroke-linecap="butt"/>
<line x1="409.6" y1="300.4" x2="426.1" y2="300.4" stroke="#e8262a" stroke-width="2.3" stroke-linecap="butt"/>
<rect x="403.9" y="258.5" width="28" height="32.3" fill="none" stroke="#e8262a" stroke-width="2.3"/>
<line x1="403.9" y1="286.8" x2="431.9" y2="286.8" stroke="#e8262a" stroke-width="2.3" stroke-linecap="butt"/>
<line x1="463.6" y1="289.3" x2="463.6" y2="293.4" stroke="#14b814" stroke-width="2.3" stroke-linecap="butt"/>
<line x1="463.6" y1="307.0" x2="463.6" y2="323.2" stroke="#14b814" stroke-width="2.3" stroke-linecap="butt"/>
<line x1="455.4" y1="289.3" x2="471.9" y2="289.3" stroke="#14b814" stroke-width="2.3" stroke-linecap="butt"/>
<line x1="455.4" y1="323.2" x2="471.9" y2="323.2" stroke="#14b814" stroke-width="2.3" stroke-linecap="butt"/>
<rect x="449.6" y="293.4" width="28" height="13.6" fill="none" stroke="#14b814" stroke-width="2.3"/>
<line x1="449.6" y1="300.4" x2="477.6" y2="300.4" stroke="#14b814" stroke-width="2.3" stroke-linecap="butt"/>
<text x="417.9" y="226.9" font-size="11" text-anchor="middle" >#</text>
<text x="463.6" y="290.7" font-size="17" text-anchor="middle" >*</text>
<text x="0" y="0" font-size="12.1" text-anchor="middle" transform="translate(295.0,277.3) rotate(-90)" dominant-baseline="central">Hepatic TC(mmol/gprot)</text>
<text x="286.0" y="205.0" font-size="17" font-family="Liberation Serif" font-weight="bold">e</text>
<line x1="593.6" y1="206.2" x2="593.6" y2="358.7" stroke="#1a1a1a" stroke-width="1.8" stroke-linecap="butt"/>
<line x1="592.7" y1="357.8" x2="746.0" y2="357.8" stroke="#1a1a1a" stroke-width="1.8" stroke-linecap="butt"/>
<line x1="587.6" y1="357.8" x2="593.6" y2="357.8" stroke="#1a1a1a" stroke-width="1.8" stroke-linecap="butt"/>
<text x="586.1" y="361.8" font-size="12" text-anchor="end" >0</text>
<line x1="587.6" y1="327.6" x2="593.6" y2="327.6" stroke="#1a1a1a" stroke-width="1.8" stroke-linecap="butt"/>
<text x="586.1" y="331.6" font-size="12" text-anchor="end" >2</text>
<line x1="587.6" y1="297.4" x2="593.6" y2="297.4" stroke="#1a1a1a" stroke-width="1.8" stroke-linecap="butt"/>
<text x="586.1" y="301.4" font-size="12" text-anchor="end" >4</text>
<line x1="587.6" y1="267.2" x2="593.6" y2="267.2" stroke="#1a1a1a" stroke-width="1.8" stroke-linecap="butt"/>
<text x="586.1" y="271.2" font-size="12" text-anchor="end" >6</text>
<line x1="587.6" y1="237.0" x2="593.6" y2="237.0" stroke="#1a1a1a" stroke-width="1.8" stroke-linecap="butt"/>
<text x="586.1" y="241.0" font-size="12" text-anchor="end" >8</text>
<line x1="587.6" y1="206.8" x2="593.6" y2="206.8" stroke="#1a1a1a" stroke-width="1.8" stroke-linecap="butt"/>
<text x="586.1" y="210.8" font-size="12" text-anchor="end" >10</text>
<line x1="623.7" y1="357.8" x2="623.7" y2="363.8" stroke="#1a1a1a" stroke-width="1.8" stroke-linecap="butt"/>
<text x="623.7" y="376.1" font-size="12" text-anchor="middle" >NC</text>
<line x1="668.8" y1="357.8" x2="668.8" y2="363.8" stroke="#1a1a1a" stroke-width="1.8" stroke-linecap="butt"/>
<text x="668.8" y="376.1" font-size="12" text-anchor="middle" >HD</text>
<line x1="714.5" y1="357.8" x2="714.5" y2="363.8" stroke="#1a1a1a" stroke-width="1.8" stroke-linecap="butt"/>
<text x="714.5" y="376.1" font-size="12" text-anchor="middle" >LG</text>
<line x1="623.7" y1="231.6" x2="623.7" y2="241.2" stroke="#1a1ae0" stroke-width="2.3" stroke-linecap="butt"/>
<line x1="623.7" y1="320.1" x2="623.7" y2="323.4" stroke="#1a1ae0" stroke-width="2.3" stroke-linecap="butt"/>
<line x1="615.5" y1="231.6" x2="632.0" y2="231.6" stroke="#1a1ae0" stroke-width="2.3" stroke-linecap="butt"/>
<line x1="615.5" y1="323.4" x2="632.0" y2="323.4" stroke="#1a1ae0" stroke-width="2.3" stroke-linecap="butt"/>
<rect x="609.7" y="241.2" width="28" height="78.8" fill="none" stroke="#1a1ae0" stroke-width="2.3"/>
<line x1="609.7" y1="307.4" x2="637.7" y2="307.4" stroke="#1a1ae0" stroke-width="2.3" stroke-linecap="butt"/>
<line x1="668.8" y1="220.7" x2="668.8" y2="227.2" stroke="#e8262a" stroke-width="2.3" stroke-linecap="butt"/>
<line x1="668.8" y1="270.2" x2="668.8" y2="298.8" stroke="#e8262a" stroke-width="2.3" stroke-linecap="butt"/>
<line x1="660.5" y1="220.7" x2="677.0" y2="220.7" stroke="#e8262a" stroke-width="2.3" stroke-linecap="butt"/>
<line x1="660.5" y1="298.8" x2="677.0" y2="298.8" stroke="#e8262a" stroke-width="2.3" stroke-linecap="butt"/>
<rect x="654.8" y="227.2" width="28" height="43.0" fill="none" stroke="#e8262a" stroke-width="2.3"/>
<line x1="654.8" y1="237.9" x2="682.8" y2="237.9" stroke="#e8262a" stroke-width="2.3" stroke-linecap="butt"/>
<line x1="714.5" y1="219.0" x2="714.5" y2="231.9" stroke="#14b814" stroke-width="2.3" stroke-linecap="butt"/>
<line x1="714.5" y1="280.9" x2="714.5" y2="310.4" stroke="#14b814" stroke-width="2.3" stroke-linecap="butt"/>
<line x1="706.2" y1="219.0" x2="722.8" y2="219.0" stroke="#14b814" stroke-width="2.3" stroke-linecap="butt"/>
<line x1="706.2" y1="310.4" x2="722.8" y2="310.4" stroke="#14b814" stroke-width="2.3" stroke-linecap="butt"/>
<rect x="700.5" y="231.9" width="28" height="49.1" fill="none" stroke="#14b814" stroke-width="2.3"/>
<line x1="700.5" y1="248.6" x2="728.5" y2="248.6" stroke="#14b814" stroke-width="2.3" stroke-linecap="butt"/>
<text x="0" y="0" font-size="12.1" text-anchor="middle" transform="translate(557.0,280.7) rotate(-90)" dominant-baseline="central">Free fatty acids(mmol/L)</text>
<text x="544.4" y="204.0" font-size="17" font-family="Liberation Serif" font-weight="bold">f</text>
<line x1="590.4" y1="402.3" x2="590.4" y2="553.7" stroke="#1a1a1a" stroke-width="1.8" stroke-linecap="butt"/>
<line x1="589.5" y1="552.8" x2="740.0" y2="552.8" stroke="#1a1a1a" stroke-width="1.8" stroke-linecap="butt"/>
<line x1="584.4" y1="552.8" x2="590.4" y2="552.8" stroke="#1a1a1a" stroke-width="1.8" stroke-linecap="butt"/>
<text x="582.9" y="556.8" font-size="12" text-anchor="end" >0</text>
<line x1="584.4" y1="515.3" x2="590.4" y2="515.3" stroke="#1a1a1a" stroke-width="1.8" stroke-linecap="butt"/>
<text x="582.9" y="519.3" font-size="12" text-anchor="end" >10</text>
<line x1="584.4" y1="477.8" x2="590.4" y2="477.8" stroke="#1a1a1a" stroke-width="1.8" stroke-linecap="butt"/>
<text x="582.9" y="481.8" font-size="12" text-anchor="end" >20</text>
<line x1="584.4" y1="440.4" x2="590.4" y2="440.4" stroke="#1a1a1a" stroke-width="1.8" stroke-linecap="butt"/>
<text x="582.9" y="444.4" font-size="12" text-anchor="end" >30</text>
<line x1="584.4" y1="402.9" x2="590.4" y2="402.9" stroke="#1a1a1a" stroke-width="1.8" stroke-linecap="butt"/>
<text x="582.9" y="406.9" font-size="12" text-anchor="end" >40</text>
<line x1="620.4" y1="552.8" x2="620.4" y2="558.8" stroke="#1a1a1a" stroke-width="1.8" stroke-linecap="butt"/>
<text x="620.4" y="571.1" font-size="12" text-anchor="middle" >NC</text>
<line x1="665.5" y1="552.8" x2="665.5" y2="558.8" stroke="#1a1a1a" stroke-width="1.8" stroke-linecap="butt"/>
<text x="665.5" y="571.1" font-size="12" text-anchor="middle" >HD</text>
<line x1="710.6" y1="552.8" x2="710.6" y2="558.8" stroke="#1a1a1a" stroke-width="1.8" stroke-linecap="butt"/>
<text x="710.6" y="571.1" font-size="12" text-anchor="middle" >LG</text>
<line x1="620.4" y1="539.9" x2="620.4" y2="545.7" stroke="#1a1ae0" stroke-width="2.3" stroke-linecap="butt"/>
<line x1="620.4" y1="548.9" x2="620.4" y2="550.7" stroke="#1a1ae0" stroke-width="2.3" stroke-linecap="butt"/>
<line x1="612.1" y1="539.9" x2="628.6" y2="539.9" stroke="#1a1ae0" stroke-width="2.3" stroke-linecap="butt"/>
<line x1="612.1" y1="550.7" x2="628.6" y2="550.7" stroke="#1a1ae0" stroke-width="2.3" stroke-linecap="butt"/>
<rect x="606.4" y="545.7" width="28" height="3.2" fill="none" stroke="#1a1ae0" stroke-width="2.3"/>
<line x1="606.4" y1="547.2" x2="634.4" y2="547.2" stroke="#1a1ae0" stroke-width="2.3" stroke-linecap="butt"/>
<line x1="665.5" y1="416.4" x2="665.5" y2="431.4" stroke="#e8262a" stroke-width="2.3" stroke-linecap="butt"/>
<line x1="665.5" y1="482.0" x2="665.5" y2="482.7" stroke="#e8262a" stroke-width="2.3" stroke-linecap="butt"/>
<line x1="657.2" y1="416.4" x2="673.8" y2="416.4" stroke="#e8262a" stroke-width="2.3" stroke-linecap="butt"/>
<line x1="657.2" y1="482.7" x2="673.8" y2="482.7" stroke="#e8262a" stroke-width="2.3" stroke-linecap="butt"/>
<rect x="651.5" y="431.4" width="28" height="50.6" fill="none" stroke="#e8262a" stroke-width="2.3"/>
<line x1="651.5" y1="462.9" x2="679.5" y2="462.9" stroke="#e8262a" stroke-width="2.3" stroke-linecap="butt"/>
<line x1="710.6" y1="478.6" x2="710.6" y2="483.8" stroke="#14b814" stroke-width="2.3" stroke-linecap="butt"/>
<line x1="710.6" y1="508.2" x2="710.6" y2="510.8" stroke="#14b814" stroke-width="2.3" stroke-linecap="butt"/>
<line x1="702.4" y1="478.6" x2="718.9" y2="478.6" stroke="#14b814" stroke-width="2.3" stroke-linecap="butt"/>
<line x1="702.4" y1="510.8" x2="718.9" y2="510.8" stroke="#14b814" stroke-width="2.3" stroke-linecap="butt"/>
<rect x="696.6" y="483.8" width="28" height="24.4" fill="none" stroke="#14b814" stroke-width="2.3"/>
<line x1="696.6" y1="492.8" x2="724.6" y2="492.8" stroke="#14b814" stroke-width="2.3" stroke-linecap="butt"/>
<text x="665.5" y="411.6" font-size="11" text-anchor="middle" >##</text>
<text x="710.6" y="480.3" font-size="17" text-anchor="middle" >*</text>
<text x="0" y="0" font-size="12.1" text-anchor="middle" transform="translate(557.0,482.4) rotate(-90)" dominant-baseline="central">Hepatic steatosis(%)</text>
<text x="544.2" y="415.8" font-size="17" font-family="Liberation Serif" font-weight="bold">h</text>
<line x1="590.4" y1="596.2" x2="590.4" y2="748.7" stroke="#1a1a1a" stroke-width="1.8" stroke-linecap="butt"/>
<line x1="589.5" y1="747.8" x2="741.4" y2="747.8" stroke="#1a1a1a" stroke-width="1.8" stroke-linecap="butt"/>
<line x1="584.4" y1="747.8" x2="590.4" y2="747.8" stroke="#1a1a1a" stroke-width="1.8" stroke-linecap="butt"/>
<text x="582.9" y="751.8" font-size="12" text-anchor="end" >0</text>
<line x1="584.4" y1="697.5" x2="590.4" y2="697.5" stroke="#1a1a1a" stroke-width="1.8" stroke-linecap="butt"/>
<text x="582.9" y="701.5" font-size="12" text-anchor="end" >50</text>
<line x1="584.4" y1="647.1" x2="590.4" y2="647.1" stroke="#1a1a1a" stroke-width="1.8" stroke-linecap="butt"/>
<text x="582.9" y="651.1" font-size="12" text-anchor="end" >100</text>
<line x1="584.4" y1="596.8" x2="590.4" y2="596.8" stroke="#1a1a1a" stroke-width="1.8" stroke-linecap="butt"/>
<text x="582.9" y="600.8" font-size="12" text-anchor="end" >150</text>
<line x1="620.4" y1="747.8" x2="620.4" y2="753.8" stroke="#1a1a1a" stroke-width="1.8" stroke-linecap="butt"/>
<text x="620.4" y="766.1" font-size="12" text-anchor="middle" >NC</text>
<line x1="666.0" y1="747.8" x2="666.0" y2="753.8" stroke="#1a1a1a" stroke-width="1.8" stroke-linecap="butt"/>
<text x="666.0" y="766.1" font-size="12" text-anchor="middle" >HD</text>
<line x1="711.7" y1="747.8" x2="711.7" y2="753.8" stroke="#1a1a1a" stroke-width="1.8" stroke-linecap="butt"/>
<text x="711.7" y="766.1" font-size="12" text-anchor="middle" >LG</text>
<line x1="620.4" y1="685.3" x2="620.4" y2="695.6" stroke="#1a1ae0" stroke-width="2.3" stroke-linecap="butt"/>
<line x1="620.4" y1="711.7" x2="620.4" y2="726.1" stroke="#1a1ae0" stroke-width="2.3" stroke-linecap="butt"/>
<line x1="612.1" y1="685.3" x2="628.6" y2="685.3" stroke="#1a1ae0" stroke-width="2.3" stroke-linecap="butt"/>
<line x1="612.1" y1="726.1" x2="628.6" y2="726.1" stroke="#1a1ae0" stroke-width="2.3" stroke-linecap="butt"/>
<rect x="606.4" y="695.6" width="28" height="16.1" fill="none" stroke="#1a1ae0" stroke-width="2.3"/>
<line x1="606.4" y1="709.1" x2="634.4" y2="709.1" stroke="#1a1ae0" stroke-width="2.3" stroke-linecap="butt"/>
<line x1="666.0" y1="651.0" x2="666.0" y2="661.8" stroke="#e8262a" stroke-width="2.3" stroke-linecap="butt"/>
<line x1="666.0" y1="674.7" x2="666.0" y2="677.7" stroke="#e8262a" stroke-width="2.3" stroke-linecap="butt"/>
<line x1="657.8" y1="651.0" x2="674.2" y2="651.0" stroke="#e8262a" stroke-width="2.3" stroke-linecap="butt"/>
<line x1="657.8" y1="677.7" x2="674.2" y2="677.7" stroke="#e8262a" stroke-width="2.3" stroke-linecap="butt"/>
<rect x="652.0" y="661.8" width="28" height="12.9" fill="none" stroke="#e8262a" stroke-width="2.3"/>
<line x1="652.0" y1="672.6" x2="680.0" y2="672.6" stroke="#e8262a" stroke-width="2.3" stroke-linecap="butt"/>
<line x1="711.7" y1="680.0" x2="711.7" y2="682.1" stroke="#14b814" stroke-width="2.3" stroke-linecap="butt"/>
<line x1="711.7" y1="693.0" x2="711.7" y2="694.9" stroke="#14b814" stroke-width="2.3" stroke-linecap="butt"/>
<line x1="703.5" y1="680.0" x2="720.0" y2="680.0" stroke="#14b814" stroke-width="2.3" stroke-linecap="butt"/>
<line x1="703.5" y1="694.9" x2="720.0" y2="694.9" stroke="#14b814" stroke-width="2.3" stroke-linecap="butt"/>
<rect x="697.7" y="682.1" width="28" height="11.0" fill="none" stroke="#14b814" stroke-width="2.3"/>
<line x1="697.7" y1="688.1" x2="725.7" y2="688.1" stroke="#14b814" stroke-width="2.3" stroke-linecap="butt"/>
<text x="666.0" y="647.0" font-size="11" text-anchor="middle" >##</text>
<text x="711.7" y="679.7" font-size="17" text-anchor="middle" >*</text>
<text x="0" y="0" font-size="12.1" text-anchor="middle" transform="translate(554.0,668.9) rotate(-90)" dominant-baseline="central">staining area(%)</text>
<text x="544.0" y="603.0" font-size="17" font-family="Liberation Serif" font-weight="bold">j</text>
<line x1="82.3" y1="802.3" x2="82.3" y2="954.6" stroke="#1a1a1a" stroke-width="1.8" stroke-linecap="butt"/>
<line x1="81.4" y1="953.7" x2="232.6" y2="953.7" stroke="#1a1a1a" stroke-width="1.8" stroke-linecap="butt"/>
<line x1="76.3" y1="953.7" x2="82.3" y2="953.7" stroke="#1a1a1a" stroke-width="1.8" stroke-linecap="butt"/>
<text x="74.8" y="957.7" font-size="12" text-anchor="end" >0</text>
<line x1="76.3" y1="916.0" x2="82.3" y2="916.0" stroke="#1a1a1a" stroke-width="1.8" stroke-linecap="butt"/>
<text x="74.8" y="920.0" font-size="12" text-anchor="end" >5</text>
<line x1="76.3" y1="878.3" x2="82.3" y2="878.3" stroke="#1a1a1a" stroke-width="1.8" stroke-linecap="butt"/>
<text x="74.8" y="882.3" font-size="12" text-anchor="end" >10</text>
<line x1="76.3" y1="840.6" x2="82.3" y2="840.6" stroke="#1a1a1a" stroke-width="1.8" stroke-linecap="butt"/>
<text x="74.8" y="844.6" font-size="12" text-anchor="end" >15</text>
<line x1="76.3" y1="802.9" x2="82.3" y2="802.9" stroke="#1a1a1a" stroke-width="1.8" stroke-linecap="butt"/>
<text x="74.8" y="806.9" font-size="12" text-anchor="end" >20</text>
<line x1="112.4" y1="953.7" x2="112.4" y2="959.7" stroke="#1a1a1a" stroke-width="1.8" stroke-linecap="butt"/>
<text x="112.4" y="972.0" font-size="12" text-anchor="middle" >NC</text>
<line x1="157.5" y1="953.7" x2="157.5" y2="959.7" stroke="#1a1a1a" stroke-width="1.8" stroke-linecap="butt"/>
<text x="157.5" y="972.0" font-size="12" text-anchor="middle" >HD</text>
<line x1="203.2" y1="953.7" x2="203.2" y2="959.7" stroke="#1a1a1a" stroke-width="1.8" stroke-linecap="butt"/>
<text x="203.2" y="972.0" font-size="12" text-anchor="middle" >LG</text>
<line x1="112.4" y1="914.0" x2="112.4" y2="915.7" stroke="#1a1ae0" stroke-width="2.3" stroke-linecap="butt"/>
<line x1="112.4" y1="925.3" x2="112.4" y2="930.1" stroke="#1a1ae0" stroke-width="2.3" stroke-linecap="butt"/>
<line x1="104.2" y1="914.0" x2="120.7" y2="914.0" stroke="#1a1ae0" stroke-width="2.3" stroke-linecap="butt"/>
<line x1="104.2" y1="930.1" x2="120.7" y2="930.1" stroke="#1a1ae0" stroke-width="2.3" stroke-linecap="butt"/>
<rect x="98.4" y="915.7" width="28" height="9.7" fill="none" stroke="#1a1ae0" stroke-width="2.3"/>
<line x1="98.4" y1="922.8" x2="126.4" y2="922.8" stroke="#1a1ae0" stroke-width="2.3" stroke-linecap="butt"/>
<line x1="157.5" y1="838.3" x2="157.5" y2="859.8" stroke="#e8262a" stroke-width="2.3" stroke-linecap="butt"/>
<line x1="157.5" y1="893.8" x2="157.5" y2="895.3" stroke="#e8262a" stroke-width="2.3" stroke-linecap="butt"/>
<line x1="149.2" y1="838.3" x2="165.8" y2="838.3" stroke="#e8262a" stroke-width="2.3" stroke-linecap="butt"/>
<line x1="149.2" y1="895.3" x2="165.8" y2="895.3" stroke="#e8262a" stroke-width="2.3" stroke-linecap="butt"/>
<rect x="143.5" y="859.8" width="28" height="33.9" fill="none" stroke="#e8262a" stroke-width="2.3"/>
<line x1="143.5" y1="890.5" x2="171.5" y2="890.5" stroke="#e8262a" stroke-width="2.3" stroke-linecap="butt"/>
<line x1="203.2" y1="873.8" x2="203.2" y2="879.8" stroke="#14b814" stroke-width="2.3" stroke-linecap="butt"/>
<line x1="203.2" y1="902.1" x2="203.2" y2="918.5" stroke="#14b814" stroke-width="2.3" stroke-linecap="butt"/>
<line x1="194.9" y1="873.8" x2="211.4" y2="873.8" stroke="#14b814" stroke-width="2.3" stroke-linecap="butt"/>
<line x1="194.9" y1="918.5" x2="211.4" y2="918.5" stroke="#14b814" stroke-width="2.3" stroke-linecap="butt"/>
<rect x="189.2" y="879.8" width="28" height="22.3" fill="none" stroke="#14b814" stroke-width="2.3"/>
<line x1="189.2" y1="887.3" x2="217.2" y2="887.3" stroke="#14b814" stroke-width="2.3" stroke-linecap="butt"/>
<text x="157.5" y="834.4" font-size="11" text-anchor="middle" >#</text>
<text x="0" y="0" font-size="12.1" text-anchor="middle" transform="translate(45.0,880.0) rotate(-90)" dominant-baseline="central">Fasting blood glucose(mmol/L)</text>
<text x="12.8" y="801.8" font-size="17" font-family="Liberation Serif" font-weight="bold">k</text>
<line x1="344.7" y1="802.3" x2="344.7" y2="954.6" stroke="#1a1a1a" stroke-width="1.8" stroke-linecap="butt"/>
<line x1="343.8" y1="953.7" x2="495.0" y2="953.7" stroke="#1a1a1a" stroke-width="1.8" stroke-linecap="butt"/>
<line x1="338.7" y1="953.7" x2="344.7" y2="953.7" stroke="#1a1a1a" stroke-width="1.8" stroke-linecap="butt"/>
<text x="337.2" y="957.7" font-size="12" text-anchor="end" >0</text>
<line x1="338.7" y1="916.0" x2="344.7" y2="916.0" stroke="#1a1a1a" stroke-width="1.8" stroke-linecap="butt"/>
<text x="337.2" y="920.0" font-size="12" text-anchor="end" >2</text>
<line x1="338.7" y1="878.3" x2="344.7" y2="878.3" stroke="#1a1a1a" stroke-width="1.8" stroke-linecap="butt"/>
<text x="337.2" y="882.3" font-size="12" text-anchor="end" >4</text>
<line x1="338.7" y1="840.6" x2="344.7" y2="840.6" stroke="#1a1a1a" stroke-width="1.8" stroke-linecap="butt"/>
<text x="337.2" y="844.6" font-size="12" text-anchor="end" >6</text>
<line x1="338.7" y1="802.9" x2="344.7" y2="802.9" stroke="#1a1a1a" stroke-width="1.8" stroke-linecap="butt"/>
<text x="337.2" y="806.9" font-size="12" text-anchor="end" >8</text>
<line x1="375.4" y1="953.7" x2="375.4" y2="959.7" stroke="#1a1a1a" stroke-width="1.8" stroke-linecap="butt"/>
<text x="375.4" y="972.0" font-size="12" text-anchor="middle" >NC</text>
<line x1="420.5" y1="953.7" x2="420.5" y2="959.7" stroke="#1a1a1a" stroke-width="1.8" stroke-linecap="butt"/>
<text x="420.5" y="972.0" font-size="12" text-anchor="middle" >HD</text>
<line x1="465.6" y1="953.7" x2="465.6" y2="959.7" stroke="#1a1a1a" stroke-width="1.8" stroke-linecap="butt"/>
<text x="465.6" y="972.0" font-size="12" text-anchor="middle" >LG</text>
<line x1="375.4" y1="924.3" x2="375.4" y2="935.0" stroke="#1a1ae0" stroke-width="2.3" stroke-linecap="butt"/>
<line x1="375.4" y1="938.8" x2="375.4" y2="940.3" stroke="#1a1ae0" stroke-width="2.3" stroke-linecap="butt"/>
<line x1="367.1" y1="924.3" x2="383.6" y2="924.3" stroke="#1a1ae0" stroke-width="2.3" stroke-linecap="butt"/>
<line x1="367.1" y1="940.3" x2="383.6" y2="940.3" stroke="#1a1ae0" stroke-width="2.3" stroke-linecap="butt"/>
<rect x="361.4" y="935.0" width="28" height="3.8" fill="none" stroke="#1a1ae0" stroke-width="2.3"/>
<line x1="361.4" y1="936.7" x2="389.4" y2="936.7" stroke="#1a1ae0" stroke-width="2.3" stroke-linecap="butt"/>
<line x1="420.5" y1="831.9" x2="420.5" y2="851.9" stroke="#e8262a" stroke-width="2.3" stroke-linecap="butt"/>
<line x1="420.5" y1="900.7" x2="420.5" y2="910.7" stroke="#e8262a" stroke-width="2.3" stroke-linecap="butt"/>
<line x1="412.2" y1="831.9" x2="428.8" y2="831.9" stroke="#e8262a" stroke-width="2.3" stroke-linecap="butt"/>
<line x1="412.2" y1="910.7" x2="428.8" y2="910.7" stroke="#e8262a" stroke-width="2.3" stroke-linecap="butt"/>
<rect x="406.5" y="851.9" width="28" height="48.8" fill="none" stroke="#e8262a" stroke-width="2.3"/>
<line x1="406.5" y1="889.6" x2="434.5" y2="889.6" stroke="#e8262a" stroke-width="2.3" stroke-linecap="butt"/>
<line x1="465.6" y1="892.1" x2="465.6" y2="894.7" stroke="#14b814" stroke-width="2.3" stroke-linecap="butt"/>
<line x1="465.6" y1="924.3" x2="465.6" y2="934.5" stroke="#14b814" stroke-width="2.3" stroke-linecap="butt"/>
<line x1="457.4" y1="892.1" x2="473.9" y2="892.1" stroke="#14b814" stroke-width="2.3" stroke-linecap="butt"/>
<line x1="457.4" y1="934.5" x2="473.9" y2="934.5" stroke="#14b814" stroke-width="2.3" stroke-linecap="butt"/>
<rect x="451.6" y="894.7" width="28" height="29.6" fill="none" stroke="#14b814" stroke-width="2.3"/>
<line x1="451.6" y1="906.4" x2="479.6" y2="906.4" stroke="#14b814" stroke-width="2.3" stroke-linecap="butt"/>
<text x="420.5" y="827.3" font-size="11" text-anchor="middle" >##</text>
<text x="465.6" y="893.2" font-size="17" text-anchor="middle" >*</text>
<text x="0" y="0" font-size="12.1" text-anchor="middle" transform="translate(313.0,878.5) rotate(-90)" dominant-baseline="central">Fasting serum insulin(ng/ml)</text>
<text x="286.2" y="801.8" font-size="17" font-family="Liberation Serif" font-weight="bold">l</text>
<line x1="589.7" y1="802.3" x2="589.7" y2="953.7" stroke="#1a1a1a" stroke-width="1.8" stroke-linecap="butt"/>
<line x1="588.8" y1="952.8" x2="739.2" y2="952.8" stroke="#1a1a1a" stroke-width="1.8" stroke-linecap="butt"/>
<line x1="583.7" y1="952.8" x2="589.7" y2="952.8" stroke="#1a1a1a" stroke-width="1.8" stroke-linecap="butt"/>
<text x="582.2" y="956.8" font-size="12" text-anchor="end" >0.0</text>
<line x1="583.7" y1="915.3" x2="589.7" y2="915.3" stroke="#1a1a1a" stroke-width="1.8" stroke-linecap="butt"/>
<text x="582.2" y="919.3" font-size="12" text-anchor="end" >0.5</text>
<line x1="583.7" y1="877.8" x2="589.7" y2="877.8" stroke="#1a1a1a" stroke-width="1.8" stroke-linecap="butt"/>
<text x="582.2" y="881.8" font-size="12" text-anchor="end" >1.0</text>
<line x1="583.7" y1="840.4" x2="589.7" y2="840.4" stroke="#1a1a1a" stroke-width="1.8" stroke-linecap="butt"/>
<text x="582.2" y="844.4" font-size="12" text-anchor="end" >1.5</text>
<line x1="583.7" y1="802.9" x2="589.7" y2="802.9" stroke="#1a1a1a" stroke-width="1.8" stroke-linecap="butt"/>
<text x="582.2" y="806.9" font-size="12" text-anchor="end" >2.0</text>
<line x1="619.8" y1="952.8" x2="619.8" y2="958.8" stroke="#1a1a1a" stroke-width="1.8" stroke-linecap="butt"/>
<text x="619.8" y="971.1" font-size="12" text-anchor="middle" >NC</text>
<line x1="664.9" y1="952.8" x2="664.9" y2="958.8" stroke="#1a1a1a" stroke-width="1.8" stroke-linecap="butt"/>
<text x="664.9" y="971.1" font-size="12" text-anchor="middle" >HD</text>
<line x1="709.6" y1="952.8" x2="709.6" y2="958.8" stroke="#1a1a1a" stroke-width="1.8" stroke-linecap="butt"/>
<text x="709.6" y="971.1" font-size="12" text-anchor="middle" >LG</text>
<line x1="619.8" y1="931.7" x2="619.8" y2="933.5" stroke="#1a1ae0" stroke-width="2.3" stroke-linecap="butt"/>
<line x1="619.8" y1="941.4" x2="619.8" y2="943.6" stroke="#1a1ae0" stroke-width="2.3" stroke-linecap="butt"/>
<line x1="611.5" y1="931.7" x2="628.0" y2="931.7" stroke="#1a1ae0" stroke-width="2.3" stroke-linecap="butt"/>
<line x1="611.5" y1="943.6" x2="628.0" y2="943.6" stroke="#1a1ae0" stroke-width="2.3" stroke-linecap="butt"/>
<rect x="605.8" y="933.5" width="28" height="7.9" fill="none" stroke="#1a1ae0" stroke-width="2.3"/>
<line x1="605.8" y1="937.7" x2="633.8" y2="937.7" stroke="#1a1ae0" stroke-width="2.3" stroke-linecap="butt"/>
<line x1="664.9" y1="810.4" x2="664.9" y2="814.1" stroke="#e8262a" stroke-width="2.3" stroke-linecap="butt"/>
<line x1="664.9" y1="861.4" x2="664.9" y2="862.9" stroke="#e8262a" stroke-width="2.3" stroke-linecap="butt"/>
<line x1="656.6" y1="810.4" x2="673.1" y2="810.4" stroke="#e8262a" stroke-width="2.3" stroke-linecap="butt"/>
<line x1="656.6" y1="862.9" x2="673.1" y2="862.9" stroke="#e8262a" stroke-width="2.3" stroke-linecap="butt"/>
<rect x="650.9" y="814.1" width="28" height="47.2" fill="none" stroke="#e8262a" stroke-width="2.3"/>
<line x1="650.9" y1="841.9" x2="678.9" y2="841.9" stroke="#e8262a" stroke-width="2.3" stroke-linecap="butt"/>
<line x1="709.6" y1="865.1" x2="709.6" y2="870.4" stroke="#14b814" stroke-width="2.3" stroke-linecap="butt"/>
<line x1="709.6" y1="929.6" x2="709.6" y2="937.1" stroke="#14b814" stroke-width="2.3" stroke-linecap="butt"/>
<line x1="701.4" y1="865.1" x2="717.9" y2="865.1" stroke="#14b814" stroke-width="2.3" stroke-linecap="butt"/>
<line x1="701.4" y1="937.1" x2="717.9" y2="937.1" stroke="#14b814" stroke-width="2.3" stroke-linecap="butt"/>
<rect x="695.6" y="870.4" width="28" height="59.2" fill="none" stroke="#14b814" stroke-width="2.3"/>
<line x1="695.6" y1="895.1" x2="723.6" y2="895.1" stroke="#14b814" stroke-width="2.3" stroke-linecap="butt"/>
<text x="664.9" y="806.9" font-size="11" text-anchor="middle" >#</text>
<text x="709.6" y="867.4" font-size="17" text-anchor="middle" >*</text>
<text x="0" y="0" font-size="12.1" text-anchor="middle" transform="translate(549.4,877.3) rotate(-90)" dominant-baseline="central">HOMA-IR</text>
<text x="533.0" y="801.3" font-size="17" font-family="Liberation Serif" font-weight="bold">m</text>
<line x1="80.3" y1="1012.7" x2="80.3" y2="1164.5" stroke="#1a1a1a" stroke-width="1.8" stroke-linecap="butt"/>
<line x1="79.4" y1="1163.6" x2="230.6" y2="1163.6" stroke="#1a1a1a" stroke-width="1.8" stroke-linecap="butt"/>
<line x1="74.3" y1="1163.6" x2="80.3" y2="1163.6" stroke="#1a1a1a" stroke-width="1.8" stroke-linecap="butt"/>
<text x="72.8" y="1167.6" font-size="12" text-anchor="end" >0</text>
<line x1="74.3" y1="1126.0" x2="80.3" y2="1126.0" stroke="#1a1a1a" stroke-width="1.8" stroke-linecap="butt"/>
<text x="72.8" y="1130.0" font-size="12" text-anchor="end" >100</text>
<line x1="74.3" y1="1088.4" x2="80.3" y2="1088.4" stroke="#1a1a1a" stroke-width="1.8" stroke-linecap="butt"/>
<text x="72.8" y="1092.4" font-size="12" text-anchor="end" >200</text>
<line x1="74.3" y1="1050.9" x2="80.3" y2="1050.9" stroke="#1a1a1a" stroke-width="1.8" stroke-linecap="butt"/>
<text x="72.8" y="1054.9" font-size="12" text-anchor="end" >300</text>
<line x1="74.3" y1="1013.3" x2="80.3" y2="1013.3" stroke="#1a1a1a" stroke-width="1.8" stroke-linecap="butt"/>
<text x="72.8" y="1017.3" font-size="12" text-anchor="end" >400</text>
<line x1="110.8" y1="1163.6" x2="110.8" y2="1169.6" stroke="#1a1a1a" stroke-width="1.8" stroke-linecap="butt"/>
<text x="110.8" y="1181.9" font-size="12" text-anchor="middle" >NC</text>
<line x1="155.9" y1="1163.6" x2="155.9" y2="1169.6" stroke="#1a1a1a" stroke-width="1.8" stroke-linecap="butt"/>
<text x="155.9" y="1181.9" font-size="12" text-anchor="middle" >HD</text>
<line x1="201.2" y1="1163.6" x2="201.2" y2="1169.6" stroke="#1a1a1a" stroke-width="1.8" stroke-linecap="butt"/>
<text x="201.2" y="1181.9" font-size="12" text-anchor="middle" >LG</text>
<line x1="110.8" y1="1135.0" x2="110.8" y2="1148.6" stroke="#1a1ae0" stroke-width="2.3" stroke-linecap="butt"/>
<line x1="110.8" y1="1149.7" x2="110.8" y2="1153.5" stroke="#1a1ae0" stroke-width="2.3" stroke-linecap="butt"/>
<line x1="102.5" y1="1135.0" x2="119.0" y2="1135.0" stroke="#1a1ae0" stroke-width="2.3" stroke-linecap="butt"/>
<line x1="102.5" y1="1153.5" x2="119.0" y2="1153.5" stroke="#1a1ae0" stroke-width="2.3" stroke-linecap="butt"/>
<rect x="96.8" y="1148.6" width="28" height="1.1" fill="none" stroke="#1a1ae0" stroke-width="2.3"/>
<line x1="96.8" y1="1148.6" x2="124.8" y2="1148.6" stroke="#1a1ae0" stroke-width="2.3" stroke-linecap="butt"/>
<line x1="155.9" y1="1041.1" x2="155.9" y2="1042.6" stroke="#e8262a" stroke-width="2.3" stroke-linecap="butt"/>
<line x1="155.9" y1="1089.6" x2="155.9" y2="1091.1" stroke="#e8262a" stroke-width="2.3" stroke-linecap="butt"/>
<line x1="147.7" y1="1041.1" x2="164.2" y2="1041.1" stroke="#e8262a" stroke-width="2.3" stroke-linecap="butt"/>
<line x1="147.7" y1="1091.1" x2="164.2" y2="1091.1" stroke="#e8262a" stroke-width="2.3" stroke-linecap="butt"/>
<rect x="141.9" y="1042.6" width="28" height="47.0" fill="none" stroke="#e8262a" stroke-width="2.3"/>
<line x1="141.9" y1="1056.5" x2="169.9" y2="1056.5" stroke="#e8262a" stroke-width="2.3" stroke-linecap="butt"/>
<line x1="201.2" y1="1089.6" x2="201.2" y2="1090.3" stroke="#14b814" stroke-width="2.3" stroke-linecap="butt"/>
<line x1="201.2" y1="1120.8" x2="201.2" y2="1149.7" stroke="#14b814" stroke-width="2.3" stroke-linecap="butt"/>
<line x1="192.9" y1="1089.6" x2="209.4" y2="1089.6" stroke="#14b814" stroke-width="2.3" stroke-linecap="butt"/>
<line x1="192.9" y1="1149.7" x2="209.4" y2="1149.7" stroke="#14b814" stroke-width="2.3" stroke-linecap="butt"/>
<rect x="187.2" y="1090.3" width="28" height="30.4" fill="none" stroke="#14b814" stroke-width="2.3"/>
<line x1="187.2" y1="1094.1" x2="215.2" y2="1094.1" stroke="#14b814" stroke-width="2.3" stroke-linecap="butt"/>
<text x="155.9" y="1034.4" font-size="11" text-anchor="middle" >##</text>
<text x="201.2" y="1089.7" font-size="17" text-anchor="middle" >*</text>
<text x="0" y="0" font-size="12.1" text-anchor="middle" transform="translate(37.0,1087.9) rotate(-90)" dominant-baseline="central">Serum ALT(IU/L)</text>
<text x="16.0" y="996.9" font-size="17" font-family="Liberation Serif" font-weight="bold">n</text>
<line x1="343.9" y1="1012.0" x2="343.9" y2="1164.1" stroke="#1a1a1a" stroke-width="1.8" stroke-linecap="butt"/>
<line x1="343.0" y1="1163.2" x2="494.6" y2="1163.2" stroke="#1a1a1a" stroke-width="1.8" stroke-linecap="butt"/>
<line x1="337.9" y1="1163.2" x2="343.9" y2="1163.2" stroke="#1a1a1a" stroke-width="1.8" stroke-linecap="butt"/>
<text x="336.4" y="1167.2" font-size="12" text-anchor="end" >0</text>
<line x1="337.9" y1="1133.1" x2="343.9" y2="1133.1" stroke="#1a1a1a" stroke-width="1.8" stroke-linecap="butt"/>
<text x="336.4" y="1137.1" font-size="12" text-anchor="end" >100</text>
<line x1="337.9" y1="1103.0" x2="343.9" y2="1103.0" stroke="#1a1a1a" stroke-width="1.8" stroke-linecap="butt"/>
<text x="336.4" y="1107.0" font-size="12" text-anchor="end" >200</text>
<line x1="337.9" y1="1072.8" x2="343.9" y2="1072.8" stroke="#1a1a1a" stroke-width="1.8" stroke-linecap="butt"/>
<text x="336.4" y="1076.8" font-size="12" text-anchor="end" >300</text>
<line x1="337.9" y1="1042.7" x2="343.9" y2="1042.7" stroke="#1a1a1a" stroke-width="1.8" stroke-linecap="butt"/>
<text x="336.4" y="1046.7" font-size="12" text-anchor="end" >400</text>
<line x1="337.9" y1="1012.6" x2="343.9" y2="1012.6" stroke="#1a1a1a" stroke-width="1.8" stroke-linecap="butt"/>
<text x="336.4" y="1016.6" font-size="12" text-anchor="end" >500</text>
<line x1="373.7" y1="1163.2" x2="373.7" y2="1169.2" stroke="#1a1a1a" stroke-width="1.8" stroke-linecap="butt"/>
<text x="373.7" y="1181.5" font-size="12" text-anchor="middle" >NC</text>
<line x1="419.0" y1="1163.2" x2="419.0" y2="1169.2" stroke="#1a1a1a" stroke-width="1.8" stroke-linecap="butt"/>
<text x="419.0" y="1181.5" font-size="12" text-anchor="middle" >HD</text>
<line x1="464.6" y1="1163.2" x2="464.6" y2="1169.2" stroke="#1a1a1a" stroke-width="1.8" stroke-linecap="butt"/>
<text x="464.6" y="1181.5" font-size="12" text-anchor="middle" >LG</text>
<line x1="373.7" y1="1087.3" x2="373.7" y2="1101.5" stroke="#1a1ae0" stroke-width="2.3" stroke-linecap="butt"/>
<line x1="373.7" y1="1126.8" x2="373.7" y2="1137.0" stroke="#1a1ae0" stroke-width="2.3" stroke-linecap="butt"/>
<line x1="365.4" y1="1087.3" x2="381.9" y2="1087.3" stroke="#1a1ae0" stroke-width="2.3" stroke-linecap="butt"/>
<line x1="365.4" y1="1137.0" x2="381.9" y2="1137.0" stroke="#1a1ae0" stroke-width="2.3" stroke-linecap="butt"/>
<rect x="359.7" y="1101.5" width="28" height="25.3" fill="none" stroke="#1a1ae0" stroke-width="2.3"/>
<line x1="359.7" y1="1119.2" x2="387.7" y2="1119.2" stroke="#1a1ae0" stroke-width="2.3" stroke-linecap="butt"/>
<line x1="419.0" y1="1035.2" x2="419.0" y2="1062.6" stroke="#e8262a" stroke-width="2.3" stroke-linecap="butt"/>
<line x1="419.0" y1="1103.0" x2="419.0" y2="1116.8" stroke="#e8262a" stroke-width="2.3" stroke-linecap="butt"/>
<line x1="410.8" y1="1035.2" x2="427.2" y2="1035.2" stroke="#e8262a" stroke-width="2.3" stroke-linecap="butt"/>
<line x1="410.8" y1="1116.8" x2="427.2" y2="1116.8" stroke="#e8262a" stroke-width="2.3" stroke-linecap="butt"/>
<rect x="405.0" y="1062.6" width="28" height="40.4" fill="none" stroke="#e8262a" stroke-width="2.3"/>
<line x1="405.0" y1="1095.4" x2="433.0" y2="1095.4" stroke="#e8262a" stroke-width="2.3" stroke-linecap="butt"/>
<line x1="464.6" y1="1092.1" x2="464.6" y2="1096.0" stroke="#14b814" stroke-width="2.3" stroke-linecap="butt"/>
<line x1="464.6" y1="1108.1" x2="464.6" y2="1124.6" stroke="#14b814" stroke-width="2.3" stroke-linecap="butt"/>
<line x1="456.4" y1="1092.1" x2="472.9" y2="1092.1" stroke="#14b814" stroke-width="2.3" stroke-linecap="butt"/>
<line x1="456.4" y1="1124.6" x2="472.9" y2="1124.6" stroke="#14b814" stroke-width="2.3" stroke-linecap="butt"/>
<rect x="450.6" y="1096.0" width="28" height="12.0" fill="none" stroke="#14b814" stroke-width="2.3"/>
<line x1="450.6" y1="1099.9" x2="478.6" y2="1099.9" stroke="#14b814" stroke-width="2.3" stroke-linecap="butt"/>
<text x="419.0" y="1031.2" font-size="11" text-anchor="middle" >#</text>
<text x="0" y="0" font-size="12.1" text-anchor="middle" transform="translate(298.0,1087.5) rotate(-90)" dominant-baseline="central">Serum AST(IU/L)</text>
<text x="287.6" y="996.9" font-size="17" font-family="Liberation Serif" font-weight="bold">o</text>
<line x1="589.3" y1="1010.5" x2="589.3" y2="1162.4" stroke="#1a1a1a" stroke-width="1.8" stroke-linecap="butt"/>
<line x1="588.4" y1="1161.5" x2="739.2" y2="1161.5" stroke="#1a1a1a" stroke-width="1.8" stroke-linecap="butt"/>
<line x1="583.3" y1="1161.5" x2="589.3" y2="1161.5" stroke="#1a1a1a" stroke-width="1.8" stroke-linecap="butt"/>
<text x="581.8" y="1165.5" font-size="12" text-anchor="end" >0.10</text>
<line x1="583.3" y1="1131.4" x2="589.3" y2="1131.4" stroke="#1a1a1a" stroke-width="1.8" stroke-linecap="butt"/>
<text x="581.8" y="1135.4" font-size="12" text-anchor="end" >0.12</text>
<line x1="583.3" y1="1101.3" x2="589.3" y2="1101.3" stroke="#1a1a1a" stroke-width="1.8" stroke-linecap="butt"/>
<text x="581.8" y="1105.3" font-size="12" text-anchor="end" >0.14</text>
<line x1="583.3" y1="1071.3" x2="589.3" y2="1071.3" stroke="#1a1a1a" stroke-width="1.8" stroke-linecap="butt"/>
<text x="581.8" y="1075.3" font-size="12" text-anchor="end" >0.16</text>
<line x1="583.3" y1="1041.2" x2="589.3" y2="1041.2" stroke="#1a1a1a" stroke-width="1.8" stroke-linecap="butt"/>
<text x="581.8" y="1045.2" font-size="12" text-anchor="end" >0.18</text>
<line x1="583.3" y1="1011.1" x2="589.3" y2="1011.1" stroke="#1a1a1a" stroke-width="1.8" stroke-linecap="butt"/>
<text x="581.8" y="1015.1" font-size="12" text-anchor="end" >0.20</text>
<line x1="619.4" y1="1161.5" x2="619.4" y2="1167.5" stroke="#1a1a1a" stroke-width="1.8" stroke-linecap="butt"/>
<text x="619.4" y="1179.8" font-size="12" text-anchor="middle" >NC</text>
<line x1="664.5" y1="1161.5" x2="664.5" y2="1167.5" stroke="#1a1a1a" stroke-width="1.8" stroke-linecap="butt"/>
<text x="664.5" y="1179.8" font-size="12" text-anchor="middle" >HD</text>
<line x1="709.6" y1="1161.5" x2="709.6" y2="1167.5" stroke="#1a1a1a" stroke-width="1.8" stroke-linecap="butt"/>
<text x="709.6" y="1179.8" font-size="12" text-anchor="middle" >LG</text>
<line x1="619.4" y1="1113.2" x2="619.4" y2="1117.4" stroke="#1a1ae0" stroke-width="2.3" stroke-linecap="butt"/>
<line x1="619.4" y1="1129.8" x2="619.4" y2="1132.5" stroke="#1a1ae0" stroke-width="2.3" stroke-linecap="butt"/>
<line x1="611.1" y1="1113.2" x2="627.6" y2="1113.2" stroke="#1a1ae0" stroke-width="2.3" stroke-linecap="butt"/>
<line x1="611.1" y1="1132.5" x2="627.6" y2="1132.5" stroke="#1a1ae0" stroke-width="2.3" stroke-linecap="butt"/>
<rect x="605.4" y="1117.4" width="28" height="12.3" fill="none" stroke="#1a1ae0" stroke-width="2.3"/>
<line x1="605.4" y1="1119.5" x2="633.4" y2="1119.5" stroke="#1a1ae0" stroke-width="2.3" stroke-linecap="butt"/>
<line x1="664.5" y1="1039.1" x2="664.5" y2="1072.3" stroke="#e8262a" stroke-width="2.3" stroke-linecap="butt"/>
<line x1="664.5" y1="1116.8" x2="664.5" y2="1119.5" stroke="#e8262a" stroke-width="2.3" stroke-linecap="butt"/>
<line x1="656.2" y1="1039.1" x2="672.8" y2="1039.1" stroke="#e8262a" stroke-width="2.3" stroke-linecap="butt"/>
<line x1="656.2" y1="1119.5" x2="672.8" y2="1119.5" stroke="#e8262a" stroke-width="2.3" stroke-linecap="butt"/>
<rect x="650.5" y="1072.3" width="28" height="44.5" fill="none" stroke="#e8262a" stroke-width="2.3"/>
<line x1="650.5" y1="1108.9" x2="678.5" y2="1108.9" stroke="#e8262a" stroke-width="2.3" stroke-linecap="butt"/>
<line x1="709.6" y1="1101.9" x2="709.6" y2="1114.9" stroke="#14b814" stroke-width="2.3" stroke-linecap="butt"/>
<line x1="709.6" y1="1129.3" x2="709.6" y2="1131.4" stroke="#14b814" stroke-width="2.3" stroke-linecap="butt"/>
<line x1="701.4" y1="1101.9" x2="717.9" y2="1101.9" stroke="#14b814" stroke-width="2.3" stroke-linecap="butt"/>
<line x1="701.4" y1="1131.4" x2="717.9" y2="1131.4" stroke="#14b814" stroke-width="2.3" stroke-linecap="butt"/>
<rect x="695.6" y="1114.9" width="28" height="14.4" fill="none" stroke="#14b814" stroke-width="2.3"/>
<line x1="695.6" y1="1123.4" x2="723.6" y2="1123.4" stroke="#14b814" stroke-width="2.3" stroke-linecap="butt"/>
<text x="664.5" y="1033.4" font-size="11" text-anchor="middle" >#</text>
<text x="709.6" y="1104.2" font-size="17" text-anchor="middle" >*</text>
<text x="0" y="0" font-size="12.1" text-anchor="middle" transform="translate(546.0,1085.0) rotate(-90)" dominant-baseline="central">Hepatic MDA(nmol/mgprot)</text>
<text x="535.5" y="996.0" font-size="17" font-family="Liberation Serif" font-weight="bold">p</text>
<text x="13.0" y="416.0" font-size="17" font-family="Liberation Serif" font-weight="bold">g</text>
<text x="16.8" y="606.6" font-size="17" font-family="Liberation Serif" font-weight="bold">i</text>
<text x="122.6" y="576.3" font-size="14" text-anchor="middle" >NC</text>
<text x="262.4" y="576.1" font-size="14" text-anchor="middle" >HD</text>
<text x="413.2" y="579.6" font-size="14" text-anchor="middle" >LG</text>
<text x="123.2" y="765.3" font-size="14" text-anchor="middle" >NC</text>
<text x="262.5" y="765.3" font-size="14" text-anchor="middle" >HD</text>
<text x="409.5" y="765.3" font-size="14" text-anchor="middle" >LG</text>
</g></svg></body></html>
